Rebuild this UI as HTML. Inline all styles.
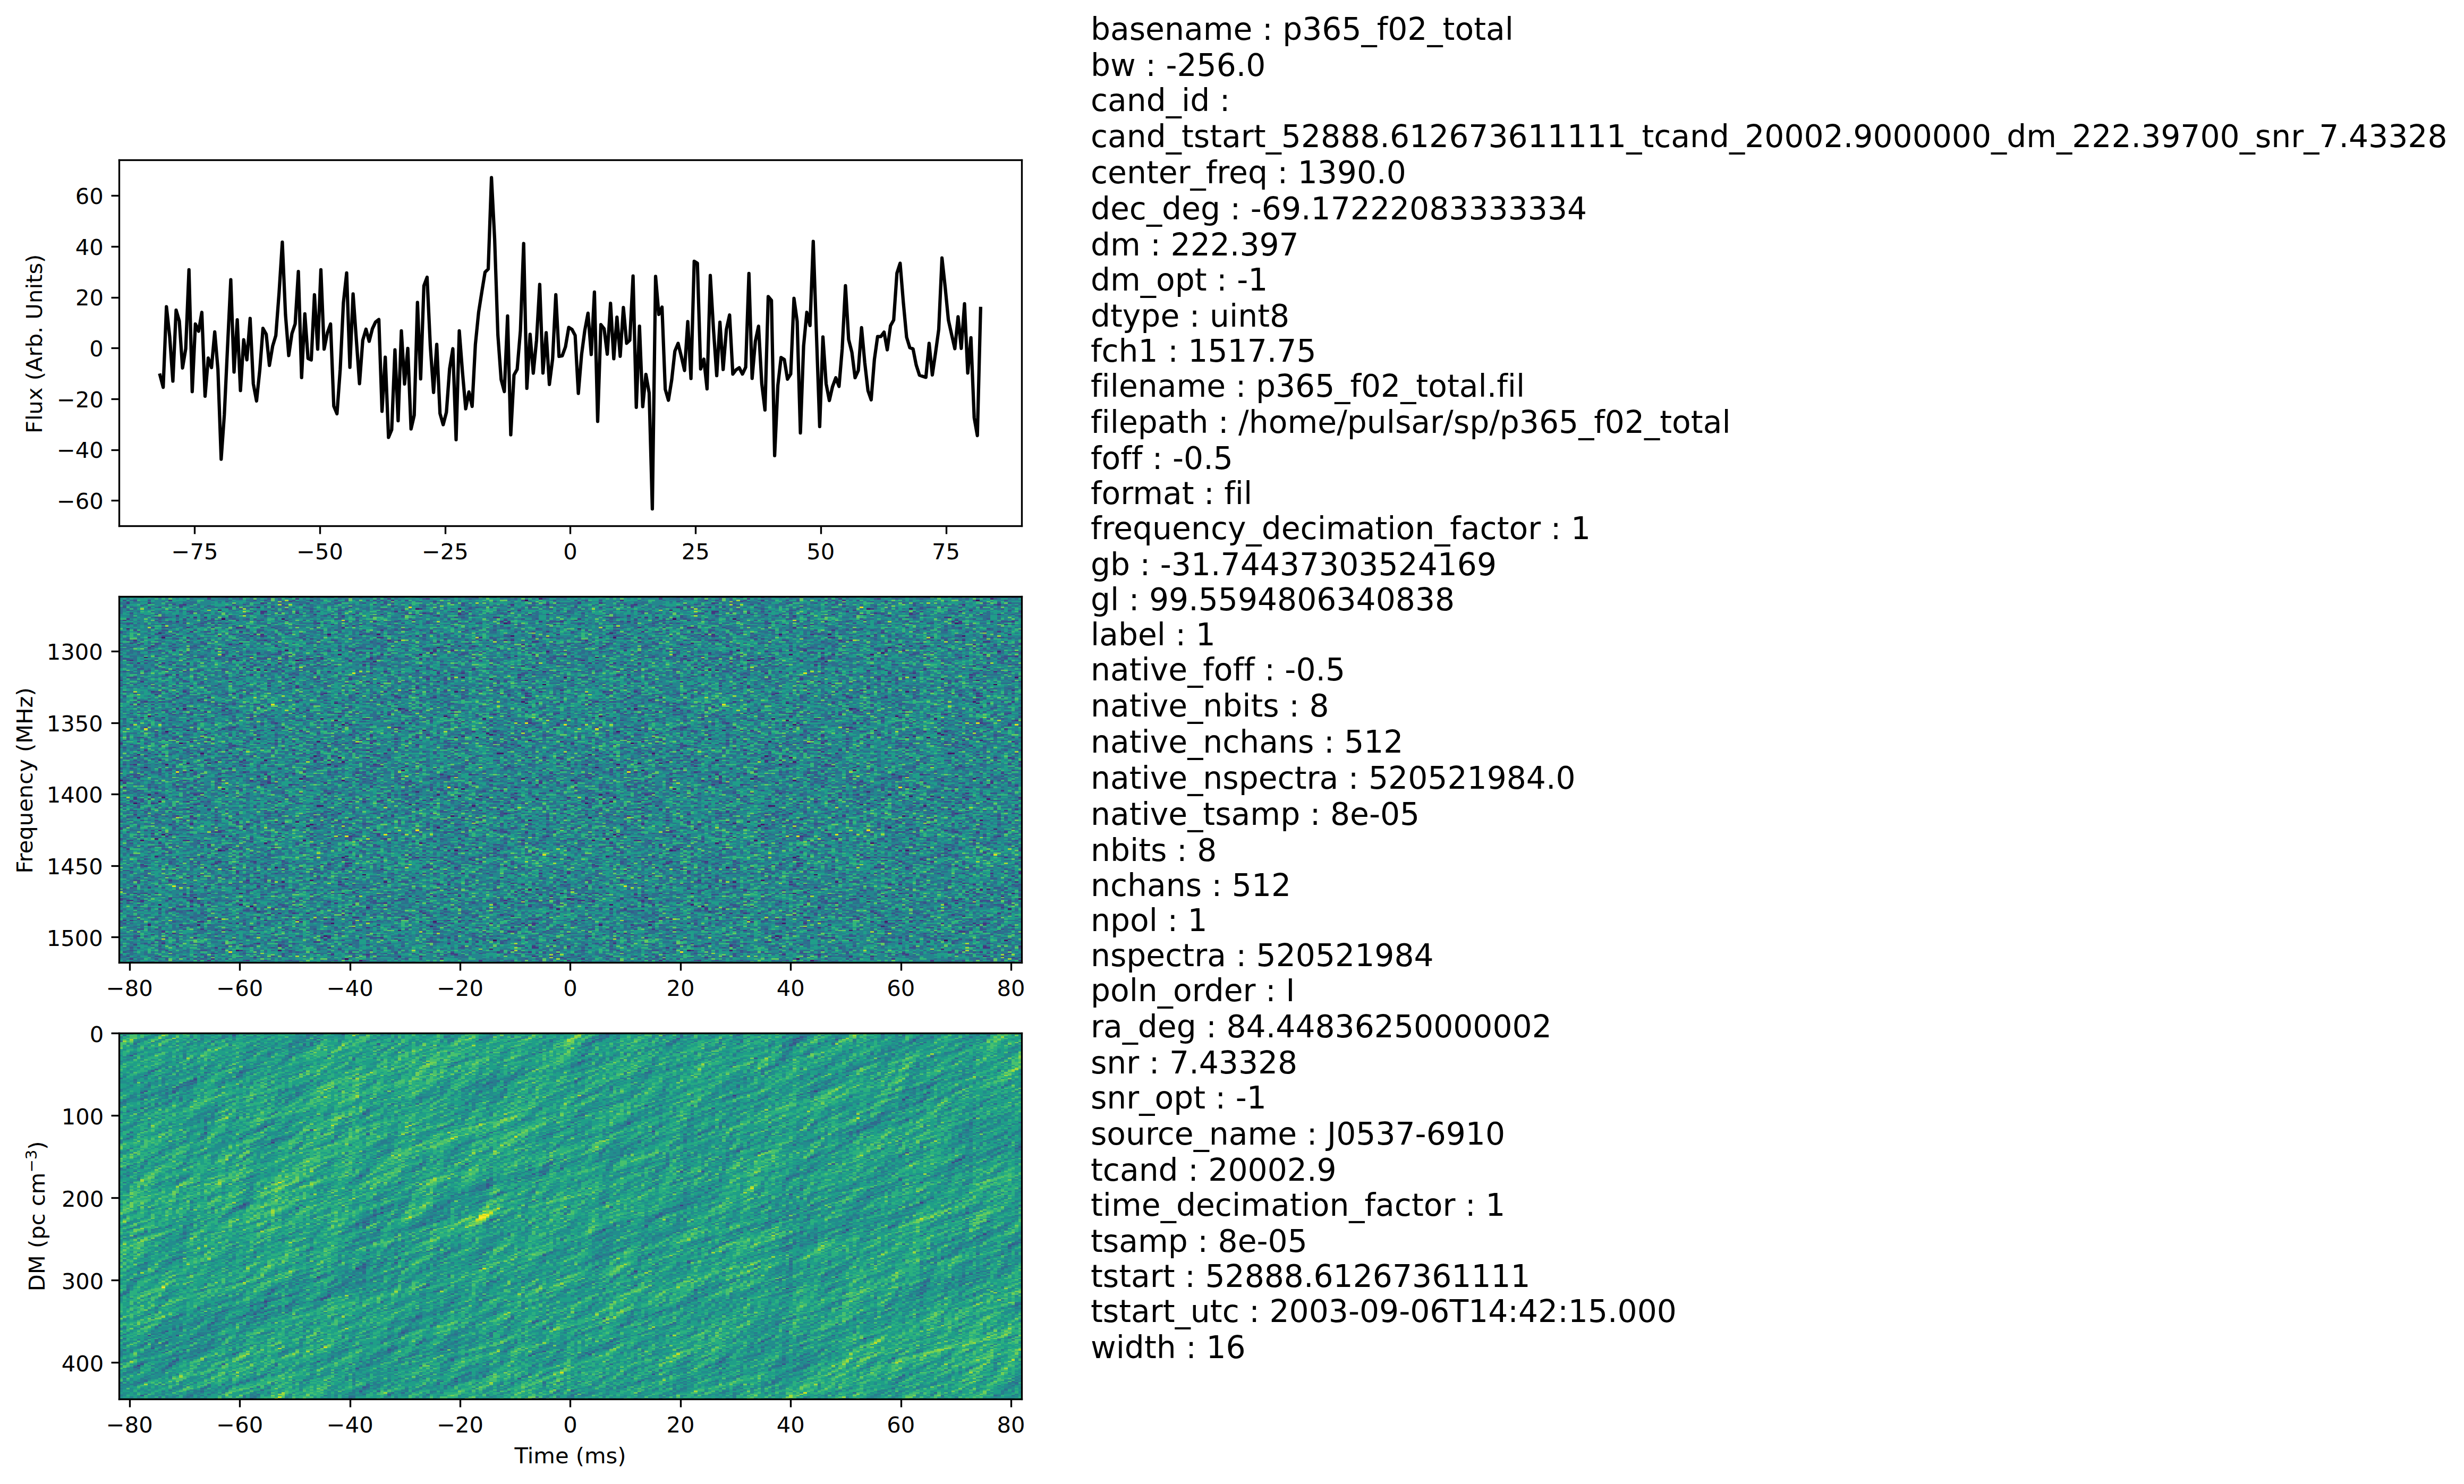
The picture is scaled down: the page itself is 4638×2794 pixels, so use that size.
<!DOCTYPE html>
<html lang="en"><head><meta charset="utf-8"><title>p365_f02_total candidate</title>
<style>
html,body{margin:0;padding:0;background:#fff}
body{width:4638px;height:2794px;overflow:hidden}
svg{display:block;position:absolute;left:0;top:0}
text{font-family:"DejaVu Sans","Liberation Sans",sans-serif;fill:#000;white-space:pre;font-variant-ligatures:none;font-feature-settings:"liga" 0,"clig" 0}
.t10{font-size:41.6667px}
.t14{font-size:58.3333px}
.t7{font-size:29.1667px}
</style></head><body>
<svg width="4638" height="2794" viewBox="0 0 4638 2794">
<rect width="4638" height="2794" fill="#fff"/>
<g id="freq-time"><clipPath id="fttclip"><rect x="0" y="0" width="256" height="256"/></clipPath><g fill="none" stroke-width="1" shape-rendering="crispEdges" transform="translate(224.5,1123.5) scale(6.636719,2.691406)" clip-path="url(#fttclip)">
<g id="ftt">
<rect x="0" y="0" width="128" height="128" fill="#24868e"/>
<path stroke="#1f9e89" d="M2 0.5h3m2 0h3m14 0h1m1 0h1m1 0h1m4 0h1m1 0h2m2 0h1m5 0h2m2 0h2m1 0h2m1 0h1m5 0h1m2 0h1m1 0h1m6 0h2m1 0h1m4 0h3m2 0h3m1 0h1m1 0h1m2 0h1m1 0h1m1 0h1m2 0h3m2 0h1m3 0h3m3 0h1M1 1.5h1m1 0h1m1 0h3m2 0h1m1 0h1m1 0h2m1 0h1m1 0h1m11 0h1m3 0h1m2 0h1m1 0h1m2 0h1m2 0h1m1 0h2m1 0h1m1 0h1m3 0h2m1 0h1m4 0h1m6 0h1m1 0h1m2 0h1m3 0h1m2 0h1m4 0h1m5 0h1m8 0h4m6 0h1m1 0h1m1 0h1m3 0h2m3 0h1M0 2.5h1m1 0h1m2 0h3m1 0h1m5 0h4m3 0h2m8 0h1m2 0h1m7 0h1m3 0h1m2 0h1m4 0h1m2 0h2m2 0h2m1 0h2m1 0h2m1 0h1m4 0h1m1 0h1m1 0h1m1 0h1m2 0h1m4 0h4m1 0h1m1 0h2m2 0h5m1 0h3m3 0h1m3 0h4M3 3.5h1m5 0h1m3 0h1m1 0h1m6 0h1m3 0h2m1 0h1m3 0h3m4 0h1m4 0h1m7 0h1m4 0h2m5 0h3m1 0h1m2 0h1m1 0h1m2 0h1m1 0h2m2 0h1m13 0h1m4 0h1m2 0h1m2 0h1m1 0h1m1 0h2m1 0h1m2 0h1m1 0h1m1 0h1m2 0h3M6 4.5h2m4 0h1m4 0h1m4 0h1m4 0h1m1 0h2m1 0h1m1 0h1m2 0h3m2 0h1m5 0h1m5 0h1m2 0h2m4 0h3m1 0h1m3 0h2m1 0h1m3 0h1m3 0h4m2 0h1m1 0h1m2 0h1m2 0h1m2 0h1m1 0h1m1 0h1m1 0h5m4 0h3m2 0h2m1 0h2M3 5.5h3m2 0h2m2 0h1m1 0h1m6 0h1m4 0h6m5 0h1m3 0h1m2 0h2m2 0h1m3 0h1m9 0h1m4 0h1m1 0h1m1 0h1m4 0h1m1 0h1m1 0h2m1 0h2m2 0h1m1 0h1m3 0h3m4 0h1m1 0h1m2 0h1m1 0h1m1 0h1m2 0h1m1 0h1m3 0h2m4 0h1m1 0h1M0 6.5h1m1 0h1m1 0h2m1 0h2m1 0h1m4 0h1m4 0h1m2 0h1m3 0h3m5 0h2m1 0h1m1 0h1m1 0h1m5 0h2m1 0h3m2 0h1m2 0h1m1 0h2m1 0h2m5 0h2m2 0h1m5 0h1m2 0h1m6 0h3m1 0h1m4 0h1m2 0h2m5 0h1m1 0h3m12 0h1M2 7.5h1m3 0h2m1 0h1m2 0h3m1 0h1m1 0h2m3 0h1m8 0h1m1 0h1m5 0h1m1 0h1m4 0h1m2 0h2m3 0h2m2 0h1m3 0h1m7 0h1m2 0h2m2 0h1m2 0h3m3 0h3m1 0h1m1 0h3m1 0h1m6 0h1m1 0h2m5 0h1m1 0h1m1 0h2m1 0h1m1 0h2m1 0h2M3 8.5h1m1 0h2m3 0h2m1 0h3m1 0h2m1 0h1m1 0h1m1 0h1m1 0h2m1 0h2m1 0h1m2 0h1m1 0h2m1 0h1m2 0h1m1 0h1m3 0h1m1 0h1m4 0h2m1 0h3m3 0h1m1 0h1m3 0h1m5 0h1m3 0h1m1 0h1m4 0h1m2 0h1m1 0h1m7 0h2m1 0h3m4 0h1m3 0h1m3 0h1m3 0h1m2 0h2M6 9.5h1m1 0h2m3 0h1m2 0h1m4 0h1m1 0h3m3 0h2m3 0h3m8 0h1m3 0h1m3 0h1m1 0h1m2 0h2m1 0h1m3 0h2m2 0h1m2 0h2m7 0h8m3 0h3m1 0h2m1 0h1m2 0h5m3 0h1m3 0h5m1 0h1m2 0h1m2 0h1M2 10.5h1m3 0h3m3 0h3m1 0h1m1 0h1m5 0h1m1 0h1m1 0h1m1 0h1m2 0h5m1 0h1m2 0h1m6 0h1m1 0h1m5 0h1m1 0h2m3 0h3m2 0h1m1 0h2m2 0h1m3 0h1m2 0h1m1 0h2m2 0h1m1 0h1m1 0h1m3 0h1m1 0h1m2 0h1m1 0h3m3 0h1m2 0h1m3 0h2m1 0h3m1 0h1m1 0h2M1 11.5h1m2 0h1m1 0h4m3 0h1m1 0h2m1 0h1m2 0h1m4 0h1m2 0h1m1 0h1m2 0h1m3 0h2m4 0h1m1 0h2m1 0h1m2 0h1m3 0h3m2 0h1m2 0h1m1 0h1m1 0h1m1 0h1m5 0h2m4 0h1m1 0h1m5 0h1m3 0h1m4 0h1m3 0h1m1 0h1m5 0h1m2 0h1m1 0h1m3 0h1m1 0h1M1 12.5h2m4 0h2m2 0h1m3 0h1m2 0h1m2 0h2m1 0h3m2 0h1m1 0h3m5 0h1m1 0h2m1 0h3m3 0h1m6 0h1m2 0h2m1 0h2m2 0h6m4 0h1m2 0h1m4 0h1m5 0h1m7 0h1m2 0h1m10 0h1m1 0h1m7 0h1m3 0h1M4 13.5h1m4 0h3m7 0h4m1 0h2m2 0h3m3 0h2m1 0h2m5 0h1m3 0h1m3 0h2m2 0h1m8 0h1m1 0h1m1 0h2m5 0h1m4 0h3m3 0h1m5 0h3m11 0h2m1 0h2m1 0h1m5 0h2m4 0h1M0 14.5h2m3 0h1m2 0h1m9 0h1m1 0h1m1 0h1m2 0h1m2 0h1m1 0h1m6 0h2m3 0h1m2 0h1m2 0h1m10 0h1m1 0h1m3 0h1m4 0h1m1 0h3m1 0h1m4 0h3m1 0h1m3 0h1m9 0h4m6 0h1m2 0h3m4 0h2m1 0h1m1 0h1m1 0h1M0 15.5h2m2 0h1m2 0h1m1 0h1m3 0h3m1 0h1m1 0h1m2 0h1m2 0h1m1 0h1m9 0h1m4 0h2m1 0h1m4 0h2m2 0h1m1 0h1m3 0h1m3 0h3m2 0h7m3 0h3m5 0h1m2 0h1m1 0h1m1 0h3m2 0h1m3 0h1m3 0h2m6 0h2m2 0h2m1 0h1m2 0h1m1 0h1M4 16.5h1m2 0h1m1 0h1m3 0h1m1 0h1m5 0h2m1 0h1m6 0h2m9 0h2m2 0h1m3 0h2m1 0h1m4 0h3m1 0h2m1 0h2m1 0h1m4 0h1m1 0h2m5 0h1m2 0h1m6 0h1m6 0h1m3 0h2m2 0h1m3 0h3m4 0h1m2 0h1m2 0h1m2 0h1M1 17.5h3m3 0h1m14 0h1m4 0h1m2 0h1m1 0h1m2 0h1m1 0h2m1 0h1m1 0h2m3 0h1m4 0h3m1 0h2m2 0h2m3 0h1m5 0h1m2 0h1m6 0h1m1 0h1m1 0h1m3 0h2m5 0h3m7 0h1m2 0h1m1 0h5m2 0h1m7 0h2M4 18.5h1m3 0h1m1 0h1m1 0h1m6 0h2m4 0h1m7 0h1m2 0h2m4 0h1m2 0h5m7 0h1m2 0h2m1 0h2m3 0h1m1 0h1m1 0h2m1 0h1m2 0h2m1 0h2m2 0h1m5 0h3m1 0h1m3 0h2m2 0h1m1 0h1m1 0h1m4 0h1m1 0h2m2 0h1m4 0h2m1 0h2M0 19.5h1m7 0h1m6 0h1m4 0h1m3 0h1m1 0h1m1 0h1m2 0h2m2 0h1m1 0h2m4 0h3m2 0h1m1 0h3m1 0h1m1 0h3m5 0h1m1 0h1m6 0h2m5 0h1m2 0h1m1 0h1m1 0h2m1 0h1m3 0h3m4 0h1m1 0h2m3 0h1m2 0h2m2 0h1m4 0h3M1 20.5h1m1 0h1m2 0h1m2 0h3m1 0h1m5 0h1m1 0h1m11 0h2m1 0h1m2 0h3m5 0h1m9 0h1m1 0h2m2 0h1m4 0h2m5 0h2m7 0h2m5 0h1m1 0h1m1 0h3m1 0h3m1 0h1m1 0h1m3 0h2m8 0h1m2 0h5M0 21.5h1m1 0h1m1 0h1m1 0h1m1 0h1m1 0h2m5 0h1m3 0h1m1 0h1m1 0h1m1 0h2m2 0h1m4 0h4m8 0h1m1 0h1m2 0h1m2 0h1m1 0h1m5 0h3m2 0h4m4 0h1m2 0h2m2 0h3m1 0h7m1 0h2m1 0h1m3 0h2m7 0h1m2 0h3m7 0h1M0 22.5h1m9 0h2m1 0h1m1 0h2m2 0h2m1 0h3m1 0h3m1 0h2m5 0h2m2 0h1m1 0h1m4 0h1m3 0h1m1 0h1m2 0h2m7 0h1m1 0h4m4 0h1m2 0h1m8 0h1m3 0h1m1 0h1m1 0h1m6 0h1m7 0h1m2 0h1m1 0h2m5 0h1m2 0h2M0 23.5h2m1 0h1m1 0h1m3 0h1m4 0h1m1 0h1m1 0h1m1 0h1m1 0h3m1 0h1m1 0h3m2 0h1m3 0h2m3 0h3m6 0h1m6 0h1m4 0h1m6 0h2m11 0h1m5 0h2m2 0h2m2 0h1m4 0h2m3 0h3m13 0h1m1 0h2M3 24.5h1m2 0h2m2 0h1m3 0h1m4 0h1m1 0h2m3 0h1m1 0h3m2 0h1m4 0h1m5 0h1m2 0h1m1 0h4m3 0h1m1 0h1m1 0h2m1 0h1m1 0h1m4 0h1m2 0h1m1 0h1m2 0h1m1 0h2m2 0h1m4 0h1m2 0h1m1 0h1m1 0h1m3 0h2m2 0h1m3 0h2m3 0h1m1 0h1m2 0h2m3 0h1m1 0h3M2 25.5h4m2 0h2m3 0h1m1 0h1m1 0h1m7 0h2m1 0h1m1 0h1m1 0h2m1 0h2m3 0h1m3 0h2m4 0h1m1 0h2m4 0h1m1 0h2m3 0h1m1 0h1m7 0h1m3 0h2m2 0h2m1 0h1m4 0h1m3 0h3m2 0h1m2 0h1m4 0h3m2 0h2m1 0h2m3 0h2m1 0h2M3 26.5h1m1 0h1m3 0h1m6 0h2m4 0h2m4 0h1m1 0h1m6 0h1m1 0h1m1 0h1m3 0h2m2 0h2m5 0h1m5 0h1m1 0h2m9 0h1m5 0h2m1 0h1m3 0h1m2 0h1m3 0h1m2 0h3m1 0h2m4 0h1m3 0h1m5 0h2m2 0h2m1 0h3M1 27.5h3m3 0h1m2 0h1m4 0h1m2 0h3m2 0h5m1 0h1m1 0h2m9 0h1m3 0h2m2 0h1m2 0h1m4 0h1m2 0h1m2 0h1m4 0h2m4 0h3m2 0h1m4 0h1m2 0h1m5 0h1m1 0h1m3 0h1m2 0h2m1 0h1m9 0h1m4 0h1m1 0h1M1 28.5h1m1 0h2m1 0h2m2 0h1m2 0h2m2 0h2m9 0h1m2 0h2m1 0h1m4 0h1m2 0h2m2 0h3m6 0h1m2 0h5m8 0h2m3 0h1m1 0h1m9 0h2m2 0h1m3 0h1m1 0h4m1 0h2m9 0h1m1 0h1M0 29.5h1m2 0h2m3 0h4m6 0h1m5 0h1m1 0h1m1 0h1m3 0h2m1 0h1m7 0h1m6 0h1m2 0h1m4 0h2m3 0h1m1 0h1m5 0h1m1 0h1m2 0h1m1 0h2m2 0h1m1 0h1m4 0h2m9 0h1m1 0h3m2 0h2m4 0h1m4 0h1m1 0h4M5 30.5h1m1 0h3m3 0h2m1 0h2m1 0h1m2 0h2m2 0h1m3 0h2m5 0h1m8 0h3m2 0h1m3 0h1m1 0h2m5 0h1m2 0h2m1 0h1m9 0h2m1 0h1m5 0h1m1 0h1m1 0h2m6 0h1m3 0h1m8 0h1m6 0h1m1 0h3m1 0h1M0 31.5h3m3 0h2m1 0h2m4 0h1m2 0h1m2 0h1m3 0h1m1 0h1m4 0h1m1 0h3m1 0h1m4 0h1m1 0h8m3 0h1m2 0h2m3 0h2m9 0h1m2 0h1m4 0h2m2 0h1m1 0h1m3 0h1m3 0h2m1 0h3m3 0h1m2 0h2m1 0h1m3 0h1m4 0h2m1 0h2m1 0h1M5 32.5h1m1 0h1m4 0h1m12 0h3m5 0h1m5 0h1m1 0h2m1 0h1m2 0h2m1 0h3m14 0h2m7 0h2m1 0h3m2 0h1m8 0h1m7 0h1m8 0h1m4 0h1m3 0h1m3 0h3M0 33.5h1m3 0h1m2 0h1m1 0h1m2 0h2m3 0h1m9 0h3m5 0h2m2 0h1m1 0h2m2 0h1m2 0h3m1 0h1m2 0h1m1 0h1m2 0h2m1 0h1m2 0h1m9 0h1m2 0h1m2 0h2m3 0h5m2 0h1m5 0h3m1 0h1m2 0h1m1 0h1m2 0h2m1 0h1m1 0h1m3 0h1M6 34.5h1m12 0h1m3 0h1m1 0h1m3 0h2m5 0h1m1 0h1m1 0h1m2 0h1m4 0h1m1 0h2m1 0h1m1 0h1m2 0h2m1 0h1m1 0h1m1 0h1m1 0h1m2 0h1m2 0h1m3 0h2m4 0h2m1 0h2m4 0h2m4 0h1m3 0h1m3 0h3m2 0h1m2 0h1m2 0h1m7 0h1m1 0h1M0 35.5h2m3 0h1m1 0h1m3 0h1m1 0h1m10 0h2m1 0h1m4 0h1m1 0h1m1 0h1m2 0h1m1 0h4m1 0h2m4 0h1m3 0h2m8 0h1m6 0h1m2 0h1m3 0h1m1 0h2m9 0h1m2 0h1m7 0h1m2 0h3m3 0h1m2 0h1m1 0h1m2 0h1m1 0h1M4 36.5h3m3 0h3m4 0h1m1 0h1m4 0h1m2 0h2m1 0h1m4 0h1m1 0h1m1 0h8m1 0h1m1 0h1m4 0h1m2 0h1m1 0h1m2 0h1m8 0h1m2 0h2m1 0h2m3 0h2m16 0h1m1 0h2m3 0h1m1 0h2m1 0h1m1 0h1m2 0h1m8 0h1M2 37.5h1m2 0h1m3 0h1m3 0h2m1 0h4m2 0h1m3 0h1m5 0h1m2 0h1m6 0h2m2 0h1m1 0h1m1 0h1m2 0h2m2 0h1m2 0h2m1 0h1m3 0h6m3 0h3m1 0h1m1 0h1m1 0h2m2 0h1m1 0h1m1 0h1m2 0h3m1 0h3m3 0h2m3 0h1m3 0h1m8 0h2m1 0h1M0 38.5h1m6 0h1m6 0h1m1 0h1m1 0h1m2 0h1m1 0h1m2 0h1m1 0h2m1 0h1m1 0h1m9 0h2m3 0h1m1 0h1m1 0h1m1 0h1m10 0h1m13 0h2m2 0h1m1 0h2m3 0h1m2 0h1m8 0h1m1 0h2m3 0h1m3 0h1m1 0h1m1 0h1m2 0h1M1 39.5h1m4 0h2m4 0h1m1 0h3m9 0h3m3 0h1m14 0h3m2 0h3m2 0h2m1 0h3m1 0h1m1 0h1m3 0h1m2 0h1m1 0h1m1 0h2m5 0h1m2 0h1m5 0h2m4 0h1m1 0h1m1 0h1m3 0h1m3 0h1m1 0h1m1 0h1m1 0h4m2 0h1m1 0h2M0 40.5h1m8 0h1m5 0h3m1 0h1m8 0h1m2 0h3m1 0h4m7 0h1m2 0h1m3 0h1m4 0h1m4 0h2m3 0h1m1 0h1m1 0h2m1 0h2m3 0h3m3 0h1m2 0h1m2 0h1m2 0h1m4 0h3m1 0h1m2 0h1m5 0h4m1 0h1m5 0h1m1 0h1M1 41.5h2m4 0h1m1 0h1m2 0h2m4 0h1m2 0h1m8 0h2m1 0h2m3 0h3m2 0h1m1 0h1m2 0h2m5 0h2m2 0h1m2 0h1m1 0h1m1 0h1m3 0h1m8 0h2m1 0h2m2 0h2m3 0h2m5 0h1m3 0h2m3 0h1m3 0h1m4 0h1m1 0h1m2 0h1m5 0h1M2 42.5h1m2 0h2m2 0h3m5 0h1m1 0h1m6 0h1m10 0h2m6 0h1m5 0h1m2 0h1m3 0h1m1 0h1m4 0h1m3 0h2m4 0h1m1 0h1m5 0h3m2 0h1m1 0h5m1 0h1m2 0h2m2 0h2m1 0h1m1 0h1m3 0h1m3 0h1m2 0h1m4 0h1m2 0h1M5 43.5h1m1 0h2m2 0h2m2 0h1m1 0h2m2 0h2m1 0h1m1 0h1m8 0h1m2 0h1m3 0h1m2 0h2m3 0h1m8 0h4m4 0h3m14 0h1m1 0h1m3 0h1m6 0h1m2 0h1m1 0h1m10 0h2m1 0h1m3 0h1m3 0h1M1 44.5h1m3 0h2m3 0h1m4 0h3m3 0h2m3 0h2m4 0h1m2 0h1m1 0h1m3 0h2m1 0h1m3 0h1m5 0h1m3 0h1m1 0h2m4 0h1m1 0h1m4 0h4m6 0h1m2 0h1m1 0h1m4 0h2m6 0h1m1 0h2m4 0h1m1 0h3m9 0h1m1 0h2M2 45.5h2m1 0h1m1 0h1m3 0h2m5 0h3m1 0h3m2 0h1m2 0h1m1 0h4m1 0h1m1 0h1m2 0h1m2 0h1m2 0h4m8 0h4m9 0h1m1 0h1m1 0h2m2 0h1m1 0h3m3 0h2m5 0h1m1 0h1m1 0h1m3 0h1m3 0h1m1 0h4m2 0h2m2 0h1m2 0h1M1 46.5h1m4 0h1m4 0h1m4 0h1m3 0h1m2 0h1m1 0h1m1 0h3m2 0h3m1 0h1m3 0h1m1 0h3m3 0h2m3 0h1m2 0h1m2 0h1m5 0h1m4 0h1m9 0h1m3 0h4m2 0h1m1 0h6m2 0h6m3 0h3m1 0h1m1 0h1m1 0h1m1 0h2m6 0h1M2 47.5h2m6 0h1m4 0h1m2 0h1m1 0h1m1 0h1m4 0h2m4 0h1m2 0h2m3 0h1m1 0h1m3 0h1m1 0h1m1 0h1m2 0h2m1 0h2m1 0h3m1 0h2m2 0h1m7 0h1m6 0h1m5 0h2m6 0h1m2 0h5m1 0h2m3 0h1m1 0h2m6 0h1M3 48.5h1m7 0h2m6 0h1m2 0h3m1 0h1m1 0h1m2 0h3m1 0h1m4 0h1m4 0h1m1 0h1m3 0h2m11 0h1m3 0h1m1 0h1m6 0h2m9 0h1m1 0h1m2 0h1m8 0h3m3 0h1m1 0h1m4 0h1m3 0h1m3 0h3m1 0h1M5 49.5h1m5 0h3m1 0h2m5 0h3m1 0h2m1 0h1m4 0h1m1 0h1m1 0h2m5 0h1m2 0h2m1 0h1m3 0h1m6 0h2m6 0h1m3 0h1m7 0h1m2 0h2m1 0h2m4 0h2m5 0h1m1 0h1m1 0h1m1 0h2m2 0h5m2 0h1m1 0h3M0 50.5h2m2 0h1m4 0h1m4 0h1m3 0h1m1 0h2m3 0h1m6 0h1m1 0h2m1 0h2m1 0h1m2 0h1m2 0h1m2 0h1m8 0h1m2 0h2m2 0h1m4 0h1m1 0h3m1 0h1m3 0h3m1 0h1m4 0h2m5 0h1m2 0h1m9 0h1m4 0h4m1 0h1m3 0h1m2 0h2M0 51.5h4m2 0h1m3 0h1m7 0h1m1 0h1m3 0h2m1 0h2m3 0h2m4 0h1m1 0h1m6 0h2m2 0h1m4 0h6m2 0h3m1 0h1m1 0h1m2 0h2m2 0h3m1 0h2m9 0h1m3 0h1m4 0h5m3 0h2m6 0h2m1 0h1m1 0h4M4 52.5h1m1 0h1m2 0h2m1 0h2m1 0h1m1 0h1m5 0h1m2 0h1m3 0h1m2 0h1m2 0h2m1 0h1m1 0h2m4 0h1m5 0h1m2 0h1m5 0h1m1 0h1m1 0h1m1 0h1m1 0h1m6 0h1m2 0h4m1 0h2m1 0h2m2 0h1m5 0h2m3 0h2m1 0h3m14 0h1m2 0h2M2 53.5h1m3 0h1m1 0h2m1 0h2m8 0h3m6 0h2m1 0h1m2 0h1m2 0h1m6 0h1m4 0h1m2 0h1m1 0h1m5 0h1m2 0h2m7 0h1m2 0h2m1 0h1m5 0h1m1 0h2m1 0h1m1 0h1m5 0h1m4 0h1m6 0h2m8 0h1m3 0h1m1 0h1M0 54.5h1m1 0h3m4 0h1m1 0h1m3 0h1m1 0h1m2 0h1m2 0h1m1 0h2m4 0h2m1 0h2m2 0h2m1 0h1m2 0h1m2 0h1m5 0h1m2 0h2m1 0h1m1 0h1m1 0h4m6 0h1m1 0h3m9 0h1m1 0h1m2 0h2m5 0h1m2 0h1m2 0h1m4 0h1m4 0h2m6 0h1m3 0h1M2 55.5h2m2 0h3m5 0h1m5 0h1m3 0h1m1 0h1m1 0h1m2 0h1m1 0h1m5 0h1m1 0h1m2 0h2m1 0h2m6 0h1m1 0h1m2 0h2m5 0h1m1 0h1m2 0h1m2 0h1m2 0h1m3 0h1m11 0h2m6 0h5m2 0h2m1 0h1m2 0h1m1 0h2m5 0h1M1 56.5h1m5 0h1m3 0h1m2 0h2m2 0h3m1 0h1m1 0h1m9 0h1m1 0h2m1 0h1m4 0h2m1 0h1m4 0h1m2 0h1m3 0h1m1 0h1m1 0h2m4 0h1m1 0h1m1 0h2m4 0h2m1 0h2m1 0h1m2 0h1m1 0h1m2 0h1m1 0h1m2 0h4m3 0h1m1 0h1m1 0h4m3 0h1m5 0h1m4 0h1M2 57.5h1m2 0h1m2 0h4m1 0h2m1 0h1m1 0h1m1 0h1m3 0h1m11 0h2m4 0h1m6 0h1m1 0h1m1 0h1m3 0h2m4 0h1m6 0h1m1 0h2m5 0h1m2 0h1m5 0h1m4 0h1m5 0h1m1 0h2m1 0h1m6 0h1m2 0h1m5 0h1m1 0h1m4 0h1M1 58.5h2m6 0h1m1 0h4m1 0h1m3 0h1m2 0h1m3 0h1m1 0h4m3 0h1m1 0h1m6 0h1m3 0h1m1 0h2m3 0h1m5 0h2m2 0h2m1 0h1m4 0h2m1 0h1m2 0h1m2 0h1m2 0h1m1 0h3m4 0h1m1 0h1m2 0h1m2 0h3m6 0h1m5 0h1m1 0h1m5 0h2M3 59.5h2m2 0h1m3 0h2m1 0h1m5 0h2m2 0h1m2 0h3m3 0h2m1 0h1m1 0h3m4 0h1m1 0h2m1 0h1m7 0h1m5 0h5m3 0h1m4 0h1m1 0h1m3 0h1m2 0h1m4 0h1m3 0h1m1 0h1m1 0h2m3 0h2m4 0h2m2 0h2m2 0h2m1 0h1M1 60.5h2m7 0h1m3 0h2m1 0h3m1 0h1m9 0h1m1 0h3m1 0h2m2 0h1m1 0h1m2 0h1m3 0h1m3 0h1m2 0h1m3 0h2m4 0h2m1 0h1m1 0h1m1 0h4m6 0h1m3 0h1m5 0h1m6 0h2m3 0h1m1 0h2m1 0h2m4 0h1m1 0h3m3 0h2M3 61.5h1m1 0h1m1 0h1m1 0h1m1 0h1m3 0h1m5 0h1m11 0h2m1 0h3m1 0h2m3 0h2m1 0h1m1 0h2m2 0h1m5 0h2m2 0h2m1 0h1m1 0h1m3 0h1m6 0h2m6 0h1m1 0h1m7 0h1m8 0h3m11 0h4M1 62.5h1m1 0h1m4 0h1m2 0h1m2 0h1m1 0h2m1 0h1m1 0h1m2 0h2m5 0h1m4 0h2m1 0h1m1 0h1m2 0h2m3 0h1m5 0h1m3 0h1m1 0h1m1 0h1m1 0h2m2 0h1m2 0h1m1 0h1m1 0h1m2 0h1m3 0h1m2 0h1m4 0h1m1 0h1m7 0h1m4 0h1m2 0h1m1 0h5m3 0h4m3 0h1M0 63.5h2m4 0h1m1 0h2m2 0h2m6 0h1m1 0h2m3 0h1m3 0h1m8 0h2m4 0h1m10 0h1m2 0h3m2 0h1m9 0h1m3 0h1m3 0h1m2 0h1m2 0h1m2 0h1m1 0h2m1 0h1m2 0h1m2 0h2m6 0h1m1 0h1m2 0h1m1 0h2m6 0h1M1 64.5h2m1 0h2m2 0h3m1 0h2m2 0h2m2 0h1m1 0h3m5 0h2m1 0h1m1 0h1m4 0h2m1 0h1m2 0h1m2 0h3m3 0h1m1 0h1m4 0h1m4 0h1m2 0h1m1 0h1m2 0h1m2 0h1m3 0h2m6 0h1m8 0h1m1 0h3m4 0h1m1 0h1m4 0h2M1 65.5h2m1 0h4m3 0h1m2 0h2m5 0h1m1 0h2m6 0h2m8 0h1m7 0h2m1 0h2m1 0h4m1 0h2m1 0h1m1 0h2m3 0h1m1 0h2m3 0h1m1 0h1m1 0h1m2 0h2m2 0h1m1 0h2m1 0h1m2 0h2m1 0h2m3 0h2m2 0h1m8 0h1m1 0h2m1 0h1m4 0h1M4 66.5h2m1 0h1m4 0h1m1 0h1m1 0h1m3 0h2m2 0h3m1 0h1m2 0h2m2 0h1m2 0h2m4 0h1m2 0h1m1 0h1m1 0h1m4 0h1m2 0h2m2 0h1m1 0h1m1 0h2m1 0h1m2 0h2m1 0h1m6 0h2m1 0h1m1 0h1m1 0h1m3 0h1m5 0h2m1 0h1m3 0h2m3 0h1m3 0h2m4 0h1m3 0h2M0 67.5h2m1 0h1m3 0h2m3 0h2m1 0h1m1 0h1m4 0h4m7 0h3m1 0h2m2 0h2m5 0h2m4 0h1m6 0h1m1 0h1m1 0h1m3 0h2m4 0h2m1 0h1m7 0h1m3 0h1m3 0h1m4 0h1m2 0h4m2 0h1m4 0h1m3 0h1m2 0h1m1 0h1m1 0h1m2 0h1M1 68.5h1m1 0h7m1 0h1m8 0h3m8 0h1m1 0h1m1 0h1m2 0h1m1 0h2m2 0h2m5 0h1m1 0h1m4 0h4m2 0h1m3 0h1m3 0h1m1 0h2m10 0h1m7 0h1m3 0h2m2 0h2m3 0h1m4 0h2m6 0h1m5 0h1M2 69.5h5m2 0h1m1 0h1m4 0h1m7 0h1m1 0h2m3 0h3m4 0h1m1 0h3m2 0h4m2 0h2m1 0h1m1 0h1m3 0h1m3 0h1m2 0h1m1 0h1m10 0h1m1 0h1m2 0h2m8 0h2m11 0h2m3 0h2m2 0h6m4 0h1M0 70.5h1m1 0h2m1 0h4m1 0h1m1 0h2m1 0h1m2 0h2m2 0h2m2 0h3m1 0h1m1 0h1m3 0h3m2 0h1m1 0h2m3 0h1m6 0h1m5 0h2m5 0h1m1 0h1m1 0h1m3 0h2m4 0h3m2 0h1m3 0h1m4 0h1m2 0h1m4 0h2m2 0h2m1 0h1m2 0h2m2 0h1m1 0h2m1 0h2m1 0h1M3 71.5h1m1 0h1m1 0h1m5 0h2m9 0h1m2 0h3m3 0h1m1 0h6m1 0h1m1 0h1m4 0h2m1 0h1m1 0h2m3 0h1m2 0h1m1 0h1m3 0h1m8 0h1m2 0h2m1 0h1m11 0h1m4 0h1m4 0h1m4 0h1m1 0h1m5 0h2m1 0h3m2 0h2M2 72.5h3m3 0h2m1 0h2m4 0h1m6 0h2m1 0h2m1 0h2m2 0h1m1 0h1m1 0h1m3 0h3m1 0h3m5 0h2m1 0h1m2 0h3m4 0h1m3 0h1m10 0h2m6 0h1m6 0h1m2 0h2m1 0h3m1 0h1m9 0h1m8 0h1M2 73.5h1m2 0h1m9 0h1m3 0h1m6 0h1m2 0h2m2 0h4m1 0h2m2 0h3m7 0h1m1 0h2m3 0h2m2 0h1m2 0h1m1 0h1m7 0h1m2 0h1m4 0h1m2 0h1m3 0h1m2 0h8m2 0h1m2 0h1m3 0h1m4 0h2m1 0h1m1 0h1m1 0h2m1 0h1M0 74.5h3m1 0h1m2 0h1m1 0h1m1 0h3m4 0h1m16 0h1m1 0h3m3 0h1m7 0h1m1 0h1m3 0h1m2 0h1m8 0h2m1 0h1m3 0h3m2 0h2m1 0h2m1 0h1m2 0h1m5 0h2m3 0h3m1 0h1m4 0h1m1 0h2m3 0h1m1 0h1m3 0h1M0 75.5h3m1 0h1m3 0h1m1 0h1m2 0h1m8 0h2m4 0h1m11 0h2m1 0h2m1 0h1m2 0h3m1 0h1m3 0h2m1 0h2m2 0h4m5 0h1m2 0h2m2 0h1m2 0h1m2 0h1m1 0h1m3 0h1m5 0h1m1 0h1m1 0h3m5 0h3m2 0h3m1 0h1m5 0h1M0 76.5h2m1 0h1m3 0h1m1 0h1m1 0h1m1 0h1m2 0h1m2 0h2m1 0h1m1 0h2m5 0h1m2 0h2m1 0h1m3 0h1m1 0h2m3 0h3m4 0h3m3 0h2m4 0h4m3 0h2m1 0h2m3 0h1m1 0h1m1 0h2m1 0h1m2 0h1m1 0h1m3 0h1m2 0h1m4 0h3m3 0h2m3 0h1m3 0h2m1 0h4M5 77.5h1m2 0h1m1 0h2m1 0h2m2 0h1m3 0h1m2 0h1m2 0h2m2 0h4m2 0h1m1 0h1m2 0h1m2 0h2m1 0h1m1 0h1m1 0h1m2 0h1m2 0h2m2 0h3m2 0h1m2 0h2m11 0h3m1 0h1m2 0h2m2 0h1m2 0h1m3 0h1m2 0h1m1 0h2m3 0h1m2 0h1m2 0h1m6 0h3M0 78.5h1m1 0h3m1 0h1m1 0h1m1 0h1m4 0h1m1 0h1m4 0h1m3 0h1m6 0h1m3 0h1m1 0h2m1 0h3m1 0h4m5 0h2m4 0h1m1 0h1m3 0h1m4 0h1m2 0h1m1 0h1m5 0h1m1 0h1m1 0h2m5 0h1m2 0h2m1 0h1m3 0h2m1 0h1m3 0h1m1 0h1m1 0h1m2 0h1m2 0h1m3 0h1M2 79.5h1m5 0h1m5 0h2m4 0h2m1 0h1m1 0h2m3 0h1m4 0h3m1 0h4m1 0h1m1 0h4m1 0h1m2 0h4m2 0h3m3 0h1m2 0h1m5 0h2m1 0h1m3 0h1m4 0h1m5 0h1m2 0h1m3 0h2m2 0h2m1 0h1m1 0h1m3 0h1m2 0h2m2 0h2m1 0h3M0 80.5h1m4 0h1m1 0h1m4 0h1m3 0h1m1 0h2m5 0h1m9 0h1m2 0h1m1 0h1m5 0h1m2 0h1m4 0h1m6 0h2m1 0h2m2 0h1m2 0h1m1 0h1m1 0h1m3 0h1m3 0h1m2 0h1m3 0h1m2 0h4m2 0h1m6 0h2m4 0h3m1 0h1m1 0h2M1 81.5h2m1 0h1m5 0h3m2 0h2m2 0h1m4 0h1m3 0h1m7 0h1m1 0h2m3 0h2m1 0h1m1 0h1m1 0h1m1 0h1m3 0h1m1 0h1m6 0h1m1 0h1m5 0h1m3 0h1m6 0h1m2 0h1m3 0h2m4 0h1m1 0h1m1 0h4m3 0h2m1 0h1m3 0h1m1 0h3m2 0h1m2 0h2M4 82.5h2m1 0h3m1 0h1m1 0h1m4 0h1m2 0h3m1 0h2m6 0h2m7 0h1m2 0h1m3 0h1m1 0h1m4 0h6m2 0h1m4 0h2m4 0h1m1 0h1m1 0h2m3 0h1m3 0h1m5 0h3m2 0h1m2 0h1m1 0h1m8 0h1m1 0h4m2 0h2M1 83.5h1m3 0h3m2 0h3m7 0h2m3 0h2m3 0h1m2 0h2m3 0h1m5 0h1m5 0h1m1 0h1m2 0h1m8 0h2m1 0h1m1 0h1m4 0h1m5 0h4m1 0h1m3 0h1m5 0h3m5 0h3m2 0h1m4 0h6m4 0h3M0 84.5h2m5 0h1m1 0h1m3 0h1m3 0h2m3 0h1m1 0h2m2 0h1m4 0h1m1 0h2m6 0h2m1 0h2m2 0h3m1 0h1m2 0h1m3 0h1m1 0h1m5 0h3m3 0h1m1 0h2m2 0h1m3 0h2m2 0h4m2 0h1m3 0h1m4 0h3m8 0h4m1 0h1m1 0h1m1 0h1M2 85.5h2m3 0h1m5 0h1m5 0h1m7 0h1m1 0h2m10 0h1m10 0h1m6 0h2m1 0h2m1 0h3m10 0h1m1 0h1m1 0h1m2 0h1m5 0h2m1 0h1m1 0h2m4 0h1m1 0h1m2 0h2m6 0h1m1 0h1m1 0h1m5 0h1m1 0h1M0 86.5h1m1 0h1m3 0h1m1 0h2m2 0h1m4 0h2m2 0h3m6 0h1m3 0h2m3 0h1m1 0h1m4 0h1m1 0h2m3 0h1m2 0h1m1 0h3m1 0h2m3 0h1m2 0h1m2 0h1m1 0h3m2 0h1m6 0h1m2 0h6m1 0h1m1 0h3m7 0h1m2 0h1m5 0h4m5 0h1M0 87.5h1m1 0h2m1 0h2m2 0h2m3 0h1m3 0h1m8 0h1m3 0h1m2 0h4m1 0h3m7 0h3m2 0h2m1 0h1m1 0h1m6 0h1m5 0h2m1 0h1m1 0h2m2 0h2m2 0h3m1 0h3m4 0h1m1 0h1m1 0h5m1 0h1m3 0h1m9 0h1m1 0h1M3 88.5h2m1 0h2m1 0h1m1 0h1m8 0h1m2 0h2m2 0h3m1 0h1m1 0h2m1 0h1m9 0h1m1 0h1m2 0h1m2 0h1m8 0h1m2 0h5m10 0h1m5 0h1m1 0h2m3 0h1m2 0h2m1 0h4m1 0h1m5 0h2m2 0h1m4 0h2M4 89.5h1m4 0h1m1 0h1m1 0h1m1 0h1m1 0h1m4 0h4m1 0h2m1 0h1m1 0h1m1 0h1m6 0h2m3 0h1m2 0h3m2 0h2m1 0h1m1 0h1m1 0h1m2 0h1m18 0h1m3 0h3m2 0h1m1 0h2m1 0h1m1 0h2m3 0h1m1 0h1m2 0h2m2 0h1m6 0h1m4 0h2M4 90.5h2m3 0h3m4 0h1m6 0h1m3 0h3m5 0h2m2 0h1m1 0h1m1 0h1m2 0h2m4 0h1m1 0h1m6 0h1m7 0h1m1 0h2m5 0h1m1 0h2m1 0h2m4 0h1m5 0h1m2 0h1m1 0h2m9 0h1m3 0h1m4 0h2M1 91.5h1m3 0h1m2 0h1m2 0h1m8 0h1m1 0h2m2 0h1m1 0h1m13 0h1m4 0h3m2 0h1m3 0h2m4 0h1m1 0h1m2 0h1m2 0h3m1 0h3m5 0h1m1 0h3m4 0h1m2 0h5m1 0h1m1 0h2m1 0h1m5 0h1m1 0h1m6 0h1m2 0h3m1 0h1M1 92.5h2m1 0h2m1 0h1m6 0h1m1 0h2m4 0h1m1 0h2m1 0h1m5 0h1m1 0h2m2 0h1m1 0h1m6 0h2m1 0h3m7 0h1m1 0h2m8 0h2m3 0h1m2 0h3m2 0h1m2 0h1m2 0h3m5 0h2m2 0h1m2 0h2m2 0h1m2 0h3m1 0h1m3 0h1m4 0h1M0 93.5h1m2 0h1m1 0h3m2 0h2m1 0h1m10 0h4m9 0h2m3 0h1m3 0h2m2 0h1m1 0h1m4 0h1m2 0h1m1 0h1m1 0h2m1 0h1m2 0h1m1 0h3m2 0h1m1 0h2m4 0h1m3 0h1m4 0h1m1 0h1m3 0h2m1 0h2m8 0h1m2 0h2m2 0h1m1 0h1m1 0h1m2 0h1M0 94.5h4m2 0h1m4 0h1m3 0h2m1 0h1m3 0h2m2 0h1m5 0h1m8 0h1m6 0h1m4 0h1m3 0h2m2 0h1m1 0h3m2 0h2m1 0h4m3 0h1m6 0h1m2 0h2m2 0h1m4 0h1m6 0h1m5 0h1m2 0h1m2 0h1m2 0h1m1 0h1m2 0h2M1 95.5h1m3 0h1m1 0h3m4 0h1m1 0h2m3 0h1m1 0h2m4 0h2m1 0h1m1 0h1m2 0h1m2 0h1m1 0h2m1 0h2m3 0h2m2 0h2m1 0h4m3 0h1m3 0h1m1 0h2m1 0h2m1 0h1m2 0h1m3 0h3m3 0h1m1 0h2m4 0h1m3 0h1m1 0h1m5 0h1m1 0h1m2 0h1m2 0h2m3 0h4M1 96.5h1m1 0h1m3 0h1m3 0h1m3 0h2m4 0h1m4 0h2m1 0h1m2 0h1m3 0h3m2 0h1m5 0h1m6 0h2m11 0h1m2 0h1m3 0h4m1 0h2m1 0h2m5 0h2m1 0h1m7 0h1m1 0h2m3 0h1m2 0h1m1 0h1m4 0h1m6 0h4M1 97.5h1m1 0h1m1 0h3m1 0h1m2 0h2m3 0h1m4 0h3m2 0h2m1 0h1m1 0h1m1 0h1m5 0h2m1 0h1m4 0h2m1 0h3m6 0h1m8 0h1m3 0h1m1 0h2m5 0h1m2 0h1m3 0h1m1 0h1m2 0h2m3 0h1m1 0h2m1 0h2m10 0h2m5 0h1m2 0h2M0 98.5h2m1 0h1m4 0h1m2 0h1m5 0h1m2 0h2m2 0h3m1 0h1m2 0h1m1 0h1m1 0h1m3 0h1m6 0h1m1 0h1m4 0h2m2 0h3m7 0h1m2 0h1m1 0h1m1 0h3m3 0h3m2 0h1m1 0h2m2 0h2m5 0h2m2 0h2m1 0h1m3 0h1m1 0h1m2 0h3m2 0h1m1 0h2m3 0h1M1 99.5h1m1 0h1m2 0h1m2 0h1m6 0h1m6 0h1m2 0h1m4 0h1m6 0h1m3 0h1m2 0h1m1 0h1m1 0h2m4 0h2m6 0h1m3 0h2m1 0h1m1 0h1m7 0h2m1 0h1m1 0h1m1 0h1m5 0h3m2 0h2m5 0h1m2 0h1m3 0h1m4 0h3m3 0h1M4 100.5h1m1 0h1m2 0h1m2 0h1m1 0h2m5 0h2m3 0h1m1 0h2m1 0h4m3 0h2m1 0h1m5 0h1m2 0h1m2 0h3m1 0h2m2 0h2m1 0h1m1 0h1m6 0h1m3 0h2m1 0h1m1 0h1m1 0h1m1 0h2m3 0h1m3 0h1m5 0h1m2 0h1m1 0h1m2 0h1m2 0h2m10 0h2M1 101.5h4m1 0h1m4 0h3m2 0h4m1 0h1m2 0h2m2 0h2m1 0h5m1 0h1m1 0h1m2 0h2m1 0h1m2 0h1m1 0h2m6 0h1m1 0h1m6 0h4m5 0h1m5 0h2m2 0h1m1 0h2m1 0h1m2 0h1m10 0h1m2 0h1m1 0h1m2 0h3m3 0h1m1 0h1m1 0h2M4 102.5h3m2 0h1m2 0h3m1 0h1m2 0h1m2 0h1m3 0h2m1 0h2m1 0h1m4 0h1m2 0h2m5 0h1m1 0h1m2 0h1m6 0h1m9 0h2m1 0h2m3 0h1m2 0h3m5 0h1m8 0h2m1 0h2m1 0h2m8 0h1m2 0h2m5 0h1m1 0h1m1 0h1M1 103.5h1m4 0h1m2 0h1m3 0h1m3 0h1m1 0h2m2 0h1m2 0h1m1 0h1m4 0h2m2 0h3m2 0h1m2 0h1m2 0h2m1 0h4m1 0h1m6 0h2m2 0h2m2 0h1m1 0h3m4 0h1m2 0h1m4 0h1m1 0h3m1 0h2m3 0h1m1 0h1m4 0h2m6 0h1m7 0h2m1 0h1M3 104.5h1m3 0h4m1 0h2m6 0h3m5 0h1m1 0h1m5 0h1m8 0h3m2 0h2m7 0h1m16 0h1m3 0h2m3 0h2m3 0h1m10 0h3m6 0h1m3 0h3m3 0h1m4 0h2M6 105.5h3m3 0h1m4 0h2m7 0h1m10 0h3m1 0h1m1 0h1m5 0h2m3 0h1m2 0h1m3 0h1m2 0h1m1 0h3m1 0h2m5 0h1m1 0h2m1 0h1m2 0h2m3 0h1m5 0h1m4 0h5m2 0h1m4 0h1m1 0h1m4 0h3m4 0h1M0 106.5h1m4 0h1m2 0h1m2 0h2m2 0h1m4 0h2m1 0h1m2 0h2m5 0h3m3 0h1m3 0h1m1 0h1m1 0h1m2 0h3m8 0h1m2 0h2m4 0h1m6 0h1m2 0h1m1 0h3m2 0h2m4 0h2m2 0h1m1 0h1m2 0h1m3 0h3m1 0h1m1 0h1m5 0h1m1 0h2m3 0h1M2 107.5h1m3 0h1m1 0h2m1 0h1m1 0h1m2 0h2m5 0h1m2 0h1m4 0h1m1 0h2m1 0h1m2 0h4m1 0h4m3 0h1m1 0h1m1 0h3m2 0h2m11 0h1m3 0h1m3 0h1m6 0h2m1 0h3m1 0h2m2 0h2m1 0h3m2 0h1m5 0h1m4 0h1m6 0h1M3 108.5h3m4 0h1m1 0h2m3 0h1m7 0h1m2 0h2m2 0h1m2 0h4m1 0h3m1 0h1m7 0h3m2 0h2m1 0h1m1 0h1m2 0h1m2 0h3m4 0h1m2 0h1m6 0h1m8 0h1m6 0h1m1 0h1m6 0h2m4 0h1m1 0h1m1 0h1m3 0h1m1 0h1M1 109.5h1m1 0h1m1 0h1m7 0h1m7 0h1m5 0h1m8 0h1m2 0h1m4 0h3m1 0h1m1 0h2m1 0h1m3 0h4m2 0h2m1 0h1m4 0h1m1 0h2m4 0h1m1 0h6m1 0h1m1 0h2m3 0h3m4 0h4m6 0h2m2 0h1m2 0h1m3 0h1m3 0h1M6 110.5h1m4 0h1m1 0h1m2 0h1m3 0h1m1 0h1m1 0h1m2 0h1m3 0h3m1 0h2m6 0h1m4 0h1m1 0h1m3 0h2m3 0h1m1 0h1m1 0h1m2 0h1m1 0h1m10 0h1m1 0h1m4 0h1m1 0h1m2 0h2m1 0h5m10 0h1m2 0h1m6 0h1m2 0h2m1 0h1M2 111.5h1m7 0h4m1 0h2m8 0h4m2 0h1m6 0h1m4 0h1m5 0h1m3 0h1m3 0h1m1 0h1m2 0h2m2 0h1m1 0h3m8 0h3m2 0h1m4 0h1m1 0h1m1 0h1m2 0h5m9 0h1m1 0h2m2 0h1m1 0h1m3 0h3m2 0h1M0 112.5h1m3 0h1m2 0h1m1 0h1m5 0h1m4 0h1m3 0h1m1 0h1m7 0h1m4 0h1m1 0h3m1 0h1m1 0h6m6 0h1m3 0h1m2 0h2m3 0h3m3 0h3m2 0h1m3 0h1m1 0h5m2 0h1m2 0h1m3 0h1m1 0h2m2 0h1m3 0h1m1 0h1m3 0h1m4 0h1m2 0h2M3 113.5h2m2 0h1m4 0h2m2 0h1m2 0h1m3 0h1m5 0h3m2 0h1m2 0h1m2 0h1m9 0h1m2 0h1m1 0h1m3 0h2m2 0h1m9 0h1m4 0h1m5 0h3m1 0h1m3 0h1m1 0h1m1 0h1m1 0h1m4 0h7m1 0h1m2 0h4m5 0h1m3 0h1M1 114.5h2m5 0h1m4 0h1m3 0h2m2 0h3m3 0h1m8 0h1m1 0h3m2 0h2m3 0h1m3 0h1m1 0h1m3 0h1m1 0h1m4 0h1m1 0h2m2 0h2m5 0h2m1 0h3m1 0h2m3 0h2m6 0h1m3 0h1m1 0h2m2 0h2m2 0h2m1 0h1m3 0h1m1 0h2m1 0h1m2 0h1M0 115.5h1m8 0h1m1 0h1m3 0h1m2 0h1m2 0h2m1 0h1m3 0h2m2 0h2m4 0h1m6 0h2m6 0h2m1 0h2m1 0h1m2 0h1m1 0h1m5 0h1m1 0h1m3 0h1m2 0h2m2 0h1m6 0h1m2 0h1m3 0h1m4 0h2m1 0h1m2 0h1m4 0h1m1 0h2m1 0h2m2 0h2m2 0h1M0 116.5h1m7 0h1m1 0h1m3 0h2m1 0h2m12 0h1m5 0h2m4 0h1m3 0h1m2 0h4m4 0h2m5 0h1m2 0h1m2 0h1m1 0h1m1 0h2m1 0h1m2 0h1m2 0h1m1 0h1m5 0h1m2 0h2m2 0h1m4 0h2m2 0h1m1 0h1m1 0h1m5 0h1m2 0h1m1 0h1m1 0h1M5 117.5h2m9 0h2m4 0h2m1 0h1m2 0h1m1 0h1m5 0h2m3 0h2m1 0h3m5 0h1m1 0h1m2 0h1m7 0h4m5 0h1m6 0h2m2 0h1m3 0h1m3 0h2m4 0h4m4 0h1m1 0h1m3 0h2m5 0h2m4 0h1M0 118.5h1m1 0h1m13 0h5m2 0h1m2 0h2m3 0h1m5 0h2m1 0h2m3 0h1m3 0h1m14 0h1m3 0h1m1 0h1m4 0h1m3 0h2m3 0h3m2 0h1m1 0h3m4 0h3m2 0h1m1 0h3m4 0h1m10 0h3M4 119.5h1m6 0h1m1 0h2m1 0h3m11 0h1m1 0h1m1 0h4m3 0h2m4 0h1m1 0h3m6 0h2m3 0h3m1 0h1m2 0h1m3 0h2m1 0h2m5 0h1m1 0h2m1 0h1m1 0h1m7 0h1m2 0h4m2 0h1m7 0h1m1 0h1m4 0h1m2 0h2M5 120.5h1m4 0h1m1 0h1m5 0h1m1 0h4m4 0h1m3 0h1m3 0h1m1 0h1m1 0h2m5 0h1m2 0h1m1 0h1m5 0h1m1 0h3m1 0h1m1 0h1m6 0h1m2 0h1m3 0h2m1 0h2m1 0h1m1 0h1m1 0h2m1 0h1m4 0h3m1 0h2m3 0h1m4 0h1m5 0h2m1 0h3m2 0h2M1 121.5h1m8 0h1m4 0h1m2 0h2m9 0h2m1 0h1m2 0h1m1 0h2m9 0h1m1 0h1m5 0h3m1 0h1m4 0h1m2 0h2m6 0h2m1 0h1m1 0h1m4 0h1m2 0h4m3 0h1m2 0h1m1 0h2m3 0h1m3 0h1m4 0h1m4 0h1m1 0h3M1 122.5h1m1 0h1m3 0h1m4 0h1m3 0h1m3 0h1m3 0h2m3 0h1m3 0h1m3 0h1m5 0h2m2 0h1m2 0h2m3 0h1m6 0h1m1 0h1m5 0h1m1 0h1m1 0h1m2 0h1m1 0h3m8 0h2m3 0h1m10 0h1m3 0h1m2 0h1m2 0h1m1 0h1m2 0h1m3 0h2M0 123.5h4m1 0h1m7 0h1m1 0h1m3 0h1m3 0h2m2 0h1m14 0h2m7 0h7m6 0h1m5 0h2m5 0h1m3 0h1m1 0h2m1 0h1m3 0h1m5 0h1m1 0h1m1 0h1m2 0h1m9 0h1m3 0h1m3 0h1m1 0h2M1 124.5h1m4 0h1m1 0h1m4 0h1m1 0h1m1 0h1m1 0h1m2 0h1m3 0h1m2 0h1m3 0h1m1 0h1m4 0h1m1 0h1m2 0h1m6 0h1m11 0h2m1 0h2m2 0h1m2 0h1m2 0h1m2 0h1m1 0h1m2 0h3m6 0h1m2 0h2m6 0h3m1 0h1m2 0h2m3 0h1m2 0h1M3 125.5h1m5 0h2m2 0h1m5 0h1m1 0h2m2 0h2m1 0h4m3 0h1m2 0h1m2 0h1m1 0h2m1 0h1m1 0h1m4 0h2m3 0h1m2 0h2m1 0h1m12 0h1m2 0h2m2 0h1m12 0h3m1 0h1m6 0h1m1 0h1m1 0h1m1 0h1m2 0h2m4 0h1m1 0h1M0 126.5h1m1 0h1m5 0h3m4 0h2m1 0h1m1 0h3m1 0h1m8 0h1m3 0h1m2 0h2m1 0h1m4 0h3m7 0h1m4 0h4m2 0h1m3 0h1m3 0h1m6 0h2m4 0h1m3 0h2m1 0h3m4 0h1m2 0h1m9 0h1m6 0h1m1 0h1M4 127.5h1m1 0h3m2 0h1m5 0h4m9 0h1m3 0h1m2 0h2m2 0h1m3 0h1m1 0h1m8 0h1m4 0h1m1 0h1m2 0h2m3 0h1m2 0h1m2 0h1m2 0h1m2 0h1m1 0h1m8 0h1m3 0h1m3 0h1m7 0h2m6 0h1m5 0h2"/>
<path stroke="#32b67a" d="M8 0.5h1m27 0h1m24 0h1m20 0h1m7 0h1m11 0h1m1 0h1m2 0h1m3 0h1M10 1.5h1m1 0h1m1 0h1m4 0h1m15 0h1m2 0h1m4 0h1m2 0h1m2 0h1m15 0h1m6 0h1m1 0h1m29 0h1m9 0h1m1 0h1M5 2.5h1m16 0h2m19 0h1m3 0h1m10 0h1m6 0h1m2 0h1m13 0h1m8 0h1m1 0h1m9 0h1m1 0h1m2 0h2m9 0h1M13 3.5h1m8 0h1m17 0h1m4 0h1m13 0h1m17 0h1m5 0h1m21 0h1m6 0h1m2 0h1m2 0h1m1 0h1m1 0h1M12 4.5h1m19 0h1m4 0h1m4 0h1m20 0h2m7 0h1m10 0h3m2 0h1m1 0h1m2 0h1m2 0h1m2 0h1m1 0h1m1 0h1m11 0h2m2 0h2m2 0h1M5 5.5h1m2 0h2m4 0h1m6 0h1m8 0h1m6 0h1m7 0h1m2 0h1m13 0h1m8 0h1m4 0h1m3 0h1m2 0h1m3 0h1m1 0h1m3 0h2m12 0h1M0 6.5h1m19 0h1m15 0h1m11 0h1m12 0h1m3 0h1m25 0h1m18 0h1M2 7.5h1m3 0h1m5 0h1m1 0h1m1 0h1m15 0h1m1 0h1m7 0h1m4 0h1m3 0h1m4 0h1m2 0h1m3 0h1m10 0h2m6 0h1m6 0h1m14 0h1m1 0h1m8 0h1m1 0h2m3 0h1M3 8.5h1m2 0h1m6 0h1m4 0h1m8 0h1m4 0h1m2 0h1m1 0h1m7 0h1m13 0h1m1 0h1m5 0h1m13 0h1m6 0h1m2 0h1m12 0h1m6 0h1m7 0h1m6 0h1M9 9.5h1m15 0h1m10 0h1m8 0h1m13 0h1m13 0h1m9 0h3m10 0h2m5 0h2m1 0h1m3 0h1M6 10.5h1m1 0h1m19 0h1m6 0h2m12 0h1m10 0h1m4 0h1m5 0h2m11 0h1m3 0h1m7 0h1m7 0h2m20 0h1M9 11.5h1m11 0h1m7 0h1m14 0h1m1 0h1m2 0h1m2 0h1m11 0h1m3 0h1m7 0h1m5 0h1m1 0h1m5 0h1m8 0h1m3 0h1m7 0h1m4 0h1m5 0h1M11 12.5h1m17 0h1m1 0h1m10 0h1m2 0h2m13 0h2m6 0h1m2 0h2m12 0h1m13 0h1m2 0h1m10 0h1m1 0h1M4 13.5h1m5 0h2m18 0h1m3 0h2m1 0h1m14 0h1m16 0h1m6 0h1m4 0h2m10 0h3m12 0h1m1 0h1m2 0h1M8 14.5h1m19 0h1m9 0h1m22 0h1m3 0h1m6 0h3m6 0h3m15 0h1m12 0h1m11 0h1M0 15.5h2m5 0h1m19 0h1m14 0h2m21 0h2m3 0h3m1 0h2m5 0h1m5 0h1m6 0h2m7 0h1m3 0h1m14 0h1m2 0h1M9 16.5h1m3 0h1m8 0h1m8 0h2m9 0h1m7 0h1m2 0h1m4 0h3m2 0h1m4 0h1m4 0h1m1 0h2m26 0h2m2 0h1m4 0h1m8 0h1M7 17.5h1m29 0h1m9 0h1m9 0h1m2 0h1m4 0h1m5 0h1m11 0h1m6 0h1m5 0h1m1 0h1m7 0h1m4 0h2M8 18.5h1m10 0h1m5 0h1m10 0h2m4 0h1m4 0h2m12 0h1m1 0h1m4 0h1m9 0h1m28 0h1m6 0h2m2 0h1m5 0h1m1 0h1M26 19.5h1m1 0h1m15 0h1m3 0h1m8 0h1m15 0h1m14 0h1m1 0h1m3 0h3m7 0h1m7 0h1m8 0h2M10 20.5h2m1 0h1m20 0h1m1 0h1m3 0h2m15 0h1m5 0h1m4 0h1m7 0h1m20 0h1m3 0h1m20 0h1m1 0h1M8 21.5h1m16 0h1m1 0h2m2 0h1m4 0h1m1 0h2m8 0h1m1 0h1m2 0h1m2 0h1m7 0h1m1 0h1m13 0h1m7 0h2m2 0h1m4 0h1m6 0h1m7 0h1m3 0h1M0 22.5h1m9 0h1m5 0h1m2 0h1m2 0h1m1 0h1m1 0h1m3 0h2m22 0h1m3 0h1m9 0h1m19 0h1m5 0h1m8 0h1m10 0h1m2 0h1m8 0h2M3 23.5h1m1 0h1m3 0h1m14 0h1m19 0h1m13 0h1m11 0h2m22 0h1m7 0h2m4 0h1m17 0h1M14 24.5h1m6 0h1m7 0h1m3 0h1m4 0h1m5 0h1m4 0h1m1 0h2m8 0h1m8 0h1m2 0h1m6 0h1m8 0h1m4 0h1m1 0h1m7 0h1m10 0h1m9 0h1M3 25.5h2m10 0h1m9 0h1m4 0h1m4 0h2m3 0h1m4 0h1m12 0h1m1 0h1m14 0h1m3 0h1m4 0h1m1 0h1m4 0h1m8 0h1m8 0h1m6 0h2M3 26.5h1m1 0h1m10 0h1m11 0h1m1 0h1m8 0h1m5 0h1m3 0h1m48 0h1m4 0h1m15 0h1M1 27.5h1m1 0h1m19 0h1m3 0h1m3 0h1m32 0h1m4 0h1m5 0h2m8 0h1m2 0h1m7 0h1m3 0h1m2 0h1m17 0h1M3 28.5h2m2 0h1m10 0h1m12 0h2m10 0h1m2 0h1m11 0h1m2 0h1m10 0h1m3 0h1m24 0h1m1 0h1M3 29.5h2m5 0h1m13 0h1m3 0h1m3 0h2m29 0h1m1 0h1m5 0h1m1 0h1m2 0h1m23 0h1m7 0h1m9 0h1m1 0h2M7 30.5h1m9 0h1m1 0h1m6 0h1m3 0h1m15 0h1m4 0h1m5 0h1m22 0h2m1 0h1m5 0h1m1 0h1m1 0h1m11 0h1m8 0h1m12 0h1M1 31.5h2m3 0h1m2 0h2m7 0h1m8 0h1m6 0h3m8 0h1m10 0h1m2 0h2m3 0h1m13 0h1m5 0h1m4 0h1m3 0h1m3 0h2m1 0h2m4 0h1m2 0h2m11 0h1m2 0h1m1 0h1M5 32.5h1m6 0h1m12 0h2m12 0h1m1 0h1m5 0h1m4 0h1m14 0h1m8 0h1m7 0h1m39 0h2M9 33.5h1m18 0h1m7 0h1m4 0h2m6 0h2m4 0h1m10 0h1m22 0h2m3 0h1m7 0h1m9 0h2m1 0h1m1 0h1m3 0h1M19 34.5h1m3 0h1m27 0h1m3 0h1m9 0h1m11 0h1m6 0h1m7 0h2m14 0h1m5 0h1m10 0h1m1 0h1M1 35.5h1m5 0h1m24 0h1m10 0h1m3 0h1m59 0h2M4 36.5h3m4 0h1m7 0h1m4 0h1m2 0h2m6 0h1m19 0h1m20 0h1m6 0h1m20 0h1m3 0h1m1 0h1m2 0h1m1 0h1M17 37.5h1m1 0h1m2 0h1m19 0h1m7 0h1m10 0h1m14 0h2m4 0h1m1 0h1m5 0h1m1 0h1m2 0h1m1 0h1m1 0h1m5 0h1m8 0h1m8 0h1m2 0h1M14 38.5h1m3 0h1m9 0h1m4 0h1m31 0h1m27 0h1m8 0h1m12 0h1M12 39.5h1m34 0h2m4 0h1m3 0h2m11 0h1m2 0h1m3 0h2m8 0h1m5 0h1m9 0h1m3 0h1m5 0h1m3 0h1m1 0h2M15 40.5h1m1 0h1m10 0h1m9 0h1m7 0h1m2 0h1m8 0h1m9 0h1m3 0h1m2 0h2m4 0h2m3 0h1m2 0h1m10 0h3m12 0h2m1 0h1m5 0h1m1 0h1M7 41.5h1m1 0h1m3 0h1m7 0h1m26 0h1m7 0h1m13 0h1m15 0h2m10 0h1m19 0h1M11 42.5h1m7 0h1m6 0h1m10 0h1m7 0h1m5 0h1m2 0h1m28 0h2m15 0h1m2 0h1m2 0h1m1 0h1M11 43.5h2m5 0h1m5 0h1m13 0h1m3 0h1m2 0h1m13 0h1m2 0h1m21 0h1m17 0h1m11 0h1m1 0h1M1 44.5h1m8 0h1m6 0h1m8 0h1m8 0h1m22 0h1m1 0h1m12 0h2m29 0h1m8 0h1m11 0h1M19 45.5h1m2 0h1m7 0h1m1 0h1m1 0h1m4 0h1m2 0h1m2 0h1m2 0h3m12 0h1m13 0h1m3 0h1m2 0h2m4 0h1m5 0h1m1 0h1m1 0h1m10 0h1m4 0h1m6 0h1M11 46.5h1m11 0h1m3 0h1m1 0h1m19 0h1m6 0h1m2 0h1m5 0h1m14 0h1m3 0h2m8 0h2m1 0h1m7 0h1m3 0h1m7 0h1m1 0h1m7 0h1M2 47.5h1m7 0h1m4 0h1m2 0h1m8 0h1m5 0h1m7 0h1m5 0h1m6 0h1m3 0h1m2 0h2m34 0h1m2 0h4m2 0h2m3 0h1m1 0h1M11 48.5h1m11 0h2m8 0h1m1 0h1m9 0h1m5 0h2m17 0h1m7 0h1m9 0h1m13 0h1m5 0h1m1 0h1m13 0h2M12 49.5h1m14 0h1m6 0h1m3 0h2m9 0h1m1 0h1m42 0h2m5 0h1m1 0h1m7 0h1m2 0h1m6 0h1M1 50.5h1m12 0h1m5 0h2m10 0h1m1 0h1m8 0h1m5 0h1m22 0h1m3 0h1m3 0h1m33 0h3m9 0h1M2 51.5h1m7 0h1m7 0h1m1 0h1m4 0h1m1 0h2m9 0h1m12 0h1m4 0h1m9 0h1m1 0h1m23 0h1m9 0h2m14 0h1m3 0h2M6 52.5h1m5 0h2m3 0h1m12 0h1m5 0h1m2 0h1m1 0h1m11 0h1m2 0h1m11 0h1m1 0h1m6 0h1m2 0h1m11 0h1m6 0h1m3 0h1m4 0h1M6 53.5h1m2 0h1m1 0h2m9 0h1m7 0h2m14 0h1m9 0h1m5 0h1m3 0h1m7 0h1m11 0h1m17 0h1m20 0h1m1 0h1M3 54.5h2m10 0h1m7 0h1m2 0h1m8 0h1m2 0h1m22 0h1m2 0h2m9 0h1m1 0h1m24 0h1m20 0h1m3 0h1M3 55.5h1m2 0h1m1 0h1m11 0h1m3 0h1m3 0h1m2 0h1m9 0h1m13 0h1m4 0h2m7 0h1m8 0h1m3 0h1m22 0h2m3 0h1m4 0h1m1 0h1m6 0h1M14 56.5h1m5 0h1m1 0h1m16 0h1m5 0h1m9 0h1m23 0h1m2 0h1m2 0h1m7 0h1m1 0h1m3 0h1m5 0h1m3 0h1m1 0h1m10 0h1m4 0h1M2 57.5h1m2 0h1m3 0h1m1 0h1m12 0h1m17 0h1m6 0h1m7 0h1m5 0h1m8 0h1m6 0h1m13 0h1m5 0h1m1 0h2M12 58.5h2m17 0h1m19 0h2m9 0h1m4 0h1m1 0h1m4 0h2m4 0h1m2 0h1m2 0h1m2 0h1m7 0h1m6 0h1m13 0h1m1 0h1m5 0h1M3 59.5h2m23 0h1m16 0h1m12 0h1m5 0h1m3 0h1m10 0h1m3 0h1m15 0h1m10 0h2m2 0h2m2 0h1m2 0h1M2 60.5h1m14 0h1m3 0h1m9 0h1m6 0h1m2 0h1m4 0h1m3 0h1m16 0h2m1 0h1m4 0h2m7 0h1m3 0h1m13 0h1m3 0h1m1 0h1m2 0h2m4 0h1M3 61.5h1m5 0h1m5 0h1m21 0h1m2 0h1m5 0h1m7 0h1m5 0h1m3 0h1m4 0h1m18 0h1m32 0h1m2 0h1M11 62.5h1m2 0h1m2 0h1m1 0h1m5 0h1m5 0h1m7 0h1m15 0h1m3 0h1m3 0h1m1 0h2m2 0h1m4 0h1m1 0h1m6 0h1m22 0h1m4 0h2M9 63.5h1m2 0h1m7 0h1m1 0h2m7 0h1m14 0h1m28 0h1m10 0h1m10 0h1m6 0h1m6 0h1m1 0h1m2 0h1m2 0h1m6 0h1M4 64.5h1m15 0h1m10 0h1m3 0h1m4 0h2m4 0h1m4 0h1m5 0h1m9 0h1m14 0h2m6 0h1m24 0h1M1 65.5h1m9 0h1m2 0h2m5 0h1m2 0h1m6 0h2m17 0h1m12 0h1m1 0h2m3 0h1m8 0h1m13 0h1m3 0h1m2 0h1m3 0h2m2 0h1m8 0h1m2 0h1m6 0h1M4 66.5h1m11 0h1m3 0h1m4 0h1m9 0h1m3 0h1m11 0h1m4 0h1m2 0h1m7 0h1m6 0h1m8 0h1m2 0h1m3 0h1m9 0h1m7 0h1m13 0h1m3 0h2M1 67.5h1m10 0h1m9 0h1m14 0h2m2 0h2m6 0h1m13 0h1m14 0h1m7 0h1m12 0h1m2 0h2m1 0h1m2 0h1m4 0h1m8 0h1M3 68.5h3m14 0h2m9 0h1m13 0h1m5 0h1m1 0h1m7 0h1m2 0h1m7 0h1m1 0h1m11 0h1m7 0h1m8 0h1M2 69.5h2m7 0h1m4 0h1m7 0h1m15 0h2m4 0h1m5 0h1m3 0h1m12 0h1m12 0h1m12 0h1m13 0h1m8 0h1m1 0h1m1 0h1M5 70.5h1m4 0h1m15 0h1m5 0h1m5 0h1m2 0h1m1 0h1m17 0h1m10 0h1m9 0h3m26 0h1m2 0h1m6 0h1m1 0h1m2 0h1M13 71.5h2m14 0h1m3 0h1m1 0h1m4 0h1m1 0h1m1 0h1m5 0h1m1 0h1m66 0h1m2 0h2m2 0h1M3 72.5h2m6 0h1m12 0h1m5 0h2m6 0h1m9 0h1m5 0h2m15 0h1m11 0h1m13 0h1m3 0h1m2 0h2m20 0h1M2 73.5h1m2 0h1m9 0h1m10 0h1m8 0h2m1 0h2m3 0h1m22 0h1m9 0h1m2 0h1m4 0h1m9 0h2m1 0h3m1 0h1m5 0h1m8 0h1m2 0h1m3 0h2M0 74.5h1m6 0h1m27 0h1m1 0h1m32 0h1m11 0h1m1 0h2m1 0h1m9 0h1m4 0h2m1 0h1m6 0h1m6 0h1M4 75.5h1m23 0h1m11 0h1m2 0h1m2 0h1m2 0h1m14 0h1m8 0h1m2 0h1m6 0h1m2 0h1m16 0h2m12 0h1m1 0h1M0 76.5h1m6 0h1m11 0h2m1 0h1m11 0h2m1 0h1m3 0h1m1 0h2m3 0h1m6 0h2m17 0h1m2 0h2m3 0h1m24 0h2m8 0h1m3 0h1M5 77.5h1m5 0h1m12 0h1m3 0h1m3 0h1m6 0h1m5 0h1m2 0h1m6 0h1m3 0h1m4 0h1m2 0h1m15 0h3m4 0h1m3 0h1m6 0h1m5 0h1m3 0h1m2 0h1m9 0h2M4 78.5h1m10 0h1m23 0h1m2 0h1m6 0h1m11 0h1m15 0h1m5 0h1m4 0h1m11 0h1m4 0h1m5 0h1m1 0h1m11 0h1M8 79.5h1m14 0h1m13 0h1m2 0h2m5 0h1m6 0h3m9 0h1m11 0h1m3 0h1m4 0h1m25 0h1m6 0h1m4 0h1M5 80.5h1m1 0h1m4 0h1m5 0h2m5 0h1m12 0h1m1 0h1m20 0h2m2 0h1m2 0h1m10 0h1m10 0h1m2 0h1m1 0h2m2 0h1m7 0h1M1 81.5h1m8 0h1m4 0h1m20 0h1m1 0h2m8 0h1m7 0h1m10 0h1m5 0h1m3 0h1m6 0h1m16 0h1m1 0h2m3 0h2m12 0h1M5 82.5h1m2 0h1m12 0h1m1 0h1m35 0h2m3 0h1m12 0h1m17 0h1m6 0h1m10 0h1m1 0h1m1 0h2m2 0h2M7 83.5h1m18 0h1m11 0h1m11 0h1m1 0h1m11 0h2m8 0h1m5 0h3m2 0h1m9 0h1m7 0h2m3 0h1m4 0h1m1 0h3M17 84.5h2m14 0h1m2 0h1m10 0h1m9 0h1m11 0h3m14 0h1m2 0h1m2 0h1m6 0h1m5 0h1m10 0h2m2 0h1m1 0h1M3 85.5h1m3 0h1m57 0h1m14 0h1m10 0h1m2 0h1m1 0h1m5 0h1m16 0h1m5 0h1m1 0h1M8 86.5h1m13 0h1m7 0h1m3 0h1m13 0h1m7 0h1m1 0h1m1 0h1m1 0h1m12 0h2m10 0h1m4 0h3m2 0h1m20 0h2m1 0h1m5 0h1M3 87.5h1m5 0h1m26 0h2m1 0h1m1 0h1m13 0h1m1 0h1m8 0h1m8 0h1m9 0h2m3 0h2m4 0h1m3 0h1m9 0h1M6 88.5h1m2 0h1m13 0h1m4 0h1m2 0h1m1 0h1m12 0h1m7 0h1m8 0h1m2 0h1m14 0h1m5 0h1m6 0h1m2 0h1m3 0h2m9 0h1m2 0h1m4 0h1M4 89.5h1m4 0h1m1 0h1m11 0h1m3 0h1m2 0h1m1 0h1m13 0h1m3 0h1m3 0h2m1 0h1m3 0h1m47 0h1m3 0h1m12 0h1M5 90.5h1m5 0h1m4 0h1m6 0h1m5 0h1m6 0h1m4 0h1m1 0h1m3 0h1m13 0h1m10 0h1m10 0h1m5 0h1m8 0h1m1 0h1M5 91.5h1m2 0h1m11 0h1m1 0h1m5 0h1m18 0h1m1 0h1m6 0h1m5 0h1m1 0h1m6 0h2m3 0h1m14 0h1m3 0h1m7 0h1m1 0h1m5 0h1m11 0h2m2 0h1M2 92.5h1m1 0h1m2 0h1m6 0h1m7 0h1m1 0h2m22 0h1m3 0h1m11 0h1m13 0h1m3 0h1m3 0h1m5 0h3m5 0h2m2 0h1m17 0h1M7 93.5h1m2 0h1m16 0h1m9 0h2m7 0h2m2 0h1m1 0h1m11 0h1m9 0h1m10 0h1m8 0h1m5 0h1m3 0h1m11 0h2m6 0h1M1 94.5h2m3 0h1m16 0h1m24 0h1m4 0h1m3 0h2m2 0h1m1 0h1m7 0h1m1 0h1m4 0h1m6 0h1m2 0h1m3 0h1m23 0h1m2 0h1m1 0h1m2 0h1M7 95.5h2m7 0h1m13 0h1m3 0h1m2 0h1m12 0h1m3 0h1m3 0h3m9 0h1m3 0h1m9 0h2m3 0h1m2 0h1m4 0h1m13 0h1m2 0h1m9 0h1M7 96.5h1m19 0h1m10 0h1m16 0h1m21 0h1m4 0h2m8 0h1m32 0h2M3 97.5h1m2 0h2m9 0h1m5 0h2m3 0h1m1 0h1m17 0h1m2 0h1m8 0h1m8 0h1m12 0h1m2 0h1m15 0h1m2 0h1m12 0h1M1 98.5h1m1 0h1m4 0h1m12 0h1m2 0h3m4 0h1m3 0h1m18 0h1m3 0h1m8 0h1m4 0h1m9 0h1m2 0h1m1 0h1m3 0h1m6 0h2m3 0h1m7 0h1m2 0h1m6 0h2M1 99.5h1m24 0h1m11 0h1m6 0h1m3 0h2m12 0h1m3 0h1m2 0h1m22 0h3m2 0h2m5 0h1m2 0h1m3 0h1m5 0h2M6 100.5h1m5 0h1m1 0h2m5 0h1m11 0h1m19 0h1m4 0h1m7 0h1m13 0h1m14 0h1m5 0h1m7 0h1M2 101.5h2m7 0h3m2 0h1m2 0h1m4 0h2m2 0h2m4 0h1m10 0h1m21 0h2m7 0h1m5 0h1m25 0h1m6 0h1m3 0h1m1 0h1m2 0h1M5 102.5h1m3 0h1m12 0h1m3 0h1m25 0h1m6 0h1m9 0h2m1 0h2m8 0h1m14 0h2m2 0h1M1 103.5h1m7 0h1m3 0h1m3 0h1m16 0h1m2 0h2m12 0h1m1 0h2m8 0h1m7 0h1m1 0h1m1 0h1m4 0h1m25 0h2M8 104.5h2m2 0h2m6 0h1m24 0h2m4 0h1m7 0h1m21 0h1m3 0h1m15 0h2m13 0h1m8 0h1M6 105.5h1m5 0h1m5 0h1m20 0h1m3 0h1m5 0h1m14 0h1m3 0h1m1 0h1m8 0h1m5 0h1m4 0h1m13 0h1m15 0h1M8 106.5h1m2 0h1m3 0h1m5 0h1m1 0h1m9 0h3m16 0h1m8 0h1m2 0h2m11 0h1m15 0h2m2 0h1M9 107.5h1m21 0h1m2 0h1m1 0h1m3 0h1m1 0h1m1 0h1m2 0h1m3 0h1m1 0h1m6 0h2m19 0h1m7 0h1m1 0h2m2 0h1m3 0h1m4 0h1M4 108.5h1m7 0h2m11 0h1m2 0h2m6 0h2m3 0h2m1 0h1m12 0h1m4 0h1m2 0h1m4 0h1m7 0h1m15 0h1m6 0h1m8 0h2m6 0h1m7 0h1M1 109.5h1m11 0h1m30 0h1m5 0h2m6 0h2m6 0h1m6 0h1m11 0h1m9 0h1m1 0h1m5 0h1m19 0h1M6 110.5h1m13 0h1m1 0h1m1 0h1m8 0h1m2 0h1m6 0h1m4 0h1m17 0h1m14 0h1m13 0h1m16 0h1m12 0h1M2 111.5h1m8 0h1m1 0h1m24 0h1m4 0h1m15 0h1m2 0h1m3 0h1m1 0h1m1 0h1m9 0h1m12 0h1m2 0h1m2 0h1m13 0h1m2 0h1m6 0h1M0 112.5h1m3 0h1m15 0h1m5 0h1m12 0h1m5 0h1m13 0h1m3 0h1m2 0h2m3 0h1m6 0h2m2 0h1m15 0h1m3 0h1m5 0h1m5 0h1m3 0h1m4 0h1M7 113.5h1m4 0h2m2 0h1m14 0h1m2 0h1m2 0h1m12 0h1m2 0h1m5 0h1m3 0h1m22 0h1m16 0h1m13 0h1m9 0h1M1 114.5h2m5 0h1m4 0h1m4 0h1m3 0h1m20 0h1m14 0h1m1 0h1m4 0h1m6 0h1m6 0h1m5 0h1m4 0h1m7 0h1m3 0h1m6 0h1m3 0h1m5 0h1m1 0h1m2 0h1m2 0h1M11 115.5h1m9 0h1m2 0h1m3 0h1m3 0h1m20 0h1m3 0h1m1 0h1m2 0h1m20 0h1m34 0h1M18 116.5h1m18 0h1m12 0h3m15 0h1m4 0h1m1 0h1m2 0h1m2 0h1m2 0h1m11 0h1m2 0h1m4 0h2m4 0h1m1 0h1m5 0h1m2 0h1m1 0h1m1 0h1M5 117.5h1m11 0h1m4 0h2m1 0h1m11 0h1m3 0h1m2 0h3m21 0h1m5 0h1m10 0h1m7 0h2m6 0h2m4 0h1m1 0h1m4 0h1M16 118.5h1m1 0h2m3 0h1m25 0h1m18 0h1m15 0h1m6 0h1m32 0h2M11 119.5h1m1 0h1m2 0h1m1 0h1m30 0h3m7 0h1m5 0h1m4 0h1m4 0h1m1 0h1m6 0h1m4 0h1m1 0h1m7 0h1m2 0h1m5 0h1m7 0h1m9 0h1M10 120.5h1m10 0h1m6 0h1m3 0h1m14 0h1m4 0h1m9 0h1m1 0h1m8 0h1m10 0h1m8 0h1m4 0h1m3 0h1m18 0h1m5 0h1M18 121.5h1m10 0h2m1 0h1m5 0h1m11 0h1m5 0h3m9 0h1m10 0h1m1 0h1m4 0h1m4 0h1m9 0h1m18 0h1m1 0h1M3 122.5h1m12 0h1m7 0h1m4 0h1m13 0h1m6 0h2m20 0h1m6 0h2m9 0h1m4 0h1m20 0h1m8 0h2M0 123.5h1m4 0h1m9 0h1m7 0h2m26 0h2m2 0h3m13 0h1m12 0h1m1 0h1m3 0h1m5 0h1m3 0h1m2 0h1m9 0h1m3 0h1m6 0h1M6 124.5h1m15 0h1m29 0h1m14 0h1m6 0h1m2 0h1m4 0h1m3 0h2m17 0h3m1 0h1m3 0h1M21 125.5h2m18 0h1m1 0h1m9 0h2m7 0h1m17 0h2m2 0h1m25 0h1M8 126.5h1m6 0h2m5 0h1m25 0h1m15 0h2m3 0h1m3 0h1m3 0h1m17 0h1m8 0h1m12 0h1m8 0h1M8 127.5h1m9 0h3m16 0h1m3 0h1m3 0h1m1 0h1m13 0h1m1 0h1m3 0h1m12 0h1m21 0h1m7 0h1m14 0h1"/>
<path stroke="#63cb5f" d="M102 0.5h1M14 1.5h1m23 0h1m4 0h1m21 0h1m38 0h1m9 0h1M43 2.5h1m3 0h1m17 0h1m2 0h1m22 0h1m13 0h1m2 0h2M45 3.5h1m31 0h1m40 0h1M32 4.5h1m60 0h1m2 0h1m4 0h1m1 0h1m12 0h1m2 0h1m3 0h1M45 5.5h1m2 0h1m27 0h1m17 0h1M65 6.5h1m25 0h1M34 7.5h1m12 0h1m34 0h1m6 0h1m14 0h1m17 0h1M6 8.5h1m6 0h1m21 0h1m45 0h1M25 9.5h1M35 10.5h1m13 0h1m15 0h1m30 0h1M21 11.5h1m7 0h1m14 0h1m1 0h1m17 0h1m17 0h1m7 0h1m20 0h1M11 12.5h1m17 0h1m42 0h1m12 0h1M11 13.5h1m23 0h1m33 0h1m11 0h1M28 14.5h1m43 0h1m8 0h1m42 0h1M7 15.5h1m64 0h1m30 0h1m3 0h1m17 0h1M9 16.5h1m12 0h1m27 0h1m12 0h1m11 0h1M37 17.5h1m33 0h1m11 0h1m6 0h1m15 0h1M19 18.5h1m27 0h1m15 0h1m43 0h1m6 0h1M48 19.5h1m46 0h1m16 0h1m8 0h1M13 20.5h1m20 0h1m62 0h1m24 0h1M8 21.5h1m22 0h1m18 0h1m5 0h1m9 0h1m13 0h1M0 22.5h1m25 0h1m27 0h1m59 0h1m12 0h1M71 23.5h1M14 24.5h1m36 0h1m28 0h1m15 0h1M30 25.5h1m69 0h1m8 0h1m6 0h2M5 26.5h1m22 0h1m10 0h1m9 0h1m69 0h1M88 27.5h1m32 0h1M58 28.5h1m42 0h1M3 29.5h2m60 0h1m10 0h1m41 0h1M80 30.5h2m32 0h1M27 31.5h1m17 0h1m10 0h1m21 0h1m5 0h1m15 0h1m5 0h1m2 0h1m12 0h1M25 32.5h1m21 0h1M112 33.5h2M19 34.5h1m57 0h1m36 0h1M4 36.5h1m1 0h1m12 0h1m8 0h1m81 0h1M19 37.5h1m75 0h1m1 0h1m28 0h1M28 38.5h1m4 0h1m31 0h1m27 0h1M48 39.5h1m4 0h1m33 0h1M17 40.5h1m10 0h1m20 0h1m39 0h1m10 0h1m1 0h1m15 0h1m7 0h1M9 41.5h1m38 0h1m69 0h1M37 42.5h1m7 0h1m54 0h1m2 0h1M42 43.5h1m2 0h1M17 44.5h1m42 0h1m12 0h1M30 45.5h1m14 0h1m35 0h1M23 46.5h1m61 0h1m8 0h1m10 0h1m13 0h1m7 0h1M27 47.5h1m34 0h1m37 0h2M11 48.5h1m11 0h1m28 0h1m71 0h1M51 49.5h1m59 0h1M14 50.5h1m5 0h1M2 51.5h1m15 0h1m1 0h1m17 0h1m12 0h1m70 0h2M13 52.5h1m16 0h1m37 0h1m1 0h1M6 53.5h1m2 0h1m56 0h1M65 54.5h1M20 55.5h1m48 0h1m12 0h1m23 0h1m3 0h1m6 0h1m6 0h1M55 56.5h1m29 0h1m9 0h1M24 57.5h1m47 0h1m20 0h1M80 58.5h1m16 0h1m28 0h1M45 59.5h1m18 0h1m3 0h1m10 0h1M75 60.5h2m29 0h1m4 0h1M9 61.5h1m27 0h1M31 62.5h1m27 0h1m3 0h1m10 0h1M23 63.5h1m80 0h1m11 0h1M83 64.5h1m6 0h1M11 65.5h1m3 0h1m34 0h1m12 0h1m2 0h1m12 0h1m13 0h1m3 0h1m7 0h1M4 66.5h1m30 0h1m15 0h1m22 0h1m8 0h1m2 0h1M42 67.5h1m59 0h1m5 0h1M5 68.5h1m25 0h1m32 0h1m9 0h1M11 69.5h1m29 0h1m4 0h1m22 0h1m48 0h1M26 70.5h1m5 0h1m5 0h1m44 0h1m30 0h1m6 0h1M40 71.5h1m85 0h1M24 72.5h1m23 0h1m5 0h1m16 0h1M26 73.5h1m8 0h1m65 0h1m5 0h1M82 74.5h1m36 0h1M4 75.5h1m38 0h1m5 0h1m23 0h1m29 0h1M20 76.5h1m13 0h1m8 0h2m10 0h2m50 0h1M39 77.5h1m24 0h1m25 0h1m16 0h1M39 78.5h1m9 0h1m38 0h1m22 0h1M41 79.5h1m5 0h1m30 0h1m8 0h1M19 80.5h1m5 0h1m12 0h1m26 0h1m29 0h2M48 81.5h1m7 0h1m10 0h1m16 0h1M8 82.5h1m68 0h1m17 0h1m21 0h1M38 83.5h1m13 0h1m32 0h1m22 0h1M36 84.5h1m33 0h1m15 0h1m18 0h1m11 0h1M119 85.5h1M34 86.5h1m25 0h1m60 0h1m5 0h1M39 87.5h1m26 0h1m19 0h1m13 0h1M6 88.5h1m24 0h1m70 0h1m9 0h1m2 0h1m4 0h1M4 89.5h1m6 0h1m15 0h1m18 0h1m79 0h1M11 90.5h1m88 0h1M8 91.5h1m11 0h1m35 0h1m7 0h1m11 0h1m18 0h1m7 0h1M2 92.5h1m4 0h1m14 0h1m25 0h1m15 0h1m13 0h1m15 0h1m5 0h1M7 93.5h1m2 0h1m26 0h1M1 94.5h1m51 0h1m9 0h1m7 0h1m6 0h1m13 0h1m28 0h1M7 95.5h1m52 0h1m13 0h1m10 0h1m25 0h1m2 0h1M38 96.5h1m86 0h2M17 97.5h1m5 0h1m36 0h1m56 0h1M1 98.5h1m22 0h1m62 0h1m10 0h1M26 99.5h1m22 0h1m20 0h1m24 0h1m9 0h1m2 0h1m3 0h1M14 100.5h2m5 0h1m44 0h1M16 101.5h1m7 0h1m4 0h1m37 0h2m46 0h1m8 0h1M22 102.5h1m3 0h1m55 0h1m15 0h1m2 0h1M13 103.5h1m49 0h1m9 0h1m6 0h1m25 0h2M8 104.5h1m3 0h1m7 0h1m25 0h1m12 0h1m21 0h1m20 0h1M6 105.5h1m36 0h1m46 0h1m29 0h1M8 106.5h1m14 0h1m9 0h1m27 0h1M40 107.5h1M29 108.5h1m6 0h1m41 0h1m32 0h1m6 0h1m7 0h1M1 109.5h1M6 110.5h1M13 111.5h1m24 0h1m4 0h1m79 0h1M0 112.5h1m62 0h1m3 0h1m50 0h1M16 113.5h1m110 0h1M22 114.5h1m37 0h1m37 0h1m14 0h1m5 0h1M28 115.5h1m24 0h1M81 116.5h1m2 0h1m27 0h1M17 117.5h1m56 0h1m19 0h1M84 118.5h1M13 119.5h1m35 0h1m39 0h1m12 0h1M52 120.5h1M18 121.5h1m13 0h1M3 122.5h1m12 0h1m7 0h1m26 0h1m27 0h1m10 0h1M0 123.5h1m4 0h1m17 0h2m26 0h1m3 0h1m1 0h1m26 0h1m18 0h1M106 124.5h1M81 125.5h1M8 126.5h1m6 0h1m6 0h1m41 0h1m12 0h1m17 0h1M37 127.5h1m3 0h1m21 0h1m16 0h1"/>
<path stroke="#a2da37" d="M47 2.5h1M45 3.5h1M101 4.5h1M45 5.5h1m2 0h1M91 6.5h1M82 7.5h1M6 8.5h1m28 0h1M25 9.5h1M35 10.5h1M35 13.5h1M63 16.5h1M90 17.5h1M13 20.5h1M8 21.5h1M117 25.5h1M121 27.5h1M101 28.5h1M65 29.5h1m52 0h1M80 30.5h1M106 31.5h1M28 38.5h1m64 0h1M28 40.5h1M37 42.5h1M119 46.5h1M51 49.5h1M68 52.5h1M66 53.5h1M110 55.5h1M95 56.5h1M79 65.5h1M4 66.5h1M5 68.5h1M46 69.5h1M38 70.5h1M107 73.5h1M43 75.5h1M107 76.5h1M47 79.5h1M84 81.5h1M105 84.5h1m11 0h1M121 86.5h1M39 87.5h1M112 88.5h1m2 0h1M4 89.5h1m6 0h1m114 0h1M76 91.5h1M2 92.5h1m4 0h1M92 94.5h1M114 95.5h1M23 97.5h1M67 101.5h1M36 108.5h1m89 0h1M53 115.5h1M102 119.5h1M16 122.5h1m62 0h1M81 125.5h1M95 126.5h1"/>
<path stroke="#e2e418" d="M82 7.5h1M63 16.5h1M66 53.5h1M43 75.5h1M115 88.5h1M126 89.5h1M7 92.5h1M16 122.5h1"/>
<path stroke="#2e6e8e" d="M6 0.5h1m3 0h2m1 0h1m1 0h2m5 0h1m2 0h1m4 0h3m1 0h1m2 0h1m2 0h5m3 0h1m5 0h1m1 0h1m1 0h3m1 0h2m1 0h1m2 0h1m2 0h1m3 0h1m2 0h1m5 0h2m8 0h1m1 0h1m3 0h2m4 0h1m2 0h2m4 0h2m1 0h2m2 0h2m1 0h2M2 1.5h1m17 0h1m4 0h1m2 0h3m1 0h3m2 0h1m1 0h1m2 0h1m2 0h1m4 0h1m1 0h1m2 0h2m5 0h1m1 0h1m1 0h1m6 0h1m2 0h1m1 0h1m7 0h2m3 0h3m4 0h4m6 0h1m1 0h3m4 0h1m1 0h3m2 0h1m1 0h1M1 2.5h1m1 0h2m3 0h1m5 0h1m4 0h1m6 0h1m3 0h2m4 0h3m2 0h2m2 0h1m2 0h2m3 0h2m1 0h2m3 0h1m2 0h1m2 0h1m2 0h1m1 0h1m1 0h2m1 0h1m1 0h1m1 0h1m7 0h1m4 0h1m1 0h1m13 0h1m3 0h2m7 0h1M2 3.5h1m1 0h2m2 0h1m3 0h1m5 0h1m1 0h2m6 0h1m1 0h1m6 0h1m4 0h1m3 0h7m1 0h2m4 0h1m1 0h3m3 0h1m2 0h1m1 0h1m1 0h2m5 0h1m1 0h2m2 0h4m1 0h1m5 0h1m3 0h1m2 0h1m4 0h1m4 0h1m4 0h1M0 4.5h3m5 0h2m3 0h3m2 0h4m14 0h1m3 0h2m1 0h1m1 0h1m5 0h3m2 0h1m2 0h1m1 0h2m5 0h2m5 0h1m1 0h1m2 0h1m8 0h1m1 0h1m2 0h2m1 0h2m18 0h2m2 0h1m2 0h4M1 5.5h1m5 0h1m5 0h1m1 0h1m1 0h2m1 0h1m1 0h1m9 0h1m2 0h2m1 0h3m5 0h1m3 0h2m1 0h2m3 0h3m4 0h2m5 0h1m1 0h2m6 0h1m2 0h2m3 0h1m6 0h1m1 0h1m1 0h1m2 0h1m3 0h1m1 0h2m5 0h1m2 0h4m3 0h1M1 6.5h1m4 0h1m2 0h1m2 0h2m2 0h3m3 0h1m2 0h2m3 0h1m2 0h1m7 0h1m1 0h1m1 0h3m6 0h2m2 0h1m7 0h2m9 0h2m1 0h1m1 0h1m2 0h5m7 0h2m7 0h4m1 0h1m3 0h5m1 0h1m1 0h1m1 0h2M0 7.5h2m1 0h2m3 0h1m1 0h2m3 0h1m1 0h1m2 0h1m1 0h1m1 0h1m1 0h2m1 0h3m1 0h1m1 0h5m1 0h1m1 0h1m1 0h1m3 0h1m2 0h3m3 0h1m1 0h1m1 0h1m2 0h1m2 0h1m1 0h1m2 0h1m3 0h1m1 0h2m5 0h1m3 0h1m1 0h1m6 0h5m1 0h1m4 0h1m3 0h1m1 0h1m2 0h1m1 0h1m2 0h1M0 8.5h1m1 0h1m1 0h1m3 0h1m14 0h1m1 0h1m5 0h1m2 0h1m1 0h1m5 0h1m1 0h1m1 0h2m5 0h3m6 0h1m1 0h1m4 0h2m1 0h5m1 0h1m1 0h1m1 0h1m1 0h3m2 0h2m1 0h1m1 0h1m1 0h1m1 0h3m6 0h1m5 0h2m1 0h3m1 0h3m2 0h1M0 9.5h1m1 0h2m8 0h1m1 0h2m1 0h1m2 0h1m1 0h1m5 0h1m3 0h2m3 0h1m5 0h2m2 0h2m1 0h1m3 0h1m7 0h2m6 0h1m3 0h3m1 0h1m1 0h1m10 0h1m6 0h1m8 0h3m1 0h1m1 0h1m10 0h1m2 0h1M0 10.5h1m4 0h1m3 0h1m1 0h1m5 0h1m1 0h4m15 0h1m1 0h2m2 0h1m1 0h1m1 0h1m1 0h1m1 0h1m1 0h1m1 0h1m4 0h2m4 0h2m4 0h2m2 0h2m2 0h1m7 0h1m3 0h3m1 0h1m1 0h1m2 0h1m4 0h1m2 0h1m2 0h1m4 0h1m5 0h1m2 0h1M0 11.5h1m2 0h1m7 0h1m8 0h1m1 0h1m1 0h2m1 0h1m2 0h1m5 0h2m2 0h2m3 0h1m2 0h1m1 0h1m2 0h2m5 0h1m1 0h1m4 0h1m7 0h1m3 0h3m3 0h5m6 0h3m5 0h1m2 0h3m5 0h1m1 0h2m4 0h1m2 0h2M3 12.5h1m2 0h1m3 0h1m1 0h1m6 0h1m3 0h1m4 0h1m5 0h2m1 0h1m2 0h1m2 0h1m3 0h3m1 0h1m3 0h1m3 0h1m2 0h1m2 0h2m7 0h1m6 0h3m4 0h1m3 0h1m3 0h3m1 0h1m4 0h2m2 0h1m4 0h1m1 0h1m1 0h1m2 0h2m1 0h2M3 13.5h1m3 0h2m3 0h1m3 0h1m6 0h1m2 0h1m4 0h2m8 0h2m2 0h3m2 0h1m3 0h2m1 0h2m1 0h1m1 0h2m4 0h1m2 0h3m1 0h1m4 0h1m4 0h1m3 0h2m1 0h1m3 0h2m1 0h3m10 0h1m1 0h5m7 0h2M3 14.5h2m4 0h6m1 0h1m2 0h1m1 0h1m2 0h1m2 0h1m1 0h1m1 0h2m8 0h1m2 0h1m2 0h1m1 0h2m2 0h2m5 0h1m1 0h2m3 0h1m3 0h1m5 0h2m1 0h1m11 0h1m2 0h4m5 0h1m1 0h2m2 0h1m6 0h2m2 0h1m5 0h1M2 15.5h1m8 0h2m3 0h1m1 0h1m2 0h1m1 0h2m1 0h1m2 0h1m1 0h3m1 0h2m1 0h1m1 0h1m3 0h1m1 0h1m1 0h1m8 0h1m3 0h2m4 0h1m14 0h1m1 0h2m5 0h1m1 0h1m3 0h2m1 0h1m4 0h1m3 0h1m1 0h1m1 0h2m2 0h2m2 0h1M0 16.5h2m1 0h1m1 0h1m4 0h2m6 0h1m4 0h1m1 0h4m1 0h1m2 0h1m1 0h2m1 0h3m3 0h1m2 0h1m4 0h1m1 0h2m1 0h1m6 0h1m2 0h1m1 0h1m1 0h1m6 0h2m1 0h1m1 0h1m4 0h2m3 0h1m1 0h1m4 0h1m4 0h1m3 0h1m5 0h3m4 0h2m1 0h2M11 17.5h4m1 0h1m1 0h1m4 0h4m12 0h1m5 0h2m1 0h1m2 0h1m3 0h1m7 0h2m1 0h2m4 0h2m1 0h5m7 0h2m3 0h1m1 0h2m3 0h1m2 0h1m1 0h1m3 0h1m1 0h1m8 0h1m2 0h4M0 18.5h4m1 0h1m1 0h1m5 0h4m1 0h1m3 0h3m1 0h1m1 0h4m7 0h3m1 0h2m6 0h6m1 0h1m3 0h1m2 0h1m3 0h1m6 0h1m3 0h1m2 0h1m2 0h5m3 0h1m1 0h3m2 0h2m5 0h4m1 0h1m2 0h2m3 0h2M2 19.5h1m1 0h1m2 0h1m1 0h2m1 0h1m1 0h1m2 0h1m3 0h3m1 0h1m1 0h1m13 0h2m3 0h1m2 0h1m5 0h1m4 0h1m1 0h1m2 0h1m1 0h3m1 0h2m3 0h3m5 0h1m1 0h1m5 0h2m11 0h1m7 0h2m4 0h1m3 0h1m1 0h1M4 20.5h1m3 0h1m8 0h2m1 0h1m1 0h3m2 0h2m3 0h1m2 0h1m1 0h2m3 0h1m1 0h2m3 0h4m3 0h1m5 0h1m1 0h1m1 0h2m4 0h3m3 0h4m8 0h1m3 0h1m11 0h1m1 0h1m3 0h3m2 0h1m3 0h1M9 21.5h1m2 0h4m2 0h3m5 0h1m3 0h1m2 0h3m4 0h1m2 0h5m7 0h1m4 0h1m1 0h2m9 0h3m3 0h1m3 0h1m11 0h1m2 0h1m1 0h3m3 0h1m1 0h3m10 0h2m3 0h1M2 22.5h1m1 0h1m3 0h1m5 0h1m3 0h1m6 0h1m3 0h1m2 0h5m2 0h1m4 0h1m1 0h1m2 0h2m2 0h1m5 0h1m2 0h2m1 0h1m6 0h4m1 0h2m1 0h3m1 0h1m1 0h2m1 0h3m5 0h1m1 0h2m1 0h1m1 0h1m1 0h5m1 0h1m2 0h1m2 0h2m4 0h1M2 23.5h1m1 0h1m3 0h1m1 0h1m1 0h2m3 0h1m3 0h1m5 0h1m3 0h1m4 0h1m2 0h2m4 0h4m7 0h2m1 0h1m1 0h2m3 0h2m1 0h1m3 0h2m1 0h7m2 0h2m1 0h1m9 0h1m2 0h1m3 0h2m5 0h2m4 0h2m1 0h1m5 0h1M0 24.5h2m3 0h1m2 0h1m2 0h2m2 0h2m3 0h1m2 0h3m8 0h1m1 0h1m2 0h1m1 0h1m1 0h1m2 0h1m6 0h3m1 0h1m4 0h1m3 0h1m1 0h1m2 0h1m2 0h1m1 0h2m5 0h1m4 0h1m2 0h1m5 0h2m4 0h1m1 0h2m5 0h1m1 0h1m1 0h2m2 0h3m1 0h1M0 25.5h1m6 0h1m2 0h3m1 0h1m4 0h1m7 0h1m1 0h1m1 0h1m2 0h1m2 0h1m1 0h1m3 0h1m2 0h3m2 0h1m3 0h3m4 0h3m1 0h1m2 0h4m1 0h1m2 0h1m3 0h1m5 0h3m4 0h1m3 0h2m1 0h1m3 0h2m4 0h1m8 0h1m2 0h1m2 0h1M1 26.5h1m6 0h1m1 0h2m1 0h1m1 0h1m5 0h1m2 0h3m4 0h3m1 0h2m1 0h1m1 0h1m1 0h1m1 0h1m2 0h1m3 0h3m3 0h3m1 0h1m4 0h1m1 0h6m2 0h5m5 0h1m3 0h1m1 0h2m15 0h2m3 0h1m2 0h1m2 0h1m3 0h1M9 27.5h1m2 0h3m1 0h2m3 0h1m6 0h1m1 0h1m3 0h2m1 0h1m1 0h3m1 0h2m6 0h2m1 0h1m4 0h1m2 0h2m1 0h1m6 0h1m9 0h1m1 0h1m1 0h1m3 0h1m1 0h2m1 0h1m1 0h1m3 0h1m7 0h3m2 0h1m2 0h1M2 28.5h1m2 0h1m2 0h1m2 0h2m2 0h1m3 0h1m2 0h2m1 0h1m7 0h1m1 0h2m1 0h1m1 0h1m3 0h2m4 0h2m1 0h1m3 0h1m5 0h1m2 0h3m1 0h1m2 0h3m3 0h1m1 0h1m3 0h2m3 0h1m2 0h2m2 0h1m4 0h1m2 0h3m2 0h1m4 0h1m1 0h1m1 0h1m1 0h5m1 0h1M1 29.5h2m3 0h1m5 0h5m2 0h2m1 0h2m5 0h1m4 0h1m1 0h1m1 0h1m3 0h1m1 0h2m1 0h3m2 0h1m1 0h2m1 0h1m2 0h1m5 0h2m2 0h1m1 0h1m1 0h1m2 0h1m7 0h2m5 0h5m1 0h1m2 0h1m3 0h2m4 0h1m4 0h2m1 0h1m4 0h1m1 0h2M2 30.5h3m1 0h1m3 0h2m6 0h1m6 0h1m3 0h1m2 0h2m1 0h2m1 0h6m1 0h1m4 0h1m1 0h1m3 0h1m3 0h2m7 0h1m2 0h1m2 0h5m2 0h1m1 0h1m1 0h2m2 0h1m1 0h1m5 0h1m1 0h1m1 0h1m1 0h1m1 0h1m1 0h4m6 0h1M4 31.5h2m2 0h1m3 0h1m3 0h1m2 0h2m2 0h1m2 0h1m3 0h1m8 0h1m2 0h1m1 0h1m9 0h1m6 0h1m4 0h1m1 0h1m2 0h2m1 0h1m1 0h2m3 0h1m6 0h1m1 0h1m4 0h1m11 0h1m6 0h2m1 0h3m3 0h1m2 0h1M0 32.5h1m1 0h3m1 0h1m1 0h4m2 0h1m2 0h1m2 0h1m2 0h2m5 0h2m2 0h1m3 0h1m1 0h1m4 0h1m3 0h1m3 0h4m1 0h1m2 0h2m2 0h1m5 0h3m1 0h1m2 0h1m3 0h2m1 0h1m2 0h2m7 0h3m2 0h3m1 0h2m1 0h1m1 0h1m1 0h1m2 0h1m5 0h1m3 0h2M1 33.5h1m3 0h2m3 0h2m3 0h1m5 0h4m5 0h5m5 0h1m2 0h2m1 0h2m5 0h1m2 0h1m1 0h2m7 0h1m1 0h2m1 0h4m4 0h2m2 0h1m1 0h1m5 0h2m1 0h1m2 0h1m7 0h1m1 0h1m1 0h1m3 0h1m5 0h1m1 0h2m1 0h3M0 34.5h3m1 0h2m1 0h1m1 0h2m1 0h1m1 0h1m2 0h1m2 0h2m4 0h1m1 0h1m3 0h1m4 0h1m1 0h1m1 0h1m2 0h1m2 0h1m14 0h1m1 0h1m3 0h2m2 0h1m1 0h1m1 0h1m4 0h2m2 0h1m5 0h1m2 0h1m1 0h1m2 0h3m2 0h1m7 0h2m1 0h2m1 0h1m1 0h1m2 0h2m1 0h1M2 35.5h2m4 0h3m4 0h2m2 0h5m4 0h3m2 0h1m1 0h1m1 0h2m1 0h1m4 0h1m2 0h1m2 0h1m1 0h1m1 0h1m6 0h1m1 0h1m2 0h3m4 0h2m1 0h3m4 0h1m2 0h1m1 0h4m2 0h1m1 0h1m1 0h2m1 0h1m2 0h2m4 0h1m2 0h1m4 0h1m2 0h1m2 0h1M0 36.5h3m5 0h2m4 0h2m4 0h2m3 0h2m5 0h3m14 0h1m1 0h1m4 0h2m1 0h1m2 0h1m1 0h8m2 0h1m5 0h2m4 0h4m1 0h2m1 0h1m1 0h1m2 0h2m6 0h1m4 0h1m1 0h1m2 0h1m1 0h2m2 0h1m1 0h1M0 37.5h1m2 0h1m3 0h1m3 0h2m2 0h1m8 0h2m1 0h1m1 0h2m5 0h1m8 0h1m1 0h1m1 0h1m2 0h1m2 0h1m2 0h2m2 0h1m2 0h2m6 0h3m5 0h1m4 0h2m1 0h1m1 0h1m2 0h1m12 0h3m2 0h1m2 0h4m2 0h2M3 38.5h3m2 0h5m4 0h1m1 0h2m1 0h1m2 0h1m1 0h1m2 0h1m1 0h1m1 0h1m1 0h2m3 0h2m2 0h2m8 0h3m1 0h2m2 0h1m2 0h1m1 0h1m8 0h2m5 0h1m4 0h1m1 0h2m1 0h3m1 0h1m1 0h2m1 0h1m2 0h1m1 0h1m1 0h1m3 0h1m3 0h2m1 0h2m1 0h4M0 39.5h1m1 0h2m1 0h1m2 0h1m2 0h1m1 0h1m3 0h1m1 0h1m10 0h1m2 0h2m1 0h2m1 0h1m1 0h2m1 0h2m4 0h2m15 0h3m1 0h1m2 0h1m1 0h1m2 0h2m5 0h1m1 0h1m3 0h1m2 0h1m1 0h2m1 0h1m1 0h1m2 0h1m10 0h1m4 0h2m1 0h1m2 0h1M2 40.5h1m2 0h2m5 0h1m1 0h1m3 0h1m1 0h1m1 0h1m1 0h1m4 0h2m3 0h1m4 0h2m1 0h4m1 0h2m1 0h1m5 0h2m2 0h1m1 0h1m2 0h1m1 0h1m6 0h1m2 0h1m5 0h3m7 0h1m2 0h4m9 0h2m6 0h1m1 0h1m1 0h1m5 0h1M0 41.5h1m2 0h2m1 0h1m3 0h2m3 0h1m1 0h1m1 0h2m1 0h3m1 0h1m2 0h1m2 0h1m2 0h3m4 0h1m3 0h2m2 0h2m1 0h2m5 0h1m7 0h1m2 0h1m1 0h2m1 0h2m3 0h1m2 0h1m4 0h2m2 0h1m2 0h1m3 0h1m3 0h3m2 0h2m1 0h1m1 0h1m4 0h2m1 0h5M0 42.5h1m3 0h1m2 0h2m5 0h3m4 0h3m1 0h1m1 0h2m1 0h2m1 0h2m4 0h5m2 0h4m3 0h1m1 0h3m1 0h1m4 0h1m1 0h1m1 0h1m2 0h3m2 0h1m1 0h1m3 0h1m6 0h1m5 0h1m1 0h2m2 0h2m7 0h2m2 0h1m2 0h2m1 0h1m1 0h2m2 0h1M0 43.5h5m5 0h1m5 0h1m2 0h2m4 0h1m1 0h3m1 0h3m3 0h1m1 0h3m1 0h2m2 0h1m1 0h1m1 0h1m1 0h2m1 0h3m5 0h1m1 0h1m3 0h5m3 0h6m1 0h1m1 0h1m1 0h1m4 0h1m1 0h1m1 0h1m2 0h1m2 0h2m1 0h4m1 0h1m2 0h1m2 0h1m2 0h3m3 0h1M0 44.5h1m1 0h3m2 0h3m8 0h1m4 0h2m4 0h1m1 0h1m1 0h2m1 0h1m1 0h1m4 0h1m1 0h3m1 0h5m2 0h1m8 0h1m4 0h3m4 0h3m1 0h1m3 0h1m1 0h1m1 0h3m7 0h2m1 0h1m2 0h2m1 0h1m5 0h1m1 0h1m5 0h1m1 0h1M6 45.5h1m1 0h1m1 0h1m3 0h4m7 0h1m3 0h1m1 0h1m4 0h1m3 0h2m2 0h1m10 0h2m1 0h2m5 0h6m1 0h1m1 0h1m1 0h1m2 0h1m6 0h1m4 0h1m1 0h1m1 0h1m1 0h1m1 0h1m2 0h1m2 0h3m6 0h1m3 0h1m2 0h2m1 0h1m1 0h1M2 46.5h2m1 0h1m1 0h1m4 0h1m2 0h1m3 0h1m1 0h2m1 0h1m5 0h2m3 0h1m1 0h1m7 0h1m1 0h1m2 0h2m3 0h1m1 0h1m2 0h2m1 0h1m4 0h1m2 0h1m1 0h3m7 0h1m4 0h1m18 0h1m6 0h1m3 0h1m2 0h3m1 0h1M0 47.5h1m3 0h1m4 0h1m1 0h2m1 0h1m4 0h1m1 0h1m7 0h1m2 0h1m1 0h2m2 0h3m1 0h1m1 0h3m3 0h1m2 0h1m2 0h1m2 0h1m7 0h1m1 0h1m1 0h2m1 0h2m1 0h3m1 0h2m4 0h1m3 0h2m2 0h1m2 0h1m6 0h1m2 0h1m6 0h2m2 0h1m4 0h4M0 48.5h2m2 0h3m2 0h1m6 0h3m2 0h1m3 0h1m4 0h1m5 0h3m2 0h2m1 0h1m3 0h3m2 0h6m2 0h1m7 0h1m4 0h3m2 0h2m2 0h5m7 0h2m4 0h1m4 0h1m2 0h1m1 0h4m2 0h2M0 49.5h1m3 0h1m1 0h1m3 0h1m7 0h1m1 0h1m12 0h1m1 0h1m1 0h1m3 0h4m1 0h2m4 0h1m1 0h1m2 0h1m2 0h1m4 0h1m5 0h1m5 0h1m1 0h2m6 0h1m3 0h1m1 0h1m3 0h4m5 0h1m10 0h1m7 0h1m1 0h1M5 50.5h2m1 0h1m1 0h3m3 0h1m2 0h1m2 0h2m2 0h5m2 0h1m2 0h1m2 0h1m1 0h1m2 0h2m2 0h1m1 0h6m1 0h1m2 0h1m3 0h1m3 0h2m1 0h1m3 0h1m7 0h1m3 0h2m4 0h2m5 0h2m1 0h4m1 0h1m1 0h2m1 0h1m4 0h1m1 0h3M4 51.5h2m1 0h2m3 0h2m1 0h1m1 0h1m1 0h1m1 0h3m5 0h3m2 0h1m1 0h2m1 0h1m1 0h1m1 0h4m3 0h1m1 0h1m1 0h2m11 0h1m1 0h1m2 0h1m2 0h1m8 0h2m3 0h1m1 0h1m1 0h2m2 0h1m1 0h2m5 0h1m1 0h1m4 0h2m1 0h1m2 0h1m1 0h1m4 0h2M0 52.5h4m1 0h1m1 0h2m7 0h1m1 0h2m1 0h2m1 0h1m2 0h1m1 0h1m2 0h1m1 0h1m8 0h2m1 0h1m3 0h2m2 0h2m1 0h1m1 0h1m3 0h1m3 0h1m4 0h1m2 0h1m3 0h1m4 0h1m5 0h1m2 0h3m1 0h1m3 0h1m3 0h1m3 0h2m4 0h1m1 0h2m1 0h3m1 0h1M3 53.5h3m13 0h1m5 0h3m1 0h1m4 0h1m3 0h1m2 0h2m2 0h1m1 0h4m4 0h1m1 0h1m1 0h1m1 0h1m6 0h1m1 0h2m1 0h1m1 0h2m4 0h1m1 0h3m4 0h1m1 0h1m3 0h3m2 0h1m3 0h1m3 0h1m4 0h2m1 0h1m2 0h1m1 0h2M6 54.5h2m5 0h2m1 0h1m1 0h2m1 0h1m2 0h1m2 0h1m2 0h1m2 0h1m2 0h2m2 0h1m1 0h1m2 0h1m2 0h3m1 0h1m1 0h1m3 0h1m8 0h3m4 0h1m3 0h3m1 0h1m1 0h1m3 0h1m1 0h2m2 0h2m2 0h1m1 0h2m2 0h1m1 0h2m3 0h1m1 0h2m2 0h5m2 0h1m1 0h1M4 55.5h1m6 0h3m2 0h1m1 0h1m2 0h2m2 0h1m3 0h1m4 0h2m1 0h1m2 0h1m2 0h1m2 0h1m6 0h1m2 0h1m5 0h4m5 0h1m2 0h1m1 0h2m1 0h1m1 0h1m1 0h8m2 0h1m2 0h3m8 0h1m5 0h2m1 0h1m9 0h2M0 56.5h1m1 0h3m1 0h1m3 0h1m5 0h1m4 0h1m1 0h1m1 0h2m2 0h2m1 0h2m7 0h1m1 0h1m2 0h1m1 0h2m3 0h2m1 0h1m1 0h1m3 0h1m2 0h3m4 0h1m4 0h1m8 0h2m1 0h1m2 0h1m1 0h1m1 0h2m4 0h3m3 0h1m4 0h1m1 0h1m2 0h2m1 0h1m1 0h1m2 0h1M0 57.5h1m2 0h2m1 0h2m4 0h1m2 0h1m1 0h1m3 0h2m4 0h2m1 0h1m3 0h1m12 0h1m6 0h3m2 0h2m1 0h1m2 0h3m3 0h1m4 0h3m5 0h1m2 0h1m3 0h2m1 0h1m5 0h1m2 0h1m1 0h2m2 0h2m1 0h2m2 0h2m3 0h1m1 0h1m2 0h1M0 58.5h1m4 0h3m7 0h1m1 0h2m2 0h1m2 0h1m3 0h1m4 0h1m5 0h1m2 0h2m2 0h2m5 0h1m1 0h1m1 0h2m2 0h1m2 0h2m2 0h1m7 0h1m1 0h1m2 0h1m2 0h1m2 0h1m3 0h2m8 0h2m3 0h2m1 0h2m2 0h3m6 0h1m1 0h2M6 59.5h1m3 0h1m2 0h1m2 0h1m1 0h2m3 0h1m1 0h1m5 0h1m3 0h1m6 0h2m5 0h1m2 0h1m2 0h2m3 0h1m1 0h1m6 0h3m4 0h1m1 0h1m1 0h3m1 0h1m2 0h4m1 0h3m3 0h1m2 0h2m4 0h1m1 0h1m2 0h2m3 0h1m2 0h1m4 0h1m1 0h1M0 60.5h1m2 0h1m1 0h1m2 0h2m2 0h1m3 0h1m5 0h2m4 0h1m3 0h1m3 0h1m2 0h1m2 0h1m5 0h1m3 0h1m5 0h3m3 0h3m4 0h1m1 0h1m4 0h2m2 0h2m2 0h1m5 0h1m4 0h1m7 0h1m1 0h1m14 0h3M0 61.5h3m1 0h1m3 0h1m3 0h1m4 0h1m1 0h1m2 0h3m3 0h1m6 0h1m3 0h1m9 0h1m2 0h1m2 0h5m6 0h1m1 0h1m1 0h1m1 0h1m1 0h1m4 0h1m2 0h2m1 0h3m4 0h1m6 0h2m4 0h1m6 0h2m1 0h2m1 0h1m1 0h1m6 0h1M0 62.5h1m6 0h1m1 0h2m1 0h2m1 0h1m4 0h1m5 0h2m4 0h3m3 0h1m3 0h1m3 0h3m1 0h1m3 0h1m2 0h2m8 0h1m5 0h1m3 0h1m3 0h1m2 0h1m2 0h1m1 0h2m3 0h5m1 0h1m1 0h2m1 0h1m2 0h1m1 0h1m6 0h1m6 0h1m2 0h1M2 63.5h2m1 0h1m5 0h1m4 0h1m7 0h2m2 0h2m6 0h1m1 0h1m6 0h1m2 0h1m1 0h2m2 0h1m3 0h2m3 0h1m4 0h3m5 0h2m3 0h1m2 0h1m3 0h1m4 0h1m2 0h1m1 0h2m1 0h1m4 0h4m2 0h1m1 0h1m2 0h1m5 0h3M0 64.5h1m14 0h1m3 0h1m5 0h3m8 0h2m1 0h1m2 0h1m4 0h2m3 0h2m4 0h3m2 0h1m2 0h1m1 0h1m2 0h1m2 0h1m1 0h2m2 0h1m3 0h4m1 0h1m4 0h2m1 0h1m7 0h1m1 0h1m1 0h1m3 0h2m2 0h1m1 0h3m1 0h4M8 65.5h1m3 0h2m4 0h3m4 0h1m3 0h1m4 0h2m1 0h1m1 0h2m5 0h2m19 0h1m3 0h1m4 0h1m1 0h1m3 0h2m5 0h1m2 0h1m2 0h1m2 0h1m2 0h3m2 0h2m2 0h2m1 0h2m1 0h1m1 0h1m4 0h1m1 0h1M1 66.5h3m5 0h3m1 0h1m4 0h2m3 0h1m3 0h1m1 0h2m2 0h1m2 0h2m3 0h2m2 0h1m2 0h1m5 0h1m2 0h1m6 0h1m4 0h1m1 0h2m2 0h1m1 0h5m5 0h1m1 0h1m1 0h2m2 0h4m3 0h1m2 0h2m2 0h3m2 0h2m3 0h2m2 0h1M4 67.5h1m4 0h3m2 0h1m1 0h1m2 0h1m1 0h1m4 0h2m2 0h1m1 0h1m3 0h1m2 0h1m4 0h2m4 0h2m3 0h1m1 0h3m2 0h1m4 0h2m3 0h1m1 0h1m5 0h1m1 0h1m2 0h1m2 0h1m8 0h2m8 0h1m2 0h1m1 0h1m1 0h3m6 0h1m1 0h1M0 68.5h1m9 0h1m7 0h2m3 0h3m1 0h4m1 0h1m1 0h1m1 0h2m1 0h1m3 0h1m4 0h3m4 0h1m1 0h1m7 0h2m4 0h1m1 0h1m3 0h1m6 0h1m2 0h1m3 0h1m1 0h1m3 0h1m3 0h1m2 0h1m3 0h1m1 0h2m3 0h1m3 0h1m2 0h2m3 0h1M1 69.5h1m6 0h1m5 0h2m1 0h2m1 0h4m1 0h1m2 0h1m1 0h1m3 0h2m13 0h1m3 0h1m4 0h2m2 0h1m2 0h2m1 0h1m2 0h3m3 0h3m1 0h1m7 0h1m1 0h2m4 0h3m2 0h1m1 0h2m4 0h3m2 0h2M1 70.5h1m2 0h1m11 0h2m3 0h1m2 0h2m3 0h1m1 0h1m2 0h1m7 0h1m7 0h1m3 0h1m1 0h3m6 0h3m1 0h1m1 0h1m1 0h1m4 0h4m3 0h2m1 0h2m3 0h2m2 0h2m1 0h1m2 0h1m3 0h1m4 0h2m3 0h1m4 0h1m2 0h1M0 71.5h1m3 0h1m3 0h1m2 0h2m2 0h2m1 0h1m1 0h1m1 0h2m6 0h1m15 0h2m3 0h1m4 0h2m2 0h2m3 0h2m5 0h1m1 0h2m3 0h1m2 0h1m4 0h2m7 0h2m5 0h2m1 0h1m1 0h2m1 0h1m2 0h4m2 0h1M0 72.5h1m4 0h3m6 0h2m3 0h2m1 0h2m2 0h1m5 0h2m6 0h2m7 0h3m6 0h2m3 0h1m1 0h2m9 0h2m1 0h1m5 0h2m4 0h1m1 0h3m2 0h1m7 0h1m2 0h1m1 0h2m1 0h3m2 0h1m1 0h1m1 0h1m3 0h1M0 73.5h2m2 0h1m1 0h4m1 0h4m5 0h1m1 0h4m1 0h1m3 0h2m8 0h1m4 0h2m2 0h1m6 0h1m3 0h1m2 0h1m2 0h1m1 0h4m1 0h2m1 0h2m4 0h1m2 0h1m1 0h3m1 0h2m9 0h1m1 0h1m3 0h1m2 0h3m7 0h1m2 0h1M6 74.5h1m3 0h1m6 0h1m1 0h2m4 0h5m1 0h3m2 0h1m3 0h1m3 0h2m8 0h2m2 0h2m1 0h3m1 0h1m1 0h1m6 0h1m5 0h1m2 0h1m7 0h1m1 0h2m5 0h1m3 0h1m1 0h3m2 0h1m3 0h1m2 0h1m5 0h1m2 0h1M3 75.5h1m1 0h1m1 0h1m1 0h1m2 0h1m2 0h1m2 0h1m6 0h1m1 0h1m2 0h3m1 0h2m2 0h2m2 0h1m4 0h1m4 0h1m1 0h3m6 0h1m5 0h1m1 0h1m3 0h1m2 0h1m6 0h1m3 0h1m1 0h1m1 0h5m15 0h1m4 0h1m1 0h1m1 0h3m1 0h1M4 76.5h1m1 0h1m3 0h1m1 0h1m4 0h2m7 0h4m10 0h1m11 0h1m6 0h1m3 0h3m6 0h1m3 0h1m6 0h1m1 0h1m2 0h1m1 0h1m2 0h1m2 0h2m1 0h1m2 0h3m11 0h1m3 0h1m2 0h1M0 77.5h1m1 0h1m1 0h1m2 0h1m1 0h1m5 0h2m2 0h1m9 0h1m6 0h1m1 0h1m1 0h2m2 0h1m4 0h1m3 0h1m3 0h1m2 0h2m3 0h2m7 0h1m3 0h1m7 0h1m2 0h1m2 0h1m2 0h2m2 0h1m2 0h1m5 0h2m6 0h1m2 0h3m5 0h1M5 78.5h1m3 0h1m3 0h2m1 0h1m1 0h4m2 0h2m1 0h1m1 0h2m7 0h1m2 0h1m3 0h1m4 0h1m2 0h1m5 0h1m4 0h2m3 0h2m2 0h1m5 0h3m4 0h1m4 0h1m1 0h1m2 0h1m2 0h1m3 0h1m5 0h1m2 0h1m1 0h1m4 0h2m2 0h2m2 0h1M3 79.5h1m1 0h1m4 0h1m1 0h2m3 0h3m2 0h1m6 0h1m1 0h1m1 0h1m4 0h1m4 0h1m6 0h1m2 0h1m4 0h1m4 0h2m5 0h2m5 0h1m1 0h3m1 0h3m3 0h3m2 0h2m1 0h2m3 0h1m3 0h1m1 0h1m1 0h2m2 0h1m3 0h1m7 0h2M1 80.5h1m6 0h2m3 0h1m1 0h1m4 0h1m3 0h1m1 0h1m1 0h4m1 0h2m1 0h1m4 0h2m5 0h1m1 0h1m1 0h1m2 0h2m2 0h2m2 0h1m2 0h2m4 0h1m1 0h1m1 0h2m2 0h3m2 0h1m1 0h2m14 0h1m1 0h1m2 0h3m4 0h1m1 0h1m2 0h2m1 0h2M3 81.5h1m1 0h3m6 0h1m2 0h2m1 0h4m2 0h2m3 0h2m7 0h1m1 0h1m6 0h1m1 0h1m1 0h2m2 0h1m1 0h5m2 0h1m1 0h2m2 0h1m3 0h1m3 0h2m6 0h1m1 0h1m2 0h4m1 0h1m1 0h1m4 0h3m2 0h1m2 0h1m2 0h1m3 0h1m2 0h2m2 0h1M2 82.5h1m7 0h1m3 0h4m1 0h2m8 0h3m3 0h3m2 0h2m2 0h1m1 0h2m2 0h1m2 0h2m8 0h1m1 0h2m4 0h2m1 0h1m1 0h1m4 0h3m1 0h2m2 0h1m2 0h1m8 0h1m1 0h1m1 0h2m2 0h1m1 0h1m2 0h1m4 0h2m2 0h1M3 83.5h2m3 0h2m6 0h1m2 0h1m2 0h3m2 0h1m4 0h1m3 0h2m1 0h1m1 0h3m2 0h2m1 0h1m3 0h2m1 0h1m3 0h1m1 0h1m5 0h1m2 0h3m4 0h2m4 0h1m7 0h2m7 0h2m7 0h1m8 0h1m1 0h2m4 0h1M3 84.5h2m1 0h1m1 0h1m1 0h1m1 0h1m1 0h1m11 0h1m5 0h1m1 0h1m3 0h1m1 0h2m6 0h2m3 0h1m5 0h2m1 0h1m1 0h2m1 0h1m4 0h3m4 0h1m2 0h2m3 0h2m4 0h2m1 0h2m3 0h1m6 0h2m11 0h1m5 0h1M0 85.5h2m4 0h1m3 0h3m1 0h2m4 0h1m3 0h3m4 0h2m1 0h1m1 0h2m4 0h2m3 0h3m1 0h1m1 0h2m2 0h1m11 0h2m1 0h2m1 0h2m6 0h2m1 0h3m6 0h1m4 0h1m2 0h1m2 0h1m2 0h1m1 0h4m1 0h1m1 0h1m1 0h4m2 0h1M1 86.5h1m2 0h2m4 0h2m2 0h2m3 0h1m4 0h1m1 0h1m5 0h2m2 0h2m2 0h1m2 0h1m3 0h1m2 0h3m2 0h1m5 0h1m3 0h2m5 0h1m6 0h1m1 0h1m1 0h1m1 0h2m1 0h1m9 0h1m4 0h1m1 0h1m1 0h2m2 0h1m3 0h2m8 0h2M1 87.5h1m2 0h1m2 0h1m3 0h1m4 0h2m1 0h1m2 0h4m3 0h2m1 0h1m5 0h1m3 0h2m2 0h1m1 0h1m4 0h1m2 0h1m5 0h1m1 0h1m3 0h3m3 0h1m5 0h1m2 0h1m4 0h1m4 0h3m1 0h1m1 0h1m5 0h1m6 0h1m2 0h2m4 0h1m1 0h1m1 0h1m1 0h1M1 88.5h1m3 0h1m6 0h1m1 0h1m6 0h1m4 0h1m10 0h1m2 0h1m2 0h3m6 0h1m2 0h2m1 0h1m1 0h2m2 0h1m10 0h1m1 0h2m1 0h1m1 0h1m1 0h1m3 0h1m3 0h2m1 0h2m7 0h1m1 0h1m2 0h2m2 0h1m2 0h4m2 0h1m1 0h2M3 89.5h1m4 0h1m5 0h1m3 0h1m1 0h2m11 0h1m2 0h3m1 0h1m3 0h1m3 0h1m3 0h1m7 0h1m2 0h1m1 0h3m2 0h2m4 0h2m1 0h2m3 0h1m6 0h1m1 0h1m4 0h1m6 0h1m1 0h2m3 0h1m1 0h2m1 0h1m6 0h1M0 90.5h2m1 0h1m4 0h1m6 0h1m2 0h3m5 0h1m4 0h1m1 0h1m4 0h1m3 0h1m2 0h1m2 0h2m1 0h1m4 0h1m3 0h1m3 0h1m1 0h1m1 0h1m1 0h1m2 0h3m14 0h1m1 0h2m2 0h1m7 0h4m1 0h1m3 0h2m1 0h1m2 0h1m2 0h3m2 0h1M0 91.5h1m5 0h2m4 0h6m3 0h1m5 0h1m2 0h4m2 0h1m1 0h1m5 0h3m3 0h1m2 0h1m9 0h1m1 0h1m11 0h5m1 0h1m4 0h1m3 0h2m10 0h1m5 0h1m1 0h1m2 0h1m2 0h2m2 0h1M6 92.5h1m1 0h3m1 0h1m5 0h1m2 0h1m1 0h1m2 0h1m2 0h4m9 0h1m1 0h1m1 0h1m3 0h1m3 0h3m1 0h1m1 0h1m1 0h1m3 0h6m5 0h1m1 0h2m4 0h1m1 0h2m6 0h1m1 0h2m3 0h2m9 0h1m5 0h1m1 0h1m1 0h1M1 93.5h1m6 0h2m6 0h1m1 0h4m1 0h1m4 0h1m2 0h5m3 0h2m2 0h1m1 0h1m2 0h2m1 0h1m2 0h1m6 0h1m4 0h1m1 0h2m1 0h1m4 0h1m1 0h1m2 0h1m2 0h1m1 0h1m3 0h1m2 0h1m3 0h3m5 0h3m2 0h1m1 0h1m1 0h2m2 0h1m4 0h1M7 94.5h1m1 0h2m1 0h3m6 0h1m2 0h1m2 0h1m2 0h1m3 0h2m2 0h2m11 0h2m3 0h1m2 0h1m2 0h1m3 0h1m3 0h1m8 0h1m2 0h2m2 0h2m2 0h1m2 0h1m1 0h2m1 0h3m2 0h1m1 0h5m2 0h1m1 0h1m2 0h1m2 0h1m5 0h1M2 95.5h3m1 0h1m3 0h1m1 0h2m1 0h1m2 0h1m6 0h1m2 0h1m2 0h1m1 0h1m1 0h1m2 0h1m2 0h1m2 0h1m4 0h1m2 0h2m2 0h1m9 0h2m1 0h1m2 0h1m2 0h1m1 0h1m8 0h2m2 0h1m3 0h1m3 0h2m4 0h1m2 0h2m1 0h1m1 0h2m1 0h2m3 0h2m4 0h1M0 96.5h1m1 0h1m5 0h1m1 0h1m1 0h1m1 0h1m3 0h3m2 0h2m3 0h1m2 0h1m7 0h2m3 0h3m1 0h2m6 0h1m1 0h4m1 0h1m1 0h2m1 0h1m2 0h1m1 0h1m4 0h1m5 0h2m1 0h2m4 0h5m1 0h1m4 0h3m1 0h2m4 0h3m3 0h4M0 97.5h1m1 0h1m7 0h2m2 0h3m1 0h1m7 0h1m2 0h1m1 0h1m1 0h1m2 0h1m1 0h2m2 0h1m1 0h2m1 0h1m2 0h1m3 0h2m2 0h1m2 0h4m1 0h1m3 0h2m2 0h1m3 0h1m1 0h1m2 0h2m2 0h2m1 0h1m1 0h2m3 0h1m12 0h4m1 0h1m2 0h5m1 0h1M2 98.5h1m1 0h3m2 0h2m1 0h1m2 0h2m2 0h1m3 0h1m10 0h1m1 0h2m6 0h1m2 0h1m1 0h1m1 0h2m2 0h1m5 0h2m3 0h1m1 0h2m1 0h1m6 0h2m3 0h2m4 0h2m4 0h1m1 0h1m3 0h1m2 0h1m3 0h1m1 0h1m1 0h2m4 0h1m1 0h1m2 0h1m1 0h1m1 0h1M2 99.5h1m2 0h1m1 0h1m4 0h2m1 0h1m1 0h1m2 0h3m2 0h1m3 0h1m2 0h2m3 0h1m1 0h3m4 0h1m4 0h1m1 0h2m2 0h1m1 0h1m1 0h1m7 0h1m3 0h1m1 0h1m1 0h3m2 0h1m5 0h1m1 0h1m11 0h1m1 0h1m2 0h1m1 0h3m1 0h1m1 0h2m3 0h1m3 0h1M1 100.5h1m5 0h2m2 0h1m1 0h1m2 0h1m1 0h2m4 0h2m4 0h1m4 0h2m5 0h1m1 0h1m1 0h1m1 0h2m2 0h1m10 0h1m4 0h1m1 0h3m1 0h1m1 0h1m4 0h1m1 0h1m1 0h1m2 0h1m3 0h3m1 0h2m2 0h1m2 0h1m7 0h1m2 0h1m1 0h2m1 0h2m1 0h2m2 0h1M0 101.5h1m4 0h1m2 0h2m5 0h1m4 0h1m1 0h2m2 0h1m3 0h1m5 0h1m7 0h1m1 0h1m2 0h1m3 0h2m1 0h1m4 0h1m3 0h2m4 0h2m2 0h1m1 0h3m1 0h1m8 0h1m1 0h1m4 0h3m1 0h1m2 0h1m1 0h2m1 0h1m2 0h1m4 0h2m6 0h3M0 102.5h1m6 0h1m2 0h1m6 0h2m2 0h1m2 0h1m3 0h1m2 0h1m3 0h1m2 0h2m2 0h3m1 0h1m4 0h1m1 0h3m1 0h2m1 0h2m1 0h2m1 0h3m2 0h1m2 0h1m3 0h1m4 0h1m6 0h7m2 0h1m5 0h5m1 0h2m5 0h3m5 0h1M0 103.5h1m2 0h3m1 0h2m3 0h1m1 0h1m1 0h1m12 0h4m8 0h1m1 0h2m5 0h1m4 0h1m3 0h1m1 0h2m3 0h1m2 0h1m8 0h1m5 0h2m3 0h1m3 0h1m2 0h3m3 0h2m1 0h1m2 0h1m1 0h4m4 0h1m2 0h1m2 0h1m1 0h1M4 104.5h2m5 0h1m5 0h2m4 0h4m4 0h4m2 0h1m6 0h1m3 0h2m2 0h2m1 0h1m2 0h1m2 0h1m1 0h1m2 0h1m2 0h3m3 0h1m1 0h1m1 0h1m4 0h1m3 0h1m3 0h6m6 0h3m1 0h2m2 0h2m3 0h1m4 0h3M0 105.5h2m2 0h2m8 0h3m4 0h1m1 0h2m2 0h1m2 0h2m3 0h2m9 0h1m6 0h1m1 0h1m2 0h1m3 0h2m1 0h1m6 0h2m4 0h1m2 0h1m1 0h2m2 0h1m4 0h2m1 0h1m1 0h1m9 0h1m1 0h2m1 0h1m1 0h1m2 0h1m1 0h1m4 0h3M1 106.5h1m1 0h2m2 0h1m5 0h2m2 0h1m1 0h1m2 0h1m2 0h1m2 0h1m2 0h2m5 0h1m1 0h1m1 0h1m1 0h1m1 0h1m1 0h1m5 0h2m1 0h1m1 0h1m7 0h2m2 0h3m2 0h1m1 0h1m2 0h1m3 0h1m4 0h3m2 0h1m4 0h2m2 0h2m5 0h1m1 0h1m2 0h2m4 0h2m2 0h1M1 107.5h1m1 0h1m1 0h1m1 0h1m2 0h1m7 0h5m1 0h1m2 0h2m1 0h1m4 0h1m1 0h1m5 0h1m4 0h3m1 0h1m1 0h1m3 0h2m2 0h3m1 0h1m1 0h3m1 0h1m3 0h1m1 0h2m2 0h1m11 0h1m2 0h2m7 0h1m3 0h1m5 0h2m4 0h2m3 0h1M6 108.5h2m1 0h1m1 0h1m3 0h2m2 0h1m2 0h3m2 0h1m6 0h1m4 0h1m3 0h1m1 0h3m3 0h1m3 0h2m2 0h1m1 0h1m2 0h1m1 0h1m4 0h1m8 0h2m1 0h2m1 0h2m1 0h1m2 0h1m2 0h2m1 0h2m4 0h1m2 0h1m1 0h1m2 0h2m1 0h1m1 0h1m1 0h1m1 0h1M2 109.5h1m1 0h1m3 0h1m5 0h2m2 0h3m2 0h1m1 0h1m2 0h2m1 0h1m2 0h1m3 0h1m1 0h1m1 0h2m3 0h1m1 0h1m2 0h1m1 0h1m1 0h1m5 0h1m2 0h1m1 0h2m1 0h1m4 0h1m1 0h1m11 0h1m4 0h1m3 0h1m7 0h3m5 0h1m2 0h2m3 0h1m3 0h1M0 110.5h1m2 0h1m1 0h1m3 0h2m1 0h1m1 0h1m4 0h1m3 0h1m1 0h2m1 0h2m4 0h1m3 0h1m2 0h2m1 0h2m3 0h1m1 0h3m2 0h2m7 0h1m4 0h4m1 0h2m3 0h1m1 0h1m4 0h1m2 0h1m2 0h1m5 0h1m4 0h1m2 0h1m5 0h1m1 0h2m7 0h1M4 111.5h2m1 0h2m8 0h1m2 0h2m1 0h1m8 0h2m1 0h3m3 0h2m2 0h2m3 0h3m2 0h2m1 0h1m1 0h2m3 0h1m1 0h1m4 0h2m1 0h2m5 0h1m2 0h2m3 0h1m1 0h1m1 0h2m5 0h2m2 0h1m3 0h1m1 0h1m2 0h1m5 0h1m4 0h2M1 112.5h3m1 0h1m4 0h1m6 0h1m1 0h1m1 0h1m5 0h4m2 0h1m3 0h1m2 0h1m5 0h1m7 0h2m1 0h1m2 0h1m1 0h1m6 0h2m3 0h3m3 0h2m1 0h1m1 0h1m7 0h2m1 0h1m3 0h1m6 0h1m1 0h1m3 0h1m1 0h3m2 0h2m2 0h2M0 113.5h3m2 0h2m2 0h3m5 0h2m1 0h1m4 0h1m1 0h2m3 0h1m2 0h1m6 0h3m3 0h2m1 0h1m2 0h1m1 0h2m4 0h1m8 0h2m3 0h2m9 0h1m1 0h2m2 0h1m1 0h1m3 0h2m9 0h1m1 0h1m7 0h2m2 0h3M4 114.5h1m1 0h2m3 0h2m2 0h2m7 0h2m2 0h1m1 0h4m1 0h1m5 0h1m8 0h1m2 0h1m1 0h3m1 0h1m2 0h1m1 0h1m5 0h1m2 0h1m2 0h1m10 0h1m7 0h1m1 0h1m1 0h1m1 0h1m4 0h2m3 0h1m2 0h1m2 0h2m1 0h1M1 115.5h1m1 0h3m1 0h1m2 0h1m3 0h1m1 0h2m1 0h1m3 0h1m2 0h2m2 0h1m3 0h4m2 0h2m2 0h1m2 0h1m1 0h2m1 0h1m2 0h1m4 0h1m2 0h1m3 0h3m1 0h1m1 0h1m1 0h1m2 0h1m2 0h1m2 0h4m10 0h3m3 0h1m2 0h1m1 0h1m1 0h2m4 0h1m3 0h1m3 0h1m1 0h1M1 116.5h1m3 0h2m5 0h1m3 0h1m2 0h1m2 0h1m2 0h3m2 0h1m1 0h2m1 0h2m3 0h3m1 0h1m4 0h1m6 0h2m2 0h5m1 0h2m1 0h2m3 0h1m4 0h1m3 0h1m1 0h1m3 0h3m1 0h1m3 0h2m1 0h1m1 0h2m3 0h1m1 0h1m4 0h3m2 0h1m4 0h1M1 117.5h1m1 0h2m2 0h2m1 0h1m1 0h2m1 0h1m2 0h3m3 0h1m9 0h1m4 0h1m8 0h1m7 0h1m1 0h6m5 0h2m1 0h2m3 0h2m1 0h1m3 0h1m1 0h2m3 0h1m6 0h1m9 0h1m1 0h1m5 0h3m5 0h1m2 0h1M4 118.5h1m2 0h1m5 0h1m1 0h1m5 0h1m2 0h1m3 0h1m3 0h1m1 0h3m2 0h1m2 0h2m3 0h2m3 0h3m1 0h4m1 0h2m2 0h1m3 0h1m1 0h4m2 0h2m2 0h1m5 0h1m6 0h4m4 0h1m5 0h4m1 0h1m2 0h2m8 0h2M0 119.5h2m1 0h1m1 0h4m1 0h1m1 0h1m2 0h1m3 0h2m3 0h4m1 0h1m1 0h1m6 0h2m5 0h1m7 0h1m1 0h1m1 0h1m2 0h2m7 0h1m6 0h1m3 0h1m2 0h1m6 0h1m3 0h5m2 0h1m7 0h5m3 0h1m3 0h1m2 0h2M0 120.5h1m2 0h2m1 0h3m2 0h1m2 0h4m6 0h3m2 0h3m1 0h1m1 0h1m3 0h1m5 0h1m2 0h1m5 0h4m5 0h1m3 0h4m1 0h1m2 0h1m1 0h1m1 0h1m5 0h1m3 0h1m2 0h1m2 0h3m6 0h2m3 0h3m2 0h1m1 0h1m3 0h1M4 121.5h1m2 0h2m2 0h1m1 0h2m1 0h1m3 0h1m5 0h3m20 0h1m2 0h2m1 0h1m3 0h1m1 0h4m2 0h1m2 0h2m2 0h2m2 0h1m1 0h1m1 0h1m1 0h2m11 0h1m5 0h1m4 0h2m1 0h2m4 0h1m1 0h1m1 0h1m3 0h3M0 122.5h1m3 0h1m1 0h1m2 0h3m6 0h2m1 0h1m1 0h1m6 0h3m1 0h3m1 0h5m2 0h1m2 0h1m3 0h1m6 0h3m1 0h1m2 0h4m1 0h1m3 0h2m1 0h1m4 0h2m2 0h2m3 0h1m3 0h1m1 0h2m2 0h2m8 0h1m1 0h2m6 0h1m1 0h1M4 123.5h1m4 0h4m1 0h1m1 0h3m1 0h3m5 0h4m2 0h2m4 0h2m2 0h1m2 0h3m9 0h1m1 0h1m4 0h4m2 0h5m1 0h1m10 0h1m1 0h1m2 0h2m3 0h1m7 0h2m1 0h1m1 0h1m3 0h1m1 0h1m3 0h1M0 124.5h1m1 0h4m1 0h1m3 0h1m4 0h1m1 0h1m1 0h2m2 0h1m2 0h2m2 0h1m4 0h3m2 0h1m1 0h2m2 0h1m1 0h1m5 0h2m2 0h4m3 0h1m2 0h1m2 0h2m4 0h2m1 0h1m1 0h2m5 0h3m2 0h1m3 0h3m1 0h1m6 0h2m4 0h1m2 0h1m3 0h1m1 0h3M2 125.5h1m1 0h3m1 0h1m3 0h1m1 0h1m1 0h3m1 0h1m2 0h1m3 0h1m5 0h2m4 0h1m2 0h1m2 0h1m1 0h1m4 0h1m3 0h1m3 0h1m2 0h1m2 0h1m1 0h4m2 0h1m3 0h1m8 0h1m3 0h5m10 0h1m2 0h1m3 0h1m5 0h4m1 0h1m1 0h1M1 126.5h1m1 0h3m6 0h1m1 0h1m4 0h1m8 0h5m3 0h1m2 0h1m2 0h1m2 0h3m4 0h1m1 0h1m5 0h1m1 0h1m4 0h2m3 0h1m3 0h1m2 0h2m6 0h3m1 0h3m6 0h1m2 0h1m1 0h2m1 0h2m1 0h3m1 0h2m1 0h1m1 0h2m1 0h1m1 0h1M0 127.5h3m2 0h1m3 0h2m4 0h2m5 0h1m3 0h3m2 0h1m4 0h1m3 0h1m1 0h1m1 0h1m1 0h1m1 0h1m2 0h4m2 0h1m4 0h1m2 0h1m2 0h3m1 0h1m5 0h2m1 0h1m2 0h1m1 0h3m1 0h4m1 0h1m1 0h1m1 0h1m4 0h2m1 0h1m5 0h2m2 0h1m2 0h4"/>
<path stroke="#3a538b" d="M11 0.5h1m13 0h1m4 0h1m17 0h1m5 0h1m5 0h1m4 0h1m2 0h1m2 0h1m3 0h1m25 0h1m13 0h1m9 0h1M25 1.5h1m8 0h1m7 0h1m2 0h1m4 0h1m22 0h1m2 0h1m9 0h2m4 0h1m6 0h1m12 0h1m6 0h2M1 2.5h1m2 0h1m3 0h1m5 0h1m23 0h1m2 0h1m7 0h1m4 0h1m6 0h1m2 0h1m5 0h1m1 0h1m1 0h1m2 0h1m3 0h1m32 0h2m7 0h1M2 3.5h1m27 0h1m15 0h1m1 0h1m1 0h1m22 0h1m1 0h1m9 0h1m3 0h1m16 0h1M2 4.5h1m5 0h1m31 0h2m3 0h1m7 0h1m7 0h2m6 0h1m5 0h1m1 0h1m16 0h1m2 0h1m19 0h1m3 0h1m2 0h1M15 5.5h1m1 0h2m13 0h1m2 0h1m10 0h1m4 0h1m20 0h1m1 0h1m22 0h1m13 0h1m8 0h2M1 6.5h1m4 0h1m6 0h1m3 0h1m7 0h1m7 0h1m7 0h1m1 0h1m3 0h1m29 0h2m7 0h1m10 0h1m8 0h2m3 0h1m4 0h2m5 0h1m2 0h1M1 7.5h1m6 0h1m2 0h1m5 0h1m12 0h2m1 0h1m3 0h1m1 0h1m3 0h1m8 0h1m12 0h1m33 0h1m1 0h1m3 0h1m4 0h1m5 0h1M31 8.5h1m2 0h1m12 0h1m6 0h1m9 0h1m9 0h2m8 0h2m10 0h1m2 0h1m22 0h1M2 9.5h1m11 0h1m13 0h1m14 0h1m18 0h2m16 0h1m26 0h1m5 0h1m10 0h1M19 10.5h2m17 0h1m1 0h2m8 0h1m3 0h1m1 0h1m21 0h1m15 0h1m2 0h1m1 0h1m10 0h1m16 0h1M3 11.5h1m16 0h1m3 0h1m11 0h2m2 0h1m4 0h1m4 0h1m11 0h1m4 0h1m13 0h1m4 0h3m7 0h1m1 0h1m9 0h1M10 12.5h1m24 0h1m15 0h1m3 0h1m3 0h1m6 0h1m7 0h1m7 0h2m4 0h1m7 0h2m11 0h1m6 0h1m4 0h1m3 0h1M16 13.5h1m14 0h1m9 0h1m16 0h1m1 0h1m2 0h1m16 0h1m4 0h1m3 0h2m9 0h1m26 0h1M10 14.5h4m5 0h1m1 0h1m2 0h1m6 0h1m31 0h1m3 0h1m27 0h1m1 0h1m8 0h2M2 15.5h1m8 0h1m6 0h1m7 0h1m2 0h1m2 0h1m3 0h1m1 0h1m7 0h1m14 0h2m19 0h1m10 0h1m15 0h1m4 0h1m3 0h1M1 16.5h1m8 0h1m7 0h1m6 0h2m1 0h1m4 0h1m5 0h2m6 0h1m4 0h1m14 0h1m11 0h1m3 0h1m25 0h1m16 0h1M11 17.5h1m2 0h1m1 0h1m7 0h1m30 0h1m8 0h1m7 0h1m5 0h1m8 0h1m7 0h1m3 0h1m8 0h1m1 0h1m8 0h1m2 0h4M2 18.5h2m14 0h1m4 0h1m2 0h1m1 0h1m1 0h1m24 0h2m1 0h1m21 0h1m6 0h1m8 0h1m4 0h2m6 0h2m10 0h1M2 19.5h1m9 0h1m8 0h1m20 0h1m17 0h1m7 0h1m7 0h1m1 0h1m5 0h1m38 0h1m1 0h1M23 20.5h1m3 0h1m4 0h1m17 0h1m13 0h1m1 0h1m5 0h1m17 0h1m3 0h1m11 0h1m1 0h1m4 0h1M9 21.5h1m2 0h2m5 0h1m6 0h1m6 0h3m4 0h1m2 0h1m11 0h1m7 0h1m31 0h1m14 0h1M2 22.5h1m30 0h1m10 0h1m18 0h1m11 0h1m2 0h1m1 0h1m1 0h1m6 0h1m7 0h1m2 0h1m3 0h1m5 0h1m7 0h2m4 0h1M4 23.5h1m7 0h2m7 0h1m5 0h1m3 0h1m4 0h1m2 0h2m4 0h1m2 0h1m7 0h2m3 0h1m7 0h1m4 0h1m3 0h1m2 0h1m3 0h1m2 0h1m9 0h1m7 0h1M0 24.5h1m4 0h1m10 0h1m3 0h1m3 0h2m8 0h1m4 0h1m22 0h1m5 0h1m19 0h1m8 0h1m14 0h1m1 0h1m2 0h1m3 0h1M0 25.5h1m10 0h2m6 0h1m7 0h1m20 0h1m2 0h1m17 0h1m1 0h1m16 0h2m4 0h1m6 0h1m21 0h1M10 26.5h1m4 0h1m16 0h1m3 0h1m1 0h1m1 0h1m3 0h1m2 0h1m11 0h1m8 0h1m1 0h1m2 0h1m2 0h1m9 0h1m5 0h1m31 0h1M12 27.5h3m2 0h1m10 0h1m5 0h1m2 0h1m2 0h2m10 0h1m6 0h1m22 0h1m1 0h1m1 0h1m3 0h1m6 0h1m11 0h3m5 0h1M8 28.5h1m3 0h1m6 0h1m31 0h1m14 0h1m6 0h2m4 0h1m22 0h1m2 0h1m11 0h1m1 0h1m1 0h2M1 29.5h1m13 0h2m3 0h1m1 0h1m29 0h1m1 0h1m31 0h1m5 0h1m3 0h1m4 0h1m4 0h1m4 0h1m4 0h1m7 0h1M2 30.5h1m1 0h1m20 0h1m6 0h1m3 0h1m2 0h3m14 0h1m3 0h2m14 0h1m2 0h1m18 0h1m3 0h1m1 0h1m1 0h1m2 0h1m1 0h1M4 31.5h1m14 0h1m3 0h1m18 0h1m1 0h1m26 0h1m4 0h2m12 0h1m4 0h1m21 0h2m4 0h1M0 32.5h1m2 0h1m2 0h1m3 0h2m5 0h1m5 0h2m9 0h1m5 0h1m8 0h1m3 0h4m5 0h1m10 0h1m9 0h1m5 0h1m8 0h2m11 0h1m15 0h1M5 33.5h1m4 0h1m4 0h1m8 0h1m6 0h1m1 0h1m41 0h1m4 0h1m12 0h1m20 0h1m5 0h1m2 0h1m3 0h1M9 34.5h1m4 0h1m6 0h1m22 0h1m2 0h1m14 0h1m11 0h1m10 0h1m8 0h1m1 0h1m3 0h2m2 0h1m11 0h1m3 0h1M3 35.5h1m4 0h1m6 0h2m3 0h1m1 0h1m5 0h1m1 0h1m4 0h1m9 0h1m5 0h1m3 0h1m8 0h1m2 0h2m6 0h1m1 0h1m1 0h1m10 0h3m6 0h1m5 0h1m5 0h1m7 0h1m5 0h1M8 36.5h1m16 0h1m25 0h1m13 0h2m3 0h2m14 0h2m1 0h1m9 0h1m7 0h1m6 0h1m2 0h1M11 37.5h1m3 0h1m11 0h1m1 0h1m17 0h1m11 0h1m2 0h1m3 0h1m14 0h1m5 0h1m1 0h1m4 0h1m12 0h1m13 0h1M5 38.5h1m2 0h2m7 0h1m1 0h1m2 0h1m7 0h1m5 0h1m8 0h1m9 0h1m3 0h1m8 0h1m20 0h1m2 0h1m2 0h1m5 0h1m1 0h1m6 0h1m3 0h1m4 0h1m1 0h1m3 0h2M13 39.5h1m5 0h1m10 0h1m8 0h1m5 0h1m21 0h3m1 0h1m4 0h1m11 0h1m8 0h2m3 0h1m13 0h1m4 0h1m5 0h1M29 40.5h1m4 0h1m4 0h1m3 0h3m2 0h1m7 0h1m5 0h1m11 0h1m10 0h1m10 0h2m11 0h1m7 0h1M0 41.5h1m9 0h1m12 0h1m5 0h1m2 0h1m3 0h2m9 0h1m3 0h1m1 0h1m19 0h1m2 0h1m4 0h1m2 0h1m4 0h1m10 0h1m11 0h1m10 0h4M7 42.5h1m8 0h1m4 0h3m3 0h2m5 0h1m4 0h1m1 0h2m3 0h2m8 0h2m13 0h1m1 0h1m2 0h1m5 0h1m12 0h1m5 0h1m8 0h1m7 0h1m3 0h2M1 43.5h2m16 0h1m7 0h1m3 0h2m4 0h1m1 0h3m2 0h1m2 0h1m3 0h1m1 0h2m2 0h1m6 0h1m5 0h2m1 0h1m4 0h1m6 0h1m1 0h1m13 0h1m16 0h1m2 0h1m1 0h1M2 44.5h2m3 0h1m23 0h1m1 0h1m2 0h1m8 0h1m4 0h3m3 0h1m8 0h1m33 0h1m2 0h1m2 0h1m16 0h1M10 45.5h1m3 0h1m10 0h1m14 0h1m14 0h1m9 0h1m3 0h2m1 0h1m18 0h1m7 0h1m21 0h1m2 0h1M3 46.5h1m1 0h1m1 0h1m4 0h1m2 0h1m3 0h1m17 0h1m7 0h1m5 0h1m19 0h1m35 0h1m10 0h1m3 0h1M11 47.5h1m2 0h1m4 0h1m15 0h1m2 0h1m3 0h1m7 0h1m2 0h1m2 0h1m2 0h1m9 0h1m1 0h2m8 0h1m9 0h2m2 0h1m9 0h1m9 0h1m8 0h1m1 0h1M4 48.5h1m11 0h3m2 0h1m15 0h2m2 0h1m6 0h1m6 0h1m1 0h2m2 0h1m7 0h1m6 0h1m8 0h1m10 0h1m9 0h1m2 0h1m1 0h1m1 0h2m2 0h2M10 49.5h1m24 0h1m1 0h1m8 0h1m24 0h1m15 0h1m29 0h1m9 0h1M5 50.5h2m5 0h1m3 0h1m12 0h1m6 0h1m2 0h1m5 0h1m4 0h1m36 0h2m11 0h1m3 0h1m6 0h1m6 0h1M8 51.5h1m4 0h1m1 0h1m1 0h1m1 0h1m2 0h2m5 0h2m6 0h1m1 0h1m1 0h1m4 0h1m5 0h1m14 0h1m16 0h1m4 0h1m9 0h2m5 0h1m6 0h1m2 0h1M1 52.5h1m5 0h1m10 0h1m3 0h1m20 0h2m1 0h1m7 0h1m4 0h1m3 0h1m11 0h1m3 0h1m4 0h1m5 0h1m3 0h1m2 0h1m22 0h1m3 0h1M34 53.5h1m14 0h1m5 0h1m5 0h1m9 0h1m4 0h1m13 0h1m1 0h1m3 0h2m16 0h2m7 0h1M13 54.5h2m1 0h1m4 0h1m2 0h1m5 0h1m6 0h1m2 0h1m7 0h1m1 0h1m16 0h1m1 0h1m9 0h1m2 0h1m11 0h1m18 0h2m2 0h1M12 55.5h2m15 0h1m4 0h2m4 0h1m15 0h1m5 0h1m1 0h1m11 0h1m6 0h1m3 0h1m1 0h2m36 0h1M2 56.5h3m11 0h1m13 0h1m2 0h1m12 0h1m2 0h1m6 0h1m8 0h1m20 0h2m4 0h1m1 0h1m2 0h1m15 0h1m12 0h1M17 57.5h1m3 0h1m8 0h1m16 0h1m7 0h2m2 0h1m5 0h1m21 0h1m4 0h1m1 0h1m10 0h1M0 58.5h1m17 0h1m14 0h1m8 0h2m3 0h1m20 0h1m23 0h1m14 0h1m1 0h1m4 0h2M6 59.5h1m11 0h2m3 0h1m7 0h1m17 0h1m6 0h1m13 0h1m5 0h1m4 0h1m2 0h1m5 0h1m11 0h1m4 0h1m1 0h1m7 0h1m7 0h1m1 0h1M16 60.5h1m6 0h1m12 0h1m5 0h1m5 0h1m9 0h1m5 0h1m6 0h1m1 0h1m5 0h1m12 0h1m14 0h1M1 61.5h1m2 0h1m17 0h1m5 0h1m6 0h1m16 0h1m13 0h1m3 0h1m3 0h1m11 0h2m27 0h1m4 0h1M0 62.5h1m6 0h1m1 0h1m2 0h1m2 0h1m4 0h1m6 0h1m6 0h1m7 0h1m3 0h1m3 0h1m33 0h1m4 0h2m4 0h1m6 0h1m2 0h1m2 0h1M24 63.5h1m20 0h1m4 0h1m3 0h1m29 0h1m21 0h2m9 0h1M15 64.5h1m23 0h1m2 0h1m5 0h1m3 0h2m4 0h1m7 0h1m9 0h1m3 0h1m3 0h1m12 0h1m21 0h2m3 0h1m1 0h1M12 65.5h1m5 0h1m6 0h1m8 0h2m1 0h1m8 0h1m20 0h1m14 0h1m6 0h1m2 0h1m5 0h1m2 0h1m4 0h1m3 0h1m3 0h1m3 0h1m6 0h1M1 66.5h1m7 0h3m1 0h1m4 0h1m14 0h1m20 0h1m9 0h1m10 0h1m5 0h1m5 0h1m4 0h1m2 0h1m1 0h1m4 0h1m6 0h1m9 0h1M4 67.5h1m6 0h1m4 0h1m2 0h1m10 0h1m1 0h1m3 0h1m7 0h1m12 0h2m3 0h1m4 0h1m4 0h1m9 0h1m24 0h1m7 0h2m8 0h1M10 68.5h1m12 0h2m4 0h1m4 0h1m2 0h1m19 0h1m19 0h1m6 0h1m6 0h1m1 0h1m3 0h1m3 0h1m6 0h1m1 0h1m4 0h1m7 0h1m3 0h1M1 69.5h1m13 0h1m1 0h1m16 0h1m14 0h1m15 0h1m7 0h1m4 0h1m10 0h1m2 0h1m5 0h1m11 0h1m4 0h2M4 70.5h1m11 0h1m8 0h1m8 0h1m30 0h1m5 0h1m1 0h1m4 0h2m1 0h1m3 0h1m2 0h2m7 0h1m2 0h1m24 0h1M8 71.5h1m2 0h2m2 0h1m7 0h1m32 0h1m18 0h1m11 0h1m9 0h1m13 0h1m2 0h2m1 0h1M5 72.5h1m16 0h1m28 0h1m6 0h1m4 0h1m2 0h1m10 0h1m7 0h1m25 0h1m3 0h1M4 73.5h1m1 0h2m1 0h1m1 0h2m1 0h1m8 0h1m1 0h1m20 0h1m3 0h1m10 0h1m5 0h1m2 0h1m1 0h1m1 0h1m15 0h1m1 0h1m12 0h1m8 0h1m7 0h1m2 0h1M17 74.5h1m2 0h1m6 0h1m1 0h1m2 0h1m3 0h1m7 0h2m12 0h1m2 0h2m4 0h1m6 0h1m16 0h1m2 0h1m11 0h1m8 0h1m2 0h1m5 0h1M3 75.5h1m1 0h1m3 0h1m5 0h1m2 0h1m8 0h1m2 0h1m1 0h1m5 0h2m2 0h1m11 0h1m23 0h1m6 0h1m7 0h1m30 0h1M18 76.5h1m9 0h2m10 0h1m22 0h1m1 0h1m10 0h1m8 0h1m2 0h1m13 0h1M40 77.5h1m19 0h1m4 0h1m26 0h1m16 0h1m6 0h1m3 0h1m6 0h1M9 78.5h1m6 0h1m1 0h1m2 0h1m3 0h1m4 0h1m19 0h1m28 0h2m12 0h1m25 0h1M12 79.5h2m4 0h1m3 0h1m6 0h1m1 0h1m1 0h1m4 0h1m4 0h1m6 0h1m2 0h1m9 0h2m14 0h1m1 0h1m1 0h1m1 0h1m8 0h2m1 0h1m8 0h1M13 80.5h1m1 0h1m8 0h1m8 0h1m18 0h1m6 0h1m7 0h1m6 0h1m1 0h1m3 0h1m1 0h1m2 0h1m29 0h1m1 0h1M3 81.5h1m1 0h3m6 0h1m2 0h1m2 0h1m2 0h1m3 0h1m3 0h1m17 0h1m1 0h1m5 0h1m2 0h4m4 0h1m7 0h1m3 0h1m13 0h2m11 0h1m2 0h1m12 0h2m2 0h1M10 82.5h1m4 0h1m3 0h2m8 0h2m6 0h1m2 0h1m6 0h1m17 0h1m8 0h1m1 0h1m5 0h1m6 0h1m11 0h1m3 0h2m13 0h1m2 0h1M8 83.5h2m13 0h1m8 0h1m4 0h1m1 0h1m1 0h1m1 0h1m10 0h1m7 0h1m10 0h1m18 0h1m8 0h1m8 0h1m8 0h1m7 0h1M4 84.5h1m1 0h1m5 0h1m13 0h1m32 0h1m2 0h1m25 0h1m4 0h1m2 0h1m30 0h1M1 85.5h1m18 0h1m3 0h1m12 0h1m4 0h1m6 0h1m3 0h2m2 0h1m11 0h2m2 0h1m1 0h1m8 0h1m10 0h1m7 0h1m12 0h1m1 0h1m3 0h1M4 86.5h1m5 0h2m2 0h1m4 0h1m4 0h1m7 0h1m17 0h2m9 0h1m19 0h1m1 0h1m4 0h1m16 0h1m5 0h1m3 0h2m8 0h2M17 87.5h1m5 0h1m6 0h1m12 0h1m12 0h1m5 0h1m5 0h2m18 0h1m6 0h1m1 0h1m7 0h1m6 0h1m3 0h1m4 0h1m5 0h1M12 88.5h1m8 0h1m4 0h1m13 0h1m2 0h2m13 0h1m1 0h1m3 0h1m15 0h1m1 0h1m9 0h1m3 0h1m7 0h1m1 0h1m3 0h1m2 0h1m2 0h3m5 0h1M3 89.5h1m4 0h1m12 0h1m18 0h1m22 0h1m1 0h1m1 0h1m3 0h1m5 0h1m6 0h1m6 0h1m13 0h1m11 0h1m6 0h1M1 90.5h1m13 0h1m3 0h2m12 0h1m4 0h1m10 0h1m6 0h1m3 0h1m3 0h1m9 0h1m18 0h1m2 0h1m8 0h1m7 0h1m2 0h1m6 0h2m2 0h1M7 91.5h1m7 0h3m13 0h2m5 0h1m5 0h1m1 0h1m6 0h1m23 0h3m30 0h1m4 0h1m2 0h2M12 92.5h1m5 0h1m2 0h1m7 0h1m1 0h1m26 0h1m1 0h1m1 0h1m7 0h1m8 0h2m17 0h1m24 0h1M16 93.5h1m2 0h1m3 0h1m4 0h1m2 0h1m2 0h1m4 0h2m2 0h1m4 0h1m2 0h1m14 0h1m2 0h1m8 0h1m7 0h1m10 0h1m8 0h2m4 0h1m5 0h1M10 94.5h1m2 0h1m7 0h1m12 0h2m15 0h1m14 0h1m12 0h1m2 0h2m16 0h1m2 0h1m2 0h1m7 0h1m2 0h1M12 95.5h2m1 0h1m9 0h1m12 0h1m14 0h1m2 0h1m10 0h1m9 0h1m12 0h1m7 0h1m5 0h1M10 96.5h1m7 0h2m4 0h1m6 0h1m7 0h1m4 0h1m20 0h1m2 0h1m2 0h1m12 0h1m2 0h1m8 0h1m8 0h2m1 0h1m5 0h1m1 0h1m3 0h1m1 0h1M0 97.5h1m1 0h1m7 0h1m5 0h1m9 0h1m4 0h1m1 0h1m5 0h1m7 0h1m23 0h1m12 0h1m8 0h1m3 0h1m13 0h2m2 0h1m4 0h2M5 98.5h2m8 0h2m6 0h1m13 0h1m9 0h1m3 0h1m10 0h1m3 0h1m17 0h1m4 0h2m4 0h1m5 0h1m2 0h1m3 0h1m4 0h1m11 0h1m1 0h1M2 99.5h1m4 0h1m7 0h1m1 0h1m2 0h1m4 0h1m11 0h1m1 0h1m17 0h1m3 0h1m7 0h1m8 0h1m3 0h1m5 0h1m24 0h1M1 100.5h1m9 0h1m1 0h1m2 0h1m2 0h1m5 0h1m9 0h1m8 0h1m23 0h1m1 0h1m1 0h1m1 0h1m6 0h1m1 0h1m1 0h1m7 0h2m16 0h1m4 0h1m2 0h1m2 0h1M5 101.5h1m14 0h1m5 0h1m9 0h1m9 0h1m2 0h1m3 0h1m2 0h1m4 0h1m9 0h2m5 0h1m2 0h1m10 0h1m11 0h1m1 0h1m2 0h1m7 0h1m7 0h1M0 102.5h1m6 0h1m9 0h2m5 0h1m6 0h1m3 0h1m3 0h1m2 0h1m1 0h1m13 0h1m1 0h1m3 0h1m1 0h2m3 0h1m21 0h1m2 0h1m9 0h1m2 0h1m16 0h1M0 103.5h1m2 0h1m8 0h1m17 0h2m9 0h1m2 0h1m5 0h1m4 0h1m3 0h1m1 0h2m15 0h1m5 0h1m4 0h1m6 0h1m6 0h1m4 0h1m2 0h1M4 104.5h1m6 0h1m14 0h1m4 0h3m14 0h1m22 0h1m12 0h1m7 0h2m12 0h1m1 0h1m4 0h1m9 0h1M1 105.5h1m12 0h2m5 0h1m9 0h1m3 0h1m22 0h1m6 0h1m7 0h1m4 0h1m2 0h1m13 0h1m1 0h1m11 0h2m3 0h1m2 0h1m7 0h1M14 106.5h1m4 0h1m5 0h1m12 0h1m1 0h1m5 0h1m7 0h2m1 0h1m1 0h1m7 0h1m3 0h1m4 0h1m15 0h1m18 0h1M5 107.5h1m1 0h1m10 0h1m9 0h1m1 0h1m4 0h1m7 0h1m5 0h1m9 0h1m4 0h1m1 0h1m2 0h2m5 0h1m1 0h1m19 0h1m11 0h1m12 0h1m3 0h1M11 108.5h1m4 0h1m2 0h1m2 0h1m4 0h1m6 0h1m21 0h1m4 0h1m4 0h1m4 0h1m14 0h1m2 0h1m5 0h1m19 0h1m5 0h1M8 109.5h1m11 0h1m2 0h1m7 0h1m17 0h1m2 0h1m3 0h1m18 0h1m13 0h1m17 0h2m17 0h1M5 110.5h1m4 0h1m1 0h1m1 0h1m8 0h1m1 0h1m8 0h1m3 0h1m10 0h1m1 0h1m1 0h1m18 0h2m6 0h1m18 0h1m15 0h1M4 111.5h1m2 0h1m12 0h2m10 0h2m3 0h1m17 0h2m3 0h2m11 0h1m12 0h1m5 0h1m8 0h2m2 0h1m5 0h1M3 112.5h1m25 0h2m2 0h1m6 0h1m13 0h1m2 0h1m4 0h1m6 0h2m3 0h1m1 0h1m4 0h1m11 0h1m2 0h1m3 0h1m8 0h1m6 0h1m3 0h1m3 0h2M2 113.5h1m6 0h1m1 0h1m5 0h1m7 0h1m16 0h3m3 0h2m4 0h1m2 0h1m13 0h1m17 0h2m4 0h1m3 0h1m25 0h1M4 114.5h1m6 0h1m3 0h1m8 0h2m2 0h1m2 0h1m3 0h1m5 0h1m8 0h1m4 0h1m1 0h1m1 0h1m4 0h1m8 0h1m32 0h2m6 0h1m2 0h1m2 0h1M5 115.5h1m1 0h1m9 0h1m9 0h1m6 0h1m15 0h1m4 0h1m4 0h1m2 0h1m7 0h1m3 0h1m9 0h2m11 0h1m22 0h1m5 0h1M12 116.5h1m6 0h1m2 0h1m2 0h1m4 0h1m4 0h2m3 0h1m3 0h1m12 0h1m4 0h2m3 0h1m6 0h1m4 0h1m11 0h1m1 0h1m6 0h1m6 0h1m1 0h1m9 0h1m4 0h1M1 117.5h1m1 0h2m8 0h1m20 0h1m24 0h1m10 0h1m1 0h2m24 0h1m17 0h1m7 0h1m2 0h1M15 118.5h1m16 0h1m2 0h1m3 0h1m2 0h2m3 0h1m4 0h1m8 0h1m9 0h4m6 0h1m5 0h1m9 0h1m4 0h1m7 0h1m2 0h1m13 0h1M6 119.5h2m12 0h1m4 0h2m26 0h1m1 0h1m24 0h1m2 0h1m6 0h1m3 0h1m2 0h1m11 0h1m1 0h2M0 120.5h1m2 0h1m7 0h1m2 0h1m11 0h1m2 0h1m1 0h1m13 0h1m10 0h1m10 0h1m17 0h1m3 0h1m15 0h1m3 0h1m10 0h1M11 121.5h1m1 0h2m1 0h1m3 0h1m50 0h1m8 0h1m4 0h1m33 0h1m5 0h1M0 122.5h1m5 0h1m2 0h1m1 0h1m6 0h1m2 0h1m10 0h1m2 0h2m3 0h2m10 0h1m6 0h1m1 0h1m5 0h1m1 0h1m1 0h1m12 0h1m3 0h1m3 0h1m3 0h1m6 0h1m11 0h1m6 0h1M14 123.5h1m1 0h1m4 0h1m6 0h3m10 0h1m5 0h1m1 0h1m17 0h2m5 0h1m41 0h1m5 0h1M3 124.5h3m1 0h1m3 0h1m9 0h1m6 0h1m12 0h1m7 0h1m9 0h1m6 0h1m2 0h1m2 0h1m6 0h1m11 0h1m7 0h3m17 0h1m3 0h1M2 125.5h1m1 0h1m1 0h1m16 0h1m9 0h2m4 0h1m2 0h1m4 0h1m4 0h1m17 0h1m3 0h1m3 0h1m14 0h3m13 0h1m12 0h1M1 126.5h1m2 0h2m23 0h1m9 0h1m2 0h1m4 0h1m4 0h1m7 0h1m6 0h1m4 0h1m6 0h2m7 0h2m1 0h3m9 0h1m1 0h1m2 0h1m3 0h1m2 0h1m2 0h1m1 0h1M5 127.5h1m16 0h1m5 0h1m13 0h1m1 0h1m6 0h3m15 0h1m2 0h1m6 0h1m8 0h1m1 0h1m2 0h1m10 0h1m9 0h1m7 0h1"/>
<path stroke="#453781" d="M48 0.5h1m5 0h1M25 1.5h1m24 0h1m25 0h1m10 0h1m31 0h1M14 2.5h1m39 0h1m22 0h1m37 0h1M48 3.5h1m40 0h1M2 4.5h1m5 0h1m31 0h1M18 5.5h1m92 0h1m9 0h1M17 6.5h1m29 0h1m29 0h1M30 7.5h1m8 0h1M84 8.5h2m10 0h1M28 9.5h1m51 0h1m32 0h1M40 10.5h2m36 0h1m31 0h1M40 11.5h1m9 0h1m35 0h1m9 0h1M55 12.5h1m10 0h1m7 0h1m8 0h1m12 0h1m19 0h1m4 0h1M16 13.5h1m46 0h1m26 0h1M21 14.5h1m2 0h1m81 0h2M2 15.5h1m26 0h1m16 0h1M1 16.5h1m31 0h1m13 0h1m35 0h1m25 0h1M16 17.5h1m55 0h1m35 0h1m1 0h1m8 0h1m5 0h1M56 18.5h1m52 0h2M12 19.5h1m47 0h1m7 0h1m54 0h1M66 20.5h1M19 21.5h1m13 0h2m28 0h1M2 22.5h1m77 0h1m1 0h1m17 0h1m17 0h1M74 23.5h1M20 24.5h1m13 0h1m86 0h1M11 25.5h1m36 0h1m39 0h1M38 26.5h1m1 0h1m18 0h1m8 0h1m4 0h1m50 0h1M28 27.5h1m8 0h1m2 0h1m43 0h1m26 0h1m5 0h1M8 28.5h1m3 0h1m6 0h1m53 0h2m27 0h1M16 29.5h1m5 0h1m29 0h1m1 0h1m37 0h1m8 0h1M4 30.5h1m36 0h1m34 0h1m2 0h1m29 0h1m1 0h1M19 31.5h1m70 0h1m26 0h2M3 32.5h1m30 0h1m64 0h1M31 33.5h1m61 0h1m20 0h1M9 34.5h1m34 0h1m51 0h1m3 0h1m3 0h1m11 0h1M8 35.5h1m81 0h1m20 0h1M71 36.5h1M15 37.5h1m31 0h1m14 0h1m3 0h1m22 0h1m4 0h1M45 38.5h1m9 0h1m33 0h1m31 0h1m4 0h1M39 39.5h1m31 0h1m16 0h1M29 40.5h1m32 0h1m11 0h1m10 0h1m31 0h1M32 41.5h1m79 0h1m13 0h1M7 42.5h1m49 0h1m13 0h1m38 0h1M32 43.5h1m20 0h2m2 0h1m13 0h1m13 0h1M3 44.5h1m29 0h1m16 0h2m13 0h1M10 45.5h1m58 0h1m2 0h1M5 46.5h1m6 0h1m6 0h1m25 0h1M42 47.5h1m26 0h1M16 48.5h1m31 0h1m6 0h1m2 0h1m2 0h1m14 0h1m8 0h1m28 0h1M35 49.5h1m81 0h1M39 50.5h1m60 0h1M13 51.5h1m1 0h1m21 0h1m1 0h1m1 0h1m42 0h1m4 0h1m26 0h1M59 52.5h1m15 0h1m44 0h1M55 53.5h1m15 0h1m18 0h1m6 0h1M13 54.5h1m2 0h1m20 0h1m56 0h1m18 0h1M34 55.5h1M49 56.5h1m47 0h1m15 0h1m12 0h1M65 57.5h1m21 0h1m17 0h1M0 58.5h1m114 0h1M6 59.5h1m24 0h1m38 0h1m19 0h1M48 60.5h1m24 0h1M66 61.5h1m7 0h1m45 0h1M20 62.5h1m21 0h1m7 0h1M50 63.5h1m33 0h1M66 64.5h1M82 65.5h1m31 0h1m10 0h1M9 66.5h1m8 0h1m56 0h1m19 0h1m23 0h1M32 67.5h1m25 0h1m8 0h1m47 0h1M10 68.5h1m46 0h1m19 0h1m6 0h1m23 0h1m1 0h1M78 69.5h1m36 0h2M16 70.5h1m8 0h1m53 0h1m9 0h1M12 71.5h1m10 0h1m91 0h1M22 72.5h1M7 73.5h1m38 0h1m3 0h1m63 0h1m10 0h1M29 74.5h1m31 0h1m12 0h1m40 0h1m2 0h1M5 75.5h1M40 77.5h1m75 0h1M16 78.5h1m1 0h1m2 0h1m8 0h1m48 0h2M29 79.5h1m23 0h1m27 0h1m12 0h1M24 80.5h1m90 0h1M49 81.5h1m1 0h1m10 0h1m31 0h1m29 0h1M76 82.5h1m29 0h1M8 83.5h1m53 0h1m29 0h1m17 0h1M6 84.5h1m5 0h1m75 0h1m4 0h1M37 85.5h1m19 0h1m11 0h2m32 0h1M19 86.5h1m41 0h1m64 0h1M97 87.5h1M44 88.5h1m19 0h1m15 0h1m1 0h1m33 0h1M63 89.5h1m1 0h1m58 0h1M1 90.5h1m58 0h1m35 0h1m30 0h1M32 91.5h1m5 0h1m7 0h1m31 0h2M29 92.5h1m32 0h1m60 0h1M19 93.5h1m3 0h1m19 0h1m4 0h1m2 0h1m34 0h1M13 94.5h1m86 0h1m5 0h1M104 95.5h1M24 96.5h1m40 0h1m5 0h1m15 0h1m17 0h1M26 97.5h1m6 0h1m37 0h1m25 0h1m13 0h1M84 98.5h1m10 0h1m5 0h1M39 99.5h1m38 0h1M25 100.5h1m18 0h1m23 0h1m3 0h1m38 0h1m4 0h1M20 101.5h1m35 0h1m68 0h1M0 102.5h1m16 0h1m49 0h1m3 0h1M50 103.5h1m4 0h1m28 0h1m26 0h1M32 104.5h1m80 0h1M95 105.5h1M25 106.5h1m20 0h1M7 107.5h1m22 0h1m18 0h1m20 0h1m5 0h1M71 108.5h1M23 109.5h1m7 0h1m43 0h1m31 0h2M5 110.5h1m4 0h1m1 0h1m59 0h1m42 0h1M7 111.5h1m47 0h1m4 0h1M62 112.5h1m7 0h1m25 0h1m19 0h1m3 0h1m3 0h1M9 113.5h1m115 0h1M11 114.5h1m12 0h1m10 0h1m5 0h1m13 0h1m3 0h1M27 115.5h1m6 0h1m15 0h1m4 0h1m7 0h1m63 0h1M19 116.5h1m5 0h1m14 0h1m59 0h1M4 117.5h1m8 0h1m45 0h1m12 0h1M35 118.5h1m25 0h1m12 0h1m6 0h1m28 0h1M7 119.5h1m72 0h1M31 120.5h1m13 0h1M20 121.5h1m59 0h1M18 122.5h1m16 0h1m16 0h1m43 0h1M49 123.5h1m17 0h1m54 0h1M41 124.5h1m49 0h1m7 0h1M23 125.5h1m15 0h1m2 0h1m9 0h1m40 0h1m15 0h1M5 126.5h1m36 0h1m24 0h1m25 0h1m21 0h1m2 0h1M28 127.5h1m22 0h1m36 0h1m25 0h1"/>
<path stroke="#481668" d="M119 1.5h1M115 2.5h1M84 8.5h1m11 0h1M28 9.5h1M29 15.5h1m16 0h1M109 18.5h1M2 22.5h1M11 25.5h1M59 26.5h1m13 0h1M111 27.5h1M12 28.5h1M34 32.5h1M90 35.5h1M47 37.5h1M121 38.5h1M88 39.5h1M62 40.5h1m22 0h1M7 42.5h1M50 44.5h1M72 45.5h1M48 48.5h1m36 0h1m28 0h1M39 51.5h1m1 0h1M97 56.5h1m28 0h1M105 57.5h1M115 58.5h1M120 61.5h1M95 66.5h1M114 73.5h1M61 74.5h1m53 0h1M18 78.5h1m60 0h1M8 83.5h1m83 0h1M57 85.5h1m45 0h1M61 86.5h1M63 89.5h1M19 93.5h1m23 0h1m42 0h1M13 94.5h1M104 95.5h1M105 96.5h1M97 97.5h1M101 98.5h1M39 99.5h1M116 100.5h1M56 101.5h1M17 102.5h1M23 109.5h1m83 0h2M5 110.5h1M55 111.5h1M62 112.5h1M41 114.5h1M63 115.5h1M19 116.5h1m5 0h1M13 117.5h1m45 0h1M7 119.5h1M20 121.5h1m59 0h1M51 127.5h1m62 0h1"/>
<path stroke="#440154" d="M115 2.5h1M29 15.5h1M120 61.5h1M19 116.5h1"/>
</g>
<use href="#ftt" x="128" y="0"/><g transform="translate(0,256) scale(1,-1)"><use href="#ftt" x="-51" y="0"/><use href="#ftt" x="77" y="0"/><use href="#ftt" x="205" y="0"/></g>
</g></g>
<g id="dm-time"><g fill="none" stroke-width="1" shape-rendering="crispEdges" transform="translate(224.5,1945.5) scale(6.636719,2.691406)">
<rect x="0" y="0" width="256" height="256" fill="#1f9f88"/>
<path stroke="#2ab07f" d="M1 0.5h1m2 0h3m1 0h1m4 0h2m2 0h2m2 0h1m4 0h1m2 0h1m4 0h2m2 0h1m1 0h1m2 0h1m1 0h1m1 0h3m9 0h1m5 0h1m1 0h1m4 0h1m2 0h1m3 0h1m3 0h1m1 0h1m4 0h1m4 0h1m2 0h5m5 0h3m2 0h1m3 0h4m1 0h2m2 0h3m1 0h2m2 0h1m12 0h1m1 0h1m2 0h1m1 0h1m2 0h1m6 0h2m6 0h1m1 0h1m3 0h1m1 0h1m4 0h2m1 0h1m9 0h2m1 0h1m1 0h1m3 0h3m1 0h1m2 0h2m8 0h1m1 0h1m5 0h1m2 0h1m4 0h1m8 0h5M0 1.5h1m1 0h3m1 0h2m3 0h3m2 0h1m1 0h2m1 0h1m6 0h1m5 0h1m1 0h2m1 0h1m5 0h2m8 0h1m2 0h1m5 0h1m1 0h1m3 0h2m1 0h1m3 0h1m1 0h1m1 0h1m1 0h1m2 0h1m3 0h2m5 0h5m5 0h2m3 0h1m1 0h1m2 0h3m9 0h2m2 0h2m9 0h1m4 0h2m2 0h1m3 0h1m2 0h1m2 0h1m2 0h1m4 0h1m1 0h1m3 0h2m3 0h1m1 0h1m2 0h1m10 0h1m1 0h2m5 0h2m1 0h4m7 0h1m1 0h2m10 0h1m2 0h1m8 0h6m1 0h1M1 2.5h1m1 0h4m3 0h3m3 0h1m1 0h2m1 0h1m4 0h1m8 0h1m4 0h1m2 0h1m3 0h1m16 0h2m2 0h3m6 0h1m1 0h1m1 0h2m1 0h1m4 0h3m5 0h1m1 0h3m4 0h2m2 0h1m1 0h2m2 0h2m1 0h1m3 0h1m1 0h1m2 0h3m1 0h2m10 0h1m2 0h2m1 0h1m5 0h1m6 0h1m6 0h1m6 0h1m1 0h3m2 0h1m1 0h2m2 0h1m6 0h1m1 0h2m6 0h2m1 0h2m2 0h1m3 0h1m4 0h2m8 0h2m3 0h1m8 0h4m1 0h2M2 3.5h4m4 0h3m2 0h1m1 0h1m3 0h1m5 0h1m2 0h1m2 0h2m4 0h1m2 0h2m1 0h1m8 0h1m2 0h1m6 0h2m2 0h3m1 0h1m3 0h1m2 0h1m1 0h2m5 0h1m2 0h1m4 0h2m1 0h2m5 0h2m3 0h2m2 0h2m1 0h1m2 0h2m4 0h3m1 0h2m9 0h3m1 0h4m2 0h1m4 0h1m4 0h2m5 0h2m2 0h1m4 0h2m2 0h1m1 0h1m4 0h1m6 0h4m2 0h1m3 0h3m2 0h1m1 0h1m4 0h1m4 0h1m3 0h1m4 0h3m2 0h1m9 0h5M1 4.5h3m4 0h3m2 0h2m3 0h1m1 0h1m1 0h1m6 0h1m1 0h1m1 0h1m5 0h1m2 0h1m2 0h1m7 0h1m2 0h1m1 0h1m2 0h1m3 0h1m1 0h4m4 0h2m3 0h2m2 0h1m2 0h1m2 0h1m5 0h4m1 0h1m4 0h1m1 0h3m3 0h3m3 0h1m4 0h7m10 0h1m1 0h1m1 0h2m4 0h1m1 0h1m5 0h1m7 0h2m2 0h1m4 0h2m3 0h2m1 0h1m9 0h1m1 0h1m6 0h4m1 0h1m1 0h2m4 0h1m5 0h1m8 0h1m1 0h3m6 0h1m2 0h5m4 0h1M1 5.5h3m3 0h1m1 0h1m2 0h2m2 0h1m2 0h1m1 0h1m3 0h1m1 0h1m1 0h1m7 0h2m5 0h1m3 0h1m8 0h3m1 0h1m1 0h1m1 0h1m1 0h3m3 0h1m2 0h1m1 0h1m1 0h2m3 0h1m2 0h3m1 0h1m2 0h6m4 0h3m1 0h1m3 0h3m3 0h1m4 0h1m1 0h3m1 0h2m10 0h1m3 0h2m1 0h1m1 0h2m2 0h1m8 0h2m1 0h1m1 0h1m1 0h1m5 0h2m1 0h2m1 0h1m12 0h2m1 0h1m4 0h2m1 0h1m1 0h1m1 0h1m2 0h1m1 0h1m5 0h1m8 0h1m1 0h2m11 0h1m1 0h2m2 0h2m1 0h1M0 6.5h4m3 0h2m2 0h3m5 0h1m4 0h1m2 0h2m4 0h2m1 0h1m4 0h1m5 0h1m9 0h2m4 0h6m2 0h3m4 0h1m1 0h1m2 0h1m2 0h1m1 0h3m3 0h5m5 0h3m3 0h3m1 0h3m2 0h1m5 0h4m1 0h1m8 0h1m1 0h1m1 0h1m1 0h2m3 0h2m1 0h2m8 0h2m1 0h1m1 0h2m7 0h1m1 0h4m3 0h1m6 0h1m2 0h2m5 0h4m2 0h2m3 0h1m7 0h1m2 0h1m1 0h1m3 0h1m7 0h1m3 0h1m1 0h5m2 0h3M0 7.5h2m1 0h1m1 0h1m1 0h1m3 0h2m2 0h1m2 0h1m7 0h1m3 0h1m1 0h1m1 0h2m3 0h1m6 0h1m4 0h1m3 0h1m1 0h2m4 0h2m1 0h2m3 0h2m1 0h3m2 0h1m1 0h1m1 0h1m2 0h2m1 0h1m4 0h2m1 0h1m2 0h1m3 0h1m4 0h2m2 0h2m3 0h1m4 0h2m1 0h5m4 0h1m3 0h1m2 0h3m3 0h2m1 0h1m6 0h1m3 0h1m1 0h2m1 0h2m2 0h1m2 0h1m3 0h1m1 0h1m1 0h1m9 0h1m1 0h3m6 0h1m1 0h1m1 0h1m3 0h1m2 0h1m10 0h1m5 0h1m2 0h1m2 0h2m5 0h2m1 0h3m2 0h2m1 0h1M0 8.5h1m1 0h1m3 0h1m2 0h1m1 0h1m4 0h1m4 0h1m1 0h1m2 0h1m2 0h2m1 0h2m1 0h1m2 0h1m17 0h2m1 0h2m2 0h1m1 0h3m1 0h1m4 0h2m2 0h2m3 0h1m1 0h2m2 0h1m1 0h1m1 0h3m4 0h1m1 0h1m5 0h1m3 0h2m6 0h1m2 0h1m1 0h3m2 0h1m3 0h1m2 0h1m1 0h1m2 0h1m2 0h3m1 0h1m1 0h1m5 0h1m3 0h1m2 0h2m2 0h1m8 0h1m5 0h1m3 0h1m4 0h1m1 0h1m6 0h1m2 0h1m4 0h1m1 0h1m2 0h2m8 0h1m5 0h1m3 0h1m2 0h1m4 0h2m2 0h3m2 0h1m1 0h1M0 9.5h1m1 0h1m3 0h1m1 0h3m3 0h2m1 0h1m1 0h2m6 0h3m1 0h1m1 0h2m4 0h1m1 0h1m7 0h1m5 0h2m1 0h1m3 0h1m1 0h2m1 0h2m3 0h2m1 0h1m1 0h2m4 0h3m1 0h2m2 0h4m1 0h1m2 0h2m3 0h1m1 0h1m1 0h1m2 0h2m3 0h1m6 0h7m5 0h1m3 0h1m1 0h1m2 0h3m1 0h1m1 0h1m12 0h2m6 0h1m3 0h2m4 0h1m4 0h2m5 0h1m1 0h1m3 0h2m2 0h2m2 0h1m5 0h2m8 0h1m5 0h1m3 0h1m8 0h1m1 0h1m1 0h4m1 0h2M0 10.5h1m4 0h2m1 0h1m2 0h1m5 0h1m3 0h1m4 0h3m3 0h2m8 0h1m1 0h2m10 0h2m2 0h1m1 0h3m3 0h1m1 0h1m1 0h1m1 0h1m2 0h1m5 0h5m1 0h2m4 0h2m1 0h2m2 0h1m1 0h1m2 0h2m1 0h1m2 0h1m2 0h1m6 0h1m2 0h1m1 0h1m6 0h1m2 0h1m3 0h1m1 0h2m1 0h2m4 0h1m3 0h1m4 0h2m1 0h1m4 0h2m2 0h2m2 0h2m5 0h2m6 0h2m7 0h1m1 0h1m2 0h1m3 0h1m1 0h1m9 0h1m8 0h2m1 0h2m5 0h1m1 0h1m1 0h3m2 0h1M2 11.5h2m1 0h2m4 0h1m4 0h1m3 0h1m4 0h1m1 0h1m4 0h1m8 0h1m4 0h1m8 0h2m1 0h1m2 0h2m3 0h1m1 0h1m2 0h1m1 0h1m2 0h1m1 0h1m1 0h1m2 0h3m2 0h2m2 0h4m1 0h1m1 0h2m2 0h1m2 0h2m3 0h1m1 0h2m3 0h1m1 0h1m2 0h2m1 0h3m1 0h1m4 0h1m5 0h1m1 0h2m1 0h1m4 0h1m1 0h1m7 0h4m4 0h2m6 0h1m5 0h1m2 0h1m6 0h2m6 0h1m1 0h2m6 0h3m1 0h1m6 0h1m4 0h1m3 0h1m4 0h1m3 0h2m1 0h1m2 0h3M1 12.5h2m2 0h1m9 0h2m2 0h2m3 0h4m6 0h1m5 0h2m5 0h1m6 0h1m1 0h3m1 0h2m4 0h1m1 0h1m3 0h1m4 0h1m2 0h1m2 0h2m2 0h2m2 0h3m1 0h2m1 0h2m1 0h1m2 0h2m2 0h1m3 0h2m1 0h1m3 0h1m2 0h1m1 0h5m5 0h1m5 0h1m2 0h1m1 0h1m2 0h1m1 0h1m5 0h1m1 0h1m1 0h3m5 0h2m4 0h1m1 0h1m1 0h1m2 0h1m1 0h1m1 0h1m1 0h1m4 0h2m6 0h3m1 0h1m5 0h1m1 0h1m2 0h1m5 0h1m4 0h1m3 0h1m1 0h1m1 0h1m5 0h2m2 0h2m1 0h1m7 0h1M1 13.5h2m4 0h1m4 0h2m1 0h1m8 0h3m3 0h1m2 0h1m1 0h1m3 0h1m6 0h1m5 0h2m1 0h4m1 0h2m3 0h3m7 0h2m2 0h1m1 0h4m1 0h1m3 0h3m1 0h5m2 0h1m1 0h2m1 0h2m3 0h1m1 0h1m1 0h1m1 0h1m2 0h3m1 0h4m1 0h1m4 0h1m3 0h1m3 0h1m4 0h1m2 0h1m1 0h1m3 0h1m2 0h2m1 0h1m1 0h1m1 0h2m14 0h2m1 0h1m1 0h1m3 0h1m1 0h1m3 0h1m1 0h1m1 0h1m8 0h2m7 0h1m4 0h1m1 0h1m4 0h2m5 0h2m1 0h1m1 0h1m1 0h2m1 0h1m2 0h1m3 0h1M1 14.5h1m4 0h1m3 0h3m6 0h1m1 0h1m1 0h3m1 0h1m4 0h2m5 0h1m4 0h1m2 0h1m5 0h7m4 0h2m3 0h1m2 0h1m1 0h2m4 0h2m1 0h1m1 0h1m2 0h3m1 0h1m1 0h4m1 0h2m1 0h1m2 0h1m5 0h1m1 0h3m3 0h2m1 0h1m1 0h1m1 0h2m1 0h1m3 0h2m1 0h1m1 0h1m3 0h1m1 0h1m2 0h1m2 0h1m4 0h1m1 0h2m2 0h1m2 0h2m2 0h2m3 0h1m6 0h2m3 0h2m9 0h3m1 0h1m1 0h1m5 0h1m1 0h1m1 0h1m1 0h1m2 0h1m2 0h1m2 0h1m1 0h3m2 0h1m7 0h1m2 0h1m4 0h2m6 0h2M1 15.5h1m2 0h2m4 0h2m3 0h1m1 0h1m2 0h1m2 0h3m2 0h1m2 0h1m2 0h1m3 0h1m5 0h3m4 0h3m1 0h4m1 0h1m2 0h1m7 0h1m2 0h2m3 0h3m3 0h3m1 0h2m1 0h4m1 0h1m1 0h2m3 0h1m1 0h2m3 0h3m4 0h1m1 0h1m1 0h1m2 0h4m3 0h1m3 0h1m5 0h1m1 0h1m3 0h2m1 0h1m5 0h2m1 0h1m2 0h2m2 0h1m9 0h4m4 0h2m8 0h2m1 0h1m1 0h2m6 0h1m1 0h1m12 0h1m1 0h2m2 0h1m5 0h1m1 0h1m7 0h2m1 0h1m5 0h2M5 16.5h1m2 0h3m4 0h1m1 0h1m1 0h2m2 0h1m2 0h1m2 0h1m3 0h1m4 0h1m4 0h1m5 0h1m1 0h4m1 0h1m3 0h1m1 0h1m2 0h1m3 0h1m3 0h1m2 0h1m1 0h4m1 0h3m2 0h2m1 0h3m1 0h1m1 0h2m2 0h1m2 0h2m5 0h2m6 0h3m2 0h4m15 0h1m3 0h2m1 0h1m4 0h1m4 0h1m3 0h1m1 0h1m3 0h1m1 0h1m3 0h1m7 0h2m6 0h1m2 0h2m2 0h1m7 0h1m7 0h1m4 0h1m3 0h3m1 0h2m6 0h2m2 0h1m2 0h1m1 0h1m1 0h1m2 0h1m2 0h3M5 17.5h1m2 0h3m8 0h2m1 0h1m1 0h2m1 0h1m4 0h1m5 0h1m10 0h2m2 0h1m1 0h1m3 0h1m2 0h1m2 0h1m1 0h1m2 0h2m1 0h1m1 0h1m3 0h1m1 0h2m1 0h1m2 0h8m1 0h2m5 0h2m1 0h1m3 0h2m4 0h2m2 0h1m1 0h6m10 0h1m2 0h2m3 0h1m1 0h3m2 0h2m3 0h2m3 0h2m4 0h2m1 0h1m1 0h2m3 0h1m3 0h1m1 0h1m5 0h1m1 0h2m1 0h1m1 0h1m2 0h1m6 0h1m2 0h1m2 0h1m4 0h1m3 0h3m1 0h1m7 0h2m2 0h1m5 0h1m3 0h1m2 0h1m1 0h2M4 18.5h1m2 0h2m2 0h1m3 0h1m3 0h1m4 0h1m1 0h1m3 0h1m1 0h1m3 0h3m5 0h2m2 0h2m3 0h2m3 0h3m2 0h1m1 0h1m1 0h3m3 0h1m1 0h1m1 0h1m1 0h3m1 0h2m2 0h4m1 0h2m1 0h2m4 0h4m4 0h2m4 0h1m2 0h1m1 0h1m2 0h4m3 0h1m4 0h1m2 0h1m1 0h2m1 0h1m1 0h1m1 0h2m1 0h1m2 0h1m2 0h1m1 0h1m4 0h1m2 0h1m1 0h1m2 0h1m1 0h1m3 0h1m3 0h3m1 0h1m3 0h1m1 0h1m2 0h1m2 0h1m1 0h1m1 0h1m3 0h1m1 0h1m1 0h1m3 0h1m7 0h5m5 0h1m2 0h2m4 0h1m2 0h1m1 0h1m1 0h2m2 0h1m1 0h3M4 19.5h1m1 0h1m2 0h2m1 0h1m5 0h1m3 0h1m1 0h1m3 0h1m5 0h1m2 0h1m4 0h2m5 0h1m2 0h1m5 0h1m3 0h1m4 0h2m5 0h2m1 0h2m3 0h4m1 0h6m1 0h2m3 0h6m4 0h1m3 0h2m3 0h1m3 0h1m1 0h2m2 0h1m10 0h1m1 0h1m1 0h1m1 0h1m1 0h2m6 0h1m2 0h1m1 0h1m6 0h1m1 0h2m8 0h1m2 0h2m5 0h1m2 0h1m2 0h1m1 0h3m6 0h2m12 0h3m2 0h1m2 0h1m2 0h1m2 0h2m2 0h1m3 0h5m4 0h1m1 0h3M2 20.5h2m3 0h1m2 0h3m4 0h1m4 0h1m6 0h1m3 0h1m7 0h1m2 0h1m4 0h2m4 0h1m3 0h2m3 0h1m2 0h1m6 0h3m1 0h2m1 0h1m1 0h1m2 0h1m1 0h2m1 0h3m4 0h4m1 0h1m3 0h1m3 0h3m4 0h1m1 0h1m2 0h3m1 0h1m6 0h1m2 0h1m2 0h2m3 0h3m6 0h2m3 0h1m5 0h6m6 0h3m1 0h3m1 0h1m5 0h2m2 0h3m7 0h1m9 0h1m3 0h2m1 0h1m1 0h1m4 0h1m3 0h2m3 0h1m4 0h2m4 0h2m2 0h3M1 21.5h1m3 0h1m4 0h2m6 0h1m1 0h1m3 0h1m3 0h1m3 0h1m4 0h1m2 0h2m6 0h1m6 0h1m1 0h3m3 0h2m3 0h1m4 0h3m1 0h2m2 0h4m2 0h5m6 0h5m1 0h1m1 0h1m3 0h2m8 0h5m1 0h1m5 0h1m1 0h1m3 0h3m1 0h1m1 0h3m2 0h2m2 0h2m2 0h1m6 0h2m1 0h3m7 0h2m2 0h1m1 0h1m6 0h1m1 0h1m2 0h1m3 0h1m3 0h1m1 0h1m8 0h1m3 0h2m2 0h3m2 0h1m4 0h1m4 0h1m1 0h1m3 0h1m4 0h2m1 0h1m1 0h3M0 22.5h1m1 0h1m2 0h1m1 0h1m1 0h1m6 0h1m3 0h1m3 0h1m3 0h1m2 0h1m2 0h1m4 0h1m3 0h1m3 0h2m3 0h1m3 0h4m3 0h1m5 0h1m3 0h1m1 0h1m1 0h1m2 0h1m1 0h2m2 0h4m2 0h2m2 0h1m1 0h4m1 0h1m5 0h1m3 0h1m6 0h4m1 0h1m7 0h1m3 0h3m1 0h2m1 0h1m1 0h1m1 0h1m3 0h2m2 0h1m3 0h1m1 0h1m1 0h2m1 0h1m3 0h2m2 0h3m3 0h3m7 0h1m1 0h1m1 0h1m2 0h1m4 0h2m1 0h1m6 0h2m4 0h1m1 0h1m1 0h1m1 0h1m6 0h1m3 0h2m5 0h1m6 0h1m1 0h1m1 0h2M0 23.5h2m2 0h1m2 0h2m1 0h1m3 0h1m1 0h1m2 0h1m3 0h1m3 0h2m1 0h1m3 0h1m7 0h1m3 0h1m7 0h2m2 0h1m3 0h2m4 0h2m3 0h1m1 0h1m2 0h3m1 0h1m2 0h3m3 0h2m2 0h4m1 0h2m7 0h1m2 0h1m4 0h1m1 0h3m1 0h1m1 0h1m10 0h1m1 0h2m3 0h1m1 0h3m6 0h1m8 0h3m1 0h1m3 0h1m2 0h2m2 0h1m1 0h3m5 0h2m1 0h2m1 0h1m1 0h1m7 0h2m5 0h4m3 0h1m3 0h3m2 0h1m3 0h1m1 0h1m1 0h2m3 0h1m7 0h1m2 0h1m1 0h3M0 24.5h1m5 0h1m1 0h1m3 0h1m5 0h1m4 0h1m4 0h1m3 0h1m7 0h1m4 0h1m6 0h1m2 0h1m1 0h2m2 0h2m4 0h3m4 0h2m1 0h2m2 0h1m1 0h4m2 0h3m2 0h3m2 0h3m2 0h1m3 0h2m1 0h1m3 0h1m2 0h3m2 0h1m10 0h1m2 0h1m1 0h1m1 0h6m2 0h1m4 0h1m4 0h1m3 0h2m3 0h1m1 0h1m2 0h3m2 0h1m2 0h1m4 0h1m4 0h2m1 0h1m7 0h2m6 0h3m6 0h1m2 0h2m8 0h2m2 0h1m5 0h1m4 0h2m2 0h1m1 0h3M0 25.5h1m2 0h1m2 0h1m4 0h1m1 0h1m6 0h1m2 0h1m7 0h2m5 0h1m3 0h1m1 0h1m9 0h1m1 0h2m2 0h2m3 0h1m1 0h2m3 0h6m2 0h3m1 0h1m1 0h4m1 0h2m1 0h2m1 0h1m1 0h2m3 0h1m6 0h2m2 0h1m2 0h1m2 0h1m12 0h2m2 0h1m3 0h1m1 0h1m3 0h1m5 0h1m4 0h1m1 0h2m1 0h1m3 0h1m4 0h3m3 0h3m3 0h2m2 0h1m1 0h2m1 0h1m6 0h2m6 0h3m6 0h2m1 0h2m6 0h1m1 0h4m5 0h1m6 0h1m4 0h3M0 26.5h1m4 0h3m2 0h2m4 0h1m12 0h3m1 0h1m6 0h1m1 0h1m4 0h1m3 0h1m1 0h4m2 0h1m5 0h3m4 0h5m2 0h2m1 0h1m2 0h2m2 0h1m1 0h2m2 0h1m1 0h1m2 0h2m3 0h1m3 0h1m7 0h1m1 0h1m1 0h2m3 0h2m5 0h2m1 0h1m1 0h1m1 0h4m1 0h2m1 0h2m2 0h1m4 0h1m1 0h1m2 0h1m1 0h1m2 0h1m4 0h3m2 0h1m2 0h1m3 0h1m2 0h1m2 0h2m1 0h1m10 0h1m3 0h3m2 0h1m2 0h1m2 0h1m1 0h2m8 0h2m5 0h1m6 0h2m3 0h1m1 0h2M2 27.5h1m1 0h2m6 0h1m6 0h1m3 0h1m2 0h1m1 0h2m1 0h1m4 0h1m2 0h1m1 0h1m3 0h2m2 0h1m2 0h5m2 0h1m2 0h1m1 0h2m1 0h1m3 0h3m1 0h1m1 0h1m1 0h1m2 0h1m1 0h4m1 0h1m1 0h1m1 0h1m1 0h2m2 0h1m4 0h1m4 0h1m1 0h1m4 0h2m1 0h1m6 0h1m3 0h1m1 0h1m5 0h2m1 0h2m1 0h2m2 0h1m6 0h3m4 0h3m1 0h2m1 0h1m1 0h3m3 0h1m1 0h1m1 0h1m1 0h1m5 0h3m17 0h1m1 0h1m3 0h1m2 0h2m1 0h1m7 0h4m3 0h1m3 0h1m2 0h3m3 0h1m1 0h3M0 28.5h1m2 0h2m5 0h2m3 0h1m1 0h1m3 0h1m3 0h1m1 0h2m9 0h1m2 0h1m2 0h1m3 0h1m2 0h1m1 0h1m2 0h1m1 0h1m1 0h1m2 0h1m2 0h2m1 0h4m1 0h4m3 0h2m1 0h2m2 0h4m1 0h2m2 0h2m1 0h1m2 0h2m2 0h1m1 0h1m5 0h2m5 0h1m6 0h2m4 0h1m1 0h1m1 0h1m1 0h2m1 0h2m7 0h1m1 0h1m1 0h1m2 0h1m2 0h2m1 0h1m3 0h1m1 0h1m10 0h1m2 0h2m1 0h2m2 0h1m7 0h1m7 0h2m4 0h1m1 0h1m3 0h1m1 0h1m3 0h1m1 0h3m3 0h1m2 0h1m3 0h2m3 0h1m2 0h4M3 29.5h1m5 0h2m3 0h1m12 0h1m1 0h1m7 0h1m4 0h3m6 0h2m2 0h1m3 0h2m2 0h1m1 0h2m1 0h4m2 0h1m1 0h1m3 0h1m1 0h1m1 0h1m1 0h4m1 0h3m3 0h1m1 0h1m2 0h1m12 0h1m2 0h1m1 0h2m4 0h3m5 0h1m2 0h1m2 0h2m1 0h2m9 0h1m2 0h1m1 0h1m2 0h1m3 0h1m3 0h2m5 0h1m4 0h1m2 0h2m2 0h2m1 0h1m3 0h1m3 0h1m6 0h2m4 0h1m1 0h1m2 0h1m2 0h3m2 0h1m2 0h1m1 0h1m4 0h2m5 0h1m1 0h2m2 0h4M2 30.5h1m8 0h1m8 0h1m1 0h1m3 0h2m4 0h1m3 0h1m4 0h1m1 0h1m5 0h1m1 0h1m2 0h2m3 0h2m3 0h6m3 0h1m6 0h2m1 0h4m1 0h2m1 0h1m5 0h1m2 0h1m2 0h1m9 0h1m2 0h1m1 0h4m3 0h2m3 0h1m2 0h1m3 0h1m1 0h3m1 0h1m7 0h3m1 0h1m3 0h3m1 0h1m1 0h1m3 0h2m1 0h1m3 0h1m3 0h1m1 0h1m1 0h1m1 0h2m1 0h3m7 0h1m6 0h1m4 0h1m2 0h1m2 0h1m2 0h3m2 0h1m3 0h1m5 0h1m6 0h1m1 0h1m3 0h4m2 0h1M8 31.5h1m2 0h1m7 0h2m5 0h3m1 0h1m5 0h1m3 0h2m4 0h1m1 0h1m1 0h1m3 0h1m1 0h1m2 0h1m2 0h4m1 0h5m2 0h1m5 0h2m1 0h3m1 0h4m1 0h1m1 0h1m1 0h2m1 0h1m2 0h1m13 0h2m1 0h1m1 0h1m3 0h1m3 0h1m3 0h1m3 0h1m1 0h3m2 0h1m8 0h1m5 0h1m1 0h4m3 0h3m7 0h1m1 0h1m3 0h2m1 0h4m6 0h1m10 0h1m1 0h1m2 0h1m2 0h2m2 0h3m2 0h1m6 0h1m8 0h2m4 0h1m1 0h1m1 0h2M14 32.5h1m2 0h3m5 0h2m9 0h1m2 0h2m1 0h1m1 0h1m1 0h1m2 0h1m5 0h1m5 0h1m1 0h2m1 0h2m1 0h1m3 0h2m2 0h1m2 0h6m1 0h4m4 0h2m1 0h2m1 0h1m2 0h1m7 0h1m2 0h3m3 0h1m2 0h1m1 0h1m1 0h1m3 0h1m2 0h5m2 0h1m2 0h1m4 0h2m1 0h1m5 0h1m1 0h2m4 0h1m4 0h1m7 0h1m2 0h1m1 0h1m1 0h2m6 0h1m1 0h1m5 0h1m3 0h2m1 0h1m4 0h1m1 0h1m1 0h4m6 0h1m1 0h1m2 0h1m5 0h1m4 0h2m2 0h3m1 0h1M17 33.5h2m5 0h4m6 0h1m1 0h1m1 0h2m1 0h1m1 0h1m4 0h1m3 0h2m1 0h1m2 0h1m1 0h3m1 0h4m3 0h1m1 0h2m1 0h1m2 0h5m1 0h1m1 0h3m5 0h1m1 0h2m1 0h1m7 0h1m4 0h3m2 0h2m4 0h2m1 0h1m4 0h1m2 0h4m11 0h1m2 0h1m5 0h1m1 0h1m2 0h2m3 0h2m9 0h1m3 0h1m1 0h1m1 0h1m7 0h2m9 0h1m2 0h1m3 0h1m1 0h1m2 0h3m6 0h1m9 0h1m6 0h1m2 0h4M5 34.5h1m1 0h1m9 0h1m6 0h1m1 0h1m7 0h1m3 0h1m1 0h1m2 0h1m2 0h1m1 0h1m2 0h1m5 0h1m1 0h11m3 0h2m3 0h3m1 0h8m1 0h1m2 0h1m1 0h2m5 0h1m8 0h3m2 0h1m2 0h4m1 0h1m4 0h1m1 0h1m1 0h4m8 0h1m2 0h1m1 0h3m4 0h1m2 0h1m2 0h1m3 0h1m1 0h1m9 0h1m3 0h1m1 0h1m2 0h1m2 0h1m3 0h1m9 0h2m1 0h1m2 0h2m1 0h2m1 0h3m5 0h2m7 0h1m2 0h1m4 0h1m2 0h3m1 0h1M13 35.5h1m8 0h1m2 0h1m4 0h1m2 0h1m4 0h2m1 0h1m4 0h1m1 0h1m5 0h1m3 0h4m1 0h2m1 0h3m3 0h2m3 0h4m1 0h2m1 0h3m7 0h3m14 0h1m2 0h2m2 0h3m2 0h1m5 0h1m2 0h2m2 0h1m1 0h1m4 0h2m2 0h1m2 0h2m3 0h1m3 0h1m1 0h2m3 0h1m1 0h1m9 0h2m2 0h1m1 0h1m2 0h1m3 0h1m2 0h1m5 0h1m2 0h2m2 0h1m1 0h1m2 0h1m2 0h1m1 0h3m4 0h2m5 0h1m2 0h1m1 0h1m5 0h1m2 0h3m1 0h1M5 36.5h1m5 0h1m4 0h1m8 0h1m4 0h3m5 0h3m1 0h1m2 0h2m1 0h1m1 0h1m4 0h1m1 0h4m2 0h2m1 0h2m4 0h2m1 0h2m1 0h4m1 0h3m2 0h1m5 0h3m1 0h1m9 0h1m1 0h1m1 0h1m2 0h1m3 0h2m2 0h2m3 0h1m3 0h3m1 0h1m6 0h2m3 0h1m2 0h1m4 0h1m2 0h2m6 0h2m9 0h1m5 0h1m2 0h1m3 0h1m2 0h2m9 0h1m3 0h1m2 0h1m1 0h3m1 0h2m5 0h2m4 0h1m2 0h1m1 0h2m3 0h1m3 0h2m1 0h1m1 0h1m2 0h1M9 37.5h2m4 0h1m8 0h1m4 0h2m4 0h1m1 0h1m2 0h2m2 0h3m1 0h1m7 0h5m1 0h1m1 0h3m1 0h1m2 0h4m1 0h1m1 0h2m2 0h3m1 0h2m2 0h1m3 0h2m1 0h1m9 0h1m1 0h1m2 0h1m2 0h2m1 0h2m3 0h1m2 0h1m1 0h1m3 0h1m1 0h2m4 0h2m2 0h1m2 0h2m2 0h3m2 0h1m1 0h1m6 0h4m7 0h1m1 0h1m1 0h1m2 0h2m8 0h1m10 0h2m1 0h2m3 0h2m1 0h1m2 0h1m2 0h2m1 0h1m6 0h1m1 0h1m1 0h2m4 0h1m2 0h3m2 0h1m2 0h2M9 38.5h1m11 0h2m1 0h1m3 0h2m1 0h1m1 0h1m1 0h3m1 0h2m3 0h2m10 0h2m1 0h1m2 0h2m1 0h3m3 0h5m2 0h1m3 0h2m2 0h2m6 0h3m9 0h1m1 0h1m2 0h1m2 0h2m2 0h2m4 0h1m1 0h1m5 0h2m6 0h1m1 0h2m3 0h1m2 0h1m1 0h1m5 0h1m4 0h3m1 0h1m15 0h2m6 0h2m10 0h2m1 0h2m2 0h3m2 0h1m2 0h1m1 0h3m7 0h2m1 0h1m1 0h1m4 0h1m2 0h2m2 0h1m1 0h1m1 0h2m2 0h1M21 39.5h1m1 0h1m2 0h2m5 0h1m4 0h2m2 0h3m1 0h1m5 0h1m1 0h5m1 0h3m1 0h4m2 0h4m1 0h1m1 0h1m3 0h3m1 0h1m1 0h1m5 0h1m1 0h1m10 0h1m3 0h1m3 0h2m2 0h1m3 0h1m2 0h1m6 0h1m5 0h1m1 0h1m1 0h1m7 0h1m4 0h1m1 0h1m5 0h3m10 0h1m5 0h2m2 0h1m5 0h1m8 0h3m2 0h1m1 0h1m1 0h3m4 0h2m1 0h2m9 0h1m3 0h1m3 0h1m2 0h1m2 0h1m4 0h1m3 0h1M3 40.5h1m4 0h1m14 0h1m1 0h3m3 0h1m3 0h1m1 0h3m1 0h3m9 0h1m1 0h3m1 0h1m1 0h1m1 0h1m1 0h2m2 0h2m1 0h3m1 0h1m2 0h1m1 0h1m1 0h3m4 0h1m2 0h1m2 0h1m3 0h1m5 0h1m6 0h1m1 0h1m2 0h1m1 0h1m1 0h3m3 0h1m2 0h2m4 0h1m2 0h1m1 0h2m4 0h4m4 0h1m4 0h4m1 0h1m6 0h1m7 0h2m2 0h1m5 0h2m2 0h1m3 0h5m2 0h1m1 0h2m1 0h2m3 0h2m1 0h2m7 0h1m4 0h1m4 0h1m1 0h1m7 0h2m1 0h1m1 0h1M0 41.5h1m6 0h1m8 0h1m4 0h2m1 0h3m2 0h1m1 0h2m4 0h1m1 0h2m1 0h1m6 0h1m4 0h5m4 0h2m2 0h1m1 0h4m1 0h1m3 0h1m1 0h1m2 0h2m4 0h1m3 0h2m9 0h1m5 0h2m2 0h2m2 0h1m2 0h2m7 0h2m8 0h3m6 0h2m5 0h1m3 0h3m3 0h2m5 0h1m6 0h2m4 0h1m4 0h1m1 0h1m4 0h2m1 0h2m2 0h4m7 0h4m8 0h1m2 0h1m1 0h1m3 0h2m2 0h1m5 0h2m1 0h2m3 0h1M2 42.5h1m12 0h2m8 0h1m3 0h3m3 0h1m1 0h4m3 0h1m1 0h1m5 0h1m1 0h4m1 0h1m1 0h3m1 0h6m1 0h1m6 0h1m1 0h4m7 0h2m2 0h1m2 0h1m2 0h1m7 0h1m1 0h1m4 0h2m1 0h1m1 0h1m5 0h2m1 0h2m2 0h2m2 0h3m5 0h1m1 0h2m1 0h1m3 0h1m2 0h1m1 0h1m2 0h4m4 0h1m5 0h4m5 0h1m2 0h3m7 0h3m2 0h2m4 0h2m3 0h2m2 0h1m5 0h1m10 0h1m2 0h1m7 0h1M1 43.5h1m3 0h1m4 0h1m3 0h1m7 0h1m1 0h2m2 0h3m5 0h3m2 0h1m2 0h1m8 0h5m1 0h1m1 0h1m1 0h7m1 0h2m5 0h1m1 0h4m6 0h1m1 0h2m8 0h1m7 0h2m2 0h1m1 0h1m1 0h2m1 0h1m5 0h1m1 0h2m3 0h2m1 0h1m1 0h2m5 0h1m1 0h2m1 0h1m7 0h3m1 0h3m5 0h1m6 0h1m1 0h1m8 0h2m8 0h3m1 0h4m3 0h2m3 0h3m13 0h1m4 0h1m2 0h1m3 0h1m3 0h1m3 0h1M0 44.5h1m15 0h1m7 0h1m1 0h2m2 0h1m2 0h1m1 0h2m2 0h2m2 0h1m7 0h2m3 0h1m1 0h2m1 0h3m1 0h3m4 0h1m6 0h1m1 0h3m5 0h1m2 0h1m3 0h1m6 0h1m5 0h2m2 0h1m1 0h2m1 0h1m1 0h1m6 0h3m3 0h3m2 0h2m6 0h1m1 0h1m6 0h1m2 0h2m3 0h2m5 0h1m5 0h3m6 0h1m2 0h1m2 0h1m3 0h1m1 0h5m1 0h2m3 0h2m4 0h2m4 0h1m10 0h1m2 0h1m1 0h1m1 0h1m1 0h1m1 0h1m2 0h2m2 0h1m4 0h2M0 45.5h2m8 0h1m3 0h1m7 0h1m1 0h3m5 0h3m2 0h1m2 0h1m1 0h1m2 0h1m1 0h1m2 0h3m2 0h5m1 0h1m1 0h5m3 0h1m1 0h1m3 0h3m1 0h1m1 0h1m4 0h1m3 0h1m2 0h1m13 0h1m2 0h1m1 0h1m1 0h3m3 0h1m3 0h3m3 0h3m5 0h1m5 0h1m1 0h3m3 0h1m2 0h1m3 0h2m1 0h1m4 0h2m4 0h2m2 0h1m4 0h1m1 0h1m3 0h2m5 0h4m1 0h2m13 0h1m1 0h2m5 0h1m3 0h1m3 0h2m3 0h1m1 0h1m1 0h1m6 0h1m2 0h2M7 46.5h1m1 0h1m11 0h6m4 0h3m2 0h2m3 0h1m1 0h1m2 0h1m4 0h1m2 0h5m2 0h1m1 0h4m2 0h2m4 0h1m2 0h2m2 0h1m5 0h1m2 0h1m1 0h1m1 0h1m2 0h1m10 0h1m2 0h2m1 0h1m1 0h1m2 0h1m5 0h1m6 0h2m5 0h1m4 0h2m1 0h2m3 0h1m2 0h1m2 0h2m2 0h2m3 0h1m5 0h1m3 0h1m1 0h1m3 0h2m2 0h2m1 0h1m2 0h2m1 0h6m2 0h1m4 0h1m5 0h3m5 0h1m4 0h2m2 0h3m2 0h2m3 0h1m3 0h2m4 0h1M8 47.5h1m9 0h1m2 0h1m1 0h3m4 0h1m2 0h1m1 0h2m3 0h2m4 0h1m3 0h2m2 0h7m2 0h4m2 0h1m3 0h2m12 0h1m2 0h1m13 0h1m3 0h2m2 0h3m1 0h2m1 0h1m4 0h1m2 0h2m2 0h3m5 0h1m3 0h1m1 0h2m1 0h1m2 0h1m3 0h1m3 0h1m2 0h3m7 0h3m7 0h1m7 0h1m3 0h3m1 0h6m3 0h1m3 0h1m3 0h3m7 0h1m2 0h1m4 0h2m11 0h1m8 0h1M5 48.5h1m1 0h1m3 0h1m3 0h1m1 0h1m2 0h1m1 0h2m2 0h1m2 0h1m2 0h4m2 0h3m5 0h1m2 0h2m2 0h3m1 0h1m1 0h1m2 0h2m1 0h1m3 0h1m2 0h1m4 0h2m2 0h2m3 0h2m1 0h2m2 0h1m8 0h2m3 0h2m2 0h3m2 0h3m7 0h2m3 0h2m10 0h3m1 0h1m1 0h2m7 0h1m2 0h3m8 0h1m8 0h1m4 0h1m1 0h1m1 0h3m1 0h1m2 0h1m1 0h1m1 0h3m6 0h1m4 0h2m12 0h1m3 0h1m1 0h1m2 0h2m2 0h1m9 0h1m2 0h1M2 49.5h1m2 0h1m1 0h1m1 0h1m1 0h1m3 0h1m1 0h1m3 0h4m7 0h1m4 0h3m2 0h1m2 0h1m3 0h1m3 0h2m1 0h3m3 0h1m1 0h2m2 0h1m1 0h1m1 0h2m1 0h2m3 0h1m4 0h2m1 0h2m2 0h1m8 0h1m1 0h1m3 0h1m2 0h3m1 0h1m1 0h3m4 0h1m2 0h1m3 0h2m9 0h2m1 0h1m3 0h1m8 0h1m2 0h4m3 0h1m1 0h1m10 0h1m2 0h1m2 0h1m3 0h2m1 0h1m2 0h5m1 0h1m7 0h2m2 0h3m2 0h1m8 0h1m3 0h3m2 0h1m2 0h1m6 0h1m3 0h1m2 0h1M3 50.5h1m5 0h1m5 0h2m3 0h4m4 0h1m1 0h1m1 0h1m3 0h2m5 0h1m4 0h2m1 0h5m2 0h1m2 0h3m4 0h2m1 0h1m3 0h1m2 0h1m1 0h1m3 0h1m3 0h1m2 0h2m2 0h1m3 0h1m2 0h1m2 0h1m3 0h2m1 0h1m2 0h4m4 0h1m1 0h2m2 0h3m8 0h3m1 0h1m1 0h2m3 0h1m6 0h1m1 0h2m1 0h1m7 0h1m7 0h1m4 0h1m1 0h1m1 0h4m5 0h2m1 0h1m9 0h1m3 0h2m10 0h1m1 0h2m2 0h2m1 0h1m7 0h1m5 0h1m1 0h2m1 0h2M1 51.5h1m6 0h1m5 0h2m4 0h3m8 0h1m1 0h1m1 0h1m3 0h2m1 0h2m3 0h2m1 0h1m2 0h3m1 0h1m3 0h2m3 0h1m1 0h1m1 0h1m4 0h1m2 0h1m3 0h2m1 0h1m2 0h1m1 0h1m3 0h1m2 0h1m10 0h1m1 0h1m1 0h4m1 0h1m4 0h2m1 0h3m1 0h1m8 0h1m1 0h5m1 0h1m3 0h1m3 0h1m1 0h1m1 0h1m1 0h1m2 0h1m2 0h1m1 0h1m8 0h1m1 0h1m4 0h1m2 0h4m3 0h1m1 0h1m1 0h3m3 0h1m8 0h2m5 0h1m6 0h1m1 0h1m1 0h1m1 0h2m3 0h2m5 0h1m1 0h1m2 0h2M0 52.5h2m5 0h1m2 0h2m1 0h1m1 0h1m2 0h5m7 0h4m5 0h1m1 0h2m1 0h1m1 0h2m1 0h1m2 0h2m1 0h1m1 0h2m2 0h1m3 0h4m5 0h1m2 0h1m2 0h2m3 0h1m1 0h1m1 0h1m2 0h1m2 0h1m6 0h2m2 0h1m2 0h1m1 0h1m1 0h4m3 0h2m1 0h1m1 0h2m1 0h1m1 0h1m5 0h1m2 0h2m1 0h3m3 0h1m3 0h1m3 0h1m2 0h2m4 0h3m5 0h1m1 0h1m8 0h1m1 0h4m3 0h2m1 0h4m3 0h1m5 0h1m1 0h1m1 0h2m9 0h1m2 0h1m1 0h1m2 0h1m1 0h1m2 0h1m1 0h1m4 0h1m1 0h1m1 0h1m2 0h1M0 53.5h2m4 0h1m4 0h1m1 0h2m3 0h3m9 0h1m1 0h1m3 0h2m1 0h1m2 0h2m2 0h2m1 0h1m1 0h3m3 0h2m2 0h1m3 0h2m1 0h2m3 0h2m1 0h1m2 0h1m4 0h1m1 0h1m1 0h1m4 0h1m7 0h2m6 0h1m2 0h1m1 0h2m4 0h2m2 0h1m1 0h1m2 0h1m7 0h1m2 0h3m4 0h1m4 0h1m6 0h1m1 0h1m3 0h2m5 0h1m2 0h1m3 0h1m3 0h1m2 0h4m2 0h2m2 0h2m1 0h1m2 0h1m8 0h2m1 0h1m8 0h1m2 0h1m2 0h1m1 0h2m3 0h3m5 0h1m2 0h2m1 0h1m1 0h1m2 0h1M1 54.5h1m4 0h1m3 0h1m1 0h2m4 0h3m7 0h2m2 0h1m1 0h1m2 0h1m2 0h4m1 0h1m2 0h1m1 0h3m3 0h2m5 0h4m1 0h1m5 0h1m3 0h2m2 0h1m3 0h2m3 0h1m2 0h1m5 0h2m2 0h1m2 0h1m2 0h4m1 0h1m3 0h2m4 0h1m1 0h1m1 0h1m6 0h1m1 0h2m2 0h1m1 0h3m9 0h1m1 0h3m2 0h2m5 0h1m3 0h1m3 0h1m3 0h1m1 0h5m3 0h1m2 0h1m1 0h2m7 0h1m2 0h3m3 0h1m5 0h1m2 0h1m1 0h1m3 0h2m4 0h1m5 0h3m1 0h1m2 0h1m2 0h1m1 0h2M5 55.5h1m2 0h1m1 0h3m2 0h3m2 0h1m7 0h1m3 0h2m1 0h1m4 0h1m1 0h1m2 0h1m1 0h4m5 0h1m4 0h3m1 0h4m3 0h1m1 0h1m1 0h1m1 0h1m5 0h1m5 0h2m2 0h1m5 0h1m1 0h1m3 0h1m3 0h2m2 0h2m3 0h2m4 0h3m6 0h1m1 0h1m1 0h1m2 0h2m1 0h1m5 0h1m4 0h3m1 0h1m7 0h1m2 0h1m6 0h1m3 0h1m1 0h1m1 0h3m2 0h1m1 0h1m2 0h1m2 0h1m6 0h1m3 0h2m2 0h3m3 0h1m2 0h1m1 0h1m4 0h3m2 0h2m4 0h1m2 0h1m1 0h2m4 0h1m2 0h1M1 56.5h1m2 0h1m2 0h1m1 0h3m2 0h2m1 0h1m2 0h2m3 0h1m1 0h1m3 0h1m2 0h1m1 0h1m2 0h3m2 0h5m7 0h1m3 0h2m1 0h3m1 0h1m4 0h2m5 0h1m2 0h2m3 0h3m3 0h2m6 0h2m3 0h1m2 0h1m3 0h3m2 0h3m2 0h1m1 0h2m2 0h1m3 0h2m1 0h1m2 0h1m1 0h4m9 0h3m2 0h3m1 0h1m2 0h1m2 0h1m1 0h1m4 0h1m1 0h1m2 0h1m2 0h2m2 0h4m1 0h3m1 0h1m4 0h1m1 0h1m1 0h1m2 0h1m3 0h2m6 0h1m7 0h2m1 0h1m1 0h1m3 0h1m1 0h1m2 0h1m2 0h1m2 0h2m3 0h1M0 57.5h1m2 0h1m3 0h3m2 0h2m1 0h1m2 0h3m8 0h4m5 0h3m2 0h4m8 0h1m1 0h1m2 0h4m1 0h1m5 0h3m3 0h1m3 0h1m1 0h1m3 0h2m3 0h1m3 0h1m3 0h3m3 0h3m2 0h4m3 0h1m3 0h2m1 0h1m1 0h2m3 0h2m3 0h1m1 0h4m10 0h2m3 0h2m4 0h1m4 0h2m3 0h1m3 0h1m1 0h1m2 0h2m2 0h3m2 0h1m1 0h1m2 0h1m5 0h2m5 0h1m2 0h1m4 0h1m9 0h4m1 0h1m2 0h2m4 0h1m1 0h2m2 0h1m4 0h1M0 58.5h1m5 0h1m3 0h1m2 0h2m2 0h1m2 0h1m7 0h1m1 0h2m2 0h1m1 0h1m3 0h1m2 0h2m1 0h1m6 0h1m2 0h1m4 0h4m5 0h2m7 0h2m1 0h2m1 0h1m1 0h1m3 0h1m8 0h1m1 0h1m2 0h2m1 0h1m1 0h5m5 0h2m1 0h2m2 0h1m3 0h1m4 0h2m2 0h3m5 0h1m3 0h1m1 0h1m2 0h2m2 0h1m8 0h1m4 0h1m2 0h1m4 0h1m3 0h2m3 0h1m5 0h1m3 0h2m4 0h2m1 0h1m1 0h1m8 0h1m5 0h4m2 0h1m1 0h1m7 0h2m1 0h1m6 0h1M0 59.5h1m3 0h1m3 0h1m2 0h1m1 0h2m1 0h1m2 0h1m9 0h2m3 0h3m2 0h4m3 0h1m8 0h3m2 0h3m2 0h1m1 0h1m2 0h1m4 0h1m1 0h1m1 0h2m1 0h2m2 0h2m8 0h1m2 0h2m2 0h1m1 0h1m1 0h1m1 0h3m1 0h1m5 0h2m1 0h1m1 0h2m6 0h1m2 0h2m3 0h1m1 0h2m7 0h2m3 0h1m2 0h2m5 0h1m2 0h2m8 0h1m1 0h1m1 0h1m2 0h2m3 0h1m3 0h3m3 0h3m2 0h1m1 0h2m10 0h1m1 0h1m4 0h4m2 0h2m1 0h1m4 0h1m1 0h1m1 0h1m8 0h1M2 60.5h2m2 0h2m1 0h1m2 0h1m1 0h2m2 0h1m9 0h2m4 0h2m2 0h4m3 0h1m6 0h1m1 0h1m1 0h2m1 0h3m1 0h1m2 0h1m4 0h1m3 0h1m1 0h1m1 0h1m1 0h3m1 0h1m8 0h1m3 0h1m1 0h1m1 0h2m2 0h1m1 0h4m1 0h1m4 0h2m1 0h1m1 0h1m2 0h2m6 0h1m2 0h1m1 0h1m1 0h3m6 0h1m3 0h1m4 0h2m5 0h1m2 0h1m8 0h2m2 0h2m1 0h2m3 0h1m3 0h1m1 0h1m4 0h1m5 0h2m2 0h1m7 0h1m1 0h1m2 0h1m2 0h2m2 0h1m3 0h3m2 0h1m7 0h1m3 0h1m1 0h1M0 61.5h1m4 0h1m5 0h1m1 0h1m13 0h4m2 0h1m3 0h4m3 0h1m1 0h1m5 0h1m2 0h1m2 0h1m1 0h2m3 0h1m3 0h1m3 0h1m1 0h4m1 0h1m1 0h2m1 0h1m7 0h2m5 0h1m1 0h1m2 0h6m6 0h6m1 0h2m4 0h1m5 0h2m1 0h4m5 0h1m3 0h1m5 0h1m8 0h2m3 0h1m3 0h3m2 0h1m2 0h1m1 0h1m2 0h1m1 0h1m3 0h2m5 0h1m3 0h3m1 0h1m8 0h2m3 0h1m1 0h2m1 0h1m4 0h2m2 0h2m12 0h1M1 62.5h2m4 0h1m2 0h2m1 0h1m1 0h1m9 0h1m1 0h2m4 0h1m1 0h4m1 0h1m5 0h1m3 0h2m2 0h1m2 0h6m1 0h1m1 0h1m5 0h4m4 0h2m2 0h2m6 0h2m5 0h2m3 0h6m5 0h1m2 0h3m3 0h2m3 0h1m9 0h1m6 0h1m2 0h1m1 0h2m4 0h2m6 0h2m2 0h1m6 0h3m1 0h1m1 0h1m1 0h1m3 0h1m1 0h2m4 0h1m2 0h1m1 0h2m2 0h4m15 0h1m1 0h1m1 0h1m4 0h1m2 0h1m1 0h1m9 0h1M0 63.5h2m4 0h2m1 0h3m1 0h1m3 0h1m7 0h1m1 0h1m1 0h1m2 0h1m3 0h1m1 0h2m4 0h2m4 0h1m3 0h1m1 0h2m1 0h3m4 0h1m5 0h2m1 0h2m2 0h1m1 0h1m1 0h2m2 0h1m2 0h3m2 0h1m2 0h2m2 0h2m1 0h3m1 0h1m5 0h1m1 0h1m1 0h2m7 0h1m1 0h1m5 0h2m1 0h2m7 0h1m1 0h2m4 0h1m1 0h1m1 0h1m4 0h2m9 0h2m2 0h1m2 0h1m4 0h3m4 0h1m2 0h1m1 0h1m1 0h3m1 0h3m13 0h4m1 0h1m3 0h1m3 0h3m8 0h1m5 0h1M0 64.5h1m4 0h1m3 0h2m4 0h1m5 0h1m6 0h3m2 0h2m2 0h2m4 0h1m5 0h1m3 0h1m1 0h2m1 0h1m1 0h1m6 0h1m2 0h3m1 0h1m1 0h1m2 0h1m2 0h1m2 0h1m3 0h3m4 0h2m1 0h1m1 0h2m1 0h1m1 0h2m6 0h1m1 0h5m4 0h2m8 0h2m1 0h2m4 0h1m2 0h1m1 0h2m5 0h2m2 0h1m2 0h2m1 0h1m4 0h1m3 0h3m9 0h2m5 0h2m2 0h1m3 0h2m1 0h2m11 0h1m3 0h3m1 0h2m1 0h1m2 0h2m1 0h2m8 0h1m4 0h1m2 0h1M4 65.5h1m1 0h1m2 0h2m1 0h1m1 0h1m6 0h1m6 0h3m1 0h1m2 0h1m1 0h2m3 0h1m2 0h1m3 0h1m2 0h9m3 0h1m1 0h2m1 0h1m1 0h3m1 0h1m3 0h1m1 0h1m3 0h1m1 0h2m1 0h1m3 0h2m3 0h5m1 0h2m2 0h1m3 0h1m1 0h5m5 0h1m2 0h1m1 0h1m3 0h2m1 0h1m8 0h2m2 0h1m3 0h1m1 0h1m2 0h1m3 0h1m1 0h1m3 0h1m1 0h1m2 0h3m6 0h1m1 0h2m1 0h1m2 0h1m2 0h1m5 0h1m1 0h1m1 0h2m15 0h3m2 0h2m4 0h1m1 0h1m9 0h2M6 66.5h2m1 0h2m8 0h1m7 0h3m6 0h1m4 0h1m1 0h1m8 0h3m1 0h2m2 0h1m4 0h1m1 0h3m2 0h1m6 0h1m1 0h1m1 0h1m2 0h2m1 0h1m2 0h1m4 0h5m1 0h5m3 0h1m1 0h6m4 0h1m3 0h1m6 0h3m6 0h1m1 0h1m1 0h2m4 0h1m1 0h1m1 0h2m6 0h1m3 0h1m3 0h2m1 0h1m3 0h1m4 0h1m1 0h1m1 0h1m4 0h1m3 0h2m1 0h1m1 0h1m1 0h1m12 0h2m1 0h1m3 0h2m4 0h1m1 0h3m7 0h1m5 0h1m1 0h1M3 67.5h1m2 0h1m1 0h2m4 0h1m2 0h1m1 0h1m6 0h4m4 0h3m4 0h1m1 0h2m7 0h2m1 0h2m2 0h1m3 0h1m1 0h1m1 0h2m2 0h2m2 0h1m5 0h1m1 0h4m8 0h5m1 0h2m1 0h1m1 0h1m2 0h1m2 0h6m6 0h1m3 0h1m4 0h2m1 0h1m6 0h1m1 0h1m4 0h1m3 0h1m1 0h2m6 0h1m6 0h3m1 0h1m7 0h1m2 0h1m3 0h1m2 0h2m2 0h3m2 0h2m3 0h1m9 0h1m1 0h1m4 0h1m4 0h1m1 0h4m3 0h1m9 0h1M1 68.5h2m4 0h3m4 0h3m1 0h2m7 0h3m4 0h1m5 0h2m6 0h1m2 0h2m2 0h1m4 0h2m1 0h1m1 0h4m1 0h2m2 0h1m2 0h1m1 0h2m1 0h2m1 0h1m5 0h1m2 0h3m1 0h3m1 0h1m1 0h2m5 0h6m3 0h1m6 0h2m3 0h1m3 0h1m5 0h1m1 0h1m2 0h1m2 0h1m1 0h3m2 0h2m5 0h1m3 0h1m1 0h1m1 0h2m2 0h1m1 0h1m3 0h1m3 0h1m5 0h1m4 0h1m1 0h1m2 0h1m3 0h1m6 0h1m3 0h3m1 0h1m2 0h2m3 0h2m1 0h1m1 0h2m7 0h1m3 0h1m2 0h1M1 69.5h2m3 0h2m4 0h4m2 0h1m3 0h1m2 0h4m4 0h2m4 0h2m6 0h1m3 0h2m2 0h2m2 0h2m3 0h4m1 0h1m1 0h1m3 0h2m2 0h3m2 0h1m6 0h1m1 0h1m1 0h7m1 0h1m2 0h2m2 0h3m1 0h2m2 0h1m6 0h3m4 0h1m1 0h1m3 0h1m2 0h2m4 0h2m3 0h1m2 0h2m6 0h1m3 0h2m3 0h1m3 0h2m2 0h2m4 0h1m3 0h1m1 0h1m4 0h1m3 0h1m3 0h1m5 0h2m4 0h2m4 0h2m3 0h2m3 0h1m11 0h2m1 0h1M1 70.5h1m3 0h1m5 0h2m1 0h1m6 0h2m3 0h2m5 0h1m4 0h2m1 0h1m8 0h2m2 0h3m1 0h2m3 0h1m1 0h2m1 0h2m1 0h2m2 0h1m1 0h1m2 0h1m2 0h1m6 0h3m1 0h2m1 0h3m1 0h2m2 0h1m2 0h4m1 0h3m8 0h2m4 0h1m1 0h1m3 0h1m2 0h2m5 0h2m2 0h1m1 0h1m1 0h1m3 0h1m2 0h1m3 0h1m1 0h1m2 0h3m2 0h1m3 0h2m4 0h1m2 0h2m11 0h1m8 0h1m4 0h3m5 0h1m3 0h3m2 0h2m1 0h1m1 0h1m6 0h1m3 0h1M6 71.5h1m3 0h3m1 0h1m2 0h1m8 0h1m4 0h1m4 0h1m3 0h1m4 0h1m4 0h1m2 0h1m1 0h4m1 0h1m2 0h1m1 0h1m1 0h2m2 0h1m1 0h3m2 0h2m2 0h2m5 0h3m1 0h5m3 0h1m1 0h1m2 0h2m1 0h2m1 0h4m2 0h1m6 0h1m5 0h1m4 0h1m2 0h2m2 0h1m1 0h2m2 0h1m2 0h1m5 0h1m6 0h1m3 0h2m1 0h1m1 0h1m4 0h1m6 0h2m3 0h1m1 0h1m6 0h1m7 0h1m2 0h1m1 0h1m2 0h2m3 0h1m5 0h1m3 0h3m1 0h1m6 0h1m8 0h1m2 0h1M0 72.5h1m4 0h1m1 0h1m1 0h3m1 0h1m2 0h1m1 0h1m6 0h2m5 0h1m4 0h1m1 0h2m1 0h1m6 0h3m1 0h1m1 0h3m2 0h1m1 0h1m2 0h3m2 0h4m1 0h1m5 0h1m6 0h3m3 0h2m2 0h1m2 0h2m3 0h5m1 0h1m1 0h1m2 0h1m5 0h2m3 0h1m6 0h2m1 0h2m2 0h1m2 0h2m2 0h1m1 0h1m5 0h1m6 0h1m3 0h1m2 0h1m10 0h1m2 0h1m4 0h1m8 0h1m9 0h2m1 0h1m1 0h3m2 0h2m1 0h1m3 0h3m1 0h2m2 0h2m9 0h1m5 0h1M0 73.5h1m4 0h3m1 0h1m1 0h3m2 0h2m7 0h1m6 0h1m5 0h2m2 0h1m6 0h3m3 0h2m1 0h1m1 0h1m3 0h4m2 0h2m1 0h2m8 0h1m5 0h2m1 0h4m9 0h2m1 0h2m1 0h3m1 0h1m9 0h1m2 0h1m5 0h1m4 0h2m3 0h2m2 0h1m1 0h1m7 0h1m4 0h1m2 0h1m4 0h1m3 0h1m14 0h1m8 0h1m5 0h1m4 0h1m1 0h3m1 0h2m3 0h1m3 0h1m1 0h3m2 0h1m1 0h2m15 0h1M4 74.5h1m1 0h2m1 0h3m3 0h2m7 0h2m2 0h1m7 0h3m2 0h2m5 0h3m2 0h2m2 0h1m5 0h5m2 0h1m1 0h2m4 0h1m1 0h2m1 0h1m4 0h1m1 0h1m1 0h4m7 0h6m1 0h2m1 0h1m9 0h1m3 0h1m5 0h1m1 0h1m2 0h2m6 0h1m2 0h1m2 0h1m4 0h1m7 0h2m4 0h1m3 0h1m2 0h1m1 0h2m2 0h1m1 0h1m1 0h1m5 0h1m4 0h1m3 0h1m5 0h2m1 0h1m2 0h1m1 0h1m1 0h1m1 0h1m1 0h1m2 0h3m3 0h1m1 0h1m4 0h1m5 0h1m3 0h1m2 0h1M5 75.5h1m1 0h5m2 0h1m2 0h1m5 0h1m1 0h1m2 0h1m6 0h3m10 0h2m1 0h1m3 0h2m5 0h5m1 0h1m2 0h2m7 0h1m1 0h1m3 0h9m1 0h1m4 0h2m1 0h1m1 0h1m2 0h4m1 0h1m9 0h1m6 0h1m1 0h1m2 0h3m5 0h1m5 0h1m4 0h2m7 0h2m5 0h1m3 0h2m7 0h1m4 0h2m7 0h2m2 0h1m5 0h2m3 0h3m1 0h1m2 0h1m2 0h1m2 0h1m4 0h1m2 0h1m18 0h1M1 76.5h5m1 0h5m8 0h1m1 0h1m2 0h1m1 0h1m5 0h1m1 0h3m8 0h5m2 0h2m1 0h1m4 0h5m1 0h2m1 0h2m7 0h2m5 0h3m1 0h4m2 0h1m3 0h4m1 0h2m1 0h5m1 0h1m2 0h1m4 0h2m8 0h1m2 0h4m3 0h2m4 0h1m5 0h3m6 0h1m11 0h1m1 0h1m5 0h1m3 0h3m7 0h2m4 0h1m4 0h2m4 0h2m2 0h1m3 0h1m2 0h2m3 0h1m1 0h1m1 0h1m7 0h1m2 0h1m7 0h1M0 77.5h2m1 0h3m1 0h2m1 0h1m2 0h1m2 0h1m1 0h2m1 0h3m2 0h1m6 0h2m1 0h1m1 0h1m2 0h1m5 0h3m3 0h1m1 0h2m3 0h3m1 0h1m1 0h1m1 0h1m1 0h2m5 0h2m6 0h3m1 0h5m6 0h1m1 0h2m2 0h5m2 0h1m2 0h1m2 0h2m2 0h1m3 0h1m1 0h1m2 0h1m1 0h5m2 0h1m5 0h1m5 0h3m5 0h2m11 0h2m3 0h1m3 0h1m2 0h3m7 0h1m1 0h1m2 0h1m1 0h1m3 0h1m1 0h1m1 0h1m1 0h1m2 0h2m2 0h1m1 0h1m1 0h1m3 0h4m10 0h1m2 0h1m4 0h1m3 0h1M0 78.5h3m1 0h1m1 0h3m1 0h1m1 0h1m6 0h1m2 0h1m8 0h1m1 0h2m1 0h1m9 0h4m2 0h3m4 0h6m1 0h3m1 0h1m4 0h1m2 0h1m3 0h1m1 0h2m2 0h6m6 0h2m1 0h1m1 0h2m1 0h1m1 0h2m3 0h1m2 0h2m3 0h1m4 0h2m1 0h1m1 0h5m4 0h1m5 0h1m4 0h1m1 0h1m3 0h1m3 0h1m4 0h1m1 0h1m3 0h1m2 0h1m3 0h1m3 0h3m8 0h1m1 0h1m2 0h2m3 0h1m1 0h1m2 0h1m1 0h1m1 0h2m1 0h2m2 0h2m1 0h1m3 0h2m8 0h1m5 0h1m7 0h1M0 79.5h3m3 0h2m1 0h1m3 0h1m3 0h3m4 0h2m5 0h1m1 0h1m2 0h1m2 0h1m2 0h1m2 0h4m3 0h2m3 0h6m1 0h2m1 0h1m1 0h1m8 0h1m3 0h5m1 0h4m2 0h1m4 0h2m2 0h2m1 0h4m5 0h2m5 0h1m2 0h1m1 0h1m1 0h3m2 0h2m16 0h1m5 0h2m8 0h1m1 0h1m3 0h1m6 0h1m1 0h2m1 0h1m9 0h2m2 0h2m4 0h1m2 0h1m2 0h5m5 0h1m1 0h1m1 0h1m1 0h1m2 0h1m7 0h1m2 0h1m1 0h1m2 0h1m4 0h1M0 80.5h1m1 0h1m1 0h5m1 0h1m5 0h4m4 0h1m4 0h1m1 0h1m1 0h1m1 0h1m1 0h2m6 0h2m1 0h1m2 0h2m2 0h2m1 0h1m1 0h2m1 0h2m1 0h3m10 0h1m1 0h3m2 0h4m1 0h2m4 0h1m4 0h3m1 0h3m1 0h1m1 0h3m2 0h1m3 0h1m2 0h4m1 0h2m2 0h4m7 0h1m4 0h1m2 0h1m2 0h1m2 0h2m9 0h1m3 0h2m4 0h2m2 0h1m3 0h1m7 0h1m3 0h1m7 0h1m1 0h1m1 0h5m2 0h1m2 0h2m3 0h1m1 0h1m2 0h2m2 0h1m1 0h2m3 0h1m1 0h1m1 0h1m3 0h1M0 81.5h1m2 0h1m2 0h1m2 0h3m3 0h3m1 0h1m3 0h1m9 0h1m2 0h1m7 0h1m2 0h1m3 0h1m1 0h3m1 0h3m1 0h6m3 0h1m3 0h1m3 0h5m1 0h3m2 0h1m1 0h1m8 0h4m2 0h3m3 0h1m2 0h1m1 0h1m6 0h5m4 0h3m16 0h1m1 0h2m1 0h2m4 0h1m7 0h1m1 0h1m3 0h1m1 0h1m5 0h4m4 0h1m2 0h1m1 0h1m2 0h1m5 0h1m1 0h1m1 0h3m3 0h1m3 0h2m1 0h1m3 0h1m1 0h1m2 0h1m3 0h1m5 0h1M3 82.5h1m1 0h1m2 0h3m4 0h1m1 0h2m3 0h2m5 0h1m2 0h1m3 0h2m5 0h2m2 0h1m2 0h1m1 0h8m1 0h5m2 0h1m4 0h1m4 0h8m1 0h1m1 0h3m6 0h5m3 0h3m1 0h4m1 0h1m4 0h1m2 0h6m3 0h3m3 0h1m9 0h1m3 0h2m1 0h3m3 0h1m7 0h1m1 0h1m4 0h3m2 0h1m2 0h3m4 0h1m2 0h1m1 0h1m7 0h2m2 0h5m3 0h1m1 0h2m1 0h1m3 0h1m4 0h1m1 0h1m4 0h1m4 0h1m2 0h1M4 83.5h4m1 0h1m3 0h1m1 0h4m2 0h2m4 0h1m2 0h3m2 0h2m5 0h1m2 0h1m3 0h1m1 0h1m2 0h1m1 0h1m2 0h1m1 0h1m1 0h1m1 0h3m3 0h1m5 0h7m2 0h1m2 0h1m1 0h1m5 0h1m2 0h1m5 0h2m2 0h3m5 0h1m3 0h1m1 0h4m4 0h2m1 0h1m11 0h2m2 0h2m1 0h1m1 0h1m3 0h1m1 0h1m4 0h1m8 0h2m4 0h5m5 0h1m2 0h2m6 0h1m3 0h6m3 0h2m2 0h2m2 0h1m5 0h3m4 0h1m6 0h1m7 0h1M2 84.5h2m1 0h1m1 0h2m5 0h4m2 0h1m4 0h1m3 0h1m1 0h2m1 0h2m2 0h1m1 0h2m5 0h1m1 0h2m2 0h6m2 0h1m1 0h1m1 0h2m2 0h1m2 0h1m3 0h1m1 0h5m1 0h1m4 0h1m6 0h1m1 0h1m1 0h1m4 0h2m2 0h2m3 0h1m2 0h1m1 0h7m5 0h1m5 0h1m7 0h2m1 0h1m1 0h2m2 0h1m1 0h1m7 0h1m2 0h1m7 0h2m5 0h2m1 0h1m1 0h1m2 0h1m4 0h2m5 0h1m3 0h1m1 0h4m3 0h1m1 0h3m3 0h1m4 0h1m1 0h1m1 0h1m2 0h2m1 0h1m4 0h1m6 0h1m1 0h1M1 85.5h1m1 0h5m5 0h1m1 0h1m2 0h1m5 0h2m2 0h1m1 0h2m2 0h2m2 0h1m1 0h1m4 0h1m1 0h3m2 0h1m1 0h1m1 0h2m1 0h3m2 0h1m1 0h3m1 0h1m6 0h1m1 0h3m2 0h1m3 0h1m1 0h2m3 0h1m3 0h1m3 0h3m2 0h2m3 0h1m1 0h1m2 0h1m1 0h1m1 0h2m1 0h1m1 0h1m2 0h1m2 0h1m9 0h1m1 0h1m2 0h4m4 0h1m1 0h1m5 0h1m1 0h1m6 0h1m1 0h1m5 0h2m2 0h1m2 0h1m1 0h1m1 0h1m1 0h2m3 0h1m5 0h2m2 0h2m2 0h1m2 0h1m6 0h1m5 0h2m4 0h1m1 0h1m11 0h1m1 0h1M1 86.5h4m1 0h1m1 0h1m1 0h1m1 0h2m1 0h1m1 0h2m5 0h1m3 0h3m2 0h2m2 0h1m2 0h1m5 0h2m4 0h1m1 0h3m1 0h3m1 0h1m2 0h1m1 0h1m2 0h1m3 0h1m1 0h5m1 0h2m4 0h1m1 0h1m3 0h1m5 0h2m3 0h1m1 0h1m3 0h1m2 0h1m1 0h1m1 0h1m1 0h3m2 0h1m1 0h2m4 0h1m9 0h1m2 0h5m3 0h1m9 0h1m3 0h2m6 0h1m3 0h3m2 0h2m3 0h1m3 0h1m3 0h1m3 0h1m2 0h1m2 0h3m2 0h1m1 0h2m7 0h1m3 0h2m2 0h1m1 0h4m4 0h1m3 0h1m2 0h1m1 0h1m1 0h1M0 87.5h4m2 0h2m2 0h1m1 0h1m2 0h1m5 0h1m2 0h1m3 0h3m2 0h2m1 0h2m2 0h1m4 0h3m5 0h6m4 0h1m1 0h2m3 0h1m2 0h1m2 0h3m1 0h2m1 0h1m3 0h1m1 0h1m4 0h1m3 0h3m2 0h2m1 0h2m2 0h1m1 0h1m1 0h1m1 0h1m1 0h4m2 0h2m1 0h1m5 0h1m8 0h1m1 0h1m1 0h4m3 0h1m4 0h1m3 0h2m3 0h1m2 0h1m5 0h1m2 0h1m1 0h1m1 0h3m1 0h1m3 0h1m1 0h2m12 0h2m1 0h2m1 0h1m1 0h1m7 0h1m2 0h1m1 0h1m2 0h3m1 0h1m19 0h1M0 88.5h2m4 0h1m2 0h1m1 0h2m1 0h1m1 0h1m3 0h1m3 0h2m2 0h3m3 0h1m1 0h1m8 0h2m2 0h1m2 0h6m4 0h1m1 0h3m1 0h2m5 0h3m1 0h2m4 0h1m2 0h2m1 0h1m4 0h1m1 0h1m3 0h1m1 0h1m4 0h2m2 0h1m2 0h1m1 0h3m1 0h1m3 0h1m6 0h1m4 0h1m3 0h7m2 0h2m4 0h1m9 0h2m6 0h2m1 0h1m2 0h1m1 0h4m2 0h2m15 0h1m1 0h2m2 0h1m1 0h1m8 0h1m3 0h1m1 0h4m2 0h2m8 0h1m2 0h2m3 0h1M0 89.5h1m1 0h1m2 0h2m3 0h1m4 0h1m1 0h1m2 0h1m1 0h1m1 0h1m2 0h3m2 0h2m1 0h3m6 0h2m3 0h1m2 0h5m6 0h1m1 0h1m7 0h1m1 0h6m4 0h1m2 0h1m1 0h2m2 0h1m2 0h1m1 0h1m2 0h3m1 0h1m1 0h1m3 0h2m1 0h1m1 0h1m1 0h1m1 0h1m3 0h1m1 0h1m2 0h1m1 0h1m4 0h1m4 0h2m1 0h3m8 0h2m1 0h1m4 0h1m1 0h1m7 0h1m2 0h1m2 0h4m1 0h1m2 0h1m8 0h1m4 0h1m2 0h1m2 0h1m2 0h1m2 0h1m3 0h1m4 0h1m2 0h1m1 0h4m1 0h2m9 0h1m2 0h2m2 0h2M1 90.5h1m2 0h2m2 0h1m5 0h2m1 0h1m1 0h2m1 0h1m1 0h2m1 0h3m2 0h1m1 0h4m4 0h1m1 0h1m3 0h1m2 0h6m1 0h1m2 0h1m1 0h1m1 0h2m1 0h1m6 0h1m1 0h3m1 0h1m2 0h2m2 0h1m1 0h1m5 0h1m5 0h2m1 0h1m4 0h3m1 0h2m3 0h2m3 0h1m7 0h1m8 0h4m2 0h1m6 0h1m2 0h1m6 0h1m3 0h1m6 0h2m3 0h5m1 0h3m1 0h1m11 0h1m2 0h3m3 0h1m4 0h1m8 0h4m1 0h3m1 0h1m8 0h1m6 0h1M0 91.5h1m1 0h2m4 0h1m4 0h2m1 0h2m3 0h2m2 0h1m1 0h1m1 0h1m3 0h4m2 0h1m2 0h2m4 0h1m1 0h5m2 0h1m3 0h2m1 0h2m1 0h1m1 0h1m3 0h2m1 0h2m2 0h1m1 0h3m2 0h1m2 0h2m3 0h3m1 0h1m1 0h2m1 0h1m2 0h1m1 0h1m1 0h4m3 0h2m3 0h1m7 0h1m3 0h1m5 0h3m2 0h1m6 0h1m2 0h1m9 0h1m7 0h3m1 0h1m1 0h3m1 0h1m1 0h1m1 0h1m12 0h1m1 0h1m1 0h1m3 0h2m13 0h3m3 0h1m2 0h1m5 0h1m9 0h1m2 0h1m2 0h1M0 92.5h2m3 0h1m5 0h6m3 0h5m1 0h1m1 0h1m3 0h2m1 0h1m2 0h1m1 0h1m1 0h1m1 0h1m2 0h1m1 0h2m1 0h3m1 0h1m3 0h2m1 0h2m8 0h3m3 0h3m7 0h1m3 0h1m1 0h1m2 0h1m2 0h1m1 0h2m3 0h2m1 0h2m2 0h1m1 0h3m2 0h1m1 0h1m5 0h1m3 0h1m1 0h2m2 0h1m1 0h2m8 0h1m3 0h1m2 0h1m6 0h1m7 0h2m2 0h1m1 0h2m1 0h2m1 0h2m6 0h1m5 0h1m2 0h3m2 0h2m1 0h1m3 0h1m7 0h2m3 0h2m10 0h1m7 0h2m5 0h1M0 93.5h2m1 0h1m1 0h1m4 0h1m1 0h3m4 0h2m1 0h2m3 0h2m2 0h2m2 0h2m2 0h1m7 0h1m1 0h1m1 0h2m2 0h2m5 0h2m1 0h1m6 0h4m1 0h1m1 0h2m1 0h1m3 0h1m3 0h1m2 0h1m1 0h2m3 0h1m1 0h2m1 0h2m1 0h1m1 0h3m4 0h2m4 0h1m7 0h1m3 0h2m3 0h4m3 0h1m2 0h2m4 0h3m5 0h1m5 0h1m2 0h3m1 0h1m2 0h4m2 0h1m1 0h1m15 0h1m2 0h1m1 0h2m3 0h1m8 0h2m3 0h1m1 0h2m7 0h1m2 0h1m3 0h1m1 0h1m4 0h2M4 94.5h1m2 0h2m2 0h2m2 0h1m2 0h3m1 0h3m1 0h1m2 0h1m2 0h1m2 0h2m2 0h1m1 0h1m4 0h1m2 0h4m1 0h2m2 0h1m2 0h2m1 0h2m2 0h1m4 0h1m1 0h2m1 0h2m6 0h1m1 0h2m1 0h2m2 0h1m3 0h3m1 0h2m1 0h2m1 0h2m1 0h1m2 0h1m8 0h1m1 0h1m2 0h1m1 0h1m2 0h2m4 0h3m3 0h1m2 0h2m4 0h3m4 0h4m4 0h1m2 0h2m1 0h1m1 0h1m1 0h2m1 0h3m4 0h1m3 0h1m4 0h1m3 0h2m2 0h2m1 0h1m2 0h2m2 0h1m2 0h1m1 0h3m1 0h2m1 0h1m1 0h1m5 0h1m6 0h1m2 0h2m3 0h2M10 95.5h2m1 0h1m4 0h1m2 0h1m1 0h1m1 0h1m1 0h2m2 0h1m2 0h2m1 0h1m2 0h1m5 0h2m1 0h2m1 0h3m2 0h1m1 0h1m1 0h1m2 0h2m1 0h2m2 0h5m1 0h3m6 0h2m2 0h1m2 0h2m4 0h3m1 0h1m2 0h1m2 0h2m2 0h1m1 0h1m2 0h1m3 0h1m3 0h2m3 0h4m2 0h1m2 0h2m7 0h1m1 0h1m3 0h3m1 0h1m2 0h3m5 0h1m1 0h1m1 0h1m3 0h6m5 0h1m3 0h1m4 0h1m2 0h2m1 0h3m2 0h1m2 0h2m7 0h3m1 0h1m1 0h2m1 0h1m12 0h2m1 0h2m4 0h2M5 96.5h1m3 0h4m2 0h1m2 0h2m1 0h1m1 0h1m2 0h1m5 0h6m8 0h1m3 0h3m1 0h1m1 0h1m6 0h3m1 0h1m4 0h2m2 0h4m4 0h2m2 0h1m1 0h1m2 0h2m2 0h5m1 0h1m2 0h1m4 0h2m9 0h1m2 0h1m1 0h1m2 0h4m6 0h1m8 0h3m4 0h1m1 0h1m1 0h1m1 0h3m2 0h1m4 0h2m3 0h1m2 0h2m1 0h1m5 0h1m8 0h1m2 0h1m1 0h2m4 0h1m2 0h2m1 0h1m5 0h2m2 0h1m2 0h2m10 0h1m1 0h1m2 0h1m1 0h1m3 0h2M4 97.5h1m3 0h3m1 0h1m2 0h1m1 0h1m5 0h1m4 0h1m1 0h5m1 0h1m1 0h1m1 0h1m4 0h2m1 0h8m2 0h1m2 0h1m1 0h3m1 0h1m4 0h1m3 0h3m4 0h1m1 0h1m2 0h2m2 0h1m2 0h7m2 0h1m2 0h1m1 0h2m12 0h1m4 0h5m6 0h1m2 0h1m2 0h1m1 0h3m5 0h3m3 0h2m3 0h1m5 0h1m5 0h3m5 0h1m2 0h1m7 0h1m2 0h1m1 0h2m1 0h1m2 0h1m2 0h2m7 0h2m3 0h1m4 0h1m9 0h1m2 0h1m1 0h2m2 0h5m1 0h1M7 98.5h4m2 0h1m1 0h2m4 0h2m5 0h2m1 0h5m9 0h8m1 0h1m5 0h4m1 0h3m3 0h1m3 0h4m5 0h1m1 0h4m4 0h1m2 0h4m2 0h1m2 0h1m1 0h2m12 0h2m3 0h1m1 0h2m15 0h2m1 0h1m5 0h1m1 0h1m3 0h1m1 0h1m2 0h1m2 0h1m3 0h1m1 0h1m1 0h4m8 0h1m7 0h1m1 0h3m1 0h1m3 0h2m1 0h1m1 0h1m5 0h1m1 0h1m2 0h1m4 0h1m9 0h1m3 0h1m1 0h1m1 0h1m2 0h1m1 0h3m1 0h1M4 99.5h1m2 0h4m2 0h2m1 0h1m4 0h2m5 0h2m1 0h3m1 0h1m9 0h1m1 0h8m3 0h1m1 0h2m1 0h2m1 0h1m3 0h1m2 0h1m1 0h1m1 0h2m4 0h1m3 0h2m2 0h3m1 0h1m2 0h5m3 0h1m15 0h2m2 0h4m2 0h1m1 0h1m1 0h1m2 0h1m4 0h4m1 0h1m3 0h1m3 0h2m1 0h1m1 0h1m3 0h1m1 0h1m5 0h6m3 0h1m1 0h1m1 0h2m7 0h1m2 0h2m5 0h1m1 0h1m1 0h2m7 0h1m1 0h3m2 0h1m2 0h1m3 0h1m3 0h2m1 0h1m1 0h1m1 0h1m4 0h6M3 100.5h1m3 0h3m3 0h2m6 0h2m4 0h2m1 0h6m7 0h3m1 0h1m1 0h5m4 0h1m1 0h1m1 0h2m1 0h1m4 0h1m2 0h5m2 0h1m2 0h1m1 0h3m1 0h4m1 0h2m1 0h5m2 0h1m13 0h1m3 0h1m2 0h2m3 0h1m12 0h3m3 0h1m5 0h3m7 0h1m3 0h1m4 0h4m2 0h3m2 0h2m6 0h1m1 0h1m1 0h2m3 0h1m4 0h1m1 0h1m7 0h1m1 0h2m3 0h2m1 0h2m7 0h2m1 0h1m3 0h1m2 0h1m2 0h5M4 101.5h1m1 0h4m2 0h2m2 0h1m3 0h1m1 0h1m2 0h2m2 0h5m7 0h1m1 0h9m4 0h1m1 0h2m1 0h2m1 0h1m4 0h1m2 0h1m1 0h3m2 0h1m1 0h1m3 0h1m3 0h3m1 0h1m3 0h1m1 0h2m3 0h1m8 0h1m3 0h1m2 0h2m1 0h2m1 0h1m3 0h1m4 0h2m5 0h1m1 0h2m4 0h1m2 0h1m1 0h3m1 0h1m4 0h2m2 0h2m5 0h1m3 0h4m1 0h2m6 0h1m3 0h1m1 0h1m3 0h1m2 0h1m1 0h2m2 0h1m7 0h2m3 0h1m1 0h1m7 0h1m2 0h2m4 0h1m4 0h5m1 0h1M6 102.5h3m1 0h1m1 0h1m2 0h1m3 0h4m1 0h2m2 0h3m1 0h2m6 0h2m1 0h5m1 0h3m4 0h2m1 0h2m1 0h1m8 0h6m2 0h1m7 0h6m5 0h3m2 0h1m2 0h1m4 0h1m2 0h1m4 0h2m1 0h2m1 0h2m2 0h1m3 0h2m6 0h3m4 0h1m3 0h1m2 0h2m1 0h1m4 0h1m3 0h1m5 0h2m4 0h4m1 0h2m5 0h1m2 0h1m1 0h1m3 0h2m4 0h1m1 0h1m9 0h1m3 0h2m9 0h1m3 0h1m1 0h1m2 0h1m3 0h3m1 0h3m2 0h1M1 103.5h1m3 0h2m1 0h2m3 0h1m4 0h5m4 0h6m1 0h1m5 0h2m1 0h2m1 0h2m1 0h2m3 0h5m4 0h1m6 0h5m1 0h1m1 0h1m7 0h6m5 0h3m9 0h1m3 0h1m2 0h1m1 0h1m2 0h2m2 0h1m3 0h1m2 0h2m2 0h1m4 0h3m5 0h1m1 0h1m3 0h2m4 0h1m1 0h1m2 0h1m6 0h2m3 0h1m1 0h2m3 0h1m5 0h1m7 0h1m4 0h1m1 0h1m4 0h1m1 0h1m1 0h1m1 0h1m1 0h1m2 0h1m3 0h1m3 0h3m1 0h1m1 0h1m1 0h2m2 0h1m2 0h3m2 0h3M0 104.5h1m3 0h5m1 0h1m7 0h4m4 0h5m1 0h1m3 0h1m2 0h1m2 0h1m1 0h3m1 0h3m3 0h4m4 0h1m1 0h1m4 0h5m1 0h1m1 0h2m2 0h1m2 0h1m1 0h5m4 0h1m1 0h3m1 0h1m15 0h1m2 0h3m3 0h1m4 0h3m1 0h1m5 0h3m2 0h1m3 0h1m4 0h1m4 0h1m2 0h2m8 0h1m3 0h3m1 0h1m1 0h1m3 0h1m2 0h1m1 0h1m3 0h2m2 0h1m3 0h1m11 0h1m1 0h1m4 0h1m1 0h1m2 0h2m2 0h1m4 0h1m4 0h1m1 0h3m1 0h3m1 0h1M1 105.5h1m3 0h3m1 0h1m7 0h3m4 0h2m1 0h2m2 0h1m3 0h1m2 0h2m3 0h6m5 0h2m6 0h1m5 0h3m1 0h1m2 0h1m6 0h2m1 0h1m1 0h3m3 0h1m2 0h1m1 0h1m1 0h1m7 0h1m2 0h2m2 0h1m3 0h1m1 0h1m9 0h2m1 0h3m3 0h1m1 0h1m2 0h1m2 0h1m4 0h3m2 0h1m1 0h1m1 0h2m9 0h1m1 0h1m2 0h1m1 0h2m1 0h1m1 0h1m5 0h1m4 0h1m2 0h1m1 0h2m3 0h1m8 0h2m6 0h1m4 0h4m3 0h2m1 0h1m2 0h3m1 0h1m1 0h3m2 0h1m1 0h1M3 106.5h3m1 0h1m4 0h1m3 0h3m3 0h1m1 0h1m1 0h3m1 0h1m1 0h3m4 0h1m1 0h7m4 0h3m6 0h1m5 0h1m1 0h1m1 0h3m1 0h1m5 0h1m2 0h1m1 0h4m3 0h1m3 0h1m1 0h1m6 0h2m1 0h1m1 0h2m4 0h1m1 0h1m2 0h1m3 0h1m2 0h1m1 0h1m1 0h3m1 0h1m1 0h2m7 0h1m5 0h1m2 0h1m1 0h1m1 0h1m1 0h1m5 0h1m2 0h4m1 0h4m3 0h1m2 0h1m4 0h1m2 0h1m4 0h2m12 0h1m7 0h1m2 0h1m2 0h2m6 0h1m3 0h1m2 0h6m2 0h1m1 0h1m1 0h1M0 107.5h1m2 0h1m1 0h1m1 0h2m2 0h1m4 0h1m1 0h1m1 0h2m2 0h5m2 0h1m1 0h1m5 0h1m1 0h6m4 0h4m3 0h1m1 0h2m1 0h1m1 0h1m1 0h1m1 0h1m1 0h2m1 0h1m3 0h1m3 0h1m3 0h4m2 0h1m2 0h1m1 0h1m8 0h1m1 0h1m1 0h1m3 0h1m2 0h1m2 0h1m4 0h1m2 0h1m2 0h2m1 0h2m3 0h1m2 0h1m3 0h1m1 0h1m4 0h1m1 0h2m3 0h1m1 0h1m1 0h1m6 0h3m1 0h1m3 0h2m2 0h1m2 0h1m3 0h1m4 0h1m2 0h3m2 0h1m7 0h3m6 0h1m3 0h1m2 0h2m13 0h1m1 0h3m2 0h1m1 0h1m1 0h2M3 108.5h3m1 0h2m3 0h1m1 0h1m1 0h1m2 0h2m1 0h2m1 0h3m4 0h3m1 0h1m1 0h1m1 0h2m1 0h4m3 0h3m1 0h1m7 0h2m4 0h1m2 0h2m4 0h1m3 0h2m2 0h2m1 0h1m3 0h1m3 0h1m9 0h3m1 0h2m1 0h2m1 0h1m3 0h1m6 0h1m3 0h1m1 0h1m1 0h3m2 0h1m1 0h1m2 0h1m2 0h1m2 0h1m1 0h3m2 0h2m2 0h1m8 0h2m2 0h1m2 0h2m10 0h1m1 0h1m2 0h1m2 0h2m2 0h1m6 0h3m10 0h2m2 0h3m6 0h1m1 0h1m1 0h1m3 0h3m4 0h5M3 109.5h1m1 0h1m1 0h1m1 0h2m1 0h1m2 0h2m1 0h1m1 0h1m1 0h1m1 0h1m1 0h1m1 0h1m1 0h1m1 0h2m1 0h1m2 0h1m2 0h1m1 0h5m1 0h3m1 0h1m1 0h1m1 0h1m2 0h2m2 0h1m1 0h4m1 0h1m1 0h1m1 0h2m3 0h2m2 0h2m2 0h1m7 0h1m7 0h4m7 0h1m4 0h2m4 0h1m1 0h1m1 0h3m1 0h3m4 0h1m2 0h1m1 0h2m2 0h2m1 0h2m4 0h1m9 0h1m4 0h2m1 0h3m3 0h1m1 0h1m3 0h1m4 0h3m1 0h1m2 0h1m6 0h2m1 0h1m6 0h1m1 0h1m1 0h1m1 0h1m1 0h2m8 0h2m3 0h5m3 0h2m1 0h2M0 110.5h1m2 0h4m1 0h1m3 0h1m2 0h2m1 0h1m2 0h1m2 0h3m1 0h1m3 0h1m1 0h1m2 0h1m1 0h1m1 0h5m1 0h3m1 0h1m3 0h1m3 0h1m1 0h1m3 0h2m5 0h1m5 0h1m4 0h1m2 0h1m1 0h1m1 0h1m1 0h1m10 0h1m2 0h2m6 0h1m3 0h3m4 0h2m3 0h1m1 0h3m1 0h1m4 0h1m7 0h3m1 0h3m1 0h1m4 0h1m6 0h1m3 0h2m2 0h3m3 0h2m9 0h2m5 0h1m5 0h2m11 0h1m1 0h3m1 0h1m6 0h1m1 0h2m4 0h4m1 0h1m1 0h1m1 0h2m1 0h1M3 111.5h4m4 0h2m2 0h2m2 0h2m1 0h1m1 0h2m1 0h1m3 0h4m5 0h3m1 0h2m1 0h1m2 0h1m1 0h1m4 0h1m2 0h1m5 0h1m1 0h1m1 0h3m1 0h1m4 0h1m4 0h2m2 0h1m2 0h1m4 0h1m8 0h2m3 0h2m1 0h2m3 0h2m4 0h2m2 0h2m1 0h2m1 0h2m4 0h1m4 0h1m3 0h1m3 0h1m1 0h2m1 0h2m8 0h1m2 0h3m3 0h2m3 0h2m10 0h2m4 0h1m4 0h1m2 0h1m1 0h1m6 0h1m1 0h3m1 0h2m1 0h1m2 0h1m1 0h1m2 0h3m4 0h1m2 0h1m1 0h1m1 0h2m1 0h1m1 0h1M1 112.5h4m1 0h2m1 0h3m2 0h2m1 0h1m1 0h1m1 0h2m1 0h2m4 0h4m5 0h3m1 0h1m1 0h4m1 0h1m1 0h2m1 0h1m2 0h2m3 0h1m2 0h1m2 0h2m1 0h1m5 0h1m4 0h2m2 0h2m1 0h1m7 0h1m5 0h2m3 0h3m1 0h1m4 0h2m4 0h2m3 0h5m1 0h1m4 0h1m3 0h1m3 0h2m1 0h1m2 0h1m2 0h1m4 0h1m7 0h3m3 0h1m1 0h1m1 0h1m1 0h3m2 0h1m1 0h1m4 0h1m13 0h1m8 0h1m1 0h2m1 0h2m4 0h1m11 0h1m2 0h1m3 0h2m1 0h2m1 0h1M0 113.5h3m1 0h3m1 0h2m2 0h4m2 0h4m1 0h1m4 0h1m1 0h4m4 0h4m2 0h1m1 0h1m1 0h1m2 0h5m5 0h2m3 0h1m1 0h1m1 0h2m11 0h2m1 0h1m2 0h1m2 0h1m9 0h1m6 0h2m1 0h1m4 0h1m1 0h1m4 0h1m2 0h1m1 0h2m2 0h1m8 0h1m2 0h1m2 0h2m5 0h1m11 0h1m2 0h1m3 0h1m1 0h3m3 0h2m1 0h1m1 0h1m3 0h1m1 0h1m7 0h1m2 0h1m2 0h2m8 0h5m3 0h1m1 0h1m7 0h1m3 0h2m1 0h3m4 0h2m1 0h2M3 114.5h2m1 0h4m2 0h2m1 0h1m2 0h2m1 0h1m2 0h1m2 0h3m1 0h2m4 0h1m1 0h2m2 0h3m1 0h1m2 0h5m4 0h2m3 0h1m2 0h1m2 0h2m5 0h1m2 0h2m1 0h2m2 0h2m12 0h1m5 0h3m2 0h1m4 0h1m5 0h1m1 0h2m1 0h2m1 0h1m3 0h1m3 0h1m4 0h2m1 0h1m1 0h1m4 0h1m10 0h1m1 0h1m4 0h3m2 0h1m3 0h1m3 0h2m5 0h1m5 0h1m1 0h1m5 0h2m1 0h1m3 0h1m2 0h2m1 0h1m2 0h2m4 0h1m5 0h1m5 0h1m1 0h1m1 0h1m3 0h1m1 0h1m1 0h1M2 115.5h7m2 0h2m1 0h5m1 0h1m1 0h1m1 0h1m1 0h6m2 0h1m3 0h1m1 0h1m2 0h1m1 0h1m1 0h1m1 0h4m4 0h1m1 0h1m3 0h2m1 0h1m3 0h2m3 0h1m2 0h2m3 0h1m2 0h3m18 0h4m3 0h2m1 0h1m3 0h1m1 0h5m4 0h1m1 0h1m7 0h1m1 0h1m1 0h3m4 0h1m3 0h1m14 0h1m1 0h1m1 0h1m1 0h2m1 0h1m3 0h1m2 0h1m3 0h1m1 0h1m2 0h2m1 0h1m5 0h2m7 0h1m1 0h1m5 0h1m2 0h1m1 0h1m3 0h2m2 0h1m2 0h1m1 0h2m4 0h1m1 0h1m2 0h1M2 116.5h7m1 0h3m1 0h2m1 0h1m1 0h1m1 0h1m2 0h1m2 0h2m1 0h2m1 0h2m1 0h1m2 0h1m2 0h1m1 0h1m1 0h2m1 0h3m3 0h1m1 0h1m4 0h1m2 0h1m4 0h1m3 0h1m2 0h2m4 0h1m3 0h2m1 0h1m5 0h1m8 0h5m3 0h2m2 0h1m3 0h1m1 0h4m4 0h2m4 0h1m3 0h3m1 0h3m1 0h1m2 0h2m2 0h1m14 0h1m1 0h1m1 0h1m2 0h1m15 0h1m2 0h1m1 0h1m5 0h3m6 0h1m6 0h1m1 0h1m2 0h1m3 0h1m1 0h1m2 0h1m2 0h1m1 0h2m4 0h2m3 0h1M0 117.5h3m1 0h5m1 0h1m1 0h1m1 0h2m3 0h1m6 0h3m1 0h4m5 0h1m2 0h9m3 0h1m3 0h1m1 0h2m1 0h3m2 0h2m5 0h2m7 0h1m1 0h4m5 0h1m8 0h5m2 0h2m3 0h1m1 0h1m3 0h4m3 0h1m1 0h1m2 0h1m6 0h1m3 0h2m6 0h1m1 0h1m13 0h1m2 0h1m1 0h1m2 0h2m4 0h1m8 0h1m3 0h1m1 0h1m5 0h2m1 0h1m2 0h1m3 0h1m2 0h1m2 0h1m1 0h1m3 0h1m8 0h1m1 0h1m1 0h2m1 0h2m1 0h2m1 0h1m1 0h1m1 0h2M0 118.5h2m1 0h5m2 0h1m1 0h2m4 0h2m2 0h5m2 0h1m1 0h2m6 0h1m1 0h4m1 0h1m1 0h2m1 0h1m5 0h1m1 0h1m2 0h2m1 0h1m4 0h1m4 0h1m6 0h2m2 0h3m14 0h4m3 0h3m6 0h5m5 0h1m1 0h1m6 0h1m1 0h4m1 0h1m1 0h1m3 0h1m1 0h2m13 0h1m2 0h1m1 0h1m2 0h2m2 0h1m1 0h2m6 0h1m5 0h1m5 0h2m1 0h1m7 0h1m1 0h1m1 0h1m1 0h1m2 0h1m2 0h2m5 0h1m2 0h1m2 0h1m1 0h1m1 0h2m5 0h1m1 0h1m3 0h1M1 119.5h6m3 0h1m3 0h1m2 0h1m3 0h2m2 0h2m1 0h1m1 0h2m1 0h2m3 0h2m1 0h5m2 0h2m6 0h3m2 0h2m1 0h2m3 0h1m2 0h1m1 0h1m8 0h1m1 0h4m13 0h1m1 0h2m1 0h2m1 0h1m3 0h1m3 0h2m1 0h1m3 0h2m3 0h2m1 0h1m5 0h1m1 0h1m1 0h2m1 0h1m3 0h1m2 0h1m9 0h1m2 0h2m3 0h2m1 0h1m2 0h1m1 0h1m1 0h1m13 0h1m5 0h1m2 0h1m8 0h1m2 0h2m1 0h2m3 0h1m6 0h1m2 0h1m3 0h1m1 0h2m3 0h1m3 0h2m4 0h1M1 120.5h5m1 0h1m1 0h2m2 0h2m3 0h2m2 0h5m3 0h3m4 0h8m2 0h2m1 0h1m2 0h1m1 0h2m1 0h4m1 0h1m4 0h1m3 0h1m1 0h1m7 0h2m2 0h1m1 0h1m7 0h1m7 0h5m5 0h1m2 0h2m3 0h1m2 0h1m2 0h3m7 0h2m3 0h1m3 0h2m3 0h1m12 0h2m3 0h2m1 0h1m2 0h1m1 0h1m1 0h2m6 0h1m6 0h1m4 0h1m2 0h2m7 0h2m2 0h1m4 0h1m2 0h1m4 0h1m3 0h1m3 0h4m7 0h1m2 0h1M0 121.5h5m1 0h1m1 0h1m3 0h2m1 0h1m1 0h3m1 0h3m1 0h1m1 0h1m1 0h3m5 0h5m1 0h1m1 0h4m2 0h1m1 0h2m2 0h2m1 0h1m1 0h1m1 0h1m3 0h1m1 0h1m1 0h1m8 0h2m1 0h3m8 0h1m2 0h1m4 0h3m1 0h2m2 0h1m1 0h1m2 0h3m2 0h1m3 0h2m1 0h2m2 0h1m4 0h2m1 0h1m2 0h1m1 0h1m2 0h1m2 0h2m1 0h1m8 0h1m5 0h2m1 0h1m5 0h3m3 0h1m16 0h1m5 0h1m4 0h2m2 0h1m5 0h1m6 0h1m3 0h1m3 0h1m1 0h1m6 0h2m1 0h2M1 122.5h4m1 0h1m3 0h2m2 0h1m2 0h1m1 0h1m1 0h1m2 0h2m2 0h4m4 0h5m2 0h5m3 0h4m1 0h3m2 0h2m1 0h1m3 0h2m1 0h1m8 0h1m2 0h4m7 0h1m7 0h3m1 0h2m2 0h2m1 0h1m3 0h1m2 0h2m1 0h3m1 0h1m2 0h1m4 0h1m1 0h1m2 0h1m2 0h3m4 0h1m1 0h2m7 0h1m1 0h1m4 0h5m1 0h1m2 0h2m5 0h1m8 0h1m4 0h1m1 0h1m4 0h2m4 0h1m2 0h1m6 0h1m6 0h3m4 0h5m6 0h1m1 0h3m4 0h1M0 123.5h5m1 0h1m2 0h1m3 0h2m1 0h4m1 0h1m1 0h1m3 0h1m1 0h2m5 0h3m1 0h1m2 0h4m4 0h3m2 0h1m3 0h1m1 0h1m1 0h2m1 0h2m9 0h1m3 0h5m7 0h1m3 0h1m3 0h6m1 0h2m6 0h1m2 0h1m1 0h3m3 0h2m3 0h2m1 0h2m1 0h1m1 0h1m1 0h1m2 0h3m2 0h2m12 0h1m2 0h4m1 0h1m3 0h1m5 0h1m3 0h1m6 0h1m2 0h2m4 0h2m6 0h1m4 0h1m2 0h1m1 0h1m5 0h2m1 0h1m1 0h1m1 0h2m1 0h1m7 0h5m4 0h1M0 124.5h4m2 0h2m3 0h1m1 0h2m1 0h3m1 0h1m4 0h1m1 0h1m1 0h1m4 0h1m1 0h1m1 0h1m1 0h1m1 0h4m3 0h1m1 0h3m2 0h1m3 0h2m2 0h1m1 0h3m8 0h1m3 0h6m7 0h1m2 0h1m5 0h4m1 0h3m7 0h1m1 0h1m1 0h3m1 0h1m1 0h2m2 0h1m1 0h1m5 0h2m3 0h1m4 0h1m8 0h1m3 0h1m3 0h2m1 0h2m4 0h2m4 0h1m3 0h1m2 0h1m3 0h1m2 0h1m5 0h3m5 0h1m7 0h1m9 0h2m2 0h3m1 0h2m6 0h1m1 0h4m3 0h1m1 0h1M0 125.5h3m2 0h2m3 0h2m1 0h2m1 0h3m3 0h1m2 0h1m1 0h3m3 0h1m2 0h2m1 0h1m1 0h5m4 0h4m1 0h1m4 0h2m1 0h1m1 0h3m3 0h1m5 0h1m3 0h2m1 0h2m8 0h1m2 0h1m3 0h9m3 0h1m2 0h1m1 0h1m3 0h1m1 0h2m2 0h2m3 0h2m4 0h1m2 0h3m2 0h2m2 0h1m7 0h1m1 0h1m5 0h4m5 0h1m2 0h1m2 0h1m19 0h1m11 0h1m3 0h1m7 0h2m3 0h3m1 0h1m1 0h1m4 0h2m1 0h3m7 0h1M0 126.5h1m4 0h2m2 0h1m1 0h1m1 0h2m2 0h1m6 0h1m1 0h1m2 0h1m5 0h3m1 0h5m1 0h1m2 0h1m1 0h2m1 0h2m4 0h3m1 0h5m8 0h2m2 0h1m1 0h1m1 0h2m9 0h1m4 0h1m1 0h5m2 0h1m4 0h1m4 0h1m3 0h3m1 0h2m2 0h1m3 0h1m2 0h1m2 0h3m2 0h2m2 0h1m4 0h1m1 0h1m5 0h1m4 0h1m1 0h1m1 0h1m10 0h1m7 0h1m6 0h1m4 0h3m10 0h1m1 0h1m7 0h2m1 0h3m1 0h1m1 0h1m6 0h1m1 0h3m4 0h1m1 0h2M2 127.5h1m1 0h3m2 0h1m2 0h2m3 0h1m4 0h1m2 0h1m1 0h2m4 0h1m1 0h2m1 0h2m1 0h3m6 0h2m1 0h1m4 0h2m1 0h1m1 0h2m1 0h1m8 0h2m4 0h4m6 0h1m2 0h1m4 0h1m1 0h5m2 0h1m3 0h2m1 0h1m2 0h1m1 0h1m1 0h3m1 0h3m4 0h3m1 0h1m1 0h3m3 0h1m1 0h2m6 0h3m2 0h1m3 0h1m1 0h3m21 0h1m7 0h1m2 0h1m1 0h2m9 0h2m9 0h1m1 0h6m7 0h1m2 0h3m6 0h1M2 128.5h5m2 0h2m2 0h1m1 0h1m1 0h1m4 0h2m2 0h1m1 0h1m4 0h1m1 0h5m1 0h1m1 0h1m1 0h1m3 0h4m3 0h2m1 0h1m1 0h1m1 0h2m1 0h1m9 0h1m3 0h4m10 0h2m3 0h2m1 0h3m7 0h2m1 0h1m1 0h2m1 0h1m2 0h2m2 0h2m5 0h2m1 0h3m2 0h2m2 0h1m7 0h2m4 0h1m3 0h3m4 0h1m4 0h1m5 0h1m5 0h1m5 0h1m5 0h4m8 0h2m3 0h1m5 0h1m1 0h1m1 0h4m1 0h1m1 0h1m3 0h1m2 0h1m1 0h4m2 0h2m4 0h1M2 129.5h2m1 0h1m3 0h1m2 0h2m1 0h1m2 0h1m2 0h2m2 0h1m1 0h1m4 0h4m1 0h1m1 0h1m2 0h1m1 0h1m3 0h4m1 0h1m1 0h1m1 0h2m1 0h5m15 0h3m10 0h2m2 0h3m1 0h4m7 0h1m4 0h1m1 0h1m2 0h2m1 0h1m2 0h1m5 0h1m2 0h3m1 0h1m2 0h1m8 0h2m1 0h1m2 0h1m3 0h2m1 0h1m3 0h2m4 0h1m2 0h1m3 0h1m3 0h1m4 0h1m7 0h2m8 0h1m1 0h1m14 0h3m1 0h1m8 0h1m2 0h3m2 0h1m6 0h1M1 130.5h3m3 0h2m3 0h2m3 0h2m2 0h1m2 0h1m2 0h1m3 0h1m1 0h1m1 0h4m3 0h2m1 0h1m1 0h1m1 0h3m1 0h1m2 0h1m2 0h1m1 0h4m2 0h1m9 0h6m11 0h1m2 0h8m2 0h1m3 0h1m2 0h1m2 0h2m3 0h3m2 0h1m5 0h3m1 0h1m2 0h2m5 0h1m6 0h1m2 0h1m1 0h1m2 0h1m2 0h1m4 0h1m9 0h2m8 0h1m1 0h1m3 0h1m3 0h1m8 0h1m15 0h5m1 0h1m7 0h1m2 0h2m1 0h1m9 0h1M0 131.5h3m3 0h2m1 0h1m1 0h2m3 0h1m6 0h1m2 0h2m2 0h3m2 0h3m3 0h1m1 0h1m1 0h1m2 0h2m1 0h1m2 0h1m2 0h1m2 0h2m1 0h1m2 0h1m6 0h1m1 0h1m1 0h1m2 0h1m3 0h1m7 0h1m1 0h1m1 0h8m2 0h1m3 0h1m1 0h1m3 0h2m2 0h3m1 0h1m1 0h1m7 0h1m4 0h2m4 0h1m6 0h2m2 0h1m4 0h1m1 0h1m1 0h1m3 0h1m6 0h1m2 0h1m9 0h1m6 0h2m2 0h1m8 0h1m9 0h1m2 0h1m1 0h4m2 0h1m3 0h1m2 0h2m2 0h1m1 0h3m2 0h1m6 0h1M0 132.5h2m3 0h2m1 0h2m1 0h1m1 0h1m11 0h3m1 0h1m1 0h2m1 0h3m2 0h3m2 0h1m2 0h4m4 0h1m3 0h1m1 0h1m1 0h1m1 0h2m6 0h1m2 0h1m2 0h1m1 0h1m10 0h1m1 0h1m1 0h1m1 0h5m6 0h1m4 0h1m1 0h1m1 0h1m2 0h2m1 0h2m4 0h1m3 0h2m3 0h1m11 0h1m2 0h1m6 0h1m3 0h1m2 0h1m2 0h1m5 0h3m7 0h2m5 0h1m1 0h1m10 0h1m8 0h1m5 0h1m1 0h3m2 0h1m6 0h2m1 0h1m2 0h3m4 0h2m3 0h2M0 133.5h1m3 0h1m3 0h2m1 0h1m1 0h1m7 0h1m1 0h1m1 0h1m1 0h1m2 0h2m1 0h2m4 0h2m3 0h2m1 0h3m1 0h1m1 0h1m2 0h1m3 0h1m1 0h2m1 0h1m6 0h1m3 0h1m2 0h1m9 0h2m1 0h1m1 0h3m1 0h5m2 0h1m1 0h1m5 0h1m2 0h1m2 0h1m1 0h1m5 0h1m2 0h1m2 0h1m1 0h3m7 0h2m5 0h1m1 0h1m1 0h1m5 0h1m1 0h1m4 0h1m4 0h3m1 0h1m7 0h2m2 0h1m1 0h1m3 0h1m4 0h1m13 0h1m7 0h4m1 0h2m4 0h1m3 0h1m2 0h3m5 0h2m3 0h2M3 134.5h2m2 0h3m1 0h2m4 0h1m3 0h1m2 0h2m2 0h4m5 0h3m3 0h1m1 0h3m1 0h1m2 0h1m2 0h1m4 0h3m8 0h1m4 0h1m3 0h1m7 0h2m3 0h3m2 0h3m5 0h1m3 0h1m4 0h1m1 0h2m1 0h1m2 0h2m1 0h1m5 0h1m1 0h3m4 0h1m2 0h1m3 0h1m4 0h1m1 0h1m5 0h1m3 0h1m2 0h1m4 0h3m6 0h1m2 0h1m1 0h1m3 0h1m8 0h1m9 0h1m2 0h1m1 0h1m1 0h1m3 0h3m2 0h3m5 0h1m2 0h1m1 0h1m2 0h1m3 0h1m1 0h2m4 0h2M1 135.5h3m2 0h5m6 0h1m3 0h1m1 0h2m3 0h4m2 0h1m1 0h4m2 0h4m3 0h1m1 0h1m1 0h2m4 0h4m1 0h1m3 0h1m1 0h1m1 0h1m3 0h1m9 0h1m5 0h4m1 0h3m2 0h1m3 0h1m1 0h1m3 0h1m1 0h1m3 0h1m6 0h1m5 0h1m1 0h2m8 0h1m6 0h1m2 0h1m10 0h2m3 0h1m3 0h3m5 0h1m4 0h1m2 0h1m2 0h1m2 0h1m4 0h1m15 0h2m3 0h2m2 0h2m4 0h4m1 0h1m1 0h1m4 0h2m2 0h2m4 0h2M0 136.5h2m2 0h3m1 0h2m3 0h1m1 0h1m5 0h1m2 0h2m1 0h3m6 0h2m1 0h1m2 0h3m3 0h1m1 0h1m7 0h3m9 0h2m3 0h3m8 0h2m2 0h2m2 0h1m1 0h2m1 0h2m1 0h1m2 0h1m6 0h1m1 0h1m2 0h1m3 0h1m1 0h2m4 0h1m3 0h4m15 0h1m1 0h1m4 0h1m3 0h1m2 0h1m2 0h1m2 0h3m5 0h1m4 0h2m1 0h1m2 0h1m3 0h1m12 0h1m6 0h1m4 0h2m1 0h1m1 0h2m1 0h1m1 0h1m1 0h2m2 0h1m1 0h1m2 0h3m4 0h1m3 0h1m1 0h1M0 137.5h1m3 0h3m1 0h1m5 0h2m4 0h1m2 0h2m3 0h1m2 0h1m3 0h1m1 0h1m3 0h3m3 0h1m1 0h1m5 0h1m3 0h1m3 0h1m6 0h1m3 0h3m8 0h2m2 0h2m1 0h3m1 0h4m1 0h1m1 0h1m5 0h1m1 0h2m1 0h1m3 0h2m3 0h1m4 0h1m4 0h3m5 0h1m2 0h1m5 0h1m2 0h1m8 0h2m1 0h2m2 0h1m1 0h1m1 0h1m5 0h1m3 0h2m1 0h1m2 0h1m2 0h1m10 0h2m5 0h1m3 0h1m4 0h1m1 0h1m1 0h1m2 0h2m2 0h2m3 0h1m1 0h1m3 0h2m10 0h2M0 138.5h1m1 0h5m1 0h1m4 0h2m1 0h1m5 0h3m4 0h1m1 0h1m1 0h2m2 0h1m2 0h5m3 0h2m2 0h1m1 0h1m2 0h2m2 0h2m5 0h1m6 0h1m9 0h1m2 0h6m1 0h2m2 0h1m1 0h2m4 0h1m2 0h1m6 0h1m4 0h1m9 0h3m9 0h1m16 0h1m1 0h3m1 0h1m2 0h1m1 0h1m9 0h2m1 0h2m1 0h1m1 0h1m1 0h1m9 0h2m5 0h2m2 0h1m1 0h1m5 0h2m2 0h2m2 0h2m3 0h1m1 0h1m2 0h1m1 0h1m3 0h1m5 0h4M0 139.5h5m6 0h3m7 0h2m4 0h2m3 0h1m2 0h1m3 0h3m1 0h1m2 0h1m1 0h1m3 0h2m6 0h3m3 0h2m3 0h1m9 0h1m1 0h1m2 0h1m1 0h2m1 0h1m1 0h1m2 0h1m2 0h1m1 0h1m3 0h1m1 0h1m4 0h1m4 0h1m2 0h1m2 0h1m7 0h3m9 0h1m2 0h2m10 0h1m2 0h3m1 0h1m1 0h1m2 0h1m7 0h1m3 0h1m2 0h1m1 0h2m1 0h1m3 0h1m6 0h2m5 0h1m5 0h1m4 0h2m2 0h2m1 0h1m6 0h2m3 0h1m1 0h1m11 0h2M0 140.5h1m2 0h2m4 0h4m3 0h1m3 0h3m2 0h3m1 0h2m1 0h1m1 0h1m2 0h4m1 0h1m2 0h1m1 0h1m3 0h1m6 0h1m1 0h2m3 0h2m2 0h1m5 0h1m3 0h1m2 0h1m1 0h1m2 0h2m1 0h5m3 0h3m5 0h1m4 0h1m5 0h1m1 0h2m1 0h1m5 0h1m2 0h3m11 0h2m4 0h1m5 0h1m2 0h1m1 0h2m1 0h1m3 0h1m4 0h1m1 0h1m1 0h1m3 0h1m1 0h1m1 0h4m4 0h1m6 0h1m5 0h1m5 0h1m4 0h1m3 0h2m2 0h2m1 0h1m2 0h2m2 0h2m13 0h2M3 141.5h1m4 0h4m9 0h1m2 0h1m1 0h1m1 0h1m1 0h2m4 0h1m1 0h2m1 0h1m2 0h1m3 0h1m7 0h3m1 0h1m5 0h1m7 0h2m3 0h1m3 0h1m2 0h1m2 0h1m1 0h3m1 0h1m1 0h1m2 0h1m3 0h2m5 0h2m3 0h1m1 0h3m5 0h2m1 0h1m1 0h2m10 0h2m14 0h4m1 0h2m1 0h1m2 0h1m4 0h1m3 0h1m1 0h2m2 0h1m1 0h2m11 0h1m2 0h2m3 0h2m2 0h1m4 0h1m3 0h2m2 0h1m2 0h1m1 0h1m1 0h1m2 0h2m5 0h1m6 0h3m3 0h1M1 142.5h1m4 0h5m10 0h2m3 0h1m1 0h2m1 0h1m2 0h1m1 0h2m1 0h1m2 0h1m10 0h1m3 0h1m1 0h1m5 0h1m7 0h1m4 0h1m2 0h1m1 0h1m6 0h2m1 0h1m3 0h1m1 0h1m1 0h3m6 0h2m2 0h1m1 0h4m2 0h1m2 0h1m1 0h1m2 0h1m11 0h1m13 0h1m1 0h6m1 0h1m5 0h1m4 0h2m1 0h1m1 0h7m10 0h1m9 0h2m5 0h1m1 0h1m2 0h2m2 0h1m2 0h1m1 0h3m2 0h2m5 0h1m6 0h2m2 0h1M0 143.5h1m4 0h1m1 0h1m1 0h1m3 0h1m6 0h1m3 0h1m2 0h2m5 0h2m1 0h3m1 0h1m3 0h1m4 0h3m5 0h1m2 0h2m1 0h1m11 0h2m1 0h2m3 0h1m3 0h3m7 0h1m2 0h2m6 0h1m1 0h1m4 0h4m1 0h1m2 0h1m2 0h1m1 0h1m2 0h1m9 0h2m11 0h1m1 0h2m1 0h2m1 0h1m6 0h1m5 0h1m1 0h4m1 0h3m1 0h1m12 0h1m2 0h1m3 0h3m5 0h1m1 0h1m3 0h1m1 0h1m1 0h2m1 0h2m3 0h1m1 0h1m3 0h1m1 0h1m5 0h2M3 144.5h2m1 0h3m3 0h1m7 0h1m1 0h1m1 0h1m1 0h1m3 0h1m5 0h3m1 0h1m1 0h1m6 0h3m3 0h1m5 0h2m1 0h1m5 0h1m3 0h1m2 0h1m1 0h1m3 0h1m4 0h3m3 0h1m4 0h1m1 0h1m7 0h3m2 0h1m1 0h2m2 0h1m1 0h1m1 0h1m1 0h3m4 0h1m3 0h1m3 0h1m6 0h1m6 0h1m1 0h1m1 0h3m7 0h1m2 0h1m2 0h4m1 0h2m1 0h3m4 0h1m7 0h1m3 0h1m3 0h3m4 0h2m2 0h1m1 0h1m6 0h4m5 0h1m4 0h1m5 0h2M1 145.5h4m1 0h2m1 0h1m3 0h1m6 0h2m1 0h1m2 0h1m2 0h2m6 0h1m1 0h2m1 0h1m4 0h1m1 0h2m4 0h1m1 0h1m2 0h1m2 0h2m9 0h4m3 0h2m3 0h4m2 0h1m4 0h1m1 0h1m1 0h1m6 0h1m1 0h1m1 0h1m3 0h1m2 0h1m2 0h1m3 0h1m2 0h1m7 0h1m3 0h1m12 0h1m2 0h1m1 0h3m5 0h1m1 0h1m1 0h1m3 0h4m1 0h5m7 0h1m7 0h1m1 0h1m3 0h3m3 0h4m2 0h1m1 0h1m1 0h1m1 0h7m7 0h1m7 0h1m1 0h2m3 0h1M1 146.5h2m1 0h3m1 0h1m1 0h2m6 0h3m1 0h1m2 0h2m1 0h3m2 0h1m3 0h1m1 0h1m5 0h1m1 0h2m6 0h2m2 0h3m3 0h1m1 0h1m4 0h1m1 0h3m8 0h5m3 0h1m7 0h1m8 0h2m3 0h1m1 0h1m4 0h1m1 0h1m7 0h1m7 0h1m6 0h1m5 0h1m2 0h1m1 0h2m7 0h1m1 0h1m3 0h6m1 0h3m7 0h1m7 0h5m2 0h1m2 0h1m3 0h1m1 0h2m5 0h2m2 0h1m1 0h1m1 0h1m7 0h1m7 0h1m3 0h1m2 0h1M1 147.5h1m1 0h4m3 0h1m5 0h1m1 0h1m1 0h2m2 0h4m1 0h1m1 0h2m5 0h1m2 0h1m2 0h1m2 0h2m4 0h1m1 0h1m3 0h3m10 0h4m8 0h1m1 0h3m3 0h2m6 0h1m7 0h3m4 0h2m1 0h1m2 0h2m1 0h1m6 0h1m1 0h1m16 0h1m1 0h2m2 0h2m1 0h1m12 0h2m1 0h1m1 0h2m1 0h3m2 0h1m3 0h1m8 0h1m1 0h2m1 0h2m5 0h1m3 0h1m2 0h1m2 0h2m1 0h1m1 0h3m1 0h1m1 0h1m2 0h2m9 0h1m4 0h2M0 148.5h2m1 0h4m1 0h3m6 0h1m1 0h2m3 0h1m2 0h1m2 0h2m2 0h2m1 0h1m4 0h2m2 0h1m1 0h1m3 0h2m3 0h1m2 0h1m1 0h1m1 0h1m6 0h2m1 0h2m5 0h1m3 0h1m2 0h1m1 0h1m1 0h1m7 0h1m1 0h1m5 0h2m2 0h1m3 0h1m2 0h2m1 0h2m8 0h1m3 0h1m6 0h1m1 0h1m1 0h1m2 0h1m1 0h1m1 0h1m2 0h2m4 0h1m7 0h3m2 0h2m1 0h2m5 0h1m1 0h1m9 0h4m3 0h2m1 0h1m4 0h1m1 0h1m4 0h1m1 0h1m2 0h2m1 0h1m5 0h1m9 0h1m3 0h2M1 149.5h2m1 0h4m5 0h1m5 0h1m2 0h1m1 0h1m2 0h1m1 0h1m3 0h1m3 0h1m1 0h1m2 0h1m1 0h1m2 0h1m3 0h3m2 0h1m2 0h3m1 0h1m5 0h1m1 0h2m1 0h2m3 0h1m1 0h1m2 0h1m2 0h3m3 0h1m6 0h1m6 0h3m2 0h2m2 0h1m1 0h2m1 0h2m6 0h1m5 0h1m5 0h1m3 0h2m2 0h1m1 0h2m4 0h2m3 0h1m3 0h2m2 0h3m1 0h2m1 0h3m5 0h1m12 0h3m1 0h1m1 0h1m1 0h1m5 0h2m5 0h3m3 0h2m2 0h1m3 0h1m8 0h1m4 0h1m1 0h1m5 0h1M0 150.5h3m1 0h2m1 0h1m7 0h1m6 0h1m3 0h1m2 0h1m1 0h1m6 0h1m11 0h3m5 0h4m6 0h2m7 0h1m2 0h1m2 0h1m3 0h2m2 0h1m1 0h1m5 0h1m1 0h1m4 0h3m3 0h1m3 0h3m1 0h1m1 0h1m5 0h1m3 0h1m7 0h2m2 0h1m2 0h1m1 0h3m4 0h1m1 0h1m2 0h1m1 0h1m1 0h1m1 0h1m1 0h3m1 0h1m1 0h3m1 0h1m3 0h2m12 0h3m1 0h1m1 0h1m1 0h2m4 0h1m7 0h2m3 0h1m1 0h1m2 0h1m2 0h1m3 0h1m4 0h1m12 0h1M0 151.5h7m1 0h1m7 0h1m3 0h3m2 0h1m1 0h1m1 0h2m3 0h1m2 0h1m5 0h1m3 0h2m1 0h3m5 0h3m6 0h3m1 0h1m2 0h1m8 0h1m1 0h1m1 0h1m3 0h1m5 0h2m1 0h1m5 0h3m3 0h1m1 0h2m1 0h1m1 0h1m1 0h2m4 0h2m2 0h1m8 0h1m3 0h3m1 0h1m10 0h1m2 0h1m2 0h2m2 0h3m3 0h2m1 0h1m2 0h1m1 0h1m11 0h1m1 0h2m1 0h1m1 0h1m1 0h1m1 0h1m3 0h2m3 0h1m1 0h1m1 0h2m3 0h1m1 0h3m3 0h1m6 0h1m8 0h2M0 152.5h3m1 0h2m1 0h1m2 0h1m3 0h2m3 0h2m1 0h1m2 0h1m1 0h2m5 0h1m1 0h2m3 0h2m3 0h2m1 0h2m3 0h3m1 0h1m1 0h2m2 0h1m4 0h1m3 0h1m5 0h1m2 0h3m1 0h1m5 0h1m3 0h2m1 0h1m6 0h2m4 0h2m1 0h1m2 0h4m7 0h1m1 0h1m11 0h3m1 0h1m7 0h1m2 0h1m2 0h2m2 0h1m3 0h2m3 0h3m2 0h1m3 0h1m5 0h1m5 0h1m1 0h3m2 0h2m2 0h1m1 0h1m1 0h1m4 0h1m1 0h1m1 0h1m5 0h2m5 0h1m1 0h1m6 0h1m3 0h1m1 0h2m4 0h1M0 153.5h3m1 0h1m1 0h2m4 0h1m5 0h1m2 0h1m3 0h3m1 0h1m4 0h1m1 0h1m4 0h2m2 0h1m1 0h3m5 0h5m6 0h1m6 0h1m7 0h3m4 0h1m2 0h1m4 0h2m6 0h1m1 0h1m6 0h2m2 0h4m9 0h3m10 0h3m3 0h1m11 0h1m1 0h1m2 0h1m1 0h1m1 0h1m4 0h2m1 0h1m2 0h1m8 0h1m5 0h3m1 0h1m1 0h2m2 0h2m2 0h1m2 0h2m2 0h2m5 0h2m2 0h1m1 0h1m1 0h1m7 0h1m1 0h1m3 0h2m5 0h1m1 0h1M1 154.5h1m1 0h1m1 0h2m3 0h1m2 0h1m10 0h1m1 0h1m1 0h1m2 0h1m1 0h1m6 0h1m2 0h3m1 0h1m1 0h2m1 0h1m1 0h1m2 0h3m1 0h1m5 0h1m5 0h1m6 0h2m6 0h2m4 0h2m1 0h1m5 0h1m2 0h1m5 0h1m1 0h1m1 0h4m10 0h3m7 0h5m2 0h1m3 0h1m2 0h1m1 0h3m1 0h1m4 0h2m7 0h2m1 0h1m11 0h1m5 0h5m2 0h2m4 0h1m7 0h2m4 0h5m1 0h1m1 0h1m7 0h1m1 0h1m1 0h1m1 0h2m7 0h1m1 0h1M0 155.5h1m2 0h3m3 0h1m3 0h1m1 0h1m6 0h1m1 0h4m5 0h1m6 0h1m2 0h2m2 0h2m1 0h1m2 0h1m2 0h1m1 0h2m1 0h1m1 0h1m9 0h1m5 0h1m7 0h2m6 0h2m8 0h1m3 0h1m1 0h1m1 0h1m1 0h4m9 0h4m9 0h1m1 0h3m9 0h2m2 0h1m5 0h2m5 0h1m1 0h3m10 0h1m1 0h1m5 0h1m1 0h1m2 0h1m1 0h2m7 0h1m3 0h2m3 0h1m2 0h1m1 0h1m3 0h1m8 0h1m1 0h1m2 0h1m3 0h1m2 0h2M0 156.5h1m1 0h1m1 0h3m6 0h2m4 0h2m1 0h1m1 0h4m3 0h1m4 0h1m2 0h1m2 0h1m2 0h5m2 0h1m2 0h4m1 0h1m2 0h1m7 0h1m3 0h1m2 0h1m7 0h3m4 0h2m10 0h1m4 0h1m1 0h1m1 0h4m8 0h1m1 0h2m1 0h1m1 0h1m5 0h1m1 0h4m1 0h1m5 0h1m1 0h2m1 0h1m5 0h1m1 0h1m8 0h1m5 0h1m4 0h1m4 0h1m3 0h2m3 0h1m1 0h2m3 0h2m2 0h1m4 0h1m3 0h1m2 0h2m2 0h2m1 0h2m6 0h2m1 0h1m1 0h1m7 0h1M0 157.5h2m2 0h1m4 0h1m2 0h2m4 0h1m2 0h1m1 0h3m9 0h1m3 0h1m3 0h5m2 0h2m2 0h2m3 0h1m6 0h1m6 0h1m2 0h1m1 0h1m6 0h3m4 0h1m4 0h1m7 0h1m1 0h1m2 0h3m3 0h2m7 0h1m1 0h2m1 0h1m10 0h1m1 0h1m6 0h1m1 0h2m8 0h1m4 0h3m2 0h1m1 0h1m1 0h1m5 0h1m1 0h1m2 0h1m1 0h1m3 0h2m2 0h2m1 0h1m5 0h1m2 0h1m3 0h1m4 0h1m5 0h3m1 0h2m6 0h3m1 0h1m7 0h1M0 158.5h1m1 0h2m7 0h2m7 0h6m3 0h1m3 0h2m3 0h2m2 0h2m1 0h3m1 0h1m4 0h1m3 0h1m1 0h2m3 0h1m1 0h2m11 0h1m3 0h4m4 0h1m4 0h1m4 0h1m2 0h2m2 0h3m4 0h1m6 0h1m2 0h2m9 0h1m2 0h1m2 0h1m2 0h1m3 0h1m2 0h1m2 0h1m9 0h1m1 0h1m2 0h1m6 0h1m2 0h3m2 0h1m5 0h2m3 0h1m7 0h2m2 0h1m2 0h1m3 0h2m1 0h1m1 0h1m1 0h1m1 0h3m6 0h4m1 0h1m6 0h1M0 159.5h1m1 0h2m7 0h1m6 0h1m1 0h5m5 0h1m2 0h2m1 0h1m3 0h1m1 0h3m1 0h2m2 0h1m3 0h1m2 0h1m1 0h1m1 0h1m3 0h2m2 0h1m2 0h1m9 0h1m1 0h2m5 0h1m9 0h1m2 0h1m2 0h3m4 0h2m5 0h1m4 0h1m2 0h2m6 0h1m1 0h2m3 0h2m2 0h1m2 0h2m4 0h1m2 0h1m3 0h2m2 0h1m2 0h2m7 0h2m1 0h1m4 0h2m1 0h2m1 0h1m2 0h1m2 0h1m8 0h1m3 0h1m1 0h1m1 0h1m5 0h2m1 0h1m6 0h1m1 0h4m10 0h1M1 160.5h1m1 0h1m1 0h2m3 0h1m8 0h4m6 0h1m1 0h1m1 0h1m4 0h2m2 0h1m1 0h1m1 0h1m1 0h2m3 0h1m2 0h2m2 0h1m2 0h1m3 0h1m8 0h1m2 0h1m3 0h3m6 0h2m8 0h2m2 0h2m2 0h1m2 0h1m3 0h1m3 0h1m2 0h2m3 0h1m5 0h1m3 0h2m1 0h4m4 0h1m2 0h1m2 0h2m4 0h3m4 0h2m3 0h1m1 0h1m1 0h3m3 0h1m1 0h1m4 0h1m7 0h1m2 0h1m1 0h1m3 0h1m2 0h2m3 0h1m5 0h2m1 0h2m3 0h1m1 0h3m1 0h2m4 0h1m2 0h1m4 0h1M0 161.5h2m2 0h1m5 0h1m8 0h2m3 0h1m12 0h2m3 0h2m1 0h1m6 0h1m3 0h1m2 0h1m2 0h2m2 0h1m9 0h1m2 0h1m2 0h2m4 0h1m2 0h1m8 0h2m2 0h3m4 0h1m3 0h1m1 0h1m4 0h1m2 0h1m3 0h1m3 0h1m1 0h1m3 0h1m2 0h3m6 0h1m1 0h1m8 0h1m3 0h1m1 0h2m1 0h1m1 0h1m3 0h1m1 0h2m1 0h1m1 0h3m2 0h1m4 0h1m5 0h1m2 0h1m4 0h1m2 0h1m1 0h1m1 0h1m4 0h3m1 0h2m6 0h2m1 0h2m5 0h1m1 0h1m2 0h1m1 0h1m2 0h1m2 0h1M0 162.5h1m1 0h3m3 0h1m7 0h1m1 0h1m2 0h1m1 0h2m2 0h1m4 0h1m3 0h3m3 0h2m2 0h1m8 0h1m6 0h1m9 0h1m2 0h1m3 0h1m3 0h1m6 0h1m4 0h1m7 0h5m3 0h1m2 0h3m3 0h1m1 0h1m4 0h1m5 0h2m3 0h1m2 0h4m3 0h3m1 0h1m3 0h1m3 0h1m3 0h1m2 0h1m6 0h2m1 0h3m1 0h3m1 0h1m7 0h1m2 0h1m5 0h2m4 0h2m1 0h1m2 0h1m3 0h1m1 0h1m3 0h2m1 0h1m1 0h1m2 0h1m2 0h2m5 0h1m4 0h1m2 0h1m3 0h2M0 163.5h1m1 0h2m5 0h2m4 0h2m2 0h1m1 0h1m3 0h1m4 0h1m2 0h1m2 0h2m3 0h3m5 0h1m2 0h1m1 0h1m2 0h1m1 0h1m6 0h1m5 0h1m5 0h2m2 0h3m9 0h1m8 0h1m1 0h1m3 0h2m2 0h1m1 0h1m10 0h1m3 0h1m1 0h2m2 0h1m2 0h5m4 0h1m6 0h2m2 0h1m3 0h1m5 0h1m3 0h3m1 0h1m3 0h1m1 0h2m11 0h1m4 0h2m4 0h2m1 0h1m2 0h2m1 0h1m1 0h1m2 0h1m2 0h1m1 0h1m1 0h1m4 0h1m1 0h1m5 0h1m7 0h1m5 0h1M1 164.5h2m5 0h2m2 0h1m5 0h2m4 0h1m4 0h1m4 0h1m1 0h1m3 0h4m4 0h2m1 0h2m2 0h2m3 0h1m5 0h1m4 0h1m5 0h1m3 0h1m2 0h1m11 0h1m6 0h2m3 0h1m4 0h2m10 0h1m4 0h1m1 0h1m5 0h5m2 0h1m2 0h1m5 0h2m6 0h2m4 0h1m1 0h1m1 0h2m1 0h1m1 0h1m1 0h2m1 0h2m11 0h1m3 0h2m6 0h1m2 0h1m3 0h1m2 0h1m2 0h1m1 0h5m1 0h1m4 0h1m1 0h1m6 0h1m3 0h1m1 0h1m5 0h1M0 165.5h2m6 0h2m5 0h1m1 0h2m4 0h2m1 0h1m3 0h1m2 0h1m2 0h1m3 0h2m7 0h2m4 0h1m3 0h2m15 0h2m3 0h1m1 0h1m8 0h1m9 0h3m4 0h1m2 0h2m4 0h1m6 0h1m1 0h1m4 0h1m2 0h1m2 0h4m3 0h1m8 0h2m4 0h1m2 0h1m4 0h2m1 0h3m2 0h1m1 0h2m3 0h1m10 0h1m2 0h3m10 0h1m1 0h3m1 0h1m4 0h4m1 0h1m4 0h1m1 0h1m3 0h1m2 0h1m7 0h1m6 0h1M0 166.5h2m5 0h3m4 0h2m2 0h1m4 0h1m1 0h1m3 0h1m2 0h2m1 0h2m2 0h4m2 0h1m2 0h2m4 0h2m1 0h3m15 0h1m4 0h2m1 0h1m5 0h1m4 0h1m2 0h1m2 0h3m1 0h1m3 0h1m2 0h2m3 0h1m5 0h1m1 0h1m6 0h1m2 0h1m2 0h1m1 0h3m2 0h1m2 0h1m2 0h1m2 0h1m9 0h1m4 0h3m1 0h1m3 0h4m1 0h1m1 0h1m9 0h1m3 0h1m1 0h1m8 0h1m1 0h3m1 0h2m4 0h6m2 0h1m3 0h3m12 0h1m6 0h2M6 167.5h1m1 0h1m4 0h2m2 0h2m1 0h1m1 0h3m3 0h1m2 0h1m1 0h3m3 0h3m4 0h3m3 0h1m3 0h2m16 0h1m5 0h1m7 0h1m3 0h1m5 0h1m2 0h3m3 0h1m2 0h1m3 0h2m4 0h1m3 0h1m5 0h2m5 0h5m2 0h1m4 0h1m2 0h1m4 0h1m8 0h4m4 0h1m1 0h3m1 0h1m12 0h1m2 0h1m2 0h1m6 0h1m2 0h3m1 0h2m5 0h3m1 0h1m1 0h1m5 0h2m6 0h1m6 0h2m4 0h2M1 168.5h1m2 0h1m2 0h1m5 0h1m2 0h2m3 0h3m3 0h1m3 0h1m2 0h1m3 0h1m1 0h1m4 0h1m1 0h2m2 0h1m3 0h2m20 0h1m2 0h1m1 0h1m3 0h3m2 0h1m4 0h2m1 0h2m2 0h1m3 0h1m1 0h1m2 0h1m7 0h1m2 0h1m4 0h4m2 0h1m1 0h1m1 0h3m3 0h1m2 0h2m1 0h1m1 0h1m8 0h2m1 0h1m2 0h3m3 0h5m2 0h1m11 0h2m4 0h1m5 0h1m1 0h3m1 0h4m5 0h3m2 0h2m5 0h1m3 0h1m10 0h1m4 0h1m1 0h2M0 169.5h2m2 0h1m5 0h1m1 0h1m1 0h2m4 0h3m3 0h1m1 0h2m1 0h1m2 0h2m2 0h1m1 0h1m3 0h3m1 0h1m5 0h1m1 0h1m3 0h2m10 0h1m6 0h1m7 0h1m4 0h1m1 0h1m2 0h2m3 0h2m2 0h1m11 0h1m3 0h1m1 0h1m2 0h3m1 0h1m2 0h1m2 0h3m2 0h2m2 0h3m3 0h1m9 0h2m2 0h2m2 0h1m1 0h2m1 0h1m1 0h1m1 0h1m2 0h1m5 0h1m2 0h2m3 0h1m1 0h1m7 0h1m1 0h2m1 0h1m7 0h2m1 0h1m1 0h2m4 0h1m3 0h2m11 0h1m2 0h1m1 0h1m1 0h2M0 170.5h1m2 0h1m5 0h2m2 0h2m4 0h2m5 0h2m2 0h1m3 0h2m2 0h3m3 0h4m6 0h2m3 0h2m3 0h1m6 0h1m3 0h1m5 0h1m12 0h1m2 0h1m1 0h1m1 0h2m3 0h1m6 0h1m7 0h1m4 0h3m1 0h1m6 0h1m1 0h1m2 0h1m3 0h1m2 0h1m3 0h1m7 0h1m2 0h4m2 0h4m1 0h1m3 0h1m1 0h1m5 0h1m3 0h1m3 0h1m6 0h1m2 0h1m1 0h2m1 0h2m4 0h1m1 0h1m1 0h2m4 0h1m4 0h1m3 0h1m11 0h1m4 0h1m1 0h1M3 171.5h1m3 0h1m1 0h1m2 0h2m2 0h2m1 0h1m3 0h1m1 0h1m3 0h1m3 0h1m2 0h1m1 0h2m2 0h2m1 0h2m1 0h1m3 0h1m6 0h2m14 0h2m2 0h2m5 0h1m4 0h1m1 0h2m1 0h1m3 0h1m2 0h1m1 0h1m2 0h1m2 0h1m2 0h1m3 0h1m1 0h1m2 0h1m1 0h3m1 0h1m1 0h1m1 0h1m2 0h1m1 0h1m2 0h2m3 0h2m3 0h1m1 0h1m4 0h1m1 0h3m1 0h3m3 0h4m7 0h2m2 0h2m2 0h1m3 0h1m12 0h1m2 0h2m2 0h1m2 0h5m2 0h1m4 0h1m2 0h1m1 0h1m13 0h1m3 0h2m2 0h1M2 172.5h1m4 0h2m2 0h1m1 0h1m1 0h1m1 0h2m2 0h1m2 0h1m1 0h1m1 0h2m2 0h1m3 0h3m2 0h1m1 0h2m2 0h1m3 0h1m5 0h4m7 0h1m6 0h1m3 0h2m4 0h1m4 0h1m1 0h1m3 0h2m3 0h3m7 0h1m6 0h1m5 0h2m1 0h2m1 0h1m3 0h1m3 0h1m5 0h1m1 0h1m2 0h2m6 0h2m2 0h2m1 0h1m1 0h1m5 0h1m2 0h1m3 0h4m1 0h2m2 0h1m8 0h1m6 0h1m3 0h2m3 0h1m1 0h3m1 0h1m3 0h1m2 0h2m9 0h1m6 0h1m4 0h1m3 0h2M1 173.5h1m3 0h3m4 0h1m1 0h2m4 0h1m6 0h1m1 0h1m1 0h2m3 0h3m3 0h4m11 0h3m6 0h1m5 0h1m2 0h1m3 0h1m3 0h2m3 0h1m1 0h1m4 0h1m4 0h2m2 0h1m5 0h1m6 0h1m2 0h1m2 0h1m2 0h2m1 0h1m2 0h1m4 0h2m3 0h3m4 0h2m3 0h1m2 0h1m2 0h2m1 0h3m2 0h1m6 0h1m1 0h1m1 0h3m1 0h1m2 0h1m10 0h2m4 0h1m4 0h1m3 0h2m1 0h5m3 0h1m1 0h2m3 0h1m2 0h1m9 0h1m2 0h1m3 0h1m1 0h2M5 174.5h3m3 0h4m3 0h2m1 0h1m5 0h1m1 0h1m5 0h1m1 0h1m2 0h3m1 0h1m2 0h1m8 0h1m1 0h1m3 0h1m12 0h1m4 0h1m2 0h2m9 0h1m4 0h1m1 0h1m1 0h1m6 0h1m5 0h2m2 0h1m4 0h3m3 0h1m3 0h2m3 0h3m5 0h1m2 0h1m3 0h2m2 0h2m1 0h2m1 0h1m1 0h1m6 0h1m2 0h1m1 0h3m2 0h1m9 0h1m6 0h2m4 0h2m1 0h1m1 0h1m2 0h1m1 0h1m3 0h1m1 0h3m5 0h1m2 0h1m6 0h1m4 0h1m1 0h1m3 0h1m2 0h1M5 175.5h2m4 0h1m1 0h2m1 0h1m1 0h1m1 0h1m4 0h3m1 0h1m3 0h3m3 0h4m3 0h1m8 0h1m2 0h1m2 0h1m12 0h1m4 0h1m3 0h1m1 0h2m4 0h2m7 0h1m2 0h1m6 0h1m2 0h1m2 0h2m2 0h1m2 0h3m3 0h1m4 0h1m4 0h1m1 0h1m5 0h2m1 0h1m4 0h1m2 0h5m2 0h1m7 0h2m1 0h1m1 0h2m3 0h1m10 0h1m5 0h2m5 0h1m3 0h2m1 0h2m1 0h1m2 0h1m1 0h1m1 0h1m7 0h1m7 0h1m4 0h2m1 0h1m4 0h2M0 176.5h2m3 0h2m3 0h1m1 0h2m1 0h2m3 0h1m4 0h2m1 0h1m2 0h4m3 0h1m1 0h1m1 0h1m4 0h1m7 0h2m1 0h1m1 0h1m18 0h1m3 0h1m1 0h1m3 0h3m2 0h1m3 0h1m1 0h1m2 0h1m4 0h2m5 0h2m2 0h1m3 0h2m1 0h1m9 0h1m1 0h1m2 0h1m2 0h1m2 0h2m1 0h1m3 0h1m3 0h3m1 0h1m1 0h1m6 0h1m2 0h5m3 0h1m11 0h2m1 0h2m1 0h1m5 0h2m3 0h4m1 0h1m2 0h4m1 0h1m14 0h1m3 0h1m1 0h1m1 0h1m4 0h2M0 177.5h1m3 0h2m1 0h1m2 0h3m6 0h1m1 0h1m2 0h1m3 0h1m1 0h3m4 0h1m1 0h2m6 0h1m5 0h1m5 0h1m19 0h1m2 0h3m3 0h2m3 0h2m2 0h1m2 0h2m5 0h1m4 0h1m1 0h2m3 0h2m1 0h4m8 0h1m5 0h1m1 0h2m3 0h3m3 0h1m3 0h2m1 0h3m7 0h1m2 0h4m1 0h1m7 0h1m5 0h2m2 0h2m7 0h1m1 0h1m2 0h1m1 0h3m1 0h1m2 0h2m5 0h1m16 0h1m1 0h1m3 0h1m1 0h2M1 178.5h1m3 0h1m3 0h4m6 0h1m1 0h1m1 0h1m2 0h4m1 0h2m2 0h1m2 0h2m1 0h1m10 0h1m5 0h1m9 0h1m6 0h1m2 0h2m1 0h3m3 0h2m4 0h1m6 0h1m6 0h1m3 0h1m3 0h1m2 0h3m1 0h1m1 0h2m8 0h1m1 0h1m7 0h1m1 0h3m4 0h1m2 0h7m7 0h1m1 0h2m2 0h3m6 0h1m2 0h1m2 0h1m2 0h2m1 0h1m1 0h1m3 0h2m3 0h1m2 0h4m3 0h3m1 0h1m1 0h1m8 0h1m8 0h1m1 0h1m6 0h1m2 0h2M0 179.5h2m2 0h2m2 0h5m4 0h1m2 0h2m3 0h3m2 0h2m2 0h1m3 0h3m5 0h1m1 0h1m4 0h1m2 0h1m15 0h1m5 0h2m1 0h1m1 0h1m1 0h1m6 0h1m5 0h1m1 0h1m8 0h2m3 0h1m2 0h3m1 0h1m1 0h2m3 0h1m9 0h1m2 0h1m3 0h4m4 0h3m1 0h6m8 0h4m1 0h1m6 0h1m1 0h1m1 0h1m4 0h4m1 0h1m5 0h2m2 0h2m1 0h2m1 0h1m1 0h3m13 0h1m4 0h1m4 0h1m1 0h1m2 0h1m1 0h1m1 0h2m3 0h1M0 180.5h1m2 0h2m2 0h6m5 0h1m1 0h1m3 0h2m1 0h1m1 0h1m3 0h1m2 0h1m1 0h2m5 0h1m18 0h1m3 0h1m2 0h1m3 0h1m2 0h1m2 0h3m7 0h2m7 0h1m1 0h1m6 0h2m3 0h1m1 0h3m3 0h1m5 0h2m2 0h1m5 0h2m5 0h3m3 0h1m2 0h1m1 0h2m1 0h3m8 0h4m7 0h1m1 0h1m3 0h1m4 0h3m1 0h1m5 0h1m1 0h1m2 0h6m1 0h1m4 0h1m1 0h1m1 0h1m11 0h1m1 0h1m2 0h1m1 0h1m4 0h1m1 0h1m3 0h3M3 181.5h2m1 0h4m1 0h1m1 0h1m3 0h2m3 0h2m1 0h4m7 0h3m5 0h1m1 0h1m9 0h1m11 0h1m8 0h2m2 0h2m7 0h2m8 0h1m6 0h2m1 0h1m2 0h2m1 0h3m1 0h2m5 0h1m9 0h2m4 0h5m2 0h1m2 0h3m2 0h2m1 0h1m2 0h1m4 0h4m11 0h1m1 0h1m4 0h2m1 0h1m1 0h1m4 0h2m4 0h5m1 0h1m4 0h2m2 0h1m10 0h1m7 0h1m6 0h1m1 0h1m1 0h4M3 182.5h3m1 0h2m2 0h1m4 0h1m2 0h1m1 0h2m1 0h3m2 0h1m3 0h1m2 0h1m1 0h1m5 0h1m1 0h2m4 0h1m2 0h2m8 0h2m7 0h1m1 0h3m1 0h1m1 0h1m1 0h1m5 0h1m4 0h1m4 0h1m2 0h1m3 0h1m5 0h1m1 0h3m2 0h1m2 0h1m11 0h1m1 0h1m3 0h1m1 0h2m3 0h1m1 0h1m1 0h2m1 0h1m1 0h1m1 0h2m1 0h1m6 0h2m1 0h1m10 0h2m6 0h3m2 0h2m4 0h1m3 0h4m1 0h1m5 0h2m4 0h1m8 0h2m3 0h1m1 0h2m4 0h2m4 0h1m1 0h2M3 183.5h1m1 0h3m2 0h2m5 0h1m1 0h3m1 0h2m1 0h1m1 0h1m2 0h1m5 0h1m8 0h1m4 0h1m2 0h1m9 0h1m8 0h3m1 0h2m1 0h1m13 0h1m5 0h2m2 0h2m3 0h1m2 0h2m1 0h2m1 0h1m1 0h1m1 0h2m9 0h3m5 0h3m1 0h1m4 0h1m1 0h2m2 0h2m1 0h2m6 0h2m1 0h1m1 0h1m9 0h2m4 0h2m1 0h2m1 0h1m1 0h1m1 0h1m4 0h1m1 0h4m1 0h1m2 0h1m2 0h2m3 0h1m10 0h1m3 0h1m2 0h1m4 0h1m2 0h1m1 0h3m1 0h1m1 0h1M1 184.5h1m1 0h4m2 0h2m6 0h1m1 0h2m2 0h1m1 0h1m5 0h1m4 0h1m1 0h1m2 0h1m7 0h1m4 0h2m6 0h1m4 0h1m1 0h1m1 0h5m1 0h2m1 0h1m10 0h1m1 0h1m3 0h1m1 0h2m2 0h1m3 0h2m2 0h3m1 0h1m4 0h3m9 0h2m2 0h1m3 0h3m1 0h1m1 0h1m1 0h2m1 0h2m1 0h1m1 0h1m1 0h2m6 0h1m1 0h2m10 0h2m5 0h1m3 0h1m2 0h3m3 0h1m1 0h1m1 0h4m1 0h2m2 0h1m1 0h1m10 0h1m3 0h2m2 0h2m7 0h2m2 0h3m2 0h2M1 185.5h1m2 0h2m1 0h4m4 0h5m2 0h1m2 0h1m9 0h3m8 0h1m6 0h1m6 0h2m2 0h1m2 0h1m3 0h1m1 0h1m3 0h1m9 0h1m2 0h1m1 0h1m6 0h1m7 0h2m4 0h1m4 0h1m2 0h1m7 0h1m2 0h2m2 0h1m1 0h1m1 0h2m1 0h1m2 0h1m4 0h4m1 0h3m8 0h1m4 0h1m3 0h1m1 0h3m6 0h1m6 0h1m1 0h1m2 0h4m2 0h1m2 0h2m5 0h1m2 0h1m10 0h1m4 0h1m7 0h2m2 0h2m2 0h2m1 0h1M3 186.5h2m1 0h2m1 0h1m4 0h1m1 0h2m3 0h1m1 0h1m11 0h2m3 0h1m4 0h2m6 0h2m3 0h2m2 0h2m3 0h1m2 0h2m1 0h2m2 0h1m11 0h1m1 0h1m7 0h1m2 0h1m2 0h3m1 0h1m4 0h1m1 0h3m13 0h2m2 0h1m4 0h2m1 0h1m1 0h1m3 0h3m1 0h1m1 0h3m8 0h1m6 0h1m3 0h1m3 0h2m2 0h1m4 0h1m1 0h3m3 0h2m1 0h2m3 0h3m7 0h1m4 0h1m3 0h1m3 0h1m3 0h2m4 0h2m1 0h1m2 0h2m1 0h1m1 0h1m1 0h1M1 187.5h1m1 0h2m1 0h1m1 0h2m4 0h3m6 0h1m9 0h3m8 0h1m1 0h2m13 0h2m3 0h1m2 0h2m1 0h2m4 0h1m4 0h1m4 0h1m2 0h1m5 0h2m1 0h1m4 0h1m1 0h2m1 0h1m2 0h2m1 0h2m6 0h1m5 0h3m6 0h5m2 0h1m3 0h1m3 0h1m3 0h1m5 0h1m1 0h1m9 0h1m4 0h1m4 0h1m6 0h3m1 0h3m1 0h2m3 0h2m2 0h1m5 0h2m8 0h1m5 0h1m2 0h1m3 0h1m1 0h1m4 0h1m1 0h1m1 0h2m1 0h2M3 188.5h1m1 0h1m2 0h1m4 0h3m3 0h1m1 0h2m10 0h1m2 0h1m10 0h1m11 0h2m3 0h4m1 0h3m1 0h1m3 0h1m5 0h2m2 0h1m3 0h1m4 0h1m7 0h3m5 0h2m1 0h2m3 0h1m3 0h1m5 0h2m4 0h1m1 0h1m1 0h3m1 0h1m5 0h2m1 0h1m2 0h2m7 0h1m4 0h1m8 0h1m1 0h1m4 0h1m4 0h1m1 0h3m1 0h1m1 0h1m5 0h5m5 0h2m6 0h1m7 0h1m3 0h1m2 0h1m1 0h1m3 0h3m1 0h1m3 0h2M0 189.5h1m2 0h1m4 0h2m3 0h2m4 0h1m1 0h3m5 0h2m2 0h1m11 0h1m13 0h1m2 0h5m2 0h2m5 0h2m3 0h3m12 0h1m6 0h1m1 0h2m3 0h2m1 0h1m5 0h1m2 0h1m6 0h2m7 0h3m1 0h1m2 0h1m2 0h3m1 0h1m2 0h2m8 0h1m2 0h1m6 0h1m2 0h1m2 0h1m3 0h1m5 0h4m1 0h1m1 0h1m4 0h1m1 0h2m1 0h1m1 0h1m2 0h1m1 0h1m1 0h1m2 0h1m1 0h1m2 0h1m6 0h1m1 0h1m2 0h1m5 0h2m1 0h1m3 0h2m1 0h1M0 190.5h1m3 0h1m1 0h1m2 0h2m1 0h2m1 0h1m3 0h1m1 0h1m6 0h3m1 0h1m3 0h1m6 0h1m2 0h1m3 0h1m3 0h1m3 0h1m1 0h2m1 0h3m1 0h1m1 0h1m5 0h1m5 0h2m1 0h1m3 0h1m2 0h1m2 0h1m4 0h1m3 0h2m1 0h1m2 0h2m2 0h1m5 0h1m1 0h1m5 0h3m2 0h1m6 0h4m2 0h1m2 0h2m2 0h1m1 0h2m6 0h1m2 0h1m2 0h1m4 0h1m4 0h1m2 0h2m9 0h3m2 0h2m6 0h2m2 0h1m3 0h1m1 0h2m11 0h1m2 0h4m1 0h1m5 0h2m1 0h1m2 0h4M0 191.5h2m1 0h4m1 0h2m1 0h1m2 0h1m2 0h1m1 0h1m1 0h1m6 0h1m13 0h1m9 0h2m3 0h2m1 0h4m3 0h3m1 0h1m8 0h2m16 0h2m4 0h1m1 0h1m1 0h1m3 0h1m3 0h2m1 0h1m1 0h1m2 0h1m2 0h4m1 0h1m5 0h2m1 0h1m2 0h1m1 0h1m1 0h1m2 0h1m12 0h1m5 0h1m2 0h1m3 0h1m3 0h1m6 0h1m1 0h1m1 0h2m2 0h2m1 0h1m4 0h2m1 0h1m3 0h1m7 0h1m4 0h1m6 0h1m1 0h2m4 0h4m2 0h5M0 192.5h1m2 0h4m1 0h1m3 0h2m2 0h1m3 0h1m4 0h1m15 0h1m9 0h2m3 0h2m1 0h4m2 0h1m1 0h2m4 0h1m1 0h1m3 0h1m2 0h1m1 0h1m3 0h1m8 0h2m5 0h2m6 0h1m2 0h1m1 0h2m4 0h1m2 0h1m1 0h1m8 0h3m3 0h3m4 0h1m8 0h1m7 0h1m2 0h1m4 0h1m1 0h2m3 0h1m4 0h1m3 0h3m2 0h1m1 0h1m3 0h2m1 0h2m1 0h1m2 0h2m5 0h1m1 0h1m8 0h1m1 0h2m1 0h1m1 0h2m1 0h3m2 0h1m1 0h2m4 0h1M0 193.5h1m1 0h2m1 0h3m5 0h1m1 0h2m2 0h1m3 0h1m2 0h1m1 0h1m15 0h1m4 0h2m5 0h2m1 0h2m1 0h1m1 0h1m1 0h1m2 0h1m2 0h1m1 0h1m2 0h2m1 0h1m1 0h1m3 0h2m7 0h2m1 0h1m4 0h2m6 0h1m1 0h3m5 0h1m2 0h3m1 0h1m1 0h1m6 0h3m2 0h3m3 0h1m3 0h1m6 0h1m2 0h1m3 0h1m2 0h1m4 0h1m1 0h2m7 0h1m6 0h2m2 0h1m5 0h1m1 0h3m1 0h1m1 0h2m5 0h1m2 0h1m4 0h1m1 0h1m1 0h1m2 0h2m2 0h1m1 0h4m1 0h3m2 0h1m1 0h1M0 194.5h1m1 0h1m1 0h3m4 0h1m12 0h1m2 0h1m5 0h2m14 0h1m5 0h2m1 0h3m2 0h1m1 0h2m5 0h1m2 0h2m2 0h1m7 0h1m6 0h1m2 0h1m4 0h1m6 0h1m1 0h2m1 0h1m4 0h1m3 0h1m1 0h1m2 0h1m7 0h2m1 0h1m1 0h3m4 0h1m9 0h2m1 0h1m13 0h1m1 0h1m2 0h1m1 0h1m2 0h1m4 0h1m1 0h1m2 0h2m2 0h1m2 0h1m3 0h2m1 0h2m4 0h1m8 0h1m1 0h1m3 0h1m1 0h2m4 0h1m1 0h2m1 0h3m2 0h1m1 0h1M0 195.5h1m1 0h1m1 0h2m5 0h1m2 0h2m7 0h1m2 0h1m5 0h1m13 0h1m2 0h1m4 0h1m1 0h2m1 0h2m1 0h1m2 0h1m4 0h2m2 0h2m2 0h1m3 0h1m10 0h2m1 0h3m3 0h1m6 0h3m1 0h1m3 0h1m4 0h3m1 0h1m1 0h1m6 0h1m1 0h1m1 0h4m5 0h1m5 0h1m2 0h2m3 0h1m3 0h1m7 0h1m2 0h1m2 0h2m8 0h1m2 0h2m7 0h1m2 0h1m1 0h1m1 0h1m2 0h2m1 0h1m3 0h1m1 0h1m3 0h2m3 0h4m1 0h1m2 0h3m1 0h2m4 0h2m3 0h1m1 0h1M3 196.5h2m1 0h1m2 0h3m1 0h2m1 0h1m2 0h1m11 0h1m1 0h1m13 0h1m1 0h1m3 0h2m1 0h1m1 0h1m1 0h2m2 0h2m6 0h1m4 0h1m3 0h1m8 0h1m2 0h1m3 0h1m1 0h1m1 0h1m5 0h4m6 0h1m3 0h1m3 0h1m1 0h1m5 0h1m1 0h1m3 0h4m3 0h1m9 0h3m2 0h1m4 0h1m9 0h1m1 0h2m1 0h2m8 0h2m4 0h1m3 0h1m3 0h2m1 0h1m3 0h1m5 0h1m2 0h1m2 0h2m3 0h4m2 0h1m1 0h1m1 0h2m1 0h2m3 0h3m2 0h1m2 0h1M1 197.5h3m1 0h1m2 0h1m1 0h1m1 0h1m1 0h2m3 0h1m1 0h1m1 0h1m7 0h1m14 0h1m1 0h1m2 0h3m3 0h1m1 0h2m2 0h3m4 0h2m2 0h1m2 0h1m5 0h1m8 0h1m1 0h1m2 0h1m1 0h1m6 0h5m2 0h1m2 0h1m2 0h1m7 0h2m3 0h1m2 0h1m3 0h1m1 0h1m1 0h1m4 0h1m6 0h2m3 0h2m2 0h1m3 0h1m2 0h1m2 0h1m1 0h2m2 0h1m3 0h1m5 0h1m5 0h2m6 0h2m1 0h1m15 0h2m4 0h4m1 0h2m1 0h2m1 0h2m1 0h1m2 0h3m2 0h1m2 0h1M1 198.5h1m1 0h1m3 0h1m1 0h4m13 0h1m3 0h1m6 0h1m7 0h1m3 0h3m4 0h1m2 0h1m3 0h1m5 0h2m1 0h1m3 0h2m3 0h1m12 0h1m2 0h1m1 0h1m2 0h1m4 0h4m1 0h1m3 0h3m3 0h1m4 0h2m5 0h2m2 0h1m1 0h2m11 0h2m2 0h1m2 0h1m7 0h1m2 0h1m5 0h1m1 0h2m3 0h1m3 0h2m2 0h1m1 0h1m1 0h1m2 0h1m3 0h5m7 0h1m7 0h1m1 0h1m2 0h1m1 0h2m2 0h2m1 0h3m3 0h1m1 0h3m1 0h1m1 0h1m3 0h1M0 199.5h1m2 0h1m3 0h2m1 0h2m5 0h1m2 0h1m9 0h1m4 0h1m3 0h1m3 0h2m3 0h3m1 0h1m2 0h2m2 0h1m1 0h2m3 0h1m2 0h1m1 0h1m1 0h1m1 0h3m2 0h1m7 0h1m2 0h1m1 0h2m1 0h1m1 0h1m5 0h1m2 0h3m2 0h1m2 0h3m4 0h1m2 0h2m5 0h2m1 0h2m1 0h3m9 0h1m2 0h1m3 0h1m1 0h1m1 0h1m3 0h1m3 0h2m1 0h1m1 0h2m6 0h1m5 0h1m3 0h3m1 0h1m6 0h1m1 0h3m6 0h1m5 0h1m8 0h2m1 0h1m1 0h5m2 0h1m2 0h3m2 0h1m4 0h2M0 200.5h1m5 0h1m1 0h3m8 0h1m10 0h1m11 0h1m3 0h3m3 0h2m1 0h1m2 0h1m2 0h1m1 0h2m3 0h1m2 0h1m2 0h3m10 0h1m5 0h2m1 0h2m1 0h2m5 0h3m4 0h1m1 0h3m3 0h1m8 0h2m1 0h2m2 0h2m8 0h1m2 0h1m2 0h1m2 0h1m3 0h1m6 0h1m1 0h1m3 0h2m1 0h1m2 0h2m10 0h2m2 0h2m4 0h1m1 0h1m1 0h2m4 0h1m12 0h2m2 0h1m1 0h2m2 0h4m2 0h1m3 0h2m1 0h2m4 0h2M5 201.5h4m1 0h1m3 0h1m9 0h1m10 0h1m5 0h1m3 0h2m4 0h1m2 0h1m2 0h1m3 0h3m5 0h1m1 0h2m1 0h2m10 0h1m5 0h1m2 0h1m2 0h1m6 0h3m3 0h1m2 0h3m3 0h2m2 0h1m3 0h1m1 0h3m3 0h2m1 0h2m5 0h1m2 0h1m3 0h1m1 0h1m1 0h1m1 0h1m5 0h1m2 0h1m2 0h2m1 0h1m3 0h2m4 0h1m4 0h1m1 0h2m6 0h1m1 0h3m1 0h1m3 0h1m1 0h1m7 0h1m4 0h1m2 0h3m1 0h2m1 0h4m1 0h2m1 0h4m1 0h2m3 0h2M1 202.5h1m1 0h5m2 0h2m12 0h1m4 0h1m4 0h2m3 0h1m2 0h1m1 0h1m1 0h2m3 0h1m3 0h1m2 0h1m1 0h2m1 0h1m3 0h1m1 0h1m1 0h1m1 0h2m10 0h1m2 0h1m2 0h1m2 0h2m1 0h2m4 0h1m2 0h1m1 0h1m5 0h2m3 0h2m5 0h1m3 0h2m3 0h2m1 0h1m7 0h3m2 0h1m1 0h1m1 0h2m8 0h1m3 0h1m1 0h1m2 0h1m2 0h3m3 0h1m4 0h1m2 0h1m1 0h1m2 0h1m1 0h1m1 0h4m1 0h1m4 0h1m3 0h1m5 0h1m2 0h2m2 0h1m1 0h3m2 0h2m1 0h1m1 0h2m2 0h2m2 0h1m2 0h1m1 0h1m2 0h1M0 203.5h4m1 0h1m3 0h2m7 0h1m4 0h1m9 0h1m1 0h1m2 0h1m3 0h1m3 0h1m3 0h1m6 0h2m1 0h2m5 0h2m1 0h1m2 0h1m7 0h1m10 0h3m1 0h2m3 0h2m3 0h2m2 0h1m7 0h3m3 0h2m1 0h4m3 0h1m1 0h2m3 0h1m3 0h3m2 0h2m2 0h2m3 0h1m5 0h1m2 0h1m1 0h2m1 0h1m2 0h3m8 0h1m2 0h2m3 0h1m3 0h4m1 0h1m11 0h1m2 0h1m1 0h2m1 0h1m1 0h1m1 0h2m4 0h2m1 0h3m2 0h3m1 0h1m1 0h1m3 0h1m1 0h2M0 204.5h1m1 0h1m1 0h1m3 0h2m12 0h1m10 0h1m6 0h1m1 0h1m1 0h1m2 0h2m1 0h1m7 0h2m1 0h1m2 0h1m1 0h1m1 0h1m1 0h1m2 0h1m6 0h1m6 0h1m2 0h4m2 0h2m3 0h1m2 0h2m9 0h1m2 0h2m5 0h2m1 0h1m4 0h1m1 0h1m2 0h1m1 0h1m3 0h3m3 0h1m1 0h2m4 0h1m1 0h1m1 0h1m4 0h3m2 0h1m1 0h1m1 0h2m4 0h1m5 0h1m2 0h2m6 0h4m6 0h1m4 0h1m3 0h3m4 0h2m3 0h1m2 0h2m1 0h2m2 0h1m1 0h3m1 0h2m2 0h1m2 0h3M0 205.5h1m1 0h1m2 0h1m1 0h2m13 0h1m10 0h1m9 0h1m1 0h1m1 0h1m3 0h1m2 0h1m1 0h2m5 0h1m1 0h2m1 0h1m3 0h1m2 0h1m3 0h2m6 0h1m1 0h3m1 0h3m1 0h1m1 0h1m1 0h1m1 0h2m4 0h1m4 0h2m1 0h1m3 0h1m2 0h4m3 0h1m1 0h2m2 0h3m3 0h2m2 0h1m3 0h1m6 0h2m2 0h1m4 0h2m2 0h2m2 0h2m4 0h1m5 0h1m3 0h2m3 0h1m2 0h3m7 0h1m5 0h1m1 0h2m2 0h1m3 0h2m1 0h1m1 0h3m2 0h1m1 0h1m2 0h5m1 0h1m2 0h1m2 0h4M2 206.5h2m2 0h3m12 0h1m8 0h1m2 0h1m5 0h4m1 0h1m1 0h1m3 0h1m4 0h2m3 0h1m3 0h1m6 0h1m2 0h2m2 0h2m9 0h3m1 0h3m7 0h1m4 0h1m4 0h1m1 0h1m2 0h1m2 0h1m1 0h3m4 0h1m1 0h1m4 0h2m8 0h2m1 0h1m5 0h3m2 0h1m2 0h2m1 0h1m2 0h1m2 0h3m1 0h1m7 0h1m1 0h1m2 0h2m6 0h3m8 0h1m4 0h1m2 0h1m2 0h1m3 0h2m2 0h4m2 0h2m3 0h2m2 0h2m1 0h1m1 0h2m1 0h3m1 0h1M2 207.5h1m2 0h3m10 0h1m1 0h1m10 0h1m6 0h3m3 0h1m1 0h1m2 0h1m1 0h1m1 0h1m1 0h2m2 0h1m3 0h1m1 0h1m4 0h1m3 0h1m3 0h1m6 0h3m2 0h4m9 0h2m6 0h1m1 0h1m2 0h1m6 0h2m4 0h1m1 0h1m5 0h1m1 0h1m1 0h1m3 0h1m2 0h2m2 0h1m2 0h1m6 0h1m1 0h1m1 0h1m2 0h3m2 0h1m1 0h1m10 0h1m3 0h2m4 0h3m6 0h1m8 0h2m2 0h2m1 0h1m1 0h2m3 0h1m1 0h1m2 0h2m2 0h2m2 0h2m4 0h1m1 0h6M0 208.5h1m1 0h1m2 0h1m1 0h1m10 0h1m10 0h2m2 0h1m4 0h3m5 0h1m3 0h1m2 0h1m1 0h2m2 0h1m2 0h2m5 0h1m3 0h1m4 0h1m5 0h2m5 0h3m8 0h1m4 0h2m3 0h2m1 0h1m6 0h1m5 0h2m6 0h1m1 0h2m6 0h1m1 0h1m7 0h1m2 0h3m4 0h2m1 0h2m3 0h2m1 0h1m9 0h1m2 0h1m1 0h1m1 0h1m1 0h2m4 0h1m2 0h1m3 0h1m3 0h3m2 0h1m3 0h1m1 0h1m2 0h1m2 0h1m4 0h1m2 0h1m2 0h2m1 0h1m3 0h1m1 0h6M1 209.5h1m2 0h3m21 0h2m6 0h4m3 0h1m1 0h2m1 0h2m1 0h1m3 0h1m1 0h2m2 0h2m5 0h1m3 0h2m1 0h1m6 0h4m3 0h3m1 0h1m5 0h2m1 0h2m2 0h1m7 0h2m4 0h1m1 0h1m1 0h1m2 0h2m1 0h1m6 0h2m3 0h1m4 0h1m2 0h2m6 0h3m4 0h2m2 0h1m1 0h2m2 0h1m14 0h1m2 0h1m2 0h1m4 0h1m2 0h1m2 0h1m1 0h1m4 0h2m6 0h5m2 0h1m4 0h2m3 0h1m1 0h3m2 0h2m1 0h4m1 0h2M0 210.5h1m2 0h1m1 0h2m1 0h1m9 0h1m1 0h1m4 0h1m2 0h2m6 0h3m3 0h1m2 0h2m5 0h1m2 0h2m2 0h3m5 0h1m2 0h1m1 0h1m10 0h2m4 0h1m2 0h1m5 0h1m1 0h1m2 0h1m2 0h2m4 0h1m1 0h1m2 0h1m4 0h2m4 0h1m3 0h2m3 0h2m3 0h1m2 0h1m3 0h2m1 0h1m4 0h2m5 0h2m3 0h4m1 0h1m8 0h1m6 0h1m1 0h2m7 0h1m6 0h2m1 0h1m1 0h1m3 0h1m2 0h1m1 0h3m1 0h1m1 0h1m2 0h1m2 0h1m3 0h1m1 0h4m2 0h1m1 0h4m1 0h1m1 0h1M2 211.5h1m1 0h1m12 0h1m7 0h1m6 0h1m1 0h1m1 0h1m4 0h1m3 0h2m1 0h1m4 0h3m1 0h1m1 0h1m2 0h1m1 0h1m3 0h2m3 0h1m7 0h3m1 0h1m4 0h2m5 0h1m6 0h1m1 0h2m3 0h3m1 0h2m4 0h1m1 0h2m7 0h1m3 0h2m10 0h1m2 0h1m3 0h1m1 0h1m1 0h1m3 0h3m1 0h1m1 0h3m2 0h1m3 0h1m5 0h1m1 0h2m3 0h1m3 0h1m3 0h2m7 0h1m1 0h3m3 0h2m2 0h3m1 0h4m1 0h1m2 0h3m4 0h1m1 0h2m1 0h2m1 0h2m1 0h3m2 0h1M0 212.5h1m2 0h1m19 0h1m2 0h1m4 0h2m4 0h1m1 0h1m3 0h3m1 0h1m3 0h1m1 0h1m2 0h1m2 0h1m1 0h2m1 0h1m2 0h1m4 0h1m2 0h1m4 0h2m1 0h3m5 0h1m4 0h1m5 0h1m3 0h2m2 0h2m1 0h1m3 0h1m3 0h1m1 0h1m3 0h1m5 0h2m1 0h1m3 0h1m4 0h2m8 0h1m2 0h1m3 0h4m2 0h3m1 0h1m1 0h1m1 0h1m1 0h1m3 0h1m3 0h1m4 0h1m4 0h3m7 0h5m5 0h1m2 0h1m1 0h1m1 0h1m1 0h1m2 0h1m2 0h3m3 0h2m1 0h3m1 0h7m3 0h2M0 213.5h1m1 0h1m7 0h1m17 0h1m1 0h2m3 0h1m1 0h2m4 0h1m2 0h2m2 0h1m2 0h1m1 0h1m2 0h3m1 0h1m1 0h1m5 0h3m6 0h2m3 0h1m6 0h1m11 0h1m1 0h1m4 0h2m3 0h1m5 0h2m4 0h1m3 0h1m1 0h1m1 0h2m2 0h1m3 0h1m2 0h1m9 0h2m3 0h3m1 0h1m1 0h2m1 0h1m2 0h1m5 0h1m1 0h2m2 0h1m5 0h1m3 0h1m1 0h1m1 0h1m6 0h5m3 0h4m2 0h2m1 0h3m3 0h2m1 0h1m1 0h1m2 0h2m2 0h9m3 0h1M2 214.5h1m1 0h1m3 0h1m4 0h1m8 0h1m5 0h1m1 0h1m3 0h1m1 0h1m5 0h2m1 0h1m3 0h2m2 0h2m2 0h1m2 0h2m1 0h2m3 0h2m8 0h1m1 0h1m2 0h1m1 0h1m3 0h1m2 0h1m5 0h1m5 0h1m2 0h1m1 0h2m2 0h1m2 0h1m4 0h1m10 0h2m1 0h1m1 0h2m3 0h1m2 0h1m9 0h1m4 0h1m1 0h3m2 0h3m1 0h1m3 0h1m5 0h1m3 0h1m9 0h2m1 0h1m4 0h1m1 0h2m1 0h1m5 0h3m1 0h1m1 0h1m1 0h2m1 0h1m2 0h2m1 0h1m1 0h1m1 0h2m2 0h5m1 0h4m1 0h1m1 0h1m1 0h2M1 215.5h1m3 0h1m1 0h1m4 0h1m4 0h1m6 0h1m5 0h1m5 0h2m2 0h1m1 0h2m1 0h2m2 0h1m3 0h2m1 0h1m1 0h3m1 0h2m3 0h1m9 0h1m1 0h1m2 0h2m5 0h3m9 0h1m3 0h1m2 0h2m5 0h1m4 0h2m1 0h1m4 0h1m1 0h1m1 0h1m2 0h1m2 0h1m2 0h1m2 0h3m3 0h1m4 0h1m1 0h1m1 0h1m1 0h1m2 0h2m2 0h3m4 0h3m3 0h1m12 0h1m7 0h1m1 0h1m1 0h2m5 0h4m1 0h1m2 0h2m3 0h2m1 0h1m4 0h1m2 0h1m1 0h6m2 0h1m2 0h1m2 0h2M0 216.5h1m3 0h1m3 0h1m2 0h1m4 0h1m4 0h1m7 0h2m6 0h3m2 0h1m1 0h2m4 0h1m1 0h2m4 0h1m1 0h2m5 0h1m7 0h2m2 0h1m2 0h1m5 0h3m13 0h1m1 0h3m2 0h1m1 0h1m3 0h1m2 0h2m6 0h1m1 0h1m2 0h1m2 0h1m5 0h4m6 0h1m2 0h1m3 0h2m3 0h1m2 0h1m1 0h3m2 0h1m2 0h1m2 0h1m5 0h1m6 0h1m7 0h1m3 0h1m2 0h1m3 0h4m3 0h1m1 0h1m3 0h1m3 0h1m2 0h2m2 0h1m1 0h6m2 0h3m1 0h1m1 0h3M3 217.5h1m4 0h1m5 0h1m5 0h2m7 0h1m1 0h1m1 0h1m1 0h2m3 0h1m2 0h2m3 0h1m7 0h2m1 0h2m1 0h1m4 0h1m7 0h1m6 0h2m5 0h1m12 0h1m3 0h2m6 0h1m3 0h3m6 0h2m3 0h1m8 0h2m2 0h1m5 0h1m2 0h1m2 0h2m1 0h1m2 0h1m1 0h2m1 0h1m1 0h1m2 0h1m13 0h1m3 0h2m3 0h1m1 0h2m3 0h1m2 0h2m3 0h4m2 0h1m1 0h2m1 0h3m1 0h1m1 0h1m2 0h1m4 0h2m1 0h4m2 0h3m1 0h1m1 0h1m1 0h1m1 0h1M2 218.5h1m1 0h1m3 0h1m4 0h1m6 0h1m14 0h1m2 0h1m1 0h4m2 0h1m1 0h1m5 0h1m1 0h1m1 0h3m5 0h1m7 0h3m6 0h1m3 0h1m10 0h1m3 0h2m1 0h2m6 0h2m1 0h3m4 0h1m4 0h1m3 0h1m1 0h1m6 0h2m1 0h2m5 0h1m4 0h1m3 0h1m2 0h3m1 0h1m2 0h2m1 0h1m3 0h1m9 0h1m2 0h1m4 0h1m2 0h1m3 0h1m2 0h2m3 0h3m1 0h2m4 0h1m1 0h3m1 0h1m2 0h2m3 0h7m4 0h2m1 0h2m4 0h1M2 219.5h1m4 0h2m7 0h1m11 0h1m2 0h1m1 0h2m2 0h2m1 0h1m1 0h1m3 0h1m6 0h2m1 0h1m1 0h2m2 0h1m1 0h1m3 0h1m1 0h1m2 0h1m7 0h2m1 0h1m3 0h1m7 0h2m3 0h3m8 0h1m1 0h5m8 0h1m2 0h1m10 0h1m2 0h1m5 0h3m1 0h1m3 0h2m3 0h3m3 0h2m1 0h1m13 0h1m7 0h1m1 0h1m8 0h1m3 0h2m1 0h2m2 0h1m2 0h3m2 0h2m2 0h1m2 0h1m1 0h7m1 0h1m1 0h2m1 0h2m2 0h1m1 0h1m2 0h1M1 220.5h1m4 0h2m2 0h1m5 0h1m4 0h1m5 0h1m1 0h1m3 0h1m3 0h1m2 0h1m1 0h1m1 0h2m6 0h1m1 0h2m1 0h2m4 0h1m5 0h1m2 0h2m6 0h1m1 0h1m5 0h1m11 0h3m9 0h2m1 0h1m2 0h1m8 0h1m2 0h1m9 0h2m2 0h1m2 0h1m2 0h2m1 0h1m3 0h2m3 0h3m1 0h1m1 0h3m2 0h1m2 0h1m17 0h2m8 0h1m3 0h6m2 0h1m1 0h2m1 0h2m1 0h1m1 0h1m3 0h1m1 0h4m2 0h4m1 0h3m2 0h3m2 0h3M5 221.5h2m6 0h1m1 0h1m3 0h1m8 0h2m1 0h1m3 0h1m1 0h2m1 0h1m1 0h1m1 0h1m5 0h1m2 0h2m1 0h2m9 0h2m3 0h1m6 0h1m1 0h2m3 0h1m6 0h1m3 0h1m1 0h3m5 0h1m4 0h3m1 0h2m5 0h2m2 0h2m1 0h1m8 0h2m6 0h1m2 0h2m5 0h1m2 0h4m4 0h2m1 0h1m3 0h1m5 0h1m3 0h1m4 0h1m6 0h1m2 0h1m5 0h1m1 0h4m1 0h2m1 0h2m2 0h1m2 0h3m3 0h1m1 0h4m3 0h3m2 0h2m2 0h3m2 0h4M4 222.5h1m1 0h1m7 0h1m2 0h1m1 0h1m6 0h1m2 0h1m6 0h2m1 0h2m1 0h4m4 0h1m2 0h1m1 0h4m8 0h2m3 0h1m6 0h1m1 0h2m13 0h4m6 0h2m3 0h2m3 0h1m4 0h3m2 0h1m3 0h1m7 0h3m8 0h2m8 0h3m1 0h1m2 0h1m1 0h2m1 0h1m3 0h1m3 0h1m1 0h1m5 0h1m2 0h1m2 0h1m3 0h1m3 0h1m1 0h1m4 0h2m2 0h6m1 0h2m2 0h2m3 0h5m1 0h1m2 0h3m2 0h3m1 0h3m2 0h4M4 223.5h1m8 0h2m12 0h1m1 0h1m4 0h3m1 0h3m1 0h2m5 0h5m2 0h2m1 0h1m5 0h1m1 0h1m2 0h1m7 0h1m2 0h1m6 0h1m5 0h1m1 0h2m3 0h1m3 0h2m4 0h3m1 0h2m3 0h1m1 0h1m2 0h1m1 0h1m2 0h1m7 0h2m1 0h1m1 0h1m1 0h2m1 0h2m7 0h3m1 0h1m1 0h1m2 0h3m1 0h1m4 0h1m1 0h1m8 0h1m2 0h2m8 0h1m6 0h4m2 0h2m1 0h2m1 0h2m2 0h2m3 0h6m1 0h1m2 0h2m3 0h3m1 0h2m2 0h3m1 0h2M3 224.5h2m7 0h1m1 0h1m10 0h1m1 0h1m1 0h1m4 0h3m1 0h1m2 0h1m6 0h3m1 0h1m1 0h1m10 0h2m3 0h2m6 0h3m6 0h1m5 0h1m3 0h1m4 0h1m1 0h2m4 0h3m2 0h1m3 0h1m8 0h1m5 0h1m3 0h2m3 0h1m1 0h1m1 0h1m2 0h1m5 0h4m1 0h1m5 0h2m2 0h1m2 0h1m8 0h1m8 0h1m6 0h1m5 0h1m1 0h2m2 0h2m1 0h2m1 0h1m3 0h2m3 0h7m3 0h2m2 0h3m2 0h3m1 0h2m1 0h3M3 225.5h2m6 0h1m12 0h3m1 0h1m5 0h2m1 0h1m1 0h1m2 0h1m4 0h3m2 0h3m10 0h3m9 0h1m2 0h1m3 0h2m5 0h1m7 0h1m1 0h4m1 0h1m4 0h1m3 0h1m1 0h1m4 0h1m3 0h1m2 0h1m4 0h1m1 0h3m4 0h1m1 0h1m2 0h1m5 0h1m1 0h5m2 0h1m1 0h2m2 0h1m4 0h1m1 0h1m7 0h1m1 0h1m5 0h1m5 0h1m6 0h3m1 0h2m1 0h3m10 0h4m1 0h3m3 0h2m2 0h1m1 0h1m1 0h5m3 0h3M1 226.5h1m1 0h1m5 0h1m1 0h1m11 0h3m7 0h3m3 0h1m2 0h1m3 0h4m2 0h3m9 0h3m9 0h1m1 0h2m3 0h1m3 0h1m2 0h1m7 0h1m1 0h3m2 0h1m1 0h1m2 0h1m1 0h1m8 0h1m6 0h1m6 0h3m1 0h1m5 0h1m1 0h1m3 0h2m2 0h5m4 0h2m2 0h2m3 0h2m9 0h3m11 0h1m1 0h1m2 0h1m2 0h4m1 0h3m2 0h1m1 0h1m3 0h2m1 0h8m3 0h1m1 0h1m2 0h3m1 0h4m3 0h3M1 227.5h1m5 0h1m1 0h1m5 0h1m7 0h1m6 0h1m1 0h4m2 0h1m2 0h2m2 0h3m3 0h3m2 0h1m4 0h1m1 0h3m1 0h1m2 0h1m2 0h1m3 0h2m2 0h2m4 0h1m1 0h1m2 0h1m4 0h1m2 0h2m3 0h1m1 0h1m3 0h1m8 0h1m6 0h2m5 0h3m2 0h1m4 0h1m2 0h1m1 0h1m1 0h1m3 0h2m1 0h1m4 0h2m2 0h1m1 0h1m4 0h1m8 0h4m16 0h1m2 0h3m1 0h3m5 0h1m2 0h5m1 0h3m4 0h1m1 0h3m1 0h1m1 0h6m2 0h1m1 0h2m1 0h1M4 228.5h1m1 0h1m6 0h1m7 0h3m3 0h1m2 0h1m1 0h3m3 0h1m2 0h1m1 0h1m1 0h1m1 0h1m1 0h2m2 0h1m8 0h2m1 0h1m6 0h1m5 0h1m6 0h1m3 0h1m2 0h1m4 0h5m4 0h1m4 0h2m2 0h1m2 0h1m8 0h1m5 0h3m2 0h1m3 0h2m5 0h2m2 0h2m1 0h2m5 0h1m2 0h3m8 0h1m2 0h1m2 0h1m1 0h1m13 0h1m2 0h1m2 0h3m2 0h2m4 0h1m3 0h5m1 0h2m2 0h1m4 0h2m1 0h1m1 0h1m1 0h5m6 0h1m1 0h1M3 229.5h2m13 0h1m1 0h3m2 0h1m2 0h2m2 0h1m3 0h1m3 0h1m1 0h3m5 0h1m1 0h1m1 0h1m5 0h1m1 0h4m11 0h1m3 0h1m1 0h2m3 0h1m2 0h1m3 0h5m1 0h1m4 0h2m3 0h1m1 0h1m13 0h1m3 0h3m3 0h1m2 0h1m3 0h1m2 0h4m2 0h1m1 0h3m1 0h1m2 0h1m2 0h2m1 0h1m6 0h1m3 0h1m1 0h1m1 0h2m15 0h1m3 0h3m2 0h3m3 0h2m3 0h3m1 0h2m2 0h2m4 0h3m2 0h1m1 0h4m1 0h1m4 0h3M1 230.5h4m3 0h1m11 0h2m5 0h2m2 0h1m1 0h1m1 0h1m2 0h1m2 0h1m1 0h1m3 0h1m2 0h1m6 0h1m3 0h1m1 0h1m1 0h1m2 0h1m6 0h2m4 0h1m4 0h2m2 0h1m5 0h3m1 0h1m5 0h1m3 0h2m2 0h1m2 0h1m8 0h2m2 0h2m2 0h1m2 0h1m1 0h1m2 0h1m3 0h2m1 0h1m4 0h4m6 0h3m5 0h1m10 0h1m8 0h1m6 0h1m2 0h1m1 0h3m1 0h4m3 0h1m1 0h1m1 0h2m1 0h3m2 0h2m5 0h2m2 0h6m1 0h2m2 0h1m1 0h1m1 0h3M0 231.5h1m1 0h1m4 0h1m1 0h1m8 0h1m1 0h1m1 0h1m3 0h3m1 0h1m1 0h1m1 0h1m2 0h1m1 0h1m1 0h2m2 0h1m2 0h1m1 0h1m5 0h1m2 0h4m3 0h1m7 0h1m5 0h2m4 0h1m1 0h3m4 0h4m1 0h1m2 0h1m1 0h1m3 0h2m1 0h1m1 0h2m3 0h1m5 0h3m1 0h2m3 0h1m1 0h3m2 0h1m3 0h1m1 0h1m4 0h3m1 0h1m4 0h1m2 0h3m8 0h1m5 0h2m2 0h1m6 0h1m5 0h2m1 0h5m1 0h1m1 0h2m4 0h1m1 0h7m2 0h2m3 0h1m2 0h1m2 0h6m1 0h2m1 0h1m1 0h1m2 0h3M1 232.5h3m3 0h2m8 0h2m1 0h2m2 0h1m1 0h1m2 0h5m3 0h2m2 0h1m1 0h1m1 0h2m2 0h1m3 0h1m4 0h2m1 0h1m3 0h1m9 0h1m2 0h1m7 0h2m6 0h1m1 0h2m11 0h2m4 0h2m2 0h1m4 0h1m2 0h1m1 0h1m1 0h1m1 0h2m2 0h1m1 0h1m2 0h1m1 0h1m5 0h2m1 0h1m1 0h2m4 0h1m1 0h3m7 0h2m2 0h1m2 0h1m3 0h1m6 0h1m5 0h2m3 0h1m1 0h2m3 0h1m4 0h3m1 0h5m2 0h1m3 0h2m2 0h2m1 0h2m1 0h2m3 0h1m1 0h2m3 0h3M1 233.5h2m6 0h1m7 0h1m3 0h1m4 0h1m2 0h2m1 0h1m1 0h3m4 0h1m2 0h3m5 0h1m5 0h1m1 0h1m5 0h1m7 0h1m1 0h1m8 0h4m1 0h1m4 0h2m11 0h1m3 0h2m8 0h2m2 0h1m1 0h1m2 0h2m7 0h1m1 0h1m1 0h1m4 0h3m1 0h1m1 0h1m8 0h1m2 0h1m9 0h1m1 0h1m10 0h1m5 0h2m1 0h4m1 0h2m2 0h3m2 0h4m1 0h5m2 0h1m3 0h2m2 0h2m1 0h2m1 0h2m2 0h2m1 0h1m3 0h4m1 0h1M0 234.5h1m5 0h1m1 0h1m6 0h1m4 0h2m3 0h6m2 0h5m2 0h1m4 0h1m2 0h1m4 0h1m3 0h1m6 0h1m7 0h1m2 0h1m7 0h1m1 0h1m1 0h1m1 0h2m3 0h3m11 0h2m1 0h3m1 0h1m5 0h2m3 0h3m1 0h1m5 0h1m1 0h1m1 0h1m2 0h1m3 0h1m1 0h1m2 0h2m3 0h1m5 0h1m6 0h1m1 0h1m4 0h1m4 0h1m5 0h1m6 0h2m2 0h3m1 0h3m1 0h3m3 0h3m2 0h4m2 0h2m3 0h1m2 0h3m1 0h2m1 0h1m2 0h4m1 0h1m2 0h2m1 0h2M7 235.5h2m9 0h3m4 0h2m1 0h1m1 0h1m1 0h4m3 0h2m2 0h1m4 0h1m3 0h1m3 0h2m2 0h1m2 0h2m6 0h1m12 0h1m1 0h1m1 0h1m4 0h1m1 0h1m11 0h2m1 0h1m1 0h1m7 0h1m4 0h3m7 0h2m1 0h1m3 0h2m3 0h1m1 0h1m1 0h2m2 0h1m6 0h2m11 0h1m5 0h1m3 0h1m8 0h1m1 0h1m2 0h2m1 0h2m1 0h4m2 0h1m1 0h2m1 0h5m7 0h1m1 0h4m1 0h1m1 0h1m3 0h4m1 0h1m2 0h3m1 0h1M1 236.5h1m4 0h1m7 0h1m3 0h1m1 0h1m1 0h1m1 0h2m3 0h1m1 0h1m1 0h2m1 0h1m1 0h2m2 0h1m2 0h1m5 0h2m3 0h1m6 0h1m2 0h1m7 0h1m5 0h1m1 0h1m1 0h3m1 0h1m5 0h1m10 0h1m1 0h1m2 0h2m2 0h1m4 0h1m4 0h4m1 0h1m3 0h3m6 0h1m6 0h2m1 0h1m1 0h2m7 0h1m5 0h1m3 0h1m1 0h1m9 0h1m8 0h1m1 0h1m1 0h3m1 0h2m2 0h1m1 0h1m2 0h2m1 0h2m2 0h3m8 0h3m2 0h2m1 0h1m3 0h3m1 0h1m3 0h1m1 0h3M6 237.5h1m6 0h1m3 0h1m1 0h2m1 0h4m2 0h2m3 0h1m2 0h2m1 0h1m3 0h1m3 0h1m1 0h1m1 0h1m1 0h1m6 0h1m3 0h1m14 0h1m3 0h2m2 0h1m9 0h1m8 0h1m2 0h3m1 0h1m1 0h1m3 0h1m3 0h3m5 0h2m1 0h1m1 0h1m1 0h1m2 0h2m4 0h2m1 0h1m2 0h2m6 0h1m6 0h1m5 0h1m6 0h3m11 0h1m2 0h1m2 0h2m1 0h3m3 0h1m2 0h3m2 0h1m3 0h1m4 0h3m1 0h1m1 0h3m4 0h2m1 0h1m6 0h2m1 0h1M5 238.5h1m11 0h5m1 0h1m4 0h2m1 0h2m2 0h1m3 0h1m2 0h1m3 0h1m1 0h4m1 0h1m2 0h1m4 0h1m3 0h1m5 0h1m6 0h1m2 0h4m1 0h1m2 0h1m2 0h1m2 0h1m10 0h1m1 0h3m1 0h2m1 0h1m2 0h1m4 0h3m3 0h1m1 0h2m1 0h2m2 0h1m2 0h2m1 0h1m3 0h2m3 0h1m3 0h1m1 0h1m2 0h1m4 0h1m3 0h1m1 0h1m1 0h1m5 0h2m7 0h1m3 0h1m3 0h1m1 0h2m1 0h3m2 0h1m1 0h1m1 0h3m2 0h1m1 0h1m1 0h1m4 0h3m3 0h2m5 0h2m1 0h2m1 0h2m2 0h3m1 0h1M3 239.5h1m13 0h5m2 0h1m2 0h2m4 0h1m8 0h1m2 0h2m1 0h3m1 0h1m6 0h2m2 0h1m7 0h1m2 0h1m4 0h2m2 0h1m1 0h1m2 0h1m4 0h2m10 0h6m1 0h2m3 0h2m3 0h3m2 0h1m1 0h1m1 0h1m1 0h2m1 0h2m2 0h2m2 0h1m1 0h2m8 0h1m1 0h1m2 0h1m2 0h1m2 0h1m4 0h1m1 0h1m2 0h2m1 0h2m1 0h1m1 0h1m8 0h1m2 0h1m1 0h2m2 0h3m2 0h1m2 0h4m1 0h1m2 0h1m1 0h1m3 0h1m5 0h2m6 0h1m1 0h2m1 0h2m2 0h3m1 0h1M1 240.5h1m1 0h1m11 0h5m3 0h1m2 0h3m1 0h1m1 0h3m1 0h1m5 0h1m1 0h5m9 0h3m2 0h1m7 0h2m7 0h1m2 0h1m10 0h1m9 0h5m1 0h1m1 0h2m2 0h3m1 0h3m1 0h1m1 0h3m4 0h1m1 0h2m3 0h1m4 0h2m2 0h1m6 0h2m5 0h1m5 0h1m1 0h1m4 0h2m1 0h3m1 0h1m12 0h4m2 0h3m2 0h2m1 0h1m1 0h1m1 0h1m3 0h3m3 0h2m3 0h1m1 0h1m1 0h1m2 0h1m4 0h4m3 0h3m2 0h1M0 241.5h1m1 0h1m8 0h1m1 0h1m1 0h4m7 0h1m1 0h3m1 0h2m1 0h1m5 0h6m1 0h1m7 0h1m1 0h2m2 0h1m6 0h1m1 0h1m3 0h1m5 0h1m5 0h1m2 0h1m2 0h1m9 0h4m2 0h2m1 0h1m1 0h1m2 0h1m2 0h2m2 0h2m1 0h1m3 0h1m1 0h1m1 0h1m3 0h2m2 0h1m2 0h2m6 0h1m1 0h2m3 0h1m2 0h1m2 0h1m3 0h1m3 0h1m1 0h3m1 0h1m3 0h1m6 0h1m2 0h4m2 0h3m1 0h2m2 0h2m2 0h1m1 0h1m2 0h1m5 0h2m2 0h1m2 0h1m4 0h1m1 0h1m1 0h3m3 0h2m1 0h4M0 242.5h1m1 0h1m7 0h1m3 0h4m6 0h3m1 0h1m1 0h1m1 0h2m6 0h1m1 0h5m1 0h1m1 0h2m2 0h2m2 0h1m1 0h2m3 0h1m4 0h1m9 0h1m5 0h2m1 0h1m3 0h1m6 0h1m2 0h5m1 0h1m6 0h1m1 0h3m2 0h3m2 0h1m3 0h1m1 0h1m4 0h1m6 0h1m7 0h1m1 0h1m9 0h2m7 0h4m2 0h1m1 0h1m10 0h2m2 0h2m2 0h1m2 0h1m1 0h1m1 0h1m2 0h3m3 0h1m4 0h2m1 0h1m4 0h1m4 0h1m2 0h2m2 0h2m1 0h1m1 0h3m2 0h1M0 243.5h1m7 0h3m3 0h1m1 0h1m7 0h1m1 0h1m1 0h2m2 0h1m7 0h4m1 0h2m2 0h1m6 0h2m1 0h1m2 0h1m1 0h1m2 0h1m3 0h1m5 0h1m2 0h1m4 0h1m1 0h1m1 0h1m2 0h1m6 0h3m1 0h5m6 0h1m1 0h4m3 0h2m2 0h1m2 0h1m1 0h2m3 0h2m3 0h1m9 0h4m9 0h2m7 0h3m4 0h1m2 0h1m6 0h1m1 0h1m1 0h1m1 0h3m1 0h1m1 0h1m1 0h2m1 0h1m2 0h2m4 0h1m1 0h1m2 0h1m4 0h1m2 0h1m4 0h1m2 0h2m1 0h2m5 0h2m2 0h1M1 244.5h1m5 0h3m1 0h1m1 0h2m1 0h1m3 0h1m1 0h4m1 0h2m3 0h1m6 0h4m1 0h1m1 0h3m1 0h1m1 0h1m1 0h2m1 0h2m1 0h1m4 0h1m2 0h2m8 0h1m7 0h1m1 0h1m2 0h1m6 0h3m1 0h1m1 0h2m3 0h2m3 0h2m1 0h3m1 0h3m1 0h1m1 0h1m3 0h2m4 0h1m2 0h1m1 0h1m5 0h1m2 0h1m1 0h2m9 0h1m5 0h1m1 0h4m3 0h2m3 0h1m2 0h1m3 0h2m1 0h4m1 0h1m1 0h2m2 0h1m1 0h1m1 0h3m5 0h1m3 0h3m2 0h1m2 0h1m5 0h2m1 0h1m1 0h3m4 0h2m1 0h2m3 0h1M7 245.5h1m2 0h1m1 0h1m3 0h1m2 0h1m2 0h1m1 0h1m3 0h1m7 0h2m1 0h4m2 0h2m3 0h1m5 0h1m1 0h1m1 0h1m4 0h1m1 0h3m6 0h1m2 0h1m4 0h1m1 0h1m9 0h4m1 0h1m1 0h3m3 0h1m2 0h1m1 0h4m1 0h1m3 0h1m1 0h1m4 0h2m1 0h1m3 0h2m2 0h1m6 0h1m4 0h1m2 0h1m6 0h1m6 0h1m1 0h2m3 0h1m1 0h1m1 0h1m4 0h2m3 0h1m2 0h4m1 0h2m1 0h1m1 0h3m2 0h2m4 0h1m9 0h2m5 0h3m2 0h4m5 0h2m1 0h1M5 246.5h3m3 0h1m2 0h2m2 0h1m1 0h1m1 0h3m3 0h1m5 0h3m1 0h3m3 0h2m1 0h2m5 0h1m1 0h1m1 0h2m5 0h1m1 0h1m7 0h1m3 0h1m5 0h1m9 0h2m1 0h1m1 0h2m1 0h2m3 0h1m4 0h4m1 0h1m2 0h1m2 0h1m3 0h1m2 0h2m3 0h2m1 0h1m6 0h1m1 0h1m1 0h1m1 0h1m5 0h1m4 0h1m5 0h3m1 0h2m2 0h1m7 0h2m4 0h1m1 0h5m1 0h1m1 0h2m1 0h4m2 0h1m2 0h2m4 0h1m1 0h1m1 0h2m6 0h2m1 0h1m2 0h4m3 0h5M5 247.5h1m3 0h1m4 0h1m4 0h2m1 0h1m9 0h2m1 0h4m1 0h1m2 0h1m1 0h2m1 0h1m4 0h2m1 0h3m3 0h1m1 0h2m11 0h1m2 0h1m1 0h1m1 0h1m10 0h1m3 0h2m1 0h2m2 0h1m5 0h4m1 0h1m1 0h1m1 0h1m1 0h2m2 0h1m1 0h1m5 0h3m2 0h1m3 0h2m2 0h2m1 0h1m2 0h1m8 0h1m1 0h1m2 0h3m2 0h1m5 0h1m4 0h1m5 0h1m2 0h3m1 0h1m1 0h4m1 0h2m4 0h1m1 0h1m9 0h2m1 0h1m4 0h2m2 0h1m1 0h1m1 0h2m2 0h1m1 0h4M2 248.5h1m2 0h1m6 0h1m1 0h1m3 0h3m4 0h1m6 0h1m1 0h3m3 0h1m2 0h2m2 0h2m1 0h1m1 0h3m1 0h3m5 0h2m8 0h1m3 0h3m14 0h1m1 0h3m1 0h3m6 0h5m2 0h2m3 0h1m1 0h1m2 0h2m6 0h1m4 0h1m3 0h1m1 0h2m2 0h1m2 0h1m1 0h2m7 0h2m1 0h3m1 0h1m1 0h1m3 0h2m2 0h1m1 0h1m2 0h1m2 0h2m1 0h6m2 0h2m1 0h2m4 0h2m3 0h1m1 0h1m3 0h1m7 0h1m1 0h2m2 0h1m3 0h1m1 0h1m1 0h1m3 0h2m6 0h1M4 249.5h1m3 0h1m2 0h1m5 0h3m11 0h4m2 0h3m2 0h2m2 0h2m1 0h2m1 0h1m1 0h1m1 0h2m1 0h1m1 0h1m1 0h1m10 0h1m1 0h4m2 0h1m4 0h1m6 0h1m1 0h3m1 0h1m1 0h1m3 0h1m3 0h1m1 0h1m2 0h2m5 0h2m3 0h1m2 0h1m13 0h1m2 0h2m4 0h1m1 0h2m6 0h3m2 0h3m5 0h1m1 0h1m1 0h1m2 0h1m4 0h3m1 0h2m1 0h2m2 0h2m2 0h1m1 0h1m1 0h4m1 0h1m1 0h1m5 0h1m5 0h1m1 0h3m6 0h2m2 0h2m2 0h2m5 0h1M4 250.5h1m5 0h1m5 0h3m12 0h3m3 0h1m6 0h1m2 0h3m2 0h6m4 0h1m9 0h1m1 0h4m4 0h1m2 0h3m2 0h1m5 0h2m2 0h1m1 0h1m2 0h1m2 0h2m2 0h1m1 0h3m3 0h1m1 0h2m2 0h2m14 0h2m1 0h1m1 0h1m6 0h1m8 0h3m1 0h2m1 0h1m7 0h1m2 0h1m1 0h1m2 0h2m1 0h1m1 0h6m1 0h2m1 0h1m5 0h2m1 0h1m1 0h2m4 0h1m1 0h1m2 0h1m1 0h3m1 0h1m2 0h1m3 0h2m3 0h1m2 0h2m1 0h1m6 0h1M5 251.5h1m3 0h1m5 0h1m12 0h1m1 0h2m3 0h2m6 0h2m1 0h3m1 0h2m1 0h5m2 0h1m10 0h1m1 0h3m7 0h1m1 0h1m1 0h1m4 0h7m1 0h1m1 0h1m1 0h1m1 0h2m3 0h4m1 0h1m2 0h1m2 0h1m3 0h1m4 0h1m4 0h1m5 0h1m2 0h2m5 0h2m8 0h2m2 0h2m9 0h2m1 0h2m4 0h1m2 0h2m1 0h1m1 0h1m1 0h4m4 0h3m2 0h4m4 0h1m4 0h1m1 0h3m1 0h2m2 0h1m1 0h1m1 0h2m3 0h1m1 0h3m8 0h1M5 252.5h1m2 0h2m3 0h1m2 0h1m12 0h2m3 0h2m8 0h4m1 0h2m2 0h4m1 0h1m11 0h2m1 0h3m7 0h2m7 0h5m2 0h1m3 0h1m2 0h1m2 0h2m1 0h2m1 0h1m1 0h1m2 0h2m2 0h1m1 0h1m3 0h1m5 0h1m4 0h1m3 0h1m5 0h2m5 0h5m2 0h2m6 0h1m2 0h1m2 0h2m3 0h1m4 0h6m2 0h1m1 0h1m4 0h2m2 0h2m1 0h1m4 0h1m7 0h2m2 0h1m3 0h2m2 0h1m2 0h2m1 0h1m1 0h2m1 0h1m5 0h1M2 253.5h1m4 0h1m9 0h1m10 0h1m1 0h2m2 0h1m5 0h1m2 0h4m2 0h1m1 0h3m1 0h3m4 0h1m7 0h2m2 0h1m7 0h3m3 0h1m4 0h3m4 0h2m1 0h1m6 0h1m1 0h3m1 0h4m3 0h1m5 0h1m4 0h2m3 0h1m1 0h1m4 0h1m3 0h1m3 0h1m3 0h1m2 0h2m1 0h1m7 0h1m2 0h2m1 0h3m3 0h1m5 0h3m1 0h1m6 0h1m1 0h1m1 0h1m2 0h2m1 0h1m6 0h1m3 0h4m3 0h1m1 0h2m1 0h1m4 0h1m1 0h7m2 0h1M7 254.5h1m2 0h1m1 0h1m4 0h1m10 0h1m1 0h2m1 0h2m5 0h7m2 0h6m1 0h1m5 0h1m7 0h1m3 0h1m2 0h1m4 0h2m1 0h1m2 0h1m2 0h5m3 0h2m8 0h1m1 0h3m2 0h2m1 0h1m2 0h2m12 0h1m1 0h1m5 0h1m4 0h1m6 0h1m1 0h1m1 0h2m1 0h1m11 0h1m1 0h4m2 0h1m1 0h1m3 0h3m1 0h1m3 0h1m5 0h3m2 0h1m1 0h1m6 0h1m4 0h3m2 0h1m2 0h2m3 0h1m2 0h1m1 0h5m10 0h1M7 255.5h1m17 0h2m1 0h1m3 0h1m6 0h7m2 0h2m1 0h3m8 0h1m4 0h1m5 0h1m6 0h1m1 0h1m5 0h1m1 0h3m1 0h1m3 0h2m5 0h1m2 0h1m2 0h1m1 0h4m1 0h1m2 0h1m2 0h1m7 0h1m4 0h2m4 0h2m3 0h1m3 0h1m1 0h1m3 0h2m4 0h2m2 0h1m2 0h1m3 0h5m1 0h2m5 0h4m3 0h2m4 0h4m3 0h2m5 0h1m4 0h1m1 0h3m1 0h1m2 0h3m1 0h1m5 0h6m9 0h1"/>
<path stroke="#48c16e" d="M4 0.5h1m3 0h1m4 0h1m4 0h1m19 0h1m10 0h1m9 0h1m5 0h1m1 0h1m4 0h1m10 0h1m6 0h1m8 0h3m16 0h1m9 0h1m1 0h2m2 0h1m12 0h1m4 0h1m1 0h1m31 0h1m12 0h1m9 0h1m1 0h1m2 0h1m25 0h1m8 0h1m1 0h2M3 1.5h2m1 0h1m5 0h2m2 0h1m2 0h1m46 0h1m3 0h1m12 0h1m6 0h1m7 0h1m1 0h1m7 0h1m8 0h1m11 0h2m2 0h1m15 0h2m2 0h1m3 0h1m5 0h1m9 0h1m24 0h1m8 0h2m2 0h1m23 0h1m13 0h3m2 0h1M3 2.5h2m1 0h1m4 0h1m4 0h1m30 0h1m20 0h3m8 0h1m10 0h1m6 0h1m2 0h1m5 0h1m3 0h1m1 0h2m2 0h2m1 0h1m9 0h2m1 0h1m11 0h1m2 0h1m15 0h1m6 0h1m10 0h1m4 0h1m10 0h1m1 0h1m7 0h2m1 0h1m12 0h1m10 0h1m3 0h1m9 0h1m1 0h1M2 3.5h3m6 0h1m3 0h1m38 0h1m13 0h2m26 0h1m2 0h2m10 0h1m4 0h1m11 0h2m1 0h2m15 0h1m3 0h1m17 0h1m13 0h1m13 0h1m7 0h1m1 0h1m2 0h1m11 0h1m13 0h1m10 0h4M1 4.5h1m1 0h1m5 0h2m2 0h2m43 0h1m8 0h1m1 0h1m10 0h1m9 0h1m5 0h4m6 0h1m7 0h2m11 0h2m2 0h1m14 0h2m6 0h1m14 0h1m13 0h1m13 0h1m7 0h3m9 0h1m5 0h1m8 0h1m13 0h4M1 5.5h3m5 0h1m2 0h2m2 0h1m12 0h1m35 0h1m2 0h2m10 0h1m8 0h1m5 0h2m16 0h1m12 0h3m13 0h1m3 0h1m4 0h1m3 0h1m22 0h1m4 0h1m12 0h2m6 0h2m1 0h1m38 0h1m1 0h1m6 0h1M0 6.5h2m1 0h1m4 0h1m3 0h1m6 0h1m4 0h1m11 0h1m27 0h1m2 0h1m12 0h1m2 0h1m11 0h1m9 0h1m19 0h4m1 0h1m14 0h2m4 0h1m14 0h1m2 0h1m26 0h2m6 0h1m5 0h1m20 0h1m14 0h1m1 0h1m3 0h1m1 0h1M0 7.5h2m9 0h1m14 0h1m3 0h1m26 0h1m5 0h2m1 0h1m12 0h1m6 0h1m8 0h1m1 0h1m6 0h1m9 0h1m9 0h1m1 0h3m1 0h1m8 0h1m4 0h1m20 0h1m5 0h1m6 0h1m15 0h1m8 0h1m43 0h1m4 0h1M0 8.5h1m1 0h1m6 0h1m1 0h1m4 0h1m13 0h1m1 0h1m5 0h1m17 0h2m5 0h1m2 0h1m7 0h1m11 0h1m2 0h1m4 0h2m4 0h1m7 0h1m3 0h2m9 0h1m1 0h3m14 0h1m2 0h1m19 0h1m11 0h1m9 0h1m4 0h1m1 0h1m9 0h1m4 0h1m27 0h1m9 0h2m2 0h1M0 9.5h1m5 0h1m7 0h1m14 0h1m19 0h1m6 0h1m1 0h1m3 0h1m1 0h1m7 0h1m4 0h1m10 0h1m10 0h1m8 0h1m2 0h1m12 0h1m2 0h1m7 0h1m28 0h1m6 0h1m4 0h1m9 0h1m17 0h1m8 0h1m19 0h1m10 0h1m1 0h2M0 10.5h1m5 0h1m21 0h1m4 0h1m22 0h1m5 0h1m1 0h1m12 0h1m11 0h1m6 0h1m1 0h1m5 0h1m2 0h1m15 0h1m2 0h1m1 0h1m6 0h1m8 0h1m3 0h1m16 0h1m4 0h1m8 0h1m22 0h1m29 0h1m11 0h1m2 0h1M16 11.5h1m8 0h1m1 0h1m27 0h2m1 0h1m2 0h2m5 0h1m4 0h1m2 0h1m6 0h1m1 0h1m2 0h1m8 0h1m8 0h1m13 0h1m6 0h1m7 0h1m5 0h1m4 0h1m4 0h1m18 0h1m32 0h1m27 0h1m14 0h1M2 12.5h1m22 0h2m13 0h1m13 0h1m5 0h2m4 0h1m5 0h1m7 0h1m2 0h2m6 0h2m3 0h1m4 0h1m2 0h1m8 0h1m8 0h1m4 0h1m34 0h1m5 0h2m13 0h1m9 0h1m7 0h1m10 0h1m13 0h1m13 0h1m6 0h1M12 13.5h1m11 0h1m8 0h1m19 0h1m1 0h1m4 0h1m6 0h1m7 0h1m3 0h1m1 0h1m1 0h1m6 0h1m3 0h1m9 0h1m1 0h2m3 0h1m10 0h1m4 0h1m14 0h1m4 0h1m4 0h1m6 0h2m24 0h1m1 0h1m11 0h1m11 0h1m20 0h1m6 0h1m11 0h1m3 0h1M11 14.5h2m11 0h1m14 0h1m4 0h1m9 0h1m17 0h1m8 0h1m1 0h1m4 0h1m1 0h1m3 0h3m3 0h1m23 0h1m1 0h2m5 0h2m9 0h1m2 0h1m2 0h1m13 0h1m3 0h1m27 0h3m3 0h1m5 0h1m1 0h1m6 0h1m5 0h1m6 0h1m7 0h1m16 0h1M10 15.5h1m9 0h1m2 0h2m13 0h1m13 0h1m2 0h1m4 0h1m2 0h1m10 0h1m4 0h3m4 0h1m2 0h2m2 0h3m16 0h2m6 0h1m1 0h1m2 0h1m1 0h1m8 0h1m7 0h1m6 0h1m8 0h1m3 0h1m2 0h1m28 0h1m11 0h1m16 0h2m2 0h1m16 0h1m1 0h1m6 0h1M5 16.5h1m9 0h1m4 0h1m2 0h1m2 0h1m6 0h1m9 0h1m5 0h1m6 0h1m3 0h1m1 0h1m2 0h1m3 0h1m9 0h1m1 0h1m2 0h1m4 0h1m3 0h1m3 0h1m3 0h1m2 0h1m6 0h2m12 0h1m17 0h1m6 0h1m4 0h1m4 0h1m9 0h1m13 0h1m7 0h1m2 0h2m2 0h1m7 0h1m16 0h1m22 0h1m5 0h1m1 0h1M5 17.5h1m13 0h1m2 0h1m1 0h1m24 0h1m3 0h1m5 0h1m5 0h1m13 0h1m4 0h1m3 0h1m1 0h2m11 0h2m6 0h1m8 0h1m3 0h2m16 0h1m3 0h1m7 0h1m24 0h1m3 0h1m14 0h1m2 0h1m12 0h1m8 0h2m20 0h1m6 0h1m1 0h2M4 18.5h1m2 0h1m3 0h1m7 0h1m4 0h1m1 0h1m22 0h1m23 0h1m1 0h1m3 0h1m3 0h1m4 0h3m1 0h2m7 0h2m1 0h1m4 0h2m4 0h1m4 0h1m4 0h1m17 0h1m14 0h1m23 0h2m1 0h1m5 0h1m15 0h1m14 0h2m7 0h1m11 0h1m1 0h1m7 0h1m1 0h1M6 19.5h1m2 0h1m8 0h1m3 0h1m52 0h1m2 0h1m3 0h2m3 0h3m2 0h1m1 0h1m4 0h1m1 0h2m6 0h1m8 0h1m3 0h1m1 0h2m15 0h1m1 0h1m1 0h1m1 0h2m18 0h1m1 0h1m9 0h1m2 0h2m8 0h1m13 0h1m13 0h1m1 0h1m2 0h1m12 0h1m12 0h1m1 0h1m1 0h1M17 20.5h1m15 0h1m7 0h1m18 0h1m3 0h1m10 0h1m2 0h1m4 0h1m2 0h1m1 0h2m2 0h2m4 0h1m2 0h1m1 0h1m3 0h1m15 0h1m1 0h1m8 0h1m5 0h1m13 0h1m11 0h1m11 0h2m2 0h1m8 0h1m5 0h1m7 0h1m13 0h2m3 0h1m8 0h1m10 0h1m5 0h1m2 0h3M1 21.5h1m8 0h1m7 0h1m13 0h1m15 0h1m10 0h1m4 0h1m9 0h1m6 0h1m5 0h3m8 0h1m1 0h2m2 0h1m19 0h1m9 0h1m3 0h2m5 0h1m7 0h1m11 0h1m1 0h1m9 0h2m2 0h1m1 0h1m21 0h1m8 0h1m3 0h1m3 0h2m13 0h1m5 0h1m9 0h2M5 22.5h1m3 0h1m14 0h1m3 0h1m2 0h1m25 0h1m5 0h1m9 0h1m3 0h1m2 0h1m1 0h1m3 0h2m1 0h1m6 0h1m3 0h1m8 0h1m11 0h1m20 0h1m3 0h1m5 0h1m11 0h2m9 0h3m3 0h1m1 0h1m7 0h1m21 0h1m9 0h1m8 0h1m3 0h1m17 0h2M1 23.5h1m5 0h1m6 0h1m19 0h1m7 0h1m11 0h1m3 0h1m3 0h1m5 0h1m4 0h1m1 0h1m2 0h2m2 0h1m2 0h3m3 0h2m2 0h2m3 0h1m11 0h1m7 0h2m14 0h1m8 0h1m1 0h1m15 0h1m1 0h1m8 0h2m5 0h2m5 0h1m23 0h1m1 0h1m8 0h1m24 0h1m4 0h1m1 0h1M18 24.5h1m4 0h1m8 0h1m12 0h1m11 0h1m3 0h1m5 0h2m5 0h1m2 0h1m3 0h1m3 0h2m9 0h1m2 0h1m1 0h1m2 0h1m6 0h1m7 0h2m2 0h1m13 0h1m8 0h1m2 0h1m14 0h1m16 0h1m9 0h1m2 0h1m15 0h1m1 0h1m9 0h2m9 0h1m20 0h2M0 25.5h1m30 0h1m24 0h1m10 0h2m6 0h1m1 0h1m6 0h1m6 0h1m23 0h1m2 0h1m16 0h1m2 0h1m3 0h1m1 0h1m14 0h1m4 0h1m10 0h1m15 0h1m2 0h1m15 0h2m6 0h1m2 0h1m7 0h1m1 0h1m15 0h1m4 0h3M11 26.5h1m4 0h1m13 0h1m22 0h1m2 0h1m9 0h1m5 0h1m3 0h1m2 0h1m5 0h2m2 0h1m1 0h2m2 0h1m1 0h1m2 0h1m4 0h1m11 0h1m1 0h1m13 0h2m8 0h1m1 0h2m10 0h1m6 0h1m9 0h1m5 0h1m3 0h1m6 0h1m17 0h2m8 0h1m1 0h1m9 0h2m5 0h1m11 0h1m1 0h2M4 27.5h1m26 0h1m21 0h1m10 0h1m6 0h2m11 0h2m3 0h1m1 0h1m7 0h1m11 0h1m14 0h1m5 0h1m11 0h1m27 0h1m10 0h1m25 0h1m5 0h1m2 0h1m10 0h1m21 0h2M15 28.5h1m11 0h1m10 0h1m5 0h1m6 0h1m1 0h1m2 0h1m10 0h1m2 0h1m1 0h1m11 0h2m2 0h3m3 0h1m3 0h1m1 0h1m2 0h2m30 0h1m5 0h2m20 0h2m5 0h1m1 0h1m17 0h1m10 0h1m7 0h1m5 0h1m1 0h1m5 0h1m3 0h1m22 0h3M51 29.5h2m2 0h1m10 0h1m1 0h1m1 0h1m3 0h1m9 0h1m2 0h1m1 0h1m25 0h1m4 0h1m13 0h1m2 0h1m3 0h1m2 0h1m17 0h1m7 0h1m11 0h1m9 0h1m7 0h1m6 0h1m5 0h1m4 0h1m4 0h1m5 0h1m21 0h2M32 30.5h1m10 0h1m5 0h1m1 0h1m12 0h1m3 0h2m13 0h1m1 0h2m1 0h1m2 0h1m5 0h1m27 0h2m6 0h1m29 0h1m5 0h1m14 0h1m4 0h1m9 0h1m17 0h1m3 0h1m20 0h1m1 0h1m4 0h2m3 0h1M11 31.5h1m7 0h1m21 0h1m6 0h1m1 0h1m11 0h1m1 0h2m1 0h1m15 0h2m3 0h1m1 0h1m6 0h1m18 0h2m1 0h1m5 0h1m3 0h1m3 0h1m3 0h1m1 0h1m4 0h1m8 0h1m35 0h1m23 0h1m6 0h1m1 0h1m18 0h2m4 0h1m1 0h1m2 0h1M26 32.5h1m13 0h1m8 0h1m11 0h1m1 0h1m2 0h2m1 0h1m7 0h1m2 0h1m2 0h3m1 0h3m6 0h1m18 0h1m5 0h1m2 0h1m1 0h1m32 0h1m1 0h1m5 0h1m12 0h1m6 0h1m27 0h1m5 0h1m9 0h1m2 0h1m5 0h1m4 0h2m3 0h2M26 33.5h1m7 0h1m8 0h1m4 0h1m11 0h1m1 0h1m1 0h1m1 0h2m11 0h2m1 0h1m4 0h2m9 0h1m15 0h2m2 0h1m5 0h1m2 0h1m7 0h1m2 0h1m14 0h1m5 0h1m10 0h1m15 0h1m20 0h1m8 0h1m3 0h2m26 0h3M5 34.5h1m11 0h1m6 0h1m15 0h1m2 0h1m15 0h2m1 0h1m6 0h1m3 0h1m4 0h3m1 0h1m4 0h1m9 0h1m15 0h1m3 0h1m7 0h1m8 0h1m11 0h1m11 0h1m11 0h1m9 0h1m15 0h1m22 0h2m6 0h1m18 0h1m1 0h1M13 35.5h1m19 0h1m7 0h1m17 0h3m1 0h1m3 0h2m4 0h1m5 0h1m2 0h1m4 0h1m7 0h1m19 0h1m4 0h1m3 0h1m9 0h1m10 0h1m2 0h1m2 0h1m15 0h1m1 0h1m9 0h1m5 0h1m9 0h1m14 0h1m7 0h1m7 0h1m10 0h1m8 0h1M11 36.5h1m28 0h1m17 0h3m5 0h2m7 0h1m2 0h1m5 0h1m3 0h1m7 0h1m22 0h1m16 0h1m22 0h1m8 0h1m22 0h1m13 0h1m3 0h1m6 0h1m1 0h1m18 0h1m7 0h1m7 0h1M15 37.5h1m13 0h1m5 0h1m1 0h1m2 0h2m15 0h2m1 0h1m5 0h1m5 0h1m1 0h1m4 0h1m2 0h1m7 0h1m4 0h1m22 0h1m7 0h1m24 0h1m6 0h1m34 0h1m10 0h1m3 0h1m3 0h2m7 0h1m19 0h1m2 0h1m1 0h1m6 0h1M37 38.5h1m6 0h1m11 0h2m1 0h1m3 0h1m3 0h1m4 0h2m9 0h1m2 0h1m7 0h1m20 0h1m3 0h1m13 0h1m16 0h1m7 0h1m8 0h1m16 0h1m18 0h2m2 0h1m10 0h1m2 0h1m18 0h1m10 0h1m3 0h1M23 39.5h1m3 0h1m10 0h1m3 0h1m15 0h1m8 0h1m5 0h1m8 0h1m2 0h1m9 0h1m18 0h1m3 0h1m6 0h1m6 0h1m9 0h1m7 0h1m13 0h1m17 0h2m18 0h2m2 0h1m10 0h2m1 0h2m9 0h1m7 0h1m14 0h1M56 40.5h2m1 0h1m3 0h1m2 0h1m5 0h1m3 0h1m4 0h1m2 0h2m14 0h1m12 0h1m9 0h1m8 0h1m7 0h1m1 0h1m8 0h1m30 0h1m18 0h2m3 0h1m9 0h1m3 0h1m17 0h1m1 0h1m12 0h1M24 41.5h1m4 0h1m7 0h1m2 0h1m14 0h1m1 0h1m5 0h2m2 0h1m1 0h1m13 0h1m34 0h1m11 0h2m8 0h1m1 0h1m6 0h1m12 0h1m4 0h1m5 0h1m7 0h1m4 0h1m14 0h1m4 0h1m11 0h1m18 0h2m16 0h1M30 42.5h1m6 0h2m15 0h1m2 0h1m7 0h2m5 0h1m10 0h2m14 0h1m12 0h1m4 0h1m4 0h1m13 0h1m10 0h1m1 0h1m11 0h1m28 0h2m8 0h2m3 0h1m10 0h2m22 0h1m7 0h1M1 43.5h1m20 0h1m5 0h1m8 0h1m3 0h1m17 0h1m1 0h1m1 0h1m2 0h2m12 0h1m2 0h1m37 0h1m8 0h1m4 0h1m3 0h1m6 0h1m18 0h1m5 0h1m6 0h1m11 0h1m8 0h2m3 0h1m10 0h1m20 0h1m2 0h1m3 0h1m3 0h1M0 44.5h1m23 0h1m2 0h1m5 0h1m1 0h2m6 0h1m12 0h1m1 0h1m4 0h1m1 0h3m4 0h1m6 0h1m2 0h1m26 0h1m3 0h1m4 0h1m1 0h1m7 0h1m4 0h1m12 0h1m17 0h1m5 0h1m5 0h1m1 0h1m18 0h1m1 0h3m1 0h2m9 0h1m5 0h1m10 0h1m8 0h1m1 0h1m11 0h1M0 45.5h1m9 0h1m11 0h1m2 0h2m10 0h1m17 0h1m3 0h1m5 0h2m4 0h1m5 0h1m10 0h1m3 0h1m21 0h1m3 0h1m7 0h1m7 0h1m29 0h1m4 0h1m5 0h1m8 0h1m5 0h1m7 0h3m1 0h2m15 0h1m10 0h1m3 0h1m4 0h1m13 0h1M7 46.5h1m1 0h1m14 0h2m5 0h1m4 0h1m4 0h1m1 0h1m7 0h1m2 0h1m1 0h2m3 0h1m2 0h3m8 0h1m15 0h1m25 0h1m16 0h1m29 0h1m9 0h1m16 0h1m5 0h1m4 0h1m2 0h1m11 0h2m10 0h1m4 0h1M21 47.5h1m2 0h1m5 0h1m5 0h1m4 0h1m12 0h1m1 0h1m6 0h1m5 0h1m20 0h1m13 0h1m8 0h1m5 0h1m7 0h1m5 0h1m17 0h1m7 0h1m2 0h2m10 0h1m21 0h1m1 0h2m16 0h2m16 0h1M22 48.5h2m2 0h1m13 0h1m9 0h1m3 0h2m3 0h1m2 0h2m8 0h1m16 0h1m13 0h1m4 0h1m2 0h1m1 0h1m2 0h2m8 0h2m3 0h2m11 0h1m13 0h1m3 0h2m24 0h1m1 0h1m8 0h1m1 0h1m13 0h2m16 0h1m1 0h1m16 0h1m2 0h1M21 49.5h1m1 0h1m8 0h1m9 0h1m6 0h1m3 0h2m2 0h1m4 0h1m13 0h1m8 0h1m3 0h1m2 0h1m14 0h1m3 0h1m5 0h1m8 0h1m4 0h1m10 0h1m1 0h1m3 0h1m8 0h1m3 0h1m28 0h2m5 0h1m1 0h1m14 0h1m17 0h2m20 0h1M15 50.5h1m5 0h2m13 0h1m11 0h1m6 0h1m2 0h1m19 0h1m1 0h1m3 0h1m3 0h1m2 0h1m20 0h1m3 0h1m9 0h1m2 0h1m10 0h1m1 0h1m3 0h2m13 0h1m1 0h1m25 0h3m5 0h1m2 0h1m13 0h2m16 0h1m19 0h1M1 51.5h1m13 0h1m4 0h1m10 0h1m15 0h1m14 0h1m3 0h1m1 0h1m13 0h1m5 0h1m21 0h1m6 0h1m23 0h1m2 0h1m1 0h1m3 0h1m5 0h1m6 0h1m15 0h1m4 0h1m3 0h1m5 0h1m4 0h1m13 0h1m17 0h1m7 0h1m10 0h2M7 52.5h1m13 0h2m19 0h1m6 0h1m2 0h2m14 0h1m20 0h1m2 0h1m2 0h1m7 0h1m7 0h1m1 0h1m2 0h1m8 0h2m12 0h1m4 0h1m3 0h1m18 0h1m18 0h2m1 0h1m6 0h1m1 0h1m14 0h1m18 0h1m11 0h1m3 0h1M11 53.5h1m1 0h1m6 0h1m9 0h1m1 0h1m6 0h1m11 0h1m16 0h2m18 0h1m12 0h1m7 0h1m2 0h1m1 0h2m13 0h1m12 0h1m40 0h1m2 0h1m2 0h1m6 0h1m5 0h1m9 0h1m13 0h1m4 0h1m5 0h1M13 54.5h1m4 0h1m10 0h1m2 0h1m7 0h1m7 0h1m1 0h1m1 0h1m12 0h2m1 0h1m9 0h1m12 0h1m8 0h2m5 0h1m3 0h1m1 0h1m15 0h1m6 0h1m2 0h1m2 0h1m1 0h1m11 0h1m2 0h1m10 0h1m11 0h1m12 0h1m14 0h1m13 0h1m6 0h1m4 0h1m9 0h1m8 0h1M10 55.5h1m17 0h1m11 0h1m1 0h1m2 0h1m1 0h1m15 0h1m1 0h2m11 0h1m5 0h1m25 0h2m8 0h1m4 0h1m1 0h1m16 0h1m5 0h1m8 0h1m17 0h1m5 0h1m25 0h2m3 0h2m3 0h1m2 0h1m6 0h2M4 56.5h1m2 0h1m7 0h1m15 0h1m4 0h1m3 0h1m3 0h1m2 0h1m8 0h1m3 0h2m1 0h1m1 0h1m1 0h1m5 0h1m9 0h1m5 0h1m16 0h1m2 0h1m3 0h1m11 0h1m15 0h2m1 0h1m15 0h1m10 0h1m4 0h1m4 0h1m22 0h1m4 0h1m3 0h2m15 0h1m7 0h1m7 0h1M3 57.5h1m11 0h1m13 0h1m8 0h1m4 0h1m18 0h2m1 0h1m5 0h1m9 0h1m1 0h1m4 0h1m3 0h1m13 0h1m5 0h1m1 0h1m3 0h1m6 0h1m6 0h2m24 0h2m20 0h1m2 0h2m3 0h1m14 0h1m9 0h1m17 0h1M10 58.5h1m19 0h1m3 0h1m1 0h1m6 0h1m2 0h1m6 0h1m7 0h4m5 0h1m11 0h1m4 0h1m3 0h1m8 0h1m10 0h2m10 0h1m13 0h1m2 0h1m16 0h1m17 0h1m2 0h1m4 0h1m8 0h1m9 0h1m6 0h1m3 0h1m17 0h1M8 59.5h1m10 0h1m9 0h2m3 0h1m4 0h1m1 0h2m18 0h2m7 0h1m11 0h1m3 0h1m9 0h1m2 0h1m9 0h3m8 0h1m1 0h1m12 0h2m3 0h1m19 0h1m20 0h1m5 0h1m14 0h2m5 0h1m19 0h1m13 0h1M6 60.5h1m5 0h1m15 0h2m8 0h3m18 0h3m4 0h1m18 0h1m8 0h1m3 0h1m4 0h1m4 0h4m1 0h1m7 0h1m1 0h1m3 0h1m11 0h1m19 0h1m9 0h1m12 0h2m1 0h1m10 0h1m10 0h2m2 0h1m7 0h1m7 0h1m12 0h1M11 61.5h1m15 0h1m10 0h2m12 0h1m2 0h1m2 0h1m1 0h2m3 0h1m11 0h1m4 0h1m10 0h1m13 0h4m14 0h1m32 0h1m19 0h1m2 0h1m13 0h1m11 0h2m1 0h1m15 0h1m2 0h1m5 0h1M2 62.5h1m8 0h1m13 0h1m11 0h1m13 0h1m12 0h1m10 0h1m5 0h1m2 0h1m19 0h5m11 0h1m3 0h1m14 0h1m9 0h1m28 0h1m1 0h1m3 0h1m22 0h1m16 0h1m1 0h1m6 0h1M10 63.5h1m6 0h1m11 0h1m9 0h1m14 0h1m2 0h1m2 0h2m10 0h2m2 0h1m6 0h1m3 0h1m3 0h2m5 0h1m3 0h2m2 0h2m11 0h2m18 0h1m8 0h1m16 0h1m10 0h2m17 0h1m10 0h1m20 0h1M5 64.5h1m3 0h1m19 0h1m7 0h1m11 0h1m3 0h1m4 0h1m1 0h1m10 0h2m9 0h1m7 0h2m9 0h2m3 0h2m6 0h1m3 0h2m16 0h1m2 0h1m7 0h1m12 0h1m14 0h1m11 0h1m7 0h1m30 0h2m1 0h1m5 0h1M9 65.5h1m4 0h1m13 0h1m8 0h1m4 0h1m10 0h1m6 0h1m6 0h1m5 0h1m7 0h1m5 0h2m1 0h1m8 0h3m4 0h1m9 0h1m1 0h1m6 0h1m11 0h1m9 0h1m2 0h1m3 0h1m14 0h1m1 0h1m2 0h2m12 0h1m5 0h1m5 0h1m1 0h1m24 0h1m4 0h1M43 66.5h1m8 0h1m3 0h2m2 0h1m4 0h1m2 0h2m2 0h1m10 0h1m3 0h1m9 0h3m1 0h1m1 0h1m12 0h2m16 0h1m23 0h1m14 0h1m20 0h1m4 0h1m3 0h1m14 0h1m2 0h1m3 0h2m6 0h1M9 67.5h1m4 0h1m2 0h1m23 0h1m10 0h2m1 0h2m2 0h1m5 0h1m1 0h2m2 0h1m9 0h1m1 0h1m2 0h1m8 0h1m1 0h1m1 0h1m1 0h1m2 0h1m4 0h1m4 0h2m1 0h1m27 0h1m11 0h1m6 0h1m8 0h1m9 0h1m9 0h1m9 0h1m13 0h1m1 0h1m4 0h1m4 0h1M7 68.5h1m1 0h1m4 0h1m3 0h1m29 0h1m3 0h1m7 0h1m6 0h1m2 0h1m11 0h1m11 0h1m1 0h1m2 0h2m1 0h1m8 0h1m2 0h2m26 0h1m7 0h1m31 0h1m16 0h1m2 0h1m15 0h1m5 0h1m5 0h1m16 0h1M6 69.5h1m6 0h1m4 0h1m8 0h1m12 0h1m6 0h1m3 0h1m4 0h1m2 0h2m4 0h1m1 0h1m3 0h1m8 0h2m2 0h1m8 0h1m6 0h1m2 0h1m6 0h3m1 0h2m2 0h1m22 0h1m5 0h1m4 0h1m15 0h1m3 0h1m7 0h1m5 0h1m10 0h1m20 0h1m4 0h1m4 0h2M5 70.5h1m5 0h2m1 0h1m7 0h1m3 0h1m6 0h1m4 0h1m12 0h1m4 0h1m1 0h2m5 0h1m3 0h1m1 0h2m2 0h1m4 0h1m2 0h1m6 0h2m2 0h2m2 0h1m11 0h2m1 0h3m16 0h1m7 0h1m11 0h1m14 0h1m7 0h1m3 0h1m5 0h1m15 0h1m8 0h1m6 0h1m5 0h1m4 0h1m15 0h1M12 71.5h1m1 0h1m11 0h1m13 0h1m16 0h2m4 0h1m1 0h1m1 0h1m5 0h1m1 0h1m3 0h1m9 0h1m6 0h2m3 0h1m7 0h2m1 0h3m10 0h1m13 0h1m18 0h1m20 0h1m7 0h1m25 0h1m2 0h2m3 0h1m5 0h1m3 0h1M5 72.5h1m5 0h1m1 0h1m4 0h1m6 0h2m26 0h1m1 0h1m1 0h1m4 0h1m2 0h1m1 0h1m5 0h1m16 0h1m3 0h2m13 0h1m2 0h1m1 0h1m8 0h2m10 0h1m3 0h1m11 0h1m5 0h1m6 0h1m6 0h1m18 0h1m19 0h1m1 0h1m3 0h1m3 0h1m5 0h1m3 0h1M0 73.5h1m8 0h1m15 0h1m12 0h2m10 0h1m4 0h1m2 0h1m5 0h4m2 0h1m3 0h1m14 0h1m3 0h2m10 0h1m2 0h2m1 0h1m16 0h1m11 0h1m17 0h1m31 0h1m8 0h1m16 0h1m4 0h1m3 0h1m3 0h1M4 74.5h1m2 0h1m1 0h1m1 0h1m4 0h1m7 0h1m11 0h3m10 0h1m3 0h1m3 0h1m6 0h2m7 0h1m9 0h1m4 0h1m3 0h2m1 0h1m9 0h1m4 0h2m1 0h1m13 0h1m10 0h1m18 0h1m7 0h1m5 0h1m3 0h1m34 0h1m4 0h1m3 0h1m6 0h2m4 0h1m1 0h1m14 0h1M5 75.5h1m1 0h2m2 0h1m2 0h1m8 0h1m1 0h1m9 0h3m10 0h2m1 0h1m11 0h2m6 0h2m7 0h1m1 0h1m4 0h1m1 0h1m1 0h3m8 0h1m1 0h1m1 0h1m3 0h3m1 0h1m16 0h1m4 0h2m18 0h1m14 0h1m12 0h1m5 0h1m18 0h1m10 0h1m2 0h1m2 0h1m4 0h1M4 76.5h1m2 0h1m1 0h1m10 0h1m4 0h1m9 0h2m11 0h3m3 0h1m6 0h1m2 0h1m5 0h1m8 0h1m6 0h1m1 0h1m1 0h3m8 0h1m3 0h1m3 0h3m10 0h1m12 0h2m1 0h1m17 0h1m31 0h2m7 0h2m9 0h2m4 0h2m2 0h1m3 0h1m3 0h1m3 0h1m1 0h1m20 0h1M1 77.5h1m5 0h1m2 0h1m23 0h1m13 0h1m4 0h1m7 0h2m1 0h1m5 0h2m13 0h2m3 0h2m8 0h1m2 0h1m4 0h3m5 0h1m6 0h1m10 0h3m38 0h1m10 0h2m8 0h1m12 0h1m1 0h1m1 0h1m2 0h1m3 0h1m3 0h1M0 78.5h1m6 0h1m11 0h1m11 0h1m1 0h1m18 0h1m1 0h1m4 0h2m3 0h1m5 0h1m13 0h2m2 0h3m9 0h1m2 0h1m4 0h1m1 0h1m4 0h1m2 0h1m12 0h1m2 0h2m19 0h1m18 0h1m12 0h1m8 0h1m1 0h1m3 0h1m8 0h1m1 0h1m1 0h1m6 0h1m30 0h1M0 79.5h1m5 0h2m9 0h2m12 0h1m4 0h1m8 0h1m2 0h1m3 0h1m5 0h1m8 0h1m15 0h1m2 0h1m1 0h2m13 0h2m3 0h2m6 0h1m17 0h2m22 0h1m9 0h1m5 0h1m22 0h1m2 0h1m11 0h1m2 0h1m6 0h1m1 0h1m3 0h1m10 0h1M0 80.5h1m15 0h1m7 0h1m6 0h1m3 0h1m9 0h2m1 0h1m2 0h1m3 0h2m1 0h1m20 0h1m2 0h1m3 0h2m1 0h1m12 0h1m4 0h1m5 0h2m14 0h1m4 0h3m21 0h1m10 0h1m3 0h1m13 0h1m21 0h1m2 0h1m1 0h2m5 0h2m19 0h1M3 81.5h1m2 0h1m9 0h1m6 0h1m31 0h1m22 0h2m1 0h2m17 0h2m10 0h1m2 0h1m8 0h1m3 0h1m4 0h1m1 0h1m16 0h1m4 0h1m21 0h1m5 0h2m9 0h1m15 0h2m16 0h1M5 82.5h1m11 0h2m10 0h1m6 0h1m28 0h1m2 0h1m4 0h1m5 0h1m1 0h1m2 0h1m6 0h1m8 0h1m1 0h1m3 0h1m13 0h1m2 0h1m3 0h1m4 0h1m1 0h1m17 0h1m23 0h1m7 0h3m4 0h1m2 0h1m1 0h1m15 0h1m8 0h1M4 83.5h2m3 0h1m6 0h2m3 0h1m10 0h1m2 0h2m5 0h1m6 0h1m1 0h1m4 0h1m4 0h1m1 0h1m2 0h1m10 0h2m1 0h3m14 0h1m2 0h1m5 0h2m4 0h1m9 0h1m3 0h1m5 0h1m18 0h2m1 0h1m7 0h1m20 0h3m6 0h1m3 0h1m6 0h1m6 0h1m9 0h1m3 0h1M3 84.5h1m1 0h1m8 0h1m1 0h1m12 0h1m1 0h1m3 0h1m5 0h1m7 0h1m3 0h1m1 0h1m5 0h1m1 0h1m1 0h1m12 0h5m17 0h1m4 0h2m3 0h1m14 0h1m5 0h1m13 0h1m4 0h2m2 0h1m12 0h1m14 0h1m7 0h1m4 0h1m6 0h1m7 0h1m12 0h1m4 0h1m9 0h1M1 85.5h1m1 0h1m9 0h1m1 0h1m9 0h1m4 0h2m2 0h2m20 0h1m3 0h1m3 0h1m12 0h1m1 0h1m1 0h1m2 0h1m14 0h1m22 0h1m20 0h1m1 0h1m2 0h1m1 0h2m6 0h1m22 0h1m3 0h1m2 0h1m6 0h1m13 0h2m5 0h1m13 0h1m6 0h1M1 86.5h1m1 0h1m8 0h1m2 0h1m8 0h1m5 0h1m3 0h1m5 0h1m6 0h1m7 0h2m1 0h2m5 0h1m11 0h2m4 0h1m4 0h1m16 0h1m1 0h1m6 0h1m5 0h1m1 0h1m25 0h2m4 0h1m9 0h1m4 0h1m15 0h2m3 0h1m3 0h1m7 0h1m6 0h1m19 0h1m19 0h1M0 87.5h1m2 0h1m20 0h1m5 0h1m2 0h1m11 0h1m7 0h3m2 0h1m4 0h1m2 0h1m6 0h1m2 0h3m1 0h2m1 0h1m14 0h1m15 0h1m1 0h1m2 0h1m7 0h1m16 0h1m2 0h2m4 0h1m4 0h1m8 0h1m2 0h1m5 0h1m8 0h1m8 0h1m13 0h1m4 0h1m41 0h1M0 88.5h1m5 0h1m7 0h1m13 0h3m5 0h1m9 0h1m5 0h5m7 0h1m11 0h1m2 0h1m8 0h1m9 0h1m3 0h1m1 0h1m8 0h1m8 0h1m3 0h1m19 0h1m10 0h1m10 0h1m7 0h1m1 0h1m4 0h2m24 0h1m4 0h1m15 0h1m4 0h1m9 0h1M0 89.5h1m14 0h1m12 0h2m5 0h1m1 0h1m6 0h1m7 0h2m1 0h2m6 0h1m1 0h1m11 0h1m2 0h1m16 0h1m1 0h1m12 0h1m2 0h1m1 0h1m3 0h1m3 0h1m11 0h1m4 0h2m1 0h1m11 0h1m8 0h1m7 0h1m2 0h1m2 0h1m1 0h1m2 0h1m22 0h1m17 0h1m1 0h1m5 0h1m9 0h1M1 90.5h1m3 0h1m11 0h1m9 0h1m1 0h1m14 0h1m3 0h1m2 0h3m4 0h1m4 0h1m1 0h1m2 0h1m6 0h1m2 0h1m17 0h1m15 0h1m2 0h1m4 0h1m21 0h2m31 0h1m4 0h1m2 0h1m18 0h1m4 0h1m17 0h1m5 0h1m2 0h1m8 0h1m6 0h1M2 91.5h1m13 0h1m5 0h1m6 0h1m3 0h1m17 0h1m2 0h1m2 0h1m6 0h2m10 0h2m2 0h1m9 0h1m4 0h1m1 0h1m11 0h1m2 0h1m6 0h1m3 0h1m18 0h2m22 0h1m8 0h1m4 0h1m5 0h1m1 0h1m12 0h1m1 0h1m1 0h1m4 0h1m14 0h2m3 0h1m2 0h1m15 0h1m5 0h1M0 92.5h2m10 0h1m20 0h1m1 0h1m11 0h1m2 0h1m1 0h2m2 0h1m4 0h1m2 0h1m9 0h1m4 0h1m1 0h1m13 0h1m5 0h1m9 0h2m6 0h1m20 0h1m1 0h1m13 0h1m2 0h1m6 0h1m7 0h2m7 0h1m25 0h1m14 0h1m3 0h1m11 0h1m7 0h1M0 93.5h1m9 0h1m1 0h3m5 0h1m10 0h1m19 0h2m2 0h1m6 0h2m1 0h1m14 0h1m12 0h1m6 0h1m4 0h1m2 0h1m1 0h1m20 0h1m3 0h1m5 0h1m9 0h1m12 0h1m5 0h1m3 0h1m2 0h1m2 0h1m1 0h1m3 0h1m17 0h1m4 0h2m3 0h1m9 0h1m3 0h1m2 0h1m10 0h1m5 0h1M11 94.5h1m3 0h1m10 0h1m2 0h1m5 0h1m5 0h1m7 0h2m3 0h2m17 0h1m4 0h2m6 0h1m2 0h1m10 0h2m13 0h1m18 0h1m14 0h1m7 0h1m5 0h1m9 0h2m1 0h1m4 0h1m32 0h1m8 0h1m23 0h1m5 0h1M10 95.5h1m7 0h1m6 0h1m8 0h1m2 0h1m2 0h1m6 0h1m2 0h1m1 0h1m1 0h1m10 0h1m1 0h1m6 0h1m3 0h2m6 0h1m3 0h1m8 0h1m1 0h1m1 0h1m5 0h1m22 0h1m1 0h1m5 0h1m10 0h1m7 0h1m4 0h1m5 0h1m1 0h1m6 0h1m1 0h1m11 0h1m7 0h1m4 0h1m2 0h1m33 0h2m2 0h1m4 0h1M10 96.5h2m20 0h1m3 0h2m8 0h1m3 0h2m2 0h1m9 0h1m2 0h1m4 0h1m5 0h2m4 0h1m8 0h1m5 0h3m9 0h1m15 0h1m3 0h2m23 0h1m1 0h1m3 0h1m1 0h1m2 0h1m9 0h1m2 0h2m21 0h2m8 0h1m28 0h1m2 0h1m1 0h1m3 0h1M4 97.5h1m3 0h3m21 0h1m1 0h1m1 0h1m12 0h1m2 0h1m8 0h1m2 0h1m2 0h1m4 0h1m3 0h3m9 0h1m9 0h3m9 0h1m12 0h1m6 0h1m11 0h1m2 0h1m3 0h1m11 0h2m9 0h1m5 0h1m1 0h1m5 0h1m15 0h1m5 0h1m37 0h1m8 0h1M9 98.5h1m12 0h1m8 0h1m1 0h2m12 0h1m1 0h2m1 0h1m10 0h1m1 0h1m5 0h1m3 0h3m6 0h1m9 0h1m4 0h2m8 0h1m12 0h1m4 0h1m2 0h1m15 0h1m10 0h1m8 0h1m2 0h1m9 0h1m20 0h1m19 0h1m7 0h1m15 0h1m7 0h1m2 0h1M7 99.5h3m6 0h1m11 0h2m1 0h1m1 0h1m1 0h1m9 0h1m1 0h2m1 0h1m1 0h2m6 0h1m2 0h2m1 0h1m3 0h1m4 0h1m1 0h2m13 0h2m1 0h1m2 0h2m39 0h1m7 0h1m5 0h1m20 0h1m3 0h2m7 0h1m8 0h1m22 0h1m9 0h1m3 0h1m17 0h2m1 0h1M3 100.5h1m4 0h2m3 0h2m6 0h1m5 0h1m3 0h2m1 0h2m8 0h2m1 0h1m2 0h1m2 0h1m4 0h1m1 0h1m1 0h2m9 0h1m2 0h1m6 0h1m7 0h2m4 0h2m23 0h1m32 0h1m9 0h1m3 0h1m16 0h1m20 0h1m1 0h1m10 0h1m22 0h1m5 0h2m1 0h2M7 101.5h3m3 0h1m6 0h1m1 0h1m2 0h2m2 0h3m1 0h1m10 0h2m2 0h1m1 0h1m7 0h1m13 0h1m1 0h1m1 0h1m2 0h1m9 0h3m1 0h1m3 0h1m1 0h1m24 0h1m17 0h1m16 0h1m4 0h1m10 0h1m9 0h1m6 0h1m15 0h1m39 0h2M6 102.5h3m11 0h1m7 0h2m2 0h2m10 0h4m1 0h2m5 0h2m4 0h1m9 0h2m1 0h1m11 0h3m1 0h1m6 0h1m1 0h1m2 0h1m15 0h1m9 0h1m22 0h1m5 0h1m4 0h1m3 0h1m5 0h2m16 0h1m2 0h1m5 0h2m4 0h1m1 0h1m14 0h1m15 0h1m6 0h3m3 0h1M6 103.5h1m1 0h2m9 0h1m2 0h1m4 0h3m2 0h1m1 0h1m5 0h1m3 0h1m1 0h1m2 0h2m5 0h1m13 0h2m1 0h2m3 0h1m7 0h1m1 0h4m5 0h2m14 0h1m4 0h1m2 0h1m3 0h1m23 0h1m1 0h1m4 0h1m4 0h1m4 0h1m6 0h2m3 0h1m1 0h1m23 0h1m10 0h1m29 0h3m3 0h1M4 104.5h3m1 0h1m9 0h3m5 0h1m1 0h1m10 0h1m2 0h1m1 0h3m1 0h2m4 0h3m13 0h1m2 0h1m1 0h1m8 0h1m2 0h3m27 0h1m17 0h1m19 0h1m4 0h1m2 0h1m9 0h1m22 0h1m21 0h1m6 0h1m3 0h1m2 0h1m4 0h1m6 0h2m2 0h1M5 105.5h3m1 0h1m7 0h3m4 0h2m1 0h2m2 0h1m3 0h1m3 0h1m3 0h2m1 0h3m5 0h2m12 0h2m2 0h1m2 0h1m7 0h1m1 0h1m1 0h3m31 0h1m18 0h1m1 0h1m5 0h1m5 0h1m5 0h1m2 0h1m11 0h1m4 0h1m4 0h1m10 0h1m5 0h1m20 0h1m6 0h1m11 0h2m1 0h1m1 0h1m1 0h1M5 106.5h1m1 0h1m9 0h1m4 0h1m1 0h1m1 0h1m1 0h1m14 0h2m1 0h2m4 0h3m14 0h1m1 0h2m11 0h1m1 0h3m8 0h1m8 0h1m30 0h1m2 0h1m7 0h1m8 0h1m22 0h1m19 0h1m13 0h1m7 0h1m5 0h1m14 0h1m2 0h1m4 0h1M3 107.5h1m1 0h1m10 0h1m1 0h1m2 0h1m5 0h2m4 0h1m7 0h2m2 0h2m4 0h2m1 0h1m14 0h1m2 0h1m9 0h1m3 0h1m5 0h1m24 0h1m2 0h1m14 0h1m3 0h1m6 0h1m25 0h1m6 0h1m10 0h1m8 0h1m13 0h1m10 0h1m3 0h1m15 0h3M16 108.5h1m9 0h1m14 0h1m2 0h3m4 0h1m11 0h1m4 0h1m2 0h1m9 0h1m3 0h2m1 0h1m17 0h1m20 0h1m3 0h1m1 0h1m17 0h1m2 0h1m4 0h1m18 0h2m15 0h1m2 0h1m11 0h1m12 0h1m2 0h2m16 0h1m9 0h1M3 109.5h1m1 0h1m1 0h1m8 0h1m7 0h1m1 0h1m8 0h1m7 0h3m3 0h1m10 0h2m4 0h1m17 0h2m2 0h1m18 0h1m7 0h1m19 0h1m5 0h1m8 0h1m26 0h3m9 0h1m4 0h1m6 0h1m6 0h2m12 0h1m3 0h2m8 0h1m6 0h1m6 0h1M4 110.5h1m1 0h1m1 0h1m3 0h1m2 0h2m7 0h1m9 0h1m4 0h1m1 0h4m4 0h1m9 0h1m1 0h1m24 0h1m1 0h1m17 0h2m6 0h1m3 0h1m1 0h1m9 0h1m3 0h1m1 0h1m13 0h1m23 0h1m4 0h1m28 0h1m17 0h1m8 0h1m6 0h1m5 0h1m1 0h2M3 111.5h3m6 0h1m2 0h2m5 0h1m1 0h2m5 0h1m2 0h1m5 0h3m1 0h1m2 0h1m4 0h1m7 0h1m5 0h1m12 0h1m5 0h1m2 0h1m16 0h2m11 0h2m5 0h1m8 0h1m42 0h1m5 0h1m11 0h1m9 0h1m17 0h1m5 0h1m11 0h1m6 0h1M3 112.5h2m5 0h1m3 0h2m6 0h1m8 0h1m1 0h1m6 0h2m1 0h1m8 0h1m2 0h1m13 0h1m2 0h1m10 0h1m3 0h1m2 0h1m14 0h1m3 0h1m3 0h1m4 0h1m5 0h1m5 0h1m1 0h2m6 0h1m8 0h1m7 0h1m18 0h1m3 0h1m8 0h1m4 0h1m27 0h1m27 0h1M1 113.5h2m1 0h1m3 0h1m6 0h1m3 0h2m10 0h1m8 0h1m3 0h1m1 0h1m1 0h1m3 0h1m8 0h1m4 0h1m1 0h1m17 0h1m2 0h1m19 0h1m14 0h1m2 0h1m2 0h1m17 0h1m33 0h1m25 0h1m33 0h1m6 0h1m2 0h1M3 114.5h1m2 0h2m4 0h2m1 0h1m3 0h1m8 0h1m2 0h2m6 0h2m3 0h2m1 0h1m2 0h1m1 0h1m6 0h1m7 0h1m3 0h1m45 0h1m5 0h1m2 0h1m1 0h1m18 0h1m6 0h1m22 0h1m3 0h1m3 0h1m6 0h1m5 0h1m7 0h1m10 0h1m1 0h1m8 0h1m13 0h1m5 0h1M5 115.5h1m5 0h1m6 0h1m8 0h1m2 0h1m7 0h1m4 0h1m1 0h1m3 0h1m2 0h1m10 0h1m2 0h1m8 0h1m12 0h1m18 0h1m13 0h1m3 0h3m6 0h1m9 0h1m2 0h1m5 0h1m18 0h1m6 0h1m5 0h1m8 0h1m2 0h1m2 0h1m5 0h2m7 0h1m23 0h1m2 0h1m4 0h1m4 0h1M2 116.5h1m4 0h2m5 0h2m11 0h2m4 0h1m8 0h1m1 0h1m2 0h1m2 0h1m4 0h1m6 0h1m2 0h1m8 0h1m2 0h1m5 0h1m21 0h1m2 0h1m4 0h1m3 0h1m5 0h4m16 0h1m3 0h1m5 0h1m2 0h1m21 0h1m20 0h1m5 0h2m34 0h1m9 0h1M1 117.5h1m2 0h4m2 0h1m1 0h1m1 0h2m3 0h1m6 0h3m14 0h2m1 0h1m1 0h2m4 0h1m3 0h1m16 0h2m18 0h1m9 0h2m1 0h1m2 0h1m6 0h1m3 0h2m1 0h1m5 0h1m9 0h1m3 0h1m26 0h1m4 0h1m26 0h2m11 0h1m4 0h1m14 0h1m1 0h2m5 0h1M1 118.5h1m1 0h2m1 0h1m6 0h1m5 0h1m5 0h2m5 0h1m8 0h1m1 0h2m1 0h1m1 0h1m8 0h1m1 0h1m2 0h1m12 0h1m11 0h2m15 0h1m1 0h1m14 0h2m8 0h1m6 0h1m29 0h1m2 0h1m1 0h1m16 0h1m5 0h1m6 0h1m1 0h1m20 0h1m8 0h1m6 0h1m8 0h1M3 119.5h1m2 0h1m3 0h1m3 0h1m2 0h1m7 0h1m4 0h2m9 0h5m2 0h2m11 0h1m2 0h1m9 0h1m8 0h1m2 0h2m16 0h2m1 0h1m11 0h1m1 0h1m8 0h1m8 0h1m1 0h1m29 0h2m4 0h1m23 0h1m22 0h1m9 0h1m3 0h1m1 0h2M2 120.5h2m1 0h1m3 0h1m9 0h1m2 0h1m3 0h1m3 0h1m6 0h1m1 0h1m1 0h2m4 0h1m7 0h1m7 0h1m8 0h1m9 0h2m2 0h1m1 0h1m15 0h1m2 0h1m6 0h1m3 0h1m6 0h1m12 0h1m4 0h1m8 0h1m17 0h2m16 0h1m6 0h1m4 0h1m12 0h1m10 0h1m8 0h1m5 0h1m8 0h1M1 121.5h1m1 0h1m2 0h1m1 0h1m13 0h1m2 0h1m4 0h2m5 0h1m1 0h2m4 0h3m5 0h2m9 0h1m3 0h1m13 0h1m2 0h2m11 0h1m4 0h2m2 0h2m7 0h2m3 0h1m4 0h1m10 0h2m6 0h1m5 0h1m11 0h1m5 0h2m1 0h1m5 0h1m5 0h1m16 0h1m10 0h1m9 0h1m6 0h1m7 0h1m1 0h1m6 0h1m3 0h1M1 122.5h2m3 0h1m4 0h1m2 0h1m2 0h1m1 0h1m4 0h1m4 0h1m7 0h3m3 0h1m1 0h2m5 0h1m1 0h1m2 0h1m10 0h1m2 0h1m11 0h1m1 0h2m7 0h1m8 0h2m1 0h2m3 0h1m1 0h1m10 0h2m4 0h1m4 0h1m7 0h1m24 0h1m2 0h1m5 0h2m5 0h1m13 0h1m12 0h1m9 0h1m13 0h1m12 0h1m1 0h1m4 0h1M1 123.5h1m1 0h1m5 0h1m6 0h1m4 0h1m5 0h1m1 0h1m6 0h1m1 0h1m4 0h3m7 0h1m2 0h1m11 0h1m9 0h1m3 0h1m1 0h1m13 0h1m3 0h1m1 0h3m3 0h1m9 0h1m2 0h2m16 0h1m10 0h1m15 0h1m8 0h1m5 0h1m13 0h1m6 0h1m14 0h1m10 0h1m3 0h1m2 0h1m7 0h1m3 0h1M1 124.5h2m10 0h1m2 0h1m10 0h1m8 0h1m3 0h1m1 0h4m5 0h2m8 0h1m2 0h1m1 0h1m10 0h1m3 0h2m20 0h4m2 0h1m8 0h1m4 0h1m4 0h1m5 0h1m5 0h1m4 0h1m4 0h1m16 0h2m2 0h1m10 0h1m3 0h1m45 0h3m9 0h1m1 0h2m1 0h1M0 125.5h2m4 0h1m6 0h1m2 0h1m8 0h1m1 0h1m9 0h1m1 0h1m1 0h3m7 0h1m3 0h1m4 0h2m4 0h1m14 0h2m2 0h1m16 0h4m1 0h1m1 0h1m12 0h1m1 0h1m3 0h1m10 0h1m7 0h2m21 0h1m5 0h1m25 0h1m15 0h1m8 0h1m3 0h3m1 0h1m7 0h1m1 0h3m7 0h1M0 126.5h1m8 0h1m4 0h1m2 0h1m11 0h1m5 0h1m3 0h3m1 0h1m4 0h1m1 0h2m7 0h1m4 0h1m12 0h1m4 0h1m1 0h1m17 0h5m12 0h1m5 0h1m1 0h2m6 0h1m5 0h2m3 0h1m10 0h1m10 0h1m22 0h1m24 0h1m9 0h1m2 0h1m1 0h1m1 0h1m8 0h1m1 0h3M9 127.5h1m3 0h1m8 0h1m15 0h2m1 0h1m1 0h1m9 0h1m4 0h2m1 0h1m4 0h1m15 0h3m14 0h1m2 0h4m2 0h1m4 0h1m9 0h1m17 0h1m6 0h1m8 0h1m9 0h1m22 0h1m7 0h1m5 0h1m20 0h1m4 0h1m1 0h1m10 0h3M2 128.5h1m6 0h1m7 0h1m10 0h1m7 0h1m1 0h2m1 0h1m8 0h1m5 0h2m24 0h2m15 0h2m1 0h3m8 0h1m25 0h1m14 0h2m10 0h1m4 0h1m29 0h1m1 0h1m19 0h1m4 0h3m10 0h1m1 0h1m1 0h1M2 129.5h1m2 0h1m3 0h1m5 0h1m6 0h1m2 0h1m6 0h1m4 0h1m1 0h1m4 0h1m10 0h1m5 0h1m1 0h2m15 0h3m15 0h2m1 0h3m8 0h1m4 0h1m1 0h1m5 0h1m8 0h1m18 0h2m9 0h1m1 0h1m3 0h1m12 0h1m16 0h2m8 0h1m16 0h3m10 0h1m2 0h2M1 130.5h2m5 0h1m4 0h1m7 0h1m9 0h1m1 0h1m3 0h2m4 0h1m1 0h1m10 0h1m4 0h3m16 0h2m15 0h3m1 0h3m3 0h1m6 0h1m2 0h1m4 0h1m4 0h1m6 0h1m5 0h1m13 0h1m7 0h1m27 0h1m9 0h1m25 0h3m2 0h1m7 0h1m2 0h2m1 0h1m9 0h1M1 131.5h1m4 0h2m8 0h1m6 0h1m7 0h2m3 0h1m4 0h1m1 0h1m4 0h1m11 0h2m4 0h1m10 0h1m2 0h1m15 0h2m2 0h4m2 0h1m3 0h1m5 0h1m5 0h1m3 0h1m7 0h1m4 0h1m5 0h1m15 0h1m63 0h3m2 0h1m10 0h1m1 0h3m9 0h1M0 132.5h2m3 0h1m23 0h1m1 0h1m4 0h1m3 0h1m7 0h1m10 0h1m3 0h1m9 0h1m2 0h1m4 0h1m14 0h1m2 0h4m13 0h1m4 0h1m17 0h1m31 0h1m5 0h1m9 0h1m34 0h1m1 0h3m15 0h2m6 0h1M4 133.5h1m26 0h1m2 0h1m4 0h2m7 0h2m3 0h1m2 0h1m5 0h2m8 0h1m3 0h1m12 0h1m5 0h2m2 0h4m18 0h1m11 0h1m22 0h1m12 0h1m8 0h1m44 0h2m9 0h1m6 0h3M3 134.5h2m4 0h1m7 0h1m3 0h1m2 0h1m6 0h1m7 0h1m3 0h1m3 0h1m12 0h1m1 0h1m8 0h1m17 0h1m3 0h3m2 0h3m22 0h1m2 0h1m7 0h2m5 0h1m11 0h1m21 0h1m41 0h1m4 0h2m18 0h1m6 0h1m4 0h1M7 135.5h2m1 0h1m18 0h3m12 0h2m3 0h1m1 0h1m8 0h1m9 0h1m1 0h1m19 0h1m5 0h1m7 0h1m1 0h1m9 0h1m6 0h1m7 0h2m29 0h1m4 0h1m3 0h1m1 0h1m10 0h1m29 0h1m4 0h1m4 0h1m16 0h1m4 0h1m5 0h1M1 136.5h1m4 0h1m29 0h1m6 0h2m3 0h1m10 0h2m9 0h1m16 0h1m2 0h2m2 0h1m22 0h1m3 0h1m2 0h1m8 0h1m29 0h1m5 0h1m3 0h2m5 0h1m4 0h1m22 0h1m6 0h1m20 0h1m1 0h1m2 0h1m1 0h1m8 0h1M4 137.5h3m8 0h1m7 0h1m7 0h1m3 0h1m5 0h3m15 0h1m26 0h1m2 0h1m3 0h2m28 0h1m9 0h2m27 0h2m2 0h1m6 0h1m5 0h1m4 0h1m1 0h1m27 0h1m11 0h1m14 0h2m10 0h1M4 138.5h1m8 0h1m9 0h1m5 0h1m10 0h1m1 0h1m19 0h1m22 0h1m2 0h1m4 0h1m7 0h1m15 0h1m4 0h1m9 0h2m10 0h1m16 0h1m2 0h2m1 0h1m15 0h1m4 0h1m1 0h1m12 0h1m17 0h1m3 0h2m7 0h1m1 0h1m4 0h1m9 0h1m1 0h1M0 139.5h1m2 0h1m8 0h1m8 0h2m4 0h2m10 0h3m1 0h1m4 0h1m3 0h2m7 0h1m9 0h1m11 0h1m4 0h1m2 0h1m7 0h1m17 0h1m2 0h1m12 0h1m12 0h1m11 0h1m3 0h2m1 0h1m4 0h1m11 0h1m2 0h1m1 0h2m1 0h1m17 0h1m11 0h1m3 0h1m8 0h1m4 0h1m13 0h2M11 140.5h2m7 0h2m4 0h1m12 0h1m2 0h1m8 0h1m6 0h1m1 0h2m17 0h1m2 0h1m5 0h1m9 0h1m12 0h1m5 0h1m1 0h2m1 0h1m9 0h1m12 0h1m14 0h1m1 0h2m20 0h1m1 0h1m26 0h1m4 0h1m3 0h1m9 0h1m4 0h1m13 0h2M3 141.5h1m5 0h3m9 0h1m6 0h1m10 0h1m39 0h1m3 0h1m5 0h1m3 0h1m17 0h1m7 0h1m40 0h1m1 0h1m19 0h1m2 0h1m1 0h2m28 0h1m12 0h1m11 0h1m6 0h1M1 142.5h1m5 0h3m11 0h1m4 0h1m1 0h1m10 0h1m2 0h1m16 0h1m5 0h1m12 0h1m11 0h1m39 0h1m11 0h1m13 0h1m3 0h1m1 0h2m17 0h1m1 0h2m2 0h1m27 0h1m5 0h1m7 0h1M5 143.5h1m1 0h1m1 0h1m10 0h1m3 0h1m2 0h1m13 0h1m10 0h1m26 0h1m4 0h1m3 0h1m1 0h1m7 0h1m2 0h1m7 0h1m14 0h1m18 0h1m17 0h1m1 0h1m12 0h1m1 0h1m2 0h1m3 0h1m14 0h1m7 0h2m5 0h1m13 0h1m11 0h1M4 144.5h1m1 0h3m11 0h1m1 0h1m1 0h1m1 0h1m3 0h1m9 0h1m1 0h1m6 0h1m1 0h1m22 0h1m2 0h1m1 0h1m3 0h1m4 0h2m11 0h1m8 0h1m15 0h1m14 0h1m13 0h1m3 0h3m7 0h1m8 0h1m1 0h1m3 0h2m16 0h1m3 0h1m1 0h1m5 0h1m4 0h1m8 0h1M6 145.5h1m13 0h1m9 0h1m6 0h1m2 0h1m6 0h1m1 0h2m23 0h1m1 0h2m9 0h3m26 0h1m9 0h1m2 0h1m24 0h1m2 0h1m1 0h2m6 0h1m3 0h1m4 0h3m4 0h1m16 0h1m14 0h1M1 146.5h1m3 0h2m12 0h1m8 0h1m4 0h1m3 0h1m1 0h1m8 0h1m6 0h1m3 0h1m12 0h1m1 0h3m9 0h2m13 0h1m20 0h1m30 0h1m4 0h1m8 0h1m6 0h2m1 0h1m3 0h1m8 0h1m8 0h1m2 0h1m12 0h1m5 0h1m3 0h1m3 0h1m15 0h1m6 0h1M1 147.5h1m2 0h3m13 0h1m10 0h1m6 0h1m33 0h2m1 0h1m10 0h1m23 0h1m10 0h1m50 0h2m1 0h1m4 0h1m17 0h1m1 0h2m12 0h1m5 0h2m1 0h1m5 0h1m15 0h1m4 0h1M0 148.5h1m2 0h1m1 0h2m3 0h1m13 0h1m5 0h1m3 0h1m13 0h1m3 0h1m7 0h1m11 0h1m2 0h1m9 0h1m2 0h1m20 0h1m10 0h1m31 0h1m1 0h1m16 0h2m3 0h2m1 0h2m5 0h1m12 0h1m1 0h1m3 0h1m2 0h1m4 0h1m20 0h1m9 0h1M1 149.5h2m1 0h2m13 0h1m2 0h1m1 0h1m4 0h1m3 0h1m3 0h1m4 0h1m9 0h1m8 0h1m1 0h1m5 0h1m14 0h1m2 0h1m1 0h1m17 0h2m9 0h1m27 0h1m2 0h1m20 0h1m4 0h1m3 0h1m18 0h3m11 0h1m12 0h1m7 0h1m8 0h1m12 0h1M2 150.5h1m1 0h2m16 0h1m3 0h1m2 0h1m20 0h1m7 0h1m1 0h1m7 0h1m19 0h1m4 0h1m5 0h1m1 0h1m5 0h2m3 0h1m3 0h1m11 0h1m3 0h1m11 0h1m4 0h1m15 0h1m4 0h2m1 0h1m3 0h1m20 0h2m3 0h1m2 0h1m4 0h1m7 0h2m3 0h1m4 0h1M1 151.5h1m4 0h1m14 0h1m15 0h1m10 0h1m1 0h1m7 0h2m7 0h1m1 0h1m15 0h1m1 0h1m3 0h1m6 0h1m7 0h1m1 0h1m6 0h1m3 0h1m2 0h1m8 0h1m13 0h1m2 0h1m10 0h1m2 0h1m7 0h1m4 0h1m5 0h1m15 0h2m5 0h1m1 0h1m19 0h1m5 0h1m16 0h1M0 152.5h2m2 0h1m5 0h1m4 0h1m9 0h1m1 0h2m7 0h1m10 0h1m1 0h1m8 0h1m25 0h1m21 0h2m7 0h1m4 0h1m10 0h1m11 0h3m12 0h1m10 0h2m8 0h1m3 0h1m13 0h1m1 0h1m3 0h1m2 0h1m1 0h1m8 0h1m1 0h1m5 0h2m21 0h1M0 153.5h1m3 0h1m1 0h1m11 0h1m2 0h1m3 0h1m22 0h1m10 0h1m21 0h1m14 0h1m7 0h1m1 0h1m6 0h1m4 0h3m22 0h2m23 0h1m6 0h1m21 0h2m18 0h1m7 0h1M1 154.5h1m3 0h1m18 0h1m1 0h1m20 0h1m2 0h1m3 0h1m3 0h1m22 0h1m6 0h1m14 0h1m2 0h1m5 0h1m3 0h4m10 0h1m12 0h1m13 0h1m8 0h1m8 0h1m20 0h1m19 0h1m27 0h1M0 155.5h1m3 0h2m7 0h1m10 0h1m2 0h1m12 0h1m6 0h1m2 0h1m2 0h1m2 0h1m1 0h1m4 0h1m9 0h1m13 0h1m7 0h1m15 0h1m3 0h1m1 0h2m37 0h1m17 0h1m12 0h1m1 0h1m5 0h1m19 0h2m21 0h1m1 0h1m9 0h1M0 156.5h1m23 0h2m10 0h1m2 0h1m6 0h2m1 0h1m6 0h1m21 0h1m7 0h1m18 0h1m4 0h1m1 0h1m16 0h1m9 0h1m3 0h1m10 0h2m29 0h1m8 0h2m11 0h1m7 0h1m14 0h1m6 0h2m3 0h1m7 0h1M1 157.5h1m2 0h1m13 0h1m2 0h1m1 0h1m1 0h1m19 0h1m1 0h1m11 0h1m6 0h1m6 0h1m13 0h1m23 0h1m4 0h1m11 0h1m12 0h1m42 0h1m4 0h1m4 0h1m11 0h1m2 0h1m3 0h1m4 0h1m7 0h1m2 0h1m6 0h2M0 158.5h1m1 0h1m20 0h1m1 0h1m17 0h1m2 0h1m11 0h1m8 0h1m12 0h1m4 0h2m10 0h1m4 0h1m3 0h1m4 0h1m4 0h1m10 0h1m12 0h1m9 0h1m2 0h1m17 0h1m11 0h1m9 0h1m18 0h1m10 0h1m1 0h2m9 0h1m2 0h1m6 0h1M0 159.5h1m2 0h1m7 0h1m6 0h1m2 0h1m1 0h1m18 0h1m3 0h2m6 0h1m2 0h1m1 0h1m24 0h2m18 0h1m4 0h1m16 0h1m37 0h1m16 0h1m18 0h1m8 0h1m5 0h1m7 0h2m1 0h1m6 0h1m3 0h2m10 0h1M1 160.5h1m17 0h1m1 0h1m16 0h2m2 0h1m1 0h1m1 0h1m2 0h1m7 0h1m5 0h1m3 0h1m16 0h1m7 0h1m13 0h2m2 0h1m10 0h1m7 0h1m9 0h1m4 0h1m5 0h1m11 0h1m1 0h1m5 0h1m3 0h1m1 0h1m2 0h2m5 0h1m12 0h1m16 0h1m6 0h1m1 0h1m4 0h1m1 0h1m3 0h1M1 161.5h1m2 0h1m5 0h1m8 0h1m4 0h1m13 0h1m3 0h2m1 0h1m10 0h1m6 0h1m2 0h1m16 0h1m20 0h3m4 0h1m17 0h1m9 0h1m3 0h2m6 0h1m17 0h1m9 0h1m4 0h1m18 0h1m9 0h1m1 0h1m16 0h1m2 0h1m13 0h1M0 162.5h1m36 0h1m4 0h2m35 0h1m23 0h1m11 0h1m11 0h1m13 0h2m21 0h1m9 0h1m3 0h1m4 0h1m1 0h1m28 0h1m3 0h1m16 0h1m6 0h1M0 163.5h1m1 0h1m7 0h1m10 0h1m14 0h1m4 0h2m14 0h1m1 0h1m6 0h1m12 0h1m25 0h1m7 0h1m27 0h2m12 0h1m7 0h1m9 0h3m1 0h1m3 0h1m2 0h1m17 0h1m5 0h1m46 0h1M8 164.5h1m20 0h1m6 0h1m3 0h1m1 0h1m13 0h1m20 0h1m3 0h1m21 0h2m3 0h1m5 0h1m25 0h2m3 0h1m22 0h1m3 0h2m6 0h1m2 0h1m16 0h1m6 0h1m6 0h1m13 0h1m6 0h1m10 0h1M1 165.5h1m6 0h2m8 0h1m4 0h1m6 0h1m5 0h1m3 0h2m7 0h2m4 0h1m25 0h1m20 0h1m29 0h1m7 0h2m12 0h1m8 0h1m7 0h1m6 0h2m3 0h1m26 0h1m2 0h1m7 0h1m11 0h1m21 0h1M8 166.5h2m4 0h1m14 0h1m5 0h2m4 0h1m6 0h2m25 0h1m4 0h1m21 0h1m1 0h1m3 0h1m3 0h1m26 0h3m2 0h1m5 0h1m2 0h1m9 0h1m4 0h2m2 0h1m3 0h1m1 0h1m31 0h1m4 0h1m5 0h1M6 167.5h1m6 0h1m17 0h1m8 0h1m6 0h2m7 0h1m23 0h1m7 0h1m9 0h1m8 0h1m16 0h1m5 0h1m8 0h2m8 0h1m19 0h1m6 0h3m14 0h1m5 0h1m6 0h1m13 0h1m1 0h1m30 0h1M4 168.5h1m8 0h1m2 0h1m5 0h2m16 0h1m4 0h1m1 0h1m43 0h1m8 0h1m22 0h1m5 0h1m6 0h1m1 0h3m6 0h2m1 0h1m16 0h1m6 0h1m1 0h1m3 0h1m11 0h2m4 0h1m20 0h3m9 0h1m3 0h1m15 0h1M0 169.5h1m11 0h1m2 0h1m4 0h1m5 0h1m4 0h1m8 0h1m3 0h1m1 0h1m1 0h1m5 0h1m32 0h1m6 0h1m3 0h1m28 0h3m9 0h1m8 0h1m14 0h1m2 0h2m4 0h2m1 0h1m3 0h1m2 0h1m8 0h1m14 0h1m2 0h1m1 0h1m7 0h2m31 0h1M14 170.5h1m4 0h2m13 0h1m3 0h1m1 0h1m6 0h1m7 0h1m38 0h1m2 0h1m4 0h1m3 0h1m6 0h1m13 0h2m8 0h1m8 0h1m14 0h1m4 0h1m6 0h1m13 0h1m3 0h1m10 0h1m8 0h1m6 0h1m1 0h1m14 0h1m16 0h1M3 171.5h1m25 0h1m3 0h1m4 0h2m2 0h1m2 0h1m57 0h1m22 0h1m4 0h1m4 0h1m21 0h1m5 0h1m1 0h1m6 0h1m7 0h1m4 0h1m19 0h1m2 0h2m8 0h2m7 0h1m22 0h1m3 0h1M2 172.5h1m5 0h1m4 0h1m1 0h1m13 0h1m7 0h2m5 0h1m51 0h1m5 0h1m15 0h1m5 0h1m3 0h1m1 0h1m31 0h1m1 0h1m7 0h1m2 0h1m12 0h1m19 0h2m7 0h1m1 0h1m34 0h1M7 173.5h1m4 0h1m1 0h2m4 0h1m8 0h1m6 0h1m5 0h1m14 0h1m14 0h1m2 0h1m3 0h1m15 0h1m4 0h2m2 0h1m5 0h1m6 0h1m8 0h2m1 0h1m7 0h1m12 0h1m3 0h1m5 0h2m1 0h1m1 0h1m2 0h1m8 0h1m1 0h1m23 0h1m4 0h1m3 0h1m6 0h1m6 0h1M11 174.5h1m1 0h2m4 0h1m7 0h1m1 0h1m5 0h1m4 0h3m13 0h1m1 0h1m24 0h2m9 0h1m8 0h1m6 0h1m14 0h2m14 0h1m6 0h1m10 0h2m1 0h1m11 0h1m2 0h1m1 0h1m1 0h1m26 0h1m3 0h1m2 0h1m9 0h1m15 0h1m4 0h1m8 0h1M13 175.5h1m2 0h1m1 0h1m6 0h1m7 0h3m4 0h2m41 0h1m2 0h1m13 0h1m9 0h1m6 0h1m2 0h1m3 0h2m8 0h1m6 0h1m6 0h1m9 0h2m2 0h1m2 0h1m7 0h1m2 0h1m1 0h2m27 0h1m6 0h1m2 0h1m2 0h1m1 0h1m1 0h1m7 0h1m7 0h1m13 0h1M12 176.5h2m11 0h2m6 0h1m6 0h1m1 0h1m36 0h1m3 0h1m1 0h1m8 0h1m5 0h1m8 0h1m6 0h1m2 0h1m3 0h2m1 0h1m17 0h1m3 0h1m1 0h1m7 0h3m1 0h1m1 0h1m11 0h1m1 0h1m15 0h1m2 0h1m9 0h1m8 0h1m28 0h1m1 0h1m5 0h1M5 177.5h1m6 0h1m11 0h1m5 0h1m1 0h1m6 0h2m38 0h1m2 0h3m29 0h1m4 0h1m2 0h1m2 0h1m8 0h1m5 0h1m7 0h2m8 0h1m3 0h1m7 0h1m2 0h1m1 0h1m10 0h1m6 0h1m16 0h1m3 0h1m4 0h2m22 0h1m7 0h2M10 178.5h3m10 0h1m4 0h1m3 0h1m5 0h1m2 0h1m26 0h1m10 0h1m3 0h1m3 0h1m23 0h1m6 0h2m16 0h1m10 0h2m7 0h1m1 0h1m14 0h1m3 0h1m10 0h1m15 0h1m3 0h1m3 0h1m5 0h1m5 0h1m17 0h1m1 0h1m6 0h1m2 0h1M0 179.5h1m8 0h4m8 0h1m3 0h1m1 0h1m2 0h1m3 0h1m3 0h1m1 0h1m12 0h1m18 0h1m5 0h2m3 0h1m1 0h1m6 0h1m5 0h1m10 0h1m4 0h1m2 0h3m3 0h1m21 0h3m7 0h1m5 0h1m10 0h2m2 0h1m16 0h1m3 0h1m5 0h1m6 0h2m1 0h1m32 0h1m8 0h1M7 180.5h2m1 0h1m14 0h1m1 0h1m10 0h1m39 0h1m3 0h1m8 0h1m17 0h2m7 0h1m3 0h1m16 0h1m5 0h3m3 0h1m2 0h1m15 0h1m1 0h2m9 0h1m8 0h2m8 0h1m7 0h3m29 0h1m4 0h1m6 0h2M6 181.5h1m1 0h2m1 0h1m11 0h1m1 0h1m30 0h1m21 0h1m21 0h1m13 0h1m2 0h2m2 0h1m5 0h1m9 0h1m6 0h2m4 0h1m2 0h2m9 0h1m5 0h1m1 0h1m19 0h1m8 0h1m5 0h2m1 0h1m7 0h1m29 0h1m3 0h2m1 0h1M7 182.5h2m2 0h1m10 0h1m6 0h1m3 0h1m10 0h1m29 0h1m2 0h1m4 0h1m17 0h1m2 0h1m9 0h1m2 0h1m18 0h1m7 0h2m8 0h1m3 0h1m11 0h1m2 0h1m33 0h2m1 0h1m8 0h1m26 0h2m4 0h1m1 0h2M6 183.5h2m3 0h1m11 0h2m1 0h1m1 0h1m2 0h1m14 0h1m17 0h1m9 0h1m2 0h1m35 0h1m1 0h1m6 0h1m11 0h1m7 0h1m9 0h2m6 0h1m7 0h1m13 0h1m22 0h1m1 0h2m4 0h1m3 0h1m3 0h1m10 0h1m11 0h1m2 0h1m3 0h1m3 0h1M3 184.5h1m1 0h2m2 0h2m6 0h1m5 0h1m1 0h1m10 0h1m25 0h1m10 0h1m41 0h1m5 0h1m11 0h1m7 0h1m10 0h1m1 0h1m4 0h1m6 0h1m14 0h1m14 0h1m9 0h2m1 0h1m5 0h1m19 0h1m7 0h1m3 0h1m5 0h1M5 185.5h1m3 0h1m8 0h1m3 0h1m13 0h1m16 0h1m6 0h1m3 0h1m6 0h1m1 0h1m33 0h1m24 0h2m9 0h1m14 0h1m17 0h1m25 0h1m5 0h2m5 0h1m2 0h1m15 0h1m8 0h1m3 0h1m2 0h2M6 186.5h1m2 0h1m4 0h1m1 0h2m17 0h2m22 0h1m3 0h1m6 0h1m2 0h1m25 0h1m2 0h1m3 0h1m2 0h1m6 0h1m1 0h1m23 0h1m9 0h1m1 0h1m1 0h1m10 0h1m10 0h1m12 0h1m7 0h1m7 0h2m8 0h1m23 0h1m4 0h1m2 0h1M3 187.5h1m10 0h2m7 0h1m49 0h1m9 0h1m4 0h1m9 0h1m6 0h1m4 0h1m2 0h1m2 0h1m7 0h1m7 0h1m7 0h1m1 0h1m7 0h1m3 0h1m3 0h1m47 0h2m2 0h1m5 0h1m15 0h1m8 0h1m4 0h1m1 0h1M3 188.5h1m1 0h1m2 0h1m6 0h1m17 0h1m26 0h1m4 0h2m6 0h1m3 0h1m9 0h1m17 0h1m7 0h1m10 0h1m5 0h1m9 0h1m9 0h1m2 0h1m2 0h1m36 0h1m5 0h1m5 0h2m9 0h1m27 0h1m1 0h1m5 0h2M3 189.5h1m5 0h1m3 0h2m44 0h1m6 0h1m2 0h2m11 0h1m27 0h1m8 0h1m9 0h1m9 0h2m4 0h1m4 0h1m27 0h1m15 0h1m3 0h1m6 0h2m8 0h1m16 0h1m1 0h1m8 0h1m6 0h2m1 0h1M6 190.5h1m2 0h1m2 0h1m8 0h1m21 0h1m14 0h1m2 0h1m1 0h1m5 0h1m5 0h1m8 0h1m14 0h1m13 0h1m5 0h1m1 0h1m6 0h2m9 0h1m5 0h1m6 0h1m25 0h1m14 0h2m11 0h1m9 0h1m25 0h1m7 0h1M5 191.5h1m2 0h1m12 0h1m6 0h1m31 0h1m2 0h1m17 0h1m30 0h1m4 0h1m21 0h1m4 0h1m32 0h1m3 0h1m10 0h2m10 0h2m1 0h1m23 0h1m9 0h1m3 0h1m2 0h1M3 192.5h1m2 0h1m1 0h1m16 0h1m25 0h1m5 0h1m1 0h3m3 0h1m7 0h1m1 0h1m8 0h1m12 0h1m17 0h1m1 0h1m5 0h1m2 0h1m1 0h1m9 0h2m3 0h3m13 0h1m17 0h1m9 0h1m4 0h1m9 0h2m2 0h1m11 0h1m10 0h1m7 0h1m2 0h1m3 0h1m1 0h2M3 193.5h1m2 0h2m42 0h1m8 0h2m5 0h1m13 0h1m22 0h1m17 0h1m15 0h1m4 0h3m40 0h1m6 0h1m9 0h1m7 0h1m6 0h1m7 0h1m12 0h1m6 0h1M0 194.5h1m1 0h1m2 0h1m5 0h1m12 0h1m33 0h1m20 0h1m14 0h1m2 0h1m4 0h1m9 0h1m1 0h1m4 0h1m5 0h1m2 0h1m7 0h1m5 0h2m31 0h1m6 0h1m7 0h1m1 0h1m3 0h1m5 0h1m12 0h1m16 0h2m4 0h1m1 0h1m2 0h1m6 0h1M5 195.5h1m5 0h1m2 0h1m31 0h1m2 0h1m28 0h1m15 0h1m15 0h1m12 0h1m4 0h1m6 0h1m3 0h1m1 0h2m14 0h1m4 0h1m14 0h1m2 0h1m24 0h1m1 0h1m1 0h1m21 0h1m1 0h1m4 0h2m8 0h2M3 196.5h1m6 0h1m3 0h1m34 0h1m3 0h1m6 0h2m2 0h1m12 0h1m31 0h1m11 0h1m13 0h1m3 0h1m1 0h1m36 0h1m12 0h1m13 0h1m19 0h1m4 0h3m4 0h1m1 0h1m7 0h1m7 0h1M2 197.5h2m1 0h1m2 0h1m1 0h1m1 0h1m38 0h1m1 0h1m5 0h1m3 0h1m1 0h1m8 0h1m33 0h1m1 0h1m2 0h1m21 0h1m3 0h1m1 0h1m29 0h1m2 0h1m2 0h1m2 0h1m3 0h1m5 0h1m6 0h1m6 0h2m1 0h1m23 0h1m6 0h1m1 0h1m5 0h1m1 0h1M1 198.5h1m1 0h1m7 0h2m36 0h2m8 0h1m3 0h1m8 0h1m4 0h1m21 0h1m8 0h1m1 0h1m7 0h1m3 0h1m4 0h1m6 0h1m3 0h1m1 0h1m13 0h1m2 0h1m13 0h1m22 0h1m4 0h1m3 0h1m3 0h1m7 0h1m9 0h1m4 0h2m5 0h1m1 0h1m5 0h3m7 0h1M0 199.5h1m7 0h1m1 0h2m37 0h1m19 0h1m5 0h1m22 0h1m8 0h1m1 0h1m16 0h1m5 0h1m5 0h3m16 0h1m16 0h1m13 0h1m5 0h1m10 0h2m7 0h1m14 0h2m3 0h1m2 0h1m7 0h2m7 0h1M6 200.5h1m1 0h2m45 0h1m5 0h1m9 0h1m4 0h1m29 0h2m13 0h1m12 0h1m2 0h2m34 0h1m17 0h2m10 0h1m1 0h2m21 0h1m1 0h2m5 0h1m6 0h2m8 0h1M5 201.5h1m2 0h1m37 0h1m14 0h1m7 0h1m25 0h1m9 0h2m9 0h1m3 0h1m3 0h1m7 0h1m4 0h1m11 0h1m7 0h1m13 0h2m5 0h1m10 0h1m9 0h1m1 0h1m3 0h1m21 0h3m2 0h1m2 0h1m9 0h1m2 0h1m4 0h1M5 202.5h1m1 0h1m36 0h1m6 0h1m3 0h1m5 0h1m9 0h1m1 0h1m20 0h2m1 0h2m4 0h1m11 0h1m4 0h1m5 0h1m9 0h1m1 0h1m17 0h1m8 0h1m5 0h1m6 0h1m9 0h1m2 0h1m11 0h1m6 0h1m3 0h1m8 0h1m7 0h1m3 0h1m3 0h1m3 0h2M1 203.5h1m1 0h1m1 0h1m3 0h2m22 0h1m16 0h1m9 0h2m31 0h2m7 0h1m4 0h1m10 0h1m5 0h1m20 0h1m1 0h1m6 0h1m13 0h1m2 0h1m4 0h1m1 0h1m12 0h1m8 0h3m1 0h1m24 0h1m4 0h2m2 0h1m5 0h1m7 0h1m2 0h1M0 204.5h1m3 0h1m3 0h2m12 0h1m25 0h1m10 0h1m8 0h1m21 0h4m31 0h1m2 0h1m6 0h1m9 0h1m4 0h1m18 0h1m6 0h1m22 0h1m9 0h1m15 0h1m4 0h1m2 0h1m2 0h1m5 0h2m3 0h1m2 0h1M7 205.5h2m13 0h1m10 0h1m13 0h1m3 0h1m13 0h1m6 0h1m17 0h2m5 0h1m11 0h1m7 0h1m6 0h1m2 0h1m5 0h1m9 0h1m7 0h1m10 0h1m5 0h1m6 0h2m14 0h2m6 0h1m9 0h1m8 0h1m6 0h1m6 0h1m2 0h1m5 0h1m4 0h1m5 0h2M3 206.5h1m2 0h2m13 0h1m11 0h1m12 0h1m9 0h1m7 0h1m10 0h1m3 0h1m13 0h1m1 0h1m7 0h1m17 0h1m1 0h3m6 0h1m4 0h1m12 0h1m10 0h1m8 0h1m2 0h1m24 0h3m16 0h1m12 0h1m4 0h1m3 0h1m4 0h1m7 0h1m2 0h1M2 207.5h1m15 0h1m19 0h1m1 0h1m8 0h1m5 0h1m7 0h1m21 0h2m6 0h1m19 0h1m9 0h2m4 0h1m1 0h1m34 0h1m3 0h1m16 0h1m9 0h1m1 0h1m6 0h1m9 0h1m7 0h1m4 0h1m8 0h1m3 0h2m4 0h1m1 0h3M0 208.5h1m4 0h1m1 0h1m21 0h1m10 0h1m12 0h1m2 0h1m5 0h1m6 0h1m15 0h1m5 0h2m22 0h1m6 0h1m23 0h1m19 0h2m2 0h1m4 0h1m11 0h1m2 0h1m33 0h1m2 0h1m2 0h1m4 0h1m2 0h1m3 0h1m5 0h1m2 0h2m2 0h1M38 209.5h2m3 0h1m11 0h1m1 0h1m10 0h1m15 0h1m5 0h1m23 0h1m23 0h1m3 0h1m15 0h1m6 0h1m3 0h1m2 0h1m17 0h1m18 0h1m12 0h1m6 0h1m11 0h2m3 0h2m2 0h3M5 210.5h1m2 0h1m11 0h1m8 0h1m7 0h2m3 0h1m2 0h1m9 0h1m3 0h1m23 0h1m5 0h1m2 0h1m7 0h1m11 0h1m29 0h1m6 0h1m8 0h1m5 0h2m4 0h1m12 0h1m8 0h2m14 0h1m4 0h1m8 0h1m3 0h1m7 0h1m3 0h1m4 0h1m2 0h1m1 0h1m2 0h1M17 211.5h1m18 0h1m17 0h2m6 0h1m18 0h1m3 0h1m11 0h1m17 0h1m16 0h1m3 0h1m11 0h1m6 0h1m1 0h1m5 0h2m2 0h1m1 0h1m4 0h1m16 0h1m7 0h1m8 0h1m1 0h1m6 0h1m3 0h1m7 0h1m4 0h1m6 0h1m5 0h2m1 0h2m3 0h1M31 212.5h1m5 0h1m13 0h1m1 0h1m13 0h1m4 0h1m7 0h1m29 0h2m50 0h1m2 0h1m3 0h1m2 0h1m13 0h1m11 0h1m7 0h1m3 0h1m5 0h1m2 0h1m1 0h1m10 0h2m12 0h1m2 0h2m3 0h1M0 213.5h1m30 0h1m11 0h1m6 0h1m4 0h1m3 0h1m4 0h1m5 0h1m9 0h1m3 0h1m25 0h1m22 0h1m5 0h1m25 0h1m2 0h1m1 0h1m36 0h2m1 0h1m5 0h1m3 0h1m11 0h1m5 0h1m2 0h1m1 0h1m1 0h1m1 0h2m4 0h1M30 214.5h1m11 0h1m6 0h2m3 0h1m2 0h1m2 0h1m22 0h1m25 0h1m11 0h1m10 0h1m4 0h1m26 0h1m3 0h1m2 0h1m9 0h1m14 0h1m1 0h1m9 0h1m5 0h3m5 0h2m12 0h1m4 0h3m1 0h2m7 0h2M5 215.5h1m24 0h1m14 0h1m10 0h1m3 0h1m22 0h1m24 0h2m5 0h1m14 0h1m4 0h1m25 0h1m6 0h1m25 0h1m7 0h1m1 0h1m2 0h1m6 0h2m2 0h1m7 0h1m7 0h1m2 0h1m1 0h1m1 0h4m8 0h2M4 216.5h1m6 0h1m9 0h1m8 0h1m11 0h1m1 0h2m4 0h1m2 0h1m13 0h1m7 0h1m14 0h1m13 0h1m1 0h1m1 0h1m11 0h1m9 0h1m14 0h1m13 0h1m7 0h1m6 0h1m2 0h1m15 0h1m14 0h1m4 0h2m6 0h1m3 0h1m6 0h1m5 0h1m2 0h2m9 0h1m1 0h1M3 217.5h1m4 0h1m20 0h1m6 0h1m7 0h1m12 0h1m1 0h2m6 0h1m7 0h1m13 0h1m16 0h2m10 0h2m22 0h1m8 0h1m14 0h1m45 0h2m6 0h1m3 0h1m3 0h1m2 0h1m5 0h1m1 0h3m3 0h3m1 0h1M2 218.5h1m10 0h1m6 0h1m17 0h1m3 0h2m2 0h1m7 0h1m3 0h2m6 0h1m38 0h2m11 0h1m4 0h1m8 0h1m9 0h1m8 0h1m4 0h1m6 0h2m2 0h1m3 0h1m5 0h1m12 0h1m19 0h3m13 0h1m7 0h3m2 0h2m4 0h1m2 0h1M37 219.5h1m8 0h1m11 0h2m42 0h2m10 0h1m2 0h1m9 0h1m13 0h1m12 0h1m4 0h1m9 0h1m26 0h1m8 0h1m4 0h1m1 0h2m2 0h1m14 0h1m2 0h3m2 0h1m4 0h1m2 0h1M37 220.5h1m7 0h1m11 0h1m42 0h1m1 0h1m10 0h1m1 0h1m24 0h1m6 0h1m3 0h1m6 0h1m3 0h1m1 0h1m3 0h3m5 0h1m17 0h1m21 0h1m1 0h1m2 0h1m2 0h1m1 0h1m5 0h4m4 0h1m7 0h1m6 0h1M6 221.5h1m12 0h1m11 0h1m8 0h1m3 0h1m5 0h1m2 0h2m1 0h2m10 0h1m24 0h1m5 0h2m6 0h1m4 0h3m24 0h2m6 0h1m9 0h1m3 0h2m5 0h1m21 0h1m9 0h1m5 0h1m1 0h1m1 0h1m5 0h1m3 0h1m10 0h3m5 0h2m3 0h1m2 0h1m4 0h1m1 0h2M14 222.5h1m21 0h1m2 0h1m2 0h1m7 0h1m2 0h1m4 0h1m8 0h2m10 0h1m27 0h1m3 0h2m3 0h1m22 0h1m9 0h1m9 0h3m4 0h1m1 0h1m39 0h2m10 0h1m2 0h1m5 0h4m5 0h2m2 0h1m3 0h2m5 0h2M4 223.5h1m8 0h1m13 0h1m7 0h2m2 0h1m9 0h2m5 0h1m8 0h1m1 0h1m10 0h1m15 0h1m10 0h2m4 0h1m1 0h1m8 0h1m4 0h1m2 0h1m7 0h1m19 0h2m1 0h1m1 0h1m22 0h1m2 0h1m17 0h1m4 0h2m1 0h2m1 0h2m2 0h1m5 0h3m1 0h1m5 0h1m3 0h1m4 0h1m3 0h1m2 0h1M4 224.5h1m22 0h1m1 0h1m4 0h3m1 0h1m9 0h2m4 0h1m50 0h1m6 0h1m15 0h1m5 0h1m3 0h1m8 0h1m2 0h1m7 0h1m2 0h1m5 0h1m31 0h1m7 0h1m3 0h2m1 0h1m2 0h1m3 0h2m4 0h3m2 0h1m4 0h1m4 0h1m2 0h3m1 0h1m4 0h1M4 225.5h1m21 0h1m1 0h1m5 0h2m6 0h1m4 0h3m2 0h1m12 0h1m19 0h1m5 0h1m9 0h1m9 0h1m24 0h1m1 0h1m9 0h1m8 0h2m1 0h1m4 0h2m19 0h1m20 0h1m5 0h2m10 0h2m1 0h1m1 0h2m8 0h1m3 0h1m1 0h2m5 0h1M24 226.5h1m8 0h3m10 0h2m4 0h1m11 0h2m13 0h1m3 0h1m6 0h1m11 0h1m9 0h1m8 0h1m13 0h1m3 0h1m15 0h1m1 0h3m5 0h1m7 0h1m12 0h1m22 0h1m2 0h2m8 0h2m1 0h1m1 0h1m3 0h1m6 0h1m2 0h1m1 0h1m1 0h3m4 0h1m1 0h1M23 227.5h1m8 0h3m11 0h1m16 0h2m24 0h1m7 0h1m3 0h1m42 0h1m10 0h2m1 0h1m8 0h1m1 0h1m36 0h2m2 0h3m8 0h5m1 0h2m7 0h1m7 0h2m1 0h1m5 0h1M4 228.5h1m17 0h2m6 0h1m1 0h2m7 0h1m1 0h1m19 0h1m14 0h1m20 0h1m27 0h1m10 0h1m10 0h2m2 0h1m3 0h1m8 0h1m1 0h1m11 0h1m2 0h1m1 0h1m19 0h2m3 0h2m8 0h2m1 0h1m3 0h1m8 0h1m3 0h1m1 0h2m2 0h1m6 0h1m1 0h1M3 229.5h2m16 0h2m6 0h1m2 0h1m3 0h1m3 0h1m2 0h1m39 0h1m4 0h1m8 0h1m8 0h1m4 0h1m15 0h1m4 0h1m4 0h1m17 0h2m48 0h2m2 0h2m9 0h3m2 0h1m3 0h1m6 0h1m2 0h1m1 0h3m2 0h1m5 0h1M2 230.5h2m16 0h1m6 0h2m6 0h1m2 0h1m2 0h1m1 0h1m6 0h1m10 0h1m3 0h1m9 0h2m4 0h1m5 0h1m8 0h2m12 0h1m15 0h2m18 0h1m7 0h1m49 0h3m2 0h1m1 0h1m3 0h1m1 0h1m1 0h2m1 0h1m4 0h1m7 0h1m3 0h1m1 0h1m4 0h1m2 0h1m1 0h1M0 231.5h1m1 0h1m19 0h1m4 0h1m2 0h1m3 0h1m2 0h1m4 0h1m2 0h1m15 0h1m4 0h1m7 0h1m5 0h1m5 0h1m8 0h1m9 0h1m20 0h1m18 0h1m7 0h1m11 0h1m16 0h1m15 0h1m4 0h1m1 0h1m4 0h1m9 0h1m5 0h1m4 0h1m2 0h1m3 0h1m6 0h1m3 0h1m2 0h1M1 232.5h2m17 0h1m5 0h1m2 0h2m6 0h1m3 0h1m7 0h1m11 0h1m24 0h2m9 0h1m12 0h1m13 0h1m2 0h1m16 0h1m8 0h1m10 0h1m15 0h1m3 0h1m17 0h1m1 0h2m3 0h1m5 0h2m2 0h2m4 0h1m7 0h1m2 0h2m6 0h1m7 0h2M1 233.5h1m19 0h1m7 0h2m5 0h1m4 0h1m4 0h1m11 0h1m26 0h1m10 0h1m26 0h1m4 0h1m2 0h1m10 0h1m21 0h1m2 0h1m11 0h1m22 0h1m1 0h2m2 0h1m4 0h1m1 0h1m3 0h1m1 0h1m14 0h1m2 0h1m3 0h2m6 0h1M0 234.5h1m19 0h1m8 0h1m4 0h1m1 0h1m3 0h1m16 0h1m6 0h1m7 0h1m12 0h1m1 0h1m1 0h1m4 0h1m31 0h2m10 0h1m24 0h1m6 0h1m30 0h1m2 0h1m3 0h1m5 0h2m3 0h1m1 0h1m7 0h1m2 0h1m1 0h1m7 0h3m5 0h2M25 235.5h2m5 0h1m2 0h1m4 0h1m7 0h1m3 0h1m3 0h1m3 0h1m34 0h1m16 0h1m12 0h3m14 0h1m19 0h1m36 0h1m3 0h1m9 0h2m4 0h2m12 0h1m1 0h1m5 0h2m1 0h1m5 0h2M18 236.5h1m1 0h1m3 0h2m5 0h1m1 0h2m21 0h1m28 0h1m2 0h1m5 0h1m15 0h2m2 0h1m4 0h1m5 0h2m8 0h1m6 0h1m7 0h1m12 0h1m11 0h1m20 0h1m5 0h2m2 0h1m8 0h1m3 0h1m10 0h1m3 0h1m6 0h3m5 0h1M6 237.5h1m6 0h1m5 0h1m3 0h1m4 0h2m3 0h1m3 0h1m9 0h1m1 0h1m10 0h1m22 0h2m24 0h1m3 0h1m5 0h1m3 0h3m5 0h1m4 0h1m17 0h1m6 0h1m36 0h1m2 0h1m8 0h1m2 0h1m4 0h1m8 0h2m5 0h1m6 0h1m1 0h1m6 0h2M5 238.5h1m11 0h1m1 0h1m1 0h1m1 0h1m4 0h2m2 0h1m2 0h1m3 0h1m6 0h1m6 0h1m2 0h1m8 0h1m23 0h1m16 0h1m3 0h1m1 0h1m5 0h1m4 0h1m1 0h1m6 0h1m1 0h1m6 0h1m11 0h1m28 0h1m15 0h1m2 0h1m2 0h2m6 0h3m2 0h1m15 0h1m6 0h1m1 0h1m7 0h1M3 239.5h1m13 0h1m10 0h1m4 0h1m11 0h2m2 0h1m10 0h1m24 0h1m19 0h3m4 0h1m5 0h1m3 0h3m2 0h1m8 0h1m10 0h1m8 0h1m1 0h1m22 0h1m15 0h1m1 0h2m3 0h1m3 0h1m2 0h1m2 0h1m4 0h1m5 0h1m6 0h1m6 0h1m1 0h2m1 0h1m4 0h1M15 240.5h1m1 0h2m7 0h2m5 0h1m11 0h1m2 0h1m11 0h1m22 0h1m10 0h1m9 0h1m1 0h2m2 0h1m5 0h1m4 0h1m14 0h1m3 0h1m15 0h1m24 0h1m16 0h1m4 0h1m6 0h1m9 0h1m22 0h2m3 0h1M2 241.5h1m12 0h4m7 0h1m2 0h1m2 0h1m13 0h1m12 0h1m15 0h1m5 0h1m5 0h1m17 0h2m2 0h1m10 0h2m2 0h2m1 0h1m12 0h1m5 0h1m7 0h1m1 0h1m14 0h1m3 0h1m3 0h1m1 0h1m13 0h2m5 0h1m3 0h1m3 0h1m4 0h1m2 0h1m5 0h1m6 0h1m8 0h1m1 0h1m6 0h1m2 0h1M0 242.5h1m15 0h2m6 0h1m3 0h1m3 0h1m7 0h1m3 0h1m3 0h1m9 0h1m6 0h1m21 0h1m1 0h1m15 0h2m9 0h1m1 0h2m4 0h1m29 0h1m11 0h1m8 0h2m21 0h1m3 0h1m2 0h1m3 0h1m2 0h1m10 0h1m12 0h1m2 0h2m2 0h1m5 0h2M14 243.5h1m1 0h1m7 0h1m1 0h1m1 0h1m13 0h2m15 0h1m7 0h1m36 0h1m1 0h1m12 0h1m3 0h2m2 0h1m2 0h1m2 0h1m19 0h1m11 0h1m8 0h1m6 0h1m11 0h1m3 0h1m5 0h1m4 0h1m2 0h1m10 0h1m4 0h1m10 0h2m2 0h1m5 0h1m3 0h1M9 244.5h1m1 0h1m13 0h1m16 0h1m1 0h1m2 0h1m20 0h1m17 0h1m12 0h1m2 0h1m2 0h1m9 0h1m1 0h2m3 0h1m9 0h1m4 0h1m13 0h1m1 0h1m10 0h1m8 0h2m21 0h1m2 0h1m2 0h1m2 0h1m4 0h2m29 0h1m5 0h2M7 245.5h1m2 0h1m1 0h1m3 0h1m7 0h1m14 0h1m6 0h1m3 0h1m7 0h1m8 0h2m17 0h1m12 0h1m5 0h1m8 0h1m1 0h2m5 0h1m1 0h1m7 0h1m19 0h1m16 0h1m2 0h1m3 0h1m1 0h1m14 0h2m1 0h1m4 0h1m1 0h1m21 0h1m7 0h1m5 0h1m5 0h2M6 246.5h1m7 0h1m8 0h1m14 0h1m1 0h1m4 0h1m10 0h1m2 0h1m7 0h1m7 0h1m3 0h1m5 0h1m17 0h2m3 0h1m5 0h1m1 0h1m4 0h1m2 0h1m11 0h1m13 0h1m19 0h2m14 0h1m7 0h2m1 0h1m3 0h1m4 0h1m3 0h1m10 0h1m2 0h1m7 0h1m13 0h1M5 247.5h1m8 0h1m4 0h1m2 0h1m14 0h1m2 0h1m4 0h1m2 0h1m5 0h1m2 0h2m6 0h1m18 0h1m10 0h1m4 0h1m1 0h2m10 0h2m29 0h1m2 0h1m20 0h1m14 0h1m8 0h3m5 0h1m2 0h1m18 0h1m1 0h1m4 0h1m8 0h1M2 248.5h1m15 0h3m11 0h1m1 0h3m7 0h1m11 0h1m1 0h1m19 0h1m16 0h1m5 0h2m11 0h1m2 0h1m17 0h1m11 0h1m8 0h1m10 0h1m3 0h1m9 0h1m1 0h1m5 0h1m3 0h1m6 0h1m3 0h1m5 0h1m17 0h1m9 0h1m3 0h1M18 249.5h1m14 0h2m17 0h1m1 0h1m2 0h1m5 0h1m12 0h1m20 0h1m2 0h1m1 0h1m3 0h1m3 0h1m1 0h1m3 0h1m6 0h1m3 0h1m16 0h1m3 0h1m15 0h2m14 0h1m9 0h1m2 0h1m2 0h1m2 0h2m8 0h1m4 0h1m11 0h1m10 0h1m3 0h2m3 0h1M17 250.5h1m13 0h2m4 0h1m9 0h1m4 0h1m3 0h1m5 0h1m11 0h1m1 0h1m19 0h2m2 0h1m7 0h1m5 0h1m7 0h1m24 0h1m15 0h1m4 0h1m9 0h1m12 0h1m3 0h1m2 0h1m21 0h1m15 0h1m8 0h1M15 251.5h1m14 0h2m4 0h1m6 0h1m2 0h2m6 0h1m2 0h1m16 0h2m9 0h1m10 0h1m16 0h1m2 0h1m2 0h1m2 0h1m3 0h1m19 0h1m15 0h2m2 0h2m13 0h1m4 0h1m2 0h2m1 0h1m1 0h1m14 0h2m14 0h2m1 0h1m3 0h1m1 0h1m6 0h1m3 0h1M5 252.5h1m2 0h1m20 0h2m14 0h2m2 0h1m3 0h1m1 0h1m17 0h2m8 0h2m10 0h2m6 0h1m8 0h1m4 0h1m2 0h1m9 0h1m20 0h1m14 0h1m9 0h1m2 0h2m8 0h2m2 0h1m10 0h1m4 0h1m1 0h1m12 0h2m2 0h1m3 0h1m6 0h1m4 0h2M30 253.5h1m3 0h1m8 0h1m1 0h2m6 0h1m28 0h1m10 0h3m7 0h1m8 0h1m4 0h1m16 0h1m23 0h1m5 0h1m13 0h1m1 0h1m3 0h1m5 0h3m8 0h1m6 0h1m9 0h1m4 0h3m5 0h2m10 0h1M28 254.5h1m2 0h1m1 0h1m9 0h1m1 0h2m2 0h1m2 0h1m1 0h1m27 0h1m5 0h1m2 0h2m6 0h2m10 0h1m1 0h1m2 0h2m1 0h1m3 0h1m25 0h1m6 0h1m1 0h1m20 0h1m3 0h1m5 0h3m12 0h2m17 0h2m2 0h1m3 0h1m6 0h1m3 0h1m1 0h1M28 255.5h1m3 0h1m8 0h1m2 0h1m4 0h1m2 0h1m20 0h1m14 0h1m2 0h2m5 0h2m8 0h1m2 0h1m1 0h1m1 0h2m1 0h1m2 0h1m21 0h1m34 0h2m1 0h1m6 0h2m1 0h1m10 0h2m5 0h1m12 0h2m2 0h1m4 0h1m8 0h1m1 0h1"/>
<path stroke="#70cf57" d="M13 0.5h1m4 0h1m48 0h1m31 0h1m30 0h2m54 0h1m22 0h1m1 0h1m37 0h1m1 0h1M12 1.5h1m53 0h1m3 0h1m37 0h1m8 0h1m11 0h2m22 0h1m54 0h1m45 0h1M11 2.5h1m4 0h1m83 0h1m5 0h1m22 0h2m77 0h1m39 0h1m1 0h1M4 3.5h1m6 0h1m3 0h1m83 0h1m16 0h1m11 0h2m40 0h1m35 0h1M3 4.5h1m94 0h1m16 0h1m11 0h2m68 0h1m7 0h1m43 0h1M1 5.5h1m1 0h1m5 0h1m86 0h1m30 0h2m17 0h1m57 0h1m41 0h1m1 0h1M128 6.5h1m67 0h1m34 0h1m14 0h1m7 0h1M11 7.5h1m51 0h1m15 0h1m6 0h1m8 0h1m31 0h1m75 0h1m48 0h1M11 8.5h1m51 0h1m22 0h1m2 0h1m10 0h1m25 0h1M58 9.5h1m3 0h1m61 0h1m46 0h1m61 0h1M0 10.5h1m27 0h1m27 0h1m5 0h1m14 0h1m50 0h1m36 0h1M25 11.5h1m1 0h1m30 0h1m3 0h1m22 0h1M54 12.5h1m6 0h1m10 0h1m10 0h1m8 0h1m29 0h1m4 0h1m40 0h2M55 13.5h1m4 0h1m18 0h1m10 0h1m36 0h1m71 0h1m55 0h1M126 14.5h1m69 0h1m33 0h1M10 15.5h1m12 0h1m172 0h1m32 0h1m25 0h1M33 16.5h1m9 0h1m49 0h1m17 0h1m72 0h1m10 0h1m3 0h1m24 0h1m30 0h1M19 17.5h1m39 0h1m19 0h1m31 0h1m67 0h1m3 0h1m30 0h1m8 0h1m21 0h1m6 0h1m2 0h1M79 18.5h1m12 0h1m11 0h1m38 0h1m39 0h1m7 0h1m51 0h1M87 19.5h1m36 0h1m22 0h1m90 0h1m12 0h1M83 20.5h1m4 0h2m11 0h1m38 0h1m83 0h1m30 0h1M32 21.5h1m54 0h2m11 0h1m52 0h1m11 0h1m12 0h1m4 0h1m53 0h1M86 22.5h2m8 0h1m12 0h1m11 0h1m24 0h1m18 0h1m57 0h1M34 23.5h1m23 0h1m16 0h1m10 0h2m86 0h1m48 0h1m31 0h1M57 24.5h1m19 0h1m7 0h1m51 0h1m26 0h1m16 0h1m9 0h1m18 0h1m11 0h1m31 0h1M31 25.5h1m35 0h1m9 0h1m40 0h1m40 0h1m4 0h1m29 0h1m15 0h2m9 0h1m31 0h2M53 26.5h1m2 0h1m28 0h1m9 0h1m4 0h1m16 0h1m92 0h1m8 0h1m12 0h1m19 0h2M31 27.5h1m32 0h1m6 0h1m12 0h1m6 0h1m7 0h1m26 0h1m17 0h1m73 0h1m32 0h1M51 28.5h1m1 0h1m2 0h1m10 0h1m2 0h1m13 0h1m3 0h1m5 0h1m3 0h1m43 0h1m29 0h1m28 0h1m7 0h1m42 0h1M55 29.5h1m10 0h1m7 0h1m9 0h1m4 0h1m72 0h1m29 0h1m7 0h1m50 0h1M51 30.5h1m17 0h1m21 0h1m71 0h1m78 0h1M65 31.5h1m1 0h1m15 0h2m44 0h1m7 0h1m84 0h1m29 0h1M67 32.5h1m1 0h1m13 0h1m137 0h1m18 0h1m9 0h1M82 33.5h1m41 0h1m34 0h1m56 0h1m4 0h1M5 34.5h1m54 0h1m52 0h1m3 0h1m40 0h1m61 0h1M33 35.5h1m7 0h1m18 0h1m7 0h1m13 0h1m112 0h1m41 0h1M59 36.5h1m7 0h1m141 0h1m43 0h1M29 37.5h1m27 0h1m2 0h1m143 0h1m3 0h1M56 38.5h1m2 0h1m26 0h1m46 0h1m16 0h1m52 0h1m51 0h1M58 39.5h1m55 0h1m3 0h1m84 0h1m16 0h1m18 0h1M56 40.5h1m6 0h1m2 0h1m9 0h1m7 0h1m57 0h1m39 0h1m19 0h1M29 41.5h1m27 0h1m5 0h1m3 0h1m15 0h1m65 0h1m51 0h1M38 42.5h1m33 0h1m39 0h1m34 0h1m13 0h1m39 0h1m3 0h1m10 0h1M28 43.5h1m8 0h1m29 0h1m62 0h1m47 0h1M27 44.5h1m28 0h1m1 0h1m8 0h1m11 0h1m29 0h1m3 0h1m4 0h1m1 0h1m7 0h1m41 0h1m32 0h1M37 45.5h1m17 0h1m10 0h1m4 0h1m54 0h1m7 0h1m64 0h1M164 46.5h1m32 0h1M21 47.5h1m2 0h1m38 0h1m98 0h1m53 0h1m17 0h1M62 48.5h1m40 0h1m54 0h1m40 0h1m33 0h1m18 0h1M126 49.5h1m4 0h1m67 0h1M15 50.5h1m173 0h1m42 0h1M1 51.5h1m18 0h1m45 0h1m1 0h1m48 0h1m70 0h1M68 52.5h1m47 0h1m70 0h1M11 53.5h1m18 0h1m57 0h1m94 0h1M29 54.5h1m18 0h1m19 0h1m70 0h1m55 0h1m35 0h1M40 55.5h1m69 0h1m33 0h1m32 0h1M4 56.5h1m26 0h1m24 0h1m8 0h1m43 0h1m15 0h1m15 0h1m67 0h1M63 57.5h1m7 0h1m40 0h1m12 0h1m6 0h1m26 0h1m28 0h1M30 58.5h1m5 0h1m24 0h2m1 0h1m35 0h1m10 0h2m70 0h1m8 0h1M8 59.5h1m20 0h2m8 0h1m21 0h2m36 0h1m9 0h1m1 0h1m8 0h1m39 0h1m26 0h1m21 0h1m33 0h1M28 60.5h1m11 0h1m19 0h2m46 0h2m59 0h1m26 0h1m11 0h1m18 0h1M27 61.5h1m11 0h1m68 0h1m1 0h1m47 0h1m22 0h1m26 0h1M51 62.5h1m29 0h1m26 0h1m15 0h1m14 0h1m44 0h1m41 0h1m6 0h1M39 63.5h1m14 0h1m6 0h1m21 0h1m18 0h2m3 0h1m12 0h1m55 0h1m18 0h1M9 64.5h1m50 0h1m21 0h1m8 0h1m10 0h1m4 0h1m10 0h1m110 0h1M9 65.5h1m71 0h1m19 0h1m4 0h1m11 0h1m31 0h1m76 0h1M72 66.5h1m26 0h1m17 0h1m55 0h1m20 0h1M17 67.5h1m34 0h2m1 0h1m11 0h1m47 0h1m57 0h1m19 0h1M67 68.5h1m47 0h1m66 0h1M40 69.5h1m19 0h1m20 0h1m11 0h1m20 0h1m57 0h1m45 0h1M12 70.5h1m13 0h1m6 0h1m24 0h2m20 0h1m2 0h1m14 0h1m14 0h1m87 0h1m15 0h1m5 0h1m20 0h1M89 71.5h1m35 0h1m91 0h1m9 0h1M11 72.5h1m53 0h1m7 0h1m21 0h1m16 0h1m103 0h1M25 73.5h1m29 0h1m38 0h1m33 0h1m70 0h1M83 74.5h1m8 0h1m18 0h1m26 0h1M5 75.5h1m8 0h1m78 0h1m42 0h2m82 0h1m5 0h1m4 0h1M54 76.5h1m33 0h1m20 0h1m25 0h1m82 0h1m7 0h1M1 77.5h1m46 0h1m4 0h1m7 0h1m2 0h1m20 0h1m4 0h2m18 0h1m76 0h1m25 0h1m2 0h1M33 78.5h1m25 0h1m24 0h2m22 0h1m1 0h1m104 0h1M0 79.5h1m30 0h1m56 0h2m45 0h1m61 0h1m30 0h1M0 80.5h1m23 0h1m26 0h1m4 0h1m25 0h1m90 0h1m41 0h1M23 81.5h1m31 0h1m26 0h1m17 0h1m11 0h1m2 0h1m17 0h1m1 0h1m60 0h1M36 82.5h1m31 0h1m15 0h1m17 0h1m3 0h1m16 0h1m10 0h1m49 0h1m11 0h1m15 0h1M4 83.5h1m30 0h2m14 0h1m11 0h1m36 0h1m5 0h2m14 0h1m29 0h1m30 0h1m8 0h1M3 84.5h1m1 0h1m10 0h1m62 0h1m20 0h1m5 0h1m18 0h1m5 0h1m13 0h1m4 0h1m31 0h1m40 0h1M30 85.5h2m2 0h1m42 0h1m1 0h1m19 0h1m22 0h1m22 0h1m35 0h1m3 0h1m24 0h1m26 0h1M3 86.5h1m26 0h1m3 0h1m43 0h1m115 0h1m14 0h1M0 87.5h1m29 0h1m23 0h1m23 0h1m68 0h1m19 0h1m8 0h1m8 0h1M30 88.5h1m15 0h1m32 0h1m18 0h1m23 0h1m3 0h1m19 0h1M15 89.5h1m12 0h1m15 0h1m8 0h1m91 0h1m34 0h1m4 0h1M52 90.5h1m5 0h1m4 0h1m1 0h1m2 0h1m6 0h1m20 0h1m78 0h1M95 91.5h1m105 0h1m3 0h1m19 0h1m4 0h1M33 92.5h1m18 0h1m3 0h1m17 0h1m26 0h1m10 0h1m62 0h1m48 0h1M0 93.5h1m19 0h1m34 0h1m24 0h1m29 0h1m71 0h1M11 94.5h1m23 0h1m18 0h1m18 0h1m100 0h1m6 0h1M10 95.5h1m7 0h1m15 0h1m17 0h1m1 0h1m44 0h1m1 0h1M46 96.5h1m7 0h1m24 0h1m78 0h1m5 0h1m15 0h2M34 97.5h1m1 0h1m12 0h1m14 0h1m12 0h1m100 0h1m1 0h1m65 0h1M9 98.5h1m42 0h1m18 0h1m3 0h1m18 0h1m4 0h1m69 0h1m58 0h1M33 99.5h1m11 0h1m18 0h1M8 100.5h2m17 0h1m19 0h1m2 0h1m11 0h1m13 0h1m14 0h2m4 0h1m111 0h1m40 0h1M8 101.5h1m11 0h1m5 0h1m6 0h1m16 0h1m21 0h1m16 0h1m3 0h1m48 0h1m21 0h1m10 0h1M6 102.5h1m21 0h1m3 0h1m17 0h1m37 0h2m77 0h1m78 0h1m5 0h1M6 103.5h1m21 0h2m16 0h1m2 0h2m5 0h1m13 0h1m17 0h2m88 0h1m67 0h1M18 104.5h1m1 0h1m7 0h1m16 0h1m3 0h1m4 0h2m14 0h1m2 0h1m1 0h1m12 0h1m84 0h1m71 0h1M17 105.5h2m5 0h2m1 0h2m2 0h1m11 0h2m3 0h1m5 0h1m17 0h1m12 0h1m1 0h1m52 0h1m82 0h1m19 0h1M7 106.5h1m9 0h1m4 0h1m23 0h2m4 0h3m93 0h1m31 0h1M5 107.5h1m10 0h1m28 0h2m4 0h2m126 0h1M41 108.5h1m2 0h2m17 0h1m4 0h1m2 0h1m61 0h1m45 0h1m30 0h1m33 0h1M35 109.5h1m7 0h2m62 0h1m70 0h1m30 0h1m17 0h1M15 110.5h1m8 0h1m14 0h1m4 0h1m4 0h1m11 0h1m24 0h1m19 0h1m7 0h1m64 0h1m46 0h1M3 111.5h1m11 0h1m18 0h1m5 0h1m1 0h1m17 0h1m27 0h1m17 0h1m11 0h1m15 0h1m42 0h1m63 0h1M3 112.5h1m11 0h1m17 0h1m7 0h1m13 0h1m16 0h1m14 0h1m25 0h1m43 0h1M8 113.5h1m22 0h1m8 0h1m3 0h1m16 0h1m65 0h1m2 0h1m17 0h1m33 0h1M3 114.5h1m24 0h1m3 0h1m93 0h1m1 0h1m18 0h1m44 0h1m24 0h1m24 0h1M11 115.5h1m33 0h1m6 0h1m13 0h1m59 0h1m7 0h1m37 0h1m6 0h1M27 116.5h1m16 0h1m2 0h1m2 0h1m11 0h1m2 0h1m42 0h1m8 0h1m60 0h1m27 0h1m34 0h1M14 117.5h1m4 0h1m6 0h1m17 0h1m50 0h1m10 0h1m15 0h1m18 0h1m75 0h1M3 118.5h1m2 0h1m25 0h1m13 0h1m40 0h1m33 0h1m51 0h1M3 119.5h1m2 0h1m18 0h1m5 0h1m9 0h1m63 0h1m35 0h1M3 120.5h1m37 0h1m13 0h1m7 0h1m22 0h1m17 0h1m9 0h1m23 0h1m31 0h1m29 0h1m32 0h1M3 121.5h1m2 0h1m1 0h1m21 0h1m9 0h1m12 0h1m31 0h2m17 0h1m21 0h1m11 0h1m31 0h1m30 0h1m20 0h1m14 0h1m1 0h1m10 0h1M2 122.5h1m11 0h1m2 0h1m11 0h1m15 0h1m37 0h1m23 0h1m127 0h1M1 123.5h1m1 0h1m17 0h1m5 0h1m15 0h1m1 0h1m36 0h1m23 0h1m3 0h1m13 0h1m16 0h1m41 0h1m50 0h1m10 0h1M43 124.5h1m8 0h1m11 0h1m38 0h3m39 0h1m88 0h1m9 0h1M0 125.5h1m42 0h1m17 0h1m19 0h1m3 0h1m18 0h2m96 0h1m30 0h1m1 0h1m10 0h1M0 126.5h1m42 0h1m6 0h1m26 0h1m25 0h3m21 0h1m103 0h1m13 0h1M13 127.5h1m24 0h1m4 0h1m58 0h3m8 0h1m76 0h1m34 0h1m4 0h1m1 0h1m10 0h2M82 128.5h1m16 0h2m1 0h3m123 0h1m1 0h1M2 129.5h1m6 0h1m27 0h1m1 0h1m15 0h1m25 0h2m15 0h2m1 0h3m21 0h1m101 0h1m1 0h1m10 0h1m2 0h1M33 130.5h1m63 0h2m2 0h3m3 0h1m14 0h1m31 0h1m7 0h1m37 0h1m25 0h2m14 0h1m2 0h1M1 131.5h1m29 0h2m3 0h1m4 0h1m18 0h2m35 0h1m2 0h3m23 0h1m7 0h1m26 0h1m64 0h1m17 0h1M1 132.5h1m29 0h1m4 0h1m59 0h1m2 0h1m1 0h2m13 0h1m22 0h1m85 0h2m15 0h2M4 133.5h1m34 0h2m12 0h1m18 0h1m22 0h1m4 0h2M31 134.5h1m7 0h1m20 0h1m1 0h1m8 0h1m27 0h2m74 0h1m41 0h1m4 0h1m19 0h1m11 0h1M45 135.5h1m14 0h1m9 0h1m21 0h1m5 0h1m19 0h1m15 0h1m38 0h1m12 0h1m34 0h1m4 0h1M6 136.5h1m36 0h2m49 0h1m68 0h1m16 0h1m4 0h1m57 0h1M4 137.5h2m29 0h1m6 0h2m45 0h1m43 0h1m107 0h1M4 138.5h1m18 0h1m5 0h1m10 0h1m21 0h1m70 0h1m56 0h1m35 0h1m14 0h1M133 139.5h1m31 0h1m19 0h1m67 0h1M11 140.5h1m150 0h1m23 0h1M3 141.5h1m6 0h1m68 0h1m105 0h1m44 0h1M21 142.5h1m20 0h1m35 0h1m11 0h1m51 0h1M7 143.5h1m1 0h1m10 0h1m31 0h1m37 0h1m70 0h1m23 0h1m29 0h1m13 0h1M4 144.5h1m1 0h2m80 0h2m51 0h1m19 0h1m16 0h1M6 145.5h1m42 0h1m26 0h1m11 0h1m70 0h1m23 0h1m16 0h1M5 146.5h1m22 0h1m10 0h1m8 0h1m109 0h1m15 0h1m6 0h1m43 0h1M1 147.5h1m70 0h1m99 0h2m6 0h1m39 0h1M3 148.5h1m20 0h1m35 0h1m48 0h1m89 0h1m5 0h1m7 0h1m20 0h1M69 149.5h1m100 0h1m8 0h1m32 0h1m29 0h1M5 150.5h1m16 0h1m3 0h1m41 0h1m19 0h1m19 0h1m89 0h2m29 0h1M1 151.5h1m35 0h1m12 0h1m40 0h1m6 0h1m7 0h1m91 0h1M58 152.5h1m48 0h1m50 0h1m11 0h1m54 0h1M25 153.5h1m117 0h1m24 0h1m48 0h1m7 0h1M1 154.5h1m3 0h1m18 0h1m22 0h1m64 0h1m4 0h1m98 0h1M47 155.5h1m108 0h1m32 0h1m5 0h1M39 156.5h1m72 0h1m72 0h1m9 0h1m41 0h1M4 157.5h1m13 0h1m6 0h1m115 0h1m52 0h1m18 0h1M25 158.5h1m17 0h1m67 0h1m4 0h1m23 0h1m9 0h1m75 0h1m9 0h1M46 159.5h1m7 0h1m2 0h1m51 0h1m16 0h1m37 0h1m16 0h1m44 0h1M46 160.5h1m10 0h1m5 0h1m20 0h1m22 0h1m54 0h1m17 0h1m55 0h1M4 161.5h1m5 0h1m8 0h1m18 0h1m17 0h1m26 0h1m45 0h1m13 0h1m35 0h1M37 162.5h1m4 0h1m99 0h1m35 0h1m35 0h1m20 0h1M0 163.5h1m35 0h1m4 0h2m62 0h1m35 0h2m34 0h1m3 0h1m2 0h1m23 0h1M8 164.5h1m27 0h1m66 0h1m37 0h1m31 0h1m6 0h1m33 0h1M8 165.5h1m32 0h1m13 0h1m46 0h1m38 0h1m29 0h1m83 0h1M48 166.5h1m26 0h1m32 0h1m31 0h1m9 0h1m27 0h1M6 167.5h1m41 0h1m100 0h1m26 0h1m43 0h1M4 168.5h1m35 0h1m4 0h1m54 0h1m28 0h1m9 0h1m27 0h1m30 0h1M15 169.5h1m4 0h1m19 0h1m134 0h1m6 0h1m36 0h2M14 170.5h1m5 0h1m26 0h1m49 0h1m29 0h1m18 0h1m14 0h1m4 0h1m53 0h1M39 171.5h1m5 0h1m80 0h1m4 0h1m32 0h1m21 0h1m19 0h1M44 172.5h1m73 0h1m5 0h1m37 0h1m9 0h1m46 0h1M12 173.5h1m23 0h1m5 0h1m67 0h1m6 0h1m42 0h2m1 0h1m44 0h1M19 174.5h1m7 0h1m7 0h1m58 0h1m15 0h1m14 0h1m22 0h1m13 0h1M13 175.5h1m4 0h1m16 0h1m50 0h1m23 0h1m14 0h1M12 176.5h1m72 0h1m37 0h2m25 0h1m27 0h1M12 177.5h1m11 0h1m7 0h1m51 0h1m29 0h1m4 0h1m29 0h1m8 0h1m51 0h1m8 0h2M12 178.5h1m70 0h1m35 0h1m53 0h1m38 0h1m5 0h1m32 0h1M118 179.5h1m28 0h1m63 0h1M38 180.5h1m39 0h1m12 0h1m26 0h1m27 0h1m7 0h1m18 0h1m36 0h1m36 0h1m6 0h2M78 181.5h1m42 0h1m32 0h1m37 0h1m14 0h1m2 0h1m37 0h1m4 0h1m1 0h1M8 182.5h1m68 0h1m35 0h1m29 0h2m8 0h1m15 0h1m36 0h1m2 0h1m8 0h1m34 0h1M6 183.5h1m4 0h1m52 0h1m77 0h1m101 0h1M62 184.5h1m89 0h1m6 0h1m21 0h1M5 185.5h1m67 0h1m69 0h1m90 0h1M16 186.5h1m89 0h1m35 0h1m56 0h1m17 0h1m31 0h1M14 187.5h1m83 0h1m41 0h1m9 0h1m56 0h1m38 0h1M130 188.5h1m9 0h1m75 0h1m27 0h1m7 0h2M13 189.5h1m125 0h1m38 0h1m55 0h1m8 0h1M6 190.5h1m2 0h1m2 0h1m56 0h1m29 0h1m93 0h1m48 0h1M28 191.5h1m31 0h1m2 0h1m75 0h1m4 0h1m32 0h1m15 0h1M115 192.5h1m12 0h1m10 0h1M7 193.5h1m129 0h1m4 0h1m67 0h1M24 194.5h1m33 0h1m35 0h1m33 0h1m7 0h1m5 0h1m90 0h1m6 0h1M11 195.5h1m66 0h1m31 0h1m17 0h1m12 0h2m37 0h1m28 0h1m21 0h1M14 196.5h1m34 0h1m59 0h1m25 0h1m89 0h1m5 0h1M12 197.5h1m46 0h1m3 0h1m71 0h1m41 0h1m53 0h1M1 198.5h1m10 0h1m50 0h1m63 0h1m12 0h1m74 0h1m14 0h1m15 0h1M0 199.5h1m7 0h1m1 0h2m95 0h1m1 0h1m28 0h1m1 0h1m88 0h1m7 0h1m8 0h1m7 0h1M6 200.5h1m2 0h1m124 0h1m3 0h1m53 0h1m35 0h1m16 0h1M116 201.5h1m3 0h1m16 0h1m40 0h1m26 0h1M5 202.5h1m38 0h1m49 0h1m8 0h1m34 0h1m52 0h1M5 203.5h1m87 0h1m84 0h1m65 0h1m7 0h1M90 204.5h1m85 0h1m56 0h1M8 205.5h1m24 0h1m56 0h1m33 0h1m26 0h1m23 0h1m42 0h1m16 0h1M3 206.5h1m60 0h1m58 0h2m25 0h1m19 0h1m59 0h1m21 0h1M63 207.5h1m29 0h1m29 0h1m105 0h1m18 0h1M122 208.5h1m104 0h1m20 0h1m2 0h1M39 209.5h1m15 0h1m34 0h1m74 0h1m3 0h1m82 0h1M55 210.5h1m36 0h1m71 0h1m81 0h1m1 0h1m2 0h1M54 211.5h1m102 0h1m11 0h1m77 0h1m2 0h2m3 0h1M53 212.5h1m156 0h1m5 0h1m29 0h1m2 0h2M43 213.5h1m36 0h1m52 0h1m5 0h1m30 0h1m39 0h1m5 0h1m28 0h1m2 0h1M57 214.5h1m150 0h1m6 0h1m29 0h2M83 215.5h1m24 0h1m26 0h1m78 0h2m18 0h1m6 0h1m2 0h1M11 216.5h1m33 0h1m62 0h1m11 0h1m93 0h1m17 0h1m8 0h2M3 217.5h1m4 0h1m35 0h1m44 0h1m28 0h1m94 0h1m23 0h1m2 0h1M43 218.5h1m15 0h1m63 0h1m32 0h1m69 0h1m12 0h1m5 0h1M46 219.5h1m11 0h1m82 0h1m27 0h1m40 0h1m2 0h1m21 0h1M37 220.5h1m7 0h1m11 0h1m44 0h1m10 0h1m1 0h1m24 0h1m23 0h1m56 0h1m12 0h2m19 0h1M40 221.5h1m52 0h1m13 0h1m31 0h2m16 0h1m10 0h1m51 0h1m10 0h3m5 0h2m3 0h1m2 0h1m6 0h2M36 222.5h1m13 0h1m2 0h1m25 0h1m27 0h1m4 0h1m3 0h1m32 0h1m59 0h1m13 0h1m6 0h3M4 223.5h1m45 0h1m16 0h1m38 0h1m23 0h1m27 0h2m47 0h1m5 0h1m1 0h1m12 0h3m16 0h1m6 0h1M4 224.5h1m22 0h1m8 0h1m12 0h1m4 0h1m50 0h1m32 0h1m19 0h1m48 0h1m6 0h1m13 0h1m20 0h1m4 0h1M34 225.5h2m11 0h1m43 0h1m44 0h1m20 0h1m56 0h1m10 0h1m2 0h1m18 0h1M24 226.5h1m9 0h1m11 0h1m43 0h1m30 0h1m33 0h1m1 0h1m54 0h1m12 0h1m1 0h1m15 0h1m2 0h1M23 227.5h1m9 0h1m55 0h1m65 0h1m51 0h1m3 0h2m32 0h1M23 228.5h1m9 0h1m172 0h1m3 0h2m9 0h1m5 0h1m15 0h1m2 0h1m6 0h1M3 229.5h1m28 0h1m64 0h1m13 0h1m25 0h1m18 0h1m48 0h2m3 0h1m9 0h2m30 0h1M3 230.5h1m57 0h1m84 0h1m7 0h1m50 0h1m13 0h2m25 0h1M30 231.5h1m6 0h1m115 0h1m51 0h1m28 0h1m10 0h1M37 232.5h1m48 0h2m22 0h1m13 0h1m2 0h1m25 0h1m48 0h1m6 0h1m27 0h1m6 0h1M1 233.5h1m27 0h1m6 0h1m59 0h1m31 0h1m13 0h1m96 0h1m4 0h1M57 234.5h1m68 0h1m36 0h1m40 0h1m16 0h1m21 0h1m7 0h1M56 235.5h1m69 0h1m93 0h1M125 236.5h1m16 0h1m59 0h1m3 0h1m34 0h1m1 0h1M29 237.5h1m3 0h1m75 0h1m15 0h1m87 0h1m27 0h1m8 0h1M106 238.5h1m3 0h1m12 0h1m29 0h1m47 0h1m3 0h1m44 0h1M17 239.5h1m10 0h1m4 0h1m11 0h1m72 0h1m62 0h1m18 0h1m3 0h1M17 240.5h1m30 0h1m34 0h1m22 0h1m9 0h1m86 0h1m6 0h1M15 241.5h1m10 0h1m19 0h1m134 0h1m36 0h1m23 0h1M58 242.5h1m65 0h1m29 0h1m84 0h1M14 243.5h1m1 0h1m102 0h1m4 0h1m49 0h1m67 0h1m5 0h1M42 244.5h1m62 0h1m135 0h1M7 245.5h1m97 0h1m17 0h1m46 0h1m2 0h1m3 0h1m19 0h1M59 246.5h1m44 0h1m89 0h1m37 0h1M19 247.5h1m82 0h1m11 0h1m78 0h1m10 0h1m25 0h1M44 248.5h1m11 0h1m136 0h1m6 0h1m37 0h1m3 0h1M18 249.5h1m15 0h1m22 0h1m58 0h1m6 0h1m3 0h1m118 0h1M96 250.5h1m17 0h1m7 0h1m40 0h1m14 0h1m57 0h1m8 0h1M31 251.5h1m14 0h1m28 0h1m37 0h1m32 0h1m47 0h1m50 0h1M30 252.5h1m14 0h2m6 0h1m58 0h1m17 0h1m62 0h1m15 0h1m34 0h1M30 253.5h1m3 0h1m8 0h1m2 0h1m6 0h1m40 0h1m63 0h1m21 0h1m9 0h1m1 0h1m15 0h1m16 0h1m6 0h1M45 254.5h1m54 0h1m15 0h2m71 0h2m14 0h1m17 0h2M28 255.5h1m15 0h1m4 0h1m2 0h1m45 0h1m16 0h2m61 0h2m8 0h2m13 0h1m5 0h1m30 0h1"/>
<path stroke="#a0da39" d="M67 0.5h1M12 1.5h1m53 0h1m63 0h1m77 0h1M129 2.5h1m120 0h1M11 3.5h1m3 0h1m83 0h1m16 0h1m11 0h1m77 0h1M3 4.5h1m123 0h1M1 5.5h1m125 0h1M203 7.5h1M63 8.5h1m36 0h1M128 10.5h1M27 11.5h1M83 12.5h1M230 14.5h1M255 16.5h1M19 17.5h1m163 0h1M87 19.5h1M87 21.5h1m77 0h1M181 24.5h1m40 0h1m31 0h1M118 25.5h1m45 0h1m88 0h2M253 26.5h1M71 27.5h1M251 29.5h1M242 30.5h1M67 31.5h1M33 35.5h1M59 38.5h1M58 39.5h1m144 0h1M161 42.5h1m43 0h1M67 43.5h1m62 0h1M58 44.5h1m8 0h1M71 45.5h1M233 48.5h1M126 49.5h1M20 51.5h1m45 0h1M183 53.5h1M195 54.5h1M109 56.5h1m99 0h1M30 58.5h1m81 0h1M30 59.5h1m31 0h1m48 0h1m97 0h1M109 60.5h1M102 63.5h1M9 64.5h1m50 0h1m21 0h1m19 0h1M81 65.5h1M55 67.5h1M93 69.5h1M80 70.5h1M11 72.5h1m83 0h1m16 0h1M94 73.5h1M138 74.5h1M137 75.5h1m93 0h1M64 77.5h1M108 78.5h1M135 79.5h1M112 81.5h1M106 82.5h1M100 83.5h1M106 84.5h1m75 0h1m40 0h1M77 85.5h1m1 0h1m101 0h1m28 0h1M30 88.5h1M53 89.5h1M96 90.5h1M224 92.5h1M99 95.5h1M54 96.5h1M180 97.5h1M228 98.5h1M47 100.5h1M89 101.5h1m3 0h1M6 102.5h1m82 0h1M6 103.5h1m39 0h1M28 104.5h1m16 0h1M28 105.5h1m15 0h1m9 0h1m30 0h1m1 0h1M17 106.5h1m29 0h1M16 107.5h1m162 0h1M41 108.5h1m3 0h1m25 0h1m107 0h1M44 110.5h1m181 0h1M177 111.5h1M55 112.5h1M66 115.5h1M44 116.5h1m5 0h1m127 0h1M32 118.5h1M86 120.5h1M40 121.5h1m63 0h1m21 0h1M107 122.5h1M21 123.5h1m21 0h1m62 0h1M43 124.5h1m59 0h1m1 0h1M43 125.5h1m61 0h1M103 126.5h3m125 0h1M102 127.5h3M82 128.5h1m19 0h3m125 0h1M81 129.5h1m16 0h1m3 0h2m123 0h1M33 130.5h1m67 0h3m50 0h1m72 0h1M1 131.5h1m99 0h1M96 132.5h1M99 134.5h1M98 135.5h1M6 136.5h1m87 0h1m68 0h1M40 138.5h1M185 141.5h1M21 142.5h1M20 143.5h1M161 144.5h1M6 145.5h1m81 0h1M48 146.5h1M1 147.5h1m178 0h1M24 148.5h1m174 0h1M170 149.5h1M22 150.5h1M198 151.5h1M170 152.5h1M168 153.5h1m56 0h1M216 154.5h1M156 155.5h1m38 0h1M185 156.5h1M25 157.5h1m115 0h1M111 158.5h1M19 161.5h1m123 0h1m35 0h1M42 162.5h1m99 0h1M184 163.5h1M36 164.5h1m66 0h1m69 0h1M48 166.5h1m129 0h1M6 167.5h1m142 0h1m70 0h1M27 174.5h1m7 0h1M13 175.5h1m111 0h1M12 177.5h1m145 0h1M119 178.5h1m131 0h1M78 180.5h1m12 0h1M248 181.5h1M113 182.5h1M64 183.5h1M249 186.5h1M207 187.5h1M243 189.5h1M142 194.5h1M110 195.5h1M109 196.5h1m25 0h1M12 198.5h1m50 0h1m76 0h1M138 200.5h1M233 204.5h1M151 205.5h1M64 206.5h1m187 0h1M123 207.5h1m105 0h1M251 210.5h1M157 211.5h1M246 212.5h1M215 214.5h1M215 215.5h1M120 216.5h1m93 0h1m27 0h1M213 217.5h1m26 0h1M239 218.5h1M58 219.5h1M45 220.5h1m94 0h1m93 0h1M232 221.5h2m21 0h1M53 222.5h1m53 0h1M229 223.5h1M36 224.5h1m12 0h1m108 0h1m48 0h1M35 225.5h1m121 0h1m70 0h1M34 226.5h1m177 0h1M23 227.5h1m183 0h1M206 228.5h1m36 0h1m9 0h1M3 229.5h1m152 0h1m49 0h1m14 0h1M154 230.5h1m65 0h1M205 231.5h1m28 0h1m10 0h1M202 232.5h1m6 0h1M251 234.5h1M33 237.5h1m91 0h1m115 0h1M123 238.5h1M17 239.5h1m15 0h1M17 240.5h1M154 242.5h1M242 243.5h1M105 244.5h1M7 245.5h1m189 0h1M123 249.5h1m3 0h1M163 250.5h1M46 251.5h1m28 0h1m118 0h1M45 252.5h2m146 0h1m15 0h1M190 253.5h1M45 254.5h1m144 0h1m14 0h1M44 255.5h1"/>
<path stroke="#d5e21a" d="M209 59.5h1M60 64.5h1m21 0h1M112 72.5h1M94 73.5h1M45 104.5h1M179 108.5h1M107 122.5h1M105 125.5h1M103 126.5h2M102 127.5h3M82 128.5h1m19 0h2M102 129.5h2m123 0h1M101 130.5h2M103 164.5h1M35 174.5h1M12 177.5h1M123 207.5h1M214 216.5h1M58 219.5h1M45 220.5h1M158 224.5h1M253 228.5h1M220 230.5h1M125 237.5h1M194 251.5h1M45 254.5h1M44 255.5h1"/>
<path stroke="#fde725" d="M103 126.5h1M104 127.5h1M102 128.5h2M102 129.5h1M12 177.5h1"/>
<path stroke="#228d8d" d="M0 0.5h1m1 0h1m8 0h1m10 0h1m2 0h1m1 0h1m2 0h4m2 0h1m2 0h1m1 0h2m1 0h1m5 0h1m1 0h2m1 0h1m1 0h1m4 0h3m1 0h1m7 0h1m1 0h1m7 0h1m4 0h1m4 0h1m2 0h1m5 0h3m9 0h1m5 0h1m3 0h1m3 0h1m7 0h6m3 0h1m1 0h1m4 0h1m1 0h2m2 0h3m4 0h1m2 0h1m3 0h1m1 0h3m5 0h1m3 0h1m1 0h1m2 0h4m1 0h1m2 0h1m3 0h3m9 0h1m3 0h4m4 0h4m2 0h1m3 0h1m2 0h3m1 0h4M1 1.5h1m7 0h2m3 0h1m5 0h1m2 0h1m2 0h1m2 0h2m1 0h1m2 0h1m2 0h1m4 0h1m6 0h2m1 0h2m1 0h2m3 0h3m4 0h2m2 0h1m1 0h3m1 0h1m6 0h1m1 0h2m3 0h2m1 0h2m7 0h3m2 0h1m1 0h1m8 0h1m3 0h1m11 0h4m1 0h1m5 0h1m3 0h2m1 0h2m2 0h2m1 0h2m4 0h3m4 0h3m3 0h2m7 0h8m2 0h1m2 0h5m9 0h1m1 0h1m1 0h1m1 0h1m4 0h1m1 0h2m1 0h1m4 0h1m1 0h1m1 0h3m2 0h1m6 0h1m1 0h1M0 2.5h1m6 0h3m4 0h1m5 0h1m2 0h3m3 0h2m1 0h1m3 0h4m2 0h1m5 0h6m1 0h1m3 0h2m1 0h2m3 0h1m5 0h1m2 0h1m1 0h1m1 0h1m5 0h1m5 0h2m1 0h1m6 0h4m2 0h1m2 0h1m2 0h2m4 0h1m3 0h1m1 0h1m7 0h5m1 0h2m4 0h1m4 0h1m2 0h1m2 0h1m1 0h3m2 0h1m1 0h1m1 0h1m5 0h1m1 0h1m1 0h1m3 0h1m5 0h2m1 0h4m1 0h1m1 0h1m2 0h4m7 0h1m3 0h2m2 0h3m3 0h2m1 0h2m1 0h1m3 0h2m2 0h3m1 0h3M0 3.5h1m5 0h3m4 0h1m4 0h2m3 0h1m1 0h2m1 0h2m2 0h1m2 0h1m1 0h1m3 0h1m2 0h1m2 0h1m2 0h4m1 0h2m1 0h1m4 0h1m9 0h1m1 0h1m2 0h1m13 0h1m1 0h2m7 0h2m3 0h1m4 0h2m4 0h2m2 0h1m2 0h1m6 0h2m1 0h2m3 0h1m3 0h1m4 0h2m1 0h2m3 0h3m3 0h1m1 0h2m3 0h2m1 0h2m1 0h1m3 0h1m1 0h1m4 0h1m1 0h6m5 0h1m1 0h3m3 0h1m2 0h1m2 0h2m2 0h2m1 0h1m2 0h2m1 0h4m7 0h5m1 0h1m9 0h1M5 4.5h3m4 0h1m2 0h1m3 0h1m1 0h1m1 0h1m3 0h2m3 0h1m3 0h1m3 0h1m2 0h1m2 0h2m1 0h4m1 0h2m1 0h1m2 0h1m1 0h2m7 0h2m1 0h1m2 0h1m1 0h1m3 0h1m1 0h1m5 0h1m1 0h2m7 0h3m7 0h2m4 0h1m3 0h3m7 0h1m1 0h4m2 0h1m9 0h1m2 0h1m1 0h1m1 0h2m2 0h4m5 0h2m2 0h3m3 0h1m3 0h1m2 0h1m2 0h5m5 0h1m1 0h2m4 0h1m4 0h1m1 0h2m1 0h1m1 0h2m2 0h7m2 0h1m3 0h4m1 0h1m1 0h2m7 0h1M0 5.5h1m3 0h3m3 0h2m2 0h1m3 0h1m1 0h1m1 0h2m2 0h1m3 0h2m3 0h1m3 0h1m2 0h2m1 0h2m2 0h6m1 0h1m5 0h1m7 0h2m5 0h1m4 0h1m1 0h1m1 0h1m4 0h1m1 0h2m6 0h1m1 0h2m5 0h1m9 0h1m1 0h1m9 0h1m1 0h3m2 0h1m8 0h1m1 0h1m2 0h1m2 0h5m2 0h1m6 0h1m2 0h1m2 0h1m2 0h1m2 0h1m2 0h1m3 0h6m5 0h4m4 0h1m3 0h2m1 0h1m3 0h2m3 0h5m1 0h1m5 0h3m3 0h2m1 0h1m5 0h1M4 6.5h2m3 0h1m7 0h2m1 0h4m1 0h2m3 0h1m6 0h1m1 0h2m3 0h1m1 0h1m2 0h3m2 0h3m5 0h1m7 0h1m3 0h1m1 0h1m5 0h1m1 0h2m5 0h1m1 0h1m8 0h2m3 0h1m1 0h1m10 0h4m8 0h3m3 0h1m3 0h1m4 0h2m3 0h1m2 0h3m2 0h1m1 0h1m4 0h1m2 0h1m3 0h1m1 0h1m6 0h1m1 0h1m2 0h5m2 0h1m2 0h3m1 0h1m5 0h1m2 0h1m5 0h1m2 0h2m1 0h2m1 0h1m1 0h1m1 0h1m5 0h2m3 0h2m1 0h1m5 0h1m4 0h1M2 7.5h1m1 0h1m9 0h1m1 0h1m2 0h2m1 0h1m2 0h1m1 0h1m3 0h1m5 0h2m1 0h1m1 0h1m1 0h1m3 0h3m1 0h1m1 0h1m1 0h1m5 0h1m2 0h1m7 0h1m4 0h1m1 0h1m1 0h1m1 0h2m7 0h1m4 0h1m7 0h1m9 0h1m2 0h2m1 0h1m8 0h3m6 0h2m8 0h1m1 0h1m2 0h3m1 0h1m1 0h1m4 0h1m2 0h2m2 0h1m1 0h1m8 0h2m2 0h4m1 0h1m4 0h2m2 0h1m1 0h1m3 0h1m1 0h1m4 0h1m3 0h1m1 0h4m2 0h1m5 0h1m1 0h2m2 0h2m2 0h1m7 0h1m2 0h1M3 8.5h3m2 0h1m3 0h2m1 0h1m3 0h1m2 0h1m1 0h1m2 0h1m3 0h1m4 0h2m1 0h1m1 0h1m1 0h2m1 0h5m1 0h1m1 0h2m5 0h1m6 0h1m3 0h2m2 0h2m3 0h1m2 0h1m3 0h1m1 0h1m5 0h1m17 0h1m4 0h1m1 0h2m1 0h1m6 0h3m1 0h1m2 0h1m2 0h1m2 0h1m8 0h1m1 0h2m1 0h1m1 0h1m5 0h1m2 0h1m1 0h1m2 0h1m5 0h1m3 0h2m2 0h4m1 0h1m1 0h2m2 0h2m1 0h1m4 0h1m2 0h1m1 0h1m4 0h4m1 0h2m1 0h2m4 0h1m3 0h2m1 0h2m1 0h1m10 0h1m1 0h2M3 9.5h3m5 0h1m1 0h1m2 0h1m1 0h1m2 0h1m4 0h1m5 0h1m3 0h1m1 0h1m1 0h1m1 0h2m3 0h2m1 0h4m5 0h1m10 0h2m4 0h1m3 0h1m5 0h1m2 0h1m5 0h1m6 0h1m10 0h1m1 0h1m2 0h2m1 0h2m8 0h1m1 0h2m1 0h2m2 0h1m8 0h1m1 0h2m1 0h3m3 0h1m7 0h3m1 0h2m4 0h1m3 0h3m3 0h3m3 0h1m3 0h1m2 0h1m3 0h1m6 0h1m3 0h1m1 0h1m1 0h2m2 0h2m4 0h3m1 0h2m3 0h1m3 0h1m9 0h2M4 10.5h1m2 0h1m2 0h1m4 0h1m3 0h1m4 0h1m6 0h1m3 0h2m1 0h2m1 0h1m1 0h1m2 0h7m16 0h1m3 0h1m1 0h2m1 0h3m7 0h1m2 0h1m11 0h1m2 0h1m2 0h1m1 0h1m5 0h1m1 0h1m7 0h1m2 0h1m2 0h2m4 0h2m2 0h1m5 0h3m2 0h3m2 0h1m6 0h4m2 0h1m4 0h1m2 0h3m1 0h1m2 0h2m1 0h1m1 0h1m3 0h2m10 0h2m6 0h6m2 0h2m3 0h3m2 0h1m3 0h3m11 0h3M1 11.5h1m5 0h2m1 0h1m7 0h2m3 0h2m4 0h1m3 0h1m4 0h3m3 0h2m2 0h2m1 0h1m1 0h1m3 0h1m6 0h1m7 0h1m1 0h2m1 0h1m1 0h1m2 0h1m4 0h1m2 0h1m5 0h1m5 0h1m7 0h1m5 0h1m2 0h1m1 0h1m9 0h3m2 0h1m2 0h1m2 0h1m4 0h1m1 0h2m1 0h1m2 0h1m2 0h2m6 0h3m6 0h2m3 0h1m1 0h1m4 0h1m1 0h2m4 0h3m9 0h1m6 0h1m1 0h1m1 0h3m2 0h3m2 0h2m2 0h1m4 0h2m10 0h1m2 0h2m1 0h1M0 12.5h1m3 0h1m1 0h1m5 0h1m4 0h2m2 0h1m1 0h1m8 0h1m3 0h2m1 0h1m2 0h3m1 0h1m1 0h3m1 0h1m11 0h2m4 0h1m2 0h2m3 0h2m6 0h1m3 0h1m3 0h1m5 0h1m1 0h1m6 0h2m3 0h1m2 0h2m1 0h2m8 0h1m1 0h1m2 0h1m3 0h1m7 0h1m1 0h1m5 0h1m1 0h1m1 0h1m4 0h1m1 0h2m3 0h2m2 0h1m1 0h1m1 0h1m2 0h1m1 0h1m1 0h1m1 0h3m3 0h3m8 0h1m1 0h2m4 0h1m2 0h3m3 0h2m1 0h1m1 0h1m8 0h3m4 0h1m2 0h1m2 0h1m3 0h2M3 13.5h4m3 0h2m2 0h1m1 0h1m1 0h1m1 0h1m10 0h1m2 0h1m1 0h3m3 0h2m1 0h1m2 0h1m1 0h2m7 0h1m2 0h2m4 0h2m4 0h1m3 0h1m1 0h1m12 0h1m11 0h1m2 0h2m2 0h1m3 0h1m1 0h2m10 0h1m1 0h2m3 0h1m3 0h1m1 0h2m1 0h1m4 0h1m1 0h1m3 0h2m4 0h1m1 0h1m6 0h1m2 0h2m2 0h1m4 0h1m1 0h1m1 0h3m3 0h3m8 0h1m1 0h1m5 0h1m1 0h4m1 0h1m2 0h1m1 0h1m8 0h4m2 0h1m1 0h1m1 0h1m4 0h1m2 0h3M3 14.5h2m3 0h2m3 0h2m3 0h1m7 0h1m7 0h2m2 0h1m2 0h3m4 0h2m17 0h2m2 0h1m1 0h1m3 0h2m5 0h1m1 0h1m6 0h1m4 0h1m2 0h1m6 0h1m7 0h2m7 0h1m5 0h2m2 0h1m1 0h1m2 0h2m1 0h1m2 0h1m1 0h1m4 0h1m2 0h1m3 0h1m2 0h1m2 0h2m2 0h1m3 0h1m8 0h1m4 0h2m4 0h2m3 0h1m1 0h1m2 0h3m4 0h1m1 0h1m1 0h2m1 0h2m1 0h2m5 0h1m2 0h1m1 0h3m4 0h1m2 0h1m4 0h1m2 0h2M0 15.5h1m1 0h2m2 0h1m1 0h1m5 0h1m1 0h1m1 0h1m3 0h1m3 0h2m1 0h1m2 0h1m2 0h3m2 0h3m4 0h3m9 0h1m5 0h1m1 0h1m5 0h1m2 0h2m6 0h1m3 0h1m7 0h1m4 0h1m7 0h1m5 0h3m11 0h1m1 0h1m2 0h2m1 0h1m2 0h2m3 0h1m1 0h1m2 0h1m3 0h1m4 0h1m1 0h1m3 0h1m2 0h2m2 0h1m1 0h1m6 0h3m4 0h3m1 0h3m4 0h1m3 0h2m1 0h1m5 0h4m2 0h2m1 0h2m1 0h1m2 0h1m2 0h5m4 0h1m3 0h2m2 0h1m3 0h2M1 16.5h2m1 0h1m1 0h1m6 0h2m1 0h1m1 0h1m2 0h1m8 0h3m1 0h1m1 0h2m1 0h1m1 0h2m1 0h2m1 0h2m8 0h1m3 0h1m2 0h1m1 0h3m1 0h1m6 0h1m4 0h1m3 0h1m12 0h2m1 0h1m3 0h1m1 0h1m4 0h4m13 0h2m2 0h1m2 0h3m5 0h2m5 0h1m4 0h1m3 0h1m5 0h3m1 0h1m2 0h1m7 0h1m5 0h4m2 0h1m2 0h2m2 0h3m2 0h1m5 0h1m1 0h1m1 0h4m1 0h1m8 0h1m2 0h1m4 0h2m2 0h1m1 0h1m3 0h1m2 0h2M2 17.5h3m8 0h1m4 0h1m2 0h1m1 0h1m4 0h2m5 0h2m2 0h1m6 0h3m2 0h1m6 0h1m4 0h1m2 0h1m5 0h1m13 0h1m11 0h1m1 0h1m6 0h2m4 0h3m5 0h1m6 0h1m1 0h1m2 0h1m2 0h2m1 0h1m4 0h1m6 0h2m2 0h3m4 0h1m2 0h2m1 0h1m2 0h1m4 0h2m2 0h1m6 0h3m7 0h1m2 0h1m1 0h3m1 0h1m2 0h1m2 0h2m1 0h4m1 0h1m1 0h1m3 0h1m1 0h3m6 0h1m2 0h1m1 0h2m6 0h2M1 18.5h3m2 0h1m2 0h1m2 0h1m3 0h1m3 0h1m4 0h1m1 0h2m2 0h1m2 0h2m3 0h1m2 0h2m2 0h2m2 0h1m5 0h1m5 0h1m3 0h1m7 0h1m3 0h1m6 0h1m5 0h1m2 0h1m2 0h2m6 0h1m2 0h1m3 0h3m1 0h1m11 0h1m2 0h4m1 0h2m1 0h1m2 0h1m1 0h1m1 0h1m4 0h2m2 0h1m3 0h1m4 0h2m1 0h1m4 0h1m2 0h2m1 0h1m7 0h3m1 0h1m4 0h1m6 0h2m2 0h1m1 0h1m2 0h1m2 0h2m1 0h2m1 0h1m5 0h2m1 0h2m1 0h1m3 0h1m4 0h2m6 0h2M0 19.5h2m6 0h1m2 0h1m2 0h1m2 0h1m2 0h2m3 0h1m1 0h1m2 0h1m2 0h1m5 0h3m4 0h3m15 0h1m4 0h1m3 0h1m2 0h1m4 0h1m4 0h1m9 0h3m6 0h1m6 0h1m3 0h1m3 0h1m6 0h1m1 0h1m1 0h2m2 0h4m5 0h1m1 0h1m2 0h1m1 0h1m1 0h1m5 0h1m1 0h3m4 0h1m4 0h1m1 0h1m1 0h1m7 0h2m1 0h1m5 0h1m1 0h1m3 0h3m1 0h1m3 0h1m1 0h1m2 0h3m1 0h1m9 0h1m1 0h1m2 0h2m2 0h2m1 0h3m5 0h1m1 0h2m1 0h1M0 20.5h1m12 0h2m1 0h1m3 0h1m5 0h1m1 0h1m1 0h2m3 0h1m1 0h1m1 0h2m4 0h2m5 0h1m9 0h2m1 0h1m6 0h2m6 0h1m13 0h3m7 0h1m1 0h1m2 0h1m5 0h1m3 0h1m8 0h6m1 0h2m1 0h1m11 0h3m3 0h1m3 0h2m1 0h2m7 0h1m1 0h1m5 0h1m5 0h4m4 0h1m3 0h2m2 0h3m2 0h1m2 0h1m1 0h3m1 0h2m3 0h1m1 0h1m2 0h1m1 0h1m2 0h2m2 0h2m3 0h2m3 0h1m1 0h2m2 0h2M0 21.5h1m11 0h2m3 0h1m1 0h1m3 0h1m2 0h2m2 0h1m3 0h1m1 0h1m1 0h2m3 0h1m1 0h2m4 0h1m2 0h1m1 0h1m4 0h1m3 0h2m4 0h2m3 0h1m9 0h1m6 0h3m7 0h1m3 0h2m10 0h1m5 0h1m2 0h4m1 0h1m1 0h3m13 0h2m2 0h2m1 0h2m1 0h1m1 0h1m2 0h1m4 0h2m1 0h1m4 0h2m5 0h3m4 0h1m4 0h1m2 0h2m4 0h1m1 0h4m3 0h2m2 0h2m3 0h2m1 0h2m1 0h1m3 0h2m1 0h1m5 0h2m1 0h1m2 0h1M6 22.5h1m5 0h1m1 0h1m2 0h1m4 0h2m1 0h3m1 0h2m1 0h2m2 0h3m1 0h3m1 0h1m1 0h1m3 0h2m1 0h1m10 0h1m3 0h1m12 0h1m2 0h1m5 0h1m3 0h2m8 0h1m2 0h1m2 0h1m3 0h1m2 0h1m9 0h4m1 0h1m1 0h2m4 0h1m2 0h1m5 0h3m2 0h2m2 0h2m1 0h1m7 0h2m2 0h2m3 0h1m5 0h3m9 0h1m2 0h2m1 0h1m4 0h6m4 0h1m2 0h1m5 0h4m1 0h1m2 0h1m3 0h1m2 0h1m2 0h2M3 23.5h1m5 0h1m1 0h3m1 0h1m1 0h1m3 0h2m1 0h3m2 0h1m1 0h1m1 0h1m1 0h2m1 0h4m1 0h2m4 0h1m1 0h2m7 0h2m2 0h2m1 0h1m4 0h1m1 0h1m2 0h1m3 0h1m7 0h1m3 0h2m9 0h1m3 0h1m2 0h1m2 0h3m1 0h1m3 0h1m1 0h1m1 0h1m1 0h3m2 0h3m6 0h1m5 0h2m2 0h1m2 0h1m1 0h3m8 0h2m2 0h2m5 0h1m4 0h2m1 0h1m2 0h1m4 0h1m3 0h2m5 0h5m4 0h1m1 0h1m2 0h1m4 0h2m1 0h1m1 0h1m7 0h2m1 0h1m2 0h1m1 0h1m3 0h1m1 0h1M2 24.5h1m7 0h2m1 0h1m1 0h3m1 0h3m2 0h1m4 0h2m4 0h4m4 0h2m1 0h2m2 0h2m8 0h1m2 0h3m4 0h2m4 0h1m3 0h1m1 0h1m5 0h1m3 0h1m9 0h2m3 0h1m2 0h1m3 0h1m2 0h1m3 0h2m2 0h4m2 0h3m6 0h1m6 0h2m1 0h2m1 0h1m1 0h3m4 0h1m4 0h1m1 0h1m9 0h1m2 0h4m4 0h1m2 0h1m3 0h2m1 0h2m4 0h4m4 0h2m2 0h1m5 0h1m2 0h2m8 0h1m1 0h3m1 0h2M2 25.5h1m6 0h2m3 0h2m3 0h1m1 0h2m2 0h1m2 0h2m3 0h1m1 0h3m5 0h1m1 0h2m3 0h1m11 0h3m4 0h3m6 0h2m26 0h1m1 0h1m4 0h2m1 0h2m7 0h2m3 0h2m4 0h1m2 0h1m9 0h2m1 0h2m1 0h1m2 0h1m1 0h1m2 0h1m3 0h1m3 0h1m6 0h1m3 0h3m2 0h1m5 0h1m2 0h2m1 0h2m4 0h4m3 0h1m1 0h1m1 0h2m6 0h5m1 0h1m4 0h1m2 0h2m1 0h2m2 0h1m3 0h1m1 0h1m3 0h1M3 26.5h1m4 0h2m2 0h1m2 0h1m1 0h1m2 0h2m3 0h2m1 0h1m5 0h3m2 0h1m1 0h1m2 0h1m1 0h1m2 0h1m2 0h1m5 0h1m18 0h2m2 0h1m11 0h1m2 0h1m1 0h1m3 0h1m3 0h2m3 0h1m1 0h4m1 0h1m1 0h1m2 0h3m2 0h1m1 0h2m3 0h1m1 0h1m6 0h1m2 0h1m2 0h2m1 0h4m3 0h1m4 0h2m2 0h1m5 0h2m1 0h1m2 0h2m2 0h2m1 0h1m6 0h1m2 0h3m2 0h1m2 0h2m4 0h1m2 0h1m4 0h1m2 0h1m1 0h2m6 0h1m1 0h3m1 0h2m1 0h1m1 0h1m4 0h1m5 0h1M0 27.5h1m2 0h1m3 0h2m5 0h1m1 0h3m1 0h2m2 0h2m4 0h1m1 0h4m1 0h2m1 0h1m2 0h2m2 0h2m2 0h1m6 0h1m2 0h1m1 0h1m6 0h1m9 0h2m6 0h1m13 0h1m3 0h2m2 0h1m1 0h4m4 0h1m2 0h1m1 0h1m1 0h3m1 0h1m2 0h1m8 0h1m2 0h1m2 0h2m2 0h2m4 0h1m5 0h1m2 0h1m6 0h2m1 0h1m1 0h1m1 0h1m1 0h2m7 0h1m1 0h1m2 0h2m3 0h1m1 0h2m6 0h2m1 0h2m2 0h1m1 0h1m1 0h1m1 0h1m1 0h1m5 0h2m1 0h3m1 0h2m3 0h1m1 0h1M1 28.5h2m2 0h5m2 0h3m1 0h1m2 0h2m1 0h1m1 0h1m1 0h1m4 0h1m1 0h3m1 0h1m2 0h1m1 0h1m3 0h1m2 0h2m3 0h2m1 0h1m1 0h1m5 0h1m2 0h1m9 0h2m7 0h1m4 0h1m2 0h2m2 0h1m2 0h1m2 0h2m1 0h1m1 0h1m1 0h3m5 0h1m6 0h1m4 0h1m1 0h1m3 0h1m1 0h1m2 0h1m2 0h5m1 0h1m3 0h1m2 0h1m1 0h1m7 0h1m3 0h1m2 0h2m4 0h1m1 0h2m2 0h1m5 0h2m2 0h3m2 0h1m2 0h2m3 0h3m2 0h1m2 0h1m2 0h1m2 0h2m6 0h2m1 0h1m2 0h3m4 0h1m8 0h1M1 29.5h1m3 0h1m1 0h1m3 0h1m1 0h1m2 0h1m1 0h2m1 0h1m2 0h1m5 0h2m1 0h2m1 0h1m3 0h2m5 0h2m5 0h1m3 0h1m3 0h1m4 0h1m4 0h1m2 0h1m1 0h1m1 0h1m10 0h1m4 0h1m5 0h1m3 0h2m4 0h4m4 0h1m5 0h1m3 0h1m2 0h2m11 0h5m5 0h1m2 0h1m8 0h1m6 0h3m1 0h1m1 0h1m2 0h2m3 0h1m4 0h3m1 0h3m2 0h1m1 0h1m1 0h1m2 0h1m1 0h2m4 0h1m1 0h1m4 0h2m1 0h1m4 0h2m4 0h4m6 0h1m4 0h1M1 30.5h1m2 0h4m2 0h1m1 0h1m1 0h5m2 0h1m1 0h1m1 0h1m4 0h2m1 0h3m2 0h2m6 0h3m4 0h1m2 0h1m19 0h1m2 0h1m14 0h2m5 0h2m1 0h1m1 0h1m2 0h4m2 0h1m1 0h1m4 0h2m3 0h1m3 0h2m11 0h2m1 0h4m6 0h2m3 0h1m1 0h1m2 0h1m5 0h3m1 0h3m1 0h1m1 0h1m1 0h1m2 0h1m3 0h3m2 0h1m2 0h1m1 0h2m1 0h1m3 0h1m5 0h2m1 0h1m5 0h1m1 0h1m4 0h2m3 0h6m1 0h1m1 0h1M0 31.5h1m3 0h2m1 0h1m1 0h2m1 0h4m1 0h1m3 0h1m1 0h2m4 0h1m1 0h4m4 0h1m3 0h1m1 0h1m1 0h1m1 0h1m5 0h1m4 0h1m5 0h1m6 0h1m5 0h1m13 0h1m1 0h1m5 0h1m1 0h4m1 0h6m6 0h1m2 0h1m3 0h1m2 0h2m2 0h1m3 0h1m3 0h2m1 0h1m2 0h2m5 0h2m1 0h1m7 0h1m8 0h3m1 0h1m2 0h1m3 0h1m4 0h3m2 0h1m3 0h1m1 0h2m1 0h2m5 0h1m1 0h2m7 0h2m1 0h1m4 0h1m4 0h1m1 0h2m3 0h3M2 32.5h1m1 0h1m2 0h1m4 0h2m1 0h2m3 0h2m1 0h2m4 0h5m3 0h2m4 0h1m10 0h1m2 0h1m1 0h1m10 0h1m1 0h1m3 0h1m1 0h1m7 0h1m5 0h1m1 0h1m2 0h1m4 0h2m1 0h7m10 0h1m7 0h1m3 0h1m6 0h1m1 0h1m2 0h3m6 0h1m2 0h1m4 0h1m4 0h1m4 0h5m1 0h1m2 0h1m1 0h1m6 0h1m1 0h2m1 0h1m1 0h1m2 0h2m1 0h3m7 0h1m8 0h3m1 0h1m2 0h1m2 0h1m1 0h4m4 0h2m3 0h1m3 0h1m1 0h1M0 33.5h2m1 0h2m5 0h1m1 0h1m1 0h1m4 0h3m1 0h1m4 0h2m1 0h1m1 0h1m1 0h1m1 0h1m2 0h1m1 0h1m3 0h1m7 0h1m1 0h2m1 0h1m12 0h1m2 0h1m1 0h1m12 0h2m1 0h1m5 0h1m1 0h2m1 0h4m1 0h2m1 0h1m3 0h2m5 0h1m5 0h2m8 0h2m1 0h1m2 0h2m1 0h1m5 0h1m3 0h1m4 0h1m3 0h2m3 0h4m1 0h1m1 0h1m5 0h1m3 0h2m1 0h1m1 0h2m2 0h4m2 0h2m3 0h1m1 0h1m1 0h1m1 0h1m2 0h1m3 0h1m1 0h3m4 0h2m1 0h3m5 0h1m1 0h1m1 0h1m5 0h2M0 34.5h3m1 0h1m1 0h1m1 0h3m1 0h1m3 0h1m1 0h4m5 0h3m7 0h1m1 0h1m4 0h2m1 0h1m4 0h2m2 0h1m1 0h1m13 0h1m2 0h1m1 0h1m12 0h1m1 0h2m5 0h1m1 0h1m2 0h4m1 0h2m4 0h1m3 0h1m7 0h3m3 0h1m4 0h2m1 0h1m1 0h1m1 0h1m1 0h2m5 0h3m3 0h1m6 0h1m3 0h3m2 0h3m3 0h1m7 0h1m2 0h1m1 0h1m1 0h1m1 0h3m2 0h1m3 0h1m5 0h1m2 0h1m5 0h3m3 0h3m1 0h2m5 0h1m1 0h1m9 0h2m1 0h1M2 35.5h1m4 0h4m1 0h1m1 0h1m2 0h5m5 0h3m4 0h1m1 0h2m4 0h1m2 0h1m6 0h2m1 0h3m7 0h1m3 0h3m18 0h1m1 0h1m1 0h1m5 0h7m2 0h2m3 0h1m2 0h1m8 0h2m1 0h1m2 0h1m5 0h1m1 0h1m1 0h1m3 0h2m1 0h1m3 0h1m1 0h1m3 0h1m4 0h3m3 0h3m1 0h5m3 0h1m3 0h2m1 0h1m1 0h1m1 0h2m1 0h3m1 0h1m1 0h2m8 0h1m8 0h4m2 0h2m1 0h2m4 0h1m1 0h1m2 0h2m8 0h2M3 36.5h1m3 0h2m1 0h1m1 0h1m1 0h2m1 0h5m5 0h3m4 0h1m8 0h1m5 0h1m1 0h2m1 0h1m1 0h1m8 0h1m2 0h1m1 0h1m19 0h1m1 0h2m5 0h8m2 0h1m3 0h1m4 0h1m2 0h1m3 0h2m2 0h1m1 0h1m3 0h1m1 0h1m1 0h3m3 0h1m1 0h1m7 0h1m5 0h1m1 0h1m5 0h1m1 0h2m2 0h1m1 0h1m2 0h3m5 0h2m2 0h2m2 0h2m1 0h4m10 0h1m3 0h1m2 0h2m2 0h1m2 0h4m2 0h1m1 0h1m2 0h1m1 0h1m3 0h1m4 0h1m1 0h2m2 0h1M2 37.5h2m3 0h2m2 0h1m1 0h2m1 0h5m7 0h1m3 0h1m1 0h1m1 0h1m5 0h1m6 0h4m8 0h1m7 0h2m10 0h1m7 0h1m1 0h3m4 0h2m1 0h5m2 0h1m5 0h1m2 0h1m6 0h2m1 0h1m1 0h3m4 0h2m1 0h1m5 0h2m2 0h1m4 0h2m1 0h1m3 0h1m2 0h1m4 0h1m1 0h1m1 0h3m1 0h1m1 0h1m1 0h2m5 0h1m1 0h1m1 0h1m2 0h3m1 0h3m4 0h1m2 0h1m1 0h1m2 0h1m4 0h2m2 0h1m1 0h5m2 0h1m1 0h1m2 0h2m1 0h1m6 0h2m1 0h1m3 0h2M1 38.5h2m3 0h3m1 0h3m1 0h7m2 0h1m2 0h1m3 0h1m1 0h1m5 0h1m2 0h1m5 0h6m2 0h1m5 0h1m6 0h2m7 0h1m10 0h2m1 0h3m3 0h2m1 0h4m1 0h1m1 0h1m1 0h1m2 0h2m3 0h1m2 0h1m2 0h1m4 0h1m1 0h2m2 0h1m1 0h2m1 0h1m1 0h1m4 0h1m1 0h1m5 0h1m2 0h1m1 0h4m3 0h1m2 0h3m1 0h3m5 0h2m2 0h1m2 0h1m1 0h1m3 0h1m1 0h5m4 0h1m11 0h1m1 0h1m3 0h7m2 0h1m4 0h3m6 0h1m1 0h1m1 0h1m2 0h1M0 39.5h2m4 0h4m1 0h3m1 0h5m2 0h1m1 0h1m3 0h2m11 0h1m3 0h1m1 0h5m1 0h1m9 0h1m5 0h1m6 0h1m2 0h1m8 0h2m1 0h1m2 0h1m1 0h2m1 0h1m2 0h4m3 0h1m2 0h1m3 0h1m3 0h2m4 0h4m5 0h2m2 0h1m6 0h3m5 0h1m1 0h1m3 0h1m6 0h1m1 0h1m1 0h1m1 0h1m1 0h1m4 0h2m3 0h1m1 0h1m1 0h1m3 0h1m1 0h1m1 0h3m4 0h1m8 0h1m1 0h2m2 0h1m2 0h4m1 0h1m2 0h1m2 0h1m2 0h3m7 0h2m7 0h1M0 40.5h1m1 0h1m3 0h2m3 0h6m1 0h1m1 0h1m3 0h1m3 0h1m7 0h1m8 0h3m2 0h3m1 0h1m7 0h1m12 0h1m1 0h1m8 0h4m1 0h2m2 0h1m1 0h3m1 0h3m1 0h1m1 0h3m2 0h1m3 0h1m4 0h1m3 0h1m1 0h1m1 0h2m3 0h3m1 0h2m1 0h1m3 0h3m5 0h2m4 0h2m4 0h1m3 0h1m1 0h2m1 0h1m1 0h1m1 0h3m3 0h1m1 0h2m1 0h2m2 0h2m1 0h3m11 0h1m2 0h3m6 0h6m1 0h2m1 0h1m3 0h2m3 0h2m2 0h1m1 0h1m2 0h1m3 0h1M4 41.5h1m1 0h1m2 0h3m1 0h3m3 0h2m2 0h1m3 0h2m7 0h1m6 0h1m1 0h2m3 0h2m13 0h1m10 0h1m10 0h2m1 0h3m2 0h1m2 0h1m2 0h2m2 0h2m1 0h2m6 0h1m3 0h1m3 0h2m3 0h1m2 0h2m1 0h1m3 0h1m4 0h4m4 0h1m1 0h2m1 0h3m5 0h1m2 0h2m1 0h2m3 0h3m4 0h3m1 0h3m2 0h1m1 0h4m17 0h1m4 0h6m3 0h2m1 0h1m1 0h3m2 0h2m4 0h1m6 0h2M4 42.5h2m1 0h1m1 0h6m2 0h3m7 0h1m5 0h2m1 0h1m4 0h2m2 0h1m2 0h4m1 0h1m17 0h1m1 0h1m2 0h1m8 0h3m1 0h3m3 0h1m1 0h2m1 0h2m2 0h2m1 0h2m2 0h1m3 0h1m3 0h1m3 0h2m1 0h1m6 0h2m3 0h1m3 0h2m1 0h2m1 0h1m2 0h1m1 0h3m2 0h1m3 0h1m5 0h3m4 0h2m6 0h1m1 0h2m1 0h2m3 0h2m1 0h3m5 0h1m3 0h3m2 0h1m1 0h1m3 0h1m1 0h2m1 0h2m1 0h3m4 0h2m2 0h2m1 0h1m5 0h1m1 0h1m1 0h1M3 43.5h2m1 0h4m1 0h3m2 0h2m2 0h2m1 0h1m2 0h2m4 0h1m6 0h2m1 0h1m2 0h1m2 0h1m1 0h2m10 0h1m7 0h1m3 0h2m3 0h1m5 0h5m1 0h1m2 0h1m2 0h1m2 0h2m1 0h7m2 0h1m4 0h1m5 0h1m1 0h1m5 0h3m2 0h1m1 0h1m2 0h5m6 0h3m2 0h1m4 0h1m4 0h3m3 0h3m1 0h1m3 0h1m1 0h2m3 0h1m3 0h1m2 0h2m10 0h3m2 0h2m4 0h2m4 0h5m1 0h1m2 0h3m2 0h1m1 0h2m3 0h2m1 0h1m1 0h1m1 0h1m2 0h1M3 44.5h2m1 0h3m1 0h1m1 0h2m1 0h1m1 0h1m1 0h1m9 0h1m1 0h2m5 0h1m5 0h1m2 0h4m3 0h1m2 0h1m6 0h1m3 0h1m4 0h1m2 0h1m1 0h1m1 0h1m3 0h4m2 0h1m2 0h1m3 0h2m1 0h3m1 0h1m1 0h3m2 0h1m2 0h1m2 0h1m3 0h2m2 0h2m3 0h3m7 0h1m1 0h1m2 0h1m1 0h1m5 0h2m1 0h1m3 0h1m1 0h1m3 0h1m1 0h2m2 0h3m6 0h4m2 0h1m2 0h1m2 0h2m1 0h1m5 0h1m4 0h1m4 0h2m2 0h1m1 0h1m2 0h1m1 0h1m1 0h1m2 0h2m2 0h2m1 0h1m1 0h1m1 0h1m1 0h1m2 0h1m2 0h2m1 0h2m1 0h1M2 45.5h7m2 0h3m1 0h1m1 0h1m1 0h2m2 0h1m3 0h1m2 0h2m3 0h1m2 0h1m5 0h1m1 0h1m1 0h2m3 0h1m14 0h3m1 0h1m2 0h1m8 0h4m1 0h2m5 0h1m1 0h1m1 0h4m1 0h4m1 0h1m4 0h1m5 0h1m1 0h3m3 0h3m3 0h1m2 0h2m3 0h2m6 0h3m1 0h2m2 0h1m7 0h2m2 0h4m3 0h1m3 0h2m3 0h1m1 0h1m2 0h2m1 0h1m5 0h1m2 0h1m10 0h1m5 0h4m2 0h3m2 0h2m3 0h2m3 0h1m3 0h2m3 0h1m3 0h1M1 46.5h6m1 0h1m1 0h2m2 0h2m1 0h1m2 0h1m8 0h2m3 0h2m2 0h1m3 0h1m1 0h2m1 0h2m3 0h2m13 0h2m3 0h1m1 0h1m5 0h1m2 0h3m3 0h1m4 0h1m2 0h1m1 0h3m2 0h1m1 0h3m9 0h1m3 0h2m6 0h1m4 0h1m1 0h3m2 0h1m1 0h1m5 0h3m1 0h1m3 0h1m3 0h1m2 0h1m1 0h1m1 0h5m2 0h1m2 0h1m1 0h2m3 0h1m3 0h1m1 0h2m2 0h1m9 0h1m2 0h1m1 0h1m2 0h1m4 0h2m1 0h1m2 0h4m2 0h2m4 0h1m4 0h1m2 0h2m3 0h1m3 0h2M0 47.5h5m2 0h1m2 0h2m1 0h2m2 0h1m1 0h1m6 0h1m2 0h1m2 0h1m1 0h1m2 0h1m4 0h1m2 0h1m1 0h1m1 0h1m2 0h1m14 0h2m2 0h1m6 0h1m2 0h1m1 0h1m1 0h1m2 0h1m2 0h1m6 0h5m2 0h3m2 0h2m3 0h1m2 0h1m2 0h1m7 0h2m3 0h2m2 0h1m1 0h3m7 0h1m1 0h3m1 0h2m3 0h1m3 0h2m1 0h1m1 0h2m3 0h1m3 0h3m2 0h1m12 0h1m8 0h1m1 0h3m2 0h2m3 0h7m1 0h2m2 0h3m3 0h1m5 0h1m1 0h2m2 0h1M0 48.5h3m3 0h1m3 0h1m1 0h3m1 0h1m1 0h2m7 0h1m3 0h1m5 0h1m3 0h1m2 0h2m1 0h1m4 0h1m7 0h1m5 0h2m3 0h1m2 0h1m4 0h1m3 0h1m1 0h1m2 0h1m3 0h1m5 0h1m1 0h2m2 0h3m3 0h1m3 0h2m4 0h1m2 0h1m1 0h1m3 0h2m3 0h1m1 0h1m2 0h1m1 0h2m3 0h1m4 0h2m1 0h3m2 0h2m3 0h1m1 0h2m2 0h1m3 0h5m1 0h1m1 0h1m1 0h1m2 0h1m1 0h1m14 0h1m2 0h3m3 0h1m3 0h3m1 0h2m1 0h4m3 0h2m3 0h1m3 0h2m1 0h2m2 0h1m2 0h1m2 0h2M0 49.5h2m4 0h1m1 0h1m1 0h1m1 0h2m4 0h2m7 0h1m1 0h2m3 0h1m6 0h1m2 0h1m1 0h2m18 0h2m3 0h1m2 0h1m2 0h2m2 0h1m2 0h1m2 0h1m2 0h2m2 0h1m3 0h1m1 0h1m3 0h2m2 0h2m3 0h1m5 0h1m2 0h1m1 0h1m3 0h1m3 0h5m1 0h3m5 0h1m3 0h2m1 0h3m2 0h2m4 0h3m1 0h1m5 0h2m1 0h1m1 0h1m2 0h1m1 0h2m9 0h1m9 0h3m1 0h1m2 0h1m4 0h2m2 0h1m1 0h4m2 0h1m1 0h1m3 0h1m2 0h1m2 0h2m1 0h1m1 0h1m1 0h1M0 50.5h2m5 0h2m1 0h2m1 0h2m2 0h2m6 0h1m1 0h1m1 0h1m5 0h1m6 0h1m1 0h2m1 0h1m11 0h1m5 0h1m6 0h1m1 0h1m1 0h2m1 0h1m2 0h1m2 0h2m3 0h1m2 0h2m2 0h2m1 0h1m2 0h2m6 0h1m7 0h2m1 0h1m4 0h1m4 0h1m1 0h2m1 0h2m6 0h1m3 0h1m2 0h2m5 0h1m2 0h1m1 0h2m6 0h4m4 0h3m2 0h1m1 0h1m4 0h1m11 0h4m4 0h2m2 0h1m4 0h3m1 0h1m1 0h1m6 0h1m2 0h1m4 0h1m1 0h1m2 0h1m2 0h1m2 0h1M0 51.5h1m5 0h2m1 0h3m1 0h1m3 0h3m5 0h2m1 0h1m1 0h1m1 0h1m4 0h2m2 0h1m3 0h1m14 0h1m3 0h2m1 0h1m3 0h1m1 0h2m1 0h1m2 0h3m2 0h1m4 0h1m2 0h2m1 0h2m2 0h2m8 0h1m8 0h2m1 0h1m2 0h1m6 0h3m2 0h1m2 0h1m7 0h3m1 0h2m2 0h1m1 0h1m1 0h1m4 0h2m3 0h2m1 0h1m2 0h1m2 0h1m1 0h4m2 0h1m5 0h1m8 0h2m2 0h2m5 0h1m3 0h3m2 0h4m1 0h1m5 0h1m2 0h1m1 0h1m2 0h1m2 0h2m1 0h1m6 0h1M3 52.5h2m1 0h1m1 0h2m2 0h1m3 0h1m6 0h2m1 0h3m6 0h2m3 0h1m2 0h1m6 0h1m3 0h1m5 0h1m2 0h2m5 0h4m2 0h1m2 0h1m6 0h1m3 0h2m1 0h2m5 0h2m2 0h2m1 0h1m2 0h1m6 0h3m4 0h1m4 0h1m1 0h5m1 0h2m6 0h1m1 0h1m2 0h2m1 0h1m3 0h1m5 0h2m3 0h1m2 0h1m2 0h1m4 0h3m3 0h1m5 0h1m8 0h3m1 0h3m1 0h1m1 0h1m6 0h1m1 0h1m1 0h3m2 0h1m6 0h1m1 0h2m3 0h4m3 0h1m4 0h1M2 53.5h1m1 0h1m2 0h2m1 0h1m1 0h1m2 0h1m1 0h1m5 0h1m1 0h4m2 0h1m1 0h3m2 0h1m6 0h1m9 0h1m3 0h2m2 0h1m6 0h3m2 0h1m1 0h1m7 0h1m3 0h1m2 0h1m1 0h1m3 0h1m1 0h1m3 0h1m12 0h3m10 0h4m2 0h1m12 0h3m1 0h2m2 0h1m4 0h2m3 0h2m1 0h1m2 0h2m2 0h2m1 0h3m1 0h1m5 0h1m9 0h2m1 0h3m3 0h1m3 0h1m3 0h6m1 0h1m3 0h1m1 0h1m3 0h2m3 0h4m6 0h1m1 0h1m2 0h1M0 54.5h1m1 0h2m1 0h1m1 0h1m7 0h1m5 0h2m1 0h4m3 0h1m1 0h1m1 0h2m2 0h1m4 0h1m1 0h1m2 0h1m3 0h1m1 0h1m3 0h2m1 0h1m6 0h3m3 0h2m3 0h2m11 0h1m2 0h4m2 0h2m1 0h2m7 0h1m2 0h2m5 0h1m5 0h2m2 0h2m1 0h1m2 0h1m2 0h1m3 0h3m2 0h4m1 0h1m4 0h1m2 0h3m1 0h1m1 0h3m1 0h2m3 0h1m2 0h1m10 0h1m1 0h1m2 0h1m1 0h2m1 0h1m2 0h2m3 0h1m4 0h3m2 0h1m4 0h2m3 0h2m5 0h3m3 0h1m7 0h1M0 55.5h3m1 0h1m1 0h1m2 0h1m4 0h1m6 0h1m1 0h4m3 0h1m3 0h1m3 0h1m4 0h2m7 0h1m5 0h3m8 0h2m4 0h1m3 0h1m2 0h1m2 0h1m6 0h2m1 0h4m6 0h1m11 0h1m4 0h2m4 0h3m1 0h2m13 0h1m1 0h1m2 0h2m4 0h1m6 0h2m1 0h2m3 0h4m1 0h1m3 0h1m5 0h1m10 0h1m1 0h3m3 0h2m2 0h2m3 0h3m1 0h2m3 0h4m3 0h2m2 0h2m1 0h1m4 0h1m5 0h1m1 0h2M3 56.5h1m1 0h2m1 0h1m3 0h1m3 0h1m1 0h1m3 0h3m1 0h1m1 0h1m1 0h1m2 0h1m1 0h1m1 0h1m5 0h1m5 0h2m3 0h2m2 0h2m2 0h1m6 0h2m4 0h1m2 0h1m1 0h1m9 0h2m3 0h2m1 0h1m5 0h2m11 0h1m3 0h2m1 0h1m2 0h1m2 0h3m12 0h1m1 0h3m1 0h3m3 0h1m4 0h1m1 0h2m1 0h2m1 0h1m2 0h3m4 0h1m6 0h1m4 0h1m3 0h1m2 0h1m1 0h1m1 0h1m3 0h2m1 0h3m2 0h4m3 0h1m3 0h1m1 0h1m2 0h1m1 0h1m1 0h1m1 0h1m1 0h1m1 0h2m2 0h1m1 0h1m3 0h2m2 0h1M1 57.5h2m2 0h2m3 0h1m3 0h1m6 0h3m1 0h2m1 0h1m4 0h1m1 0h1m6 0h1m6 0h1m3 0h1m2 0h1m1 0h1m8 0h4m3 0h1m3 0h1m10 0h1m1 0h1m2 0h1m2 0h2m4 0h1m1 0h1m3 0h1m6 0h2m1 0h3m2 0h1m4 0h3m2 0h1m10 0h1m1 0h2m1 0h2m4 0h2m2 0h2m3 0h2m1 0h1m3 0h2m3 0h1m1 0h1m6 0h1m4 0h1m3 0h1m4 0h3m3 0h2m1 0h1m5 0h3m1 0h4m2 0h1m1 0h1m4 0h1m1 0h2m2 0h1m2 0h1m1 0h1m5 0h4m1 0h1M4 58.5h1m2 0h1m4 0h1m5 0h1m2 0h4m1 0h2m1 0h1m3 0h1m1 0h1m9 0h1m1 0h2m2 0h1m2 0h1m4 0h1m5 0h1m2 0h2m3 0h2m1 0h1m12 0h2m1 0h1m3 0h1m1 0h1m4 0h1m3 0h1m1 0h1m5 0h2m1 0h1m3 0h1m5 0h2m4 0h1m10 0h3m1 0h1m3 0h1m1 0h2m5 0h1m1 0h3m4 0h2m1 0h1m1 0h2m7 0h1m4 0h1m3 0h2m4 0h2m4 0h2m4 0h1m1 0h3m2 0h1m1 0h1m2 0h3m5 0h2m3 0h1m4 0h2m2 0h1m1 0h1m1 0h1m2 0h1m1 0h1M2 59.5h1m2 0h2m2 0h1m2 0h1m4 0h2m1 0h7m1 0h1m2 0h1m1 0h1m3 0h1m6 0h2m3 0h1m1 0h1m2 0h1m3 0h1m4 0h2m1 0h1m1 0h1m2 0h1m2 0h1m1 0h1m1 0h1m10 0h2m2 0h1m3 0h2m2 0h2m5 0h1m5 0h4m3 0h1m1 0h1m2 0h1m3 0h2m2 0h1m9 0h4m1 0h1m3 0h1m4 0h1m3 0h4m2 0h1m3 0h1m3 0h1m8 0h1m2 0h1m1 0h1m3 0h1m4 0h2m3 0h2m1 0h1m2 0h1m2 0h7m3 0h2m1 0h1m4 0h2m5 0h2m2 0h1m3 0h3m1 0h4M0 60.5h2m2 0h2m2 0h1m1 0h2m4 0h1m2 0h4m1 0h4m4 0h1m3 0h1m5 0h3m3 0h3m7 0h1m3 0h1m1 0h1m7 0h2m12 0h1m2 0h1m2 0h1m2 0h1m1 0h1m3 0h1m2 0h2m1 0h1m4 0h1m1 0h4m4 0h1m1 0h1m3 0h3m4 0h1m2 0h1m5 0h4m7 0h1m5 0h3m1 0h1m1 0h1m3 0h2m2 0h2m3 0h1m3 0h1m4 0h1m3 0h1m1 0h1m1 0h3m4 0h1m1 0h1m3 0h1m1 0h2m1 0h1m1 0h2m3 0h2m1 0h1m6 0h1m5 0h2m1 0h1m2 0h1m1 0h2m1 0h1m1 0h1M1 61.5h1m4 0h1m12 0h2m1 0h1m1 0h1m1 0h1m4 0h2m3 0h1m4 0h1m1 0h1m1 0h1m2 0h1m1 0h1m2 0h1m10 0h1m2 0h1m2 0h3m6 0h1m4 0h1m3 0h1m1 0h1m1 0h1m2 0h1m1 0h1m5 0h2m7 0h3m1 0h1m6 0h1m3 0h3m3 0h1m4 0h1m4 0h5m7 0h1m3 0h1m1 0h2m1 0h1m6 0h1m3 0h1m3 0h1m8 0h1m3 0h3m2 0h2m2 0h1m3 0h1m3 0h1m1 0h2m1 0h3m4 0h3m1 0h1m6 0h1m3 0h2m2 0h4m1 0h5m1 0h1m2 0h1M0 62.5h1m3 0h3m7 0h1m4 0h4m1 0h1m1 0h1m3 0h1m3 0h1m6 0h1m1 0h3m1 0h3m2 0h1m10 0h1m1 0h1m1 0h1m2 0h2m7 0h1m2 0h1m3 0h1m1 0h1m5 0h2m1 0h1m4 0h1m10 0h2m8 0h1m3 0h2m1 0h1m2 0h1m9 0h3m4 0h1m2 0h3m3 0h3m1 0h2m5 0h2m1 0h3m3 0h1m3 0h1m1 0h2m2 0h1m2 0h1m4 0h1m2 0h1m3 0h1m4 0h3m1 0h3m4 0h3m2 0h1m3 0h1m2 0h1m2 0h1m4 0h3m2 0h1m1 0h1m1 0h1m5 0h1M3 63.5h2m3 0h1m5 0h2m2 0h4m2 0h1m1 0h1m1 0h1m2 0h1m8 0h4m2 0h2m4 0h2m1 0h1m8 0h2m3 0h1m4 0h1m3 0h1m3 0h1m2 0h2m2 0h1m4 0h1m1 0h2m3 0h1m10 0h1m8 0h2m3 0h1m2 0h1m2 0h2m7 0h4m4 0h1m3 0h2m4 0h1m1 0h3m3 0h1m2 0h1m1 0h1m1 0h2m9 0h3m4 0h3m1 0h2m1 0h1m1 0h1m7 0h1m1 0h5m1 0h1m1 0h3m6 0h1m3 0h2m5 0h3m2 0h2m2 0h3m2 0h2M2 64.5h3m3 0h1m3 0h2m3 0h4m4 0h2m5 0h1m2 0h1m4 0h3m2 0h2m1 0h1m2 0h1m10 0h3m4 0h1m7 0h2m5 0h1m2 0h1m4 0h4m2 0h1m1 0h1m9 0h1m1 0h2m7 0h1m2 0h1m2 0h2m3 0h2m6 0h4m1 0h2m1 0h1m3 0h3m3 0h1m2 0h2m5 0h1m1 0h1m1 0h2m11 0h2m4 0h3m2 0h1m10 0h3m1 0h4m2 0h1m1 0h1m1 0h1m3 0h1m2 0h1m2 0h1m5 0h6m1 0h1m1 0h4m1 0h2M1 65.5h3m4 0h1m2 0h1m3 0h2m1 0h1m5 0h2m5 0h1m1 0h1m2 0h1m2 0h3m5 0h1m2 0h2m9 0h3m1 0h1m8 0h1m1 0h3m4 0h1m2 0h1m4 0h3m3 0h1m10 0h1m2 0h1m2 0h1m5 0h1m1 0h2m3 0h1m1 0h1m1 0h1m1 0h1m4 0h1m1 0h5m4 0h1m1 0h3m3 0h1m3 0h2m4 0h2m1 0h1m1 0h1m4 0h1m2 0h1m3 0h1m4 0h2m1 0h2m1 0h2m2 0h1m1 0h1m5 0h2m1 0h4m1 0h2m3 0h1m3 0h2m2 0h1m2 0h1m5 0h5m1 0h1m2 0h3m6 0h1M0 66.5h3m9 0h1m1 0h1m7 0h3m5 0h1m8 0h2m5 0h2m3 0h1m6 0h1m2 0h4m5 0h2m1 0h1m3 0h1m12 0h2m4 0h1m5 0h1m5 0h2m2 0h1m7 0h2m3 0h2m1 0h6m5 0h4m6 0h1m1 0h2m3 0h1m3 0h1m1 0h1m1 0h1m2 0h2m1 0h1m6 0h1m3 0h1m4 0h1m1 0h1m2 0h3m2 0h2m2 0h1m3 0h1m1 0h3m1 0h4m1 0h1m1 0h1m4 0h1m4 0h1m1 0h1m6 0h3m1 0h2m2 0h4m4 0h1m2 0h1M1 67.5h1m5 0h1m5 0h1m4 0h1m1 0h3m1 0h2m4 0h1m2 0h1m3 0h4m4 0h1m1 0h1m3 0h1m2 0h1m3 0h1m2 0h1m2 0h1m1 0h1m2 0h2m3 0h1m7 0h1m6 0h2m2 0h1m13 0h2m2 0h1m7 0h1m2 0h2m1 0h1m3 0h1m1 0h1m5 0h1m2 0h2m4 0h1m2 0h1m1 0h1m3 0h1m2 0h1m1 0h4m1 0h3m1 0h2m3 0h1m1 0h1m3 0h1m1 0h1m2 0h1m2 0h2m1 0h2m2 0h2m3 0h1m3 0h3m1 0h4m4 0h1m5 0h1m5 0h1m6 0h2m2 0h2m2 0h4m3 0h2m3 0h1M0 68.5h1m2 0h1m1 0h2m3 0h2m1 0h1m3 0h1m2 0h2m3 0h1m5 0h2m3 0h1m1 0h2m4 0h2m1 0h1m2 0h1m3 0h1m4 0h1m2 0h1m1 0h1m4 0h1m2 0h1m3 0h1m1 0h1m8 0h2m3 0h1m13 0h1m3 0h1m10 0h2m1 0h1m4 0h1m1 0h1m3 0h1m1 0h2m1 0h2m1 0h1m2 0h1m4 0h1m7 0h1m1 0h1m3 0h3m3 0h1m3 0h1m3 0h2m2 0h3m2 0h2m3 0h1m1 0h2m3 0h1m2 0h3m1 0h4m1 0h1m2 0h1m6 0h1m3 0h1m1 0h1m4 0h1m2 0h1m2 0h3m2 0h3m1 0h1m2 0h1m2 0h2M3 69.5h1m7 0h1m4 0h1m2 0h2m3 0h1m5 0h2m3 0h4m2 0h4m1 0h1m1 0h1m1 0h1m2 0h1m3 0h1m3 0h3m4 0h1m1 0h1m1 0h1m4 0h2m4 0h1m1 0h5m4 0h1m10 0h1m3 0h1m7 0h1m1 0h2m1 0h3m4 0h3m4 0h2m1 0h1m4 0h2m3 0h3m2 0h1m3 0h2m1 0h2m1 0h3m2 0h1m1 0h1m1 0h2m3 0h2m3 0h2m3 0h1m4 0h2m1 0h1m1 0h1m1 0h1m2 0h2m1 0h5m2 0h1m1 0h1m4 0h1m4 0h3m6 0h1m2 0h5m1 0h2m2 0h1m2 0h2m1 0h3M2 70.5h1m1 0h1m4 0h2m2 0h1m5 0h2m2 0h2m3 0h2m1 0h2m1 0h1m1 0h2m4 0h4m2 0h2m2 0h1m4 0h1m2 0h1m1 0h1m7 0h1m5 0h1m1 0h1m2 0h2m2 0h3m5 0h1m6 0h1m3 0h1m2 0h1m8 0h1m2 0h1m1 0h2m5 0h2m1 0h1m1 0h3m1 0h2m4 0h1m4 0h2m1 0h1m1 0h1m2 0h2m2 0h1m1 0h1m1 0h1m3 0h2m3 0h1m3 0h2m2 0h1m1 0h2m1 0h2m4 0h1m1 0h1m4 0h2m1 0h1m1 0h4m1 0h1m2 0h1m8 0h1m3 0h1m4 0h1m3 0h1m1 0h1m1 0h5m2 0h1m3 0h3m1 0h3M3 71.5h1m3 0h1m7 0h1m2 0h2m3 0h2m3 0h2m2 0h1m2 0h1m2 0h1m3 0h1m1 0h1m1 0h4m11 0h2m1 0h1m5 0h1m5 0h2m2 0h2m2 0h2m1 0h1m12 0h1m1 0h1m1 0h2m10 0h2m2 0h3m4 0h2m1 0h1m1 0h4m2 0h1m2 0h2m4 0h2m1 0h1m3 0h2m1 0h1m2 0h4m2 0h1m1 0h1m2 0h1m1 0h1m2 0h1m4 0h2m1 0h2m2 0h1m3 0h1m1 0h1m3 0h2m2 0h4m1 0h1m1 0h1m2 0h1m5 0h2m3 0h3m3 0h1m4 0h1m2 0h5m2 0h1m3 0h3m2 0h1m1 0h1M3 72.5h1m2 0h1m5 0h1m1 0h1m2 0h1m1 0h1m3 0h2m2 0h1m2 0h1m2 0h1m1 0h1m5 0h1m3 0h4m3 0h1m1 0h1m3 0h1m2 0h1m7 0h1m6 0h3m3 0h1m2 0h1m13 0h1m3 0h2m10 0h1m2 0h5m2 0h3m3 0h1m1 0h2m2 0h1m2 0h1m3 0h1m2 0h1m2 0h1m1 0h3m3 0h6m1 0h2m3 0h1m2 0h1m4 0h1m1 0h1m2 0h1m4 0h1m3 0h2m3 0h2m1 0h1m1 0h1m1 0h2m1 0h2m2 0h1m6 0h1m2 0h1m2 0h1m8 0h1m2 0h1m1 0h1m1 0h1m1 0h1m1 0h1m3 0h2m2 0h1m2 0h1M1 73.5h3m10 0h1m4 0h1m2 0h2m5 0h3m2 0h1m5 0h2m2 0h5m3 0h1m4 0h1m3 0h2m5 0h1m7 0h3m7 0h1m4 0h1m7 0h1m2 0h2m14 0h1m1 0h1m5 0h2m1 0h4m5 0h1m3 0h2m2 0h1m2 0h1m2 0h2m2 0h2m2 0h3m1 0h2m3 0h1m2 0h1m1 0h1m2 0h1m2 0h1m2 0h1m8 0h1m3 0h3m1 0h1m1 0h1m1 0h1m1 0h1m1 0h1m13 0h1m7 0h2m4 0h4m1 0h1m1 0h2m2 0h4m1 0h2M0 74.5h3m11 0h1m2 0h1m1 0h1m1 0h3m3 0h1m1 0h1m1 0h1m1 0h2m4 0h2m2 0h5m4 0h1m7 0h2m12 0h4m1 0h1m4 0h2m10 0h1m2 0h3m7 0h1m6 0h1m1 0h2m6 0h1m1 0h3m3 0h1m2 0h1m2 0h3m2 0h1m1 0h2m2 0h1m1 0h1m2 0h1m1 0h1m1 0h1m1 0h1m1 0h1m2 0h2m1 0h1m1 0h1m1 0h1m1 0h1m2 0h1m2 0h2m1 0h1m6 0h2m1 0h3m2 0h1m3 0h2m1 0h2m11 0h1m9 0h1m4 0h4m1 0h3m3 0h3m1 0h2m1 0h1M0 75.5h1m5 0h1m6 0h1m1 0h1m2 0h2m2 0h1m1 0h1m4 0h1m1 0h2m1 0h1m4 0h8m13 0h1m12 0h5m3 0h1m1 0h3m9 0h1m2 0h3m4 0h1m7 0h1m1 0h1m2 0h1m1 0h1m4 0h2m1 0h3m1 0h1m2 0h1m4 0h3m3 0h2m3 0h2m1 0h1m3 0h1m1 0h1m1 0h1m4 0h2m1 0h1m1 0h3m3 0h2m2 0h2m7 0h2m1 0h3m3 0h1m3 0h1m2 0h1m8 0h1m4 0h1m2 0h1m3 0h3m4 0h1m2 0h2m1 0h1m3 0h2m2 0h2m1 0h1m2 0h1M0 76.5h1m13 0h1m2 0h3m1 0h1m4 0h1m1 0h3m1 0h1m5 0h6m1 0h1m5 0h1m6 0h3m8 0h1m3 0h5m6 0h2m8 0h1m2 0h3m7 0h1m5 0h1m1 0h2m4 0h1m3 0h1m1 0h1m1 0h1m3 0h1m6 0h2m2 0h4m1 0h4m4 0h4m5 0h3m2 0h1m1 0h1m4 0h1m2 0h2m2 0h1m4 0h1m1 0h5m2 0h2m1 0h1m2 0h3m3 0h1m4 0h1m3 0h1m3 0h1m2 0h3m3 0h1m2 0h6m2 0h1m1 0h1m1 0h1m2 0h2m1 0h2M6 77.5h1m7 0h2m1 0h1m2 0h1m4 0h1m1 0h4m6 0h1m1 0h2m1 0h1m1 0h1m5 0h2m2 0h1m2 0h2m4 0h1m1 0h1m6 0h5m3 0h1m3 0h1m3 0h1m6 0h4m15 0h1m3 0h1m2 0h2m1 0h3m1 0h1m4 0h1m5 0h2m1 0h1m2 0h2m2 0h3m5 0h2m6 0h3m2 0h1m1 0h2m2 0h1m1 0h1m1 0h2m2 0h2m3 0h1m1 0h1m1 0h3m3 0h2m4 0h2m3 0h1m1 0h1m2 0h1m2 0h2m1 0h1m5 0h1m5 0h1m2 0h3m2 0h1m2 0h1m4 0h1m1 0h2m2 0h1M13 78.5h3m7 0h1m3 0h4m4 0h1m2 0h2m1 0h1m1 0h1m6 0h2m4 0h2m7 0h1m6 0h3m1 0h2m1 0h1m3 0h1m2 0h1m9 0h2m4 0h1m1 0h1m4 0h1m2 0h3m2 0h1m2 0h2m2 0h1m2 0h1m4 0h1m5 0h1m2 0h1m1 0h3m1 0h1m1 0h1m6 0h1m1 0h1m3 0h1m1 0h1m1 0h2m1 0h1m1 0h2m2 0h2m1 0h2m2 0h1m5 0h1m1 0h2m2 0h2m3 0h2m3 0h2m3 0h1m4 0h1m2 0h1m2 0h2m2 0h1m2 0h1m4 0h1m2 0h3m3 0h2m1 0h1m2 0h1m2 0h2m2 0h2M5 79.5h1m4 0h1m1 0h1m1 0h3m6 0h1m3 0h3m4 0h1m2 0h2m1 0h1m2 0h2m5 0h1m3 0h1m1 0h1m15 0h2m2 0h2m1 0h1m7 0h1m7 0h4m2 0h1m3 0h1m5 0h1m7 0h3m1 0h2m7 0h2m4 0h1m1 0h2m1 0h3m2 0h2m6 0h2m5 0h4m2 0h1m2 0h2m2 0h1m1 0h1m3 0h1m5 0h2m2 0h1m1 0h1m3 0h2m3 0h2m2 0h1m9 0h1m2 0h1m4 0h1m1 0h1m1 0h1m2 0h1m2 0h3m2 0h2m1 0h1m1 0h2m2 0h3m1 0h3M3 80.5h1m9 0h3m4 0h1m1 0h2m1 0h4m1 0h1m3 0h1m1 0h1m2 0h2m1 0h2m5 0h2m2 0h2m2 0h1m4 0h1m7 0h1m2 0h2m1 0h3m11 0h1m4 0h2m1 0h1m6 0h1m5 0h1m3 0h2m3 0h1m2 0h1m8 0h1m4 0h3m1 0h3m1 0h2m1 0h1m7 0h2m2 0h1m1 0h3m1 0h1m1 0h1m1 0h3m2 0h4m5 0h1m3 0h1m1 0h2m11 0h2m1 0h1m9 0h1m3 0h1m2 0h1m3 0h1m1 0h2m3 0h1m1 0h1m3 0h2m1 0h1m4 0h2m1 0h2m1 0h2M2 81.5h1m4 0h1m4 0h2m6 0h3m2 0h3m7 0h1m4 0h3m5 0h1m3 0h1m7 0h1m10 0h2m2 0h3m15 0h3m2 0h2m5 0h1m8 0h1m3 0h1m1 0h2m1 0h1m8 0h1m3 0h2m1 0h6m1 0h1m4 0h1m4 0h1m3 0h3m1 0h2m1 0h1m1 0h2m3 0h3m3 0h1m2 0h2m5 0h1m3 0h2m1 0h1m1 0h2m1 0h3m1 0h1m8 0h2m6 0h1m3 0h1m1 0h1m6 0h1m1 0h1m1 0h1m6 0h2m1 0h3m1 0h2M0 82.5h3m8 0h2m1 0h1m4 0h2m3 0h3m1 0h1m2 0h1m3 0h1m2 0h2m1 0h1m3 0h1m3 0h1m10 0h1m8 0h3m2 0h4m8 0h1m5 0h1m1 0h4m5 0h3m8 0h1m1 0h3m2 0h2m6 0h3m3 0h3m1 0h4m1 0h2m4 0h1m3 0h1m3 0h1m1 0h1m2 0h1m1 0h2m6 0h3m6 0h2m4 0h3m1 0h1m2 0h1m2 0h2m2 0h2m2 0h1m6 0h1m1 0h1m4 0h1m2 0h2m1 0h3m5 0h1m1 0h1m3 0h2m1 0h2m1 0h3m1 0h2m2 0h1M0 83.5h2m1 0h1m4 0h1m2 0h2m6 0h2m2 0h2m3 0h1m5 0h1m2 0h1m1 0h1m1 0h1m1 0h1m4 0h1m1 0h1m2 0h1m10 0h1m3 0h2m3 0h1m1 0h2m15 0h1m1 0h3m5 0h2m4 0h1m4 0h1m3 0h1m3 0h1m6 0h1m5 0h1m1 0h2m1 0h7m3 0h2m2 0h1m1 0h1m3 0h1m1 0h1m1 0h4m5 0h4m4 0h2m5 0h1m3 0h1m1 0h2m3 0h2m1 0h2m2 0h2m6 0h2m3 0h2m2 0h2m2 0h2m5 0h1m1 0h2m3 0h1m1 0h2m1 0h3m1 0h2m2 0h2M1 84.5h1m2 0h1m4 0h1m1 0h2m5 0h2m2 0h2m3 0h1m5 0h1m3 0h1m1 0h1m2 0h1m2 0h2m5 0h1m6 0h1m4 0h1m2 0h2m2 0h1m1 0h3m7 0h1m4 0h1m4 0h3m5 0h1m1 0h1m3 0h2m3 0h2m2 0h1m1 0h1m8 0h1m1 0h1m3 0h1m2 0h1m1 0h7m2 0h1m1 0h1m3 0h1m1 0h1m1 0h2m2 0h3m1 0h1m2 0h1m2 0h4m3 0h3m8 0h1m7 0h4m3 0h1m8 0h1m6 0h3m1 0h3m7 0h1m2 0h1m2 0h3m1 0h3m1 0h2m1 0h1m1 0h1M10 85.5h1m1 0h1m7 0h1m1 0h1m3 0h2m1 0h1m2 0h2m2 0h2m1 0h1m2 0h3m18 0h1m1 0h1m3 0h1m2 0h3m1 0h1m5 0h1m3 0h1m2 0h1m2 0h3m2 0h2m13 0h1m1 0h1m6 0h1m4 0h1m5 0h1m3 0h2m1 0h4m1 0h1m1 0h1m5 0h1m2 0h1m1 0h1m1 0h1m1 0h1m1 0h1m3 0h2m1 0h1m1 0h1m1 0h1m1 0h1m3 0h1m2 0h1m5 0h1m3 0h1m2 0h3m1 0h1m1 0h1m4 0h1m4 0h1m5 0h2m1 0h1m2 0h2m2 0h1m3 0h1m1 0h1m4 0h4m1 0h5m3 0h1M5 86.5h1m1 0h1m1 0h1m1 0h1m2 0h1m4 0h2m1 0h1m3 0h2m4 0h1m2 0h2m2 0h1m1 0h2m6 0h1m3 0h1m9 0h1m5 0h1m1 0h1m1 0h1m10 0h1m1 0h2m1 0h1m3 0h1m1 0h2m9 0h1m2 0h1m2 0h1m11 0h1m1 0h1m4 0h2m2 0h2m1 0h3m1 0h1m9 0h2m1 0h1m1 0h2m2 0h2m2 0h3m2 0h1m3 0h2m13 0h1m3 0h1m2 0h2m2 0h1m2 0h1m2 0h1m4 0h1m5 0h2m2 0h1m1 0h1m2 0h2m2 0h1m7 0h2m1 0h1m1 0h3m1 0h1m2 0h1m1 0h1m1 0h2M4 87.5h2m2 0h1m10 0h1m5 0h2m5 0h1m2 0h1m3 0h1m1 0h1m1 0h1m5 0h1m2 0h1m7 0h3m4 0h1m1 0h1m1 0h2m6 0h1m2 0h1m1 0h1m1 0h1m1 0h1m2 0h1m1 0h1m1 0h1m1 0h1m3 0h1m6 0h1m2 0h1m3 0h1m6 0h1m3 0h1m1 0h1m1 0h1m1 0h1m1 0h1m1 0h4m1 0h1m1 0h1m6 0h1m1 0h1m1 0h4m2 0h2m4 0h1m2 0h1m2 0h2m1 0h1m2 0h1m9 0h1m6 0h2m2 0h1m4 0h2m3 0h1m2 0h1m1 0h1m1 0h1m1 0h5m1 0h2m1 0h1m9 0h7m2 0h1m5 0h2M7 88.5h1m2 0h1m2 0h1m4 0h2m6 0h2m3 0h1m3 0h1m4 0h1m1 0h1m5 0h1m2 0h1m8 0h1m2 0h1m3 0h1m2 0h1m2 0h1m9 0h2m1 0h2m2 0h1m1 0h4m5 0h1m1 0h1m2 0h1m1 0h1m2 0h1m9 0h1m1 0h1m1 0h1m1 0h1m1 0h3m3 0h3m2 0h2m7 0h2m2 0h1m1 0h1m3 0h2m2 0h1m1 0h2m2 0h4m1 0h1m2 0h1m10 0h1m2 0h2m2 0h1m1 0h1m1 0h1m2 0h2m3 0h1m5 0h1m1 0h1m2 0h2m1 0h1m3 0h2m10 0h2m1 0h2m1 0h1m2 0h2m3 0h1M1 89.5h1m1 0h1m3 0h1m4 0h1m3 0h1m2 0h1m6 0h1m3 0h2m2 0h1m3 0h1m1 0h3m4 0h2m10 0h1m1 0h1m9 0h2m8 0h1m4 0h1m2 0h1m2 0h2m2 0h1m3 0h1m4 0h1m1 0h1m6 0h1m3 0h1m3 0h3m1 0h1m1 0h2m1 0h1m2 0h3m2 0h3m7 0h1m2 0h4m2 0h1m1 0h1m1 0h1m2 0h1m2 0h1m1 0h1m1 0h2m2 0h1m2 0h1m4 0h1m1 0h1m6 0h1m1 0h1m2 0h1m1 0h2m2 0h1m7 0h1m4 0h1m1 0h1m2 0h1m1 0h1m2 0h1m7 0h7m3 0h2m2 0h1m4 0h2M0 90.5h1m5 0h2m1 0h1m2 0h1m5 0h1m2 0h1m4 0h1m3 0h1m2 0h1m4 0h1m1 0h1m5 0h2m1 0h2m6 0h1m1 0h2m3 0h1m2 0h1m1 0h2m2 0h1m6 0h1m5 0h2m1 0h1m4 0h2m3 0h1m4 0h1m1 0h1m1 0h1m7 0h1m4 0h2m3 0h3m1 0h1m3 0h1m4 0h2m8 0h1m1 0h1m3 0h2m3 0h1m2 0h1m2 0h2m1 0h1m1 0h1m2 0h1m3 0h1m10 0h1m2 0h1m1 0h1m2 0h3m3 0h2m3 0h1m6 0h1m1 0h2m1 0h1m1 0h3m4 0h1m3 0h1m2 0h1m1 0h3m3 0h2m3 0h1m1 0h1m3 0h1M4 91.5h1m2 0h1m2 0h2m6 0h1m1 0h1m5 0h1m4 0h2m4 0h2m10 0h1m9 0h2m7 0h1m1 0h1m1 0h1m12 0h2m1 0h2m2 0h3m3 0h1m4 0h1m1 0h1m9 0h1m1 0h1m3 0h2m2 0h3m1 0h2m2 0h1m4 0h2m9 0h2m4 0h1m5 0h1m3 0h1m1 0h1m3 0h3m3 0h1m1 0h1m7 0h1m1 0h1m3 0h2m1 0h3m1 0h1m1 0h1m1 0h1m2 0h2m2 0h1m2 0h1m2 0h2m1 0h2m1 0h1m7 0h1m2 0h5m1 0h1m1 0h1m1 0h2m5 0h1m2 0h1M2 92.5h2m2 0h1m2 0h2m6 0h1m1 0h1m11 0h1m2 0h1m1 0h1m8 0h1m2 0h1m2 0h1m5 0h3m8 0h1m1 0h1m12 0h4m5 0h1m3 0h2m1 0h1m2 0h1m2 0h1m4 0h1m2 0h2m1 0h1m3 0h2m1 0h1m1 0h2m1 0h1m2 0h1m1 0h1m1 0h1m2 0h2m7 0h3m3 0h3m2 0h1m1 0h1m1 0h1m4 0h1m1 0h3m4 0h1m8 0h1m5 0h3m1 0h3m1 0h1m1 0h1m4 0h2m2 0h1m2 0h1m3 0h1m1 0h1m1 0h2m12 0h3m1 0h1m1 0h3m6 0h2M2 93.5h1m1 0h1m1 0h1m4 0h1m5 0h2m2 0h1m8 0h1m3 0h1m19 0h1m2 0h2m5 0h1m6 0h1m6 0h1m2 0h1m1 0h3m6 0h1m1 0h1m2 0h2m5 0h1m2 0h1m1 0h1m4 0h2m3 0h4m2 0h3m2 0h1m3 0h1m3 0h2m5 0h2m1 0h2m2 0h4m5 0h1m6 0h2m1 0h1m4 0h1m7 0h1m4 0h1m2 0h1m1 0h1m1 0h3m1 0h1m4 0h1m5 0h2m2 0h7m3 0h1m6 0h7m1 0h2m1 0h1m7 0h1m3 0h1M0 94.5h1m1 0h2m1 0h2m2 0h1m6 0h2m7 0h1m1 0h1m3 0h1m1 0h1m6 0h1m2 0h1m3 0h1m8 0h2m1 0h1m6 0h1m3 0h1m6 0h1m5 0h1m1 0h1m1 0h1m2 0h1m6 0h1m7 0h1m7 0h2m2 0h1m2 0h3m2 0h1m4 0h1m6 0h3m4 0h2m1 0h2m2 0h2m1 0h1m4 0h3m4 0h1m2 0h1m1 0h2m2 0h1m1 0h1m10 0h1m2 0h2m2 0h2m1 0h1m1 0h2m3 0h1m5 0h2m2 0h2m1 0h2m1 0h1m3 0h1m6 0h5m1 0h1m1 0h2m7 0h2M0 95.5h2m2 0h1m3 0h1m5 0h2m3 0h1m6 0h1m3 0h1m8 0h1m1 0h1m1 0h1m1 0h1m5 0h1m3 0h2m1 0h1m7 0h1m2 0h2m5 0h1m4 0h1m1 0h3m2 0h1m3 0h1m3 0h1m1 0h1m5 0h1m7 0h1m3 0h2m1 0h3m2 0h2m4 0h1m4 0h1m2 0h2m2 0h3m2 0h1m2 0h1m1 0h2m4 0h1m1 0h1m4 0h3m3 0h1m4 0h2m9 0h1m2 0h1m1 0h1m1 0h2m1 0h1m1 0h2m2 0h1m3 0h1m3 0h1m2 0h3m1 0h3m10 0h3m1 0h2m2 0h3m3 0h1m2 0h3M2 96.5h1m1 0h1m2 0h1m5 0h2m5 0h1m4 0h1m4 0h1m7 0h1m1 0h1m2 0h1m1 0h1m9 0h1m12 0h3m3 0h1m5 0h1m1 0h2m2 0h1m5 0h1m2 0h2m8 0h1m2 0h1m4 0h1m1 0h2m2 0h3m1 0h2m3 0h1m6 0h1m2 0h1m2 0h2m1 0h1m2 0h2m3 0h2m1 0h1m1 0h1m1 0h1m1 0h1m3 0h2m2 0h1m5 0h2m5 0h1m2 0h1m1 0h1m2 0h2m1 0h1m1 0h2m5 0h1m2 0h1m5 0h1m2 0h1m1 0h2m2 0h1m9 0h1m2 0h3m2 0h2m1 0h1m6 0h2M2 97.5h2m1 0h2m7 0h1m11 0h2m9 0h1m3 0h1m14 0h1m2 0h2m5 0h1m1 0h3m2 0h1m1 0h1m4 0h2m2 0h1m2 0h1m3 0h1m2 0h1m7 0h1m3 0h1m1 0h1m3 0h1m1 0h1m1 0h1m1 0h4m12 0h1m2 0h2m1 0h2m1 0h2m1 0h1m3 0h1m1 0h1m1 0h1m4 0h2m3 0h2m1 0h2m2 0h1m1 0h1m8 0h1m1 0h1m6 0h6m7 0h1m2 0h1m1 0h2m4 0h2m1 0h2m11 0h3m1 0h1m1 0h1m1 0h1m7 0h2m5 0h1M1 98.5h3m15 0h2m3 0h1m1 0h1m11 0h2m2 0h1m13 0h1m1 0h1m5 0h1m3 0h3m1 0h2m6 0h1m2 0h1m1 0h1m5 0h1m13 0h1m1 0h1m2 0h4m3 0h1m1 0h2m4 0h1m2 0h1m8 0h3m2 0h2m1 0h1m2 0h1m1 0h2m1 0h1m4 0h1m3 0h1m1 0h2m1 0h2m1 0h2m2 0h1m6 0h1m2 0h1m5 0h5m3 0h1m5 0h1m4 0h1m4 0h1m1 0h2m1 0h1m2 0h1m3 0h2m1 0h1m1 0h2m2 0h2m3 0h1m2 0h1m1 0h1m1 0h2M0 99.5h1m1 0h1m2 0h2m4 0h1m5 0h3m3 0h1m1 0h1m4 0h1m6 0h2m2 0h2m12 0h1m1 0h1m1 0h1m5 0h1m1 0h3m9 0h2m4 0h1m3 0h1m4 0h1m8 0h2m2 0h1m2 0h1m1 0h1m2 0h5m10 0h1m2 0h1m1 0h1m1 0h1m2 0h4m4 0h1m1 0h3m6 0h1m3 0h2m2 0h1m1 0h2m9 0h1m1 0h1m1 0h1m4 0h4m1 0h1m12 0h1m1 0h1m2 0h1m1 0h3m1 0h1m1 0h1m3 0h2m4 0h3m1 0h3m2 0h1m5 0h2m1 0h1M0 100.5h3m1 0h2m4 0h1m1 0h1m2 0h1m1 0h3m5 0h1m3 0h1m7 0h2m2 0h1m12 0h2m1 0h1m3 0h1m5 0h3m1 0h1m7 0h1m1 0h2m1 0h1m3 0h1m4 0h1m2 0h1m5 0h1m2 0h3m2 0h1m1 0h6m15 0h1m3 0h1m2 0h2m5 0h2m1 0h1m1 0h1m1 0h1m3 0h1m1 0h1m2 0h1m3 0h2m1 0h1m1 0h1m10 0h1m4 0h5m1 0h1m9 0h1m1 0h1m1 0h1m1 0h2m2 0h1m1 0h1m1 0h1m3 0h2m5 0h3m2 0h2m4 0h1m1 0h1m1 0h2m1 0h1m6 0h1M0 101.5h1m4 0h1m4 0h1m3 0h2m1 0h2m5 0h1m2 0h1m8 0h1m2 0h1m14 0h1m2 0h1m8 0h3m1 0h1m7 0h1m1 0h1m2 0h1m3 0h1m6 0h2m2 0h1m4 0h1m1 0h1m1 0h1m4 0h1m1 0h3m1 0h2m8 0h1m3 0h1m1 0h1m2 0h4m5 0h2m3 0h2m5 0h1m1 0h3m3 0h2m2 0h2m4 0h1m1 0h1m4 0h1m5 0h2m3 0h1m4 0h1m4 0h1m5 0h1m1 0h3m2 0h1m3 0h2m5 0h2m1 0h1m1 0h1m1 0h1m3 0h1m1 0h2m3 0h1m8 0h1M3 102.5h3m7 0h2m1 0h3m7 0h1m7 0h2m1 0h3m12 0h1m1 0h2m5 0h1m4 0h1m1 0h1m1 0h1m10 0h1m1 0h1m2 0h1m8 0h1m5 0h2m1 0h2m1 0h1m1 0h2m1 0h2m2 0h2m3 0h1m2 0h1m3 0h1m1 0h1m1 0h1m4 0h1m1 0h1m6 0h1m2 0h1m1 0h1m1 0h1m3 0h1m1 0h3m4 0h1m3 0h1m1 0h1m4 0h1m5 0h1m2 0h1m1 0h3m2 0h1m3 0h2m3 0h1m1 0h1m2 0h1m1 0h1m1 0h3m1 0h1m5 0h1m3 0h1m2 0h2m4 0h1m3 0h1m1 0h2m3 0h1m7 0h2M2 103.5h2m8 0h1m1 0h1m1 0h2m5 0h1m9 0h1m1 0h2m1 0h1m13 0h2m12 0h2m1 0h1m7 0h1m2 0h2m2 0h2m6 0h1m2 0h2m4 0h1m2 0h5m1 0h2m2 0h2m3 0h2m5 0h1m3 0h2m2 0h1m2 0h1m7 0h1m2 0h1m1 0h1m1 0h2m3 0h3m5 0h1m2 0h1m1 0h1m1 0h1m2 0h3m4 0h1m3 0h1m1 0h3m5 0h1m8 0h1m3 0h2m1 0h1m1 0h1m1 0h1m1 0h1m1 0h2m1 0h1m3 0h3m5 0h1m1 0h1m2 0h2m2 0h1m10 0h1M1 104.5h1m1 0h1m7 0h2m2 0h2m5 0h1m8 0h1m3 0h1m1 0h2m4 0h1m7 0h1m8 0h1m4 0h1m1 0h2m5 0h1m1 0h1m2 0h2m1 0h2m8 0h3m5 0h1m1 0h5m1 0h1m1 0h1m1 0h1m5 0h1m5 0h1m4 0h2m3 0h1m3 0h1m5 0h2m1 0h1m3 0h3m3 0h2m2 0h2m4 0h1m1 0h3m2 0h1m7 0h1m1 0h1m3 0h2m3 0h3m2 0h1m9 0h2m2 0h1m1 0h1m2 0h1m1 0h2m1 0h1m1 0h1m2 0h1m2 0h1m2 0h3m3 0h3m5 0h1m5 0h1M2 105.5h1m7 0h2m3 0h2m4 0h1m4 0h1m3 0h1m1 0h2m2 0h2m2 0h1m1 0h1m7 0h2m5 0h1m1 0h1m4 0h4m8 0h1m1 0h4m2 0h1m1 0h1m4 0h2m8 0h6m2 0h2m7 0h1m3 0h2m3 0h2m1 0h1m2 0h1m3 0h1m1 0h1m3 0h2m1 0h2m4 0h1m3 0h2m3 0h1m2 0h1m3 0h2m2 0h1m9 0h1m3 0h2m1 0h1m4 0h1m2 0h1m5 0h1m4 0h2m4 0h1m2 0h3m2 0h1m2 0h2m5 0h3m2 0h1m1 0h2m3 0h1m6 0h1M1 106.5h2m5 0h1m2 0h1m1 0h2m4 0h3m7 0h1m1 0h1m4 0h2m2 0h1m7 0h1m1 0h2m4 0h3m1 0h1m9 0h1m5 0h3m1 0h1m4 0h1m4 0h3m2 0h1m4 0h6m2 0h1m1 0h1m2 0h1m2 0h1m1 0h1m5 0h1m2 0h1m2 0h1m5 0h1m1 0h1m2 0h2m1 0h1m1 0h1m2 0h1m1 0h1m4 0h1m1 0h1m1 0h1m1 0h1m3 0h3m1 0h1m5 0h1m8 0h1m2 0h1m4 0h1m3 0h1m5 0h1m2 0h4m1 0h1m4 0h3m1 0h2m1 0h2m10 0h1m1 0h1m1 0h1m10 0h1m3 0h1M1 107.5h2m3 0h1m2 0h2m1 0h1m4 0h1m1 0h1m9 0h1m4 0h1m2 0h1m2 0h1m8 0h2m4 0h3m1 0h1m4 0h1m5 0h1m2 0h1m1 0h2m2 0h1m3 0h1m6 0h2m1 0h1m5 0h7m7 0h1m2 0h1m1 0h1m3 0h3m2 0h1m2 0h1m7 0h1m4 0h3m1 0h1m2 0h1m1 0h1m8 0h1m1 0h1m1 0h1m1 0h1m1 0h2m5 0h2m4 0h1m2 0h1m2 0h1m2 0h4m1 0h1m4 0h2m2 0h5m4 0h3m1 0h2m2 0h2m5 0h1m2 0h1m2 0h1m11 0h2m3 0h1M1 108.5h2m3 0h1m2 0h1m19 0h1m5 0h1m1 0h1m1 0h1m2 0h1m6 0h1m5 0h1m1 0h2m1 0h1m3 0h1m4 0h2m2 0h1m1 0h1m2 0h2m3 0h2m5 0h1m3 0h1m4 0h6m4 0h1m2 0h1m4 0h2m4 0h1m2 0h1m1 0h2m2 0h1m6 0h1m1 0h1m1 0h2m4 0h2m1 0h1m4 0h1m2 0h2m1 0h2m2 0h1m5 0h1m2 0h1m5 0h1m5 0h1m2 0h1m1 0h2m5 0h2m1 0h1m1 0h1m1 0h1m5 0h3m2 0h2m1 0h1m3 0h1m5 0h2m1 0h1m3 0h1m1 0h1m8 0h1m5 0h1M0 109.5h3m8 0h1m7 0h1m1 0h1m1 0h1m10 0h1m1 0h2m10 0h1m7 0h1m1 0h2m5 0h1m6 0h1m4 0h1m4 0h2m3 0h1m4 0h1m1 0h1m2 0h1m1 0h5m6 0h2m5 0h1m4 0h1m4 0h1m1 0h1m7 0h2m1 0h1m1 0h2m1 0h1m2 0h2m10 0h1m1 0h1m1 0h2m1 0h2m3 0h1m3 0h1m4 0h2m1 0h1m3 0h1m1 0h4m5 0h2m2 0h4m3 0h1m1 0h1m1 0h2m1 0h1m1 0h1m1 0h1m1 0h1m4 0h2m1 0h1m1 0h1m4 0h3m5 0h1m1 0h1m5 0h1M2 110.5h1m4 0h1m3 0h1m5 0h1m13 0h1m4 0h1m1 0h1m1 0h1m5 0h1m9 0h1m1 0h1m1 0h1m3 0h1m5 0h1m4 0h3m2 0h1m1 0h1m8 0h1m1 0h1m3 0h1m1 0h4m1 0h2m2 0h3m5 0h2m3 0h2m1 0h1m6 0h1m3 0h1m1 0h2m1 0h1m1 0h1m4 0h2m3 0h1m3 0h1m2 0h1m1 0h1m1 0h5m2 0h2m8 0h1m1 0h1m7 0h2m6 0h2m2 0h3m4 0h2m1 0h3m1 0h3m2 0h1m5 0h2m3 0h1m1 0h1m2 0h2m6 0h1m1 0h1m4 0h1m2 0h1M2 111.5h1m15 0h1m7 0h1m1 0h3m5 0h2m8 0h1m4 0h1m6 0h1m4 0h1m1 0h1m1 0h1m1 0h1m3 0h1m1 0h2m1 0h1m1 0h1m1 0h2m5 0h2m1 0h4m1 0h7m3 0h3m2 0h1m3 0h2m3 0h2m3 0h1m3 0h1m5 0h2m1 0h1m2 0h2m2 0h1m10 0h1m2 0h3m3 0h1m2 0h2m5 0h1m3 0h2m5 0h1m1 0h1m1 0h2m3 0h2m3 0h2m4 0h1m1 0h1m1 0h3m1 0h2m1 0h1m3 0h1m4 0h2m1 0h1m1 0h1m4 0h2m1 0h1m4 0h1m1 0h1m2 0h1m3 0h2M0 112.5h1m15 0h1m1 0h1m7 0h2m1 0h1m5 0h1m1 0h1m11 0h1m1 0h1m2 0h1m1 0h2m2 0h1m3 0h1m3 0h1m4 0h3m1 0h1m2 0h3m3 0h1m2 0h1m1 0h1m3 0h3m1 0h2m1 0h1m4 0h2m3 0h1m2 0h2m3 0h1m2 0h1m10 0h1m1 0h1m1 0h1m2 0h1m5 0h1m7 0h2m2 0h3m2 0h6m9 0h1m1 0h1m3 0h2m1 0h1m1 0h1m2 0h1m2 0h1m1 0h2m4 0h1m1 0h1m4 0h6m1 0h1m6 0h2m3 0h1m7 0h1m10 0h1m4 0h1M7 113.5h1m18 0h2m8 0h2m21 0h1m3 0h1m9 0h2m1 0h2m2 0h1m4 0h1m2 0h1m2 0h1m1 0h2m1 0h1m2 0h3m2 0h1m1 0h2m7 0h2m4 0h1m4 0h1m5 0h1m2 0h1m1 0h2m1 0h2m5 0h1m2 0h1m1 0h1m5 0h3m2 0h4m1 0h2m9 0h1m1 0h1m2 0h1m3 0h3m1 0h1m2 0h3m5 0h1m1 0h2m2 0h5m2 0h1m5 0h2m2 0h1m3 0h1m2 0h1m4 0h1m2 0h1m9 0h1m2 0h2M2 114.5h1m13 0h1m6 0h1m1 0h2m6 0h2m1 0h1m4 0h1m6 0h1m7 0h2m3 0h2m6 0h1m2 0h4m2 0h1m3 0h1m3 0h1m4 0h1m2 0h2m1 0h3m2 0h3m1 0h1m6 0h4m3 0h3m1 0h1m5 0h1m1 0h1m3 0h3m7 0h1m4 0h1m4 0h1m2 0h3m1 0h2m3 0h2m8 0h1m4 0h2m2 0h2m1 0h2m1 0h1m1 0h3m4 0h1m1 0h2m4 0h3m1 0h2m2 0h1m2 0h1m7 0h2m1 0h1m3 0h1m8 0h1m5 0h1m2 0h1M19 115.5h1m1 0h1m1 0h1m1 0h1m10 0h2m3 0h1m13 0h1m4 0h1m1 0h1m2 0h1m1 0h1m4 0h3m1 0h1m3 0h3m1 0h1m4 0h2m3 0h4m2 0h6m5 0h3m2 0h1m3 0h1m1 0h1m8 0h1m1 0h1m2 0h2m3 0h1m3 0h1m4 0h2m3 0h1m2 0h1m1 0h4m3 0h2m2 0h1m3 0h1m1 0h1m2 0h1m1 0h1m1 0h1m1 0h2m1 0h2m2 0h1m1 0h2m2 0h1m1 0h1m1 0h1m5 0h5m11 0h1m1 0h1m1 0h2m3 0h1m2 0h1m2 0h1m3 0h1m5 0h2M0 116.5h1m8 0h1m8 0h1m3 0h1m2 0h1m3 0h1m5 0h1m1 0h1m2 0h1m2 0h1m4 0h1m4 0h2m5 0h1m2 0h1m2 0h1m4 0h3m1 0h1m3 0h1m1 0h2m1 0h1m7 0h4m1 0h4m1 0h3m5 0h2m3 0h1m2 0h1m1 0h1m1 0h1m4 0h3m6 0h1m1 0h3m7 0h1m1 0h1m3 0h2m2 0h1m1 0h5m1 0h2m8 0h1m2 0h1m1 0h1m3 0h3m3 0h1m1 0h1m1 0h1m4 0h1m1 0h3m3 0h6m11 0h1m2 0h2m1 0h1m1 0h1m2 0h1m2 0h1m5 0h1m3 0h2m1 0h1m2 0h1M9 117.5h1m6 0h1m1 0h1m1 0h1m4 0h1m3 0h1m4 0h5m12 0h2m4 0h1m1 0h1m6 0h2m2 0h2m1 0h2m2 0h1m1 0h4m8 0h4m1 0h1m1 0h2m2 0h2m5 0h2m3 0h1m2 0h1m2 0h1m7 0h1m3 0h1m2 0h1m1 0h2m1 0h1m6 0h2m8 0h1m2 0h2m1 0h1m1 0h1m1 0h1m7 0h1m3 0h2m3 0h4m1 0h1m1 0h1m3 0h1m3 0h1m1 0h3m2 0h1m2 0h1m1 0h2m2 0h1m2 0h1m4 0h2m2 0h2m1 0h1m3 0h1m1 0h1m1 0h1m5 0h1m2 0h1m1 0h1m4 0h2M2 118.5h1m5 0h1m7 0h1m3 0h2m11 0h1m1 0h3m12 0h1m5 0h1m7 0h1m3 0h2m2 0h1m5 0h4m8 0h4m3 0h2m2 0h2m5 0h1m6 0h2m1 0h1m5 0h1m5 0h1m5 0h2m11 0h1m2 0h1m2 0h1m3 0h6m1 0h2m2 0h1m3 0h2m3 0h1m1 0h1m2 0h1m1 0h1m1 0h2m1 0h2m1 0h2m1 0h5m2 0h1m1 0h1m1 0h5m1 0h1m8 0h2m2 0h2m4 0h1m2 0h1m4 0h1m2 0h1m5 0h1m2 0h2M0 119.5h1m6 0h1m7 0h2m12 0h1m2 0h1m2 0h3m22 0h1m2 0h1m2 0h2m2 0h1m6 0h1m1 0h2m8 0h5m2 0h2m2 0h2m1 0h1m2 0h1m4 0h1m3 0h1m1 0h1m5 0h1m4 0h1m3 0h1m1 0h1m1 0h2m4 0h1m2 0h1m1 0h1m4 0h1m2 0h1m2 0h5m1 0h1m3 0h3m5 0h1m1 0h1m1 0h1m2 0h1m1 0h2m4 0h1m2 0h1m2 0h2m1 0h1m1 0h1m4 0h3m1 0h1m6 0h1m3 0h2m2 0h2m4 0h1m2 0h2m6 0h2m1 0h1m6 0h1M11 120.5h1m9 0h1m12 0h3m14 0h1m5 0h1m4 0h1m2 0h3m2 0h1m4 0h3m1 0h1m1 0h1m7 0h5m1 0h1m1 0h1m1 0h1m1 0h3m9 0h1m1 0h1m5 0h1m5 0h1m3 0h2m2 0h3m4 0h1m2 0h1m3 0h2m7 0h5m1 0h1m2 0h2m8 0h1m4 0h2m2 0h2m1 0h2m1 0h1m1 0h1m1 0h4m1 0h1m3 0h3m1 0h3m8 0h1m1 0h2m1 0h3m7 0h1m5 0h1m1 0h3m1 0h1m1 0h1m5 0h1M5 121.5h1m1 0h1m1 0h2m3 0h1m5 0h1m5 0h1m1 0h1m4 0h3m6 0h1m6 0h2m1 0h1m3 0h1m6 0h1m2 0h1m7 0h4m1 0h2m8 0h1m1 0h4m2 0h1m1 0h2m1 0h1m11 0h2m3 0h2m1 0h1m4 0h1m2 0h1m2 0h3m3 0h1m4 0h1m5 0h1m2 0h1m3 0h4m1 0h1m1 0h1m1 0h2m6 0h1m1 0h2m3 0h2m2 0h2m2 0h2m1 0h2m1 0h3m2 0h1m1 0h1m2 0h2m1 0h3m3 0h1m2 0h1m3 0h1m1 0h4m7 0h1m5 0h1m1 0h2m1 0h1m2 0h1m2 0h1m2 0h1M8 122.5h2m3 0h1m1 0h1m2 0h1m1 0h1m5 0h1m5 0h4m5 0h1m8 0h1m4 0h1m3 0h1m6 0h1m5 0h1m1 0h4m1 0h1m1 0h1m7 0h3m1 0h1m2 0h4m1 0h1m6 0h2m4 0h2m2 0h1m3 0h1m3 0h1m1 0h1m2 0h1m1 0h2m4 0h1m2 0h1m3 0h1m7 0h7m1 0h1m2 0h1m1 0h1m5 0h1m1 0h2m2 0h3m1 0h1m2 0h4m2 0h1m1 0h4m3 0h2m1 0h1m3 0h3m2 0h1m1 0h1m1 0h2m1 0h1m2 0h2m1 0h2m3 0h1m1 0h1m6 0h1m1 0h3m6 0h2m1 0h1M5 123.5h1m2 0h1m3 0h1m2 0h1m4 0h1m3 0h3m1 0h1m2 0h3m14 0h2m8 0h2m3 0h1m8 0h3m1 0h2m2 0h1m7 0h4m1 0h1m1 0h3m2 0h2m6 0h1m6 0h1m5 0h1m4 0h2m4 0h1m5 0h1m1 0h1m3 0h1m4 0h1m3 0h7m4 0h1m1 0h1m7 0h2m3 0h1m1 0h2m1 0h3m1 0h4m1 0h1m1 0h2m2 0h1m1 0h2m3 0h3m4 0h1m1 0h1m2 0h1m1 0h1m1 0h4m3 0h1m1 0h1m7 0h6m6 0h1m1 0h1m1 0h1M4 124.5h1m14 0h1m2 0h1m1 0h1m6 0h2m15 0h1m1 0h1m7 0h2m3 0h1m1 0h1m4 0h1m1 0h1m1 0h3m1 0h3m6 0h3m1 0h1m1 0h1m1 0h2m2 0h1m2 0h1m8 0h1m2 0h2m3 0h1m5 0h1m1 0h1m3 0h1m1 0h1m2 0h3m5 0h1m6 0h1m2 0h4m4 0h1m1 0h2m3 0h1m2 0h1m1 0h1m4 0h3m2 0h2m2 0h1m1 0h3m1 0h1m2 0h2m1 0h2m3 0h2m2 0h1m1 0h2m1 0h1m2 0h1m3 0h3m1 0h1m4 0h1m4 0h1m2 0h1m1 0h1m1 0h2m6 0h3m1 0h1M3 125.5h2m3 0h1m10 0h2m3 0h1m1 0h1m4 0h1m14 0h1m1 0h1m5 0h1m3 0h2m9 0h2m1 0h3m4 0h2m5 0h8m1 0h2m1 0h1m11 0h3m1 0h1m8 0h1m2 0h2m4 0h1m2 0h1m1 0h1m8 0h1m2 0h1m3 0h4m3 0h1m1 0h2m8 0h1m1 0h2m1 0h1m2 0h1m2 0h2m2 0h1m1 0h3m1 0h1m2 0h3m2 0h1m1 0h1m2 0h1m1 0h1m1 0h1m1 0h2m1 0h1m4 0h1m1 0h1m1 0h2m8 0h1m3 0h1m1 0h2m7 0h2m3 0h1M2 126.5h1m5 0h1m13 0h1m2 0h1m4 0h2m2 0h1m11 0h2m1 0h1m2 0h1m3 0h1m1 0h1m9 0h2m1 0h5m2 0h2m7 0h5m1 0h2m1 0h1m1 0h1m9 0h1m1 0h2m6 0h1m7 0h1m9 0h2m1 0h1m4 0h1m6 0h4m1 0h1m1 0h1m1 0h1m1 0h1m1 0h1m6 0h1m2 0h1m1 0h1m2 0h1m1 0h1m2 0h1m3 0h3m1 0h1m1 0h4m2 0h1m1 0h1m3 0h1m1 0h2m1 0h1m1 0h1m1 0h1m3 0h2m2 0h3m2 0h1m7 0h5m8 0h1m2 0h1M1 127.5h1m9 0h1m8 0h2m7 0h3m12 0h4m6 0h2m4 0h1m8 0h4m1 0h1m2 0h3m6 0h5m1 0h2m1 0h2m10 0h1m1 0h3m2 0h1m1 0h1m4 0h1m3 0h1m6 0h1m3 0h1m6 0h1m5 0h1m1 0h4m3 0h2m1 0h1m1 0h1m5 0h2m3 0h1m5 0h1m3 0h2m2 0h2m1 0h2m1 0h3m2 0h2m4 0h5m1 0h2m5 0h7m10 0h1m1 0h3m2 0h1m4 0h1m6 0h2M1 128.5h1m5 0h1m10 0h2m1 0h1m7 0h2m15 0h3m5 0h2m2 0h1m9 0h5m2 0h1m1 0h3m4 0h1m1 0h4m1 0h3m2 0h2m9 0h3m1 0h1m2 0h1m1 0h1m2 0h1m1 0h1m8 0h1m5 0h1m10 0h1m1 0h2m1 0h2m2 0h4m1 0h1m5 0h4m3 0h2m2 0h1m2 0h1m2 0h1m1 0h2m1 0h4m2 0h1m3 0h1m4 0h2m1 0h5m3 0h2m1 0h4m2 0h1m8 0h1m1 0h3m1 0h2m6 0h2m2 0h4M0 129.5h1m5 0h1m4 0h1m4 0h2m1 0h2m2 0h2m1 0h1m1 0h1m16 0h2m5 0h1m1 0h1m4 0h1m5 0h1m3 0h4m2 0h3m5 0h1m1 0h4m1 0h3m3 0h1m9 0h2m3 0h1m1 0h1m4 0h1m1 0h2m4 0h1m3 0h1m1 0h1m12 0h2m1 0h1m1 0h3m2 0h1m2 0h1m1 0h1m1 0h1m4 0h1m1 0h1m2 0h4m1 0h2m1 0h1m3 0h1m1 0h1m1 0h4m2 0h3m1 0h1m3 0h3m1 0h4m1 0h1m1 0h2m2 0h4m3 0h2m6 0h1m2 0h1m3 0h1m1 0h1m4 0h1m3 0h3m1 0h1M4 130.5h1m10 0h2m2 0h1m2 0h1m2 0h2m2 0h2m3 0h1m9 0h1m1 0h1m5 0h1m4 0h2m6 0h2m1 0h6m1 0h2m6 0h2m1 0h1m1 0h5m2 0h1m9 0h2m1 0h1m1 0h1m4 0h1m4 0h2m4 0h1m2 0h1m1 0h2m5 0h2m4 0h2m3 0h3m3 0h2m1 0h1m1 0h1m6 0h1m4 0h2m1 0h1m3 0h1m4 0h3m1 0h2m1 0h1m2 0h2m5 0h4m1 0h2m3 0h2m2 0h2m1 0h1m2 0h1m1 0h2m5 0h1m1 0h3m2 0h2m1 0h1m3 0h1m2 0h2m1 0h1m2 0h2M3 131.5h3m2 0h1m1 0h1m4 0h1m1 0h1m2 0h1m1 0h1m1 0h1m3 0h2m3 0h1m5 0h1m2 0h1m1 0h1m2 0h1m10 0h1m8 0h4m1 0h1m1 0h1m1 0h1m6 0h1m1 0h6m13 0h2m1 0h3m4 0h2m3 0h1m3 0h1m1 0h1m1 0h4m11 0h1m1 0h1m4 0h3m3 0h1m2 0h3m1 0h1m4 0h1m2 0h2m2 0h2m8 0h3m4 0h4m6 0h3m1 0h3m2 0h2m1 0h4m3 0h2m1 0h1m5 0h1m1 0h3m2 0h1m3 0h1m5 0h2m1 0h1m3 0h1M2 132.5h2m3 0h1m4 0h1m3 0h1m1 0h2m1 0h1m2 0h1m3 0h1m8 0h2m7 0h1m4 0h1m4 0h1m10 0h6m1 0h2m6 0h8m13 0h3m1 0h1m4 0h2m1 0h1m1 0h1m10 0h1m2 0h1m8 0h5m3 0h3m1 0h1m3 0h1m1 0h1m1 0h1m5 0h1m2 0h1m2 0h2m6 0h1m2 0h4m2 0h5m1 0h1m3 0h1m1 0h1m1 0h4m1 0h2m1 0h1m2 0h2m1 0h1m1 0h3m1 0h1m3 0h1m3 0h2m1 0h1m5 0h1m4 0h3m3 0h2M2 133.5h2m2 0h1m8 0h1m1 0h1m2 0h1m1 0h1m1 0h1m12 0h1m4 0h1m3 0h1m3 0h1m1 0h1m1 0h2m2 0h1m7 0h5m2 0h3m1 0h1m4 0h1m1 0h5m4 0h1m9 0h2m1 0h1m1 0h1m5 0h1m2 0h1m8 0h1m1 0h2m1 0h1m8 0h3m1 0h1m2 0h5m1 0h1m1 0h1m1 0h4m4 0h1m2 0h1m3 0h2m5 0h2m1 0h3m3 0h2m1 0h1m2 0h2m1 0h1m1 0h2m1 0h3m1 0h2m4 0h3m1 0h1m2 0h2m1 0h1m7 0h1m1 0h2m5 0h1m4 0h2m2 0h1m2 0h2M1 134.5h1m3 0h1m8 0h1m3 0h3m2 0h1m3 0h1m6 0h2m5 0h2m5 0h1m7 0h1m2 0h1m4 0h7m2 0h1m1 0h1m7 0h4m10 0h1m3 0h1m2 0h2m2 0h1m2 0h1m4 0h1m5 0h1m2 0h1m2 0h2m7 0h4m1 0h2m3 0h1m1 0h1m2 0h1m4 0h4m3 0h1m1 0h1m2 0h1m1 0h2m6 0h3m1 0h2m3 0h1m3 0h1m1 0h1m2 0h2m2 0h1m1 0h1m1 0h2m1 0h2m1 0h2m1 0h1m1 0h1m1 0h3m3 0h1m5 0h2m6 0h1m1 0h1m2 0h2m2 0h1m2 0h2M0 135.5h1m3 0h2m5 0h1m1 0h2m3 0h1m1 0h1m1 0h1m9 0h2m7 0h1m6 0h1m1 0h1m1 0h1m2 0h1m1 0h1m5 0h1m1 0h3m1 0h1m1 0h1m1 0h2m6 0h5m4 0h1m12 0h3m1 0h1m1 0h1m1 0h1m1 0h1m1 0h2m2 0h2m6 0h2m3 0h1m2 0h1m2 0h3m1 0h1m1 0h2m2 0h2m6 0h3m2 0h3m3 0h1m4 0h1m4 0h4m1 0h3m3 0h1m1 0h1m2 0h1m3 0h1m1 0h1m1 0h1m1 0h3m1 0h2m1 0h5m3 0h2m9 0h2m4 0h1m1 0h1m2 0h1m4 0h2m2 0h4M3 136.5h1m6 0h3m1 0h1m3 0h1m1 0h1m1 0h1m15 0h1m1 0h2m3 0h1m1 0h1m4 0h1m1 0h2m1 0h1m5 0h2m2 0h3m2 0h3m3 0h1m1 0h1m1 0h2m4 0h2m11 0h1m2 0h1m1 0h2m1 0h1m3 0h1m1 0h2m2 0h1m2 0h1m4 0h2m1 0h1m1 0h1m4 0h5m1 0h2m2 0h2m4 0h1m1 0h4m1 0h3m1 0h1m2 0h1m2 0h1m4 0h2m1 0h2m1 0h4m4 0h2m2 0h1m3 0h1m4 0h2m2 0h2m1 0h2m1 0h2m2 0h3m8 0h1m1 0h1m4 0h2m3 0h2m3 0h3m2 0h3m1 0h1M2 137.5h1m4 0h1m1 0h2m1 0h1m3 0h1m1 0h2m1 0h1m8 0h1m3 0h1m4 0h2m9 0h2m2 0h1m1 0h1m5 0h1m2 0h1m1 0h1m3 0h3m3 0h7m3 0h2m11 0h1m3 0h3m1 0h1m1 0h1m2 0h1m1 0h1m9 0h3m3 0h1m4 0h2m2 0h1m1 0h2m2 0h1m1 0h1m3 0h1m1 0h1m2 0h4m3 0h1m9 0h3m1 0h1m1 0h1m1 0h1m5 0h1m1 0h1m3 0h4m2 0h3m2 0h2m2 0h1m3 0h1m2 0h1m1 0h1m6 0h1m3 0h1m2 0h2m5 0h1m4 0h1m2 0h3m1 0h1M1 138.5h1m5 0h1m1 0h3m3 0h1m2 0h3m4 0h2m5 0h1m5 0h2m5 0h1m4 0h2m4 0h1m3 0h1m3 0h2m4 0h2m1 0h1m2 0h2m1 0h1m2 0h1m3 0h2m10 0h1m1 0h1m3 0h1m1 0h1m1 0h1m2 0h2m2 0h2m7 0h4m2 0h1m4 0h3m1 0h5m1 0h1m3 0h1m1 0h1m3 0h5m6 0h1m6 0h4m2 0h1m1 0h1m5 0h1m1 0h1m1 0h1m1 0h2m1 0h2m1 0h3m2 0h4m3 0h2m1 0h1m1 0h1m6 0h1m3 0h1m3 0h3m1 0h1m1 0h1m2 0h1m2 0h2m1 0h5m4 0h1M5 139.5h1m1 0h1m1 0h1m6 0h1m1 0h2m5 0h2m2 0h1m6 0h2m6 0h1m4 0h1m1 0h1m2 0h3m6 0h2m4 0h2m1 0h4m1 0h4m1 0h1m2 0h1m1 0h1m9 0h1m6 0h1m3 0h1m1 0h1m3 0h2m8 0h1m1 0h2m6 0h3m1 0h4m2 0h2m2 0h2m1 0h7m1 0h1m6 0h1m6 0h2m1 0h1m3 0h1m3 0h1m1 0h1m4 0h3m2 0h5m2 0h3m3 0h2m4 0h1m1 0h2m2 0h1m7 0h1m2 0h1m2 0h2m2 0h1m1 0h1m2 0h5m1 0h1m3 0h2M2 140.5h1m2 0h4m5 0h1m2 0h3m3 0h2m3 0h1m4 0h1m1 0h1m8 0h1m3 0h1m5 0h2m6 0h2m3 0h2m1 0h5m3 0h1m1 0h1m2 0h1m2 0h1m2 0h1m6 0h2m4 0h2m1 0h1m2 0h1m1 0h1m2 0h2m1 0h1m1 0h1m2 0h1m1 0h3m1 0h1m2 0h1m3 0h3m1 0h4m1 0h1m3 0h2m1 0h1m1 0h5m1 0h1m13 0h2m1 0h1m9 0h1m5 0h3m1 0h3m1 0h1m2 0h3m3 0h2m2 0h1m1 0h1m5 0h2m2 0h1m3 0h1m5 0h1m4 0h1m2 0h1m2 0h3m2 0h1m3 0h2M0 141.5h3m1 0h3m5 0h2m2 0h3m1 0h1m2 0h1m3 0h1m4 0h1m1 0h1m11 0h1m4 0h1m1 0h1m1 0h1m3 0h1m8 0h6m2 0h1m1 0h1m1 0h1m1 0h1m1 0h2m1 0h2m5 0h1m1 0h1m4 0h1m4 0h5m3 0h2m5 0h3m1 0h1m2 0h1m4 0h2m1 0h4m1 0h2m5 0h1m1 0h4m1 0h1m10 0h1m1 0h2m1 0h4m1 0h1m12 0h4m2 0h5m1 0h2m2 0h3m3 0h1m2 0h1m3 0h1m5 0h1m2 0h1m6 0h1m2 0h3m1 0h1m1 0h5m4 0h3M0 142.5h1m2 0h2m6 0h1m1 0h3m2 0h2m3 0h1m6 0h1m2 0h1m4 0h1m2 0h1m1 0h1m1 0h1m1 0h1m1 0h1m5 0h1m2 0h1m3 0h1m5 0h5m1 0h1m2 0h1m1 0h1m2 0h1m4 0h1m6 0h1m1 0h1m3 0h1m3 0h4m1 0h1m3 0h1m1 0h1m5 0h1m1 0h1m2 0h1m6 0h1m1 0h4m1 0h2m2 0h1m2 0h9m1 0h1m8 0h5m1 0h1m2 0h1m2 0h1m9 0h3m1 0h6m1 0h1m2 0h1m1 0h1m1 0h1m6 0h2m8 0h1m2 0h1m5 0h1m3 0h4m3 0h1m1 0h2m4 0h1m1 0h2M1 143.5h3m6 0h1m1 0h1m4 0h2m10 0h1m10 0h1m2 0h1m2 0h4m3 0h2m8 0h1m3 0h3m1 0h1m1 0h1m4 0h1m3 0h2m1 0h3m6 0h1m1 0h1m3 0h1m2 0h6m1 0h1m4 0h1m4 0h1m4 0h2m4 0h1m1 0h1m1 0h3m1 0h1m1 0h1m2 0h1m1 0h2m1 0h1m1 0h3m2 0h1m8 0h4m3 0h1m1 0h2m12 0h3m2 0h3m1 0h2m2 0h1m3 0h1m4 0h5m4 0h1m2 0h1m1 0h1m6 0h1m2 0h1m1 0h3m1 0h1m1 0h2m1 0h2m5 0h4M0 144.5h1m1 0h1m2 0h1m3 0h3m2 0h1m1 0h2m3 0h1m1 0h1m5 0h1m4 0h1m4 0h1m3 0h1m1 0h2m5 0h1m1 0h1m2 0h1m8 0h4m1 0h3m6 0h3m1 0h3m4 0h1m1 0h1m1 0h2m3 0h1m1 0h5m1 0h1m3 0h1m2 0h1m3 0h1m1 0h1m1 0h1m1 0h1m3 0h2m1 0h1m1 0h3m2 0h2m1 0h3m2 0h1m1 0h5m2 0h1m7 0h1m1 0h2m3 0h1m1 0h2m11 0h4m1 0h3m1 0h3m2 0h1m2 0h3m4 0h1m1 0h1m5 0h1m5 0h1m5 0h1m3 0h1m1 0h2m1 0h1m2 0h1m1 0h2m5 0h5M0 145.5h1m7 0h1m3 0h1m1 0h3m1 0h1m9 0h1m2 0h2m3 0h1m1 0h1m2 0h1m2 0h1m1 0h1m4 0h1m1 0h2m7 0h1m2 0h3m2 0h3m5 0h1m1 0h1m2 0h3m5 0h1m1 0h1m1 0h1m4 0h1m2 0h4m6 0h1m1 0h1m5 0h1m1 0h1m4 0h1m2 0h1m2 0h3m1 0h2m2 0h2m2 0h1m1 0h2m1 0h2m2 0h1m6 0h2m1 0h2m3 0h1m1 0h1m12 0h5m1 0h1m1 0h7m10 0h2m5 0h1m1 0h1m3 0h1m8 0h1m1 0h3m2 0h1m1 0h4m2 0h1m3 0h1m2 0h2M0 146.5h1m8 0h1m2 0h1m1 0h4m6 0h1m2 0h1m3 0h2m2 0h2m3 0h2m1 0h1m2 0h1m2 0h1m1 0h1m1 0h2m2 0h2m5 0h1m1 0h1m1 0h4m5 0h4m2 0h2m7 0h1m6 0h1m2 0h4m7 0h2m5 0h1m2 0h1m4 0h1m1 0h1m3 0h1m1 0h1m1 0h2m1 0h1m1 0h3m2 0h5m2 0h1m6 0h4m2 0h1m1 0h3m6 0h1m5 0h1m2 0h2m1 0h7m9 0h1m1 0h2m5 0h1m2 0h1m4 0h1m5 0h1m2 0h3m2 0h4m1 0h2m1 0h1m1 0h1m1 0h2m1 0h3M9 147.5h1m3 0h3m1 0h1m4 0h1m7 0h1m2 0h1m5 0h2m1 0h1m7 0h3m3 0h1m5 0h1m2 0h1m2 0h4m5 0h5m1 0h1m6 0h2m2 0h1m1 0h1m1 0h2m2 0h2m2 0h1m4 0h1m7 0h1m3 0h1m2 0h1m1 0h1m1 0h1m1 0h1m1 0h2m1 0h1m1 0h1m1 0h1m1 0h1m4 0h2m1 0h1m9 0h1m1 0h1m4 0h1m1 0h2m7 0h1m4 0h1m1 0h3m1 0h2m1 0h4m12 0h1m6 0h1m1 0h2m2 0h1m5 0h1m1 0h1m1 0h2m2 0h1m1 0h4m1 0h2m2 0h2m3 0h3M7 148.5h1m3 0h1m1 0h2m1 0h1m1 0h1m2 0h1m1 0h1m4 0h1m3 0h2m2 0h1m1 0h3m4 0h1m4 0h2m4 0h1m2 0h1m1 0h1m3 0h3m1 0h1m6 0h3m1 0h1m1 0h1m6 0h1m1 0h1m1 0h2m1 0h2m1 0h1m1 0h1m1 0h4m4 0h1m5 0h1m6 0h1m2 0h2m1 0h1m2 0h3m1 0h5m2 0h1m3 0h2m3 0h1m1 0h2m2 0h1m1 0h2m3 0h1m2 0h2m7 0h1m3 0h4m1 0h1m1 0h2m1 0h3m2 0h1m6 0h1m2 0h1m1 0h2m5 0h1m1 0h1m4 0h1m6 0h3m2 0h8m2 0h3m2 0h1m1 0h3M9 149.5h1m2 0h1m1 0h2m2 0h1m1 0h2m4 0h1m4 0h2m1 0h1m1 0h1m1 0h1m1 0h1m2 0h1m5 0h1m4 0h1m2 0h1m6 0h5m4 0h1m2 0h3m1 0h1m1 0h1m3 0h1m3 0h3m1 0h3m4 0h2m1 0h3m3 0h2m2 0h1m12 0h2m3 0h1m1 0h1m1 0h5m2 0h2m2 0h2m5 0h2m3 0h1m1 0h1m3 0h1m2 0h2m3 0h1m8 0h1m5 0h4m1 0h2m8 0h1m6 0h1m3 0h2m2 0h1m5 0h1m3 0h1m2 0h1m3 0h1m1 0h4m2 0h1m1 0h2m1 0h1m1 0h4M8 150.5h1m1 0h1m1 0h1m1 0h1m2 0h1m3 0h1m3 0h1m2 0h1m1 0h1m1 0h3m19 0h2m1 0h1m4 0h1m1 0h4m5 0h1m2 0h1m2 0h1m1 0h1m7 0h2m1 0h1m1 0h4m2 0h1m1 0h4m3 0h3m1 0h2m8 0h1m2 0h2m2 0h2m1 0h2m1 0h4m2 0h2m4 0h1m3 0h1m1 0h2m1 0h1m1 0h1m2 0h1m1 0h1m1 0h1m1 0h1m3 0h1m1 0h1m6 0h1m5 0h4m2 0h1m8 0h1m4 0h1m1 0h1m4 0h1m8 0h1m3 0h2m1 0h2m2 0h2m1 0h2m4 0h2m3 0h2m2 0h2M10 151.5h1m1 0h3m2 0h3m11 0h1m1 0h1m1 0h1m3 0h2m1 0h1m2 0h1m7 0h2m8 0h4m3 0h1m1 0h1m2 0h2m1 0h1m2 0h2m3 0h1m1 0h3m2 0h4m4 0h5m3 0h1m3 0h1m4 0h1m4 0h4m2 0h2m4 0h4m2 0h2m4 0h1m3 0h5m1 0h2m1 0h2m2 0h1m2 0h1m4 0h1m7 0h1m4 0h5m4 0h1m1 0h1m4 0h1m3 0h1m2 0h1m4 0h2m8 0h1m1 0h1m3 0h3m1 0h2m1 0h3m1 0h1m2 0h1m1 0h1m1 0h1m2 0h3m1 0h2M3 152.5h1m5 0h1m1 0h1m1 0h1m2 0h3m4 0h2m1 0h1m3 0h1m1 0h1m5 0h1m1 0h1m2 0h1m7 0h3m8 0h2m6 0h1m1 0h1m2 0h1m2 0h1m1 0h1m4 0h1m1 0h3m3 0h3m5 0h3m4 0h4m4 0h1m5 0h5m1 0h1m1 0h1m3 0h5m1 0h3m3 0h1m1 0h2m1 0h1m1 0h2m1 0h2m2 0h1m2 0h1m2 0h2m3 0h2m5 0h1m1 0h1m1 0h1m1 0h2m1 0h2m3 0h1m1 0h1m5 0h1m4 0h1m1 0h1m1 0h1m2 0h2m2 0h1m4 0h2m4 0h2m2 0h1m1 0h1m1 0h3m4 0h3m1 0h1m2 0h2m1 0h1m1 0h2M5 153.5h1m2 0h1m2 0h1m4 0h2m1 0h2m1 0h2m6 0h2m6 0h1m4 0h1m9 0h1m7 0h1m3 0h1m5 0h2m1 0h2m1 0h3m4 0h3m5 0h2m1 0h1m4 0h4m5 0h1m11 0h3m1 0h2m1 0h2m4 0h1m1 0h1m1 0h3m6 0h2m2 0h1m1 0h1m8 0h1m1 0h1m2 0h1m3 0h1m10 0h2m1 0h1m3 0h1m2 0h1m16 0h1m1 0h2m2 0h1m4 0h1m1 0h1m3 0h2m1 0h1m1 0h1m1 0h2m1 0h2m1 0h1m3 0h1m5 0h4m1 0h1M2 154.5h1m4 0h3m4 0h2m2 0h1m3 0h2m5 0h2m1 0h1m3 0h3m7 0h1m4 0h1m1 0h1m2 0h1m3 0h1m1 0h1m3 0h1m1 0h1m1 0h1m4 0h2m1 0h1m3 0h3m2 0h1m2 0h4m5 0h4m4 0h1m2 0h1m4 0h1m4 0h4m1 0h3m1 0h1m5 0h5m8 0h1m1 0h1m1 0h2m1 0h1m3 0h1m2 0h1m1 0h1m5 0h2m6 0h1m2 0h2m1 0h1m1 0h1m3 0h1m2 0h1m7 0h1m5 0h1m1 0h1m1 0h1m3 0h1m3 0h1m1 0h1m5 0h1m1 0h1m5 0h3m5 0h1m4 0h3m3 0h1M1 155.5h1m5 0h2m3 0h1m1 0h1m1 0h3m1 0h2m6 0h1m3 0h1m1 0h2m2 0h1m2 0h1m3 0h1m5 0h1m2 0h2m6 0h1m1 0h1m1 0h1m2 0h1m2 0h1m1 0h2m1 0h2m3 0h4m3 0h1m1 0h3m3 0h1m1 0h3m1 0h2m3 0h1m5 0h1m5 0h2m2 0h3m7 0h5m9 0h4m2 0h1m2 0h2m2 0h2m4 0h2m2 0h1m6 0h1m1 0h1m7 0h1m1 0h1m1 0h2m7 0h1m3 0h1m3 0h1m2 0h1m5 0h2m2 0h1m10 0h4m4 0h1m4 0h1m1 0h2m2 0h1m2 0h1M3 156.5h1m3 0h1m3 0h1m3 0h4m10 0h2m1 0h1m2 0h1m1 0h2m1 0h1m9 0h1m2 0h2m7 0h1m1 0h1m1 0h1m2 0h1m3 0h2m1 0h1m2 0h1m1 0h1m1 0h2m4 0h2m1 0h1m4 0h2m3 0h3m6 0h1m1 0h1m5 0h2m1 0h1m1 0h2m6 0h1m1 0h5m1 0h1m4 0h1m1 0h1m1 0h3m1 0h1m2 0h1m1 0h1m2 0h1m4 0h2m3 0h1m4 0h1m2 0h1m2 0h1m1 0h1m2 0h1m1 0h1m1 0h2m4 0h1m5 0h1m1 0h1m2 0h2m1 0h1m5 0h1m3 0h1m9 0h1m1 0h4m6 0h1m2 0h3m2 0h2m1 0h2M6 157.5h1m1 0h1m5 0h4m1 0h1m8 0h2m1 0h2m16 0h1m3 0h1m8 0h1m1 0h2m5 0h2m1 0h2m1 0h1m1 0h1m2 0h1m5 0h1m1 0h2m4 0h1m2 0h1m1 0h2m1 0h1m14 0h3m1 0h2m1 0h1m5 0h1m1 0h4m1 0h1m7 0h3m14 0h1m1 0h1m3 0h1m4 0h1m1 0h1m3 0h1m6 0h1m1 0h2m4 0h1m2 0h1m2 0h1m1 0h2m2 0h1m2 0h1m3 0h1m3 0h2m9 0h2m1 0h1m1 0h1m6 0h1m2 0h2m4 0h2m1 0h2M1 158.5h1m5 0h1m5 0h3m2 0h1m7 0h2m2 0h3m3 0h2m2 0h1m12 0h1m8 0h3m1 0h1m2 0h3m1 0h1m1 0h1m2 0h1m2 0h2m5 0h1m1 0h1m2 0h1m1 0h2m1 0h1m1 0h2m1 0h2m2 0h1m4 0h2m3 0h2m1 0h1m1 0h1m2 0h1m3 0h1m3 0h4m1 0h1m3 0h1m4 0h2m2 0h1m2 0h2m6 0h2m5 0h2m6 0h1m2 0h1m4 0h1m2 0h1m1 0h2m3 0h1m6 0h3m2 0h1m2 0h1m2 0h1m4 0h1m1 0h1m1 0h1m5 0h1m1 0h4m6 0h1m1 0h4m1 0h1m1 0h3m1 0h1m1 0h1M5 159.5h1m2 0h2m2 0h4m1 0h1m7 0h2m2 0h1m1 0h1m3 0h1m3 0h1m5 0h1m3 0h1m2 0h2m1 0h1m6 0h1m5 0h1m1 0h2m1 0h1m1 0h4m2 0h1m5 0h3m2 0h2m3 0h1m1 0h2m1 0h2m2 0h1m4 0h1m5 0h1m1 0h2m1 0h1m1 0h1m3 0h1m3 0h3m1 0h1m1 0h1m2 0h1m5 0h1m5 0h1m2 0h1m4 0h3m3 0h1m1 0h2m2 0h1m2 0h1m2 0h1m4 0h1m5 0h1m4 0h1m3 0h1m1 0h2m3 0h2m6 0h1m1 0h1m2 0h1m2 0h1m4 0h1m1 0h4m7 0h2m1 0h1m1 0h1m1 0h2m1 0h2m1 0h3M0 160.5h1m3 0h1m2 0h2m2 0h1m1 0h2m2 0h1m5 0h2m2 0h1m2 0h1m3 0h1m1 0h2m9 0h1m2 0h1m3 0h1m6 0h2m5 0h4m1 0h3m2 0h1m2 0h1m4 0h1m1 0h4m2 0h1m1 0h3m1 0h2m6 0h1m3 0h1m2 0h1m2 0h3m1 0h2m4 0h1m2 0h2m1 0h1m1 0h3m2 0h1m5 0h2m3 0h1m1 0h2m2 0h4m3 0h2m1 0h1m6 0h1m1 0h1m5 0h1m4 0h1m1 0h1m1 0h1m5 0h1m1 0h2m3 0h2m2 0h1m4 0h1m2 0h3m7 0h3m1 0h1m7 0h3m1 0h1m2 0h2m3 0h2m1 0h1M2 161.5h1m2 0h3m1 0h1m1 0h4m8 0h1m2 0h1m3 0h1m4 0h1m5 0h1m9 0h1m1 0h1m4 0h1m1 0h2m2 0h2m1 0h1m1 0h2m1 0h4m1 0h2m2 0h1m3 0h1m1 0h1m1 0h2m2 0h2m3 0h2m2 0h2m3 0h1m5 0h2m4 0h1m3 0h1m2 0h3m1 0h3m1 0h1m1 0h3m1 0h1m6 0h1m4 0h1m5 0h2m3 0h1m1 0h1m1 0h1m2 0h1m1 0h1m8 0h1m6 0h1m1 0h1m1 0h1m2 0h1m2 0h2m1 0h1m2 0h1m1 0h2m4 0h1m1 0h1m2 0h1m5 0h1m3 0h2m1 0h2m6 0h4m1 0h1m1 0h2m3 0h2m1 0h2M5 162.5h3m4 0h2m11 0h1m5 0h1m2 0h2m3 0h2m7 0h1m12 0h1m2 0h1m3 0h4m1 0h2m1 0h2m9 0h1m1 0h1m1 0h1m1 0h2m2 0h1m3 0h2m10 0h1m3 0h1m1 0h1m1 0h1m1 0h1m1 0h2m3 0h3m2 0h3m2 0h1m4 0h3m3 0h1m1 0h2m3 0h1m2 0h2m2 0h1m5 0h2m7 0h1m6 0h4m1 0h1m2 0h1m1 0h1m2 0h2m3 0h2m5 0h2m3 0h1m5 0h1m4 0h1m2 0h1m2 0h1m2 0h5m2 0h2m3 0h1m1 0h3M1 163.5h1m2 0h5m3 0h2m3 0h1m4 0h1m3 0h1m1 0h2m1 0h2m6 0h1m7 0h2m7 0h1m1 0h1m1 0h1m1 0h3m2 0h4m2 0h2m2 0h1m3 0h1m3 0h1m1 0h1m1 0h2m2 0h1m1 0h1m3 0h1m7 0h1m3 0h2m3 0h1m1 0h1m5 0h1m2 0h1m1 0h1m1 0h1m2 0h2m1 0h1m6 0h2m6 0h2m3 0h2m1 0h2m9 0h1m4 0h1m3 0h1m5 0h5m1 0h1m2 0h1m2 0h1m4 0h4m2 0h1m2 0h1m6 0h1m7 0h1m9 0h1m1 0h1m2 0h2m1 0h1m4 0h4M3 164.5h1m2 0h2m3 0h1m9 0h1m5 0h2m1 0h1m2 0h1m1 0h1m1 0h1m6 0h1m2 0h1m6 0h1m7 0h1m1 0h1m2 0h4m1 0h2m1 0h1m3 0h2m4 0h1m1 0h1m2 0h1m3 0h1m2 0h1m3 0h2m2 0h1m1 0h1m1 0h1m2 0h1m2 0h1m2 0h1m2 0h2m1 0h1m2 0h1m3 0h1m2 0h3m6 0h2m1 0h2m2 0h3m4 0h1m1 0h1m1 0h1m4 0h2m3 0h1m6 0h1m2 0h1m3 0h3m1 0h2m2 0h1m3 0h1m4 0h5m2 0h1m8 0h2m7 0h1m2 0h2m2 0h1m1 0h5m2 0h3m1 0h1m1 0h4M2 165.5h3m1 0h2m2 0h1m1 0h1m1 0h1m6 0h2m2 0h1m1 0h1m1 0h1m1 0h1m12 0h2m5 0h1m1 0h1m3 0h2m2 0h1m1 0h3m1 0h3m2 0h2m4 0h3m3 0h4m1 0h1m3 0h1m2 0h2m2 0h1m5 0h1m4 0h1m2 0h1m4 0h2m1 0h1m1 0h1m1 0h1m2 0h1m3 0h2m1 0h1m7 0h1m1 0h2m8 0h4m1 0h1m4 0h1m3 0h1m4 0h1m8 0h1m1 0h3m1 0h3m2 0h1m4 0h1m1 0h1m1 0h2m5 0h1m5 0h2m1 0h1m9 0h1m1 0h1m3 0h1m1 0h2m2 0h2m2 0h2m1 0h2m1 0h2M2 166.5h1m2 0h1m4 0h2m1 0h1m12 0h1m3 0h2m2 0h1m2 0h2m4 0h2m1 0h1m3 0h2m4 0h1m3 0h1m1 0h3m1 0h4m2 0h2m2 0h4m2 0h1m2 0h1m1 0h2m2 0h2m2 0h2m2 0h1m5 0h2m3 0h1m2 0h1m3 0h3m3 0h1m4 0h2m3 0h1m1 0h1m7 0h1m2 0h1m1 0h2m2 0h1m2 0h3m1 0h2m3 0h2m8 0h1m5 0h1m3 0h4m1 0h2m1 0h1m1 0h1m3 0h1m2 0h2m1 0h1m8 0h1m3 0h2m8 0h1m1 0h2m6 0h1m1 0h4m1 0h3m2 0h4M1 167.5h1m3 0h1m3 0h4m2 0h1m3 0h1m1 0h1m3 0h1m3 0h2m7 0h1m3 0h1m1 0h1m5 0h1m2 0h3m2 0h1m1 0h1m1 0h1m1 0h4m1 0h1m1 0h2m2 0h3m1 0h1m1 0h1m2 0h2m3 0h3m2 0h2m1 0h1m7 0h1m3 0h1m2 0h2m2 0h2m1 0h1m1 0h3m1 0h1m1 0h1m6 0h1m1 0h1m5 0h2m1 0h2m3 0h2m1 0h1m4 0h1m1 0h1m10 0h1m7 0h1m4 0h1m1 0h2m1 0h4m2 0h1m1 0h1m2 0h5m10 0h1m1 0h1m1 0h1m3 0h1m4 0h1m1 0h1m3 0h1m2 0h3m1 0h1m1 0h2m1 0h1m2 0h4M3 168.5h1m1 0h1m2 0h2m4 0h1m4 0h2m3 0h1m1 0h1m6 0h1m3 0h1m5 0h2m4 0h1m2 0h2m4 0h4m1 0h7m1 0h1m3 0h2m2 0h1m1 0h1m1 0h2m4 0h2m1 0h2m4 0h1m2 0h1m3 0h1m2 0h1m2 0h1m1 0h2m1 0h1m1 0h1m2 0h2m3 0h2m5 0h1m1 0h1m1 0h1m3 0h2m2 0h2m2 0h1m1 0h1m4 0h2m1 0h2m9 0h1m1 0h1m5 0h2m1 0h1m3 0h2m1 0h1m1 0h2m2 0h1m1 0h2m2 0h4m11 0h2m10 0h4m2 0h1m2 0h1m2 0h1m1 0h2m1 0h2m2 0h3m1 0h1M2 169.5h1m4 0h1m1 0h1m3 0h1m2 0h4m3 0h1m1 0h1m1 0h1m4 0h1m3 0h2m3 0h3m5 0h1m1 0h3m3 0h3m2 0h3m1 0h6m1 0h2m3 0h1m2 0h1m1 0h1m2 0h1m1 0h1m1 0h2m1 0h1m2 0h1m7 0h1m3 0h1m3 0h1m3 0h2m2 0h2m1 0h1m1 0h2m5 0h2m6 0h2m2 0h1m4 0h1m3 0h1m1 0h4m10 0h1m1 0h1m4 0h1m1 0h1m1 0h2m1 0h3m1 0h1m1 0h2m2 0h3m3 0h4m1 0h1m2 0h1m5 0h3m1 0h1m3 0h1m4 0h2m1 0h1m6 0h1m1 0h3m1 0h2m2 0h1m1 0h2m1 0h1M1 170.5h2m1 0h3m4 0h1m3 0h2m7 0h1m6 0h1m4 0h1m5 0h1m5 0h1m1 0h3m3 0h3m2 0h1m1 0h1m1 0h1m1 0h3m2 0h3m3 0h2m3 0h1m5 0h1m1 0h1m1 0h1m1 0h1m2 0h1m1 0h1m6 0h3m2 0h1m1 0h1m1 0h1m1 0h2m2 0h1m2 0h1m5 0h1m4 0h1m1 0h1m1 0h2m2 0h2m1 0h1m4 0h1m1 0h3m3 0h1m1 0h1m6 0h1m6 0h2m2 0h1m3 0h1m1 0h1m1 0h2m2 0h1m1 0h1m2 0h1m1 0h1m1 0h1m1 0h1m8 0h2m1 0h1m1 0h1m4 0h1m2 0h1m1 0h4m1 0h1m3 0h4m1 0h2m1 0h3m1 0h2M2 171.5h1m1 0h2m9 0h1m8 0h1m1 0h1m3 0h1m4 0h1m4 0h2m2 0h1m2 0h1m1 0h1m1 0h1m3 0h3m3 0h9m2 0h3m2 0h2m3 0h2m1 0h1m1 0h4m1 0h1m6 0h1m7 0h1m1 0h2m2 0h1m1 0h3m3 0h1m2 0h1m3 0h1m3 0h1m1 0h2m1 0h1m1 0h2m2 0h1m1 0h1m2 0h1m3 0h1m1 0h1m1 0h2m9 0h1m1 0h1m4 0h2m4 0h1m3 0h1m2 0h2m1 0h1m1 0h1m2 0h2m2 0h2m1 0h1m1 0h1m3 0h1m2 0h2m2 0h1m6 0h1m4 0h1m1 0h2m1 0h1m1 0h7m2 0h3m2 0h2m3 0h1M0 172.5h2m1 0h3m4 0h1m3 0h1m10 0h1m1 0h1m7 0h1m3 0h2m7 0h3m1 0h5m4 0h1m1 0h5m1 0h1m1 0h2m1 0h1m2 0h1m3 0h3m4 0h2m1 0h1m7 0h1m4 0h2m1 0h1m1 0h1m4 0h4m3 0h1m1 0h1m7 0h2m2 0h1m1 0h1m1 0h2m6 0h1m3 0h1m1 0h1m2 0h1m2 0h1m7 0h1m5 0h2m1 0h1m6 0h1m2 0h2m1 0h2m2 0h1m2 0h1m1 0h4m5 0h1m3 0h1m2 0h1m6 0h2m1 0h1m3 0h2m2 0h1m1 0h3m1 0h2m1 0h3m1 0h1m9 0h1M3 173.5h2m5 0h1m6 0h1m7 0h1m4 0h1m2 0h2m4 0h1m1 0h1m5 0h2m1 0h3m1 0h2m4 0h2m1 0h3m1 0h5m1 0h2m1 0h3m1 0h3m4 0h1m1 0h1m1 0h1m6 0h2m3 0h1m1 0h2m1 0h2m4 0h1m1 0h1m2 0h1m1 0h1m2 0h1m5 0h2m1 0h4m2 0h1m5 0h4m2 0h1m1 0h1m1 0h1m2 0h2m2 0h1m3 0h2m1 0h1m1 0h1m1 0h2m1 0h1m1 0h1m5 0h2m1 0h1m1 0h1m1 0h1m2 0h1m1 0h1m2 0h1m2 0h1m1 0h3m4 0h1m2 0h1m5 0h2m6 0h2m1 0h2m1 0h1m2 0h6m1 0h2M2 174.5h3m4 0h2m4 0h1m4 0h1m5 0h1m1 0h1m2 0h1m1 0h1m4 0h2m5 0h2m1 0h2m1 0h3m3 0h1m2 0h2m1 0h2m1 0h7m3 0h1m2 0h1m1 0h2m2 0h1m2 0h1m1 0h1m5 0h2m4 0h1m1 0h5m2 0h5m2 0h1m2 0h1m1 0h1m6 0h1m1 0h3m2 0h1m1 0h1m3 0h2m1 0h2m2 0h1m3 0h1m2 0h1m6 0h1m1 0h1m1 0h3m1 0h2m4 0h1m3 0h2m1 0h3m1 0h2m1 0h2m4 0h1m1 0h1m2 0h2m1 0h1m2 0h1m1 0h1m15 0h4m1 0h1m2 0h1m1 0h4m1 0h4m7 0h1M0 175.5h1m1 0h3m10 0h1m3 0h1m4 0h1m5 0h3m3 0h3m4 0h1m1 0h1m1 0h2m1 0h2m1 0h1m5 0h2m1 0h8m1 0h1m1 0h1m1 0h4m1 0h1m1 0h1m4 0h3m5 0h1m3 0h1m4 0h2m1 0h1m3 0h2m1 0h1m3 0h2m7 0h1m3 0h3m1 0h1m2 0h1m3 0h2m1 0h2m2 0h1m4 0h1m2 0h1m8 0h3m1 0h3m2 0h1m5 0h2m1 0h1m1 0h2m1 0h2m1 0h2m1 0h1m3 0h1m2 0h2m1 0h1m7 0h1m2 0h1m1 0h1m7 0h4m1 0h1m2 0h3m1 0h2m1 0h3m3 0h1m3 0h1M2 176.5h2m10 0h1m4 0h1m3 0h2m2 0h1m1 0h2m4 0h1m8 0h3m1 0h2m2 0h1m4 0h1m1 0h1m1 0h9m3 0h1m1 0h1m1 0h2m1 0h2m4 0h2m5 0h1m1 0h1m1 0h1m4 0h1m1 0h2m1 0h1m2 0h2m2 0h1m2 0h2m6 0h1m2 0h1m2 0h1m1 0h2m2 0h1m1 0h1m3 0h1m2 0h1m4 0h1m3 0h1m9 0h3m1 0h2m9 0h2m1 0h1m1 0h1m3 0h2m1 0h2m2 0h1m2 0h1m1 0h5m9 0h1m7 0h1m1 0h2m1 0h1m2 0h1m1 0h4m1 0h1m1 0h2m4 0h1m1 0h1m2 0h1m3 0h1M2 177.5h2m2 0h1m1 0h1m9 0h1m1 0h1m1 0h1m3 0h1m2 0h1m6 0h1m1 0h1m4 0h4m1 0h2m1 0h1m3 0h1m1 0h1m2 0h3m1 0h1m1 0h3m1 0h1m1 0h1m3 0h2m2 0h2m3 0h2m4 0h2m2 0h1m2 0h2m2 0h4m3 0h3m1 0h1m2 0h3m7 0h1m2 0h2m1 0h2m2 0h1m2 0h1m1 0h1m2 0h2m4 0h1m1 0h1m3 0h1m7 0h1m1 0h1m1 0h2m1 0h2m7 0h2m1 0h2m2 0h2m1 0h2m2 0h1m6 0h3m4 0h1m8 0h1m3 0h1m2 0h2m1 0h5m2 0h1m1 0h3m1 0h2m6 0h1m1 0h1M2 178.5h2m3 0h2m9 0h1m5 0h2m8 0h1m2 0h1m4 0h4m1 0h3m1 0h1m1 0h1m3 0h1m1 0h2m1 0h2m1 0h2m2 0h1m1 0h2m1 0h1m1 0h1m3 0h1m3 0h2m3 0h3m3 0h1m1 0h3m3 0h3m2 0h2m6 0h2m3 0h1m4 0h5m4 0h1m1 0h1m5 0h1m1 0h1m5 0h1m2 0h1m9 0h3m1 0h2m1 0h1m7 0h1m1 0h1m4 0h2m1 0h2m2 0h1m4 0h1m1 0h3m7 0h1m10 0h1m1 0h1m1 0h1m1 0h4m3 0h4m2 0h1m4 0h2m3 0h1m2 0h1M2 179.5h2m3 0h1m5 0h2m1 0h1m6 0h2m8 0h1m1 0h1m1 0h1m4 0h4m1 0h1m3 0h2m1 0h2m1 0h7m1 0h1m1 0h3m1 0h1m1 0h4m7 0h1m2 0h1m2 0h2m3 0h3m1 0h1m1 0h1m1 0h2m2 0h2m2 0h1m1 0h1m1 0h2m3 0h1m5 0h2m1 0h1m1 0h1m2 0h4m5 0h2m5 0h1m12 0h3m2 0h1m1 0h1m4 0h1m2 0h3m3 0h1m1 0h1m1 0h2m1 0h1m4 0h1m1 0h1m1 0h2m3 0h1m3 0h1m4 0h1m6 0h1m4 0h5m1 0h4m1 0h1m1 0h1m4 0h2m1 0h1m4 0h1M1 180.5h2m3 0h1m6 0h1m1 0h1m5 0h3m8 0h1m2 0h1m4 0h5m2 0h1m1 0h3m2 0h1m4 0h5m2 0h2m2 0h1m1 0h2m2 0h1m3 0h1m4 0h2m2 0h2m2 0h3m1 0h1m3 0h1m1 0h2m3 0h1m2 0h2m7 0h1m4 0h2m3 0h2m1 0h2m1 0h2m3 0h1m1 0h1m5 0h2m2 0h1m8 0h2m2 0h2m1 0h1m4 0h1m2 0h2m1 0h1m1 0h1m1 0h1m3 0h3m4 0h1m1 0h1m2 0h2m3 0h2m6 0h1m1 0h1m4 0h1m1 0h1m1 0h5m4 0h2m3 0h2m3 0h4m1 0h1m3 0h1M1 181.5h2m2 0h1m6 0h1m1 0h1m1 0h1m2 0h1m1 0h1m2 0h1m6 0h1m1 0h3m4 0h1m1 0h2m3 0h1m1 0h2m1 0h2m1 0h1m2 0h3m1 0h5m2 0h2m1 0h1m7 0h1m4 0h5m3 0h1m1 0h2m2 0h1m2 0h2m2 0h1m5 0h1m2 0h1m3 0h1m2 0h1m3 0h1m2 0h4m2 0h2m3 0h1m1 0h1m5 0h2m2 0h1m3 0h1m6 0h1m1 0h1m2 0h1m4 0h1m1 0h3m1 0h1m2 0h1m4 0h3m3 0h1m4 0h3m4 0h1m8 0h2m4 0h2m1 0h6m2 0h2m5 0h1m3 0h3m4 0h1M0 182.5h2m7 0h1m4 0h1m2 0h1m10 0h1m1 0h1m1 0h1m1 0h1m2 0h1m3 0h2m2 0h1m2 0h3m2 0h1m3 0h4m1 0h3m3 0h2m2 0h2m5 0h1m3 0h1m1 0h2m2 0h1m2 0h1m1 0h1m3 0h1m2 0h2m1 0h1m5 0h2m2 0h1m3 0h1m2 0h1m2 0h2m3 0h2m2 0h2m1 0h1m1 0h1m1 0h1m8 0h1m6 0h1m4 0h1m1 0h2m1 0h1m6 0h2m1 0h2m1 0h1m5 0h4m5 0h1m3 0h1m4 0h3m8 0h1m1 0h1m3 0h2m2 0h4m2 0h2m2 0h1m1 0h1m1 0h1m2 0h2m1 0h1m3 0h1m6 0h1M0 183.5h1m7 0h1m4 0h4m5 0h1m2 0h1m1 0h1m1 0h2m2 0h2m4 0h3m2 0h2m1 0h2m3 0h1m4 0h3m1 0h1m1 0h1m1 0h1m2 0h1m1 0h2m7 0h1m5 0h2m4 0h1m1 0h1m1 0h2m1 0h1m3 0h2m2 0h2m6 0h1m4 0h1m1 0h1m2 0h3m1 0h1m2 0h2m3 0h1m1 0h1m9 0h1m6 0h1m6 0h5m4 0h1m1 0h2m1 0h3m5 0h3m3 0h1m2 0h1m5 0h2m3 0h1m7 0h1m1 0h1m3 0h1m1 0h1m2 0h2m1 0h1m1 0h1m1 0h1m2 0h2m3 0h1m1 0h1m1 0h1m2 0h1m8 0h1M2 184.5h1m5 0h1m3 0h3m11 0h1m1 0h2m2 0h4m3 0h1m2 0h2m1 0h4m1 0h2m1 0h1m2 0h1m1 0h2m5 0h1m2 0h1m1 0h1m8 0h1m2 0h2m1 0h1m2 0h1m1 0h1m1 0h1m1 0h3m4 0h2m1 0h3m7 0h1m3 0h1m4 0h1m1 0h2m1 0h1m2 0h1m2 0h2m1 0h2m8 0h1m5 0h1m6 0h6m4 0h1m2 0h4m5 0h2m1 0h1m3 0h1m2 0h1m5 0h2m3 0h1m4 0h1m2 0h1m2 0h1m2 0h1m4 0h1m1 0h2m1 0h1m1 0h1m3 0h1m3 0h1m2 0h1m13 0h1M0 185.5h1m2 0h1m2 0h1m4 0h3m12 0h1m1 0h1m2 0h4m3 0h1m2 0h5m3 0h4m3 0h3m6 0h2m1 0h2m6 0h1m4 0h2m1 0h1m1 0h1m1 0h2m1 0h1m1 0h3m5 0h1m1 0h1m1 0h1m16 0h3m5 0h1m3 0h2m1 0h1m1 0h1m7 0h1m7 0h1m4 0h2m1 0h1m6 0h2m1 0h3m1 0h1m8 0h1m1 0h2m2 0h1m4 0h2m7 0h1m7 0h1m1 0h1m2 0h3m1 0h1m1 0h3m4 0h2m2 0h1m1 0h1m2 0h1m2 0h1m4 0h1M0 186.5h1m7 0h1m1 0h2m1 0h1m4 0h2m6 0h1m2 0h4m1 0h1m2 0h2m2 0h4m4 0h2m4 0h3m2 0h1m3 0h1m3 0h1m6 0h2m4 0h3m3 0h1m2 0h1m1 0h3m1 0h1m4 0h1m1 0h2m3 0h1m1 0h1m2 0h1m5 0h4m1 0h1m5 0h1m3 0h1m2 0h1m1 0h1m7 0h1m1 0h1m3 0h1m1 0h1m5 0h3m4 0h1m1 0h1m1 0h2m2 0h1m2 0h1m4 0h1m2 0h1m1 0h2m1 0h1m5 0h1m5 0h2m4 0h1m1 0h2m5 0h3m1 0h3m2 0h1m2 0h2m3 0h1m1 0h2m4 0h1m3 0h1m1 0h1M0 187.5h1m1 0h1m4 0h1m3 0h1m1 0h1m3 0h2m5 0h1m3 0h3m1 0h1m4 0h1m1 0h1m1 0h2m2 0h1m3 0h1m1 0h1m1 0h3m1 0h2m15 0h1m4 0h4m1 0h1m1 0h2m2 0h1m2 0h4m2 0h1m1 0h3m5 0h1m1 0h1m3 0h1m2 0h2m2 0h2m4 0h2m5 0h4m6 0h1m1 0h2m6 0h1m3 0h5m3 0h2m1 0h1m2 0h1m1 0h1m8 0h1m3 0h1m7 0h1m6 0h2m3 0h2m1 0h2m5 0h3m1 0h2m3 0h1m2 0h2m2 0h1m1 0h1m1 0h1m4 0h2m4 0h1m2 0h1M4 188.5h1m1 0h1m11 0h1m5 0h1m2 0h3m7 0h1m1 0h3m6 0h2m1 0h2m1 0h5m9 0h1m5 0h1m3 0h4m3 0h1m3 0h1m3 0h3m2 0h1m2 0h2m5 0h3m3 0h1m2 0h1m1 0h1m1 0h2m2 0h5m4 0h2m1 0h1m1 0h1m6 0h1m7 0h2m2 0h4m2 0h1m3 0h2m1 0h1m1 0h1m1 0h1m1 0h1m6 0h1m2 0h2m13 0h1m1 0h1m5 0h2m2 0h1m2 0h4m1 0h1m1 0h1m2 0h1m1 0h2m5 0h2m4 0h1m4 0h1m2 0h1m3 0h2M4 189.5h1m6 0h2m2 0h1m1 0h2m5 0h2m2 0h1m5 0h1m1 0h7m5 0h4m3 0h4m8 0h2m3 0h2m1 0h1m2 0h3m3 0h1m2 0h1m4 0h3m3 0h1m3 0h1m4 0h2m5 0h1m2 0h1m2 0h2m2 0h1m1 0h1m7 0h1m1 0h2m6 0h1m1 0h1m6 0h1m4 0h3m1 0h3m1 0h2m1 0h1m2 0h1m1 0h1m1 0h2m4 0h1m1 0h1m2 0h1m1 0h1m7 0h1m3 0h2m1 0h1m4 0h1m1 0h2m5 0h2m3 0h2m1 0h4m3 0h1m2 0h1m4 0h2m2 0h1m8 0h2M3 190.5h1m1 0h1m5 0h1m2 0h1m1 0h1m6 0h5m3 0h1m1 0h1m1 0h1m1 0h1m1 0h1m1 0h1m3 0h1m1 0h3m1 0h1m3 0h2m2 0h1m6 0h1m3 0h1m1 0h1m3 0h5m4 0h2m2 0h2m1 0h2m2 0h3m1 0h3m2 0h1m1 0h2m5 0h2m4 0h1m1 0h2m1 0h2m4 0h1m1 0h2m1 0h1m6 0h1m7 0h1m1 0h1m4 0h1m1 0h2m1 0h1m2 0h2m1 0h2m1 0h1m1 0h1m1 0h1m2 0h2m2 0h1m3 0h1m8 0h1m3 0h4m6 0h1m6 0h2m4 0h1m1 0h1m1 0h1m2 0h1m6 0h1m1 0h1m4 0h1m7 0h3M2 191.5h1m7 0h1m4 0h1m6 0h1m1 0h2m3 0h2m1 0h1m1 0h1m1 0h2m1 0h3m1 0h1m1 0h1m1 0h2m1 0h1m3 0h3m9 0h1m3 0h1m1 0h1m2 0h1m2 0h2m5 0h1m5 0h2m1 0h3m4 0h1m5 0h1m3 0h1m2 0h2m4 0h1m1 0h1m3 0h1m6 0h1m1 0h3m5 0h1m6 0h1m5 0h1m1 0h2m2 0h2m2 0h1m2 0h1m1 0h2m1 0h1m1 0h1m2 0h1m2 0h1m1 0h2m3 0h1m1 0h1m3 0h1m4 0h3m3 0h1m1 0h1m1 0h1m6 0h2m3 0h2m1 0h1m2 0h1m7 0h1m6 0h1m6 0h1m1 0h4M10 192.5h1m7 0h1m3 0h3m4 0h6m2 0h1m1 0h2m2 0h3m1 0h2m4 0h3m2 0h1m5 0h1m4 0h1m1 0h1m2 0h1m2 0h1m5 0h1m1 0h3m1 0h6m1 0h1m3 0h2m4 0h4m3 0h2m4 0h1m1 0h2m1 0h2m1 0h1m3 0h1m1 0h1m1 0h1m10 0h1m1 0h2m5 0h4m1 0h1m4 0h2m1 0h2m1 0h1m1 0h2m4 0h1m3 0h1m2 0h1m1 0h2m9 0h3m2 0h1m2 0h1m2 0h1m2 0h2m2 0h1m1 0h1m1 0h2m1 0h1m1 0h1m1 0h1m4 0h1m1 0h1m2 0h1m3 0h1m7 0h2m2 0h2M4 193.5h1m3 0h3m6 0h1m3 0h2m2 0h1m1 0h1m1 0h4m4 0h1m1 0h5m1 0h1m1 0h2m2 0h3m9 0h1m6 0h2m1 0h1m1 0h2m2 0h1m3 0h3m3 0h2m1 0h3m2 0h1m2 0h2m3 0h4m1 0h1m8 0h1m2 0h2m8 0h2m1 0h1m5 0h1m3 0h3m6 0h5m2 0h1m1 0h1m1 0h1m1 0h1m2 0h2m1 0h1m5 0h1m3 0h1m3 0h2m10 0h3m1 0h1m5 0h1m3 0h2m3 0h2m1 0h1m1 0h2m1 0h1m10 0h1m9 0h1m1 0h1m2 0h4M3 194.5h1m3 0h1m2 0h1m7 0h1m2 0h1m1 0h1m1 0h2m1 0h3m4 0h1m1 0h5m3 0h4m3 0h1m4 0h1m9 0h1m2 0h1m2 0h2m2 0h1m5 0h1m2 0h1m1 0h2m1 0h3m1 0h2m2 0h3m4 0h1m1 0h1m4 0h1m1 0h1m5 0h2m3 0h2m2 0h2m1 0h1m1 0h1m8 0h2m1 0h1m1 0h1m3 0h1m1 0h2m3 0h1m1 0h1m5 0h2m3 0h1m2 0h1m1 0h2m3 0h1m2 0h4m3 0h2m2 0h2m1 0h2m10 0h2m3 0h2m1 0h1m1 0h2m5 0h1m4 0h1m2 0h1m4 0h1m3 0h2m3 0h2m1 0h1M7 195.5h1m2 0h1m2 0h1m2 0h3m2 0h1m2 0h2m1 0h4m5 0h5m2 0h3m1 0h1m2 0h1m7 0h1m2 0h1m7 0h1m2 0h2m2 0h1m3 0h2m3 0h8m2 0h1m3 0h1m4 0h4m4 0h1m1 0h1m6 0h1m3 0h1m1 0h1m1 0h3m1 0h2m3 0h1m4 0h1m1 0h1m3 0h1m2 0h2m1 0h2m3 0h2m1 0h1m3 0h2m3 0h1m3 0h1m1 0h2m2 0h1m2 0h1m1 0h1m8 0h2m1 0h1m10 0h2m2 0h1m1 0h2m2 0h1m2 0h1m3 0h3m4 0h1m10 0h1m1 0h1m2 0h3m1 0h1M7 196.5h2m8 0h2m1 0h1m1 0h2m1 0h5m2 0h1m2 0h4m3 0h3m1 0h1m1 0h1m1 0h1m6 0h1m4 0h2m4 0h2m1 0h1m8 0h1m3 0h6m1 0h1m6 0h1m4 0h4m4 0h1m7 0h2m2 0h1m2 0h1m4 0h2m1 0h1m2 0h1m5 0h1m1 0h1m1 0h1m1 0h1m1 0h1m1 0h1m1 0h1m3 0h2m1 0h1m2 0h1m1 0h2m2 0h1m5 0h1m2 0h1m2 0h2m1 0h1m3 0h1m3 0h1m1 0h1m3 0h1m9 0h1m2 0h2m1 0h1m2 0h1m2 0h2m2 0h3m4 0h1m10 0h1m6 0h1m1 0h1M0 197.5h1m3 0h1m1 0h2m1 0h1m6 0h3m1 0h1m1 0h1m1 0h1m1 0h5m2 0h1m1 0h1m1 0h1m1 0h3m1 0h3m3 0h1m5 0h1m5 0h2m3 0h1m2 0h1m5 0h1m4 0h1m3 0h6m3 0h1m1 0h1m6 0h4m5 0h2m1 0h2m2 0h1m1 0h1m4 0h2m3 0h2m4 0h2m6 0h4m1 0h2m1 0h2m3 0h1m1 0h1m2 0h1m3 0h2m2 0h1m1 0h1m2 0h1m3 0h1m2 0h2m1 0h2m1 0h1m2 0h1m1 0h2m3 0h1m1 0h1m2 0h1m4 0h1m2 0h2m1 0h1m4 0h1m2 0h1m2 0h2m6 0h1m5 0h1m2 0h1m1 0h2m7 0h1m1 0h1M0 198.5h1m4 0h2m6 0h1m1 0h3m2 0h1m1 0h2m1 0h1m1 0h3m3 0h3m2 0h2m1 0h2m1 0h1m2 0h1m6 0h1m5 0h1m3 0h1m3 0h1m2 0h1m7 0h1m2 0h1m1 0h3m1 0h1m3 0h1m5 0h1m1 0h2m1 0h2m6 0h1m2 0h2m3 0h1m1 0h1m1 0h4m2 0h2m5 0h1m2 0h1m4 0h3m2 0h1m2 0h1m3 0h1m1 0h2m2 0h1m1 0h2m1 0h1m1 0h2m7 0h1m2 0h1m1 0h1m1 0h3m3 0h1m1 0h1m3 0h1m2 0h1m1 0h1m5 0h4m1 0h2m2 0h2m5 0h1m1 0h1m9 0h1m3 0h3m1 0h1m5 0h1m2 0h1M2 199.5h1m1 0h2m3 0h1m4 0h3m1 0h2m1 0h1m1 0h2m1 0h4m1 0h4m1 0h3m1 0h3m3 0h1m4 0h1m1 0h1m6 0h1m6 0h2m9 0h1m2 0h5m3 0h1m2 0h1m4 0h1m1 0h1m2 0h2m6 0h2m1 0h1m4 0h1m1 0h2m1 0h2m3 0h2m7 0h1m3 0h1m1 0h4m1 0h2m1 0h1m4 0h1m1 0h1m3 0h3m1 0h1m1 0h1m2 0h1m1 0h1m3 0h1m5 0h2m1 0h1m2 0h3m3 0h1m12 0h1m1 0h1m1 0h2m2 0h3m3 0h1m1 0h1m8 0h1m5 0h1m2 0h2m7 0h1m1 0h1M1 200.5h1m2 0h1m7 0h3m1 0h1m1 0h1m1 0h4m1 0h5m1 0h2m1 0h2m1 0h5m8 0h1m3 0h1m1 0h1m3 0h1m5 0h2m2 0h1m7 0h1m1 0h1m1 0h4m2 0h1m1 0h2m9 0h3m6 0h3m1 0h1m3 0h3m1 0h1m6 0h1m5 0h2m3 0h1m1 0h3m1 0h1m2 0h1m1 0h1m3 0h1m5 0h4m1 0h1m8 0h1m1 0h1m4 0h1m2 0h1m1 0h4m3 0h1m3 0h2m7 0h2m4 0h1m1 0h3m3 0h2m3 0h1m5 0h2m4 0h1m10 0h1m5 0h1M0 201.5h2m10 0h2m1 0h3m3 0h3m3 0h2m1 0h1m1 0h3m1 0h5m1 0h1m1 0h1m4 0h1m5 0h1m2 0h1m5 0h2m1 0h1m2 0h1m6 0h3m1 0h3m1 0h1m3 0h3m9 0h1m7 0h2m1 0h2m3 0h3m3 0h1m1 0h2m7 0h1m3 0h1m2 0h1m2 0h2m1 0h1m2 0h1m3 0h1m3 0h1m2 0h1m2 0h1m5 0h1m2 0h1m2 0h2m2 0h3m2 0h4m7 0h1m1 0h1m1 0h1m5 0h3m3 0h3m3 0h1m2 0h2m3 0h1m3 0h1m2 0h1m4 0h1m2 0h1m7 0h2m4 0h1M8 202.5h1m3 0h6m1 0h4m3 0h3m2 0h2m3 0h3m1 0h2m1 0h1m1 0h1m3 0h1m2 0h1m1 0h1m1 0h1m2 0h1m4 0h3m5 0h1m4 0h3m1 0h4m2 0h1m1 0h2m5 0h1m2 0h2m1 0h1m6 0h2m1 0h1m4 0h1m4 0h2m8 0h1m1 0h1m2 0h1m1 0h1m3 0h3m3 0h2m3 0h1m2 0h1m3 0h1m2 0h1m10 0h2m3 0h3m1 0h4m1 0h2m3 0h2m1 0h1m1 0h1m4 0h1m1 0h1m2 0h1m1 0h1m1 0h1m1 0h1m6 0h1m9 0h1m9 0h1m6 0h1m1 0h1M7 203.5h1m3 0h3m1 0h3m1 0h4m2 0h2m2 0h2m1 0h1m1 0h1m1 0h1m2 0h2m6 0h1m3 0h1m1 0h2m1 0h1m2 0h1m2 0h3m6 0h1m4 0h5m1 0h1m1 0h1m1 0h1m1 0h2m5 0h1m2 0h3m2 0h1m4 0h2m1 0h1m3 0h3m3 0h2m8 0h2m2 0h1m2 0h1m3 0h3m3 0h2m6 0h3m1 0h1m5 0h2m4 0h1m1 0h2m3 0h1m2 0h2m1 0h2m1 0h1m3 0h2m2 0h1m1 0h1m4 0h1m2 0h1m1 0h2m2 0h1m1 0h1m2 0h2m14 0h1m2 0h1m3 0h1m4 0h1m5 0h1m1 0h1M6 204.5h1m4 0h1m2 0h2m1 0h2m1 0h2m2 0h2m1 0h4m1 0h1m2 0h5m9 0h1m2 0h2m8 0h2m3 0h1m1 0h1m2 0h1m1 0h1m1 0h2m1 0h1m2 0h5m1 0h2m5 0h1m3 0h1m3 0h1m3 0h1m1 0h1m4 0h1m5 0h2m7 0h2m3 0h1m1 0h2m3 0h3m3 0h2m6 0h3m1 0h1m1 0h1m4 0h1m3 0h1m2 0h1m1 0h1m4 0h2m1 0h1m1 0h2m3 0h1m4 0h2m7 0h1m1 0h3m4 0h1m1 0h3m4 0h1m1 0h1m7 0h1m2 0h1m3 0h1m1 0h1m3 0h1m2 0h2M1 205.5h1m4 0h1m3 0h1m1 0h4m1 0h3m1 0h1m1 0h5m1 0h2m1 0h1m1 0h3m11 0h3m1 0h1m9 0h1m1 0h1m2 0h1m3 0h1m1 0h2m2 0h2m2 0h2m1 0h3m1 0h1m7 0h1m1 0h1m1 0h1m1 0h1m2 0h1m1 0h2m1 0h1m1 0h1m3 0h1m1 0h1m1 0h1m1 0h1m5 0h2m2 0h1m2 0h2m3 0h3m3 0h1m2 0h1m2 0h1m1 0h3m3 0h2m1 0h2m4 0h1m7 0h1m2 0h1m1 0h4m3 0h2m2 0h3m2 0h1m3 0h5m4 0h2m1 0h1m1 0h1m5 0h1m4 0h1m10 0h1m8 0h2M0 206.5h2m2 0h2m4 0h4m1 0h3m2 0h1m2 0h7m4 0h2m1 0h2m4 0h1m1 0h1m1 0h3m3 0h1m5 0h1m2 0h2m4 0h2m2 0h1m3 0h2m2 0h6m10 0h5m3 0h1m2 0h1m1 0h3m2 0h1m4 0h2m1 0h1m4 0h1m3 0h1m2 0h3m4 0h1m3 0h1m5 0h5m3 0h2m2 0h1m4 0h2m2 0h1m6 0h1m2 0h3m1 0h1m2 0h1m2 0h1m3 0h2m3 0h5m2 0h1m2 0h1m1 0h1m13 0h1m9 0h2m6 0h1m1 0h1m2 0h1m3 0h1M0 207.5h1m8 0h9m1 0h1m2 0h4m1 0h2m6 0h3m5 0h1m1 0h1m2 0h1m3 0h1m1 0h1m2 0h1m6 0h1m1 0h2m3 0h1m4 0h1m3 0h4m4 0h1m7 0h6m3 0h1m1 0h1m1 0h2m1 0h1m1 0h1m3 0h4m4 0h1m3 0h1m2 0h2m5 0h1m1 0h2m6 0h2m1 0h2m3 0h1m6 0h1m12 0h1m1 0h2m1 0h1m1 0h1m2 0h1m1 0h1m4 0h1m4 0h2m1 0h1m1 0h1m2 0h1m2 0h1m2 0h1m3 0h1m2 0h1m1 0h1m6 0h1m5 0h2m3 0h1m5 0h1m1 0h1M3 208.5h1m5 0h2m1 0h2m2 0h2m1 0h1m2 0h7m5 0h2m1 0h1m4 0h2m3 0h1m3 0h2m1 0h1m11 0h2m2 0h2m3 0h2m3 0h3m4 0h1m6 0h2m1 0h2m1 0h2m4 0h1m2 0h3m2 0h1m2 0h3m6 0h2m2 0h1m1 0h2m1 0h1m5 0h1m7 0h2m1 0h1m2 0h1m2 0h1m4 0h1m1 0h1m2 0h1m7 0h1m1 0h2m2 0h2m1 0h2m1 0h2m3 0h1m1 0h1m2 0h1m1 0h2m1 0h1m3 0h2m2 0h2m4 0h1m3 0h1m10 0h1m1 0h1m2 0h1m2 0h1m5 0h1m2 0h1M2 209.5h1m5 0h5m2 0h2m1 0h2m2 0h6m5 0h2m5 0h3m4 0h1m2 0h1m3 0h1m1 0h1m6 0h4m2 0h2m3 0h1m2 0h1m1 0h3m5 0h1m6 0h5m2 0h1m2 0h2m3 0h2m2 0h1m2 0h1m2 0h1m5 0h2m2 0h1m1 0h2m7 0h2m6 0h2m2 0h1m1 0h1m1 0h2m3 0h3m6 0h1m5 0h1m2 0h2m1 0h2m2 0h1m1 0h2m2 0h1m2 0h1m1 0h1m1 0h1m2 0h1m2 0h2m1 0h1m7 0h1m14 0h2m5 0h1m6 0h1M1 210.5h1m5 0h1m1 0h2m1 0h2m1 0h3m1 0h1m1 0h4m1 0h2m2 0h2m1 0h1m1 0h1m3 0h3m1 0h1m9 0h1m4 0h1m4 0h1m2 0h1m1 0h2m1 0h1m5 0h4m10 0h1m2 0h4m3 0h2m1 0h2m3 0h1m1 0h1m7 0h1m1 0h1m7 0h3m3 0h1m3 0h1m3 0h2m2 0h1m3 0h1m1 0h2m7 0h1m4 0h1m5 0h1m2 0h1m1 0h1m1 0h3m1 0h1m1 0h1m2 0h1m1 0h1m2 0h2m1 0h1m2 0h1m2 0h3m4 0h1m4 0h2m2 0h1m5 0h1m4 0h1m1 0h1m4 0h1m7 0h1M0 211.5h1m4 0h1m2 0h1m1 0h2m1 0h4m3 0h5m1 0h1m2 0h2m2 0h1m5 0h1m2 0h1m4 0h1m4 0h1m3 0h1m6 0h1m1 0h1m1 0h1m2 0h1m5 0h2m1 0h2m3 0h1m4 0h1m3 0h4m3 0h4m1 0h1m2 0h2m4 0h1m2 0h4m1 0h1m2 0h1m3 0h1m1 0h1m2 0h1m8 0h1m1 0h1m3 0h2m1 0h3m1 0h1m1 0h1m1 0h2m4 0h1m1 0h1m3 0h1m2 0h3m1 0h3m3 0h1m2 0h3m2 0h2m1 0h2m4 0h1m1 0h1m1 0h1m6 0h2m13 0h1m1 0h2m21 0h2M7 212.5h1m1 0h2m1 0h1m1 0h2m2 0h1m1 0h3m1 0h2m1 0h4m2 0h1m2 0h1m1 0h1m3 0h1m5 0h2m2 0h1m2 0h1m7 0h1m2 0h1m2 0h2m3 0h1m1 0h2m1 0h1m6 0h1m2 0h1m2 0h4m2 0h2m1 0h1m1 0h3m2 0h2m6 0h1m1 0h1m1 0h1m4 0h2m1 0h2m2 0h1m8 0h1m1 0h2m6 0h2m1 0h1m4 0h1m1 0h1m4 0h1m6 0h1m1 0h1m1 0h1m1 0h1m1 0h1m2 0h2m2 0h1m3 0h4m3 0h1m1 0h2m1 0h2m6 0h2m13 0h1m1 0h2m4 0h1m16 0h2M1 213.5h1m1 0h1m3 0h2m2 0h1m1 0h1m1 0h2m3 0h1m1 0h2m2 0h2m1 0h1m3 0h2m1 0h1m2 0h1m1 0h1m6 0h1m5 0h1m1 0h2m5 0h1m2 0h1m1 0h2m3 0h1m1 0h2m1 0h1m2 0h1m4 0h1m1 0h2m2 0h4m1 0h1m1 0h3m2 0h1m2 0h1m6 0h1m1 0h2m1 0h2m4 0h2m1 0h1m1 0h1m1 0h1m1 0h1m2 0h1m2 0h3m5 0h1m2 0h2m5 0h1m1 0h1m5 0h1m4 0h1m2 0h1m1 0h2m2 0h1m2 0h2m2 0h1m2 0h1m1 0h3m3 0h1m1 0h1m1 0h2m7 0h2m9 0h1m4 0h2m7 0h1m14 0h2M0 214.5h2m3 0h1m1 0h1m2 0h3m1 0h5m1 0h2m1 0h2m1 0h2m1 0h1m2 0h2m1 0h1m3 0h1m4 0h1m6 0h2m2 0h1m6 0h1m2 0h3m5 0h5m1 0h1m6 0h3m2 0h1m1 0h1m2 0h2m1 0h3m1 0h1m1 0h1m6 0h1m1 0h2m1 0h1m1 0h1m2 0h1m2 0h1m2 0h1m5 0h1m1 0h1m2 0h3m2 0h1m4 0h4m1 0h1m4 0h1m5 0h2m5 0h1m1 0h1m1 0h1m3 0h1m1 0h3m1 0h2m1 0h1m2 0h3m2 0h1m1 0h3m8 0h2m1 0h1m7 0h1m2 0h1m1 0h2m4 0h1m1 0h1m3 0h1m10 0h1m3 0h1M0 215.5h1m2 0h2m1 0h1m1 0h1m1 0h1m2 0h4m1 0h2m1 0h3m1 0h2m1 0h1m3 0h1m1 0h2m5 0h1m9 0h1m3 0h1m1 0h1m3 0h1m2 0h2m8 0h2m2 0h1m2 0h1m2 0h4m4 0h5m1 0h3m1 0h2m6 0h1m1 0h1m1 0h1m1 0h1m2 0h1m4 0h1m1 0h2m3 0h1m2 0h1m1 0h1m2 0h2m1 0h2m4 0h2m2 0h1m3 0h1m6 0h1m7 0h1m2 0h1m3 0h1m1 0h1m1 0h1m1 0h3m1 0h2m2 0h1m5 0h3m2 0h1m1 0h1m2 0h1m1 0h2m5 0h1m1 0h1m4 0h2m5 0h1m4 0h1m1 0h1m12 0h1M1 216.5h2m4 0h1m1 0h2m1 0h2m1 0h1m1 0h4m2 0h1m1 0h4m2 0h1m1 0h2m5 0h1m2 0h1m4 0h1m2 0h1m2 0h1m1 0h1m6 0h1m4 0h1m2 0h1m2 0h1m2 0h1m2 0h2m3 0h1m1 0h1m3 0h5m1 0h3m1 0h1m3 0h1m3 0h2m1 0h1m5 0h2m2 0h2m1 0h2m2 0h1m1 0h1m6 0h2m1 0h1m5 0h2m2 0h1m1 0h1m8 0h1m9 0h2m5 0h1m1 0h2m1 0h2m1 0h2m2 0h2m1 0h3m1 0h1m4 0h1m5 0h1m1 0h1m10 0h2m6 0h1m4 0h1m19 0h1M1 217.5h1m3 0h3m1 0h1m1 0h3m2 0h4m2 0h1m1 0h3m1 0h1m1 0h1m1 0h1m1 0h1m3 0h2m6 0h2m3 0h1m1 0h1m4 0h1m2 0h1m1 0h2m1 0h1m2 0h3m1 0h1m2 0h1m2 0h1m1 0h1m2 0h1m1 0h1m3 0h2m1 0h2m1 0h2m1 0h2m7 0h2m1 0h1m1 0h1m3 0h1m3 0h3m1 0h2m2 0h1m1 0h1m4 0h5m6 0h4m1 0h1m2 0h1m5 0h1m5 0h1m3 0h1m7 0h3m1 0h4m1 0h3m2 0h3m1 0h1m2 0h1m1 0h1m1 0h1m3 0h3m4 0h1m5 0h1m5 0h1m1 0h1m8 0h1m4 0h2m3 0h1M0 218.5h2m3 0h2m2 0h4m1 0h4m3 0h5m1 0h2m2 0h1m2 0h1m2 0h1m6 0h2m5 0h1m1 0h1m3 0h1m4 0h1m1 0h1m3 0h1m8 0h2m1 0h2m2 0h1m5 0h7m2 0h3m5 0h1m1 0h4m7 0h3m1 0h3m2 0h1m1 0h1m1 0h1m2 0h4m3 0h1m2 0h2m1 0h1m2 0h1m2 0h1m6 0h1m3 0h1m1 0h1m7 0h1m1 0h2m2 0h5m1 0h2m3 0h2m6 0h1m1 0h1m4 0h2m15 0h1m1 0h2m18 0h1M3 219.5h4m2 0h2m1 0h4m4 0h8m2 0h1m1 0h1m2 0h1m3 0h1m7 0h1m2 0h2m5 0h1m3 0h1m1 0h1m2 0h2m1 0h1m6 0h3m1 0h1m2 0h1m1 0h2m2 0h2m1 0h4m2 0h3m4 0h2m3 0h2m7 0h8m1 0h1m5 0h2m1 0h3m5 0h3m5 0h1m3 0h1m3 0h1m5 0h1m6 0h2m3 0h1m1 0h2m2 0h1m2 0h1m1 0h4m3 0h1m1 0h3m4 0h2m3 0h1m3 0h1m10 0h1m2 0h1M0 220.5h1m1 0h4m2 0h2m1 0h4m2 0h1m1 0h2m1 0h1m1 0h3m1 0h1m3 0h1m1 0h1m8 0h1m2 0h1m1 0h3m5 0h1m5 0h1m1 0h3m7 0h1m1 0h4m6 0h1m2 0h5m1 0h1m1 0h3m4 0h2m3 0h2m3 0h1m2 0h1m1 0h3m1 0h3m3 0h1m3 0h1m1 0h4m4 0h1m1 0h2m2 0h1m2 0h1m1 0h3m2 0h3m3 0h1m1 0h1m4 0h1m1 0h2m2 0h3m1 0h1m1 0h2m1 0h1m1 0h2m1 0h2m3 0h1m1 0h2m2 0h1m2 0h1m10 0h1m2 0h1m2 0h1m3 0h2m7 0h1m5 0h1m8 0h1M0 221.5h2m1 0h1m3 0h3m1 0h2m1 0h1m2 0h2m1 0h6m4 0h1m1 0h1m1 0h1m4 0h1m7 0h3m5 0h1m5 0h1m1 0h2m5 0h1m3 0h1m1 0h3m5 0h2m2 0h1m1 0h3m1 0h3m1 0h1m4 0h1m1 0h2m2 0h2m4 0h1m2 0h5m2 0h2m2 0h1m2 0h7m2 0h1m1 0h3m2 0h1m3 0h3m3 0h2m6 0h1m3 0h1m2 0h2m2 0h4m1 0h3m3 0h2m1 0h2m2 0h2m1 0h2m1 0h1m1 0h1m1 0h1m1 0h1m14 0h1m3 0h2m8 0h1m4 0h1m8 0h1M0 222.5h2m1 0h1m3 0h4m2 0h1m2 0h1m1 0h1m1 0h5m6 0h1m1 0h2m11 0h2m1 0h1m1 0h1m2 0h1m5 0h1m1 0h3m4 0h2m2 0h5m5 0h2m1 0h2m1 0h2m2 0h3m4 0h1m2 0h2m3 0h2m7 0h4m3 0h2m3 0h1m1 0h1m1 0h4m5 0h1m1 0h1m3 0h1m2 0h3m4 0h1m6 0h1m4 0h1m2 0h2m1 0h1m1 0h1m1 0h1m1 0h1m1 0h1m1 0h1m1 0h2m1 0h1m2 0h3m1 0h2m2 0h1m18 0h2m3 0h2m7 0h1m4 0h2m3 0h1M0 223.5h1m1 0h2m1 0h1m1 0h2m1 0h3m2 0h2m1 0h6m1 0h1m6 0h2m11 0h3m10 0h1m1 0h5m3 0h1m4 0h4m5 0h1m1 0h1m1 0h1m2 0h1m1 0h3m1 0h1m4 0h1m1 0h1m1 0h1m2 0h3m4 0h1m2 0h3m3 0h2m1 0h1m4 0h4m7 0h1m1 0h1m2 0h1m3 0h1m1 0h1m1 0h2m5 0h1m1 0h2m5 0h4m1 0h1m1 0h1m1 0h5m3 0h1m2 0h3m1 0h1m1 0h2m2 0h1m1 0h1m7 0h1m2 0h1m5 0h2m3 0h2m8 0h1m4 0h1m8 0h1M0 224.5h3m2 0h6m4 0h10m5 0h3m4 0h1m2 0h1m4 0h3m3 0h1m5 0h1m1 0h4m6 0h1m2 0h5m5 0h3m3 0h4m2 0h1m3 0h1m2 0h1m1 0h1m4 0h2m4 0h1m1 0h2m2 0h2m2 0h2m1 0h1m2 0h4m7 0h2m3 0h1m1 0h1m2 0h2m1 0h2m6 0h2m5 0h1m2 0h2m5 0h4m7 0h2m2 0h2m1 0h2m2 0h1m1 0h2m8 0h1m5 0h2m2 0h1m11 0h1m3 0h1m8 0h1M0 225.5h1m5 0h4m4 0h4m1 0h5m3 0h1m1 0h4m8 0h1m1 0h1m1 0h2m4 0h1m7 0h5m5 0h1m1 0h4m1 0h1m1 0h1m3 0h2m2 0h2m2 0h1m1 0h1m2 0h4m1 0h1m6 0h1m2 0h1m3 0h1m1 0h1m1 0h3m2 0h3m2 0h1m1 0h2m1 0h1m1 0h1m4 0h1m3 0h1m5 0h2m1 0h1m7 0h2m1 0h1m2 0h1m2 0h1m1 0h2m3 0h4m2 0h1m4 0h2m1 0h1m1 0h2m1 0h2m2 0h2m1 0h1m12 0h1m5 0h1m6 0h1m4 0h2m15 0h1M0 226.5h1m4 0h4m3 0h5m1 0h5m3 0h1m2 0h1m1 0h2m4 0h1m2 0h1m4 0h1m4 0h1m4 0h2m3 0h3m5 0h2m1 0h5m1 0h1m2 0h3m3 0h1m2 0h1m4 0h4m6 0h1m3 0h1m2 0h1m1 0h1m1 0h1m2 0h3m1 0h2m2 0h1m3 0h3m7 0h1m2 0h1m2 0h1m1 0h3m2 0h1m6 0h2m1 0h1m2 0h1m4 0h2m3 0h4m1 0h1m5 0h4m1 0h2m1 0h2m2 0h1m1 0h1m8 0h1m4 0h1m3 0h3m11 0h2m5 0h1m9 0h1m4 0h1M2 227.5h1m1 0h2m4 0h5m1 0h1m1 0h4m2 0h1m2 0h1m1 0h1m1 0h1m4 0h2m2 0h1m9 0h1m3 0h2m1 0h1m1 0h2m1 0h1m3 0h1m1 0h1m2 0h2m1 0h1m1 0h1m2 0h2m2 0h1m1 0h1m2 0h1m1 0h1m2 0h4m9 0h1m1 0h3m2 0h1m4 0h1m2 0h2m1 0h2m3 0h3m9 0h1m4 0h1m1 0h1m5 0h1m5 0h1m4 0h2m3 0h2m3 0h3m1 0h2m1 0h1m4 0h3m2 0h4m1 0h3m1 0h1m2 0h1m4 0h1m3 0h2m4 0h1m6 0h1m6 0h1m1 0h1m13 0h1M1 228.5h3m3 0h4m1 0h1m1 0h4m2 0h1m3 0h2m2 0h2m5 0h2m11 0h1m8 0h4m7 0h1m1 0h2m1 0h2m1 0h2m1 0h1m1 0h2m1 0h1m5 0h2m1 0h2m8 0h1m1 0h1m2 0h1m1 0h1m3 0h1m1 0h2m1 0h1m2 0h2m1 0h2m1 0h1m1 0h1m8 0h1m4 0h1m1 0h1m1 0h1m3 0h1m6 0h1m1 0h2m1 0h2m3 0h5m1 0h2m1 0h2m1 0h1m2 0h1m1 0h4m1 0h1m1 0h2m1 0h3m2 0h1m1 0h1m5 0h1m4 0h2m2 0h2m12 0h3m4 0h1m8 0h1m5 0h1M0 229.5h3m3 0h3m4 0h5m1 0h1m3 0h2m1 0h2m6 0h1m18 0h1m2 0h1m2 0h1m8 0h2m1 0h3m1 0h1m3 0h2m1 0h1m2 0h2m3 0h1m1 0h3m5 0h1m3 0h2m2 0h2m2 0h1m2 0h1m1 0h1m2 0h1m1 0h3m4 0h1m4 0h1m3 0h1m2 0h1m1 0h1m1 0h1m5 0h1m2 0h1m3 0h1m1 0h2m1 0h1m5 0h4m4 0h2m1 0h1m5 0h4m1 0h7m10 0h1m4 0h2m2 0h2m11 0h2m1 0h1m15 0h1m5 0h1M0 230.5h1m4 0h3m3 0h2m1 0h3m8 0h2m7 0h1m2 0h1m6 0h1m4 0h1m2 0h1m1 0h2m2 0h3m3 0h1m1 0h2m1 0h1m1 0h4m2 0h4m3 0h2m6 0h1m2 0h1m3 0h1m3 0h2m2 0h2m4 0h1m1 0h1m2 0h2m1 0h5m3 0h1m10 0h2m1 0h1m1 0h1m2 0h1m2 0h3m4 0h5m6 0h3m5 0h1m1 0h1m4 0h8m1 0h2m1 0h2m2 0h1m6 0h1m4 0h2m2 0h1m1 0h1m2 0h1m7 0h2m1 0h1m14 0h2M5 231.5h2m1 0h1m1 0h3m1 0h2m7 0h1m1 0h1m3 0h1m6 0h1m6 0h2m4 0h1m1 0h2m1 0h2m1 0h2m6 0h1m1 0h1m1 0h5m3 0h2m3 0h1m1 0h1m2 0h1m3 0h1m1 0h2m6 0h2m1 0h1m1 0h1m1 0h1m4 0h1m3 0h2m1 0h3m1 0h1m6 0h1m3 0h1m3 0h1m8 0h1m1 0h2m7 0h2m2 0h1m3 0h4m1 0h1m3 0h1m3 0h1m2 0h2m1 0h3m2 0h1m1 0h3m1 0h1m2 0h1m11 0h1m11 0h1m3 0h2m2 0h2m1 0h2m6 0h1m2 0h1m1 0h1m1 0h1m4 0h1M0 232.5h1m3 0h3m2 0h3m1 0h2m1 0h1m2 0h1m2 0h1m2 0h1m2 0h1m10 0h1m2 0h1m1 0h1m3 0h1m1 0h3m2 0h1m1 0h1m5 0h1m4 0h4m4 0h2m2 0h1m2 0h1m1 0h1m2 0h1m2 0h1m1 0h1m5 0h3m1 0h2m1 0h2m3 0h1m5 0h1m2 0h3m5 0h1m1 0h1m7 0h1m8 0h1m1 0h1m4 0h1m3 0h2m2 0h1m3 0h2m2 0h1m1 0h1m2 0h2m1 0h1m2 0h1m1 0h1m1 0h3m2 0h1m1 0h4m7 0h1m4 0h1m3 0h2m3 0h1m6 0h1m3 0h1m2 0h2m2 0h1m6 0h1m5 0h2m4 0h1M3 233.5h3m4 0h1m1 0h3m9 0h2m2 0h1m2 0h1m1 0h1m6 0h1m2 0h1m3 0h1m2 0h2m1 0h4m5 0h1m2 0h1m1 0h3m5 0h1m1 0h2m1 0h1m1 0h1m6 0h1m2 0h3m3 0h4m1 0h1m1 0h3m8 0h3m1 0h2m8 0h1m2 0h1m3 0h1m3 0h1m4 0h3m3 0h1m4 0h1m3 0h1m4 0h1m2 0h2m5 0h1m1 0h1m1 0h2m3 0h4m3 0h3m3 0h1m7 0h1m4 0h2m11 0h1m2 0h2m9 0h1m2 0h1m5 0h2m5 0h1M2 234.5h4m3 0h1m1 0h4m8 0h2m13 0h1m4 0h1m2 0h2m2 0h1m4 0h1m3 0h1m3 0h1m3 0h1m2 0h1m2 0h2m1 0h1m1 0h1m1 0h2m6 0h1m2 0h3m3 0h3m2 0h4m8 0h1m1 0h1m1 0h1m6 0h1m5 0h1m2 0h1m2 0h1m1 0h1m5 0h2m1 0h1m2 0h1m3 0h2m2 0h2m1 0h1m2 0h2m1 0h2m1 0h1m2 0h3m3 0h1m3 0h4m3 0h4m3 0h1m3 0h1m3 0h1m3 0h2m10 0h2m2 0h2m2 0h2m3 0h1m2 0h1m1 0h2m6 0h2M0 235.5h1m1 0h4m3 0h1m1 0h2m2 0h1m5 0h3m3 0h1m10 0h1m3 0h1m3 0h1m2 0h2m3 0h1m3 0h2m1 0h2m2 0h1m1 0h3m2 0h1m1 0h1m1 0h1m1 0h1m12 0h2m3 0h3m3 0h4m10 0h2m4 0h3m7 0h1m8 0h1m2 0h2m4 0h1m2 0h1m3 0h5m2 0h1m2 0h2m1 0h1m2 0h2m1 0h1m2 0h2m1 0h1m1 0h1m4 0h5m15 0h2m1 0h1m9 0h2m1 0h2m2 0h1m4 0h1m5 0h1m4 0h1m2 0h1m6 0h1M2 236.5h4m3 0h1m1 0h3m3 0h1m1 0h1m1 0h1m4 0h1m5 0h1m4 0h1m2 0h2m1 0h1m2 0h1m6 0h1m3 0h1m1 0h2m3 0h2m1 0h2m3 0h2m2 0h2m3 0h1m1 0h1m3 0h1m3 0h1m1 0h1m2 0h1m2 0h1m1 0h4m1 0h1m2 0h1m3 0h1m2 0h2m4 0h1m5 0h1m1 0h1m10 0h1m1 0h3m1 0h1m3 0h1m1 0h1m2 0h1m1 0h3m4 0h2m1 0h1m1 0h1m1 0h1m3 0h1m4 0h1m4 0h1m2 0h4m2 0h1m1 0h1m3 0h1m2 0h1m4 0h1m11 0h2m1 0h1m1 0h2m5 0h1m2 0h1m1 0h1m1 0h1m6 0h1m6 0h2M1 237.5h3m1 0h1m2 0h1m1 0h3m1 0h2m5 0h1m4 0h2m10 0h1m3 0h1m2 0h2m1 0h1m9 0h2m1 0h1m3 0h2m1 0h1m1 0h2m1 0h3m2 0h1m2 0h1m3 0h1m2 0h2m2 0h1m2 0h1m2 0h2m1 0h4m7 0h1m3 0h2m3 0h1m4 0h1m3 0h1m6 0h1m1 0h1m3 0h2m1 0h1m2 0h1m1 0h2m3 0h3m1 0h1m4 0h3m2 0h2m3 0h1m2 0h1m1 0h1m5 0h1m1 0h3m2 0h2m2 0h1m14 0h1m11 0h1m1 0h1m3 0h1m1 0h1m3 0h1m1 0h1m16 0h1M0 238.5h2m2 0h1m2 0h1m1 0h4m1 0h1m1 0h1m8 0h1m4 0h1m6 0h2m1 0h2m1 0h2m9 0h2m1 0h3m4 0h1m1 0h1m2 0h2m1 0h3m1 0h2m1 0h1m5 0h1m2 0h1m1 0h2m5 0h3m1 0h3m1 0h1m5 0h1m2 0h1m1 0h1m3 0h1m1 0h1m3 0h1m1 0h1m4 0h1m2 0h1m2 0h2m2 0h1m1 0h1m5 0h1m2 0h1m1 0h1m1 0h1m2 0h1m2 0h1m3 0h3m1 0h1m3 0h2m1 0h1m3 0h1m3 0h3m1 0h3m3 0h1m4 0h1m4 0h1m1 0h1m1 0h1m4 0h1m1 0h1m3 0h1m1 0h1m4 0h1m5 0h2m1 0h1m9 0h1m3 0h1m1 0h1M0 239.5h3m4 0h2m1 0h3m1 0h1m8 0h1m1 0h1m6 0h1m5 0h1m1 0h2m1 0h1m10 0h1m2 0h2m2 0h1m4 0h3m1 0h1m1 0h1m2 0h2m1 0h1m5 0h1m1 0h2m1 0h3m5 0h2m2 0h1m1 0h2m6 0h1m2 0h3m2 0h2m5 0h1m1 0h1m3 0h1m2 0h1m2 0h2m2 0h2m1 0h1m2 0h3m3 0h2m1 0h1m1 0h2m1 0h2m2 0h1m1 0h2m1 0h1m1 0h1m1 0h2m2 0h1m6 0h2m1 0h4m2 0h2m4 0h2m4 0h1m1 0h1m5 0h1m1 0h1m2 0h1m1 0h1m1 0h1m4 0h2m2 0h1m1 0h1m7 0h1m3 0h1m5 0h1m1 0h1M0 240.5h1m1 0h1m4 0h5m2 0h1m5 0h3m1 0h2m9 0h1m1 0h4m12 0h2m1 0h2m4 0h1m1 0h1m1 0h2m1 0h2m2 0h2m1 0h1m4 0h2m1 0h2m2 0h1m7 0h2m1 0h3m1 0h1m10 0h2m3 0h1m9 0h1m7 0h2m2 0h1m1 0h2m3 0h1m1 0h5m6 0h2m2 0h1m1 0h1m5 0h3m6 0h1m3 0h1m1 0h3m3 0h1m6 0h1m7 0h1m11 0h3m4 0h1m3 0h1m1 0h2m9 0h2m7 0h2M1 241.5h1m1 0h1m2 0h5m1 0h1m1 0h1m4 0h3m1 0h1m7 0h1m4 0h4m13 0h2m9 0h1m1 0h1m1 0h1m3 0h3m1 0h1m2 0h2m3 0h1m1 0h1m8 0h1m1 0h6m8 0h1m1 0h1m4 0h1m4 0h1m4 0h1m1 0h1m5 0h2m3 0h2m2 0h1m3 0h2m1 0h2m5 0h2m1 0h2m1 0h1m4 0h1m1 0h3m9 0h1m1 0h2m1 0h1m3 0h2m21 0h1m3 0h3m3 0h1m2 0h1m2 0h4m8 0h1m3 0h1m4 0h3M1 242.5h1m1 0h1m1 0h4m9 0h1m1 0h1m1 0h2m7 0h1m2 0h5m10 0h1m2 0h2m5 0h1m2 0h1m1 0h1m1 0h1m4 0h1m1 0h1m2 0h1m1 0h1m2 0h1m1 0h2m3 0h1m1 0h2m2 0h2m1 0h3m10 0h2m1 0h2m2 0h1m3 0h2m3 0h2m5 0h1m2 0h1m3 0h1m6 0h2m1 0h2m6 0h2m1 0h3m1 0h1m3 0h1m1 0h2m11 0h4m1 0h1m3 0h1m16 0h1m5 0h1m2 0h4m2 0h1m2 0h1m3 0h1m1 0h2m1 0h2m6 0h1m1 0h1m3 0h2m1 0h2M1 243.5h2m1 0h4m9 0h2m1 0h1m4 0h1m4 0h2m2 0h3m7 0h1m5 0h3m5 0h1m1 0h1m2 0h1m2 0h1m3 0h1m1 0h2m1 0h2m4 0h2m1 0h1m5 0h2m2 0h5m9 0h1m1 0h1m1 0h1m7 0h1m4 0h2m1 0h2m1 0h1m2 0h1m1 0h1m3 0h2m5 0h1m2 0h2m5 0h2m1 0h1m1 0h1m5 0h2m2 0h1m9 0h2m1 0h2m2 0h2m1 0h1m16 0h1m8 0h1m1 0h2m4 0h1m1 0h1m2 0h3m2 0h1m3 0h1m3 0h1m2 0h1m3 0h1m1 0h3M0 244.5h1m1 0h1m1 0h3m5 0h1m2 0h1m1 0h1m1 0h1m1 0h1m8 0h2m1 0h3m7 0h1m1 0h1m3 0h1m1 0h1m1 0h1m9 0h1m2 0h2m2 0h3m1 0h2m1 0h1m1 0h1m1 0h1m5 0h1m1 0h2m2 0h5m3 0h1m6 0h1m2 0h1m1 0h1m6 0h1m3 0h1m4 0h2m3 0h3m1 0h2m3 0h2m1 0h2m7 0h1m2 0h4m1 0h1m3 0h1m1 0h1m1 0h1m9 0h3m1 0h2m3 0h1m2 0h1m10 0h1m3 0h1m3 0h1m1 0h1m3 0h3m3 0h1m5 0h2m7 0h1m3 0h2m7 0h3M0 245.5h6m2 0h1m2 0h1m1 0h1m3 0h2m1 0h1m4 0h1m3 0h1m2 0h2m1 0h1m7 0h1m7 0h2m6 0h1m2 0h1m3 0h1m3 0h1m1 0h3m2 0h2m8 0h1m1 0h2m2 0h3m4 0h1m6 0h2m1 0h2m6 0h1m1 0h1m1 0h1m3 0h1m2 0h1m4 0h2m3 0h1m2 0h1m1 0h4m6 0h1m2 0h2m1 0h1m1 0h1m3 0h1m1 0h2m6 0h1m1 0h1m3 0h4m2 0h2m8 0h1m4 0h1m10 0h1m3 0h2m4 0h1m2 0h1m2 0h2m3 0h2m8 0h1m5 0h5M0 246.5h3m1 0h1m5 0h1m1 0h2m2 0h2m1 0h1m5 0h1m1 0h1m1 0h1m1 0h1m1 0h1m7 0h1m9 0h2m7 0h2m6 0h1m1 0h5m1 0h2m2 0h1m5 0h1m2 0h1m2 0h1m1 0h1m10 0h1m1 0h1m1 0h1m1 0h1m8 0h1m5 0h1m3 0h1m3 0h2m2 0h1m1 0h2m1 0h3m5 0h1m3 0h3m1 0h1m1 0h2m1 0h1m1 0h2m7 0h2m3 0h1m1 0h3m2 0h3m8 0h1m9 0h2m2 0h1m3 0h1m3 0h1m1 0h1m4 0h4m2 0h1m1 0h1m7 0h1m5 0h1m1 0h3M0 247.5h3m5 0h1m1 0h1m4 0h4m5 0h2m2 0h1m1 0h2m7 0h1m2 0h1m6 0h1m1 0h1m7 0h3m1 0h1m5 0h2m1 0h2m2 0h1m4 0h1m1 0h1m1 0h6m1 0h1m1 0h1m6 0h1m3 0h1m1 0h2m1 0h1m5 0h1m3 0h1m1 0h1m2 0h1m2 0h1m3 0h2m4 0h2m1 0h3m2 0h1m3 0h1m4 0h1m1 0h1m2 0h3m1 0h1m9 0h2m4 0h1m1 0h1m2 0h1m1 0h2m9 0h1m4 0h1m3 0h1m11 0h3m2 0h1m1 0h4m2 0h2m6 0h1m2 0h1m6 0h4m1 0h1M0 248.5h2m1 0h1m2 0h1m1 0h1m1 0h1m4 0h3m5 0h2m1 0h3m1 0h1m6 0h1m3 0h2m3 0h1m2 0h1m1 0h1m7 0h1m1 0h1m5 0h6m3 0h1m4 0h1m2 0h2m1 0h2m1 0h1m1 0h1m3 0h1m3 0h1m3 0h2m1 0h1m1 0h1m5 0h1m3 0h2m2 0h1m2 0h1m3 0h2m1 0h1m2 0h2m1 0h1m1 0h2m2 0h1m3 0h1m2 0h1m1 0h1m2 0h1m1 0h2m9 0h1m1 0h1m1 0h3m2 0h2m1 0h1m2 0h1m1 0h2m9 0h1m6 0h1m1 0h1m5 0h1m4 0h2m3 0h1m2 0h1m5 0h1m2 0h1m3 0h1m1 0h1m2 0h1m4 0h1m1 0h3m1 0h1M0 249.5h1m1 0h2m1 0h3m1 0h1m4 0h1m1 0h1m3 0h4m1 0h1m1 0h1m1 0h2m5 0h1m3 0h1m4 0h1m5 0h1m6 0h1m1 0h1m1 0h1m3 0h5m2 0h1m1 0h1m4 0h2m1 0h2m5 0h2m9 0h1m1 0h3m1 0h2m12 0h1m2 0h2m2 0h2m4 0h2m2 0h3m2 0h1m5 0h1m1 0h2m4 0h5m4 0h1m4 0h2m1 0h1m2 0h1m1 0h1m2 0h1m1 0h1m1 0h1m17 0h1m1 0h1m4 0h1m4 0h2m4 0h2m1 0h1m17 0h1m3 0h1m2 0h2m1 0h1M0 250.5h1m2 0h1m1 0h1m1 0h2m3 0h1m1 0h2m3 0h1m1 0h7m1 0h2m4 0h1m2 0h3m1 0h1m16 0h1m1 0h1m1 0h1m2 0h4m1 0h1m1 0h1m4 0h4m1 0h1m4 0h2m1 0h1m7 0h1m3 0h2m2 0h1m2 0h1m7 0h2m4 0h1m3 0h1m2 0h1m1 0h4m1 0h1m2 0h1m7 0h1m1 0h1m4 0h1m1 0h3m5 0h1m2 0h1m1 0h2m3 0h1m2 0h1m2 0h1m2 0h1m11 0h1m5 0h2m10 0h3m1 0h1m1 0h2m7 0h1m3 0h1m3 0h1m4 0h1m6 0h2m1 0h1m1 0h1M1 251.5h2m1 0h1m3 0h1m1 0h1m1 0h3m2 0h1m1 0h5m2 0h2m1 0h1m4 0h1m2 0h2m1 0h1m1 0h1m2 0h1m3 0h1m9 0h1m1 0h2m2 0h2m1 0h3m1 0h1m3 0h2m1 0h2m1 0h1m3 0h1m1 0h2m1 0h1m9 0h1m1 0h1m4 0h3m7 0h1m4 0h3m1 0h1m1 0h2m2 0h3m2 0h1m8 0h2m5 0h2m1 0h2m6 0h1m4 0h2m2 0h2m3 0h1m3 0h1m3 0h2m4 0h1m7 0h1m1 0h1m4 0h1m4 0h1m1 0h2m1 0h1m1 0h2m1 0h1m3 0h1m3 0h1m3 0h1m2 0h1m3 0h1m4 0h1m2 0h3m2 0h1M0 252.5h2m2 0h1m2 0h1m2 0h3m4 0h1m1 0h4m2 0h1m2 0h1m8 0h3m2 0h1m5 0h1m2 0h1m7 0h1m1 0h1m2 0h6m6 0h3m1 0h3m4 0h1m9 0h1m4 0h1m1 0h1m2 0h2m2 0h1m10 0h1m2 0h1m2 0h2m1 0h4m2 0h2m7 0h2m1 0h2m3 0h2m1 0h1m5 0h1m3 0h3m1 0h2m1 0h2m2 0h1m4 0h1m3 0h2m9 0h1m1 0h2m1 0h1m2 0h2m4 0h1m1 0h2m1 0h2m1 0h1m9 0h1m3 0h1m2 0h1m8 0h1m1 0h3m3 0h1M0 253.5h2m4 0h1m2 0h2m1 0h2m1 0h2m1 0h3m1 0h2m1 0h1m9 0h1m1 0h3m1 0h1m6 0h1m9 0h2m1 0h1m1 0h1m1 0h5m6 0h1m1 0h1m1 0h2m4 0h2m2 0h1m5 0h1m7 0h1m1 0h1m14 0h2m1 0h1m2 0h2m1 0h4m2 0h2m2 0h1m2 0h1m3 0h2m4 0h1m1 0h2m2 0h2m2 0h1m1 0h1m1 0h1m1 0h1m1 0h1m1 0h2m2 0h1m7 0h1m11 0h1m1 0h2m1 0h1m10 0h3m1 0h1m2 0h2m4 0h1m3 0h1m2 0h1m2 0h1m11 0h2m3 0h2M0 254.5h1m2 0h1m1 0h1m2 0h2m1 0h1m1 0h3m2 0h3m1 0h1m1 0h1m4 0h1m2 0h1m2 0h1m1 0h3m7 0h2m6 0h1m1 0h1m1 0h1m1 0h1m1 0h4m8 0h2m1 0h1m5 0h1m1 0h1m3 0h1m5 0h1m1 0h1m2 0h1m3 0h2m1 0h1m6 0h1m2 0h1m1 0h2m2 0h1m2 0h2m1 0h2m3 0h1m1 0h1m1 0h1m2 0h2m3 0h2m1 0h1m2 0h2m2 0h1m1 0h1m10 0h1m1 0h1m1 0h1m9 0h1m2 0h1m6 0h2m2 0h1m1 0h1m5 0h1m5 0h4m3 0h2m5 0h1m2 0h1m3 0h1m3 0h1m7 0h1m1 0h3m1 0h4M0 255.5h4m1 0h1m4 0h2m1 0h2m2 0h3m1 0h4m2 0h1m3 0h1m2 0h1m1 0h3m8 0h1m2 0h1m6 0h3m1 0h1m1 0h3m4 0h1m3 0h1m1 0h3m4 0h1m5 0h1m5 0h1m1 0h1m3 0h1m1 0h2m12 0h1m1 0h2m1 0h2m1 0h4m4 0h1m5 0h2m1 0h1m3 0h1m2 0h1m3 0h1m7 0h2m3 0h2m1 0h1m2 0h3m5 0h1m2 0h2m7 0h3m2 0h2m1 0h1m5 0h1m3 0h1m1 0h3m3 0h2m8 0h1m3 0h1m1 0h1m2 0h1m9 0h2m1 0h4"/>
<path stroke="#287c8e" d="M25 0.5h1m1 0h1m3 0h3m2 0h1m4 0h1m8 0h1m2 0h1m3 0h1m5 0h1m12 0h1m17 0h1m2 0h1m7 0h1m15 0h1m16 0h3m14 0h1m3 0h2m14 0h2m12 0h1m2 0h4m8 0h2m10 0h1m17 0h1m6 0h1m1 0h1m1 0h1m1 0h2M1 1.5h1m8 0h1m12 0h1m5 0h1m2 0h1m2 0h1m2 0h1m14 0h2m1 0h1m6 0h1m10 0h1m18 0h1m11 0h1m30 0h3m2 0h1m12 0h1m4 0h1m2 0h1m4 0h1m6 0h2m17 0h3m20 0h1m3 0h1m1 0h1m4 0h1m4 0h1m10 0h1m2 0h1M0 2.5h1m19 0h1m8 0h2m1 0h1m9 0h1m8 0h1m1 0h1m1 0h1m22 0h1m13 0h2m10 0h2m5 0h1m3 0h1m4 0h1m13 0h5m12 0h1m7 0h1m1 0h1m6 0h1m5 0h1m3 0h1m9 0h1m4 0h2m8 0h1m12 0h1m4 0h1m4 0h1m3 0h1m10 0h1m2 0h1M7 3.5h1m5 0h1m9 0h1m4 0h2m11 0h1m10 0h2m2 0h1m16 0h1m20 0h1m8 0h2m9 0h1m4 0h1m13 0h2m1 0h2m3 0h1m11 0h1m4 0h1m5 0h1m2 0h1m3 0h1m5 0h1m10 0h1m2 0h3m9 0h2m11 0h1m9 0h1m1 0h3m8 0h1M7 4.5h1m13 0h1m1 0h1m3 0h1m4 0h1m18 0h2m2 0h1m1 0h1m14 0h1m20 0h2m7 0h1m19 0h1m9 0h1m2 0h2m3 0h1m16 0h2m11 0h1m4 0h2m13 0h5m8 0h1m4 0h1m4 0h1m11 0h1m14 0h1m4 0h1M0 5.5h1m4 0h1m16 0h1m3 0h1m3 0h1m8 0h1m9 0h2m1 0h1m3 0h1m5 0h1m7 0h1m6 0h1m13 0h1m1 0h2m6 0h1m8 0h1m11 0h1m11 0h1m1 0h1m13 0h1m5 0h2m5 0h1m9 0h1m2 0h1m2 0h1m5 0h1m3 0h4m7 0h1m7 0h1m10 0h1m4 0h2m12 0h1m6 0h1M4 6.5h2m3 0h1m40 0h2m2 0h1m15 0h1m22 0h1m26 0h1m11 0h3m17 0h1m2 0h1m1 0h1m4 0h1m4 0h1m2 0h1m5 0h1m11 0h1m2 0h2m5 0h1m3 0h1m8 0h1m9 0h1m1 0h2m1 0h1m1 0h1m12 0h1m2 0h1m10 0h1M4 7.5h1m11 0h1m2 0h2m4 0h1m18 0h1m3 0h2m2 0h1m1 0h1m18 0h1m4 0h1m41 0h1m10 0h3m21 0h2m2 0h1m10 0h1m4 0h1m9 0h1m2 0h1m1 0h2m6 0h1m3 0h1m18 0h1m2 0h1m2 0h1m7 0h1m3 0h1M12 8.5h1m6 0h1m7 0h1m3 0h1m5 0h1m1 0h1m8 0h1m3 0h1m1 0h1m26 0h1m8 0h1m41 0h2m10 0h1m8 0h1m1 0h2m27 0h1m3 0h1m1 0h2m20 0h1m7 0h1m1 0h1m3 0h1m12 0h1m1 0h1M4 9.5h1m11 0h1m1 0h1m17 0h1m3 0h1m7 0h1m2 0h1m1 0h1m22 0h1m3 0h1m50 0h1m8 0h1m11 0h1m16 0h1m14 0h1m3 0h2m4 0h1m3 0h1m13 0h1m5 0h1m2 0h1m2 0h1m14 0h1m14 0h1M7 10.5h1m2 0h1m13 0h1m16 0h1m1 0h1m2 0h1m3 0h2m23 0h1m35 0h1m5 0h1m12 0h1m2 0h1m6 0h1m8 0h1m19 0h1m7 0h1m10 0h1m1 0h1m1 0h1m3 0h1m21 0h1m19 0h1m14 0h1M24 11.5h1m13 0h1m5 0h2m2 0h1m2 0h1m22 0h2m3 0h1m30 0h1m8 0h1m12 0h1m14 0h1m2 0h1m1 0h1m13 0h1m9 0h1m3 0h1m6 0h1m2 0h1m5 0h1m10 0h1m8 0h1m1 0h2m17 0h2M17 12.5h2m2 0h1m15 0h1m1 0h1m6 0h1m5 0h1m20 0h1m20 0h1m25 0h1m11 0h1m14 0h1m1 0h1m17 0h1m7 0h1m3 0h1m9 0h1m5 0h1m9 0h1m10 0h3m4 0h1m12 0h2m16 0h1M36 13.5h2m4 0h2m6 0h2m26 0h1m1 0h1m12 0h1m11 0h1m2 0h2m9 0h1m10 0h1m15 0h1m6 0h1m4 0h1m4 0h1m22 0h1m1 0h2m5 0h1m11 0h1m5 0h1m2 0h1m6 0h1m10 0h2m16 0h1M4 14.5h1m13 0h1m15 0h2m2 0h1m3 0h1m5 0h2m18 0h1m4 0h1m24 0h1m18 0h1m13 0h2m2 0h1m7 0h1m4 0h1m7 0h1m6 0h1m6 0h1m3 0h1m14 0h1m4 0h2m9 0h1m5 0h1m1 0h1m1 0h2m2 0h1m2 0h1m11 0h1M2 15.5h2m14 0h1m18 0h1m2 0h1m1 0h1m4 0h2m10 0h1m41 0h1m13 0h1m13 0h1m1 0h1m8 0h1m18 0h1m14 0h1m13 0h1m4 0h1m10 0h1m14 0h1m10 0h2M1 16.5h1m4 0h1m9 0h1m1 0h1m11 0h1m5 0h1m5 0h1m5 0h1m21 0h1m15 0h1m13 0h1m1 0h1m11 0h1m15 0h1m8 0h1m12 0h1m15 0h1m2 0h1m16 0h1m1 0h1m6 0h1m14 0h1m4 0h1m12 0h1m8 0h1m2 0h1M18 17.5h1m2 0h1m14 0h1m10 0h1m10 0h1m7 0h1m5 0h1m25 0h1m15 0h1m18 0h1m3 0h1m1 0h1m11 0h1m13 0h1m14 0h1m6 0h3m7 0h1m11 0h1m2 0h1m2 0h1m1 0h2m10 0h1m7 0h1m12 0h1M2 18.5h1m13 0h1m3 0h1m4 0h1m9 0h1m10 0h2m18 0h1m7 0h1m10 0h1m12 0h1m9 0h1m22 0h1m1 0h1m2 0h1m2 0h1m2 0h1m8 0h1m12 0h1m2 0h1m19 0h2m1 0h1m11 0h1m3 0h1m7 0h1m2 0h2m23 0h1m6 0h1M0 19.5h1m29 0h1m2 0h1m52 0h1m9 0h2m18 0h1m14 0h2m11 0h1m6 0h1m11 0h1m11 0h1m10 0h1m1 0h1m15 0h1m3 0h1m5 0h1m2 0h1m9 0h1m1 0h1m6 0h2M13 20.5h1m2 0h1m3 0h1m19 0h1m5 0h1m16 0h1m31 0h1m13 0h1m20 0h2m4 0h1m1 0h1m22 0h1m12 0h1m5 0h1m8 0h1m12 0h1m9 0h1m13 0h1m4 0h1m4 0h1M19 21.5h1m10 0h1m7 0h2m5 0h1m57 0h1m24 0h3m2 0h1m1 0h1m15 0h1m3 0h1m3 0h1m3 0h1m15 0h1m6 0h1m14 0h2m4 0h1m3 0h2m8 0h1m3 0h2m9 0h1M6 22.5h1m5 0h1m9 0h1m2 0h2m5 0h1m11 0h1m8 0h1m40 0h1m12 0h1m20 0h3m4 0h1m13 0h1m8 0h2m1 0h1m8 0h1m3 0h1m3 0h1m7 0h1m13 0h1m1 0h1m4 0h1m2 0h1m15 0h1m4 0h1m9 0h1M11 23.5h1m1 0h1m1 0h1m5 0h2m2 0h1m5 0h1m3 0h1m3 0h1m11 0h1m13 0h1m1 0h1m25 0h1m34 0h1m29 0h1m14 0h1m5 0h1m4 0h2m14 0h1m7 0h3m4 0h1m1 0h1m8 0h1m1 0h1m1 0h1m10 0h1M11 24.5h1m1 0h1m7 0h1m2 0h1m4 0h1m5 0h1m2 0h1m26 0h1m14 0h1m21 0h1m11 0h1m10 0h1m6 0h1m14 0h2m1 0h1m4 0h1m27 0h2m8 0h1m4 0h1m1 0h1m5 0h1m1 0h2m14 0h1m2 0h2m11 0h1M10 25.5h1m4 0h1m3 0h1m5 0h1m2 0h1m6 0h3m75 0h1m2 0h2m13 0h1m23 0h1m11 0h1m10 0h1m3 0h3m8 0h1m2 0h2m7 0h1m1 0h2m16 0h1m13 0h1m9 0h1M8 26.5h2m5 0h1m1 0h1m2 0h1m7 0h1m5 0h3m15 0h1m5 0h1m37 0h1m10 0h1m5 0h1m2 0h1m11 0h1m1 0h1m4 0h1m11 0h1m2 0h2m26 0h1m3 0h1m23 0h2m7 0h1m7 0h1m9 0h1m5 0h1m9 0h1M8 27.5h1m15 0h2m6 0h1m1 0h2m15 0h1m55 0h1m2 0h1m1 0h1m2 0h1m12 0h1m14 0h1m5 0h2m17 0h1m11 0h1m1 0h1m1 0h1m20 0h1m7 0h1m20 0h1m2 0h1m4 0h1M8 28.5h1m4 0h2m1 0h1m2 0h1m2 0h1m3 0h1m6 0h2m2 0h1m4 0h1m7 0h1m17 0h1m10 0h1m16 0h1m5 0h1m2 0h1m6 0h1m1 0h1m28 0h1m4 0h2m27 0h1m4 0h1m12 0h1m2 0h1m4 0h1m7 0h1m13 0h1m7 0h1m5 0h3m13 0h1M7 29.5h1m3 0h1m4 0h1m7 0h1m8 0h2m13 0h1m5 0h1m12 0h1m9 0h1m28 0h1m4 0h1m34 0h1m2 0h1m8 0h1m21 0h1m2 0h1m9 0h1m3 0h1m4 0h1m3 0h1m12 0h1m4 0h1m7 0h1m6 0h1M1 30.5h1m4 0h1m3 0h1m12 0h1m9 0h2m11 0h1m57 0h1m1 0h1m4 0h2m18 0h1m12 0h1m2 0h1m1 0h1m7 0h1m9 0h1m6 0h1m2 0h1m1 0h1m3 0h1m9 0h1m3 0h1m7 0h1m9 0h1m8 0h1m6 0h2m12 0h1M0 31.5h1m6 0h1m4 0h1m8 0h1m2 0h1m4 0h1m2 0h1m12 0h1m20 0h1m26 0h1m1 0h1m9 0h1m3 0h3m18 0h2m10 0h2m1 0h1m3 0h1m16 0h1m10 0h1m1 0h1m13 0h1m2 0h1m5 0h2m10 0h2m7 0h1m7 0h1m4 0h1m1 0h1m6 0h1M4 32.5h1m7 0h2m1 0h1m5 0h1m8 0h2m6 0h1m4 0h1m10 0h1m15 0h1m7 0h1m7 0h1m5 0h1m9 0h2m2 0h1m1 0h1m1 0h2m18 0h1m10 0h1m1 0h1m11 0h1m18 0h1m1 0h2m15 0h1m7 0h2m11 0h1m15 0h1m2 0h1m2 0h1m7 0h1m7 0h1m1 0h1M4 33.5h1m5 0h1m1 0h1m6 0h3m1 0h1m5 0h1m1 0h1m10 0h1m11 0h1m2 0h1m14 0h1m4 0h1m15 0h1m7 0h2m2 0h3m1 0h2m18 0h1m9 0h1m14 0h1m17 0h1m2 0h1m24 0h2m16 0h1m5 0h1m7 0h1m19 0h1M4 34.5h1m1 0h1m1 0h1m3 0h1m5 0h4m5 0h1m1 0h1m7 0h1m1 0h1m16 0h1m15 0h1m17 0h1m10 0h1m2 0h3m2 0h1m5 0h1m13 0h1m3 0h1m11 0h1m2 0h1m23 0h2m3 0h1m12 0h1m6 0h1m1 0h3m2 0h1m20 0h1m4 0h2m10 0h1M8 35.5h1m8 0h1m1 0h2m7 0h1m5 0h1m2 0h1m7 0h1m7 0h1m17 0h1m28 0h1m1 0h1m1 0h1m1 0h1m19 0h2m10 0h1m1 0h1m5 0h1m8 0h1m16 0h1m9 0h1m6 0h1m8 0h1m1 0h1m1 0h1m20 0h1m4 0h1m1 0h2m4 0h1m15 0h1M3 36.5h1m4 0h1m6 0h1m1 0h3m14 0h1m8 0h1m7 0h2m1 0h1m1 0h1m13 0h1m22 0h1m6 0h2m1 0h1m1 0h2m2 0h1m15 0h1m5 0h1m5 0h1m9 0h1m23 0h1m3 0h1m21 0h1m3 0h2m14 0h1m9 0h1m1 0h2m9 0h1m10 0h1M7 37.5h2m4 0h1m2 0h2m1 0h2m7 0h1m5 0h1m1 0h1m5 0h1m6 0h1m1 0h2m8 0h1m29 0h1m6 0h2m1 0h1m1 0h1m1 0h1m2 0h1m8 0h1m6 0h1m11 0h1m2 0h1m14 0h1m16 0h1m3 0h1m5 0h1m13 0h2m2 0h2m22 0h1m2 0h2m1 0h1m8 0h1m1 0h1m6 0h1m2 0h1M15 38.5h2m2 0h2m11 0h1m16 0h2m10 0h1m35 0h2m1 0h1m4 0h1m3 0h1m24 0h1m1 0h1m2 0h1m1 0h1m6 0h1m32 0h1m3 0h1m10 0h1m1 0h1m1 0h1m16 0h1m7 0h1m2 0h2m7 0h1m10 0h1m1 0h1M0 39.5h1m12 0h1m1 0h2m2 0h1m25 0h1m1 0h1m2 0h1m2 0h1m37 0h1m5 0h1m1 0h1m4 0h1m4 0h1m26 0h1m2 0h1m14 0h1m5 0h1m12 0h1m6 0h1m6 0h1m9 0h3m19 0h1m3 0h3m1 0h1m8 0h1m1 0h1m7 0h1M0 40.5h1m5 0h2m3 0h2m2 0h2m1 0h1m26 0h1m1 0h1m4 0h1m9 0h1m12 0h1m1 0h1m14 0h1m4 0h1m1 0h1m1 0h2m6 0h1m17 0h1m7 0h1m9 0h1m1 0h1m6 0h1m5 0h1m4 0h1m6 0h1m6 0h1m16 0h3m23 0h1m2 0h1m10 0h1m17 0h1M6 41.5h1m3 0h2m1 0h1m1 0h1m3 0h1m7 0h1m15 0h1m2 0h1m3 0h2m24 0h1m14 0h1m9 0h2m5 0h2m6 0h1m12 0h1m5 0h1m9 0h1m9 0h1m13 0h1m7 0h2m5 0h1m10 0h3m22 0h1m1 0h1m1 0h2m3 0h1m5 0h2M4 42.5h1m4 0h1m3 0h2m2 0h2m15 0h1m6 0h1m3 0h1m3 0h3m19 0h1m13 0h1m3 0h1m1 0h1m6 0h1m2 0h1m2 0h1m3 0h1m2 0h1m14 0h1m6 0h2m11 0h1m6 0h2m3 0h1m3 0h1m5 0h1m6 0h2m16 0h1m2 0h1m22 0h1m5 0h1m2 0h1m22 0h1M3 43.5h1m2 0h2m1 0h1m1 0h3m2 0h1m4 0h1m10 0h1m7 0h1m4 0h1m2 0h1m1 0h1m19 0h1m17 0h1m5 0h1m8 0h1m4 0h1m14 0h1m1 0h1m5 0h2m12 0h1m7 0h1m8 0h1m4 0h1m6 0h1m6 0h1m1 0h1m8 0h1m3 0h1m10 0h1m10 0h1m5 0h1m3 0h1m9 0h1m11 0h1M3 44.5h2m2 0h1m5 0h1m1 0h1m1 0h1m14 0h1m5 0h1m5 0h1m2 0h2m8 0h1m10 0h1m4 0h1m10 0h4m2 0h1m11 0h1m3 0h1m1 0h1m2 0h1m2 0h1m6 0h2m7 0h3m7 0h1m4 0h1m8 0h1m13 0h1m3 0h3m8 0h1m9 0h2m1 0h1m5 0h1m4 0h1m15 0h1m1 0h1m2 0h2m3 0h1m13 0h1M2 45.5h2m2 0h1m5 0h2m1 0h1m1 0h1m17 0h1m2 0h1m7 0h1m1 0h2m22 0h1m2 0h1m8 0h2m4 0h1m14 0h1m25 0h1m12 0h1m6 0h1m4 0h1m14 0h2m9 0h1m4 0h1m4 0h1m29 0h3m2 0h2m3 0h2m3 0h1m13 0h1M1 46.5h2m2 0h2m4 0h1m2 0h1m2 0h1m2 0h1m24 0h1m1 0h2m3 0h1m21 0h1m10 0h1m3 0h1m7 0h1m2 0h1m21 0h1m7 0h1m6 0h1m4 0h1m11 0h1m3 0h1m8 0h1m3 0h1m7 0h1m1 0h1m4 0h1m19 0h1m15 0h1m4 0h2m2 0h2m13 0h1M1 47.5h1m12 0h1m2 0h1m1 0h1m12 0h1m9 0h1m2 0h1m1 0h1m37 0h1m13 0h1m2 0h1m3 0h1m8 0h1m13 0h1m5 0h1m5 0h2m9 0h1m8 0h1m6 0h1m2 0h1m3 0h1m3 0h1m38 0h1m3 0h1m3 0h2m17 0h1M0 48.5h2m4 0h1m5 0h2m13 0h1m3 0h1m5 0h1m9 0h1m31 0h1m5 0h1m2 0h1m9 0h1m1 0h2m3 0h2m3 0h1m23 0h1m4 0h1m11 0h1m8 0h1m6 0h1m10 0h1m10 0h1m23 0h1m5 0h1m2 0h1m3 0h2m8 0h1m7 0h1M0 49.5h2m6 0h1m1 0h1m1 0h2m27 0h1m2 0h1m1 0h1m27 0h1m2 0h1m6 0h1m2 0h1m10 0h1m1 0h1m27 0h1m10 0h2m9 0h1m13 0h1m9 0h1m2 0h1m4 0h1m26 0h1m2 0h1m4 0h1m3 0h1m1 0h1m1 0h1m9 0h1m8 0h1m3 0h1M8 50.5h1m1 0h2m6 0h1m8 0h1m1 0h1m46 0h1m2 0h1m2 0h1m11 0h1m2 0h1m2 0h1m3 0h1m33 0h1m10 0h1m3 0h1m8 0h1m9 0h1m2 0h1m5 0h1m3 0h1m6 0h1m14 0h1m8 0h1m6 0h1m1 0h1m1 0h1m6 0h1m7 0h1m1 0h1m8 0h1M0 51.5h1m6 0h1m2 0h1m6 0h1m8 0h1m14 0h1m23 0h1m5 0h1m24 0h1m12 0h1m8 0h1m2 0h1m14 0h1m2 0h1m11 0h2m2 0h1m8 0h2m6 0h1m7 0h2m23 0h1m15 0h1m1 0h1m13 0h1m2 0h1m2 0h2m8 0h1M6 52.5h1m1 0h2m14 0h1m3 0h1m11 0h1m2 0h1m29 0h1m5 0h1m13 0h2m5 0h1m3 0h1m14 0h1m14 0h2m11 0h1m3 0h1m5 0h1m10 0h1m2 0h1m2 0h1m25 0h1m3 0h2m13 0h1m1 0h2m12 0h1m6 0h1M4 53.5h1m2 0h1m19 0h1m42 0h1m1 0h1m16 0h1m8 0h1m1 0h1m3 0h1m14 0h1m13 0h1m2 0h1m12 0h1m3 0h1m13 0h1m5 0h1m3 0h1m6 0h1m16 0h1m3 0h1m7 0h1m7 0h1m6 0h1m5 0h2m3 0h1m2 0h1M2 54.5h1m4 0h1m17 0h1m1 0h1m5 0h1m10 0h1m8 0h1m16 0h1m28 0h1m30 0h2m20 0h1m4 0h1m4 0h1m2 0h1m1 0h1m1 0h1m6 0h1m3 0h1m23 0h1m3 0h1m3 0h1m4 0h3m2 0h1m4 0h1m12 0h1M0 55.5h1m5 0h1m17 0h3m3 0h1m3 0h1m9 0h1m7 0h1m16 0h2m8 0h1m17 0h1m7 0h1m11 0h1m14 0h1m14 0h1m1 0h1m2 0h2m12 0h1m1 0h2m32 0h1m9 0h1m3 0h3m1 0h1m6 0h1m11 0h1m12 0h1M5 56.5h1m6 0h1m10 0h2m1 0h1m3 0h1m4 0h1m7 0h1m14 0h2m9 0h2m9 0h1m14 0h1m9 0h1m15 0h1m9 0h1m13 0h1m6 0h2m3 0h1m4 0h1m4 0h2m4 0h1m1 0h1m25 0h1m1 0h1m4 0h1m1 0h1m4 0h3m8 0h1m14 0h1m5 0h1m3 0h1M22 57.5h1m3 0h1m1 0h1m13 0h1m6 0h1m6 0h1m1 0h1m11 0h1m3 0h1m3 0h1m12 0h1m2 0h1m2 0h1m7 0h1m23 0h3m2 0h1m16 0h1m4 0h1m8 0h1m2 0h1m4 0h1m12 0h1m8 0h1m19 0h2m26 0h1m5 0h1M21 58.5h1m2 0h1m1 0h1m6 0h1m1 0h1m9 0h1m5 0h1m2 0h1m10 0h1m2 0h2m6 0h1m15 0h1m5 0h1m16 0h1m13 0h1m15 0h1m1 0h1m1 0h1m6 0h1m7 0h1m11 0h1m23 0h1m5 0h2m6 0h2m3 0h1m1 0h1m10 0h2m14 0h1m1 0h1M22 59.5h1m1 0h3m6 0h1m3 0h1m25 0h1m4 0h1m5 0h1m22 0h1m18 0h1m14 0h1m2 0h1m11 0h1m6 0h1m4 0h1m3 0h1m25 0h1m5 0h1m4 0h2m3 0h2m9 0h1m2 0h2m3 0h2m17 0h1m3 0h2M5 60.5h1m2 0h1m11 0h1m3 0h2m6 0h1m10 0h1m6 0h1m13 0h1m7 0h1m24 0h1m3 0h1m12 0h2m28 0h1m1 0h2m13 0h2m8 0h1m3 0h1m8 0h1m4 0h1m3 0h1m5 0h1m6 0h1m5 0h1m2 0h1m1 0h2m3 0h2m14 0h1m2 0h1m2 0h1m4 0h1m1 0h1M22 61.5h1m1 0h1m7 0h1m8 0h1m1 0h1m4 0h1m21 0h1m24 0h1m27 0h1m5 0h1m13 0h3m9 0h1m5 0h1m2 0h1m6 0h1m3 0h1m12 0h1m8 0h1m7 0h1m8 0h3m4 0h1m1 0h1m8 0h1m4 0h1m7 0h1m3 0h1M0 62.5h1m3 0h1m17 0h1m1 0h1m16 0h1m1 0h1m4 0h1m3 0h1m12 0h1m4 0h1m8 0h1m43 0h1m4 0h1m14 0h3m24 0h2m7 0h1m6 0h1m2 0h1m7 0h1m2 0h1m12 0h3m4 0h3m12 0h1m5 0h1m3 0h1m3 0h1m5 0h1M4 63.5h1m3 0h1m5 0h1m3 0h1m22 0h3m3 0h1m16 0h1m4 0h1m15 0h1m8 0h1m1 0h1m4 0h1m10 0h1m16 0h1m11 0h1m1 0h2m8 0h1m5 0h1m10 0h1m1 0h1m23 0h2m11 0h1m2 0h3m6 0h1m17 0h3m2 0h1m3 0h1m4 0h1M3 64.5h1m16 0h1m19 0h3m5 0h1m14 0h1m20 0h1m8 0h2m3 0h1m22 0h1m2 0h1m7 0h1m7 0h1m1 0h2m9 0h1m7 0h2m5 0h1m1 0h1m14 0h1m10 0h1m12 0h1m1 0h2m1 0h1m2 0h1m10 0h1m2 0h1m7 0h1m1 0h2m9 0h1M3 65.5h1m7 0h1m12 0h1m15 0h2m5 0h1m14 0h1m2 0h1m20 0h1m5 0h1m18 0h1m15 0h1m3 0h1m1 0h1m8 0h1m8 0h1m1 0h1m7 0h1m6 0h1m1 0h1m1 0h1m11 0h1m4 0h1m2 0h1m14 0h2m1 0h4m14 0h1m2 0h1m5 0h1m1 0h1m1 0h1m1 0h1m2 0h1M24 66.5h1m14 0h2m5 0h1m43 0h2m33 0h2m12 0h1m1 0h2m9 0h1m7 0h1m6 0h2m1 0h1m22 0h1m3 0h1m8 0h1m4 0h2m4 0h1m19 0h1m3 0h1m5 0h1m4 0h1M1 67.5h1m5 0h1m5 0h1m4 0h1m5 0h1m5 0h1m2 0h1m3 0h1m1 0h1m5 0h1m8 0h1m35 0h1m17 0h1m14 0h1m1 0h1m3 0h1m7 0h1m2 0h1m10 0h1m11 0h1m2 0h2m6 0h1m7 0h1m9 0h1m2 0h1m9 0h1m3 0h3m4 0h1m11 0h1m6 0h1m3 0h2m4 0h1m9 0h1M0 68.5h1m19 0h2m9 0h1m6 0h2m5 0h1m1 0h1m2 0h1m36 0h1m18 0h1m17 0h1m4 0h1m1 0h1m5 0h1m8 0h1m4 0h1m7 0h1m1 0h1m3 0h3m7 0h1m7 0h1m1 0h1m17 0h1m3 0h1m1 0h1m23 0h1m2 0h1m3 0h2m2 0h1m6 0h1m2 0h2M3 69.5h1m7 0h1m7 0h1m4 0h1m5 0h2m6 0h1m2 0h1m8 0h1m2 0h1m9 0h1m14 0h1m26 0h1m16 0h2m6 0h1m8 0h1m10 0h2m12 0h2m8 0h1m3 0h2m4 0h1m3 0h1m11 0h1m3 0h1m1 0h4m29 0h2m2 0h2m6 0h1m2 0h1M2 70.5h1m16 0h1m3 0h2m4 0h1m4 0h1m1 0h1m12 0h1m2 0h1m4 0h1m4 0h1m7 0h1m5 0h1m5 0h1m21 0h1m16 0h2m6 0h1m7 0h2m4 0h1m7 0h1m8 0h1m1 0h1m1 0h1m3 0h1m4 0h1m3 0h2m5 0h1m2 0h1m12 0h1m1 0h1m3 0h2m1 0h1m15 0h1m12 0h1m3 0h1m2 0h1m4 0h1m2 0h1M28 71.5h1m6 0h1m6 0h1m5 0h2m11 0h1m22 0h1m2 0h1m14 0h1m17 0h1m7 0h1m12 0h1m6 0h1m5 0h1m8 0h1m7 0h1m13 0h1m8 0h1m7 0h1m1 0h1m2 0h1m1 0h1m2 0h1m25 0h1m1 0h1m3 0h1m4 0h2m2 0h1M3 72.5h1m13 0h1m1 0h1m3 0h1m3 0h1m7 0h1m5 0h1m4 0h3m12 0h1m16 0h1m24 0h1m11 0h1m3 0h1m2 0h1m3 0h2m3 0h1m1 0h1m6 0h1m6 0h1m6 0h1m5 0h2m8 0h1m2 0h1m9 0h1m9 0h1m4 0h1m8 0h1m3 0h1m6 0h1m2 0h1m11 0h1m2 0h1m1 0h1m1 0h1m7 0h2m2 0h1M2 73.5h1m19 0h2m10 0h1m9 0h3m14 0h1m14 0h1m43 0h1m5 0h1m4 0h1m14 0h1m2 0h1m2 0h1m7 0h1m3 0h1m27 0h1m5 0h1m7 0h1m1 0h1m13 0h1m13 0h1m2 0h1m1 0h1m6 0h1M1 74.5h1m15 0h1m13 0h1m1 0h1m6 0h1m2 0h2m1 0h2m12 0h1m14 0h1m1 0h1m6 0h1m15 0h1m44 0h1m2 0h1m2 0h1m8 0h1m3 0h1m5 0h1m3 0h1m1 0h1m2 0h1m2 0h1m12 0h2m33 0h1m9 0h2m4 0h2m2 0h2M0 75.5h1m12 0h1m1 0h1m2 0h1m10 0h1m9 0h1m3 0h2m15 0h1m13 0h2m9 0h1m13 0h2m14 0h1m2 0h1m21 0h1m6 0h1m3 0h1m6 0h1m1 0h1m1 0h1m4 0h1m4 0h2m9 0h1m7 0h1m2 0h3m10 0h1m13 0h1m7 0h1m8 0h1m2 0h1m3 0h1M0 76.5h1m16 0h1m11 0h1m8 0h1m4 0h1m7 0h1m8 0h1m13 0h3m21 0h2m13 0h1m11 0h1m14 0h2m5 0h1m11 0h2m12 0h1m4 0h1m2 0h1m3 0h1m4 0h1m1 0h1m12 0h1m1 0h1m19 0h2m9 0h2m4 0h1m1 0h1m1 0h1m3 0h1m1 0h1M15 77.5h1m1 0h1m19 0h1m2 0h1m1 0h1m15 0h1m14 0h2m9 0h1m12 0h2m15 0h1m3 0h1m2 0h1m6 0h1m10 0h1m2 0h1m2 0h1m4 0h2m5 0h2m7 0h1m3 0h1m2 0h1m2 0h1m3 0h1m8 0h1m1 0h1m1 0h1m11 0h2m3 0h1m10 0h1m5 0h1m8 0h2m6 0h1m4 0h1m2 0h1m2 0h1M38 78.5h1m2 0h1m9 0h1m5 0h1m7 0h1m7 0h1m9 0h1m12 0h1m15 0h1m11 0h1m13 0h1m2 0h1m2 0h1m4 0h1m6 0h1m1 0h1m5 0h1m14 0h1m11 0h1m7 0h1m4 0h1m16 0h1m13 0h1m8 0h1m6 0h1m2 0h2M14 79.5h1m1 0h1m6 0h1m13 0h1m2 0h1m3 0h1m5 0h1m21 0h1m6 0h1m44 0h1m13 0h1m4 0h2m24 0h1m6 0h1m1 0h1m19 0h2m3 0h2m22 0h1m13 0h1m7 0h2m4 0h1M3 80.5h1m10 0h1m19 0h1m1 0h1m12 0h2m44 0h1m9 0h1m14 0h1m2 0h1m8 0h1m4 0h1m1 0h1m2 0h2m1 0h2m13 0h1m5 0h1m5 0h1m2 0h3m25 0h1m2 0h1m9 0h1m17 0h1m1 0h1m3 0h2m1 0h1m4 0h2m4 0h2M2 81.5h1m9 0h1m62 0h3m17 0h1m18 0h1m3 0h1m13 0h1m4 0h1m1 0h1m2 0h1m13 0h1m4 0h1m13 0h2m7 0h1m38 0h1m5 0h1m8 0h1m8 0h2m6 0h1M11 82.5h1m33 0h1m3 0h1m19 0h1m4 0h1m1 0h1m9 0h1m7 0h1m2 0h1m6 0h1m30 0h1m1 0h1m4 0h1m1 0h2m14 0h1m12 0h3m6 0h2m18 0h1m12 0h1m10 0h1m1 0h1m7 0h1m9 0h2m2 0h2m2 0h1M0 83.5h1m10 0h1m7 0h1m4 0h1m12 0h1m5 0h1m4 0h1m15 0h1m4 0h1m5 0h2m18 0h1m7 0h1m9 0h1m3 0h1m18 0h1m3 0h1m1 0h1m10 0h1m5 0h1m3 0h1m8 0h1m1 0h1m6 0h1m16 0h1m2 0h1m21 0h1m3 0h1m18 0h2m1 0h2M11 84.5h1m6 0h1m4 0h1m49 0h2m19 0h1m6 0h1m27 0h1m6 0h1m1 0h1m3 0h1m1 0h1m10 0h1m7 0h1m4 0h1m3 0h1m7 0h1m16 0h2m1 0h1m21 0h1m2 0h2m7 0h1m7 0h1m3 0h1m1 0h2M10 85.5h1m1 0h1m7 0h1m1 0h1m4 0h1m4 0h1m3 0h1m32 0h1m4 0h1m19 0h1m37 0h1m3 0h1m4 0h2m9 0h1m2 0h1m3 0h1m1 0h1m1 0h1m8 0h1m7 0h1m16 0h2m13 0h1m8 0h1m2 0h1m14 0h2m1 0h1m4 0h2M9 86.5h1m4 0h1m4 0h1m6 0h1m36 0h1m9 0h1m10 0h1m2 0h1m21 0h1m16 0h1m4 0h1m4 0h1m2 0h2m14 0h1m6 0h1m4 0h1m2 0h1m3 0h1m21 0h2m2 0h1m5 0h1m14 0h1m5 0h1m11 0h1m1 0h1m1 0h2m2 0h1m6 0h1M8 87.5h1m10 0h1m15 0h1m5 0h1m20 0h1m9 0h1m9 0h1m1 0h1m10 0h1m26 0h1m7 0h1m6 0h1m3 0h1m8 0h1m6 0h1m2 0h1m5 0h1m2 0h1m2 0h1m2 0h1m19 0h2m7 0h1m7 0h1m6 0h1m18 0h2m3 0h1m9 0h1M13 88.5h1m17 0h1m3 0h1m24 0h1m29 0h1m2 0h2m26 0h1m1 0h1m1 0h1m4 0h1m5 0h1m3 0h2m8 0h1m4 0h1m3 0h1m9 0h1m2 0h1m4 0h1m17 0h1m17 0h1m5 0h1m17 0h2m2 0h1m5 0h1m3 0h1M7 89.5h1m26 0h1m6 0h1m17 0h1m26 0h1m2 0h1m2 0h2m28 0h1m3 0h1m1 0h2m5 0h1m3 0h1m14 0h1m3 0h1m3 0h1m5 0h1m3 0h1m22 0h1m2 0h1m18 0h1m1 0h1m4 0h1m11 0h2m3 0h1m3 0h1m3 0h1M6 90.5h1m11 0h1m2 0h1m11 0h1m6 0h1m18 0h2m3 0h1m2 0h1m12 0h1m5 0h1m2 0h1m5 0h1m3 0h1m4 0h1m17 0h1m4 0h2m5 0h1m5 0h1m10 0h1m3 0h1m4 0h1m10 0h1m22 0h1m8 0h1m32 0h1m2 0h1M4 91.5h1m2 0h1m2 0h1m7 0h1m1 0h1m17 0h1m33 0h1m12 0h1m8 0h1m3 0h1m22 0h2m3 0h1m12 0h1m9 0h2m4 0h1m9 0h1m5 0h1m25 0h1m2 0h1m1 0h1m14 0h1m5 0h1m12 0h1m1 0h1m15 0h1M3 92.5h1m2 0h1m10 0h1m1 0h1m14 0h1m1 0h1m21 0h2m25 0h2m5 0h1m4 0h1m18 0h1m3 0h2m1 0h1m1 0h1m13 0h1m9 0h1m4 0h2m4 0h1m24 0h1m6 0h1m3 0h1m4 0h1m15 0h1m1 0h1m2 0h1m12 0h3m3 0h1M2 93.5h1m3 0h1m4 0h1m5 0h2m52 0h1m12 0h2m6 0h1m4 0h1m6 0h1m4 0h1m5 0h1m4 0h1m1 0h1m15 0h1m6 0h1m2 0h1m3 0h1m1 0h1m6 0h1m6 0h2m1 0h1m4 0h1m12 0h1m2 0h1m3 0h1m15 0h1m3 0h1m18 0h1m5 0h1m1 0h1M0 94.5h1m1 0h1m3 0h1m9 0h1m10 0h1m42 0h1m12 0h1m1 0h1m11 0h1m7 0h1m11 0h1m2 0h2m3 0h1m18 0h1m2 0h2m2 0h1m2 0h1m6 0h1m4 0h1m10 0h1m10 0h1m3 0h1m3 0h1m18 0h2m1 0h1m6 0h1m10 0h1m1 0h1m1 0h1m9 0h1M0 95.5h2m17 0h1m6 0h1m3 0h1m8 0h1m5 0h1m20 0h1m3 0h1m5 0h1m6 0h2m7 0h1m3 0h1m7 0h1m7 0h1m3 0h1m3 0h2m3 0h1m4 0h1m7 0h1m4 0h1m6 0h1m1 0h2m4 0h1m1 0h1m10 0h1m15 0h1m4 0h1m1 0h2m1 0h1m2 0h1m6 0h1m3 0h1m19 0h1m3 0h1m4 0h1M4 96.5h1m65 0h1m9 0h1m1 0h2m31 0h1m3 0h3m2 0h1m16 0h1m10 0h1m6 0h1m1 0h1m3 0h1m19 0h1m9 0h2m17 0h1m1 0h2m16 0h1m4 0h1m1 0h1m7 0h1M2 97.5h1m2 0h1m31 0h1m3 0h1m39 0h1m30 0h1m1 0h1m3 0h3m23 0h1m1 0h1m3 0h1m1 0h1m6 0h1m5 0h1m18 0h1m8 0h3m8 0h1m5 0h1m5 0h1m2 0h1m12 0h1m4 0h1m9 0h2M1 98.5h1m37 0h1m28 0h2m35 0h1m5 0h1m1 0h1m3 0h1m2 0h1m21 0h2m7 0h1m15 0h1m2 0h1m20 0h2m1 0h1m22 0h1m1 0h1m9 0h1m2 0h1m3 0h1M2 99.5h1m16 0h1m17 0h2m18 0h1m10 0h2m33 0h1m11 0h2m2 0h1m15 0h1m1 0h1m10 0h1m3 0h1m10 0h2m2 0h1m12 0h1m9 0h3m22 0h2m7 0h1m6 0h1m2 0h2M0 100.5h1m16 0h1m1 0h1m17 0h1m16 0h1m13 0h1m15 0h1m3 0h1m7 0h1m17 0h1m1 0h2m22 0h2m21 0h1m4 0h1m14 0h1m6 0h1m1 0h1m21 0h1m3 0h1m4 0h1m5 0h2m3 0h1m12 0h1m6 0h1M5 101.5h1m11 0h2m17 0h1m30 0h2m14 0h1m21 0h1m6 0h1m1 0h2m35 0h2m5 0h1m2 0h1m27 0h2m19 0h1m2 0h2m6 0h1m6 0h1m4 0h1m1 0h1M5 102.5h1m10 0h2m16 0h2m18 0h1m11 0h1m19 0h1m17 0h2m4 0h1m2 0h1m2 0h1m11 0h1m3 0h1m6 0h1m9 0h1m1 0h1m7 0h1m6 0h1m3 0h1m18 0h1m3 0h1m18 0h1m8 0h1m6 0h1m9 0h1m2 0h1m3 0h1M12 103.5h1m1 0h1m1 0h2m15 0h1m2 0h1m15 0h1m14 0h1m12 0h1m23 0h2m2 0h1m2 0h1m3 0h1m3 0h1m10 0h2m16 0h1m10 0h1m5 0h1m2 0h1m1 0h1m15 0h1m23 0h1m3 0h1m1 0h1m18 0h1m4 0h1m3 0h1M1 104.5h1m1 0h1m7 0h1m4 0h1m5 0h1m14 0h1m5 0h1m7 0h1m13 0h1m13 0h1m24 0h3m5 0h1m5 0h1m11 0h1m13 0h1m6 0h1m5 0h1m30 0h1m9 0h1m13 0h1m7 0h1m3 0h1m2 0h1m11 0h1m1 0h1M10 105.5h2m4 0h1m4 0h1m8 0h1m5 0h1m13 0h1m8 0h1m19 0h1m4 0h1m7 0h1m8 0h1m1 0h3m37 0h1m8 0h1m3 0h1m4 0h1m6 0h1m13 0h1m14 0h1m10 0h1m10 0h1m2 0h1m9 0h1m1 0h1m4 0h2M40 106.5h1m16 0h1m20 0h1m21 0h1m1 0h4m45 0h1m6 0h1m8 0h2m1 0h1m5 0h1m11 0h1m4 0h1m13 0h1m8 0h2m2 0h1m3 0h1m14 0h1m10 0h1M10 107.5h1m8 0h1m17 0h1m21 0h1m16 0h1m14 0h1m9 0h4m8 0h1m13 0h1m22 0h1m14 0h1m3 0h1m18 0h1m13 0h1m11 0h1m1 0h1m2 0h1m2 0h1M35 108.5h1m1 0h1m35 0h1m4 0h1m5 0h1m16 0h4m7 0h1m19 0h1m11 0h1m5 0h1m13 0h1m2 0h1m14 0h1m8 0h1m1 0h1m6 0h1m6 0h1m5 0h1m1 0h1m2 0h1m15 0h1m14 0h1m5 0h1M11 109.5h1m22 0h1m2 0h1m18 0h1m1 0h1m6 0h1m11 0h1m4 0h1m17 0h4m13 0h1m4 0h1m20 0h1m4 0h1m11 0h1m3 0h2m2 0h1m12 0h1m6 0h1m4 0h1m6 0h1m2 0h1m1 0h2m5 0h1m4 0h1m1 0h1m8 0h1m17 0h1M2 110.5h1m35 0h1m7 0h1m17 0h1m17 0h1m10 0h1m5 0h2m7 0h1m8 0h1m3 0h1m15 0h1m21 0h1m3 0h1m3 0h1m12 0h1m1 0h1m7 0h1m7 0h1m4 0h2m7 0h1m3 0h1m10 0h2m3 0h1m12 0h1m6 0h1m2 0h1M29 111.5h1m6 0h1m38 0h1m2 0h1m3 0h1m14 0h2m9 0h2m6 0h2m3 0h1m15 0h1m19 0h1m2 0h1m5 0h1m3 0h1m9 0h2m10 0h1m4 0h1m3 0h1m11 0h1m1 0h2m1 0h1m8 0h1m4 0h1m7 0h1M16 112.5h1m18 0h1m1 0h1m16 0h1m19 0h1m2 0h1m3 0h1m7 0h1m1 0h1m3 0h3m2 0h1m1 0h1m4 0h1m12 0h1m2 0h1m12 0h1m1 0h1m2 0h1m18 0h2m19 0h1m6 0h1m1 0h1m5 0h1m9 0h1m4 0h1m1 0h2m11 0h1m22 0h1M26 113.5h1m9 0h1m26 0h1m10 0h1m19 0h1m1 0h1m2 0h1m6 0h2m7 0h2m4 0h1m18 0h1m23 0h1m16 0h1m2 0h1m3 0h1m1 0h1m5 0h1m8 0h1m6 0h2m2 0h1m16 0h1m7 0h1m9 0h1M23 114.5h1m1 0h1m31 0h1m14 0h2m1 0h1m6 0h1m8 0h1m2 0h1m8 0h1m2 0h1m25 0h1m4 0h2m17 0h1m6 0h2m3 0h2m17 0h1m2 0h1m4 0h1m8 0h1m7 0h1m1 0h1m3 0h1m2 0h1m8 0h1m14 0h1M21 115.5h1m3 0h1m29 0h1m16 0h3m15 0h1m5 0h1m23 0h1m10 0h1m4 0h2m22 0h1m1 0h1m5 0h1m11 0h1m5 0h2m2 0h1m2 0h1m1 0h1m5 0h1m1 0h1m5 0h5m16 0h1m3 0h1m2 0h1M18 116.5h1m6 0h1m9 0h1m1 0h1m16 0h1m17 0h2m7 0h2m10 0h2m8 0h2m6 0h1m3 0h1m2 0h1m17 0h1m1 0h1m19 0h1m1 0h1m5 0h2m27 0h1m4 0h1m3 0h1m3 0h1m1 0h1m14 0h1m3 0h1m3 0h1M16 117.5h1m3 0h1m30 0h1m5 0h1m12 0h1m2 0h1m3 0h1m3 0h1m11 0h2m1 0h1m2 0h1m2 0h2m6 0h1m6 0h1m19 0h2m18 0h1m2 0h2m1 0h1m1 0h1m18 0h1m4 0h1m5 0h1m3 0h1m6 0h1m2 0h1m1 0h1m15 0h2m9 0h1m8 0h1m6 0h1M20 118.5h1m12 0h1m1 0h2m13 0h1m18 0h1m10 0h2m8 0h1m2 0h1m7 0h2m13 0h1m19 0h2m21 0h1m2 0h2m6 0h1m13 0h1m10 0h1m2 0h1m24 0h1m3 0h2m7 0h1m7 0h1m8 0h1M0 119.5h1m28 0h1m2 0h1m2 0h2m30 0h1m2 0h1m6 0h1m2 0h1m11 0h1m3 0h1m3 0h1m5 0h1m25 0h1m3 0h2m22 0h2m2 0h1m15 0h1m2 0h1m2 0h1m4 0h1m5 0h2m12 0h1m6 0h1m3 0h1m3 0h2m16 0h1M34 120.5h3m14 0h1m24 0h2m1 0h1m1 0h1m7 0h1m1 0h2m20 0h1m1 0h1m15 0h1m26 0h3m6 0h2m13 0h1m3 0h1m2 0h1m2 0h1m3 0h1m1 0h1m6 0h1m1 0h1m2 0h2m13 0h2m8 0h1m7 0h1m11 0h1M28 121.5h1m4 0h3m14 0h1m1 0h1m10 0h1m10 0h1m1 0h1m3 0h1m8 0h1m1 0h1m2 0h1m2 0h1m1 0h1m2 0h1m12 0h1m4 0h1m6 0h1m2 0h1m8 0h1m17 0h4m1 0h1m4 0h1m13 0h2m6 0h1m2 0h1m4 0h1m4 0h1m6 0h2m3 0h1m6 0h1m2 0h2m8 0h1m7 0h1m11 0h1M9 122.5h1m3 0h1m12 0h1m5 0h1m1 0h2m14 0h1m8 0h1m14 0h2m3 0h1m9 0h3m1 0h1m15 0h1m45 0h3m1 0h2m14 0h1m4 0h1m8 0h1m2 0h1m3 0h1m5 0h1m5 0h2m13 0h1m16 0h1m11 0h1m1 0h1M20 123.5h1m10 0h1m1 0h1m38 0h1m3 0h1m3 0h1m7 0h1m1 0h1m5 0h2m23 0h1m5 0h1m10 0h1m1 0h1m13 0h2m2 0h1m7 0h1m8 0h1m5 0h1m3 0h2m4 0h1m1 0h1m1 0h2m4 0h1m5 0h1m7 0h1m2 0h1m5 0h1m18 0h1m7 0h1M4 124.5h1m27 0h1m15 0h1m1 0h1m19 0h1m1 0h1m2 0h2m3 0h1m6 0h1m1 0h1m3 0h1m31 0h1m1 0h1m26 0h1m1 0h2m16 0h1m9 0h2m2 0h1m1 0h1m3 0h1m3 0h1m7 0h1m2 0h1m4 0h1m7 0h2m11 0h1m4 0h1m1 0h1m7 0h1M26 125.5h1m4 0h1m16 0h1m21 0h1m1 0h1m1 0h1m13 0h1m2 0h1m1 0h1m4 0h1m13 0h1m1 0h1m8 0h1m2 0h1m19 0h1m6 0h3m4 0h1m11 0h1m7 0h1m2 0h1m3 0h1m1 0h1m6 0h1m1 0h1m14 0h1m6 0h1m4 0h1m8 0h1m3 0h1m1 0h2M30 126.5h1m16 0h1m1 0h1m22 0h2m4 0h2m9 0h1m1 0h1m4 0h1m14 0h1m14 0h1m26 0h2m16 0h1m9 0h1m2 0h1m3 0h1m1 0h1m1 0h1m2 0h1m1 0h1m10 0h1m2 0h1m1 0h1m5 0h2m2 0h2m3 0h1m10 0h2M20 127.5h1m8 0h1m25 0h1m15 0h2m4 0h1m10 0h3m1 0h1m2 0h2m13 0h1m10 0h1m29 0h3m5 0h1m10 0h1m9 0h1m8 0h1m2 0h1m2 0h1m3 0h1m8 0h2m1 0h2m5 0h1m2 0h2m12 0h1m1 0h3m14 0h1M1 128.5h1m16 0h1m10 0h2m24 0h1m14 0h3m5 0h1m8 0h2m3 0h2m13 0h1m1 0h1m4 0h1m21 0h1m12 0h1m2 0h2m5 0h1m1 0h1m16 0h1m8 0h1m2 0h3m2 0h1m3 0h1m4 0h2m1 0h1m1 0h1m6 0h1m2 0h3m2 0h1m10 0h1m1 0h1m15 0h1M28 129.5h1m25 0h1m14 0h2m6 0h1m5 0h1m1 0h3m2 0h3m3 0h1m9 0h1m11 0h1m1 0h1m29 0h3m5 0h1m1 0h1m6 0h1m1 0h1m3 0h1m10 0h1m1 0h1m1 0h1m1 0h2m3 0h2m7 0h1m2 0h1m1 0h1m4 0h1m2 0h1m1 0h1m15 0h1m10 0h1M19 130.5h1m2 0h1m21 0h1m1 0h1m11 0h1m9 0h3m1 0h1m3 0h1m7 0h1m1 0h1m1 0h1m2 0h1m13 0h2m1 0h1m6 0h1m13 0h1m15 0h1m3 0h3m3 0h1m2 0h1m1 0h1m6 0h1m5 0h1m5 0h1m5 0h1m2 0h2m4 0h2m5 0h1m4 0h2m10 0h1m4 0h1m6 0h1m3 0h1m5 0h1m6 0h1M24 131.5h1m3 0h1m10 0h1m29 0h2m1 0h1m1 0h1m10 0h2m1 0h1m1 0h1m13 0h2m2 0h1m10 0h1m7 0h1m16 0h1m4 0h2m4 0h1m2 0h1m3 0h1m4 0h1m6 0h1m9 0h1m1 0h1m7 0h1m15 0h1m4 0h1m4 0h2m1 0h1m9 0h1m2 0h1m9 0h1m6 0h1M2 132.5h1m18 0h1m16 0h1m28 0h3m2 0h1m12 0h3m1 0h1m17 0h1m9 0h1m10 0h1m11 0h2m24 0h1m2 0h1m2 0h2m9 0h1m1 0h1m7 0h1m12 0h1m7 0h1m5 0h1m10 0h1m8 0h1m4 0h1m6 0h1M20 133.5h1m21 0h1m12 0h1m11 0h1m1 0h2m13 0h3m1 0h1m14 0h2m1 0h1m10 0h1m13 0h1m8 0h1m3 0h1m13 0h1m9 0h1m3 0h1m7 0h1m1 0h3m3 0h1m17 0h2m12 0h1m9 0h1m2 0h1m5 0h1m4 0h1m6 0h2M1 134.5h1m3 0h1m8 0h1m3 0h3m2 0h1m35 0h1m6 0h2m1 0h1m13 0h4m14 0h1m3 0h1m10 0h1m23 0h1m1 0h2m5 0h1m7 0h1m21 0h1m1 0h1m1 0h2m20 0h1m5 0h2m1 0h1m1 0h1m2 0h2m9 0h2m15 0h1m3 0h1M4 135.5h1m8 0h1m4 0h1m14 0h1m7 0h1m15 0h1m7 0h3m1 0h1m3 0h2m7 0h3m19 0h1m2 0h1m19 0h1m11 0h1m2 0h1m6 0h1m22 0h1m4 0h2m3 0h1m1 0h1m8 0h1m9 0h2m2 0h1m10 0h2m9 0h1m19 0h2M3 136.5h1m6 0h2m6 0h1m3 0h1m41 0h1m2 0h1m1 0h1m2 0h1m1 0h1m5 0h1m1 0h2m4 0h1m26 0h1m12 0h1m8 0h3m8 0h1m4 0h1m6 0h2m8 0h1m5 0h1m1 0h1m2 0h2m10 0h1m3 0h1m4 0h1m3 0h2m4 0h1m5 0h1m10 0h1m4 0h1m5 0h1m8 0h3M2 137.5h1m6 0h1m6 0h1m4 0h1m18 0h1m24 0h1m7 0h1m5 0h1m1 0h1m5 0h2m24 0h1m23 0h1m2 0h1m5 0h1m5 0h1m5 0h1m1 0h1m14 0h1m2 0h1m3 0h1m14 0h1m3 0h2m3 0h1m2 0h1m3 0h1m18 0h1m6 0h1m4 0h1m2 0h1m1 0h1m1 0h1M7 138.5h1m10 0h1m1 0h1m17 0h2m10 0h1m5 0h1m7 0h2m5 0h1m1 0h1m3 0h1m1 0h1m6 0h1m28 0h1m19 0h3m5 0h1m1 0h1m12 0h2m15 0h2m2 0h1m7 0h1m1 0h1m3 0h2m4 0h2m3 0h3m4 0h2m14 0h1m9 0h1m5 0h1m2 0h1m2 0h1M7 139.5h1m1 0h1m8 0h2m5 0h1m23 0h1m1 0h1m11 0h2m4 0h1m2 0h2m8 0h1m21 0h1m3 0h1m1 0h1m3 0h1m9 0h1m11 0h1m2 0h1m4 0h1m12 0h1m8 0h1m6 0h1m2 0h1m15 0h2m2 0h1m1 0h1m1 0h1m2 0h1m1 0h1m15 0h1m22 0h1m1 0h2m6 0h2M6 140.5h1m7 0h1m2 0h2m5 0h1m10 0h1m12 0h1m6 0h1m6 0h2m4 0h1m2 0h2m5 0h1m4 0h1m5 0h1m18 0h1m1 0h1m12 0h1m11 0h1m2 0h1m8 0h1m2 0h1m2 0h1m2 0h1m1 0h1m13 0h2m1 0h1m15 0h1m1 0h1m1 0h1m1 0h1m1 0h1m2 0h3m7 0h1m7 0h1m7 0h1m5 0h1m4 0h1m5 0h1m1 0h1m6 0h1M4 141.5h1m8 0h1m20 0h1m11 0h1m25 0h2m4 0h1m17 0h1m9 0h1m1 0h1m1 0h1m17 0h1m5 0h1m3 0h2m8 0h1m3 0h2m1 0h1m15 0h1m2 0h1m14 0h3m3 0h1m1 0h1m4 0h1m24 0h1m6 0h1m8 0h4M3 142.5h2m13 0h2m29 0h1m18 0h2m1 0h1m7 0h1m27 0h1m13 0h1m4 0h1m9 0h3m12 0h1m2 0h1m12 0h2m20 0h2m4 0h1m1 0h1m1 0h1m38 0h2m3 0h1m2 0h1m7 0h1M1 143.5h1m10 0h1m4 0h2m21 0h1m5 0h2m6 0h1m13 0h2m8 0h1m3 0h1m4 0h1m18 0h1m13 0h1m4 0h1m7 0h1m1 0h1m1 0h1m8 0h1m2 0h1m1 0h1m14 0h2m7 0h1m12 0h2m3 0h3m1 0h1m3 0h1m8 0h1m3 0h1m21 0h1m1 0h1m3 0h2m1 0h1M9 144.5h1m6 0h2m27 0h2m5 0h1m1 0h1m11 0h2m4 0h2m6 0h1m4 0h1m7 0h1m6 0h1m4 0h1m2 0h1m16 0h1m9 0h2m3 0h1m3 0h1m2 0h1m3 0h1m12 0h1m1 0h2m5 0h1m13 0h1m1 0h1m1 0h1m4 0h1m3 0h1m9 0h1m1 0h1m5 0h1m17 0h1m2 0h1m2 0h1m1 0h2m9 0h1M16 145.5h1m27 0h1m1 0h1m4 0h1m14 0h2m3 0h2m7 0h1m4 0h1m5 0h1m1 0h1m6 0h1m5 0h1m21 0h1m5 0h1m3 0h2m3 0h1m2 0h1m16 0h1m1 0h2m3 0h1m1 0h1m12 0h1m3 0h1m1 0h1m1 0h1m1 0h1m1 0h1m13 0h1m5 0h1m17 0h1m5 0h1m1 0h1m3 0h1m3 0h1m2 0h1M17 146.5h1m13 0h1m32 0h1m1 0h1m3 0h2m6 0h1m4 0h2m7 0h1m6 0h1m5 0h1m24 0h1m7 0h1m2 0h1m2 0h1m17 0h1m2 0h1m5 0h1m16 0h1m2 0h2m4 0h1m35 0h2m3 0h1m1 0h2m2 0h1m5 0h1m2 0h3M13 147.5h1m16 0h1m2 0h1m6 0h1m27 0h2m7 0h1m13 0h1m4 0h1m6 0h1m22 0h1m3 0h1m6 0h1m1 0h1m3 0h1m5 0h1m11 0h1m1 0h1m6 0h2m12 0h1m6 0h1m1 0h3m22 0h1m3 0h1m7 0h1m1 0h2m4 0h2m3 0h1m4 0h1m3 0h3M11 148.5h1m1 0h1m18 0h1m5 0h1m11 0h1m15 0h2m1 0h1m6 0h2m2 0h1m10 0h1m4 0h1m14 0h1m26 0h1m5 0h1m3 0h1m10 0h1m2 0h1m6 0h1m19 0h2m2 0h1m10 0h1m11 0h1m13 0h2m6 0h1m8 0h1m4 0h2M12 149.5h1m18 0h1m6 0h1m4 0h1m5 0h1m4 0h1m9 0h2m2 0h1m7 0h1m1 0h1m1 0h1m9 0h2m4 0h1m8 0h1m21 0h2m3 0h1m1 0h1m2 0h1m1 0h1m3 0h1m3 0h2m5 0h1m10 0h1m3 0h1m12 0h1m5 0h3m12 0h1m24 0h1m2 0h1m3 0h1m2 0h1m1 0h1m4 0h1m4 0h3M25 150.5h1m28 0h1m9 0h2m10 0h1m2 0h1m9 0h2m1 0h1m1 0h1m1 0h1m3 0h1m3 0h2m20 0h2m3 0h1m5 0h1m4 0h2m4 0h1m3 0h1m6 0h1m4 0h1m3 0h1m12 0h1m5 0h4m39 0h1m4 0h1m1 0h2m13 0h1M31 151.5h1m21 0h2m8 0h1m2 0h1m3 0h1m4 0h1m2 0h1m9 0h1m1 0h1m3 0h2m6 0h2m1 0h1m7 0h1m9 0h2m1 0h1m2 0h1m6 0h1m1 0h1m2 0h2m4 0h1m19 0h1m12 0h1m4 0h2m1 0h2m15 0h1m8 0h1m14 0h1m6 0h2M11 152.5h1m1 0h1m3 0h2m13 0h1m5 0h1m1 0h1m11 0h2m8 0h2m6 0h1m4 0h1m4 0h1m6 0h1m5 0h3m6 0h2m19 0h1m6 0h1m10 0h2m10 0h1m13 0h1m3 0h2m11 0h1m3 0h1m23 0h1m3 0h1m4 0h1m11 0h1m2 0h2m12 0h1m1 0h1M16 153.5h2m5 0h1m7 0h1m6 0h1m26 0h1m12 0h1m5 0h1m7 0h2m7 0h1m1 0h1m5 0h1m12 0h1m3 0h1m2 0h1m6 0h1m2 0h2m10 0h1m1 0h1m8 0h1m4 0h1m3 0h1m13 0h1m3 0h1m22 0h1m23 0h2m1 0h1m3 0h1m6 0h1m3 0h1M7 154.5h1m22 0h1m20 0h1m18 0h1m7 0h1m11 0h1m1 0h1m9 0h1m4 0h1m7 0h1m4 0h2m5 0h1m7 0h1m1 0h3m10 0h1m8 0h1m4 0h1m16 0h1m11 0h1m13 0h1m7 0h1m13 0h1m5 0h1m1 0h1m5 0h1m6 0h1m3 0h1M7 155.5h1m6 0h1m36 0h1m10 0h1m6 0h1m4 0h1m14 0h1m1 0h1m7 0h1m20 0h1m4 0h1m9 0h4m9 0h1m1 0h1m29 0h1m7 0h1m1 0h1m21 0h1m22 0h1m12 0h2m2 0h1M7 156.5h1m7 0h1m1 0h2m13 0h1m2 0h1m2 0h1m15 0h1m18 0h1m2 0h1m2 0h1m1 0h1m1 0h1m6 0h1m1 0h1m9 0h1m10 0h1m10 0h1m9 0h3m3 0h1m6 0h1m1 0h1m6 0h1m1 0h1m7 0h1m12 0h1m12 0h1m15 0h1m22 0h1m1 0h3m10 0h1m4 0h1M15 157.5h3m14 0h1m20 0h1m11 0h1m5 0h1m3 0h1m3 0h1m2 0h1m5 0h1m1 0h2m4 0h1m4 0h2m16 0h1m4 0h1m10 0h1m11 0h1m1 0h1m16 0h1m3 0h1m6 0h1m12 0h1m17 0h1m21 0h2m1 0h1m11 0h2m7 0h1M1 158.5h1m11 0h1m1 0h1m11 0h1m2 0h2m21 0h1m15 0h2m4 0h1m2 0h1m3 0h1m5 0h1m1 0h1m2 0h1m6 0h2m5 0h1m10 0h1m1 0h1m1 0h1m10 0h2m1 0h1m1 0h1m8 0h1m6 0h1m7 0h1m28 0h1m15 0h1m10 0h1m3 0h1m7 0h1m1 0h1m9 0h1M12 159.5h2m3 0h1m8 0h1m4 0h1m3 0h1m17 0h1m1 0h1m6 0h1m7 0h1m2 0h1m1 0h2m4 0h1m7 0h1m2 0h1m6 0h1m2 0h1m17 0h1m12 0h2m12 0h1m5 0h1m7 0h2m27 0h1m10 0h1m17 0h1m7 0h1m1 0h1m11 0h1m9 0h1M7 160.5h1m6 0h1m8 0h1m6 0h1m5 0h1m13 0h1m10 0h2m5 0h2m4 0h1m3 0h1m7 0h1m4 0h1m2 0h1m6 0h1m13 0h1m3 0h1m12 0h1m5 0h1m2 0h1m12 0h1m3 0h1m2 0h1m6 0h1m6 0h1m1 0h1m12 0h1m10 0h1m4 0h1m20 0h1m1 0h1m1 0h1m7 0h3m4 0h1M6 161.5h2m5 0h1m21 0h1m5 0h1m18 0h1m3 0h1m4 0h2m1 0h2m3 0h2m8 0h1m1 0h1m9 0h1m3 0h1m26 0h1m1 0h1m5 0h1m8 0h1m4 0h1m5 0h1m8 0h1m4 0h1m8 0h1m6 0h1m1 0h1m4 0h1m5 0h1m5 0h1m4 0h1m1 0h1m12 0h1m2 0h1m7 0h1m7 0h1m3 0h2m2 0h1M5 162.5h1m19 0h1m5 0h1m2 0h1m13 0h1m12 0h1m6 0h4m2 0h1m2 0h1m11 0h1m1 0h1m5 0h1m4 0h1m10 0h1m3 0h1m8 0h1m9 0h1m9 0h1m4 0h1m6 0h1m21 0h1m7 0h1m1 0h1m4 0h1m4 0h1m4 0h1m22 0h1m10 0h1m5 0h1m5 0h2M12 163.5h1m4 0h1m40 0h1m8 0h3m3 0h1m3 0h1m3 0h1m5 0h1m7 0h1m11 0h1m4 0h1m5 0h1m16 0h1m1 0h1m14 0h1m8 0h1m18 0h1m6 0h1m2 0h1m4 0h1m2 0h1m4 0h2m1 0h1m2 0h1m17 0h1m11 0h1m10 0h2M6 164.5h2m3 0h1m18 0h1m16 0h1m6 0h1m12 0h3m2 0h1m7 0h1m4 0h1m1 0h1m2 0h1m11 0h1m4 0h1m26 0h1m15 0h1m1 0h1m4 0h1m1 0h1m1 0h1m9 0h1m14 0h1m3 0h1m2 0h1m3 0h1m5 0h1m15 0h1m23 0h1m6 0h1M25 165.5h1m1 0h1m25 0h1m11 0h1m1 0h3m3 0h1m4 0h1m7 0h1m2 0h1m10 0h1m10 0h1m7 0h1m9 0h1m4 0h1m9 0h1m12 0h1m28 0h1m1 0h1m1 0h1m4 0h1m6 0h1m2 0h1m24 0h1m8 0h1m3 0h1m2 0h1m3 0h1M2 166.5h1m2 0h1m4 0h1m2 0h1m12 0h1m17 0h1m5 0h1m5 0h1m3 0h1m3 0h1m1 0h4m2 0h1m4 0h3m5 0h1m20 0h1m6 0h1m9 0h1m11 0h1m10 0h1m1 0h1m3 0h1m34 0h1m1 0h2m10 0h2m1 0h1m12 0h1m11 0h1m14 0h2m3 0h1m2 0h1M5 167.5h1m15 0h1m3 0h1m24 0h1m3 0h1m5 0h1m3 0h1m1 0h1m2 0h1m7 0h1m6 0h2m19 0h1m11 0h1m5 0h1m21 0h2m11 0h1m12 0h1m7 0h1m6 0h1m2 0h1m10 0h2m1 0h2m23 0h1m10 0h1m1 0h1m1 0h1m2 0h1m3 0h1M3 168.5h1m5 0h1m10 0h1m23 0h1m4 0h1m2 0h2m4 0h1m6 0h1m1 0h1m1 0h1m5 0h1m3 0h1m4 0h1m5 0h1m2 0h1m22 0h1m1 0h1m3 0h1m3 0h2m7 0h1m5 0h1m3 0h1m5 0h1m4 0h1m13 0h1m7 0h1m6 0h1m4 0h1m5 0h1m3 0h1m2 0h1m12 0h1m10 0h1m2 0h1m8 0h1m1 0h1m3 0h1m4 0h1M7 169.5h1m11 0h1m5 0h1m11 0h1m3 0h1m9 0h2m4 0h3m3 0h1m2 0h1m1 0h1m5 0h1m3 0h1m14 0h1m18 0h1m3 0h1m8 0h1m15 0h1m2 0h1m26 0h1m6 0h1m2 0h1m5 0h1m2 0h1m4 0h1m3 0h2m38 0h2m2 0h1m2 0h1m2 0h1m1 0h1M6 170.5h1m29 0h1m13 0h1m5 0h3m4 0h1m1 0h1m1 0h2m3 0h3m3 0h1m10 0h1m3 0h1m13 0h1m6 0h1m10 0h1m14 0h1m28 0h1m6 0h1m12 0h1m4 0h1m4 0h1m3 0h1m8 0h1m23 0h1m2 0h1m4 0h2m3 0h1M4 171.5h2m29 0h1m13 0h1m1 0h1m3 0h2m9 0h1m5 0h1m1 0h1m2 0h2m28 0h1m5 0h1m3 0h1m3 0h1m2 0h1m7 0h1m4 0h1m2 0h1m11 0h1m1 0h1m12 0h1m7 0h1m8 0h1m2 0h2m13 0h1m19 0h1m6 0h1m6 0h1m1 0h1m1 0h1m2 0h1M3 172.5h1m6 0h1m24 0h1m13 0h2m1 0h2m2 0h1m4 0h1m2 0h2m3 0h1m1 0h1m5 0h1m4 0h1m5 0h2m17 0h1m7 0h1m31 0h1m11 0h1m13 0h2m11 0h2m12 0h1m10 0h1m17 0h1m6 0h1m2 0h1m2 0h2M4 173.5h1m29 0h1m15 0h1m1 0h1m2 0h1m4 0h2m1 0h3m1 0h3m1 0h1m1 0h2m5 0h3m4 0h1m10 0h1m6 0h2m7 0h1m1 0h1m13 0h1m3 0h1m4 0h1m11 0h1m6 0h1m7 0h1m7 0h1m10 0h1m1 0h1m3 0h1m7 0h1m20 0h1m7 0h2m4 0h1m3 0h1m1 0h1m1 0h1m2 0h1M20 174.5h1m12 0h1m5 0h1m8 0h2m2 0h2m6 0h2m1 0h2m2 0h3m2 0h1m3 0h1m2 0h1m1 0h1m22 0h1m1 0h1m5 0h1m19 0h1m1 0h1m4 0h1m6 0h1m3 0h1m6 0h1m15 0h1m8 0h1m3 0h1m5 0h1m10 0h1m5 0h1m17 0h2m3 0h1m2 0h1m1 0h1m1 0h2m1 0h2M15 175.5h1m3 0h1m4 0h1m6 0h1m13 0h1m1 0h2m1 0h1m8 0h2m2 0h2m2 0h2m9 0h1m8 0h1m16 0h1m6 0h2m5 0h1m12 0h3m1 0h1m2 0h1m3 0h1m27 0h1m13 0h1m5 0h1m11 0h1m2 0h1m12 0h1m7 0h3m2 0h1m2 0h2m2 0h2m1 0h1M2 176.5h2m26 0h1m15 0h1m1 0h2m2 0h1m6 0h1m2 0h2m1 0h1m2 0h1m8 0h1m9 0h1m5 0h1m3 0h1m6 0h2m8 0h1m3 0h1m12 0h1m11 0h1m2 0h1m4 0h1m13 0h1m3 0h2m12 0h1m5 0h2m32 0h1m1 0h2m1 0h1m7 0h1m1 0h1m2 0h1M2 177.5h1m41 0h1m1 0h1m1 0h1m2 0h1m3 0h1m5 0h2m1 0h1m1 0h1m5 0h1m4 0h1m8 0h1m4 0h1m3 0h1m34 0h1m1 0h1m8 0h1m3 0h1m4 0h1m15 0h1m1 0h2m11 0h1m5 0h1m2 0h2m10 0h1m18 0h1m2 0h1m2 0h2m5 0h1m1 0h1m13 0h1M2 178.5h1m15 0h1m5 0h1m9 0h1m8 0h2m8 0h1m5 0h2m1 0h1m2 0h2m2 0h1m4 0h1m1 0h1m8 0h1m5 0h1m12 0h1m11 0h1m12 0h2m6 0h1m7 0h1m19 0h1m2 0h1m10 0h1m1 0h1m4 0h1m2 0h1m11 0h1m19 0h1m1 0h1m3 0h3m4 0h1m5 0h1m5 0h1m6 0h1M2 179.5h1m13 0h1m6 0h1m18 0h2m3 0h1m3 0h2m7 0h2m1 0h1m5 0h1m1 0h1m1 0h2m9 0h1m5 0h2m4 0h1m7 0h1m10 0h1m4 0h1m5 0h2m9 0h1m6 0h1m18 0h1m1 0h1m13 0h1m6 0h1m1 0h1m2 0h1m6 0h1m1 0h2m19 0h1m4 0h3m6 0h1m8 0h1m2 0h1M1 180.5h2m10 0h1m1 0h1m19 0h1m5 0h1m1 0h1m7 0h1m7 0h1m1 0h1m1 0h1m3 0h1m4 0h2m15 0h2m4 0h1m24 0h1m4 0h2m23 0h1m12 0h1m14 0h1m1 0h1m3 0h1m4 0h2m9 0h1m19 0h1m4 0h2m1 0h1m4 0h2m4 0h1m3 0h1M1 181.5h2m11 0h1m27 0h2m6 0h1m9 0h1m9 0h1m17 0h1m4 0h1m1 0h1m7 0h1m8 0h1m6 0h1m2 0h1m3 0h1m13 0h1m8 0h1m13 0h1m1 0h1m2 0h1m10 0h1m7 0h3m10 0h1m4 0h1m8 0h1m12 0h1m10 0h1m5 0h1m4 0h1M0 182.5h2m30 0h1m1 0h1m6 0h2m2 0h1m2 0h3m2 0h1m5 0h1m8 0h1m14 0h1m1 0h2m7 0h1m3 0h1m3 0h1m1 0h1m9 0h1m6 0h1m7 0h1m8 0h1m1 0h1m15 0h1m6 0h1m2 0h1m6 0h1m3 0h1m8 0h2m17 0h1m14 0h1m3 0h1m1 0h2m6 0h1m3 0h1m3 0h1M0 183.5h1m12 0h1m16 0h1m3 0h1m6 0h1m5 0h2m3 0h1m6 0h1m1 0h1m3 0h1m4 0h1m15 0h1m6 0h1m2 0h1m6 0h1m15 0h1m4 0h1m3 0h1m3 0h1m3 0h1m1 0h1m23 0h1m2 0h2m9 0h1m7 0h2m4 0h1m2 0h1m5 0h1m12 0h1m7 0h1m2 0h2m1 0h1m7 0h1m5 0h1m1 0h1M2 184.5h1m5 0h1m3 0h2m14 0h1m4 0h1m8 0h1m2 0h2m4 0h1m4 0h1m1 0h2m8 0h1m10 0h1m5 0h1m6 0h1m3 0h1m9 0h1m16 0h1m11 0h1m11 0h1m14 0h1m1 0h1m8 0h1m9 0h1m5 0h1m8 0h1m9 0h1m5 0h1m7 0h1m1 0h1m2 0h1m5 0h1m3 0h1m2 0h1M11 185.5h2m19 0h1m9 0h4m10 0h3m27 0h1m8 0h1m5 0h1m3 0h1m16 0h1m7 0h1m3 0h1m26 0h1m1 0h1m9 0h1m3 0h1m10 0h1m17 0h1m7 0h1m8 0h1m2 0h1m5 0h2m4 0h1M13 186.5h1m16 0h1m1 0h1m8 0h4m4 0h2m4 0h3m17 0h1m16 0h1m1 0h1m6 0h1m1 0h2m17 0h1m7 0h1m6 0h1m9 0h1m13 0h3m4 0h1m3 0h1m6 0h1m18 0h1m5 0h2m13 0h2m3 0h2m5 0h1m4 0h1m2 0h1m10 0h1M29 187.5h2m10 0h2m6 0h1m4 0h2m18 0h1m5 0h1m9 0h1m5 0h1m2 0h1m2 0h2m5 0h1m1 0h1m7 0h1m3 0h1m5 0h1m29 0h1m2 0h1m5 0h1m1 0h1m32 0h2m6 0h2m6 0h1m7 0h1m3 0h1M27 188.5h1m1 0h1m7 0h1m1 0h3m7 0h1m2 0h1m15 0h1m5 0h1m10 0h1m3 0h1m4 0h1m7 0h1m11 0h1m2 0h1m3 0h1m13 0h1m18 0h1m4 0h1m1 0h1m2 0h1m4 0h1m14 0h1m3 0h1m13 0h1m1 0h1m5 0h1m11 0h1m4 0h1m14 0h1m11 0h2M25 189.5h1m2 0h1m9 0h2m1 0h1m6 0h1m1 0h1m27 0h1m1 0h1m11 0h2m4 0h1m3 0h1m4 0h2m8 0h1m8 0h1m7 0h1m18 0h1m5 0h2m6 0h1m4 0h1m14 0h1m14 0h1m1 0h1m13 0h2m6 0h1m6 0h1m20 0h2M11 190.5h1m4 0h1m7 0h1m2 0h1m3 0h1m1 0h1m1 0h1m1 0h1m3 0h1m3 0h1m1 0h3m5 0h2m9 0h1m3 0h1m19 0h1m1 0h2m3 0h1m4 0h1m4 0h1m6 0h2m7 0h1m9 0h1m9 0h1m9 0h1m4 0h1m1 0h1m2 0h1m8 0h1m44 0h2m8 0h1m25 0h2M2 191.5h1m7 0h1m11 0h1m1 0h2m3 0h1m2 0h1m1 0h1m1 0h1m3 0h2m3 0h1m1 0h2m5 0h2m22 0h1m12 0h2m3 0h1m4 0h1m5 0h1m3 0h1m2 0h1m7 0h1m10 0h1m16 0h1m7 0h1m3 0h1m8 0h1m2 0h1m14 0h1m10 0h2m15 0h2m4 0h1m1 0h1m10 0h1m15 0h2M10 192.5h1m11 0h1m8 0h1m8 0h1m2 0h3m1 0h2m4 0h1m1 0h1m15 0h1m2 0h1m2 0h1m7 0h1m8 0h1m1 0h1m9 0h1m7 0h1m4 0h1m13 0h1m22 0h1m1 0h1m20 0h1m3 0h1m4 0h2m9 0h1m1 0h1m2 0h1m12 0h1m3 0h1m6 0h1m6 0h1m2 0h1m11 0h1m3 0h2M8 193.5h1m13 0h1m6 0h2m6 0h1m1 0h1m2 0h2m1 0h1m2 0h1m4 0h1m16 0h1m4 0h1m8 0h1m4 0h1m2 0h2m13 0h1m24 0h2m7 0h1m4 0h2m6 0h1m1 0h1m13 0h1m2 0h1m14 0h1m10 0h1m3 0h1m5 0h1m4 0h1m3 0h2m4 0h1m1 0h1m10 0h1M10 194.5h1m10 0h1m1 0h1m2 0h1m2 0h1m7 0h3m1 0h1m3 0h1m2 0h1m3 0h1m17 0h1m18 0h1m1 0h2m3 0h1m9 0h1m1 0h1m22 0h1m13 0h1m7 0h1m2 0h1m5 0h1m10 0h1m15 0h1m7 0h2m13 0h1m4 0h1m4 0h1M10 195.5h1m13 0h1m2 0h2m1 0h1m5 0h1m1 0h3m2 0h1m1 0h1m1 0h1m21 0h1m15 0h1m2 0h1m2 0h1m3 0h1m9 0h2m14 0h1m3 0h1m3 0h1m8 0h1m4 0h1m1 0h1m6 0h2m6 0h1m2 0h1m4 0h1m7 0h1m10 0h1m8 0h1m14 0h1m2 0h1m1 0h2m2 0h1m13 0h1m19 0h1M8 196.5h1m8 0h2m8 0h1m1 0h1m2 0h1m3 0h3m3 0h1m3 0h1m3 0h1m34 0h1m1 0h1m1 0h1m1 0h1m6 0h1m5 0h1m1 0h1m25 0h1m12 0h1m3 0h1m1 0h1m1 0h1m6 0h1m6 0h1m3 0h1m14 0h1m3 0h1m5 0h1m13 0h1m5 0h1m2 0h1m6 0h1m6 0h1M0 197.5h1m5 0h1m9 0h2m2 0h1m1 0h1m1 0h1m1 0h1m8 0h1m1 0h1m3 0h1m2 0h1m4 0h1m11 0h2m3 0h1m2 0h1m14 0h2m7 0h1m8 0h1m2 0h1m5 0h1m14 0h1m3 0h1m13 0h1m5 0h1m8 0h1m7 0h1m4 0h1m2 0h1m3 0h1m2 0h1m3 0h1m1 0h1m5 0h1m19 0h1m7 0h1m19 0h1M15 198.5h2m6 0h1m1 0h1m1 0h2m4 0h3m2 0h2m1 0h2m17 0h1m7 0h1m13 0h1m1 0h2m14 0h1m3 0h1m6 0h1m7 0h1m1 0h1m7 0h2m14 0h1m3 0h1m2 0h1m3 0h1m10 0h1m17 0h1m1 0h1m3 0h1m5 0h1m2 0h1m13 0h1m3 0h1m5 0h1m1 0h1M14 199.5h3m4 0h1m1 0h1m3 0h1m4 0h3m2 0h2m1 0h2m9 0h1m8 0h1m6 0h2m9 0h1m2 0h1m1 0h3m3 0h1m2 0h1m17 0h2m16 0h2m7 0h1m6 0h1m3 0h1m9 0h1m7 0h1m16 0h1m5 0h2m4 0h1m12 0h1m1 0h1m7 0h1m14 0h1m5 0h1M1 200.5h1m12 0h1m8 0h1m3 0h1m1 0h1m1 0h1m3 0h1m1 0h1m1 0h3m14 0h1m9 0h1m13 0h1m1 0h2m6 0h1m19 0h1m7 0h2m15 0h1m8 0h1m1 0h1m17 0h1m1 0h1m15 0h1m5 0h2m18 0h1m6 0h1M12 201.5h2m1 0h1m5 0h1m1 0h1m3 0h2m4 0h1m4 0h1m39 0h2m1 0h1m1 0h1m17 0h1m8 0h1m2 0h1m3 0h2m4 0h1m20 0h2m4 0h1m10 0h1m2 0h1m5 0h1m15 0h3m9 0h1m1 0h1m5 0h1m5 0h1m5 0h1m14 0h1m4 0h1m16 0h1M14 202.5h1m6 0h2m3 0h1m4 0h2m3 0h2m2 0h1m2 0h1m10 0h1m1 0h1m7 0h1m12 0h1m11 0h2m5 0h1m2 0h2m1 0h1m7 0h1m6 0h1m4 0h1m14 0h1m6 0h1m4 0h1m7 0h1m3 0h1m22 0h1m1 0h2m1 0h1m7 0h1m8 0h1m4 0h1m10 0h1M7 203.5h1m3 0h1m1 0h1m3 0h1m1 0h2m1 0h1m2 0h2m3 0h1m1 0h1m1 0h1m1 0h1m2 0h1m14 0h1m8 0h1m18 0h1m6 0h1m10 0h1m7 0h2m1 0h1m9 0h2m19 0h3m3 0h2m6 0h2m9 0h1m11 0h1m6 0h1m9 0h1m6 0h1m5 0h1m7 0h1m22 0h1M11 204.5h1m3 0h1m2 0h1m1 0h2m3 0h1m2 0h1m6 0h1m3 0h1m9 0h1m12 0h1m25 0h2m9 0h1m14 0h1m5 0h1m21 0h1m5 0h1m6 0h1m24 0h2m1 0h1m32 0h1m15 0h1m6 0h1M1 205.5h1m4 0h1m3 0h1m4 0h1m1 0h1m7 0h3m1 0h1m6 0h1m15 0h1m18 0h1m1 0h1m3 0h1m3 0h2m1 0h1m3 0h1m9 0h1m1 0h1m9 0h1m5 0h1m3 0h1m1 0h1m5 0h2m6 0h1m4 0h2m3 0h1m7 0h1m14 0h1m7 0h1m2 0h1m4 0h1m20 0h1m7 0h1m1 0h1m10 0h1m10 0h1M0 206.5h2m8 0h1m4 0h1m1 0h1m2 0h1m4 0h1m2 0h1m24 0h1m18 0h1m3 0h2m3 0h2m1 0h1m13 0h1m11 0h1m3 0h1m5 0h1m1 0h1m4 0h1m6 0h1m1 0h1m14 0h1m3 0h1m7 0h1m15 0h1m3 0h1m2 0h1m15 0h2m9 0h1m13 0h1m9 0h1m9 0h1M15 207.5h1m1 0h1m1 0h1m3 0h1m1 0h1m1 0h1m7 0h3m10 0h1m3 0h1m14 0h1m8 0h1m3 0h2m1 0h1m12 0h1m13 0h1m15 0h1m3 0h1m2 0h1m17 0h1m13 0h1m17 0h1m4 0h1m6 0h1m4 0h2m34 0h1M9 208.5h1m2 0h2m3 0h1m8 0h2m6 0h2m7 0h1m8 0h1m13 0h1m3 0h1m9 0h3m12 0h1m1 0h1m8 0h1m23 0h1m2 0h1m7 0h1m7 0h1m13 0h1m12 0h1m5 0h1m6 0h1m3 0h1m6 0h1m2 0h1m4 0h1M2 209.5h1m8 0h2m9 0h4m7 0h2m5 0h3m7 0h1m5 0h1m7 0h1m5 0h1m8 0h3m13 0h2m1 0h1m6 0h1m20 0h1m2 0h1m1 0h1m9 0h1m6 0h1m14 0h1m16 0h1m18 0h1m5 0h1m2 0h1m29 0h1m6 0h1M1 210.5h1m5 0h1m1 0h2m6 0h1m4 0h3m1 0h1m3 0h1m4 0h1m4 0h1m12 0h1m4 0h1m10 0h1m9 0h2m13 0h2m8 0h2m5 0h1m18 0h2m7 0h1m7 0h1m5 0h1m8 0h1m15 0h1m12 0h1m2 0h2M0 211.5h1m7 0h1m2 0h1m4 0h1m5 0h2m6 0h1m2 0h1m18 0h1m3 0h1m13 0h1m5 0h2m1 0h2m12 0h3m9 0h1m3 0h1m4 0h1m14 0h1m22 0h1m1 0h1m1 0h1m4 0h1m4 0h1m13 0h1m4 0h1m8 0h1m7 0h1m1 0h1m9 0h1m16 0h1m22 0h1M9 212.5h1m4 0h1m6 0h2m5 0h1m34 0h1m2 0h1m3 0h1m5 0h1m2 0h1m9 0h1m2 0h2m7 0h1m3 0h1m2 0h1m7 0h1m26 0h1m8 0h1m6 0h1m15 0h1m1 0h1m3 0h1m3 0h1m2 0h1m3 0h1m2 0h1m5 0h1m10 0h2m15 0h1m22 0h1M1 213.5h1m6 0h1m2 0h1m1 0h1m6 0h1m5 0h1m2 0h1m4 0h1m13 0h1m14 0h1m4 0h1m6 0h2m1 0h1m7 0h1m10 0h1m6 0h1m9 0h1m15 0h1m9 0h3m9 0h1m13 0h1m13 0h1m3 0h1m5 0h1m1 0h1m1 0h1m5 0h1m1 0h1m8 0h1M0 214.5h1m4 0h1m1 0h1m2 0h2m2 0h1m5 0h1m3 0h1m1 0h1m2 0h1m5 0h1m15 0h2m2 0h1m9 0h1m9 0h1m10 0h1m1 0h1m4 0h1m2 0h1m3 0h1m4 0h1m6 0h1m4 0h1m10 0h1m5 0h1m5 0h2m32 0h1m8 0h1m2 0h1m2 0h1m2 0h1m4 0h1m2 0h2m8 0h2m9 0h1m27 0h1m3 0h1M8 215.5h1m1 0h1m2 0h1m5 0h1m1 0h1m3 0h2m1 0h1m3 0h1m2 0h1m25 0h1m3 0h1m8 0h2m9 0h3m4 0h1m2 0h1m4 0h1m9 0h1m1 0h1m1 0h1m11 0h2m11 0h1m8 0h2m24 0h1m7 0h1m6 0h1m2 0h1m6 0h1m3 0h1m7 0h1M2 216.5h1m4 0h1m2 0h1m1 0h2m3 0h1m2 0h1m4 0h2m4 0h1m8 0h1m2 0h1m7 0h1m11 0h1m7 0h1m2 0h1m2 0h1m7 0h1m6 0h1m1 0h2m2 0h2m1 0h1m3 0h1m3 0h2m1 0h1m9 0h1m3 0h1m11 0h1m2 0h1m5 0h1m31 0h1m1 0h1m6 0h1m6 0h1M1 217.5h1m4 0h2m1 0h1m1 0h2m3 0h2m1 0h1m2 0h1m1 0h2m4 0h1m1 0h1m1 0h1m23 0h1m4 0h1m2 0h1m17 0h1m6 0h1m1 0h2m1 0h1m14 0h1m5 0h1m8 0h1m11 0h3m6 0h1m31 0h1m3 0h1m6 0h1m3 0h2m33 0h1m18 0h1M6 218.5h1m2 0h4m3 0h1m4 0h3m1 0h1m5 0h1m5 0h1m7 0h1m5 0h1m12 0h1m3 0h1m8 0h1m2 0h1m3 0h1m7 0h1m2 0h2m2 0h1m7 0h1m13 0h2m1 0h1m8 0h1m2 0h1m2 0h1m3 0h1m2 0h1m2 0h1m5 0h1m20 0h1m1 0h1m4 0h1m4 0h2m3 0h2m6 0h1m6 0h1m38 0h1M5 219.5h2m2 0h1m2 0h1m2 0h1m4 0h2m3 0h2m8 0h1m14 0h1m6 0h1m3 0h1m1 0h1m3 0h1m9 0h2m1 0h1m9 0h1m1 0h1m2 0h1m2 0h1m11 0h2m7 0h1m17 0h3m6 0h2m5 0h1m25 0h1m2 0h1m2 0h1m6 0h1m18 0h1M9 220.5h1m2 0h1m6 0h1m2 0h1m1 0h3m5 0h1m1 0h1m13 0h1m13 0h1m1 0h1m11 0h3m7 0h1m4 0h1m1 0h1m10 0h1m5 0h1m10 0h1m11 0h1m3 0h2m7 0h1m18 0h1m6 0h1m5 0h1m11 0h1m2 0h1m5 0h1m23 0h1M1 221.5h1m1 0h1m3 0h1m3 0h1m2 0h1m3 0h1m2 0h4m7 0h1m6 0h1m7 0h1m15 0h2m9 0h1m1 0h2m6 0h1m3 0h1m2 0h2m1 0h1m8 0h1m5 0h1m11 0h1m3 0h1m9 0h1m12 0h1m9 0h1m23 0h1m6 0h1m9 0h1m7 0h1m18 0h1m9 0h1m4 0h1m8 0h1M0 222.5h1m2 0h1m4 0h1m1 0h1m2 0h1m2 0h1m3 0h5m9 0h1m11 0h2m6 0h1m5 0h1m1 0h2m11 0h3m5 0h2m2 0h1m2 0h1m2 0h1m1 0h1m7 0h1m4 0h2m7 0h1m1 0h2m3 0h1m8 0h2m13 0h1m2 0h1m18 0h1m7 0h1m3 0h1m15 0h1m3 0h1m18 0h1m4 0h2m12 0h1M0 223.5h1m6 0h1m4 0h1m5 0h1m1 0h1m1 0h1m2 0h1m7 0h1m11 0h3m12 0h3m5 0h1m4 0h4m5 0h1m1 0h1m1 0h1m4 0h2m7 0h1m1 0h1m15 0h2m4 0h1m1 0h1m4 0h2m1 0h1m7 0h1m45 0h1m6 0h1m2 0h1m4 0h1m10 0h1m5 0h1m4 0h2M0 224.5h2m4 0h1m2 0h1m5 0h1m1 0h1m2 0h1m11 0h1m12 0h1m16 0h1m9 0h2m1 0h1m7 0h2m13 0h1m18 0h1m12 0h1m1 0h2m14 0h1m2 0h2m19 0h2m6 0h2m9 0h1m2 0h2m1 0h1m3 0h1m21 0h1m11 0h1M0 225.5h1m6 0h1m7 0h2m4 0h1m8 0h1m10 0h1m4 0h1m4 0h1m8 0h1m10 0h1m1 0h2m7 0h2m2 0h2m10 0h1m17 0h1m6 0h1m4 0h1m2 0h1m1 0h1m1 0h1m14 0h1m10 0h2m4 0h1m4 0h1m5 0h3m7 0h1m4 0h1m2 0h2m2 0h1m33 0h1M5 226.5h1m8 0h1m4 0h2m8 0h1m10 0h1m4 0h1m9 0h1m4 0h1m12 0h1m6 0h3m3 0h1m8 0h1m23 0h1m3 0h1m2 0h1m3 0h1m35 0h1m4 0h2m4 0h2m9 0h1m4 0h1m1 0h1m3 0h1m1 0h1m8 0h1m4 0h1m17 0h1m16 0h1m4 0h1M13 227.5h1m2 0h1m1 0h1m8 0h1m31 0h2m1 0h1m5 0h1m2 0h2m1 0h1m4 0h2m2 0h1m1 0h1m7 0h2m23 0h1m5 0h2m4 0h1m15 0h1m1 0h1m11 0h1m4 0h1m4 0h2m3 0h1m1 0h1m10 0h1m3 0h1m1 0h1m14 0h1m9 0h1m13 0h1m1 0h1m13 0h1M1 228.5h1m8 0h1m1 0h1m2 0h2m3 0h1m3 0h1m10 0h1m21 0h1m1 0h1m10 0h2m1 0h1m5 0h1m13 0h2m15 0h1m3 0h1m8 0h1m28 0h1m18 0h1m6 0h2m4 0h1m3 0h1m2 0h1m1 0h1m2 0h1m1 0h1m4 0h1m14 0h1m29 0h1M1 229.5h1m4 0h2m7 0h2m17 0h1m21 0h1m2 0h1m8 0h1m2 0h1m1 0h1m5 0h2m1 0h1m9 0h1m1 0h1m9 0h2m2 0h1m11 0h1m1 0h1m15 0h1m19 0h1m1 0h2m8 0h2m5 0h1m8 0h4m2 0h1m2 0h1m12 0h1m5 0h1m3 0h1m30 0h1M0 230.5h1m4 0h3m4 0h1m1 0h2m28 0h1m10 0h1m10 0h1m2 0h1m1 0h1m2 0h1m4 0h1m4 0h1m7 0h1m10 0h1m3 0h2m13 0h1m37 0h1m8 0h3m15 0h3m3 0h1m2 0h1m10 0h1m5 0h1m2 0h1m1 0h1m29 0h1M5 231.5h2m4 0h1m2 0h2m13 0h1m14 0h1m9 0h1m2 0h1m7 0h1m4 0h2m6 0h1m3 0h1m8 0h1m9 0h1m2 0h1m3 0h1m9 0h1m2 0h2m16 0h1m11 0h1m7 0h2m8 0h1m2 0h1m15 0h1m2 0h1m2 0h2m1 0h1m2 0h1m11 0h1m16 0h1M0 232.5h1m3 0h2m3 0h1m3 0h2m7 0h1m5 0h1m15 0h1m6 0h1m3 0h1m7 0h1m4 0h1m1 0h1m14 0h1m13 0h1m3 0h1m7 0h1m5 0h1m2 0h1m1 0h1m15 0h1m10 0h1m8 0h1m3 0h1m3 0h2m2 0h1m1 0h1m5 0h1m4 0h1m1 0h3m4 0h1m1 0h2m17 0h1m14 0h1M4 233.5h2m4 0h1m2 0h2m28 0h1m3 0h1m3 0h1m16 0h2m12 0h1m10 0h1m4 0h1m1 0h1m17 0h1m11 0h1m2 0h1m12 0h1m1 0h1m8 0h1m8 0h1m2 0h1m6 0h1m8 0h2m5 0h3m3 0h1m13 0h1m14 0h1m10 0h1m2 0h1M2 234.5h1m1 0h2m6 0h2m24 0h1m4 0h1m19 0h1m3 0h1m5 0h1m2 0h1m14 0h1m1 0h1m4 0h1m5 0h1m11 0h1m8 0h1m20 0h1m12 0h2m1 0h1m5 0h2m1 0h1m12 0h1m6 0h4m15 0h1m12 0h1m17 0h1m6 0h1M4 235.5h1m4 0h1m2 0h1m14 0h1m14 0h1m3 0h1m2 0h1m4 0h1m6 0h1m3 0h1m1 0h1m10 0h1m13 0h1m4 0h1m6 0h1m36 0h1m3 0h1m4 0h1m2 0h1m7 0h1m22 0h1m6 0h2m41 0h1m5 0h1m7 0h1M2 236.5h2m5 0h1m2 0h2m18 0h1m4 0h1m19 0h1m6 0h1m11 0h1m14 0h1m4 0h1m6 0h2m17 0h1m7 0h1m20 0h1m1 0h1m2 0h1m11 0h1m3 0h1m3 0h1m12 0h1m1 0h1m3 0h1m13 0h1m28 0h1m8 0h1M1 237.5h3m1 0h1m4 0h1m1 0h1m13 0h1m11 0h1m3 0h1m18 0h1m37 0h1m2 0h1m18 0h1m8 0h1m6 0h1m5 0h1m2 0h1m5 0h1m3 0h1m3 0h1m9 0h1m9 0h1m9 0h1m35 0h1m3 0h1m5 0h1m1 0h1M1 238.5h1m7 0h1m6 0h1m8 0h1m4 0h1m10 0h1m1 0h1m10 0h2m10 0h1m3 0h1m17 0h1m2 0h1m6 0h2m3 0h1m1 0h1m10 0h1m3 0h1m22 0h1m7 0h1m4 0h1m13 0h1m5 0h1m11 0h1m4 0h1m8 0h1m19 0h1m1 0h1M8 239.5h1m14 0h1m16 0h1m2 0h1m13 0h1m3 0h1m4 0h1m3 0h1m7 0h1m5 0h1m1 0h1m10 0h2m2 0h1m1 0h2m10 0h1m3 0h1m15 0h1m2 0h1m6 0h1m9 0h1m10 0h1m1 0h1m6 0h1m11 0h1m3 0h1m3 0h1m19 0h1m6 0h1m12 0h1m11 0h1m7 0h1M7 240.5h1m3 0h1m2 0h1m10 0h1m9 0h1m3 0h2m15 0h1m7 0h1m20 0h1m10 0h2m1 0h1m1 0h1m1 0h1m10 0h2m3 0h1m17 0h1m23 0h1m5 0h1m7 0h1m10 0h1m1 0h1m1 0h1m3 0h1m26 0h2m12 0h1m9 0h1m8 0h1M1 241.5h1m4 0h1m1 0h1m29 0h1m15 0h1m9 0h1m1 0h1m1 0h1m10 0h1m4 0h1m1 0h1m8 0h1m1 0h1m1 0h1m1 0h1m11 0h1m9 0h1m4 0h1m8 0h1m3 0h2m2 0h1m3 0h2m8 0h2m1 0h1m2 0h1m6 0h1m1 0h1m11 0h2m5 0h1m22 0h1m3 0h2m4 0h1m26 0h1m1 0h1M6 242.5h2m23 0h1m4 0h1m1 0h1m10 0h1m2 0h2m5 0h1m4 0h1m1 0h1m9 0h1m1 0h1m4 0h1m6 0h1m3 0h2m1 0h2m37 0h1m11 0h1m2 0h1m6 0h1m4 0h1m5 0h1m15 0h3m31 0h1m25 0h1m8 0h1M1 243.5h1m2 0h1m1 0h2m26 0h1m1 0h1m29 0h1m6 0h1m2 0h1m4 0h1m9 0h1m3 0h1m1 0h2m13 0h1m7 0h1m4 0h1m5 0h1m15 0h1m12 0h1m1 0h1m5 0h2m15 0h2m5 0h1m27 0h2m11 0h1m6 0h1m3 0h1m8 0h1m1 0h1M0 244.5h1m1 0h1m1 0h3m10 0h1m3 0h1m12 0h2m7 0h1m5 0h1m1 0h1m1 0h1m18 0h1m1 0h1m15 0h1m3 0h2m5 0h1m6 0h1m2 0h1m8 0h1m3 0h1m5 0h1m13 0h1m1 0h2m7 0h1m3 0h1m7 0h1m15 0h1m1 0h2m33 0h1m10 0h1m7 0h1m12 0h3M1 245.5h1m1 0h2m6 0h1m13 0h1m3 0h1m3 0h1m9 0h1m22 0h1m3 0h1m1 0h2m3 0h1m12 0h1m2 0h1m1 0h1m12 0h1m2 0h1m8 0h1m8 0h1m4 0h1m7 0h1m11 0h1m2 0h1m2 0h1m8 0h1m6 0h1m1 0h1m4 0h3m12 0h1m20 0h1m10 0h2m20 0h1m1 0h1M0 246.5h1m1 0h1m1 0h1m7 0h1m4 0h1m1 0h1m5 0h1m5 0h1m9 0h1m28 0h2m1 0h1m12 0h1m2 0h1m2 0h1m1 0h1m12 0h1m1 0h1m10 0h1m5 0h1m7 0h2m2 0h1m1 0h1m4 0h1m11 0h1m18 0h1m6 0h1m4 0h1m33 0h1m10 0h1m15 0h1m3 0h1M17 247.5h1m6 0h2m2 0h1m1 0h2m7 0h1m2 0h1m26 0h2m2 0h1m2 0h1m15 0h1m17 0h1m14 0h1m7 0h1m4 0h1m2 0h1m1 0h1m6 0h1m4 0h1m4 0h1m14 0h1m6 0h1m4 0h1m15 0h1m22 0h1m6 0h1m18 0h1M0 248.5h1m14 0h1m7 0h2m5 0h1m6 0h1m4 0h1m24 0h1m1 0h2m1 0h1m8 0h1m3 0h1m6 0h1m16 0h1m16 0h1m12 0h1m1 0h1m10 0h1m1 0h1m2 0h1m1 0h2m15 0h1m2 0h1m5 0h1m1 0h1m19 0h1m11 0h1m6 0h1m24 0h1M14 249.5h1m5 0h2m1 0h1m1 0h1m1 0h1m12 0h1m10 0h1m8 0h1m5 0h1m1 0h2m5 0h1m4 0h2m2 0h1m23 0h1m12 0h1m2 0h1m3 0h2m8 0h1m12 0h1m5 0h1m1 0h1m14 0h1m2 0h1m26 0h1m1 0h1m4 0h1m4 0h2m7 0h1m17 0h1m7 0h1M12 250.5h1m6 0h1m1 0h3m42 0h1m1 0h1m4 0h1m7 0h1m1 0h1m4 0h2m17 0h1m2 0h1m13 0h1m3 0h1m12 0h1m14 0h1m1 0h1m12 0h2m3 0h1m8 0h1m17 0h1m11 0h1m5 0h1m16 0h1m11 0h1m2 0h1M21 251.5h1m1 0h1m2 0h1m2 0h1m8 0h1m3 0h1m22 0h2m1 0h1m8 0h1m2 0h1m7 0h1m2 0h1m31 0h1m6 0h1m2 0h2m12 0h1m9 0h1m7 0h1m4 0h2m2 0h1m8 0h1m17 0h1m6 0h1m7 0h1m1 0h1m1 0h1m10 0h1m18 0h1M7 252.5h1m4 0h1m6 0h2m1 0h1m2 0h1m2 0h1m8 0h1m1 0h1m8 0h1m15 0h1m4 0h1m6 0h1m10 0h1m20 0h1m13 0h1m5 0h2m1 0h1m1 0h1m4 0h1m15 0h1m2 0h1m16 0h2m38 0h2m14 0h1m19 0h1m3 0h1M0 253.5h1m5 0h1m9 0h1m2 0h2m2 0h1m11 0h1m1 0h3m18 0h1m2 0h1m3 0h2m9 0h1m10 0h1m16 0h1m23 0h1m2 0h2m20 0h1m1 0h1m18 0h1m10 0h1m14 0h1m1 0h1m11 0h1m5 0h1m9 0h1m2 0h1m14 0h2m3 0h1M3 254.5h1m1 0h1m5 0h1m1 0h1m1 0h1m2 0h3m1 0h1m1 0h1m10 0h1m1 0h2m8 0h1m17 0h2m8 0h1m2 0h1m5 0h1m1 0h1m18 0h1m12 0h1m2 0h1m2 0h1m2 0h2m8 0h1m16 0h1m19 0h1m19 0h2m10 0h1m6 0h1m5 0h1m13 0h1m3 0h1M10 255.5h2m5 0h2m2 0h1m14 0h2m25 0h1m1 0h1m35 0h1m15 0h1m1 0h2m2 0h1m2 0h1m1 0h1m4 0h1m12 0h1m6 0h1m15 0h1m2 0h1m21 0h1m3 0h1m7 0h1m5 0h1m5 0h1m13 0h1m15 0h1m1 0h1m1 0h1"/>
<path stroke="#306a8e" d="M33 0.5h1m2 0h1m13 0h1m6 0h1m5 0h1m12 0h1m17 0h1m10 0h1m15 0h1m16 0h1m37 0h1m12 0h1m26 0h1M1 1.5h1m30 0h1m20 0h1m82 0h1m1 0h1m15 0h1m4 0h1m15 0h1m46 0h1m4 0h1m18 0h1M92 2.5h1m45 0h1m20 0h1m28 0h1m4 0h2m35 0h1m10 0h1M29 3.5h1m11 0h1m11 0h1m2 0h1m77 0h1m1 0h2m3 0h1m16 0h1m33 0h2m10 0h1m21 0h1m12 0h1M21 4.5h1m33 0h1m46 0h1m32 0h2m21 0h1m32 0h1m1 0h1m9 0h1m21 0h1M0 5.5h1m25 0h1m29 0h1m20 0h1m44 0h1m11 0h1m22 0h1m18 0h1m14 0h2m7 0h1m24 0h1M50 6.5h1m3 0h1m78 0h2m22 0h1m12 0h1m20 0h2m31 0h1m3 0h1M4 7.5h1m43 0h1m3 0h1m1 0h1m18 0h1m57 0h1m1 0h1m21 0h2m18 0h1m14 0h2m6 0h1m3 0h1m24 0h1M52 8.5h1m1 0h1m77 0h1m51 0h1m3 0h1m1 0h1m50 0h1M48 9.5h1m4 0h1m77 0h1m56 0h1m9 0h1m22 0h1m17 0h1M38 11.5h1m151 0h1m16 0h1m11 0h1m18 0h1M37 12.5h1m137 0h1m13 0h1m28 0h1M36 13.5h1m82 0h1M4 14.5h1m33 0h1m3 0h1m6 0h1m67 0h1m14 0h1m2 0h1m7 0h1m50 0h2m17 0h1m5 0h1M3 15.5h1m55 0h1m71 0h1m56 0h1M48 16.5h1m181 0h1m11 0h1M66 17.5h1m113 0h1m7 0h1m26 0h1m21 0h1M35 18.5h1m30 0h1m66 0h1m53 0h2m53 0h1M131 19.5h1M95 20.5h1m34 0h1m43 0h1M19 21.5h1m110 0h1m20 0h1m34 0h1m14 0h1M53 22.5h1m40 0h1m63 0h1m27 0h1m13 0h1M93 23.5h1m34 0h1m44 0h1m10 0h2m14 0h1m25 0h1M24 24.5h1m4 0h1m8 0h1m75 0h1m94 0h1m14 0h1M10 25.5h1m8 0h1m16 0h2m93 0h1m23 0h1m52 0h1M9 26.5h1m24 0h2m111 0h1m2 0h1m31 0h1m23 0h1m42 0h1M8 27.5h1m15 0h1m9 0h1m114 0h2m91 0h1M42 28.5h1m62 0h1m6 0h1m1 0h1m67 0h1m15 0h1m4 0h1m29 0h1M7 29.5h1m3 0h1m22 0h1m76 0h1m81 0h1m3 0h1m8 0h1m25 0h1M23 30.5h1m9 0h1m72 0h1m5 0h1m54 0h1m29 0h1M0 31.5h1m20 0h1m108 0h1m14 0h1m31 0h1m18 0h1m34 0h1m6 0h1M4 32.5h1m16 0h1m81 0h1m7 0h1m18 0h1m70 0h1m12 0h1m15 0h1m2 0h1M20 33.5h2m32 0h1m52 0h1m21 0h1M18 34.5h2m1 0h1m7 0h1m71 0h1m2 0h2m3 0h1m19 0h1m101 0h1M17 35.5h1m2 0h1m32 0h1m50 0h1m41 0h1m51 0h1m1 0h1m27 0h1m1 0h1M8 36.5h1m9 0h2m83 0h1m5 0h1m65 0h1m21 0h1m31 0h2m20 0h1M13 37.5h1m2 0h2m10 0h1m13 0h1m48 0h1m16 0h1m30 0h1m35 0h1m53 0h1m20 0h1M15 38.5h2m81 0h1m6 0h1m42 0h1m51 0h1m24 0h1m3 0h1M13 39.5h1m2 0h1m30 0h1m61 0h1m29 0h1m14 0h1m43 0h1m24 0h1m3 0h1m10 0h1M7 40.5h1m7 0h1m61 0h1m24 0h1m93 0h2m24 0h1m13 0h1M6 41.5h1m6 0h1m1 0h1m30 0h1m3 0h1m84 0h1m59 0h1m33 0h1M9 42.5h1m3 0h1m87 0h1m31 0h2m33 0h1m6 0h1m17 0h1m25 0h1m8 0h1M9 43.5h1m40 0h1m80 0h1m42 0h1m17 0h1m25 0h1M7 44.5h1m100 0h1m21 0h1m41 0h1m1 0h1m8 0h1m12 0h1m10 0h1m15 0h1M6 45.5h1m10 0h1m28 0h1m25 0h1m12 0h1m85 0h1m10 0h1m40 0h1m4 0h1m3 0h1m18 0h1M6 46.5h1m10 0h1m2 0h1m160 0h1m4 0h1m35 0h1m5 0h1m17 0h1M1 47.5h1m12 0h1m212 0h1m17 0h1M0 48.5h1m46 0h1m50 0h1m6 0h1m120 0h1M10 49.5h1m2 0h1m63 0h1m6 0h1m13 0h1m29 0h1m83 0h1m12 0h1m22 0h1M27 50.5h1m1 0h1m108 0h1m10 0h1m3 0h1m8 0h1m60 0h1m20 0h1M136 51.5h1m43 0h1m24 0h1m15 0h1M6 52.5h1m112 0h1m31 0h1m16 0h1m5 0h1m47 0h1m12 0h1m6 0h1M4 53.5h1m22 0h1m42 0h1m27 0h1M2 54.5h1m24 0h1m42 0h1m59 0h1m96 0h1M6 55.5h1m37 0h1m24 0h1m62 0h1m79 0h1m3 0h1M43 56.5h1m25 0h1m25 0h1m35 0h1m13 0h1m16 0h1m53 0h1m9 0h1M130 57.5h2M26 58.5h1m6 0h1m20 0h1m10 0h1m63 0h1m19 0h1m50 0h1m14 0h1M33 59.5h1m128 0h1m31 0h1m47 0h1M24 60.5h1m89 0h1m46 0h1m22 0h1m30 0h1m2 0h1m4 0h1M24 61.5h1m23 0h1m96 0h1m25 0h1m3 0h1m38 0h1m1 0h1m4 0h1M0 62.5h1m127 0h1m15 0h1m52 0h1m15 0h3m25 0h1m13 0h1M43 63.5h1m50 0h1m49 0h1m51 0h1m12 0h1m3 0h2m26 0h1m2 0h1M42 64.5h1m41 0h1m8 0h1m48 0h2m9 0h1m8 0h1m33 0h1m14 0h1M24 65.5h1m16 0h1m5 0h1m44 0h1m34 0h1m23 0h1m1 0h1m7 0h1m6 0h1m1 0h1m13 0h1m27 0h2M24 66.5h1m15 0h1m50 0h1m119 0h1M39 67.5h1m14 0h1m140 0h1m13 0h2m29 0h1M31 68.5h1m7 0h1m84 0h1m26 0h1m14 0h1m8 0h1m31 0h1m1 0h1m34 0h1M3 69.5h1m20 0h1m80 0h1m33 0h1m25 0h1m41 0h1m1 0h1m41 0h1M2 70.5h1m21 0h1m11 0h1m20 0h1m12 0h1m11 0h1m38 0h2m6 0h1m30 0h1m3 0h1m8 0h1m33 0h1m30 0h1M35 71.5h1m25 0h1m58 0h1m7 0h1m121 0h1m2 0h1M3 72.5h1m19 0h1m17 0h1m6 0h1m12 0h1m41 0h1m11 0h1m17 0h1m13 0h1m35 0h1m14 0h1m12 0h1m26 0h1m9 0h1m3 0h1M2 73.5h1m31 0h1m9 0h2m74 0h1m31 0h1m45 0h1m7 0h1M43 74.5h2m1 0h1m104 0h1m8 0h1m18 0h1m16 0h1M18 75.5h1m24 0h1m16 0h1m24 0h1m61 0h1m12 0h1m46 0h1m13 0h1m16 0h1m2 0h1M43 76.5h1m7 0h1m95 0h1m30 0h1M37 77.5h1m2 0h1m1 0h1m71 0h1m30 0h1m45 0h1M41 78.5h1m54 0h1m27 0h1m24 0h1m6 0h1m34 0h1m12 0h1m46 0h1M178 79.5h1m48 0h1m27 0h1M95 80.5h1m47 0h1m32 0h1m39 0h1m19 0h1m12 0h1m4 0h1M2 81.5h1m9 0h1m63 0h1m37 0h1m22 0h1m37 0h1m47 0h1m5 0h1m18 0h1m6 0h1M74 82.5h1m62 0h1m22 0h1m14 0h1m6 0h1m19 0h1m51 0h1M11 83.5h1m12 0h1m111 0h1m44 0h1m19 0h1m21 0h1m25 0h1M18 84.5h1m4 0h1m120 0h1m77 0h1m23 0h1m2 0h1M36 85.5h1m105 0h1m18 0h1m10 0h1m24 0h1m23 0h1m17 0h1M9 86.5h1m63 0h1m96 0h1m25 0h1m24 0h1m17 0h1m1 0h1m5 0h1M35 87.5h1m36 0h1m84 0h1m8 0h1m5 0h1m22 0h1m43 0h1M90 88.5h1m64 0h1m81 0h2M7 89.5h1m127 0h1m3 0h1m84 0h1m12 0h1m7 0h1M67 90.5h1m18 0h1m35 0h1m28 0h1m84 0h1M18 91.5h1m66 0h1m12 0h1m22 0h2m32 0h1m46 0h1m20 0h1m14 0h1M116 92.5h1m3 0h2M2 93.5h1m3 0h1m77 0h1m35 0h1m27 0h1m12 0h1m79 0h1M16 94.5h1m108 0h1m28 0h1m37 0h1m3 0h1m18 0h1m20 0h1M70 95.5h1m45 0h1m4 0h1m16 0h1m21 0h1m10 0h1m25 0h1m37 0h1M83 96.5h1m35 0h2m31 0h1m6 0h1m5 0h1m19 0h1m9 0h1m53 0h1M119 97.5h1m24 0h1m14 0h1M117 98.5h1m2 0h1m71 0h1m43 0h1M2 99.5h1m65 0h1m50 0h1m71 0h1m39 0h1M37 100.5h1m30 0h1m27 0h1m66 0h1m26 0h1m23 0h1M18 101.5h1m17 0h1m30 0h1m37 0h1m6 0h1m76 0h1m31 0h1M104 102.5h2m7 0h1m45 0h1m10 0h1m18 0h1m31 0h1M16 103.5h1m16 0h1m18 0h1m27 0h1m23 0h1m54 0h1m10 0h1m64 0h1M22 104.5h1m28 0h1m13 0h1m13 0h1m38 0h1m38 0h1m69 0h1M92 105.5h1m11 0h1m47 0h1m55 0h1m13 0h1m17 0h1M102 106.5h1m1 0h2m82 0h1m4 0h1M104 107.5h1m60 0h1m3 0h1m46 0h1M101 108.5h1m2 0h1m7 0h1m37 0h1m16 0h1m25 0h1m13 0h1m5 0h1M65 109.5h1m36 0h1m90 0h1m18 0h1m4 0h1M99 110.5h2m16 0h1m98 0h1M97 111.5h1m10 0h1m51 0h1m5 0h1m30 0h1M89 112.5h1m17 0h1m82 0h1M94 113.5h1m89 0h1m20 0h1m7 0h1M164 114.5h1m39 0h1m7 0h1M120 115.5h1m47 0h1m24 0h1m9 0h1m26 0h1M72 116.5h1m42 0h1m2 0h1m81 0h1m9 0h1m18 0h1M93 117.5h1m8 0h1m14 0h1m81 0h1m9 0h1m28 0h1m8 0h1M36 118.5h1m56 0h1m7 0h1m35 0h1m24 0h1m21 0h1m42 0h1M35 119.5h2m40 0h1m2 0h1m19 0h1m60 0h1m21 0h1M34 120.5h2m15 0h1m25 0h1m1 0h1m9 0h1m69 0h1m22 0h1m13 0h1m29 0h1m28 0h1M33 121.5h3m38 0h1m1 0h1m3 0h1m8 0h1m1 0h1m35 0h1m11 0h1m17 0h1m24 0h1m38 0h1m2 0h1M26 122.5h1m5 0h1m1 0h1m15 0h1m23 0h1m16 0h1m100 0h1m15 0h1m14 0h1m16 0h1M20 123.5h1m12 0h1m38 0h1m3 0h1m13 0h1m67 0h1m48 0h1m7 0h1M32 124.5h1m39 0h1m16 0h1m67 0h1m26 0h1m3 0h1m5 0h1m19 0h1m27 0h1M31 125.5h1m42 0h1m78 0h1m1 0h1m57 0h1m6 0h1m19 0h1M30 126.5h1m41 0h2m4 0h1m47 0h1m26 0h2m16 0h1m9 0h1m8 0h1m48 0h1M72 127.5h1m79 0h2m35 0h1m2 0h1m2 0h1M18 128.5h1m52 0h1m6 0h1m9 0h1m63 0h1m34 0h1M70 129.5h1m20 0h2m13 0h1m60 0h1m16 0h1m24 0h1m25 0h1M76 130.5h1m11 0h1m16 0h1m9 0h1m44 0h1m27 0h1m6 0h1m10 0h2M69 131.5h2m19 0h1m53 0h1m5 0h1m33 0h1m1 0h1m49 0h1m9 0h1M2 132.5h1m65 0h2m15 0h1m31 0h1m65 0h1m1 0h1m28 0h1m30 0h1M20 133.5h1m21 0h1m24 0h1m2 0h1m15 0h1m53 0h1m31 0h1M14 134.5h1m52 0h1m1 0h1m13 0h1m1 0h1m30 0h1m23 0h1m8 0h1m55 0h1m13 0h1m31 0h1M13 135.5h1m4 0h1m46 0h1m3 0h1m4 0h1m9 0h1m42 0h1m21 0h1m43 0h1m24 0h1M3 136.5h1m78 0h1m5 0h1m49 0h1m37 0h1m1 0h1m3 0h1m14 0h1m4 0h1m4 0h1m32 0h1M73 137.5h1m63 0h1m37 0h1m25 0h1m4 0h1m6 0h1m25 0h1M7 138.5h1m128 0h1m56 0h1m52 0h1M18 139.5h1m30 0h1m13 0h1m5 0h1m66 0h1m20 0h1m15 0h1m2 0h1m16 0h1m4 0h1m6 0h1M6 140.5h1m7 0h1m3 0h1m29 0h1m61 0h1m24 0h1m55 0h1m36 0h1m16 0h1M4 141.5h1m91 0h1m37 0h1m20 0h1m39 0h1m31 0h1m16 0h1M4 142.5h1m185 0h1m6 0h1m45 0h1M12 143.5h1m5 0h1m49 0h1m68 0h1m50 0h2m7 0h1m3 0h1m40 0h1M45 144.5h1m21 0h1m57 0h1m10 0h1m29 0h2m5 0h1m22 0h1m15 0h1m23 0h1m7 0h1m10 0h1M66 145.5h1m5 0h1m7 0h1m4 0h1m42 0h1m36 0h1m6 0h1m38 0h1m29 0h1m9 0h1M64 146.5h1m6 0h1m99 0h1m16 0h1m2 0h1m5 0h1m56 0h2M77 147.5h1m71 0h1m41 0h1m30 0h1m30 0h2M11 148.5h1m20 0h1m33 0h1m13 0h1m57 0h1m9 0h1m40 0h2m2 0h1m58 0h1M54 149.5h1m9 0h1m11 0h1m28 0h1m31 0h1m27 0h1m3 0h1m12 0h1m5 0h2m45 0h1m4 0h1m11 0h1M54 150.5h1m24 0h1m10 0h1m13 0h1m37 0h1m21 0h1m3 0h1m12 0h1m5 0h1m2 0h1m46 0h2m13 0h1M53 151.5h1m16 0h1m19 0h1m22 0h1m27 0h1m47 0h1M80 152.5h1m6 0h1m5 0h1m94 0h1m63 0h1M38 153.5h1m53 0h2m9 0h1m18 0h1m17 0h1m10 0h1m19 0h1M70 154.5h1m7 0h1m13 0h1m9 0h1m17 0h1m18 0h1m10 0h1m92 0h1m6 0h1M99 155.5h1m20 0h1m14 0h1m12 0h1m86 0h1m13 0h1M17 156.5h1m20 0h1m53 0h1m43 0h1m55 0h1m40 0h1M16 157.5h1m62 0h1m10 0h1m44 0h1m13 0h1m40 0h1m17 0h1m24 0h1M15 158.5h1m59 0h1m2 0h1m3 0h1m5 0h1m12 0h1m45 0h1m74 0h1m7 0h1M62 159.5h1m7 0h1m10 0h1m38 0h1m40 0h1m28 0h1m10 0h1m27 0h1m11 0h1M7 160.5h1m6 0h1m35 0h1m23 0h1m3 0h1m12 0h1m40 0h1m28 0h1m69 0h1M35 161.5h1m33 0h1m29 0h1m52 0h1m28 0h1m8 0h1m55 0h1M5 162.5h1m63 0h1m1 0h1m2 0h1m14 0h1m23 0h1m22 0h1m14 0h1m28 0h1m24 0h1m39 0h1m6 0h1M68 163.5h2m3 0h1m7 0h1m53 0h1m59 0h1m55 0h1M54 164.5h1m12 0h1m1 0h1m2 0h1m7 0h1m6 0h1m14 0h1m87 0h1m59 0h1M67 165.5h2m161 0h1M10 166.5h1m2 0h1m42 0h1m3 0h1m8 0h1m15 0h1m20 0h1m16 0h1m22 0h1m57 0h1M69 167.5h1m7 0h1m27 0h1m40 0h1m81 0h1m14 0h1M44 168.5h1m8 0h1m4 0h1m16 0h1m3 0h1m42 0h1m22 0h1m5 0h1m48 0h1m2 0h1m37 0h1M57 169.5h1m8 0h1m26 0h1m31 0h1m15 0h1m2 0h1m55 0h1m38 0h1m9 0h1M36 170.5h1m19 0h1m8 0h1m74 0h1m48 0h1m13 0h1m32 0h1m2 0h1M4 171.5h2m43 0h1m1 0h1m4 0h1m15 0h1m4 0h1m110 0h1m54 0h1M3 172.5h1m57 0h1m7 0h1m1 0h1m35 0h1m78 0h2m41 0h1m6 0h1M4 173.5h1m29 0h1m20 0h1m13 0h1m35 0h2m7 0h1m24 0h1m59 0h1m28 0h2m8 0h1M39 174.5h1m20 0h1m3 0h1m2 0h1m13 0h1m22 0h1m29 0h1m22 0h1m15 0h1m53 0h2m6 0h1M24 175.5h1m25 0h1m12 0h1m14 0h1m8 0h1m16 0h1m65 0h1m68 0h1M46 176.5h1m16 0h1m13 0h1m9 0h1m5 0h1m37 0h1m14 0h1m81 0h1m9 0h1m2 0h1M61 177.5h2m1 0h1m21 0h1m43 0h1m35 0h1m24 0h1m10 0h1m24 0h1M44 178.5h1m14 0h1m9 0h1m6 0h1m39 0h1m20 0h1m41 0h1m1 0h1m7 0h1m11 0h1m19 0h1m7 0h1m4 0h1M2 179.5h1m20 0h1m19 0h1m83 0h1m16 0h1m18 0h1m1 0h1m20 0h1m40 0h1M43 180.5h1m15 0h1m29 0h2m99 0h1m37 0h1M1 181.5h2m39 0h1m7 0h1m9 0h1m9 0h1m48 0h1m2 0h1m42 0h1m23 0h1m15 0h1m21 0h1M1 182.5h1m40 0h1m6 0h1m3 0h1m5 0h1m34 0h1m71 0h1m60 0h1m14 0h1M0 183.5h1m29 0h1m16 0h2m10 0h1m43 0h1m58 0h1m27 0h1m29 0h1m5 0h1m15 0h1M12 184.5h1m20 0h1m24 0h2m36 0h1m26 0h1m103 0h1m5 0h1m6 0h1M45 185.5h1m11 0h2m36 0h1m34 0h1m3 0h1m28 0h1m13 0h1m36 0h1M13 186.5h1m27 0h1m1 0h1m11 0h1m1 0h1m45 0h2M41 187.5h2m6 0h1m24 0h1m34 0h1m1 0h1m91 0h1M40 188.5h2m7 0h1m24 0h1m19 0h1m66 0h1m40 0h1M28 189.5h1m9 0h1m9 0h1m1 0h1m27 0h1m55 0h1m83 0h1m35 0h2M11 190.5h1m25 0h1m3 0h1m5 0h1m45 0h1m64 0h1m58 0h1m9 0h1m26 0h1M22 191.5h1m22 0h1m1 0h1m53 0h1m31 0h1m24 0h1M22 192.5h1m17 0h1m36 0h1m123 0h1m2 0h1M30 193.5h1m6 0h1m4 0h1m5 0h1m105 0h1m63 0h1M29 194.5h1m9 0h1m1 0h1m49 0h1m14 0h1m24 0h1m13 0h1m7 0h1m63 0h1M28 195.5h1m9 0h1m1 0h1m6 0h1m73 0h1m7 0h1m22 0h1m58 0h1M8 196.5h1m8 0h1m9 0h1m8 0h1m1 0h1m3 0h1m46 0h1m16 0h1m44 0h1m74 0h1M16 197.5h2m6 0h1m10 0h1m5 0h1m24 0h1m17 0h2m44 0h1M15 198.5h2m17 0h1m3 0h2m28 0h1m15 0h2m25 0h1m33 0h1m3 0h1m41 0h1M27 199.5h1m13 0h1m42 0h1m26 0h1m25 0h1m28 0h1m23 0h1m17 0h1M23 200.5h1m5 0h1m52 0h2m51 0h1m10 0h1m35 0h1m25 0h1M27 201.5h1m10 0h1m44 0h1m34 0h1M22 202.5h1m3 0h1m4 0h1m4 0h1m27 0h1m12 0h1m11 0h1m27 0h1m26 0h1m12 0h1m53 0h1M25 203.5h1m4 0h1m5 0h1m63 0h1m21 0h1m19 0h1m13 0h1m29 0h1m16 0h1m13 0h1M11 204.5h1m13 0h1m62 0h1m31 0h1m21 0h1m12 0h1M10 205.5h1m6 0h1m92 0h1m11 0h1m13 0h1m9 0h1m91 0h1M15 206.5h1m1 0h1m7 0h1m50 0h1m43 0h1m15 0h1M15 207.5h1m11 0h1m53 0h1m1 0h1m42 0h1M13 208.5h1m12 0h1m53 0h2m24 0h1m82 0h1M12 209.5h1m67 0h1m24 0h1m25 0h1M1 210.5h1m7 0h1m12 0h1m3 0h1m52 0h1m15 0h1m51 0h1m14 0h1M8 211.5h1m7 0h1m6 0h1m81 0h1m3 0h1m19 0h1m26 0h1m4 0h1m23 0h1m8 0h1m7 0h1M14 212.5h1m6 0h1m41 0h1m12 0h1m2 0h1m28 0h1m104 0h1m38 0h1M1 213.5h1m9 0h1m1 0h1m6 0h1m8 0h1m48 0h1m25 0h1m35 0h1m43 0h1m9 0h1m16 0h1M10 214.5h1m15 0h1m59 0h1m6 0h1m46 0h1m42 0h1M10 215.5h1m2 0h1m51 0h1m19 0h1m9 0h1m43 0h1m42 0h1m6 0h1M7 216.5h1m4 0h2m6 0h1m53 0h1m10 0h1m26 0h1m13 0h1m11 0h1m2 0h1m39 0h1M1 217.5h1m5 0h1m4 0h1m12 0h1m4 0h1m53 0h1m55 0h1M6 218.5h1m9 0h1m51 0h1m8 0h1m58 0h1m56 0h1M9 219.5h1m5 0h1m10 0h1m40 0h1m10 0h1m13 0h1m18 0h1m7 0h1m59 0h1m2 0h1M9 220.5h1m12 0h1m1 0h1m51 0h1m1 0h1m14 0h1m16 0h1m26 0h2m7 0h1m18 0h1M1 221.5h1m9 0h1m6 0h1m5 0h1m39 0h1m11 0h2m13 0h1m33 0h1m9 0h1m63 0h1M13 222.5h1m2 0h1m29 0h1m29 0h1m32 0h1m10 0h1m3 0h1m9 0h1m47 0h1m15 0h1m3 0h1M12 223.5h1m5 0h1m3 0h1m10 0h1m39 0h1m2 0h1m41 0h1m13 0h1m1 0h1m7 0h1m77 0h1M17 224.5h1m14 0h1m50 0h1m14 0h1m18 0h1m15 0h1m47 0h1m12 0h1M15 225.5h2m4 0h1m60 0h1m33 0h1m14 0h1m29 0h1m31 0h1M5 226.5h1m8 0h1m5 0h1m39 0h1m20 0h1m4 0h1m8 0h1m34 0h1m35 0h1m5 0h1m22 0h1m59 0h1M16 227.5h1m1 0h1m53 0h1m6 0h1m14 0h1m76 0h1m16 0h1m30 0h1M16 228.5h1m77 0h1m28 0h1m28 0h1m18 0h1m16 0h1m2 0h1m1 0h1M15 229.5h1m40 0h1m11 0h1m39 0h1m52 0h1m8 0h1m24 0h1M6 230.5h1m7 0h1m40 0h1m36 0h1m29 0h1m47 0h1m42 0h1m34 0h1M6 231.5h1m7 0h2m13 0h1m14 0h1m20 0h1m4 0h1m11 0h1m18 0h1m2 0h1m16 0h1m17 0h1m29 0h1m18 0h1m6 0h1M5 232.5h1m8 0h1m29 0h1m25 0h1m14 0h1m31 0h1m40 0h1m8 0h1m2 0h1m15 0h2m6 0h2m32 0h1M4 233.5h1m8 0h1m54 0h1m97 0h1m2 0h1m15 0h1m6 0h1m1 0h1m17 0h1m28 0h1M5 234.5h1m7 0h1m53 0h1m103 0h1m21 0h1M12 235.5h1m65 0h1m74 0h1m30 0h1m6 0h1M104 236.5h1m84 0h1m1 0h1M99 237.5h1m2 0h1m18 0h1m48 0h1M41 238.5h1m56 0h1m17 0h1m3 0h1m22 0h1m7 0h1m72 0h1M40 239.5h1m56 0h1m5 0h1m11 0h1m39 0h1m19 0h1m46 0h1m24 0h1M40 240.5h1m55 0h1m6 0h1m10 0h1m22 0h1m83 0h1M38 241.5h1m56 0h1m17 0h1m73 0h1m33 0h1M7 242.5h1m28 0h1m15 0h1m95 0h1M7 243.5h1m28 0h1m54 0h1m3 0h1m29 0h1m21 0h1m37 0h1m67 0h1M0 244.5h1m4 0h1m28 0h1m55 0h1m20 0h1m8 0h1m64 0h1m34 0h1m33 0h1M29 245.5h1m3 0h1m36 0h1m19 0h1m2 0h1M25 246.5h1m5 0h1m38 0h2m14 0h1m5 0h1m1 0h1m127 0h1m30 0h1M24 247.5h1m14 0h1m29 0h2m72 0h1M23 248.5h1m6 0h1m38 0h1m149 0h1M14 249.5h1m25 0h1m87 0h2m44 0h1m76 0h1M23 250.5h1m44 0h1m4 0h1m50 0h1m3 0h1M77 251.5h1m2 0h1m42 0h1m84 0h1m22 0h1M7 252.5h1m17 0h1m13 0h1m29 0h1m6 0h1m10 0h1m41 0h1M6 253.5h1m13 0h1m55 0h1m51 0h1m119 0h1M11 254.5h1m7 0h1m15 0h1m2 0h1m26 0h2m51 0h1m5 0h1M10 255.5h1m26 0h1m27 0h1m53 0h1m26 0h1m6 0h1"/>
<path stroke="#39558c" d="M63 0.5h1m30 0h1m43 0h1m77 0h1M32 1.5h1M193 2.5h1M158 3.5h1m33 0h1M102 4.5h1m88 0h1m11 0h1m21 0h1M134 5.5h1M191 6.5h1M73 7.5h1m117 0h1M190 8.5h1M3 15.5h1m127 0h1M48 16.5h1m181 0h1M180 17.5h1M131 19.5h1M130 20.5h1M186 22.5h1M10 25.5h1m144 0h1M9 26.5h1M34 27.5h1M7 29.5h1m198 0h1M33 30.5h1M21 31.5h1M21 32.5h1m208 0h1M20 33.5h1m108 0h1M20 35.5h1m83 0h1M16 37.5h1m212 0h1M225 38.5h1M7 40.5h1m7 0h1m181 0h1M6 41.5h1m8 0h1m213 0h1M193 42.5h1m34 0h1M174 43.5h1M223 44.5h1M222 46.5h1M227 47.5h1M149 50.5h1M6 52.5h1m161 0h1M216 55.5h1M69 56.5h1M65 58.5h1m63 0h1M242 59.5h1M223 60.5h1M144 62.5h1M144 63.5h1M41 65.5h1m85 0h1m56 0h1M211 66.5h1M54 67.5h1M151 68.5h1m57 0h1M24 69.5h1M70 70.5h1m93 0h1M34 73.5h1M43 74.5h1M43 76.5h1M42 77.5h1M251 78.5h1M255 79.5h1M175 82.5h1M181 83.5h1m41 0h1M222 84.5h1M196 86.5h1m42 0h1M238 88.5h1M237 89.5h1M122 90.5h1m113 0h1M85 91.5h1m12 0h1m103 0h1M2 93.5h1M125 94.5h1M116 95.5h1M159 96.5h1m5 0h1M117 98.5h1m2 0h1M68 99.5h1M37 100.5h1M189 101.5h1M221 102.5h1M79 104.5h1m147 0h1M104 105.5h1M104 106.5h2M104 107.5h1M167 108.5h1M107 112.5h1m82 0h1M212 114.5h1M209 117.5h1M137 118.5h1m89 0h1M35 119.5h1m125 0h1M35 120.5h1m123 0h1m36 0h1M34 121.5h1m104 0h1m42 0h1M32 122.5h1m17 0h1m23 0h1m117 0h1M215 123.5h1M74 125.5h1m165 0h1M73 126.5h1m52 0h1m26 0h1M72 127.5h1M152 128.5h1M105 130.5h1M90 131.5h1m53 0h1m41 0h1m59 0h1M69 132.5h1m113 0h1M67 133.5h1m2 0h1m15 0h1M149 134.5h1m55 0h1m13 0h1M218 135.5h1M73 137.5h1m63 0h1m68 0h1M176 139.5h1m28 0h1M245 140.5h1M243 142.5h1M236 144.5h1M172 145.5h1M253 147.5h1M189 148.5h1m62 0h1M182 149.5h1M80 152.5h1M150 154.5h1M120 155.5h1M79 157.5h1m153 0h1M15 158.5h1m62 0h1M161 159.5h1M74 160.5h1m3 0h1m82 0h1M69 161.5h1M69 163.5h1m65 0h1M67 164.5h1M146 166.5h1M145 168.5h1m54 0h1m40 0h1M56 170.5h1m8 0h1m137 0h1M87 176.5h1m58 0h1m81 0h1M86 177.5h1M137 178.5h1m41 0h1m9 0h1m11 0h1M43 179.5h1m119 0h1M227 181.5h1M42 182.5h1M48 183.5h1m10 0h1M58 184.5h2m167 0h1M57 185.5h2m104 0h1M57 186.5h1M41 187.5h2M41 188.5h1m52 0h1M37 190.5h1m3 0h1m5 0h1M40 192.5h1M29 194.5h1m11 0h1m111 0h1M38 196.5h1M35 197.5h1m5 0h1M84 198.5h1M137 199.5h1M118 201.5h1M26 202.5h1m90 0h1M11 204.5h1m76 0h1m53 0h1M120 206.5h1M13 208.5h1m175 0h1M80 209.5h1M8 211.5h1m7 0h1M20 213.5h1m163 0h1m26 0h1M139 215.5h1m42 0h1M13 216.5h1m71 0h1M84 217.5h1M193 218.5h1M9 220.5h1M76 221.5h1m14 0h1M120 222.5h1M33 223.5h1m98 0h1M32 224.5h1m84 0h1m15 0h1M116 225.5h1M172 226.5h1M219 227.5h1M16 228.5h1m77 0h1m28 0h1M15 229.5h1m40 0h1m113 0h1M6 231.5h1m22 0h1m158 0h1M5 232.5h1m8 0h1M4 233.5h1m161 0h1M67 234.5h1M151 238.5h1M222 239.5h1M95 241.5h1m17 0h1M95 243.5h1m51 0h1M69 247.5h1M40 249.5h1M68 250.5h1M76 252.5h1M6 253.5h1M37 255.5h1"/>
<path stroke="#423f85" d="M63 0.5h1M192 3.5h1M21 32.5h1M197 40.5h1M174 43.5h1M222 46.5h1M41 65.5h1M151 68.5h1M43 76.5h1M238 88.5h1M236 90.5h1M227 118.5h1M35 119.5h1M159 120.5h1M74 125.5h1M137 137.5h1m68 0h1M245 140.5h1M67 164.5h1M146 166.5h1M56 170.5h1M189 178.5h1M41 187.5h1M35 197.5h1M211 213.5h1M5 232.5h1"/>
</g></g>
<polyline id="profile" points="301.2,706.2 307.2,729.2 313.3,577.5 319.4,633.5 325.4,717.5 331.5,583.9 337.5,604.3 343.6,692.8 349.6,656.5 355.7,507.8 361.8,737.3 367.8,610.0 373.9,623.6 379.9,588.0 386.0,746.0 392.0,674.2 398.1,692.1 404.2,624.9 410.2,695.2 416.3,864.6 422.3,780.4 428.4,651.2 434.4,526.7 440.5,700.5 446.6,602.1 452.6,735.4 458.7,639.7 464.7,677.5 470.8,599.5 476.8,722.5 482.9,755.0 489.0,696.7 495.0,618.2 501.1,629.2 507.1,688.0 513.2,651.7 519.2,631.6 525.3,551.6 531.4,455.9 537.4,592.8 543.5,669.4 549.5,628.0 555.6,609.8 561.6,511.2 567.7,710.8 573.8,590.9 579.8,674.9 585.9,677.7 591.9,555.0 598.0,657.4 604.0,507.8 610.1,657.4 616.2,626.8 622.2,610.0 628.3,764.6 634.3,779.0 640.4,695.2 646.4,570.0 652.5,513.8 658.6,691.6 664.6,553.3 670.7,638.7 676.7,722.3 682.8,640.7 688.9,619.8 694.9,642.6 701.0,618.9 707.0,606.2 713.1,601.6 719.1,774.4 725.2,672.5 731.3,823.5 737.3,809.1 743.4,658.6 749.4,792.1 755.5,622.9 761.5,723.0 767.6,656.0 773.7,807.7 779.7,781.8 785.8,569.3 791.8,713.4 797.9,538.2 803.9,522.0 810.0,651.8 816.1,738.8 822.1,648.3 828.2,778.5 834.2,799.6 840.3,776.1 846.3,694.3 852.4,656.5 858.5,827.8 864.5,622.9 870.6,701.4 876.6,769.7 882.7,737.8 888.7,765.1 894.8,648.8 900.9,588.0 906.9,549.7 913.0,512.4 919.0,506.6 925.1,334.3 931.1,450.6 937.2,631.1 943.3,714.6 949.3,737.3 955.4,594.9 961.4,818.7 967.5,706.0 973.5,695.2 979.6,622.5 985.7,458.5 991.7,731.1 997.8,629.4 1003.8,702.6 1009.9,640.7 1015.9,535.5 1022.0,702.3 1028.1,626.4 1034.1,723.9 1040.2,675.6 1046.2,554.8 1052.3,671.0 1058.3,669.9 1064.4,653.0 1070.5,616.4 1076.5,620.1 1082.6,631.4 1088.6,740.7 1094.7,667.7 1100.7,622.5 1106.8,589.6 1112.9,667.4 1118.9,549.9 1125.0,793.3 1131.0,611.2 1137.1,618.9 1143.1,666.9 1149.2,571.0 1155.3,675.4 1161.3,597.1 1167.4,670.8 1173.4,578.9 1179.5,646.3 1185.5,640.5 1191.6,519.6 1197.7,767.0 1203.7,614.1 1209.8,765.6 1215.8,704.9 1221.9,739.7 1227.9,958.2 1234.0,520.3 1240.1,592.0 1246.1,578.2 1252.2,733.0 1258.2,753.6 1264.3,715.8 1270.3,661.1 1276.4,646.4 1282.5,671.3 1288.5,697.6 1294.6,605.5 1300.6,712.7 1306.7,491.8 1312.7,495.6 1318.8,694.7 1324.9,676.3 1330.9,732.1 1337.0,518.7 1343.0,620.1 1349.1,707.2 1355.1,606.7 1361.2,695.7 1367.3,620.1 1373.3,593.0 1379.4,704.3 1385.4,696.4 1391.5,692.3 1397.5,704.3 1403.6,691.4 1409.7,514.8 1415.7,712.4 1421.8,642.7 1427.8,614.1 1433.9,722.5 1439.9,771.8 1446.0,558.3 1452.1,565.5 1458.1,857.9 1464.2,725.4 1470.2,673.1 1476.3,676.9 1482.3,713.9 1488.4,704.1 1494.5,561.7 1500.5,605.2 1506.6,815.2 1512.6,651.8 1518.7,588.0 1524.7,612.9 1530.8,454.5 1536.9,632.0 1542.9,803.1 1549.0,634.4 1555.0,722.5 1561.1,754.1 1567.1,727.8 1573.2,711.3 1579.3,727.5 1585.3,656.4 1591.4,537.8 1597.4,639.2 1603.5,663.2 1609.5,711.2 1615.6,697.4 1621.7,616.9 1627.7,682.3 1633.8,735.4 1639.8,752.7 1645.9,676.6 1651.9,633.6 1658.0,633.6 1664.1,625.3 1670.1,658.6 1676.2,613.2 1682.2,602.4 1688.3,514.3 1694.3,495.6 1700.4,569.8 1706.5,634.9 1712.5,654.5 1718.6,656.9 1724.6,687.3 1730.7,706.4 1736.8,708.6 1742.8,710.4 1748.9,646.4 1754.9,706.0 1761.0,664.1 1767.0,620.1 1773.1,485.6 1779.2,541.6 1785.2,602.8 1791.3,630.1 1797.3,656.5 1803.4,596.4 1809.4,656.0 1815.5,571.9 1821.6,702.3 1827.6,635.9 1833.7,786.2 1839.7,820.1 1845.8,580.8" fill="none" stroke="#000" stroke-width="6.25" stroke-linejoin="round" stroke-linecap="square"/>
<g id="frames" fill="#000">
<rect x="222.833" y="299.833" width="3.333" height="692.333"/><rect x="1921.833" y="299.833" width="3.333" height="692.333"/><rect x="222.833" y="299.833" width="1702.333" height="3.333"/><rect x="222.833" y="988.833" width="1702.333" height="3.333"/>
<rect x="222.833" y="1121.833" width="3.333" height="692.333"/><rect x="1921.833" y="1121.833" width="3.333" height="692.333"/><rect x="222.833" y="1121.833" width="1702.333" height="3.333"/><rect x="222.833" y="1810.833" width="1702.333" height="3.333"/>
<rect x="222.833" y="1943.833" width="3.333" height="692.333"/><rect x="1921.833" y="1943.833" width="3.333" height="692.333"/><rect x="222.833" y="1943.833" width="1702.333" height="3.333"/><rect x="222.833" y="2632.833" width="1702.333" height="3.333"/>
<rect x="364.833" y="990.500" width="3.333" height="15.000"/><rect x="600.833" y="990.500" width="3.333" height="15.000"/><rect x="836.833" y="990.500" width="3.333" height="15.000"/><rect x="1071.833" y="990.500" width="3.333" height="15.000"/><rect x="1307.833" y="990.500" width="3.333" height="15.000"/><rect x="1543.833" y="990.500" width="3.333" height="15.000"/><rect x="1779.833" y="990.500" width="3.333" height="15.000"/>
<rect x="242.833" y="1812.500" width="3.333" height="15.000"/><rect x="449.833" y="1812.500" width="3.333" height="15.000"/><rect x="657.833" y="1812.500" width="3.333" height="15.000"/><rect x="864.833" y="1812.500" width="3.333" height="15.000"/><rect x="1071.833" y="1812.500" width="3.333" height="15.000"/><rect x="1279.833" y="1812.500" width="3.333" height="15.000"/><rect x="1486.833" y="1812.500" width="3.333" height="15.000"/><rect x="1694.833" y="1812.500" width="3.333" height="15.000"/><rect x="1901.833" y="1812.500" width="3.333" height="15.000"/>
<rect x="242.833" y="2634.500" width="3.333" height="15.000"/><rect x="449.833" y="2634.500" width="3.333" height="15.000"/><rect x="657.833" y="2634.500" width="3.333" height="15.000"/><rect x="864.833" y="2634.500" width="3.333" height="15.000"/><rect x="1071.833" y="2634.500" width="3.333" height="15.000"/><rect x="1279.833" y="2634.500" width="3.333" height="15.000"/><rect x="1486.833" y="2634.500" width="3.333" height="15.000"/><rect x="1694.833" y="2634.500" width="3.333" height="15.000"/><rect x="1901.833" y="2634.500" width="3.333" height="15.000"/>
<rect x="209.500" y="940.833" width="15.000" height="3.333"/><rect x="209.500" y="845.833" width="15.000" height="3.333"/><rect x="209.500" y="749.833" width="15.000" height="3.333"/><rect x="209.500" y="653.833" width="15.000" height="3.333"/><rect x="209.500" y="558.833" width="15.000" height="3.333"/><rect x="209.500" y="462.833" width="15.000" height="3.333"/><rect x="209.500" y="366.833" width="15.000" height="3.333"/>
<rect x="209.500" y="1224.833" width="15.000" height="3.333"/><rect x="209.500" y="1359.833" width="15.000" height="3.333"/><rect x="209.500" y="1493.833" width="15.000" height="3.333"/><rect x="209.500" y="1628.833" width="15.000" height="3.333"/><rect x="209.500" y="1762.833" width="15.000" height="3.333"/>
<rect x="209.500" y="1943.833" width="15.000" height="3.333"/><rect x="209.500" y="2098.833" width="15.000" height="3.333"/><rect x="209.500" y="2253.833" width="15.000" height="3.333"/><rect x="209.500" y="2408.833" width="15.000" height="3.333"/><rect x="209.500" y="2563.833" width="15.000" height="3.333"/>
</g>
<g id="labels">
<text class="t10" x="322.55" y="1053.17">−75</text>
<text class="t10" x="558.17" y="1053.17">−50</text>
<text class="t10" x="793.92" y="1053.17">−25</text>
<text class="t10" x="1060.23" y="1053.17">0</text>
<text class="t10" x="1282.73" y="1053.17">25</text>
<text class="t10" x="1518.36" y="1053.17">50</text>
<text class="t10" x="1754.10" y="1053.17">75</text>
<text class="t10" x="106.92" y="958.14">−60</text>
<text class="t10" x="106.92" y="862.42">−40</text>
<text class="t10" x="107.04" y="766.69">−20</text>
<text class="t10" x="168.29" y="670.97">0</text>
<text class="t10" x="141.92" y="575.25">20</text>
<text class="t10" x="141.79" y="479.53">40</text>
<text class="t10" x="141.79" y="383.81">60</text>
<text class="t10" transform="translate(78.75,816.02) rotate(-90)">Flux (Arb. Units)</text>
<text class="t10" x="199.87" y="1875.17">−80</text>
<text class="t10" x="407.34" y="1875.17">−60</text>
<text class="t10" x="614.74" y="1875.17">−40</text>
<text class="t10" x="822.21" y="1875.17">−20</text>
<text class="t10" x="1060.23" y="1875.17">0</text>
<text class="t10" x="1254.45" y="1875.17">20</text>
<text class="t10" x="1461.79" y="1875.17">40</text>
<text class="t10" x="1669.20" y="1875.17">60</text>
<text class="t10" x="1876.54" y="1875.17">80</text>
<text class="t10" x="87.67" y="1242.28">1300</text>
<text class="t10" x="87.67" y="1376.89">1350</text>
<text class="t10" x="87.79" y="1511.49">1400</text>
<text class="t10" x="87.79" y="1646.10">1450</text>
<text class="t10" x="87.79" y="1780.71">1500</text>
<text class="t10" transform="translate(60.50,1644.40) rotate(-90)">Frequency (MHz)</text>
<text class="t10" x="199.87" y="2697.17">−80</text>
<text class="t10" x="407.34" y="2697.17">−60</text>
<text class="t10" x="614.74" y="2697.17">−40</text>
<text class="t10" x="822.21" y="2697.17">−20</text>
<text class="t10" x="1060.23" y="2697.17">0</text>
<text class="t10" x="1254.45" y="2697.17">20</text>
<text class="t10" x="1461.79" y="2697.17">40</text>
<text class="t10" x="1669.20" y="2697.17">60</text>
<text class="t10" x="1876.54" y="2697.17">80</text>
<text class="t10" x="968.61" y="2754.83">Time (ms)</text>
<text class="t10" x="168.79" y="1962.30">0</text>
<text class="t10" x="115.79" y="2117.25">100</text>
<text class="t10" x="115.92" y="2272.20">200</text>
<text class="t10" x="115.67" y="2427.14">300</text>
<text class="t10" x="115.79" y="2582.09">400</text>
<text class="t14" x="2052.96" y="75.00">basename : p365_f02_total</text>
<text class="t14" x="2052.96" y="143.00">bw : -256.0</text>
<text class="t14" x="2052.96" y="209.00">cand_id :</text>
<text class="t14" x="2052.96" y="277.00">cand_tstart_52888.612673611111_tcand_20002.9000000_dm_222.39700_snr_7.43328</text>
<text class="t14" x="2052.96" y="345.00">center_freq : 1390.0</text>
<text class="t14" x="2052.96" y="413.00">dec_deg : -69.17222083333334</text>
<text class="t14" x="2052.96" y="481.00">dm : 222.397</text>
<text class="t14" x="2052.96" y="547.00">dm_opt : -1</text>
<text class="t14" x="2052.96" y="615.00">dtype : uint8</text>
<text class="t14" x="2052.96" y="681.00">fch1 : 1517.75</text>
<text class="t14" x="2052.96" y="747.00">filename : p365_f02_total.fil</text>
<text class="t14" x="2052.96" y="815.00">filepath : /home/pulsar/sp/p365_f02_total</text>
<text class="t14" x="2052.96" y="883.00">foff : -0.5</text>
<text class="t14" x="2052.96" y="949.00">format : fil</text>
<text class="t14" x="2052.96" y="1015.00">frequency_decimation_factor : 1</text>
<text class="t14" x="2052.96" y="1083.00">gb : -31.74437303524169</text>
<text class="t14" x="2052.96" y="1149.00">gl : 99.5594806340838</text>
<text class="t14" x="2052.96" y="1215.00">label : 1</text>
<text class="t14" x="2052.96" y="1281.00">native_foff : -0.5</text>
<text class="t14" x="2052.96" y="1349.00">native_nbits : 8</text>
<text class="t14" x="2052.96" y="1417.00">native_nchans : 512</text>
<text class="t14" x="2052.96" y="1485.00">native_nspectra : 520521984.0</text>
<text class="t14" x="2052.96" y="1553.00">native_tsamp : 8e-05</text>
<text class="t14" x="2052.96" y="1621.00">nbits : 8</text>
<text class="t14" x="2052.96" y="1687.00">nchans : 512</text>
<text class="t14" x="2052.96" y="1753.00">npol : 1</text>
<text class="t14" x="2052.96" y="1819.00">nspectra : 520521984</text>
<text class="t14" x="2052.96" y="1885.00">poln_order : I</text>
<text class="t14" x="2052.96" y="1953.00">ra_deg : 84.44836250000002</text>
<text class="t14" x="2052.96" y="2021.00">snr : 7.43328</text>
<text class="t14" x="2052.96" y="2087.00">snr_opt : -1</text>
<text class="t14" x="2052.96" y="2155.00">source_name : J0537-6910</text>
<text class="t14" x="2052.96" y="2223.00">tcand : 20002.9</text>
<text class="t14" x="2052.96" y="2289.00">time_decimation_factor : 1</text>
<text class="t14" x="2052.96" y="2357.00">tsamp : 8e-05</text>
<text class="t14" x="2052.96" y="2423.00">tstart : 52888.61267361111</text>
<text class="t14" x="2052.96" y="2489.00">tstart_utc : 2003-09-06T14:42:15.000</text>
<text class="t14" x="2052.96" y="2557.00">width : 16</text>
<text class="t10" transform="translate(84.00,2431.20) rotate(-90)">DM (pc cm<tspan class="t7" dy="-15.1">−3</tspan><tspan dy="15.1">)</tspan></text>
</g>
</svg>
</body></html>
